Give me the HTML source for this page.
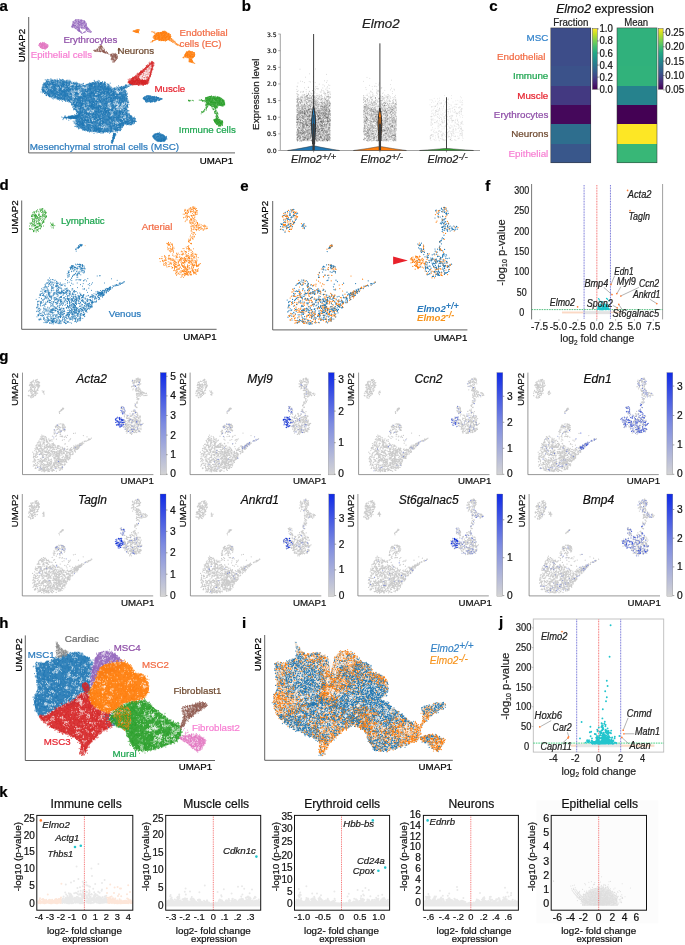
<!DOCTYPE html>
<html lang="en"><head><meta charset="utf-8"><title>Figure</title>
<style>
html,body{margin:0;padding:0;background:#fff;}
body{width:685px;height:945px;overflow:hidden;}
svg{display:block;font-family:"Liberation Sans", sans-serif;}
</style></head><body>
<svg width="685" height="945" viewBox="0 0 685 945">
<rect width="685" height="945" fill="#fff"/>
<g id="panel-a">
<text x="-0.40" y="11.10" font-size="15" font-weight="bold" stroke="#000" stroke-width="0.22">a</text>
<path d="M28.70,17.00V152.90H235.00" fill="none" stroke="#3a3a3a" stroke-width="0.8"/>
<text x="25.30" y="45.60" font-size="9.7" text-anchor="middle" stroke="#000" stroke-width="0.22" transform="rotate(-90 25.30 45.60)">UMAP2</text>
<text x="233.20" y="163.80" font-size="9.7" text-anchor="end" stroke="#000" stroke-width="0.22">UMAP1</text>
<path d="M41.5,87.5C41.9,85.9 43.8,83.8 45.0,82.5C46.2,81.2 46.3,80.2 49.0,79.8C51.7,79.4 57.2,79.8 61.3,80.2C65.4,80.6 69.8,81.1 73.6,81.9C77.4,82.7 81.2,84.8 84.1,84.9C87.0,85.0 88.5,82.9 91.1,82.4C93.7,81.9 97.0,81.4 99.9,81.7C102.8,82.0 106.3,83.5 108.6,84.5C110.9,85.5 111.6,87.7 113.5,88.0C115.4,88.3 118.1,86.4 120.0,86.6C121.9,86.8 123.8,87.4 125.0,89.0C126.2,90.6 126.4,93.9 127.0,96.0C127.6,98.1 128.7,99.5 128.8,101.5C128.9,103.5 127.5,106.1 127.5,108.0C127.5,109.9 127.1,111.0 128.5,113.0C129.9,115.0 135.4,117.9 135.8,119.9C136.2,121.9 132.8,124.2 131.0,125.0C129.2,125.8 126.5,123.9 125.0,124.5C123.5,125.1 122.8,127.5 122.0,128.5C121.2,129.5 122.2,129.8 120.0,130.4C117.8,131.1 112.2,132.1 108.6,132.4C104.9,132.7 101.6,132.6 98.1,132.4C94.6,132.2 91.1,132.2 87.6,131.3C84.1,130.4 79.3,128.5 77.1,126.9C74.9,125.3 74.8,123.1 74.5,121.7C74.2,120.3 77.5,119.5 75.5,118.8C73.5,118.1 62.1,118.4 62.2,117.8C62.3,117.2 73.5,115.9 76.0,115.2C78.5,114.5 77.5,115.0 77.1,113.8C76.7,112.5 74.8,109.6 73.6,107.7C72.4,105.8 72.1,103.7 70.1,102.4C68.0,101.1 64.5,100.7 61.3,99.8C58.1,98.9 53.9,98.5 50.8,97.2C47.7,95.9 44.4,93.5 42.9,91.9C41.4,90.3 41.1,89.1 41.5,87.5Z" fill="#1f77b4" opacity="0.86"/>
<path transform="scale(0.2)" d="M211 447zm4 5zm-3 2zm3 2zm2 2zm-4 6zm11 1zm1 1zm-1 2zm6-2zm1 2zm1 3zm3 4zm6 1zm1 0zm-1 1zm3-1zm1 0zm3-3zm-2-4zm-6-1zm0-1zm-3-9zm-7 4zm-4 0zm1-7zm3-5zm0-5zm0-5zm4 0zm2-4zm-1-3zm1-2zm-3-1zm-2 1zm-3-2zm-2 1zm1 1zm-1-3zm4-3zm6 0zm2 3zm5 0zm0 1zm1 0zm0 2zm-3 1zm2 3zm6-2zm3 1zm6-2zm2 0zm-4 7zm1 2zm-6 1zm-1-1zm-7 1zm-3 6zm-2 1zm5 3zm4 8zm6 0zm4-1zm2 0zm1 3zm3 2zm-3 3zm-4 3zm-3 4zm-1 2zm-4 6zm1 1zm8 4zm3 2zm4-7zm-1-3zm-2 0zm-1-4zm8-6zm3 1zm-1 2zm5-3zm0-2zm-1-2zm2-2zm2 2zm5 5zm6-2zm1 2zm0 3zm2 2zm2-3zm5 4zm-3 3zm-3 2zm-2-1zm-2 3zm-1 1zm3 4zm3 0zm0 1zm0 4zm0 3zm3 1zm0-5zm6-1zm3-5zm1-1zm2 7zm-1 4zm0 1zm-1 0zm-1 1zm-4 0zm-11-4zm-2-3zm-8 3zm0-9zm-2-3zm-2-1zm2-2zm0-1zm-2 6zm-8-4zm-1-19zm0-2zm4 0zm1-3zm3-1zm-2-3zm1-3zm-4 2zm-1-1zm-5-2zm-1-2zm0-1zm7-3zm0-5zm1-1zm-1-3zm-1-1zm-2-6zm-1-4zm-4-1zm0-1zm1-3zm-1-2zm-1-3zm1-2zm1 0zm2 0zm1 3zm3-6zm-4-2zm-1 1zm0-3zm-4 3zm-2 2zm-2 0zm0-1zm0 3zm-2 3zm-3 0zm0 3zm0 7zm-6 2zm-3-1zm-1-4zm-3-2zm-3 1zm-4-7zm-3 0zm-4 4zm0 5zm-6 2zm0 8zm-3 3zm-3-3zm7 12zm-1 2zm1 4zm5-3zm-1-6zm7-4zm15-16zm-6-9zm2-5zm0-2zm7-1zm0-3zm2 6zm-16-5zm35 1zm2-3zm2 2zm3 0zm6 7zm-1 2zm3-3zm4 0zm-1 5zm-3 3zm-6 9zm-2 3zm-3-3zm-2-3zm1-1zm8 11zm2 7zm-2 3zm3 1zm1 1zm5-3zm4-1zm1-1zm3 0zm3-2zm0-4zm5 0zm1 1zm1-3zm-2-3zm-3-1zm-1 1zm-1-3zm0-2zm-4-3zm-1-2zm4 0zm0-2zm7 1zm3 1zm1 4zm2 0zm0 2zm5 3zm0 2zm-2 0zm3-4zm2-3zm3 1zm-1 2zm4-4zm-1-3zm-4-3zm2-2zm1 0zm3-2zm3 4zm2 0zm1-1zm4 3zm5-1zm3 1zm2 3zm3 5zm-7 0zm0 2zm-4 0zm-3 3zm-2-2zm0-2zm-2-1zm-3-1zm0 3zm-2 2zm2 7zm-3 3zm4 2zm2-1zm3 4zm2-2zm2 0zm1 2zm2 0zm0-1zm-4 2zm-1 2zm0 6zm3 4zm0 1zm-3 0zm0 2zm-5-3zm-4 2zm-3 5zm-5 0zm0-2zm2-2zm0-3zm-4 3zm-1-1zm-1-1zm-5 1zm-2-1zm-2 0zm-4-6zm1-2zm-3 0zm-3 0zm-3-1zm-3-3zm-1 6zm6 2zm0 4zm-1 1zm-3 0zm0 3zm-3-3zm-2 4zm-4-2zm-1-1zm-2-1zm-2 0zm5-4zm-5-4zm-3-9zm13-7zm5 0zm-1-5zm-2-3zm-1 0zm15-3zm1-11zm4-2zm4-3zm-2-2zm-1 0zm-5 1zm-1-1zm0-2zm-3-1zm0-4zm6 2zm-7 6zm2 2zm14 4zm0 6zm1 0zm6-14zm17 5zm2-1zm3 1zm5-1zm2 5zm1 4zm1 1zm4 7zm-4 4zm-4 2zm-6-1zm0 6zm1 1zm-8 1zm-1-5zm-7 13zm0 1zm-1 3zm-1 2zm-4-3zm-1 1zm1-4zm-6 2zm-4 2zm-4 0zm-5-8zm-2 0zm-2 1zm0-2zm13-8zm-2 30zm-5 2zm2 4zm-2 2zm-1 2zm1 4zm4 2zm2 4zm7 2zm3 1zm2 2zm0 4zm-3 3zm-1 0zm0 2zm-1 1zm0 2zm1 2zm-5-1zm2-4zm-2-1zm2-2zm-5 3zm16-3zm6-5zm2 4zm5 5zm0 4zm1 0zm0 5zm4 1zm2 1zm1-2zm1 1zm1 2zm0-6zm-2-5zm2-5zm5 0zm1 4zm3 4zm-2 1zm0 2zm1 3zm4-1zm5 0zm4 0zm0 4zm0 1zm-7 0zm-1 2zm-1 2zm1 1zm2 1zm2 4zm4 2zm0 1zm1 2zm2 0zm2 2zm-2 4zm0 4zm1 2zm-1 3zm-3 2zm-3 2zm-1-5zm8 6zm2-3zm4-2zm5-3zm2 3zm3-1zm6 2zm0 1zm3-2zm-1-4zm2-4zm-2-4zm3-2zm3-1zm1 0zm-1-1zm0-1zm3 0zm2-4zm-1-3zm-3 0zm-3 2zm0 1zm-1-2zm-2-5zm4-1zm1-3zm4-1zm-1-2zm1-3zm-1-5zm-2-4zm2-3zm2-3zm3 3zm6 1zm5 1zm0 2zm-1 1zm2 1zm2-4zm2-1zm1 1zm0-9zm-5-3zm-4-1zm0 2zm1 3zm-4-5zm-1 0zm-3 0zm0-1zm0-6zm1-5zm3-2zm1-3zm3 2zm1 3zm-2 6zm6 1zm4-2zm-1-2zm5 3zm3 3zm6 2zm3-1zm1 0zm3 1zm1 1zm-1 5zm-1 4zm-2 3zm2 1zm5 1zm0-6zm4-3zm3 1zm0 2zm2 0zm-1 5zm-1 2zm-4 5zm4 4zm-1 2zm0 3zm3 1zm-1 2zm0 2zm-2 1zm-2 5zm-2 1zm-2-3zm-2 2zm-3 0zm0-5zm-3-2zm0-2zm-1 0zm0-4zm0-1zm-2 0zm-2-1zm1-2zm-3 0zm3-3zm-1 8zm-4 1zm-4 2zm-1 5zm-1 4zm5 1zm2 6zm3-1zm3 2zm4 0zm4 0zm0-1zm1 1zm0 2zm1 1zm2 0zm1 3zm-4 1zm-5-1zm-4-1zm-4 3zm-1-1zm0 3zm1 3zm6 2zm3-1zm6 6zm3-2zm0-1zm4 2zm2-2zm3-1zm2-3zm0-1zm3 0zm1-3zm-4-1zm-3-1zm-2 1zm-1-3zm-2-1zm3-1zm-4-3zm-2-2zm3-4zm2-1zm4-3zm1 0zm-1-6zm-4-5zm-9 0zm15-9zm1-5zm2-3zm2 4zm2 3zm7 0zm5 4zm-3 4zm-1 1zm-5 0zm-1-2zm-4 0zm1 3zm3 8zm1 1zm-3 0zm3 6zm4-4zm1 1zm3 6zm4 0zm2-4zm0-1zm-2-2zm5 2zm2-2zm0-4zm-1 0zm2-4zm4 1zm-4-6zm0-2zm-3 1zm-2-5zm2-2zm0-3zm3 2zm0 1zm0 1zm3-1zm-1-8zm0-7zm3-7zm0-5zm1-4zm-1-2zm-4-3zm-1-3zm6 0zm3 1zm2 6zm3 2zm2 4zm5-2zm-3-4zm0-3zm-2-2zm4-1zm0-3zm6 1zm1 2zm-2 3zm3 4zm5-4zm2 0zm2 1zm0 1zm1-5zm2-4zm0-3zm4 2zm1 3zm-2 5zm-1 0zm2 2zm2 4zm1 0zm2-3zm1 1zm2 1zm1 1zm0 4zm3 2zm-2 2zm-2 0zm-6 2zm-2-2zm-4-2zm1-5zm12-7zm1-5zm2-2zm-2-4zm-2-1zm-4-7zm-6 2zm-1 1zm-2 0zm-2 0zm0 1zm0-5zm-2 0zm-4-1zm-3 3zm0 2zm-2-1zm0-1zm-5 0zm-5 1zm-2-1zm-5-1zm2-4zm0-3zm-2-6zm-2-2zm-2 0zm-2-3zm-2-3zm-2-1zm-2 2zm1 1zm-1 2zm3 1zm0 5zm-2 1zm2 2zm3 1zm0-4zm-12 0zm0-2zm1-3zm-6 6zm1 5zm-6 1zm4 6zm4 0zm2 1zm3 3zm2-1zm1 1zm4 1zm0-4zm9 2zm1 1zm4 2zm3-12zm2-5zm1-2zm2 3zm3-5zm0-2zm2-1zm-1-4zm3-2zm7 0zm3 2zm1 5zm-2 2zm4 0zm3 2zm-1-7zm7 13zm5 3zm5-1zm2 1zm-2 6zm-2 5zm5 1zm1 1zm-3 5zm-1 3zm-2 0zm-1-2zm4 5zm2 0zm-4 2zm-3 2zm7 3zm1 1zm-1 2zm1 2zm6-2zm2 0zm4-3zm2 0zm1 1zm3-1zm-1-3zm-1-4zm0-2zm-4-2zm-3 1zm0-5zm3-1zm-3-3zm5-2zm3 4zm0 2zm1 1zm6 4zm-2 6zm3 2zm3 0zm1-4zm1-1zm3-2zm0-2zm-3-1zm1-2zm-1-6zm-3 0zm-1 0zm3-3zm0-3zm1 0zm-3-1zm-2 0zm-2 1zm-6-3zm-3 2zm1-6zm-1-1zm4 0zm-13 2zm1 5zm-1 4zm-1 14zm3 6zm-7 1zm-8 8zm-7 6zm1 1zm2 5zm1 1zm0 1zm-4 2zm-2-2zm-4-4zm1-4zm-5 3zm-1-1zm-1-3zm-4 3zm-5 2zm2 5zm-2 1zm0 1zm1 0zm2 1zm-9-5zm-3-5zm-4-1zm-3-2zm0-4zm-2 0zm2-2zm14-1zm0 7zm-8 13zm-3 2zm-3 0zm5 5zm-1 3zm3 5zm1 3zm0 3zm-2 2zm5-2zm4-1zm4 2zm-1 3zm-1 3zm-2 4zm4 0zm3-1zm2-3zm4-4zm4-2zm3 0zm5 1zm5 7zm-3 4zm-5 0zm-3-2zm-3 9zm4 4zm1 0zm-3 4zm-1 2zm2 7zm5 2zm1 1zm2 1zm3 0zm0 3zm6 2zm1 1zm1 2zm-1 1zm1 1zm5-3zm1-1zm5 4zm2 1zm1-1zm-1-6zm3-5zm0-4zm5 1zm3 1zm2 0zm2 1zm1 1zm2-1zm2-1zm4 1zm1-4zm4 0zm4 1zm3-2zm1 0zm3 1zm2 2zm0 1zm-2 2zm-2-1zm7-1zm0-6zm3-4zm1-1zm0-2zm-4 2zm-5-3zm-1 1zm-8-4zm-1-2zm4-3zm-3-3zm-1 1zm-6 4zm-4 3zm-2-1zm-4 4zm-6 2zm-2 4zm-5-8zm0-5zm-3-5zm1-1zm-3 2zm-3 1zm-2 3zm4 1zm0 3zm0 7zm1 1zm0 3zm-11-3zm-5 3zm-2-2zm-1 0zm-3 5zm4 2zm11 4zm-10 11zm-4-1zm-3 7zm-5-1zm-5 0zm0 7zm-1 2zm0 2zm2 0zm2-2zm-3 5zm2 3zm-1 2zm4-2zm4-1zm1 1zm0-4zm-1-1zm2-1zm4 12zm-2 2zm1 3zm-6 2zm-1 0zm1 4zm-2 0zm-4 3zm5 4zm-6 7zm-7 0zm-8 0zm-3 0zm-4 0zm-4 2zm-2 2zm0 2zm1 0zm2 0zm3 2zm1 6zm2 1zm3 1zm3 5zm5 0zm3 3zm1 5zm-2 1zm1 6zm7-2zm0-1zm3 2zm1 2zm2-9zm3 0zm3-5zm-2-3zm-4-1zm3-5zm-2-3zm-2-4zm2-1zm-5 6zm-1 0zm-7-3zm-7 0zm-2-2zm-5-12zm0-2zm4-1zm-7-2zm-6-1zm-3 2zm-4 2zm-4-4zm-3-3zm0-3zm4 1zm3-3zm3 4zm2 0zm-3 2zm-9 6zm-5 0zm-3-1zm-4-3zm-8 3zm-8-6zm-2 3zm-1-6zm-8 1zm0-5zm0-4zm7-1zm3 0zm0 1zm-3-5zm4-5zm0-2zm2-1zm3-1zm4-2zm1 1zm-1 3zm-1 4zm0 1zm-4-2zm4 8zm4-2zm3-1zm1-3zm2-2zm2-4zm-5-2zm4-4zm-3-3zm-2-1zm-2-4zm-3 2zm-2 5zm2 1zm-10-1zm-3-2zm-1 2zm-1 4zm-4 2zm-2 3zm0 2zm-2 1zm-1 1zm-4 1zm-1 0zm-1-2zm2-4zm-3-1zm0-5zm7-2zm6-1zm-2-5zm-1-1zm-1 0zm3-3zm-1-1zm-1-2zm0-3zm-2 0zm0-2zm-2-4zm-4-1zm-2 2zm-1-4zm-7 2zm1 4zm-5 6zm3 3zm-4 3zm0 3zm2 3zm-6 5zm-3-3zm-5 4zm-1 2zm-3 4zm-2 4zm-1 3zm-1 3zm2 3zm2-3zm1 0zm1 0zm-1-3zm0-1zm5 2zm2 3zm-1 4zm-1 1zm-3-2zm5 5zm5-2zm0-4zm0-2zm3 1zm1 2zm0-4zm-6-3zm-1-1zm0-8zm13-2zm3 10zm-1 3zm0 3zm1 1zm-3 1zm-1 2zm-2 8zm-3 0zm-2-1zm-1 5zm2 5zm2 0zm3 2zm-1 1zm4 6zm4-8zm5 5zm3-1zm0-4zm0-5zm0-5zm-3-2zm0-2zm-3 1zm1 4zm-2 1zm-3-1zm4-11zm2-1zm24 2zm6-2zm2-1zm2-1zm5-1zm3 2zm3 0zm0-1zm-2-3zm-1-4zm-3 2zm8-2zm0-2zm1 5zm2 1zm3-6zm4-1zm4-1zm5-5zm-8-6zm-2-2zm-2-4zm-3-5zm4-1zm3-1zm0 2zm3-5zm1-2zm-4 1zm-7-5zm-3 0zm0 1zm-3-1zm0 4zm1 1zm-2 6zm-4-1zm-1-2zm-3-2zm1-2zm-2-1zm-4 0zm-5-2zm-1 1zm-2 4zm-3-3zm-1 0zm0-5zm2-6zm-4-3zm7-6zm3-2zm1-1zm-2-1zm7 2zm1 1zm2 2zm0 3zm1 0zm-3 0zm0 2zm-4 0zm-4-2zm9 8zm0 1zm3-6zm4-7zm2 0zm1-2zm-3-3zm1-2zm-2-4zm-4 4zm0 1zm13 2zm2 2zm1-1zm3 0zm-2-5zm-3-7zm-2-2zm3-2zm3-14zm16 4zm1-1zm0-1zm11 3zm0 1zm-1 6zm8-9zm1-2zm2 1zm2-3zm3 1zm1 2zm-3 2zm3-6zm5 2zm1-2zm-1-3zm6 4zm3 2zm4-1zm4-1zm-3-3zm0-4zm2-1zm3-5zm3-3zm3 3zm-3 3zm-1 5zm0 1zm6 7zm-2 2zm-2 0zm2 8zm3 2zm-1 4zm-3-2zm-2 0zm-5 0zm-2-5zm-4 1zm-5-1zm8-4zm-1-2zm-14 0zm-11-12zm-6 6zm24-12zm1-3zm0-1zm5 1zm1 0zm2-1zm-1-5zm1-2zm-2-1zm6 2zm1-4zm4 3zm4 2zm4 3zm4 1zm5 1zm0 3zm-1 0zm-6 1zm2 7zm5 0zm0 1zm3 1zm3-2zm1-4zm-1-4zm3-1zm1-2zm3 2zm4 3zm1 5zm2 0zm1 5zm-4 6zm-3-3zm-5 0zm-4 0zm-1 3zm-4-1zm-3-2zm-3-2zm-2 3zm-1 9zm4 0zm7 1zm1-3zm-1-1zm6 5zm3-1zm-6 7zm-4-2zm-1 5zm0 1zm-7 0zm-3 1zm-1-2zm1-3zm-20 3zm0 1zm-4 0zm-1 6zm1 6zm-8 0zm0-3zm-20-3zm-3-1zm-4 0zm0 2zm-3 0zm-1 4zm-2-1zm-1 0zm1 4zm0 4zm-3 2zm-1-1zm0 4zm-1 0zm-1 1zm-6-4zm2-5zm4 0zm-2-4zm1-8zm7-2zm0-2zm7 14zm-1 1zm3 2zm1-1zm1-1zm0 6zm1 3zm-1 2zm3 0zm1 1zm3 5zm1 3zm-4 1zm-1 0zm0-3zm7 6zm-11 6zm-4-5zm-5-1zm1-4zm0-1zm1 0zm-1-2zm-2-2zm-1 1zm2-3zm4 2zm0-5zm0-1zm2-3zm-6 25zm-4-1zm-2-1zm13 8zm-1 10zm-2 1zm-2 4zm4 2zm0 3zm3 0zm5-2zm2 6zm-2 2zm-5 1zm-8 0zm0-7zm-5-1zm-4-3zm-12-9zm-1-7zm-3-1zm-5-8zm-17-3zm-5 3zm-1 3zm-2-1zm-5-20zm-6 0zm-2-12zm10-13zm-25 22zm-6-2zm-2-2zm-1 2zm-5-2zm-3-3zm-4-2zm-1 3zm-2-2zm-1-3zm-2-3zm-4 2zm-2 0zm-4 0zm4-4zm-3-2zm6-11zm3-1zm3 2zm1 2zm4-1zm-4 6zm4 3zm3 0zm6 0zm0-3zm1-1zm-1 9zm2 1zm-3 4zm-4 11zm-1 0zm-1 0zm2 2zm3 3zm3 2zm1-4zm-1 9zm-2 3zm-2 2zm-1 2zm-2-6zm-1-1zm2-2zm-6 2zm-3 3zm-2 2zm-4 8zm0 2zm-2-1zm-2-3zm-2 2zm-2-1zm-4 4zm-3 5zm-3-3zm-1-3zm-1-4zm2-3zm-1-2zm1-3zm0-2zm3 0zm-2-3zm1-3zm0-3zm1-2zm4-8zm10 0zm-1 5zm1 3zm-3 0zm-2 5zm0 1zm-2 4zm-3-2zm-13-3zm-5 2zm-1-7zm-1-4zm-3-2zm9 3zm2 18zm-2 6zm1 2zm-2 3zm-2-2zm-1-3zm-5-1zm-4 8zm1 1zm-3 1zm-2-1zm1-1zm-5 5zm-1 1zm-6-1zm-4 0zm0 2zm-1 3zm-3-2zm-1-2zm2-1zm-2-2zm-1 0zm0 1zm1-5zm-6 0zm-4-1zm-2 9zm-8-3zm-19 2zm61 6zm6-4zm0-2zm0-1zm-2 1zm5-2zm5-1zm1-1zm3 4zm2 9zm4-1zm4-3zm0-2zm4 2zm4 1zm-2 4zm-1 0zm5 1zm3 2zm4 7zm6 2zm5 4zm3 9zm3 3zm2 7zm-2 1zm3 3zm1 4zm-3 0zm2 8zm3-1zm7-1zm2-3zm1 0zm0-2zm-5-2zm7-4zm10-5zm4 3zm1 3zm5 1zm0 5zm-2 1zm-1 2zm-2-3zm-5-1zm-3 9zm1 5zm-3 1zm-2 2zm-4-2zm-3-6zm-4 5zm-3 1zm-16-5zm-2 1zm-3-3zm0-2zm0-4zm6 3zm-9-10zm-3 1zm-5-3zm-3 2zm-2-6zm4-5zm2 1zm3-1zm2 1zm0-2zm2-2zm-5-3zm-2 0zm-2 0zm-1 0zm-2 1zm-3-3zm-2 1zm1-4zm-2-2zm-3-1zm-2 5zm-3 5zm-4 1zm-2-1zm0-2zm-2 0zm4-3zm2-6zm0-2zm1-2zm-2 0zm-2-3zm6 4zm6-4zm2 1zm7 2zm-1 3zm1 3zm1 0zm1 3zm2 0zm0 1zm1-3zm-11 9zm-4 0zm-5 4zm3 3zm-8 0zm-2 1zm0 1zm1 2zm-6 2zm16 5zm1 0zm0-3zm-19-21zm4-5zm-3-6zm-2 0zm-4 1zm-2 11zm1 2zm32-32zm8 0zm-4-7zm8-2zm3-21zm-2-13zm-24-12zm-4-3zm-7-3zm-4-2zm-3-2zm-5-2zm6-6zm3 2zm2-4zm2 0zm3-3zm6 3zm2 2zm1-5zm3-3zm-1-3zm-2-4zm-1-1zm-4-2zm-2-3zm3-3zm1 1zm2-4zm3 0zm1 1zm4-4zm-2-3zm-5 2zm-3 1zm-3-3zm4-2zm3-3zm2-1zm-2-3zm-3-3zm-3 1zm-2-2zm-3-3zm-4 0zm-1-2zm-1-1zm-1 2zm-3 1zm-2 3zm-3 1zm-2 0zm-1 2zm1 4zm6 0zm-1 4zm3 1zm1 0zm3-3zm-1-6zm2-1zm6 5zm2-2zm1-11zm1-1zm-2-1zm-3 0zm-4-4zm0-3zm2 0zm5-2zm3 0zm0-1zm-2 4zm4 5zm3-2zm9-5zm4-6zm0-5zm5-1zm4 1zm0 2zm1 1zm2 2zm0 1zm1-6zm-1-4zm0-8zm-1-1zm4 1zm6 0zm1-1zm-6-5zm9-3zm7 5zm0 1zm3 0zm3-2zm0-1zm3-2zm1 2zm3 1zm-2 4zm-2 0zm-2 2zm6 3zm1-4zm-3-10zm3-1zm3 0zm-1-5zm-3-1zm-3 0zm0 1zm-3 4zm-3-1zm17-4zm4 4zm2 1zm2 2zm-2-6zm-1-4zm6 0zm0 2zm2-4zm-2-1zm7 2zm0 1zm1 1zm-1 6zm4 3zm2-1zm1-5zm1-3zm0-1zm3 1zm0 1zm2 1zm1-1zm2 4zm0 1zm5-1zm1-3zm-1-1zm4 2zm1 1zm2 1zm4 0zm0 1zm5-1zm-2 6zm5 0zm1 4zm10 12zm7 5zm-7 13zm-2 2zm-33 10zm-4 1zm-1 0zm1 2zm5 2zm-7 4zm-2-1zm-4-1zm0 2zm1-4zm0-2zm-4-3zm-3-2zm-3 0zm0-2zm-3-6zm6-2zm1-2zm3 4zm5-2zm1-2zm1 0zm0 10zm-4 18zm1 3zm-9-3zm-1-3zm-5 4zm-2 2zm-5-2zm-4-7zm3-2zm2 0zm0 1zm5 0zm-2-6zm-1-1zm-5-3zm-4 0zm-1-2zm1-1zm-4 3zm-3 1zm0 2zm-3 0zm1-4zm0-2zm2 0zm0 2zm-8 3zm0 1zm-4 1zm6 4zm2 2zm-8 14zm-5-3zm-6 17zm1 1zm1 2zm-9-1zm-2-4zm2 10zm-4 2zm-4 1zm-25-12zm-4 0zm-2-3zm-1-2zm-1-2zm-2 0zm2-4zm0-2zm2-1zm-1-1zm2 4zm3-3zm-11-2zm-1 5zm-2 1zm1 1zm-3-1zm-1 2zm-3-2zm-3 0zm0-1zm0-1zm6-2zm-4 9zm-4-1zm11 4zm3 7zm0 1zm2-1zm0 5zm6 8zm1 2zm-25 3zm1 5zm-6-17zm-26-9zm11-15zm3-4zm-4-3zm-2 2zm-2-7zm-3 0zm-2-3zm1-4zm0-3zm-6-1zm-4 1zm-4 3zm-1-2zm6 4zm1 4zm2-1zm2 4zm-4 3zm-3-1zm-3-4zm-3-2zm-2-1zm-13-6zm-1 2zm-3-5zm-37-10zm-6 0zm-1 1zm-4-5zm0-1zm89 22zm3-2zm3-6zm1 0zm2 2zm1 1zm3-2zm1 4zm3 3zm-2 3zm3 3zm-1 2zm-2 0zm-1 0zm1 1zm-2 1zm-1 0zm-4-5zm14 4zm3-1zm1-1zm0-3zm-1-2zm1-10zm2-3zm2 2zm4-2zm1 4zm-8-7zm-1-3zm-2 0zm1-4zm6 0zm4 2zm2 0zm1 1zm-1-5zm6-1zm-1-4zm2-1zm4-1zm-6-6zm-1-3zm-2-1zm2-5zm-3-1zm6-1zm1 1zm2 2zm-1 2zm3 1zm1-3zm4 0zm-1-3zm1-5zm0-2zm5 0zm-10 3zm-3-7zm-5 0zm-1-1zm-2 3zm-3-3zm-2 3zm-1 4zm-4 3zm-1 4zm-1 3zm-4 2zm-3 3zm-3 4zm1 2zm0 1zm1 2zm2-1zm1 0zm1 0zm4-2zm2 3zm8-4zm-6-7zm10-13zm-14-4zm3-6zm32 22zm3-1zm-1 4zm1 2zm2 1zm2 0zm1-1zm-5 5zm-3 2zm3 2zm-7-4zm2-4zm-1-1zm8-11zm11 3zm15 16zm8-1zm0-3zm5-1zm2 5zm1 0zm4 1zm1 0zm2 1zm2-1zm1 2zm0-5zm6-3zm2-1zm6-5zm0-2zm2-3zm2 5zm-2 1zm5-4zm-10-8zm5 20zm3 1zm2 3zm-4 3zm-4 3zm-5 2zm2 6zm-9-8zm-3 2zm-1 0zm-5-3zm-9-4zm-4 5zm-1 4zm0 1zm3-1zm-7 0zm-1 0zm-3-2zm0-1zm-15 13zm-6 0zm-1 4zm0 1zm-47-18zm-7-7zm-3-1zm-3 1zm-2 4zm1 11zm102-27zm3 2zm1 5zm56 96zm2 3zm-3 5zm30 47zm24 15zm4 3zm0 2zm3 3zm4 0zm-1 4zm-4 5zm-2 3zm6-1zm3-1zm2-1zm1 2zm3-3zm4-3zm-1-4zm3 0zm-6-1zm-1-4zm0-1zm0-4zm4 2zm1-4zm2-10zm-4 0zm0-2zm-3-6zm-4 0zm0-2zm-2-1zm0-2zm-3 1zm-1 6zm-1 0zm-1 4zm4 1zm0 2zm-3 4zm-2 4zm3 3zm-6 11zm-3 4zm3 19zm4-1zm5 6zm4 0zm2 2zm5-1zm5 3zm2 2zm-2 1zm2-6zm7 3zm4-3zm5-1zm1-8zm-3-3zm0-2zm-1 0zm-5 0zm-2 3zm-5 0zm0 3zm-3-1zm-2 1zm-6 2zm-5-1zm8-11zm3 0zm4-6zm4 0zm1 1zm0 1zm-1 2zm4-2zm3 0zm0-1zm1 3zm4-4zm-4-4zm-1-1zm-1 0zm1-2zm2 0zm4-1zm1-2zm1-1zm3-3zm-1-1zm-1-3zm1-3zm2 1zm-3-3zm-3 0zm-4-2zm0-1zm-2 3zm-4 0zm-2-2zm-1-6zm-3-4zm1-3zm2-1zm4 3zm5-1zm5 0zm0-1zm2-1zm-2-2zm3-2zm4 4zm4 0zm-1 4zm3 4zm-3 3zm-1-1zm0 4zm4-1zm0 3zm2 1zm2 3zm3-2zm0 5zm0 2zm2 0zm2-2zm3 0zm3 1zm4-1zm-8 4zm2 4zm-1 3zm3 2zm3-1zm0-1zm4 0zm4 4zm4-3zm-3-4zm2-3zm6 1zm2-4zm2 0zm3-1zm1-1zm6 1zm3-4zm-2-7zm-6-6zm-6-4zm-1-4zm-5-1zm-4 1zm-3-1zm1-3zm2-1zm4-1zm-11-1zm-2-1zm-2 3zm2 1zm-7-1zm-3-1zm-4-2zm-4 2zm0 1zm1 2zm-1 1zm-1 0zm1 5zm0 1zm1 2zm2-3zm2 1zm7 7zm1 3zm-3 3zm-10 8zm-3 0zm-3 2zm-2 6zm0 3zm-4 0zm-2-2zm-6-7zm0-5zm-3 1zm-2 2zm-2-2zm0 14zm-4 0zm27 2zm9-5zm-1-3zm4 9zm16-23zm2 0zm-2-3zm0-1zm2-1zm-2-5zm5-2zm4 2zm-1 9zm5 0zm2 0zm-2 4zm-6 3zm9 8zm-1 3zm5-4zm2 0zm1 1zm-34-47zm-4 0zm0-1zm3-7zm2-5zm-12 8zm-8 4zm-3-2zm0-2zm1 0zm-3 3zm0 2zm-3 1zm-1-3zm-7 1zm0 4zm-2 0zm1 3zm-1 1zm1 4zm4 1zm-1 2zm-7-2zm-2-2zm-2 0zm-7 7zm2 3zm-7-4zm-5-10zm21-9zm0-3zm-2-3zm6 4zm13 8zm5 3zm-14-26zm5-3zm15-18zm-3-4zm4-4zm2 0zm1-1zm1 0zm5-2zm1 0zm-1 4zm-1 2zm4 0zm-1 3zm-2 4zm1 3zm2 0zm-1 7zm-2 0zm4-26zm0-2zm1-6zm-8-2zm-1-8zm4-1zm0-3zm3 1zm0 4zm-7-6zm1-5zm-1-2zm-2-2zm-1-2zm3-4zm1-5zm-7 3zm-2-5zm1-1zm4-7zm-6-10zm-2 0zm4-3zm-1-2zm-2-2zm-2 1zm1-5zm1-1zm-11 1zm-2 0zm-5 0zm0 1zm3 6zm1 1zm-1 3zm-1 3zm6 4zm-1 3zm1 1zm5 4zm0 7zm2 4zm-6 1zm-3 3zm-4-1zm1-5zm-2-2zm1-7zm9-12zm-1-7zm-1 37zm7 0zm1 3zm4 1zm0-3zm3 1zm-3 5zm9-9zm3 2zm-23 19zm10 12zm-44 142zm-2 0zm-13 2zm-1-2zm-2 2zm-13-7zm-14 6zm-1-1zm-4-5zm-7-1zm2-6zm-5-2zm0-2zm0-2zm-2 3zm0 2zm1 1zm-5 0zm-2-1zm-3 0zm-1-3zm0-5zm1 0zm-2-1zm5-4zm-1-4zm-3 0zm-5-2zm-1 0zm-2 0zm-2-2zm-2-1zm-4 6zm5 4zm3 1zm-2 7zm0 3zm-2 2zm-1 0zm-1 0zm-2 2zm-1-2zm-1-2zm4-1zm1-3zm7 2zm1 4zm2 6zm-2 1zm-5 0zm0-1zm-1 2zm0 3zm-1 1zm3 4zm3-1zm1-1zm10-1zm0-4zm5 1zm3 3zm-4 4zm-1 1zm11-3zm-16-13zm7-14zm-5-9zm-30 11zm1 5zm-1 4zm2 4zm0 1zm-2 0zm2 3zm1 1zm1 0zm0 2zm1 1zm2 2zm1-6zm1 0zm-3-3zm-6 7zm-4 1zm-2-3zm-2 0zm-1 2zm-1 1zm-3 0zm9-26zm0-2zm-46 3zm20-65z" stroke="#1f77b4" stroke-width="5" stroke-linecap="round" fill="none"/>
<path transform="scale(0.2)" d="M216 443zm6 2zm3-4zm8 2zm5 5zm-6 5zm0 4zm-3 12zm9 7zm16-1zm5 1zm8 8zm16-6zm8 4zm0-14zm3-10zm-9-4zm0-9zm6 2zm-7-11zm10-15zm0-6zm-10-1zm-2-4zm-2-11zm-7 1zm-3 7zm-9 1zm10 9zm29 9zm2 7zm3-13zm-7-19zm27 15zm2 5zm-2 8zm4 5zm6 8zm-7 4zm10 14zm8 6zm4 11zm-9 14zm-12-1zm1 11zm3 2zm29 1zm7 3zm7 4zm1 4zm-6 3zm-4 11zm-1 0zm21-9zm-6-14zm-1-6zm-8-11zm-8 7zm4-25zm1-6zm8-9zm-3-3zm-6-12zm5-6zm-3-6zm-10 12zm-3 9zm-15-17zm-3-8zm1-4zm-5-14zm28 8zm1-2zm27 12zm13 0zm3 3zm-2 6zm-6 5zm5 3zm-2 4zm7 3zm5-11zm17-1zm4-10zm32 0zm20-7zm17 7zm11-10zm14 9zm4 6zm5-6zm8 5zm5 6zm10 4zm6-1zm0 9zm-4 2zm-2 11zm-5 6zm-2 1zm-6-10zm-20 5zm-10 10zm-7-3zm-4 7zm6 9zm5-3zm-15 12zm-13 6zm-3 1zm-8-4zm1-8zm-9-4zm7-14zm2-3zm2 1zm3-7zm-13-4zm-13-10zm-18 11zm-10 4zm-2-2zm4 7zm-7 24zm8 15zm5 5zm0 6zm-4 10zm-13-1zm-1-4zm-1-1zm-6 9zm7 4zm1-1zm3 6zm-8 13zm-8-6zm-15 4zm-12 1zm16-16zm9-29zm10 3zm-10-15zm0-19zm-15-2zm9-13zm-11-24zm60 54zm1 27zm17-2zm11-4zm9 5zm9 22zm9 7zm10 2zm-4 14zm-11 2zm-6 4zm-9 11zm2 10zm5 2zm0 18zm-4 13zm10 8zm10 5zm1 1zm5-7zm3-8zm-11-11zm1-2zm-1-31zm25-8zm3 19zm16-9zm15-7zm9 9zm2 12zm-6 0zm12 13zm-4 10zm-2 10zm11 4zm6-1zm-2 12zm6 3zm11-11zm-5-23zm-7-5zm-5 9zm-26 6zm-9 2zm8 15zm-3 7zm6 5zm-22-1zm-1-11zm-13-3zm-7 25zm-38-5zm-24 3zm-2-7zm-3-4zm-3-5zm10 2zm-7-13zm2-8zm-4-2zm-2-5zm-4 1zm-5 0zm-5-1zm-11-1zm-5 2zm1 5zm2 0zm2 2zm3-30zm-2-3zm10 2zm8 5zm7-11zm3-7zm-5-3zm-12 4zm-6-4zm-10-5zm-5 6zm-10 4zm9 12zm-16 4zm-11 17zm-11-5zm-5 4zm3 10zm4 5zm2-2zm9 6zm-16-30zm2-24zm36-13zm29-28zm3 0zm5 5zm21 2zm1 4zm-5 28zm-9 17zm10 7zm-7 20zm-18 33zm94-46zm-8-61zm4-2zm-1-9zm-9-6zm15-14zm7 3zm2-4zm-4-11zm-8-6zm8-5zm-2-14zm12 3zm39-4zm6-2zm0-17zm8-2zm6 7zm6 2zm8-9zm-8-9zm-21-3zm-14-4zm-7-3zm-66 12zm-9 6zm20 53zm27 19zm22 0zm6-5zm-5-4zm15-3zm15-11zm17 9zm3-5zm15-12zm-9-12zm-18 40zm8 10zm11 16zm-3 4zm-6 4zm-6-5zm2 13zm-10 1zm-6 7zm4 8zm1 7zm6-14zm10 1zm4 0zm1 9zm12 6zm8 5zm3 9zm3 11zm-5 6zm19-11zm2-16zm-22-17zm-5-3zm3-5zm6 3zm-10 8zm-23 22zm-28-50zm3-7zm-4-4zm5-2zm9 6zm-29 4zm-3-3zm-231 40zm-33-108zm-33-21zm-31-21zm-20-9zm-4 2zm20-28z" stroke="#fff" stroke-width="3.5" stroke-linecap="round" fill="none" opacity="0.7"/>
<path transform="scale(0.2)" d="M220 463zm3 0zm6-10zm-2-6zm-1-2zm-1-1zm11 7zm10-10zm5 1zm4 0zm-2-7zm1-3zm2-3zm3-1zm-5-2zm-5 5zm-7 0zm-4-3zm4-13zm10-4zm-3-6zm-6-4zm-13 13zm33 33zm21-9zm6 0zm1 2zm2-1zm-5 4zm1 9zm13-16zm10 4zm4 0zm4 1zm-2 3zm-5 3zm-1-2zm-1 0zm-15-26zm-1-13zm9 2zm4 2zm4-7zm39 12zm1 1zm2 4zm-1 2zm3 1zm0 1zm2 0zm-1-2zm-2 4zm-2 2zm-3 0zm-1 6zm5 3zm1 1zm5 15zm-2 6zm3 2zm-2 2zm-5-3zm-9 4zm-1 10zm6 5zm5 0zm6-1zm4 0zm1 3zm0 3zm-2 0zm-2 0zm7-1zm1 3zm2 1zm-6 4zm2 6zm-9 9zm-1 1zm-2-1zm-1 2zm-1 2zm0-7zm7 5zm1 6zm-1 2zm-3 0zm23 25zm-3 3zm7-1zm1-3zm4-2zm0 7zm-1 1zm-4 4zm0 3zm7-2zm23-20zm5-1zm3 11zm5-2zm2 3zm-1 3zm7 5zm-1 5zm2 3zm2 0zm1-2zm3 1zm1-1zm2 0zm4 3zm2 2zm0 2zm3-1zm6-1zm0 3zm-1-7zm0-4zm1-2zm-4 0zm-2-2zm-6 1zm0 2zm-8 9zm-1 0zm-6-23zm5-4zm3-10zm1-4zm-8 2zm6-11zm-1-1zm-16 4zm-25-35zm-1-2zm-3 1zm1-4zm2-2zm3-1zm2 0zm2-2zm-5-1zm-1-1zm-5-3zm0-2zm1 0zm-2-3zm-1-1zm-1 3zm-3-2zm-2-4zm-3 0zm-4 1zm-4 1zm-5 0zm-1-3zm4-3zm-2-2zm-7 9zm5 3zm2 5zm1 2zm-5 2zm-4-1zm-1 1zm-1 0zm8 5zm3 1zm4 5zm6 5zm4 3zm-1-13zm16-1zm1 1zm6-12zm-2-2zm-5-7zm-4 0zm0 2zm-3-4zm-1-2zm-1 0zm-2 3zm9-6zm7-10zm6-4zm2 5zm4 0zm2-2zm-2-1zm0-1zm4 6zm2 0zm2-1zm2-1zm3 1zm0 1zm-1 1zm4-2zm-3-6zm0-3zm8 2zm2 5zm-2-12zm-7 24zm-12-5zm-29-20zm-3 1zm2-5zm1-3zm4 1zm-17 7zm-2 0zm-3 0zm-7-4zm-2 0zm-2 1zm-3-9zm4-4zm-6-2zm107 78zm10 1zm4 0zm-1 7zm2 1zm5 0zm1-7zm0-16zm-7 1zm10-9zm8 4zm-6-16zm21 25zm11 2zm5-3zm-2 12zm11-3zm9 29zm0 3zm0 2zm1 0zm-3 1zm-3 2zm0 4zm1 5zm-2 0zm3 3zm3 3zm1 0zm3 1zm3-3zm2 1zm1 0zm-1 4zm0 1zm-1 1zm-1-1zm-2 2zm-1-12zm0-4zm-3-3zm9 0zm-2-10zm14 4zm3-1zm5-1zm0-1zm3 2zm-1-5zm0-2zm-1-5zm-4 2zm-5 2zm9-9zm6 2zm2-2zm-2-3zm4 7zm-5 1zm4 8zm0 3zm1 3zm2 1zm0 1zm-1 1zm-4 0zm0-2zm-9 2zm0 1zm8 12zm1 1zm1-1zm1-2zm3 0zm0 1zm1 1zm0 2zm2-1zm-2-4zm2-3zm-2-1zm4-1zm1 2zm0-5zm-1-2zm5-2zm11 2zm1-2zm1 1zm2-2zm-1-1zm-1-2zm4 4zm2 2zm1 1zm3 0zm1 1zm-1-5zm2-1zm-1-4zm6 1zm4 0zm1 0zm1-1zm4 3zm2 1zm-6 3zm-1-1zm2 3zm-5 7zm-3-2zm-4 6zm-8 2zm-1 3zm-3 2zm0 1zm-3-2zm-1-2zm0-3zm-3 1zm-1 0zm0-4zm3-2zm1-2zm7 0zm1 2zm-3 4zm-13 7zm-3-4zm-7 7zm-2 3zm-4-1zm0-8zm-4-1zm-8 8zm-4 4zm-2 9zm-4 2zm1 3zm3 4zm-3 3zm-3 1zm0 2zm-1 3zm-2 2zm-1-1zm8-3zm-7-8zm-1-5zm1-3zm-3-3zm-5 3zm-36-24zm-3 4zm0-13zm-4 0zm-3-3zm-1 0zm-2-3zm2-1zm3-2zm-7 4zm-2 2zm0-7zm-8 9zm-20 26zm-1 2zm0 2zm-1 1zm-1 0zm4 1zm-1 3zm-3 33zm1 3zm-3 5zm0 3zm1 1zm-2 0zm5-3zm8 2zm7-5zm13 9zm5-5zm8-4zm-1-11zm2 37zm5 3zm7 2zm3 4zm-1 1zm-1 2zm-4 0zm0 1zm2 4zm-2 3zm-3 6zm-4-12zm-1 0zm-2-6zm-7 3zm-4-1zm29-3zm6 0zm3-1zm3 5zm4-5zm-12-5zm-5-1zm1-4zm3 18zm2 2zm24-34zm-3-3zm14 10zm3 2zm0-7zm7 4zm4-1zm4 0zm4 1zm1 1zm-2 2zm-3 1zm3 5zm4-5zm10-3zm16-7zm-3-9zm-1 0zm-2-4zm8-4zm0-1zm3 1zm1-3zm-1-1zm-1-4zm6 3zm1-2zm-1 6zm-1 3zm2 7zm-2 2zm5 1zm-29-10zm6-12zm17-14zm-4-17zm-5 2zm-9 0zm-4-1zm-1-1zm1-2zm1 0zm-9 2zm-2-42zm0-7zm-14-22zm1-1zm1-12zm5 1zm1-3zm-1-1zm1-2zm0-1zm1 0zm1 1zm1 3zm3 0zm1 1zm0 1zm-1 3zm-3 0zm6-8zm1-3zm2 1zm4-4zm0-3zm3 7zm7-1zm3-4zm2-4zm-3-4zm-2-2zm-16 0zm-10-3zm-4-1zm2 8zm0 4zm-2 3zm-1 2zm3 2zm1-1zm3-6zm4 4zm-15-1zm-2 1zm-35-28zm-7-1zm0-1zm-1 0zm3-4zm101 84zm-57 101zm-2 11zm-119-21zm-10 10zm-19 3z" stroke="#fff" stroke-width="4" stroke-linecap="round" fill="none" opacity="0.72"/>
<path transform="scale(0.2)" d="M204 445zm4-2zm0-7zm1-2zm2-3zm3-3zm15-21zm12-5zm6 1zm1-3zm5 0zm6-5zm9 5zm5-2zm0-2zm3 1zm7 3zm16-3zm5 2zm24 6zm13 4zm9-6zm7 7zm3 0zm7-3zm7 6zm6 0zm5 1zm8 3zm-1 2zm8 1zm2-1zm6 5zm2 1zm12-2zm0-4zm5 5zm15-6zm3-1zm11-5zm0-1zm5 5zm10-5zm5-3zm6 2zm7 0zm8 0zm1 1zm17-3zm4 5zm10 2zm3 8zm17 6zm5 3zm3-4zm5 10zm2 2zm-6 0zm18 1zm4-3zm8-7zm5 5zm5-5zm11 4zm7 2zm3 3zm6 1zm0 4zm3-1zm2 6zm-3 9zm6 7zm-2 16zm8 5zm-2 3zm6-2zm3 8zm-3 4zm-2-3zm0 8zm4 3zm2 1zm-4 11zm0 5zm-1 6zm-7 8zm1 3zm2 3zm-2 10zm2 9zm6 2zm11 6zm0 1zm2-3zm4 11zm2 1zm0 3zm3 0zm12 19zm3 2zm-8 11zm-6 2zm-6 2zm-11 4zm-7 1zm-10-3zm0-1zm-1 0zm-9 2zm-7 9zm-1 4zm-8 5zm2 3zm-5 3zm-8 4zm-11 6zm-9 1zm-3-2zm0-4zm-7 4zm-1-3zm-12 9zm-2 0zm-3-3zm-7 0zm-9 3zm-1 0zm2 3zm-10-3zm-12 3zm-10-1zm-4 2zm-14-2zm-1-3zm-8-2zm-7 2zm1 3zm-6-4zm-3 2zm-3-4zm-7 2zm-3 1zm-7-5zm-10-1zm0-2zm-21-7zm-5-5zm-7-2zm1 7zm-11-10zm-10-9zm-2 0zm6-5zm-2-9zm-5-4zm5-4zm1-8zm-4-14zm-1-9zm8-2zm1-5zm2-1zm2 2zm-11-15zm-5-16zm-7-12zm-5-3zm-4 2zm-10-14zm-3-3zm-4 0zm-10 0zm-5-1zm-5-5zm1-1zm-11-1zm-2-2zm-3 6zm-5-5zm-6-4zm-11-4zm-5 2zm-8-2zm-6-4zm-2-1zm-5-1zm-18-5zm-1-1zm-5-8zm84 115zm3-1zm3 0zm4 3zm2 6zm4-3zm1-6zm5 0zm1-1zm1 3zm0 5zm12 1zm1 4zm-4-16zm17-3z" stroke="#fff" stroke-width="4.275" stroke-linecap="round" fill="none" opacity="0.85"/>
<path transform="scale(0.2)" d="M205 460zm8-5zm3-6zm4 7zm-1 6zm3 5zm2 0zm5 8zm3 2zm1 1zm13 0zm0 4zm4 3zm6-3zm8 9zm2 4zm5-5zm19 6zm0 2zm2-6zm5 9zm10-1zm6 6zm14-1zm1 1zm9 1zm7 3zm4-6zm7 6zm4 8zm-2 5zm2 2zm2-2zm1 13zm5 8zm1 5zm7-1zm1-1zm7 6zm0 2zm0 13zm1 1zm2 7zm-5 0zm-7-3zm-13 5zm-1 0zm-4 2zm-11 1zm1 9zm8 4zm10-4zm2 2zm4 1zm6 7zm4-7zm6 4zm2-15zm6-10zm-28 34zm5 5zm0 5zm4 16zm1 0zm8 0zm7 7zm2 5zm2-1zm18 7zm4-1zm4 3zm4-4zm12 7zm2 0zm1-2zm7 7zm5-6zm18 13zm15-3zm6-2zm7-1zm1 0zm5-3zm1 9zm10 0zm3-6zm5-2zm15 0zm10 7zm5-4zm32-5zm1 6zm14-9zm3-3zm-1-1zm-4 0zm15-14zm3-7zm0-1zm0-1zm17-5zm19 1zm2-1zm4 2zm1-6zm7 2zm7-4zm7-8zm0-1zm-3-1zm1-13zm-6-1zm0-6zm-13-4zm-9-5zm-3-3zm-1-7zm-1-13zm-3 0zm-4-2zm-6-3zm9-13zm-6-9zm3-3zm7-1zm-1-12zm-8-29zm0-11zm0-5zm-6 3zm-3-6zm1-7zm1-2zm2 3zm-10-20zm-11-5zm-2 1zm0 1zm-15-5zm-9 5zm-9 5zm-2 3zm-29-6zm-5-17zm12-3zm-24-3zm-4-1zm-1 2zm2 4zm0-9zm-11-1zm-15-3zm-7-3zm-3 7zm-16-3zm-1-4zm-7 12zm-1 4zm-16-3zm-2 3zm-5 2zm-4 3zm-5-1zm-14-5zm-1 3zm-5 0zm-5 2zm-16-4zm-1 1zm-8-8zm-25 0zm-8 3zm2-12zm-5-1zm-5 3zm-4-3zm-2 1zm-1 3zm-3 2zm-13-7zm-2 0zm-2-3zm-3 3zm-10-2zm-2-3zm-12 1zm0 5zm-7-1zm-6-1zm-9 1zm-7-4zm-5-1zm-10 4zm-4-2zm-7 4zm-5-2zm6 8zm3 0zm-10 12zm-4-3zm-4 0zm-3 8zm88-14zm26 170zm-5 1zm2 4zm1 2zm5 6zm1 2zm12 6zm-26-9zm-3 6zm-6-13z" stroke="#1f77b4" stroke-width="4.75" stroke-linecap="round" fill="none"/>
<path d="M113.2,132.5L116.0,133.5L114.2,139.0L112.0,143.2L111.2,142.6L112.6,138.0Z" fill="#1f77b4" opacity="0.85"/>
<path transform="scale(0.2)" d="M556 710zm3 3zm1 2zm1 0zm0 1zm0-6zm0-1zm3 0zm1-1zm-1-1zm-1-2zm-3 0zm-1-2zm0-1zm3 0zm4 1zm0-5zm0-4zm2-1zm2-1zm1 1zm-1-3zm1-2zm0-1zm-1-3zm-2 2zm-1-1zm-3 2zm1 2zm-3 1zm3-11zm2-1zm3 0zm-2-3zm2-2zm1-1zm1 1zm-1 1zm-1-5zm-3 0zm8-1zm1-2zm1 8zm-1 1zm4-1zm-6 5zm0 1zm0 1z" stroke="#1f77b4" stroke-width="4.5" stroke-linecap="round" fill="none"/>
<path d="M62.4,118.0L70.0,116.0L77.5,115.2L77.5,118.4L70.0,118.6Z" fill="#1f77b4" opacity="0.85"/>
<path transform="scale(0.2)" d="M324 588zm0 1zm3-3zm2 2zm12 0zm4 1zm1 2zm1-3zm-2-3zm-1-1zm8-3zm2 5zm1 1zm0 2zm-3 1zm-2 1zm0 2zm4 1zm6-5zm4-4zm-4-2zm6-3zm3 7zm2 1zm-2 3zm1 1zm4-1zm3-1zm2 0zm3 1zm0-3zm2-4zm-2-1zm-1-1zm-1-3zm-2 1zm-2-1zm1 6zm10-2z" stroke="#1f77b4" stroke-width="4.5" stroke-linecap="round" fill="none"/>
<path d="M120.0,88.6L126.0,85.0L132.5,83.2L132.8,84.5L127.0,87.5L121.0,90.0Z" fill="#1f77b4" opacity="0.25"/>
<path transform="scale(0.2)" d="M606 446zm0 3zm4-7zm1 0zm3-1zm2 2zm1 0zm0-2zm2 1zm3-2zm-2-2zm-1-1zm-2-2zm1-2zm2-2zm5-2zm2 1zm2 0zm0-1zm0-2zm0-3zm1 0zm4 2zm-1 2zm1 2zm1 0zm4 2zm4 0zm1-1zm1 1zm0-8zm5-1zm0-2zm0-2zm2 4zm2 0zm0 2zm4-1zm2-3zm-2-1zm4-1zm-3-4zm5 9zm-27 12zm-3-1zm-3 2zm-3 1zm-1 0zm0-1zm-1-1zm-2-1zm-2 1zm0 1zm2 1zm2 1zm3-6zm4 7zm-20-4z" stroke="#1f77b4" stroke-width="4" stroke-linecap="round" fill="none"/>
<path d="M142.8,98.0C143.2,97.3 145.1,95.9 147.0,95.6C148.9,95.3 152.0,95.9 154.0,96.2C156.0,96.5 157.5,97.1 159.0,97.6C160.5,98.0 163.2,98.4 163.0,98.9C162.8,99.4 159.8,100.0 158.0,100.6C156.2,101.1 153.9,102.0 152.0,102.2C150.1,102.4 147.8,102.4 146.5,102.0C145.2,101.6 145.1,100.7 144.5,100.0C143.9,99.3 142.4,98.7 142.8,98.0Z" fill="#1f77b4" opacity="0.75"/>
<path transform="scale(0.2)" d="M716 492zm3 3zm2 2zm1 1zm4 1zm1 2zm0 3zm0 4zm3 1zm3 2zm3-1zm4-4zm1 0zm-4-2zm-1 0zm-2-3zm-1-1zm2-1zm2-2zm1-2zm2 0zm-1-2zm3-1zm0-3zm-1-1zm5-1zm0 4zm0 2zm1 2zm-1 1zm2 1zm1-2zm1-3zm0-1zm0-1zm4 1zm0 1zm3-1zm0-3zm4 1zm3 1zm4-1zm1-1zm1 1zm3-1zm-3-3zm-1-1zm3-2zm7 4zm3 3zm2-1zm1 0zm0 1zm1-2zm2 4zm2-1zm1-1zm1 0zm1 1zm-3 2zm-4 2zm-3 2zm1 2zm-1 1zm0 2zm-1 3zm-1 0zm-1 2zm-3-1zm-1-2zm-3 3zm-1 0zm2 1zm-2 3zm-3-3zm-4-6zm-1-3zm0-2zm-3-3zm-1 7zm-3 1zm-2 0zm-2 2zm-2-4zm-3 3zm-3 2zm4 2zm1 2zm3 0zm3 0zm3 1zm2 0zm0-1zm-1-3zm1-1zm7-6zm3 2zm0-4zm1 0zm2-2zm2 3zm3 1zm1-1zm-11-4zm-6-9zm-2 1zm-8-2zm-2 2zm-2-4zm-2 0zm-4 0zm-2 1zm-2-2zm-2-1zm-4 1zm-2 1zm1 3zm1 2zm-3 3zm-6 2zm-2 1zm-2-2zm0-2zm4-4zm3 11zm-1 1zm3 0zm6-2zm4 4zm-7 4zm21 10zm24-3zm16-6zm2-2zm2 0zm1-2zm1 0zm1 0zm-1-2zm3-3zm4 0zm1 1zm-24-12zm-30-3zm-9-2z" stroke="#1f77b4" stroke-width="4.5" stroke-linecap="round" fill="none"/>
<path d="M152.4,136.0C152.7,135.3 153.7,134.1 155.0,133.6C156.3,133.1 158.5,133.0 160.0,133.2C161.5,133.4 162.8,134.2 164.0,135.0C165.2,135.8 166.8,137.0 167.0,138.0C167.2,139.0 166.2,140.3 165.0,141.0C163.8,141.7 161.5,142.1 160.0,142.0C158.5,141.9 157.1,141.2 156.0,140.5C154.9,139.8 154.1,138.8 153.5,138.0C152.9,137.2 152.2,136.7 152.4,136.0Z" fill="#1f77b4" opacity="0.8"/>
<path transform="scale(0.2)" d="M764 684zm4-1zm0-2zm2 0zm3-1zm2-2zm-4-1zm-5 1zm3 7zm1 4zm0 2zm1 0zm2-4zm2-4zm6 3zm0 2zm-1 4zm-2 0zm-1 4zm-4 0zm9 1zm-2 5zm5 3zm1-1zm0-3zm2-2zm2-2zm2-1zm-3-3zm4-3zm-1-6zm-1-2zm-1 0zm-2 1zm-3 0zm0 4zm5-13zm0-1zm-2-1zm-4 0zm-4 1zm-2 1zm-1-2zm-1 0zm2-1zm-7 0zm17-4zm2 0zm0-1zm3 1zm2 5zm3 1zm3-3zm3 4zm-2 3zm2 1zm3 0zm1-1zm0 4zm5-2zm2-1zm1 3zm3 0zm1-2zm3 3zm-2 2zm-3 1zm3 4zm1 1zm1-2zm2 4zm2-2zm3-4zm2 0zm1-4zm2 13zm-7 1zm-1 0zm-1 2zm-4-1zm-1 0zm-2 1zm-1 0zm-2 1zm-1 4zm-3-1zm-4 0zm-2 0zm0-1zm-1-1zm-1-1zm-3 2zm-1 3zm4 2zm0 2zm4-2zm-1-9zm-1-1zm1-1zm2 0zm1 2zm2-3zm1-3zm4-1zm2 3zm2 0zm-5 1zm4 7zm1 0zm1 0zm-1 1zm-2 0zm0 3zm1 3zm4-3zm-18-13zm-1-3zm1-1zm-3-4zm-2-2zm-2 4zm1 4zm-1 3zm0 2zm-2 4zm-1 0zm-1 4zm0 1zm-2 0zm0-2zm-2-1zm0 2zm-1 5zm6-30zm1-16zm14 10zm5 2zm-4 12z" stroke="#1f77b4" stroke-width="4.5" stroke-linecap="round" fill="none"/>
<path d="M152.6,61.8C153.2,61.9 153.6,62.6 153.5,64.0C153.4,65.4 152.6,68.0 152.0,70.0C151.4,72.0 150.6,74.1 150.0,76.0C149.4,77.9 149.2,80.2 148.6,81.5C148.0,82.8 147.9,83.5 146.5,84.0C145.1,84.5 142.2,84.5 140.0,84.6C137.8,84.7 134.8,84.7 133.0,84.4C131.2,84.1 129.6,83.5 129.0,82.8C128.4,82.1 128.6,81.4 129.4,80.4C130.2,79.4 132.3,78.3 134.0,77.0C135.7,75.7 137.7,74.3 139.5,72.8C141.3,71.3 143.2,69.6 145.0,68.0C146.8,66.4 148.7,64.4 150.0,63.4C151.3,62.4 152.0,61.7 152.6,61.8Z" fill="#d62728" opacity="0.72"/>
<path transform="scale(0.2)" d="M647 414zm1 2zm5-5zm0-3zm5 5zm3 2zm3 2zm1 4zm8 0zm3-1zm5 3zm5-2zm1 0zm-1-3zm-1-5zm4-1zm3-1zm-4-3zm-2-1zm3-4zm2 0zm0-2zm3 0zm4 4zm6-2zm1 2zm4 2zm-1 2zm1 1zm1 0zm1 2zm-4 1zm0 3zm4 3zm2-1zm3-4zm-1-1zm1-1zm2-2zm1 2zm0 2zm3 0zm3 2zm1-2zm4-6zm2 1zm2 4zm5 4zm-3 3zm1-14zm-2-2zm-1 0zm6-1zm-4-5zm-3-4zm6 0zm2 0zm2 0zm1-4zm1 0zm-3-1zm-2 1zm-1-4zm-2 1zm0-3zm0-2zm-4 2zm-3 4zm-7-5zm-2 4zm-2 1zm-2-1zm-3 3zm-4 1zm-3 1zm1 2zm-2 1zm0 2zm1 0zm1 3zm2 1zm0 1zm1-4zm2-1zm6 2zm0 3zm3 3zm3 1zm3-5zm0-3zm-1 0zm-3-3zm-3-1zm-1-2zm0-2zm2 8zm-8 11zm-9 1zm-3 0zm-4 3zm-2 3zm1 1zm-2-2zm7 4zm-7 6zm-2 0zm-15-14zm-3 1zm-1 1zm-1-1zm0-1zm0-2zm2-2zm1 1zm1-1zm-1-4zm6-3zm2-1zm-1-1zm2-1zm1-1zm2 1zm-2 3zm0 1zm-1-8zm4-3zm4 0zm0-1zm0-2zm-2-3zm1-3zm7 1zm2-3zm-1-3zm0-4zm-1-3zm-1 0zm-4 1zm-1 2zm5-8zm3-1zm1-2zm1-1zm1 2zm3 0zm0-1zm0-2zm0-1zm5 2zm1 1zm1 0zm-2 2zm2 1zm0 2zm2-3zm2-2zm2 1zm3-1zm3 5zm3-2zm5-2zm2 3zm1 0zm1 0zm-2 2zm-3 2zm3 5zm3-2zm1 3zm3 1zm0 3zm1 3zm0 4zm2-8zm4-3zm0-1zm-1-3zm-2-2zm0-1zm-3 0zm6-1zm1-2zm2 4zm1 0zm-1 1zm-1 8zm-5-16zm-1-2zm2-2zm4-1zm3-2zm1-4zm-2-1zm0-2zm1-2zm-3 0zm0-2zm-2-1zm2-2zm4-1zm1 1zm2 2zm-1 1zm1 1zm-1 2zm-1 2zm-7 1zm-5-2zm-2-3zm-2 4zm1 2zm-2 2zm-5 3zm-1-3zm-2 1zm-1-3zm-1 0zm3-3zm0-1zm1-7zm3 1zm2-6zm-1-1zm3 0zm1-4zm0-3zm-6 3zm-3-1zm-6 12zm-2 1zm0 6zm-4 6zm-4-3zm0-3zm-3 7zm4 15zm2 0zm2 0zm6 4zm-9 3zm-3-2zm-1 1zm-1-1zm-2-4zm-6 1zm-2-3zm5 9zm-3 4zm-2 2zm2 2zm-1 1zm-1 4zm-2 4zm-1 3zm-2 0zm-1-4zm-1 0zm0-1zm-1-1zm-3-1zm6-3zm14-3zm1-1zm-1-2zm2 0zm1-3zm16-21zm-1-1zm10 4zm8-24zm1-3zm-2-2zm-1 0zm1-1zm-1 3zm5-4zm2-2zm5 4zm2 0zm2-3zm3-2zm0-6zm-3-1zm-3-1zm-1-2zm-3 1zm-1 2zm0-5zm4-4zm5-1zm0 6zm-15 4zm11 22zm5 4zm-47 75zm-38-26zm-4-1zm0-1zm-2-5zm3-1zm1-4zm4 0zm1 4zm-2 3zm-11 0zm-3 1zm1 2zm-3 4zm1 1zm2 1zm-3 6zm0 3zm2 1zm0 1zm2-1zm0-2zm-5 5zm-3-8zm-2-2zm2-7zm2-2zm-1-1zm4-5zm-18 8zm1 5zm7 19z" stroke="#d62728" stroke-width="4.5" stroke-linecap="round" fill="none"/>
<path transform="scale(0.2)" d="M696 388zm4 1zm0 1zm1-2zm2-1zm2 1zm-2 2zm1 2zm0 1zm1 1zm0 1zm-1 1zm4-1zm1 1zm1-1zm3-2zm2-1zm1-1zm1 1zm2-1zm1 3zm0 2zm-3-1zm-1 2zm0 1zm1 0zm6 1zm2-5zm0-2zm1-2zm1-2zm-1-3zm2-3zm3-2zm1-1zm1 1zm-1-3zm-1 0zm-4 1zm-4 2zm-1 1zm-1 1zm-1 0zm0 1zm-2 0zm0-1zm-1-1zm-1 0zm3 0zm4 2zm-1-7zm0-2zm1-1zm-1-2zm-1-3zm2-3zm1 0zm0-2zm-1 0zm-2-1zm-2 1zm0 2zm-6 3zm-1 1zm-1 1zm3 1zm-2 3zm-1 2zm-1 2zm-2 0zm0 1zm-1 1zm-3 0zm-1-1zm-1 2zm1 3zm2 0zm1 0zm2 0zm0 4zm0 1zm5 0zm0-1zm3 0zm-1-3zm-4-4zm3-3zm5-2zm-1-4zm-8 1zm-4 4zm-7 5zm0 3zm24 6zm4 3zm0 1zm2-1zm3 0zm3-2zm4-3zm2-5zm0-4zm1-1zm1 0zm0 1zm2 0zm0-2zm-1-3zm0-4zm1-1zm1 0zm1 1zm-1-3zm1-3zm-3-1zm-2 1zm-2 2zm-1-4zm0-1zm1-2zm0-2zm1-1zm1-1zm3 2zm0 1zm3-2zm-1-2zm0-2zm-1 0zm1-1zm0-2zm-3 2zm-1-1zm-2-2zm-3 0zm1 3zm-1 3zm-2 1zm-2-2zm-2-1zm-3 0zm-1 1zm0 1zm1 1zm2 3zm2 2zm2 1zm1 4zm-1 1zm1 2zm-1 1zm-4-1zm-1 0zm1 2zm-4 1zm-1-1zm2-5zm0-1zm1 0zm1 0zm0-1zm-1-2zm3 5zm5 8zm2 0zm1-1zm-2 3zm2 1zm-3 2zm-3 4zm-4 1zm-2 12zm-3-42zm8-9zm5-1zm0-1zm1-1zm1-1zm-1 3zm3 1zm3-1zm2 1zm3-1zm2-1zm0 4zm1 6zm1-15zm-1-1zm3 1zm-1-4zm-1-1zm-1-4zm1-2zm-3 1zm-3 4zm1 1zm-1 1zm-4 3zm1 2z" stroke="#fff" stroke-width="4" stroke-linecap="round" fill="none" opacity="0.8"/>
<path d="M129.0,81.0C130.0,80.2 133.2,79.6 136.0,79.5C138.8,79.4 144.2,79.8 146.0,80.5C147.8,81.2 147.8,83.3 146.5,84.0C145.2,84.7 140.8,84.6 138.0,84.6C135.2,84.6 131.5,84.6 130.0,84.0C128.5,83.4 128.0,81.8 129.0,81.0Z" fill="#d62728" opacity="0.5"/>
<path transform="scale(0.2)" d="M645 410zm0 3zm3-4zm3 3zm4-2zm-2-3zm4-2zm2 0zm1-1zm0-2zm3 1zm1 0zm1 2zm2 3zm2 0zm2 1zm0-4zm-2 0zm0-3zm8 4zm1-1zm2-1zm0-1zm2 1zm4-2zm1-1zm-3-3zm8 4zm1 1zm2 2zm1 2zm0 5zm-4-1zm2 5zm4 1zm-1 3zm-10-5zm-1-4zm-4 4zm0 3zm0 1zm-8-1zm-1-5zm-10 1zm-1-1zm0-3zm-2 7zm-2 1zm-4 0zm10 1zm37-11zm2 0zm4 5zm2 0zm2 0zm4 0zm-1 4zm-3 1zm0 3zm1 3zm6-1zm3-3zm0-2zm1 0zm0-3zm2-2zm1 0zm3-1zm1-1zm-2-4zm1-1zm-4-1zm1-2zm-3 0zm-3 2zm-1 1zm-1 0zm1-3zm-5-1zm-1 2zm0 1zm-2 2zm-1-3zm2-5zm-12 2zm29 16zm1 4zm5-2zm-1-2z" stroke="#d62728" stroke-width="4.5" stroke-linecap="round" fill="none"/>
<path transform="scale(0.2)" d="M641 397zm3 7zm0 2zm-3 2zm0 5zm0 1zm6-1zm2 5zm4-1zm3 4zm1 0zm5 4zm5-1zm0-2zm-1-1zm-2-3zm9 3zm1 3zm3-1zm6-1zm3 1zm5 3zm1-2zm3 2zm1-5zm5 4zm7-1zm4 1zm6 0zm0 1zm3-5zm2 0zm4 0zm0 1zm7-5zm-1-2zm3 4zm4-3zm0-3zm0-4zm-1-4zm4-3zm2-1zm-3-4zm5-3zm3-9zm2-2zm-2-1zm-3-1zm3-3zm3-1zm-3-3zm2-4zm3-2zm1 4zm-5-8zm6-2zm2-2zm-1-3zm2-6zm1-2zm1-4zm1-7zm1-3zm1-2zm-1-3zm2-1zm4-3zm0-8zm-3-4zm2-1zm-8-2zm-1-2zm-1-2zm0 5zm-4 3zm-6-4zm-4 4zm2 4zm0 1zm-8 3zm0 4zm-4 6zm-3-2zm-1-2zm0 7zm0 2zm-4 0zm-5 5zm-1 5zm-6 1zm0-4zm-6 8zm1 1zm-6 1zm-2 2zm1 4zm-2 1zm-5 4zm-2 5zm-7-1zm-2 0zm-1 5zm-6 2zm-6 6zm-1 3zm-4 3zm-2-3zm-2 2zm-4 5zm0 2zm-4-1zm-1 2zm2 6zm-8 4zm41-40zm18 53zm38-9zm11-60z" stroke="#d62728" stroke-width="4.25" stroke-linecap="round" fill="none"/>
<path d="M205.0,98.5C205.3,97.5 206.7,96.8 208.0,96.4C209.3,96.0 211.2,96.1 213.0,96.2C214.8,96.3 217.2,96.5 219.0,97.0C220.8,97.5 222.5,98.4 223.5,99.5C224.5,100.6 225.3,102.3 225.2,103.5C225.1,104.7 224.0,106.1 223.0,106.5C222.0,106.9 220.2,105.7 219.0,106.0C217.8,106.3 217.0,108.3 216.0,108.5C215.0,108.7 214.2,107.6 213.0,107.0C211.8,106.4 210.2,105.8 209.0,105.0C207.8,104.2 206.7,103.6 206.0,102.5C205.3,101.4 204.7,99.5 205.0,98.5Z" fill="#2ca02c" opacity="0.75"/>
<path transform="scale(0.2)" d="M1028 488zm0 3zm3 3zm3 0zm2-2zm1-1zm2-1zm-1-3zm4-1zm3 4zm3 2zm2 0zm2-2zm3 1zm-2 4zm-1 2zm-4-2zm-1 3zm-1 1zm-2-1zm-2 1zm-4-1zm-2 4zm-1 0zm-1-1zm-2 2zm-1 1zm-3 4zm3 3zm3 3zm4 3zm-1 2zm2 1zm2 0zm2 2zm0-5zm0-2zm-2-3zm-1 1zm-4-5zm4-4zm4 0zm2-2zm3 2zm1-1zm1 3zm-1 1zm3 4zm1 1zm-2 0zm4-1zm1-1zm2 0zm0 1zm2 0zm-1 2zm2 2zm3-2zm3 0zm2 0zm0-1zm2-2zm-3-3zm-4-4zm0-4zm-4-1zm0 3zm0 1zm-4 3zm-1 1zm1 1zm6 1zm6 8zm1 1zm1 4zm-3 2zm1 1zm4 3zm2-2zm0-1zm3 2zm0 7zm2 3zm3-2zm0-1zm2-5zm1-5zm1-1zm3-3zm0-3zm-1-2zm-1-3zm-3 2zm0 1zm-4 2zm-4 1zm-1-2zm-1-1zm-1 0zm2-1zm1-2zm4-3zm0-4zm2-2zm1-1zm-1-3zm0-3zm-3 0zm-3-1zm-1 1zm0 1zm-1 0zm-2 1zm3 2zm1 2zm1 1zm8 5zm3-2zm0-1zm4-1zm2-2zm2 1zm1-2zm1-1zm2-1zm1 0zm0-2zm1 0zm4-2zm-3-4zm-5-2zm-3 1zm-1 1zm0 2zm2 2zm1-2zm-7-1zm-1-1zm-2 1zm0 1zm0 2zm4 3zm-4 3zm-5-8zm-1-3zm5-3zm2-1zm0-1zm6 1zm10 16zm0 3zm-4 1zm0 4zm-2 0zm-2-1zm0-1zm-2 1zm-2 2zm0 2zm3 4zm1 1zm0 2zm-2 2zm2 1zm-2 3zm5-1zm3 1zm1-1zm1 2zm2-2zm3 0zm0 3zm3-2zm0-3zm2-2zm2 0zm1 0zm-2 2zm6 0zm0 2zm2 0zm-3-6zm1-2zm-3-4zm-1-2zm-1-1zm0-3zm-2-1zm-2-2zm0-1zm-2 3zm2 2zm-3 4zm-2 3zm0 3zm-1 0zm-3 0zm-2-2zm-2-3zm-2-1zm-5 8zm12 2zm8-7zm7-10zm-1-3zm-7-3zm3 32zm-27 7zm-3 3zm-9 2zm-2-4zm2-1zm-5-4zm2-2zm-5 0zm-7 2zm-1-1zm-1 0zm-5-4zm-1-2zm-2 0zm-1 0zm-1-5zm-1 0zm0-2zm4 2zm2-4zm4 4zm2-2zm3 3zm-6 3zm-12-17zm-2-14zm-9-5zm-2 0zm16-6zm2-1zm2 3zm2 0zm0-2zm1-1zm2-3zm3 11zm3 4zm2-2zm2 0zm3 0zm2 1zm1-3zm2 0zm1 0zm-6-2zm0-4zm-2-2zm-3 6zm-6 7zm17-14z" stroke="#2ca02c" stroke-width="4.5" stroke-linecap="round" fill="none"/>
<path d="M213.7,119.6C214.0,119.0 215.4,118.5 216.5,118.4C217.6,118.3 218.9,118.7 220.0,119.2C221.1,119.7 222.6,120.6 223.0,121.5C223.4,122.4 223.2,123.7 222.6,124.5C222.0,125.3 220.5,126.2 219.5,126.2C218.5,126.2 217.3,125.2 216.5,124.5C215.7,123.8 215.0,122.8 214.5,122.0C214.0,121.2 213.4,120.2 213.7,119.6Z" fill="#2ca02c" opacity="0.8"/>
<path transform="scale(0.2)" d="M1068 600zm5 1zm1 0zm-1 1zm2 0zm0 4zm-1 0zm-1 0zm1 3zm-2 0zm5 1zm0 1zm1 4zm3 1zm1 2zm3 4zm-1 1zm6-5zm1-2zm0-2zm1-2zm1 3zm-5 0zm-1-4zm-1 0zm3-1zm2-2zm-1-5zm3 0zm-1-4zm-2 1zm-4 0zm0-2zm-3 1zm0 2zm1 1zm-1 1zm-2 2zm-2 0zm4 4zm2-2zm-4-10zm1-2zm-2-1zm-2 3zm-3-1zm12-1zm2 0zm-1-2zm10 4zm1 7zm-2 3zm0 1zm1 1zm1 3zm0 1zm2-1zm3 2zm1 0zm2 1zm0-4zm-1-3zm6-1zm0-1zm1 0zm0 2zm-1 3zm-3 8zm-6-1zm-1 0zm-1 1zm-2-1zm3-2zm-3 10zm1 1zm3 1zm1 2zm-4 1zm-5 0zm-3-1zm3-3zm0-2zm16 0zm2 0zm0 1z" stroke="#2ca02c" stroke-width="4.5" stroke-linecap="round" fill="none"/>
<path transform="scale(0.2)" d="M1060 539zm3 2zm2 5zm2 0zm0 1zm-1 2zm3-5zm2 2zm5 4zm2 2zm2 0zm3 3zm-4 2zm-1-1zm-1 3zm-2 1zm-1 1zm0-3zm-1-1zm7 3zm4 4zm2 0zm0 1zm0 3zm1 0zm4 2zm-6 2zm-3 2zm0 1zm-1 3zm2 3zm2-1zm1-1zm1 2zm2-1zm-2-3zm-1 7zm2 0zm-4 1zm-3-1zm-2 0zm4 5zm0 1zm2 0zm0-1zm1 1zm-4 2zm11-5zm0-1zm1 8zm-13-23zm1-4zm-4 0zm-1 0zm-3-2zm-1 0zm14-4zm-8-16zm0-1zm-1-1z" stroke="#2ca02c" stroke-width="4" stroke-linecap="round" fill="none"/>
<path transform="scale(0.2)" d="M1006 569zm4-7zm3-1zm1 2zm-2-4zm-4 0zm-1 1zm10-1zm2-1zm1 0zm-2-3zm1-1zm3-1zm0-6zm1 0zm3-1zm5 0zm1-2zm1-1zm0-2zm0-3zm0-2zm0-1zm3 2zm1-3zm-1-2zm0-1zm-1 0zm-1-3zm-3-2zm-1-1zm1-2zm2 1zm1-1zm3-1zm2 1zm-1 2zm4 1zm-2 4zm-12-1zm1-8zm2-2zm2-3zm-5 23zm3 13z" stroke="#2ca02c" stroke-width="4" stroke-linecap="round" fill="none"/>
<path transform="scale(0.2)" d="M943 502zm1 0zm0 1zm1 1zm1 2zm1-3zm2 1zm2-2zm3 2zm7-2zm3 0zm3 2zm-23-3z" stroke="#2ca02c" stroke-width="4" stroke-linecap="round" fill="none"/>
<path transform="scale(0.2)" d="M996 501zm4-1zm5 2zm1 1zm1-4zm1-1zm4 4zm1 2zm0 1zm1 1zm1-2zm-1-1zm3 1zm2 0zm3-1zm2-2zm-2 8z" stroke="#2ca02c" stroke-width="4" stroke-linecap="round" fill="none"/>
<path d="M153.5,36.5C153.8,35.4 154.9,33.8 156.0,33.0C157.1,32.2 158.6,32.3 160.0,32.0C161.4,31.7 163.2,31.3 164.5,31.4C165.8,31.5 166.9,32.1 168.0,32.8C169.1,33.5 170.4,34.5 170.8,35.5C171.2,36.5 171.1,37.6 170.5,38.5C169.9,39.4 168.4,40.2 167.0,40.6C165.6,41.0 163.5,41.1 162.0,41.0C160.5,40.9 159.2,40.2 158.0,40.0C156.8,39.8 155.2,40.1 154.5,39.5C153.8,38.9 153.2,37.6 153.5,36.5Z" fill="#ff7f0e" opacity="0.82"/>
<path transform="scale(0.2)" d="M765 186zm2-5zm4 1zm1-3zm0-2zm5 3zm2 0zm0 2zm-1 3zm-1 3zm2 2zm-2 2zm-1 2zm5 1zm-2 4zm10-5zm1-4zm2-1zm1 2zm1-1zm1 0zm2-1zm1-4zm-1-1zm0-3zm-3-4zm0-1zm4-1zm3 0zm5 1zm3 0zm1 0zm0-3zm-3 0zm4-4zm0-1zm0-2zm-2 0zm-3 0zm-1 1zm-2-2zm0-1zm-1 0zm3 0zm2-1zm5-3zm0-3zm4 0zm2 1zm0 3zm2 0zm2-1zm1-1zm0 3zm3-1zm4 0zm1 0zm1 3zm0 1zm1 2zm-4 0zm0 1zm-1 1zm-1 1zm-1-3zm-3 3zm0 2zm-1 3zm-1 0zm-1 2zm-1 1zm-1 1zm4 1zm1 1zm2 4zm1 2zm4 0zm1-1zm0-2zm4-1zm0-1zm1 1zm-1 3zm-5 5zm-1 0zm-2 1zm-1 3zm-1 3zm4 1zm3 1zm0 1zm-1 1zm-4 2zm-1 2zm-6-4zm-1-1zm-1 2zm-2 0zm2-4zm0-3zm-4-1zm0-3zm-1-1zm-2 0zm-3 0zm-3-1zm4-3zm3-1zm2 2zm3-3zm2 0zm1 0zm2 5zm-1 1zm-11 3zm0 5zm-1 1zm-1-1zm0 3zm-3 2zm-2-6zm0-3zm-5-1zm0 4zm-3 0zm2 3zm1 1zm-4 1zm-7-14zm4-3zm3-1zm-2-3zm-2-3zm-3-2zm2-2zm3-3zm-1-5zm2-1zm1 0zm-3-2zm-1-1zm-6 5zm-1 2zm1 1zm-3 1zm0-6zm-7 1zm7 11zm3 4zm-14 8zm-1 0zm33-6zm8 0zm-1-4zm5 2zm1-7zm8 1zm5 0zm0 1zm4-3zm6-2zm4-2zm2-3zm1 0zm-1 7zm0 1zm-2 1zm-1 0zm-3 3zm5 5zm2-2zm2 2zm2 1zm1-1zm1 3zm-4 1zm-2 1zm-3 2zm-1-1zm4 3zm2 4zm-3 1zm-2 0zm4 2zm-9-3zm18-15zm-4-7zm1-2zm-25-16zm-6-2zm-5 8zm1 3zm-1 1zm4 0zm-20 2z" stroke="#ff7f0e" stroke-width="4.5" stroke-linecap="round" fill="none"/>
<path d="M168.5,38.4L171.0,38.0L176.0,42.4L180.6,46.4L180.0,46.8L174.0,43.4L169.0,40.2Z" fill="#ff7f0e" opacity="0.35"/>
<path transform="scale(0.2)" d="M848 189zm2 3zm5 1zm2 0zm2 3zm1 0zm-1 3zm3 3zm4-2zm2 5zm2 2zm-1 3zm-5 2zm-1-3zm-5-4zm-1 0zm-1 2zm-3-4zm-5 0zm6-6zm20 9zm1 3zm3 5zm-3 1zm4 6zm4-3zm1 3zm2 0zm-2 3zm4 2zm2-3zm1 1zm5 3zm2 1z" stroke="#ff7f0e" stroke-width="4" stroke-linecap="round" fill="none"/>
<path transform="scale(0.2)" d="M754 211zm6-1zm1-2zm0-1zm1-2zm0-1zm2 0zm2-1zm1 1zm2-2zm4 0zm2 0zm1-4zm-2-3z" stroke="#ff7f0e" stroke-width="4" stroke-linecap="round" fill="none"/>
<path transform="scale(0.2)" d="M758 159zm3-2zm4 2zm0 2zm3 1zm3 2zm3 0zm0-5z" stroke="#ff7f0e" stroke-width="3.5" stroke-linecap="round" fill="none"/>
<path d="M184.5,55.5C184.6,54.5 185.6,52.4 186.5,51.6C187.4,50.9 188.8,50.9 190.0,51.0C191.2,51.1 192.6,51.4 193.5,52.0C194.4,52.6 195.3,53.6 195.3,54.5C195.3,55.4 194.1,56.6 193.5,57.5C192.9,58.4 191.7,58.9 192.0,60.0C192.3,61.1 195.5,63.5 195.5,64.0C195.5,64.5 193.1,63.2 192.0,62.8C190.9,62.4 189.6,62.3 189.0,61.5C188.4,60.7 189.0,58.7 188.5,58.0C188.0,57.3 186.7,57.9 186.0,57.5C185.3,57.1 184.4,56.5 184.5,55.5Z" fill="#ff7f0e" opacity="0.8"/>
<path transform="scale(0.2)" d="M925 274zm0 1zm2 0zm1-1zm-1-4zm3-3zm2-1zm2 3zm2 3zm3 1zm1 0zm0-1zm0-3zm-1-3zm0-3zm-1 0zm-3-2zm-1-2zm9-3zm2 1zm1 3zm3 4zm3 0zm3 0zm1-4zm4 2zm3-3zm4 4zm6 0zm0 3zm-1 5zm-5 0zm-2 2zm-3-1zm-3-1zm-2-1zm0 2zm-4 4zm-2 2zm-2-2zm-1-4zm3-3zm5 10zm-2 3zm-3 0zm0 1zm-2-1zm-1 2zm-2-3zm0-2zm-5-3zm-4 2zm-2 0zm-1 0zm-3-1zm-5 2zm0 1zm-1 3zm4 2zm6 4zm5-1zm1 0zm-2-4zm-1-2zm-13-5zm21 17zm4 2zm2 2zm1 0zm2 1zm1 0zm1 0zm2 0zm1 2zm1 4zm1 0zm-1 2zm-4 1zm-3 1zm-1-1zm0-2zm-4 1zm1 3zm-4-1zm-1-3zm3-5zm9 11zm7 2zm2-26zm-1-2zm-3 1zm-1-5zm-1 0zm3 0zm1 0zm4 0zm1-1zm2-2zm2 0zm-1 2zm0-5zm-16 10zm-2 1zm-3-30zm-5-4z" stroke="#ff7f0e" stroke-width="4.5" stroke-linecap="round" fill="none"/>
<path transform="scale(0.2)" d="M914 288zm3 1zm1-2zm0-1zm2 3zm5-3zm0-3zm-4 0z" stroke="#ff7f0e" stroke-width="3.5" stroke-linecap="round" fill="none"/>
<path d="M133.2,31.6C133.1,31.1 134.7,30.4 135.5,30.0C136.3,29.6 137.4,28.9 138.0,29.0C138.6,29.1 139.2,29.9 139.3,30.5C139.4,31.1 138.5,32.0 138.6,32.5C138.7,33.0 140.4,33.6 140.0,33.6C139.6,33.6 137.1,33.1 136.0,32.8C134.9,32.5 133.3,32.1 133.2,31.6Z" fill="#ff7f0e" opacity="0.7"/>
<path transform="scale(0.2)" d="M666 155zm1-1zm-1 3zm6 0zm1 0zm-1-2zm3 0zm2 2zm0 4zm5 1zm2-2zm0-1zm2 1zm0-3zm1 0zm1 0zm2 1zm2 2zm0 1zm-3 1zm4-4zm2-7zm-1-2zm1-1zm-9 3zm-1 2zm0 1zm-3 2zm-5-5zm8-3z" stroke="#ff7f0e" stroke-width="4.5" stroke-linecap="round" fill="none"/>
<path d="M71.6,27.5C71.2,26.5 72.1,23.8 72.6,22.5C73.1,21.2 73.4,20.5 74.5,20.0C75.6,19.5 77.4,19.5 79.0,19.6C80.6,19.7 82.8,19.8 84.0,20.4C85.2,21.0 85.5,22.0 86.0,23.0C86.5,24.0 86.2,25.4 87.0,26.6C87.8,27.9 90.2,29.5 90.8,30.5C91.4,31.5 91.2,32.5 90.5,32.6C89.8,32.7 87.5,31.7 86.5,31.0C85.5,30.3 85.6,28.9 84.5,28.5C83.4,28.1 80.8,27.9 80.0,28.5C79.2,29.1 79.9,31.8 79.5,32.0C79.1,32.2 78.2,30.6 77.5,30.0C76.8,29.4 76.0,28.8 75.0,28.4C74.0,28.0 72.0,28.5 71.6,27.5Z" fill="#9467bd" opacity="0.6"/>
<path transform="scale(0.2)" d="M359 132zm0 1zm2-2zm1-1zm2 1zm0 1zm3 0zm0-1zm0-1zm-1-1zm0-3zm2 0zm0-2zm-3-1zm-1 2zm5-5zm3 3zm2 0zm0-2zm0-4zm-3-2zm-1-1zm-4 2zm0-5zm2-1zm-3-2zm9-5zm3-1zm3-2zm-1-2zm7 1zm-1 3zm-1 3zm0 1zm1 1zm2 1zm-3 2zm-3 1zm-1 1zm-1 2zm7 2zm0 3zm2 2zm4-1zm0-1zm1-3zm3-3zm0-2zm1-1zm-1-1zm-3-2zm-1 1zm-1 0zm0-2zm5-3zm4-3zm2 4zm2 1zm1 1zm1 1zm2-1zm2-1zm-2-4zm1-1zm-5 2zm-1 4zm0 3zm2 1zm-4 1zm1 5zm6 2zm2-1zm3 0zm3 0zm3 0zm1 2zm2-1zm1 2zm0 2zm2 1zm2-1zm1 0zm-1-3zm2-4zm2 2zm1 4zm-1 4zm0 1zm0 3zm-4-2zm-2-1zm-2 1zm-1 3zm1 1zm0 2zm1 0zm1 1zm3 4zm-1 1zm-1 0zm4 2zm1 1zm0 1zm1 0zm-1 2zm2 3zm4-1zm0-2zm3 0zm1-2zm-2-3zm-2-4zm-3 4zm-3-3zm0-1zm-9 6zm-3-2zm0-1zm-1-2zm-2-1zm-1 5zm-1 4zm-3-6zm-3-1zm0 4zm-10 4zm-1 3zm-1 3zm0 1zm0 1zm-1 2zm-3-2zm-1-1zm-2-1zm0-3zm1-2zm-1-5zm0-1zm-1-1zm0-1zm-2-2zm1-2zm1-1zm4-2zm5-3zm-3-3zm1-3zm5 0zm0 1zm5 0zm4-2zm2 6zm-4 1zm10-6zm1-3zm3-7zm0-2zm1-1zm-3-1zm-2-1zm-1 2zm-2-1zm-1 0zm0 3zm1 1zm-5-1zm6-6zm5 0zm1 0zm0-2zm4 5zm3 2zm-8 18zm-24 8zm-3 1zm2 5zm1 0zm-12 1zm-4 0zm-2-2zm4-3zm-1-3zm1-1zm-3-6zm-2-1zm-1-1zm1-1zm-4 3zm-1-1zm0-3zm-3 7zm2 1zm3 2zm-2 3zm-11-2zm23-12zm4 3zm-8-21zm13-8zm6 58zm32-3zm5-1zm0-1zm3 3zm-2 3zm7 2zm3-3zm2-2zm-5 0zm6 5zm3 2zm3-1zm0-2zm-12-12z" stroke="#9467bd" stroke-width="4.5" stroke-linecap="round" fill="none"/>
<path transform="scale(0.2)" d="M359 130zm8 4zm8 1zm9 5zm3 3zm2-13zm-6-3zm5-4zm-4-3zm-7 2zm-5 1zm-3-7zm5-10zm-2-5zm-4 3zm14 0zm6 0zm0 5zm-7 4zm17-10zm3 3zm10 3zm0 1zm4 0zm1-3zm11 4zm0 8zm-3 4zm-4 1zm0 2zm-2 6zm-1 4zm7 4zm3 1zm9 10zm2 2zm6 1zm1 0zm5 4zm-30-40z" stroke="#fff" stroke-width="3.5" stroke-linecap="round" fill="none" opacity="0.7"/>
<path transform="scale(0.2)" d="M394 151zm4 1zm2 1zm0 1zm-2 1zm0 1zm-1 0zm2 2zm3 3zm1 0zm2-1zm0-2zm2 5zm2 2zm-1 1zm4 1zm5-4zm2-1zm1 1zm2-1zm0-3zm3 0zm3-2zm1 4zm-34-14z" stroke="#9467bd" stroke-width="3.5" stroke-linecap="round" fill="none"/>
<path d="M38.6,45.0C38.6,44.2 39.2,43.4 40.0,43.0C40.8,42.6 42.4,42.6 43.5,42.7C44.6,42.8 45.7,43.1 46.5,43.6C47.3,44.1 48.2,45.2 48.2,46.0C48.2,46.8 47.5,48.1 46.5,48.6C45.5,49.1 43.6,49.2 42.5,49.0C41.4,48.8 40.6,48.3 40.0,47.6C39.4,46.9 38.6,45.8 38.6,45.0Z" fill="#e377c2" opacity="0.8"/>
<path transform="scale(0.2)" d="M194 227zm3-6zm0-3zm4 2zm0 1zm2-5zm0-2zm3 4zm1 5zm2 0zm0 1zm0 3zm1 0zm3-3zm0-2zm1-3zm-1-1zm1-5zm-1-1zm5 2zm4-2zm3 6zm0 3zm-2 0zm-2 1zm-3-1zm-3 4zm0 3zm4 0zm3 3zm2 2zm1 1zm-1 1zm0 1zm-2-2zm3-6zm-2-3zm6 5zm2 1zm3-1zm2-4zm3-3zm3 7zm-4 6zm-2-1zm-3 0zm-3 0zm-1 1zm0 4zm-3 2zm-4-1zm0 4zm6 1zm5-7zm1 0zm-17 2zm-2 2zm-4 0zm0-7zm2 0zm-1-5zm-3 1zm-3-1zm-2 1zm2 2zm-1 2zm-3 1zm0-2z" stroke="#e377c2" stroke-width="4.5" stroke-linecap="round" fill="none"/>
<path d="M93.8,50.6C94.0,50.2 95.8,50.2 97.0,49.3C98.2,48.4 99.7,45.6 100.7,45.3C101.7,45.0 102.3,46.6 103.0,47.5C103.7,48.4 103.9,49.6 104.6,50.5C105.3,51.4 107.3,52.3 107.0,52.6C106.7,52.9 104.2,52.5 103.0,52.3C101.8,52.1 100.7,51.7 99.5,51.6C98.3,51.5 97.0,52.0 96.0,51.8C95.0,51.6 93.6,51.0 93.8,50.6Z" fill="#8c564b" opacity="0.3"/>
<path transform="scale(0.2)" d="M468 252zm4 2zm2 2zm2 1zm1-2zm0-2zm-2-1zm-1-2zm7 1zm4 0zm2 1zm-1 2zm0 2zm4 2zm5-1zm0-1zm2-1zm2 0zm2 0zm0 3zm0 1zm3-1zm0-1zm1 0zm3-7zm0-2zm0-5zm-3 1zm-2-3zm-2-1zm-2 2zm1 4zm-4 0zm0-1zm2 6zm-10-5zm-1 0zm-1 1zm-1-1zm-4 12zm14-20zm0-1zm0-3zm4-1zm4 1zm2 1zm2-2zm0-1zm2-1zm2 3zm-1 3zm1 2zm8 2zm3 6zm0 4zm-1 1zm-1 4zm-1 1zm-1-2zm-1 1zm-1 0zm-1 0zm0-1zm-1 0zm0-2zm2 0zm-3-3zm1 8zm-1 1zm7 1zm4 1zm8-1zm1-3zm-31-20zm1-6zm1 0zm-3-3zm7-1z" stroke="#8c564b" stroke-width="4" stroke-linecap="round" fill="none"/>
<path d="M110.5,54.6C110.8,54.0 112.3,53.6 113.5,53.5C114.7,53.4 116.8,53.6 117.5,54.2C118.2,54.8 118.0,56.0 117.8,57.0C117.5,58.0 116.8,59.6 116.0,60.5C115.2,61.4 113.8,62.4 113.0,62.3C112.2,62.2 111.5,60.9 111.3,60.0C111.1,59.1 111.7,57.9 111.6,57.0C111.5,56.1 110.2,55.2 110.5,54.6Z" fill="#8c564b" opacity="0.35"/>
<path transform="scale(0.2)" d="M554 272zm3 0zm-3 6zm2 1zm-2 2zm5-1zm2 0zm0-1zm1 4zm0 2zm-1 3zm2 2zm1 2zm0 2zm1 2zm0 1zm2-1zm2 2zm1-3zm6 4zm0 4zm1 0zm-3 1zm-1-2zm-1 5zm1 3zm-7-1zm-1 3zm3-8zm-7-6zm-3-4zm-2 1zm0 2zm1-6zm1-6zm7-2zm2 2zm2 2zm2-1zm1-3zm-1-2zm4-2zm1 0zm0 1zm1 1zm2-2zm0-1zm-1-2zm-2-1zm-1 0zm0-1zm-2-2zm-2 2zm-2 2zm-2 3zm-1 1zm-2-4zm4-4zm2-4zm-6-1zm13 0zm4 5zm-1 1zm1 1zm-1 6zm0 3zm-1 1zm-1 3zm-2 0zm3 2zm-1 2zm3 0zm0 1zm1-3zm2 1zm3 0zm1 0zm-5-3zm-2 0zm6-4zm-2-3zm-10-3zm5 20zm2 1z" stroke="#8c564b" stroke-width="4" stroke-linecap="round" fill="none"/>
<path transform="scale(0.2)" d="M519 260zm0 2zm1 0zm1-2zm1-3zm4 4zm0 1zm0 1zm-1 0zm-3 1zm6 1zm2 0zm1 1zm5-3zm1 1zm1 2zm-1 1zm6 3zm7 2zm5 2zm1 1zm2-1zm1-1zm-1-2z" stroke="#8c564b" stroke-width="4" stroke-linecap="round" fill="none"/>
<path transform="scale(0.2)" d="M590 250zm2-3zm1 0zm1-3zm-1-2zm4 4zm-1 2zm-2 4zm4 0zm-3 5zm0 8zm-3 0z" stroke="#8c564b" stroke-width="4" stroke-linecap="round" fill="none"/>
<text x="63.40" y="42.90" font-size="9.7" fill="#8f4fa8" stroke="#8f4fa8" stroke-width="0.22">Erythrocytes</text>
<text x="30.70" y="57.50" font-size="9.7" fill="#f77fd3" stroke="#f77fd3" stroke-width="0.22">Epithelial cells</text>
<text x="117.40" y="54.30" font-size="9.7" fill="#6f4a30" stroke="#6f4a30" stroke-width="0.22">Neurons</text>
<text x="179.60" y="35.60" font-size="9.7" fill="#f26c45" stroke="#f26c45" stroke-width="0.22">Endothelial</text>
<text x="179.60" y="47.30" font-size="9.7" fill="#f26c45" stroke="#f26c45" stroke-width="0.22">cells (EC)</text>
<text x="154.50" y="91.90" font-size="9.7" fill="#e62531" stroke="#e62531" stroke-width="0.22">Muscle</text>
<text x="178.70" y="133.40" font-size="9.7" fill="#1ea650" stroke="#1ea650" stroke-width="0.22">Immune cells</text>
<text x="29.80" y="150.20" font-size="9.85" fill="#2b7bbd" stroke="#2b7bbd" stroke-width="0.22">Mesenchymal stromal cells (MSC)</text>
</g>
<g id="panel-b">
<text x="241.70" y="11.10" font-size="15" font-weight="bold" stroke="#000" stroke-width="0.22">b</text>
<text x="380.80" y="27.90" font-size="13.3" text-anchor="middle" font-style="italic" fill="#222" stroke="#222" stroke-width="0.22">Elmo2</text>
<path d="M280.3,33.8V150.5H480" fill="none" stroke="#8a8a8a" stroke-width="0.8"/>
<line x1="278.20" y1="150.50" x2="280.30" y2="150.50" stroke="#777" stroke-width="0.6"/>
<text x="276.6" y="153.00" font-size="6.1" text-anchor="end" font-family="DejaVu Sans, sans-serif" fill="#111" stroke="#111" stroke-width="0.18" stroke="#222" stroke-width="0.2">0.0</text>
<line x1="278.20" y1="133.86" x2="280.30" y2="133.86" stroke="#777" stroke-width="0.6"/>
<text x="276.6" y="136.36" font-size="6.1" text-anchor="end" font-family="DejaVu Sans, sans-serif" fill="#111" stroke="#111" stroke-width="0.18" stroke="#222" stroke-width="0.2">0.5</text>
<line x1="278.20" y1="117.22" x2="280.30" y2="117.22" stroke="#777" stroke-width="0.6"/>
<text x="276.6" y="119.72" font-size="6.1" text-anchor="end" font-family="DejaVu Sans, sans-serif" fill="#111" stroke="#111" stroke-width="0.18" stroke="#222" stroke-width="0.2">1.0</text>
<line x1="278.20" y1="100.58" x2="280.30" y2="100.58" stroke="#777" stroke-width="0.6"/>
<text x="276.6" y="103.08" font-size="6.1" text-anchor="end" font-family="DejaVu Sans, sans-serif" fill="#111" stroke="#111" stroke-width="0.18" stroke="#222" stroke-width="0.2">1.5</text>
<line x1="278.20" y1="83.94" x2="280.30" y2="83.94" stroke="#777" stroke-width="0.6"/>
<text x="276.6" y="86.44" font-size="6.1" text-anchor="end" font-family="DejaVu Sans, sans-serif" fill="#111" stroke="#111" stroke-width="0.18" stroke="#222" stroke-width="0.2">2.0</text>
<line x1="278.20" y1="67.30" x2="280.30" y2="67.30" stroke="#777" stroke-width="0.6"/>
<text x="276.6" y="69.80" font-size="6.1" text-anchor="end" font-family="DejaVu Sans, sans-serif" fill="#111" stroke="#111" stroke-width="0.18" stroke="#222" stroke-width="0.2">2.5</text>
<line x1="278.20" y1="50.66" x2="280.30" y2="50.66" stroke="#777" stroke-width="0.6"/>
<text x="276.6" y="53.16" font-size="6.1" text-anchor="end" font-family="DejaVu Sans, sans-serif" fill="#111" stroke="#111" stroke-width="0.18" stroke="#222" stroke-width="0.2">3.0</text>
<line x1="278.20" y1="34.02" x2="280.30" y2="34.02" stroke="#777" stroke-width="0.6"/>
<text x="276.6" y="36.52" font-size="6.1" text-anchor="end" font-family="DejaVu Sans, sans-serif" fill="#111" stroke="#111" stroke-width="0.18" stroke="#222" stroke-width="0.2">3.5</text>
<text x="258.90" y="94.20" font-size="9.8" text-anchor="middle" fill="#222" stroke="#222" stroke-width="0.22" transform="rotate(-90 258.90 94.20)">Expression level</text>
<path transform="scale(0.2)" d="M1483 527zm1-1zm2-1zm3-1zm1 3zm2 1zm1 2zm1-1zm-3 3zm-2-1zm-2-2zm-3 3zm-1-1zm1 5zm5 0zm1-1zm2 3zm-2 2zm-1 3zm0 1zm2 1zm-2 2zm0 4zm-2 0zm-2 1zm-1-3zm-1-2zm3-5zm8 0zm2 2zm0 2zm2-3zm2 2zm2-1zm4-3zm0-1zm1-4zm3 1zm2 2zm1-1zm3 0zm1 4zm-3 3zm1 1zm2 2zm1-1zm-4 2zm0 1zm-2-3zm-3-2zm-2 1zm0 2zm-3 3zm-1 2zm1 1zm1 1zm1 0zm0-2zm5 0zm0 4zm1 1zm1-1zm0 3zm1 0zm1 2zm-1 2zm-2-2zm-2-1zm0-2zm-1 0zm-1 0zm0 4zm1 1zm-2 1zm-1 3zm4 0zm0 1zm2 2zm2-3zm-1-1zm-2-1zm7 0zm1-1zm0 2zm2-1zm1 0zm0-1zm-1-1zm2 0zm1 2zm2 0zm0-2zm2-1zm0 2zm-3-3zm-1-4zm-1 0zm0-1zm0-2zm0-2zm1 0zm1-2zm-3-1zm-2 5zm1 1zm-3-1zm-2-1zm3 7zm1 0zm2 8zm1 0zm2 0zm0 1zm1 0zm0 1zm1 1zm1-2zm1 4zm0 2zm2 1zm2 0zm0-2zm2 0zm-3-3zm2-3zm1 1zm3 1zm1-2zm-2-2zm2-1zm2 0zm1 3zm2 2zm2-1zm0-1zm3 2zm-1 3zm-2 1zm-1 0zm2 1zm1 1zm0 1zm-2 0zm-2 2zm1 2zm-1 1zm-1 1zm-2-1zm-1 0zm-1-1zm-1 0zm1-2zm-3 0zm-1 1zm-1 1zm-1 3zm2 1zm1-1zm0 3zm2 4zm-1 2zm-2-1zm-2 1zm-3 3zm-2 1zm-2 0zm-1 0zm-2 1zm-2-2zm-2 1zm-1-3zm-1-1zm0-3zm1 0zm2 1zm1-1zm-1-3zm0-2zm-3 0zm-2 1zm-1-1zm-2 0zm-1 0zm-3 1zm-1 1zm-2 0zm-1-3zm-1-2zm-1-1zm-2 1zm-2 0zm-2-1zm-3-2zm-1-1zm2-2zm3-1zm-1-2zm-1-1zm-2 0zm0-1zm-1-4zm2-1zm1-1zm1 0zm-1-1zm-1 0zm-2-3zm-3 1zm-1 1zm-3-1zm0-1zm0-4zm0-2zm3-2zm2 1zm1 3zm2 1zm2 1zm1-1zm2-2zm2-1zm1 2zm0 1zm2 2zm0 1zm2 0zm-2 3zm-1 0zm-1 2zm0 1zm-1 0zm1 1zm-2 3zm1 3zm-2 3zm6-2zm3-1zm2 2zm2 0zm-1-2zm-3 4zm3 1zm1 0zm1 1zm1 0zm2 1zm1 0zm0-1zm2 1zm-1-3zm-2-1zm5-3zm2-3zm0-1zm-1-1zm-4 1zm6 6zm1 3zm-1 1zm-1-1zm4 2zm0 2zm1 1zm-3 2zm2 2zm-2 1zm2 5zm1 6zm1 0zm2 1zm2 0zm1-3zm4-1zm1 0zm-1-1zm2-2zm1 0zm1-3zm1 0zm2-2zm2 0zm0-2zm2 2zm2 4zm-2 4zm0 1zm-1 0zm-1 0zm-2-2zm1-2zm-3 4zm-2 1zm2 5zm0 1zm0 2zm-1 3zm-1 0zm-1 1zm1 4zm1 1zm1-1zm1 3zm3-4zm0-1zm2 4zm1 0zm2 0zm0-1zm0-1zm0-1zm1 2zm2 1zm2-1zm-1-2zm4-1zm0 4zm1 1zm3-1zm0-2zm0-2zm2-2zm1 1zm1-1zm2 2zm-3 1zm0 5zm1 0zm1 1zm0 3zm1 1zm0 1zm-1 0zm-1 0zm0 1zm0 1zm2 2zm2-1zm-1-1zm0-1zm2-2zm5-1zm1 1zm1-2zm1 1zm2 1zm1 0zm3 0zm1 0zm1 0zm0 3zm-1 0zm0 2zm-2 1zm0 2zm0 2zm-1 0zm3 1zm-1 3zm2 1zm2 0zm2-1zm1-1zm1 0zm2 3zm2 3zm2-3zm3 2zm1-1zm1 0zm2 0zm1-1zm-1-1zm-1-1zm3-1zm2 2zm-1 2zm2 1zm1 0zm2-1zm0-1zm1-2zm3 3zm0 1zm0 1zm-2 1zm-1 0zm-3 2zm-1 1zm1 2zm0 1zm0 2zm-2 0zm-1-1zm1-1zm-2-1zm0 3zm-1 0zm-1 1zm0 1zm-1 1zm-2-2zm-1 2zm0 4zm2 0zm-1 4zm-2 1zm0 2zm-2 3zm1 1zm0 2zm0 2zm1 0zm-2 2zm4 3zm0 1zm0 2zm-1 0zm-1-1zm-2 2zm2 1zm1 0zm0 1zm0 1zm1 1zm1-1zm2-1zm0 2zm-1 2zm0 1zm-2-1zm-1 3zm-4 3zm-1-1zm-2 0zm1 2zm1 2zm0 1zm0 1zm-2 1zm-3 3zm-2-2zm-2-1zm-1 4zm-1 0zm-1-1zm-1-2zm-2 1zm-1-1zm0-1zm-1-3zm1-1zm1-2zm-1-1zm0-2zm-2 2zm-2 1zm-2-1zm-1 1zm2-2zm0-2zm-2 0zm-1-1zm1-1zm-1-2zm-1-1zm2-1zm2-2zm0-1zm-1 0zm3 0zm0-2zm2 0zm2-1zm-1-2zm-1-1zm-3 2zm-1-3zm1-1zm-1-1zm-1-1zm0-3zm3-2zm1 2zm1 0zm1-1zm0-3zm1-2zm2 2zm1-2zm2-2zm1-2zm0-1zm2 0zm0-2zm2 0zm0 1zm2-1zm1 1zm1-3zm2-2zm-2-3zm0-1zm1 0zm0-1zm-2 0zm-1-1zm-1-2zm-1 1zm-1 1zm-2-2zm-1-2zm-3-1zm-2 0zm-1-1zm-1-1zm-1 1zm-1 2zm0 1zm0 1zm-2-1zm0-1zm0-1zm-3 3zm-2-2zm-2-2zm-1 2zm-2 1zm-3 0zm0-1zm1-2zm2-3zm2 1zm1-3zm-2-1zm-3 0zm0-1zm2-2zm-5 1zm-1-2zm-1-2zm-1 0zm0-2zm-2 2zm-5 0zm-1-1zm0-1zm-1-1zm0 2zm-2-3zm2-2zm1-1zm1-1zm3 0zm1 0zm-8 1zm-3 2zm0 3zm-3 3zm-3-1zm-1 1zm0-3zm1-1zm1 0zm1-1zm-4-3zm0-1zm-2 2zm-2 0zm0 1zm1 2zm1 1zm1 0zm-2 1zm0 1zm-2 1zm-1 0zm2 2zm-2 2zm-1 3zm2 1zm2 1zm4-2zm1 0zm1-1zm1-1zm0 3zm-2 4zm-2 3zm-2 0zm0 3zm1 3zm0 2zm-1 1zm-1-2zm-2 1zm0 2zm0 1zm-2 2zm-2 0zm0 2zm-3 0zm0-1zm-2-1zm-2 1zm1 1zm-3 1zm-1 0zm0 2zm-1 0zm1 1zm1 0zm1-1zm4 1zm0 3zm1 1zm0 1zm-4-1zm-1 0zm-2 1zm-1-2zm-2 0zm-1 1zm-2 0zm-1 0zm0-1zm2-2zm0-1zm0-2zm0-3zm-2-1zm1-2zm1 0zm0-2zm-2 0zm-3-1zm-1 0zm-2 0zm0 1zm0-2zm0-1zm0-3zm4 0zm1-1zm-1-1zm1-1zm2 1zm0 3zm2 3zm3 1zm-1 2zm2 0zm3 1zm-3 3zm2-8zm-3-2zm0-3zm-2-3zm1-2zm0-1zm-2-1zm-2 0zm0-1zm1-3zm0-1zm0-1zm2-1zm1 1zm1 1zm2 1zm0 1zm-1 2zm-2-1zm7 0zm0-1zm1-3zm-1-2zm-1 1zm-1-3zm0-2zm-2-1zm-2 2zm-1 0zm-2 1zm0 1zm-1 0zm-1-1zm0-1zm0-1zm-4-1zm-4 0zm-2 4zm1 1zm-2 1zm3 2zm0 2zm-1 3zm3 0zm-1 3zm-1 2zm-2 1zm-3-4zm-2 0zm-1 0zm0-2zm1-1zm-3-1zm-1 0zm0 2zm-3 0zm0 1zm0 1zm3 3zm3 0zm-4 6zm0 1zm-1 0zm-2 2zm-1 0zm-3-1zm2-3zm1-1zm0-1zm-2 0zm0-2zm-1 0zm5 3zm1 7zm0 1zm0 1zm1 1zm3-2zm2 0zm2-1zm-1-3zm0-1zm3-1zm-1 9zm1 1zm-1 1zm-1 2zm0 1zm-1 0zm-2-2zm-3 0zm-1 1zm0 1zm-2 0zm0 2zm-2 1zm1 1zm2 1zm1-1zm3-2zm1 2zm1 1zm-1 4zm-3 1zm-2 0zm-1 2zm1 1zm1 3zm0 1zm0 1zm-1 1zm-2 0zm-1 1zm-1 2zm0 1zm1 0zm1 0zm0 2zm2-1zm5-2zm1 0zm1-3zm-3-1zm1-2zm0-2zm-1 0zm2 0zm4-2zm1 1zm3 1zm2-2zm1-3zm1 0zm-2-1zm-2 1zm-5 0zm2-5zm2 0zm1 0zm0-2zm-1-2zm-1 1zm-1-1zm-2 2zm3-5zm3-2zm1 3zm-1 2zm4 0zm-2 4zm4 2zm0 4zm3 1zm1 4zm-1 3zm0 1zm-1 1zm1 1zm-2 2zm-1-3zm0-2zm2 0zm-2-3zm8-4zm1 0zm0-1zm-1-1zm-2-1zm3 6zm4 0zm3 1zm2 1zm1 0zm1-2zm2-1zm0-1zm1-3zm1 0zm2 0zm2 0zm0 1zm1 1zm2-1zm0-3zm2-1zm-1-1zm2-2zm1 0zm2 0zm0-2zm-3 0zm-1 1zm-4 0zm0-1zm-2-2zm1-1zm-2-2zm-1-1zm0-3zm1 0zm2 1zm2-2zm-1-1zm-2-1zm3-2zm2 0zm3-1zm-1-2zm-2-1zm0-2zm-2 2zm-1 1zm3-6zm5 3zm0 3zm1 3zm2-1zm1 1zm2-1zm1-2zm0-2zm-2 0zm0-1zm-2-2zm2-2zm2 0zm-2-2zm1-2zm1 0zm0-1zm2 0zm-4-1zm-3-1zm-3 2zm-1-1zm0-1zm0-1zm-1-1zm-1 1zm4 4zm12 4zm1-3zm1-1zm1 0zm9 0zm2-6zm1 0zm0-3zm1-6zm-2-1zm0-3zm2-3zm-3-1zm0-2zm0-2zm-3 1zm0 2zm-1-5zm-2-1zm0-1zm0-1zm2-1zm1 0zm0-1zm1 0zm1 2zm1-1zm-2 2zm-1 0zm-5 1zm-2 1zm-2 0zm0 1zm-1 1zm-1 0zm1 1zm-4-1zm0-1zm-5 2zm-3-2zm-1-1zm2-1zm2-2zm0-1zm-1-1zm1-2zm1 0zm0 1zm2-2zm0-1zm0-1zm1 0zm1-1zm-1-2zm1-1zm0-2zm-3-1zm-1 1zm1 3zm-1 3zm-2 2zm-2 0zm-1 1zm-1 1zm-3 1zm3 3zm-1 3zm-8-2zm-2-2zm-3 0zm-1 1zm-1 2zm0 3zm1 1zm1 2zm-2 0zm-2 0zm-2 1zm-1 2zm2 1zm1 1zm1-1zm-1 3zm2 0zm2 0zm0-1zm1-3zm-7 3zm-3 0zm0 3zm1 1zm0 1zm3-2zm2 4zm1 0zm-2 1zm6-3zm-13-2zm-2-1zm-2-1zm-2 2zm1 1zm-2-2zm-1 0zm-1-1zm1-1zm-2-1zm-1-1zm-1-1zm0 2zm0 1zm-1 0zm-4-1zm-1-4zm0-1zm0-1zm2 1zm1 0zm1-1zm-3-2zm-3 0zm-1 2zm0 1zm0 2zm-2 0zm-1 1zm-2-3zm2-1zm-1-2zm-3 1zm-1 1zm-2 3zm-3-1zm-2 0zm0 2zm-1 2zm-1 3zm3 0zm1 1zm1 4zm1 2zm3 2zm1 4zm-6-2zm-5-3zm0-4zm1-1zm1 1zm8-5zm5 0zm0 1zm0 2zm-2 2zm-1 0zm4 2zm1-6zm1-1zm12-5zm-1-3zm-1-2zm2-1zm2 0zm-1-2zm3 0zm1 1zm-1 2zm1 4zm0 1zm-1 1zm5-2zm1 1zm1-5zm3 0zm1 0zm0-3zm-1 0zm1-3zm-3 0zm-4-1zm-1 2zm-1-1zm1 3zm-8-4zm0-1zm0-1zm-3 0zm0-2zm-3-1zm-1-3zm-4-1zm-1 3zm-1 1zm3 0zm0 3zm1 0zm-2 1zm-1 1zm0 1zm3 0zm0 3zm-6-2zm-4 0zm-1 0zm1-1zm-2 2zm-2 2zm-3-1zm-2-2zm-1 3zm0 2zm-1 0zm0 2zm2 0zm1-2zm3 1zm1 1zm-1-12zm2-1zm-3-2zm-1-1zm0-1zm1-1zm1 1zm1 0zm1 0zm-2 1zm-3 2zm-2 1zm0-3zm0-1zm1-1zm0-3zm0-2zm1-1zm-2-2zm1-1zm2 0zm3 1zm-1 2zm3 4zm2 0zm0 1zm0 1zm2 1zm-1 1zm2 1zm-1-8zm0-1zm1-2zm1 0zm2 0zm2 3zm3 2zm5 0zm2-1zm0 2zm2-1zm0 3zm-1-6zm14-9zm4-1zm9-3zm3 1zm4 5zm1 2zm1-1zm2-1zm0-2zm1-1zm1-2zm2 2zm1 0zm0-5zm-2-1zm-1-1zm3-3zm-2-2zm-1 0zm3-2zm1-1zm-1-2zm-2 0zm0-2zm-1-2zm1-1zm2 2zm3-1zm1 0zm1 1zm3 1zm0 1zm1-2zm2 0zm2-1zm0 4zm-1 1zm1 1zm-1 2zm-2-1zm-3 2zm-2 2zm0-4zm0-2zm-1-8zm2-3zm2 2zm1-3zm1 0zm1 0zm0-4zm-2-2zm-1-1zm0 3zm-3 1zm-3 1zm0 1zm1 1zm-2-5zm1-1zm1 0zm-3-1zm-3 0zm-1-1zm-1-2zm-4 0zm0 2zm-1 2zm1 1zm-2 1zm-2 0zm0-1zm0-1zm1 0zm-1 3zm2 1zm1 0zm0 1zm0 3zm-3 1zm-1-1zm-2-1zm0-2zm0-2zm-4 0zm-2 3zm0 3zm0 1zm-2 0zm-1-2zm0-2zm-1 0zm-1 0zm0-4zm-1-2zm1-2zm0-2zm-3 0zm0-1zm0 2zm-2 0zm-2 1zm1 1zm-1-6zm-2-2zm-2-3zm-1-2zm-2 2zm-1-3zm-1 0zm-2 0zm-2 1zm1 3zm-6-1zm-1-3zm2-1zm3-2zm1-2zm1-2zm0-3zm-5 3zm-4-4zm2-3zm0-1zm-1 0zm0-2zm3-1zm3-3zm1 0zm1 1zm1 2zm1 2zm1-6zm-3-5zm-2-1zm-1 1zm-2 0zm-2 1zm3 2zm-1-6zm0-3zm-2 0zm-4-1zm-3 0zm0 2zm-4 3zm-4 0zm0-1zm0 3zm0 2zm-2 2zm-2 0zm4 3zm0 1zm1-2zm3 3zm2 3zm0 1zm0 3zm-2 2zm-1 0zm-2-2zm-2 2zm6 3zm2 0zm3 8zm2 2zm-3 2zm-1 2zm2 13zm2 2zm1-1zm-7 2zm-3-2zm7 9zm1 1zm0 3zm5 7zm-15 3zm-2 0zm-1 1zm2 2zm1 4zm-2 0zm-3-1zm0 3zm-1 0zm0-7zm2-4zm1-1zm1 1zm1-2zm6 16zm35-29zm0-1zm2 2zm0 1zm3 1zm2 0zm0 1zm1 1zm1 0zm1-1zm-2-3zm-2-1zm1-2zm1 0zm2-1zm-2-2zm7 5zm1 1zm3-1zm1 1zm1-1zm1 0zm-1-3zm0-6zm-1-1zm1-2zm2 3zm3-9zm-3-4zm-1-2zm2 0zm1-1zm1-1zm-1-1zm-3 0zm-3-1zm1-2zm0-2zm0-3zm-3 2zm0 1zm0 1zm-4 1zm-1 0zm1 3zm2 3zm1 2zm-2 2zm0 2zm-4-3zm0-1zm-1-3zm-1-1zm-3 0zm-1-3zm-3-2zm-3 2zm-1-3zm-2-1zm0-1zm0-1zm-2-1zm-1-2zm0-4zm3-1zm3-1zm5 1zm1 0zm0-2zm3-1zm1-1zm2 1zm5 0zm0-1zm0-3zm0-1zm-1-3zm-1-2zm2-3zm2 2zm1 2zm2 0zm-1 2zm-1 4zm4 3zm1-4zm3-2zm4 1zm0-3zm1-1zm1-4zm1-2zm3-1zm1 4zm0 1zm2-2zm3-3zm1-1zm3-1zm3-2zm3-3zm1-1zm-6 0zm-3-1zm-1 0zm-2-2zm-2 3zm0 2zm-2-1zm-6 2zm-1 0zm-2-2zm-1 0zm3-2zm0-5zm-3 1zm-4-5zm-1 0zm-4 0zm0 3zm-3 7zm1 3zm0 2zm4 1zm0-3zm1 0zm1-1zm-1-1zm2 6zm5-1zm2 2zm-6 6zm-1 1zm7 7zm0 2zm-1 1zm-1-1zm1 4zm1 0zm3 0zm0-2zm0-3zm1-4zm6 2zm0 1zm0 1zm-1 3zm-2 1zm1 1zm0 2zm0 1zm2-1zm1-1zm1-1zm3-1zm1 1zm3 0zm2-1zm3 1zm1-2zm3-1zm-1-2zm1-2zm-4-2zm0-3zm-3 2zm0 4zm-3 0zm-1 0zm-1 1zm-2-2zm0-4zm1 0zm1 0zm1 0zm-2-4zm-1-3zm5 2zm2 0zm4-2zm2 3zm2 1zm5 4zm0 4zm2 5zm4 3zm1-5zm-1-1zm3-1zm4 1zm0 1zm1-2zm2 1zm1 3zm2 1zm-1 2zm-1 2zm2 2zm3 2zm1 1zm0 1zm5 3zm2 0zm-1-2zm4-1zm1 2zm2 1zm1 1zm2 1zm0-2zm1-2zm1-1zm1-1zm2-1zm0-2zm1-3zm0-1zm2-3zm1 0zm0-1zm4 0zm3 1zm1-1zm0-1zm0-4zm-1-1zm0-4zm-5-2zm-2 0zm-2-1zm0-2zm3-3zm2-1zm3-3zm0-4zm4 0zm1 0zm0-6zm-7 0zm0 1zm-1 1zm-1 1zm-2-3zm-3-1zm0 3zm-2 1zm-1 0zm-2 0zm1-4zm-7-5zm-3 5zm-2 6zm2 3zm1 1zm1 1zm-3 3zm3 2zm2 0zm1 0zm0 3zm3 1zm1 2zm2 1zm2-1zm-1 3zm-1 3zm1 1zm1 0zm1-1zm5-1zm2 10zm0 3zm-3 2zm5 1zm2 3zm0 1zm0 1zm-1 0zm-1-1zm-2 2zm-1 0zm-3 0zm-1 1zm1 3zm2 1zm-1 3zm-3-2zm-1 1zm-2 1zm-1-1zm-1-1zm-3 1zm-2 1zm3 2zm2 0zm-3 3zm0 1zm-1 1zm-1 0zm-1-3zm-4-1zm-1 1zm-2 2zm3 2zm1 2zm1 1zm1 1zm-1 1zm1 1zm-1 2zm3 1zm1 0zm1 1zm0 2zm0 1zm-2 3zm0 1zm0 2zm-1 2zm1 2zm-1 2zm0 1zm-2 1zm-1-2zm0-2zm1 0zm-4-1zm-1 0zm-3 0zm0 1zm-1 1zm2 2zm1 4zm2-1zm1 0zm0 2zm-1 0zm-2 2zm1 1zm2 0zm2-1zm2-1zm2 0zm1 2zm0 2zm1 0zm2 2zm-2 1zm1 2zm0 2zm-1 0zm-1-1zm-1 1zm1 1zm2 1zm3 0zm0-2zm1 0zm1 1zm1-1zm0-2zm0-1zm-1 0zm-3 2zm4 3zm2 0zm0-1zm1 0zm1 1zm2 0zm0-2zm1-2zm-4-1zm0-2zm0-1zm0-1zm0-1zm-1 1zm-1-2zm-1-1zm2-4zm-1-2zm-2 1zm-2-2zm0-1zm-2-2zm-1 1zm-1 2zm1 1zm1 4zm-6-1zm0 6zm0 1zm-1 2zm0 1zm-5-1zm-1 2zm-1 1zm-2 1zm-2-1zm-1 0zm0-1zm1 3zm-3 3zm-2 1zm-1-2zm-3 2zm0 1zm-1 1zm-2 2zm-2-3zm-1-1zm0-1zm1-1zm1 1zm0-3zm0-2zm0-1zm-2 0zm-1 0zm0-2zm-3 0zm-1-1zm-1-1zm0-1zm-1 0zm-1 2zm-2-1zm0-1zm1-2zm-1-1zm-1 0zm0-1zm-1 0zm0 1zm-1-4zm0-3zm2 0zm-1-2zm0-1zm-1 1zm-2-4zm-2 1zm-2-2zm-1 1zm0 1zm-1 0zm-1-3zm2-1zm2-1zm3 1zm0-2zm1-2zm-3 0zm0-3zm3 0zm3 0zm1-1zm2-3zm2 0zm1-1zm1-1zm0-1zm2 2zm1 0zm2 3zm2 0zm2-1zm-2-3zm1-1zm4 2zm1-1zm1 2zm2-1zm2 0zm0-2zm0-1zm1 0zm2 1zm1 2zm-1 2zm-1 2zm3 0zm4 1zm1 1zm0 2zm-1 0zm4 2zm-2 2zm0 1zm-2 0zm-1 0zm-3-1zm-2 0zm0 2zm0 1zm1 0zm-5-3zm-2-1zm-1 0zm-1-2zm3 0zm3-1zm1 0zm-5 7zm0 2zm0 1zm0 1zm-2-1zm-1 0zm-1 1zm2 1zm-4-3zm-3-1zm-1 1zm-1-2zm0-2zm3-1zm1-2zm-1-3zm-3 0zm-2 0zm-1 2zm-1 1zm1 1zm-3-1zm-1-1zm0-1zm-2 1zm0 3zm1 1zm2-1zm1 2zm1 1zm1 1zm-4 1zm5 3zm1 2zm1 0zm1 3zm0 1zm0 3zm2 1zm1 0zm0-2zm1-1zm0-3zm-1-4zm3-6zm0-2zm1-8zm2-8zm0-3zm-2-1zm-1 1zm-1 1zm-1-4zm-3 1zm0-2zm-1 0zm-4 2zm-4 0zm0-3zm-3 3zm-2-3zm-3-1zm0 4zm-2 0zm-1 1zm-4-1zm0 3zm1 1zm-4-1zm-1 1zm-1 0zm-2 3zm0 2zm1 0zm0 1zm-1 2zm4-3zm0-2zm5 2zm1 1zm-3 3zm0 2zm-2-1zm0 3zm1 1zm1 1zm1-1zm-4 3zm1 2zm-3 0zm-2 1zm1 3zm1 1zm1-2zm-3 4zm-2 0zm-4 0zm0 1zm-2 0zm-3 2zm0 1zm2 1zm-1 3zm2 5zm2 0zm0 1zm0 2zm-1 2zm0 1zm3 0zm0-1zm2 2zm1-1zm1 0zm1 0zm1 1zm0 1zm0 3zm2 1zm3-1zm1 1zm0 3zm2 2zm1 0zm1-1zm4-1zm0-1zm0 3zm4 0zm3-1zm0-2zm-1-1zm-1 0zm0 1zm2-3zm0-1zm-2 0zm0-1zm1-1zm1-1zm2 0zm0 1zm1 0zm1 1zm1 1zm-1 1zm0-6zm2 0zm-3-2zm-1 0zm-2-3zm-4 3zm-1-2zm-1 1zm-1-2zm-2-3zm-2 1zm-2-2zm-2 0zm-1 1zm0 1zm0 1zm1 3zm-2 2zm0 1zm-1-2zm-1 0zm0-2zm-2-1zm0-2zm-2 0zm-2-1zm-2 0zm3-4zm1-2zm1 0zm1-1zm1 2zm2 0zm0-2zm1-1zm1 1zm0 1zm1 2zm-1 1zm2-5zm2-1zm0-2zm-7 2zm-3 8zm-1 6zm-3 7zm-1 2zm-2 0zm-1 3zm0 1zm0 1zm1 0zm0 1zm1 1zm0 1zm1-1zm1-3zm1-2zm2 1zm0 1zm-5-1zm-4-1zm-1-3zm-3 5zm-1 1zm3 0zm-5-15zm2-1zm-7 0zm-1-5zm-6 7zm-7 22zm-9 29zm-3 2zm1 2zm-2 0zm3 2zm1 2zm3 0zm1-1zm-1-1zm-1 5zm-1 1zm-2 0zm4 0zm1 4zm2 7zm1 2zm3 0zm0 2zm-1 1zm3 2zm1-1zm-9-2zm-1-1zm-2-1zm3 11zm1 0zm-3 1zm-1 8zm1 1zm3 0zm1 3zm1 3zm2 2zm2 0zm0-1zm-1-2zm1-4zm0-1zm3 0zm0-2zm-2-2zm-1 0zm3-1zm2 1zm3 4zm2-2zm2-1zm1 1zm2-1zm2-1zm1 0zm-2-1zm0-2zm0-2zm-3 1zm0 1zm-1-1zm0-4zm0-1zm2 0zm2-1zm2 2zm2-2zm3-2zm-2-2zm-1 0zm1-2zm1 0zm1-3zm2-2zm0-1zm0-2zm0-1zm2-3zm3 0zm1 2zm2 2zm1 0zm1 0zm0-1zm2 2zm-1 1zm0 2zm2-1zm2-1zm0-2zm3-1zm2-1zm1-2zm-3 0zm1-3zm0-2zm5 0zm1 0zm1 0zm1 4zm0 1zm2 1zm1 1zm-1 1zm-3 0zm-1-1zm-1 0zm-1 1zm-2 2zm0 1zm2 1zm3 5zm-2 4zm3 4zm2-2zm1-2zm1 0zm1-2zm2 0zm0 3zm0 1zm0 1zm1-1zm-3 3zm-1-1zm-1 2zm-1 3zm1 1zm-3-2zm-1 2zm-3 0zm-1 1zm3 2zm1 2zm2-1zm2 0zm2 2zm2 1zm1 1zm-2 1zm-2 0zm0 2zm0 3zm-1 2zm-1 2zm-1 2zm2 1zm7-1zm3 4zm1 3zm1 1zm2-4zm1-3zm3-3zm-1-3zm0-2zm0-1zm-1 1zm1-4zm-3-4zm0-2zm3 0zm2-1zm2-1zm-2-2zm-1-2zm2-1zm1-1zm0-3zm-1-4zm1-1zm3 0zm1 0zm0-1zm1 1zm-1 2zm5 1zm0 2zm2-1zm1 2zm-3 2zm1 4zm3 1zm1 1zm2-2zm1 1zm2 0zm-2 2zm1 2zm3-1zm2-1zm0 2zm0 3zm1 1zm2 1zm0-3zm4-3zm1 0zm0 1zm2 0zm2 1zm0 2zm1 3zm0 1zm3 0zm-2 3zm-1 3zm-2-1zm-3 1zm0 2zm0 1zm2 1zm3-1zm3 5zm-6 1zm-1-1zm-3-2zm-2-2zm1-2zm1-3zm-3 0zm-2 1zm0 2zm-2 3zm2 1zm1 0zm-1 1zm0 1zm-1 0zm1 1zm0 1zm2-2zm-6 1zm-2-3zm0-2zm1 0zm0-1zm1-1zm-1-1zm0-2zm1-1zm0-2zm-1-1zm2 0zm2-1zm0 2zm3 0zm1 0zm3-1zm1 0zm2 0zm-1-2zm-1-1zm1-3zm-3-5zm-2-1zm0-2zm0-2zm1-1zm2 0zm1-1zm1 1zm2 0zm-1-3zm-2-1zm-1 2zm-4 1zm-3 0zm-1 1zm0 1zm2 1zm1 3zm-3 0zm-4-4zm2-2zm-2-3zm2-2zm1 0zm1-3zm1-2zm0-2zm0-2zm-2-2zm1-1zm-2-1zm-1 0zm0-2zm2-3zm1-3zm4 2zm1-1zm0-3zm-1-2zm2-1zm1 1zm2-2zm0-3zm-1 0zm-2 1zm0-3zm1-4zm3-3zm-1-1zm-1-2zm1-3zm2-1zm0-1zm2 0zm0 1zm0 1zm1-3zm-1-1zm0-1zm3 3zm0 7zm-1 0zm-3 1zm0 1zm0 1zm4 4zm-4 3zm-1 0zm1 2zm1 1zm2 0zm-4 3zm1 1zm1 1zm1 5zm0 3zm0 1zm2 1zm-4 1zm-1 1zm-2 3zm-2-2zm-4 2zm0-5zm0-1zm2-3zm0-1zm4-1zm1 1zm-1 2zm-1-5zm-8-9zm-1-2zm0-2zm0-1zm-2 2zm-3-1zm-2 3zm-2-2zm-1-1zm1-3zm3-1zm3 0zm1-3zm0-2zm-2-2zm-1-1zm-1 2zm-1 1zm2 0zm4-3zm1 0zm0-2zm-3 0zm2-3zm3-2zm1 1zm1 0zm0-1zm1 1zm4 0zm0-4zm-2-1zm-1-2zm-1-1zm0-1zm1 0zm2-2zm2 1zm-1 1zm0 1zm4-1zm1-2zm0-1zm0-2zm2 1zm2 0zm0-2zm0-1zm-1-3zm-2-1zm0-1zm-3-1zm0-1zm-1 3zm2 2zm-2 1zm-1 1zm-2 1zm-1 1zm-4 0zm0-1zm-1 1zm0 3zm-1 1zm-1 0zm-1-1zm2 2zm1 0zm-1 1zm-3 1zm-4 0zm-2-2zm-1-2zm2-3zm1 1zm1 3zm-8 0zm-1 1zm-2 0zm-1 1zm-2 0zm1 2zm1 0zm0 2zm-3 1zm-1 0zm-1 0zm-1 3zm1 1zm0 2zm-1 0zm-1-1zm-4 0zm-2-2zm-1-2zm2-2zm0-2zm1 0zm1 2zm1 1zm0 1zm0-5zm0-1zm1 0zm1 0zm0-1zm-1-1zm-1-2zm-1 0zm-1 2zm-2 0zm-1-1zm1-1zm-2 2zm-1 1zm0 1zm-1 0zm-1-2zm0-2zm4 3zm-5 3zm1 3zm0 1zm1 1zm-2 3zm-1 0zm3 2zm2 2zm0 1zm-2 1zm-1 1zm1 1zm-1 1zm-2-2zm1-1zm-3-1zm-1-1zm-2 3zm0 3zm1 3zm0 2zm-1 1zm-2 1zm-1-1zm-2-2zm2-1zm7 0zm6 2zm1 0zm1-1zm0-2zm2-1zm1 0zm1-1zm1 0zm2 0zm1 0zm-1-2zm-3-2zm-2 0zm-1-1zm0 4zm2 0zm2 3zm2 2zm-2 1zm2 2zm2-1zm2 0zm0-3zm-1-1zm4-2zm3 1zm1 0zm2-3zm0-2zm-2 0zm0 1zm-1 0zm0-3zm2-1zm0-2zm-1-1zm0-3zm2-2zm2 2zm2-1zm7-2zm2 8zm4 1zm-6 6zm0 2zm-4 9zm-3 2zm2 2zm-2 1zm2 4zm-3 4zm-2 0zm-2 0zm0 1zm-1-1zm-1-1zm-2 3zm-2 1zm0 2zm1 2zm1 0zm1-2zm4-2zm1 0zm3 3zm1 1zm0 1zm1 0zm0 1zm-2-1zm0 3zm-1 0zm0 1zm-4 0zm-2-2zm3-2zm7 3zm1 0zm-2 4zm-1 6zm-2 2zm-3 7zm-1 0zm2 1zm-3 1zm-2 1zm-1 2zm-2-2zm-2-1zm2-6zm1-2zm-1-2zm-3 3zm-6-3zm-2-3zm0-1zm-2 3zm1 6zm2-14zm4-3zm2 1zm1-2zm1 1zm-1-3zm0-4zm-5 1zm-4-6zm1-3zm3 0zm-7 1zm-3 0zm-1 12zm0 1zm0 2zm-3 1zm-1-2zm-7 13zm-3 1zm-1 0zm0-1zm-11 4zm-2-1zm-1 1zm1 1zm-2 0zm-2 1zm-1 0zm0 2zm-1 2zm-1 0zm0 1zm-2 0zm0 2zm-2 0zm4 1zm3-1zm0-1zm2 1zm1 1zm-4 3zm5 2zm0 1zm-2 3zm1 2zm-1 1zm-3 1zm-1 0zm0 1zm-1-1zm-2 0zm-1-2zm-2 2zm-1 2zm1 1zm1-1zm1 2zm-4 0zm-2-4zm2-1zm-5 1zm-2 1zm-2-2zm-3-2zm-1-1zm1-1zm-1-3zm0-2zm1-1zm-2-1zm-1 0zm-1 3zm-1 1zm-1 1zm-1 3zm0 1zm0 1zm-1 0zm0-1zm2 0zm0 2zm0 2zm3-1zm2 4zm-8-1zm-2 0zm-2-4zm2-2zm0-4zm-2-1zm-3-1zm-2 1zm-1-2zm0-1zm-1-1zm-1 1zm0-3zm1 0zm1-1zm-1-2zm-2-1zm-1 3zm1 1zm4 1zm2 0zm-6 6zm-1 1zm0 2zm-1 1zm-1 1zm0 1zm-2 0zm0-1zm-2 0zm-2-1zm-2 0zm-2 2zm4 1zm-1 2zm4-2zm1 2zm5-2zm-1-2zm4 0zm0 2zm0 1zm-1-6zm-7 1zm-4-4zm1-2zm3-1zm1 0zm1 0zm-3-2zm-6 2zm-5-3zm-2 0zm-1 1zm2 1zm-1 2zm0 2zm-2 1zm-1-3zm-2-2zm-2 3zm1 1zm-1 1zm-2 1zm-3 1zm-4-2zm-1-3zm-3 0zm0 4zm0 1zm2 1zm0 1zm1 0zm0 2zm0 1zm1 2zm0 2zm-1 0zm-2-2zm7-2zm2 1zm3 3zm2 1zm3-4zm3 0zm1 1zm-1 2zm-1 1zm4-1zm1 0zm0 1zm-3-9zm-4 1zm-3-3zm-1 1zm4-11zm1-1zm1-1zm0-1zm-16-7zm0-2zm1 0zm-3 0zm-1 0zm0-1zm1-2zm0-3zm-2-2zm2-3zm-2-1zm0-1zm2-4zm1 0zm2 1zm1 5zm-7 14zm3 2zm0 1zm0 1zm0 6zm-1 1zm-1-50zm-1-1zm27-3zm0 7zm2 2zm33 16zm4 0zm3 1zm4-1zm1 3zm0 2zm-2 0zm-1 2zm0 1zm-5-4zm-1-1zm-1-7zm3 0zm5 1zm4 0zm0-2zm1-4zm2 0zm1-3zm3 1zm5 2zm1 0zm1-1zm2 0zm3 2zm-8 7zm-1 1zm0 2zm-1 0zm-1-1zm4 4zm1 0zm0-1zm-2 6zm2 1zm-1 2zm-2 3zm-3 0zm0-1zm-1-1zm-1 1zm-1 0zm0 3zm-3 0zm0-1zm0 2zm2 3zm1 0zm-3 2zm-4 1zm-4 1zm0 1zm0 2zm-1 0zm-1 2zm3 0zm-1 3zm0 1zm-3-1zm-2 0zm0-5zm-4-2zm18 10zm3 4zm2-1zm1 8zm7-2zm2-5zm3-7zm0-4zm3-2zm1 1zm1 1zm1 2zm2 0zm0 3zm0 2zm-1 0zm-1 4zm-2 7zm8-14zm6-2zm-9-4zm-15-3zm-7-14zm0-2zm2 0zm11-6zm4-22zm-2-3zm5-14zm-1-3zm0-2zm0-1zm-1-2zm-1-1zm-1 1zm0-3zm1-2zm-3-3zm-1 1zm-1-4zm4-7zm1-1zm2-1zm4 1zm1-1zm0 2zm2-6zm-11 0zm-4 3zm11 13zm2 4zm0 2zm0 1zm-2-2zm5 0zm0-1zm2-1zm-2-3zm1 7zm0 2zm-1 2zm-4 0zm14 10zm3 7zm-4 1zm11-13zm3 1zm2-1zm1 1zm0 9zm2 1zm0 1zm-1 2zm0 5zm4 1zm-1 4zm-4 2zm20 17zm4 2zm5 0zm3 0zm0-4zm-4 0zm6 11zm-2 1zm-2 2zm-17 9zm-2 0zm-2 3zm-3 2zm-2-1zm-1-1zm2-1zm1-1zm-3 5zm-1 3zm-1 1zm-2-2zm-1-4zm-4 3zm4 5zm-1 1zm0 1zm-2 0zm-1 0zm0 1zm2 1zm-1 1zm0 1zm1 2zm1-1zm-5-3zm8-3zm4 0zm0 1zm2 0zm0-3zm-1 0zm1-3zm1-1zm2 2zm3 3zm-1 6zm-4 2zm-4-3zm-1-92zm0-2zm-2-5zm-1-2zm-2 1zm-1-1zm-1-1zm-2 0zm-1 0zm-4-2zm1-3zm-3-4zm1-7zm2-2zm3-3zm-1-1zm1-2zm3 0zm0-1zm0-2zm1 0zm0-1zm1 2zm3 5zm2 2zm-3 1zm-3-1zm0 2zm6 7zm0 1zm1-1zm0 3zm3-2zm2-1zm0 2zm2 3zm3 0zm3 3zm2-2zm1 0zm0 2zm1-4zm1-2zm10-4zm2-1zm-2-3zm-3-3zm4-4zm1 0zm0-4zm-1-2zm-1 0zm-1 3zm-2-2zm-2 0zm0-1zm-1 3zm0 1zm-1 0zm-1 1zm-1-5zm0-2zm1-2zm-2-1zm-3 1zm-3-2zm-2 1zm-1 0zm7-6zm-1-1zm-2-2zm-1-4zm0-2zm-2-2zm1-1zm0-1zm0-1zm2-1zm2 4zm2 1zm0 3zm0 2zm2 3zm2 0zm1-1zm2-1zm0-1zm1-1zm1 0zm-1-2zm0-2zm1 0zm1 1zm3 2zm1 1zm-2 3zm-3 0zm0 2zm-1 3zm1 2zm0 1zm2 1zm1 0zm1-1zm-7 2zm-2-3zm-1-1zm0-2zm1-7zm2-5zm1-2zm0-1zm2-1zm3-3zm-2-2zm3-6zm-4-3zm3-7zm1-2zm0-5zm-1-1zm1-1zm-4 3zm-11 7zm-1 4zm-6 3zm-1 0zm-4 0zm-1-1zm1-2zm0 5zm-1 0zm0 1zm-2 0zm-1 1zm-1 2zm-1-3zm-1-3zm2 0zm-5 2zm0 3zm2 2zm0 1zm-2 0zm-1 0zm-1 2zm-2-5zm-1-2zm1-3zm1 0zm0-2zm1 0zm-3 0zm0 1zm-3-1zm-2 1zm0 1zm-1 0zm1 2zm-4-2zm3-4zm-1-2zm4 0zm2 1zm-2-6zm-5 1zm-4 2zm-1-2zm-3 0zm0 2zm0 4zm-1 1zm0 3zm2 0zm-7 0zm0 2zm-2-5zm-2 1zm0-3zm1 0zm-5-2zm-1 1zm0-3zm-1 0zm3 0zm0-1zm1-3zm5 1zm2 2zm1 1zm2-3zm-1-1zm-4-4zm-10 3zm-2 0zm-2 0zm2 5zm0 1zm-4 0zm-1 0zm3 4zm-1 2zm2 2zm-5 0zm-1 1zm-3 0zm-1 1zm-2 4zm0 1zm1 0zm3 1zm1 1zm4-1zm2 0zm0-2zm2 0zm0 2zm-4 2zm9-4zm-1-2zm0-3zm-10-4zm-3-2zm-2-1zm-2 3zm-4-2zm-2-2zm-3 0zm2-3zm1-1zm-2 0zm-1-4zm-5-1zm-8 5zm-2-2zm-1 1zm-3-1zm-1-1zm-1 0zm4 8zm-6 9zm-4-1zm-1-2zm2 0zm-3-3zm-2 2zm-1-3zm-3-1zm3-3zm-1-1zm-5 0zm4-13zm3-5zm-2-1zm0-4zm2-1zm3 2zm3-1zm2-3zm2 0zm2-2zm2 2zm1 3zm2-5zm-1-1zm0-2zm3-1zm0-2zm-1-3zm-2-1zm-1 1zm-4 2zm-1-3zm0-5zm-1 0zm2 0zm2-1zm0-2zm2 0zm1 1zm1 1zm-1-4zm3-5zm1-2zm2 2zm0 2zm-1-7zm4-8zm-1-2zm8 9zm3 4zm4 0zm1 9zm1 2zm1 0zm1-1zm3 1zm0 1zm5-1zm1 1zm1 0zm5 0zm4-3zm2 2zm3-1zm5-3zm3-1zm5 4zm4-1zm2 1zm0-5zm4 8zm-4 3zm-4 4zm2 5zm0 3zm1 0zm-3 0zm-3 3zm3 2zm5 3zm5 0zm1-1zm-2 6zm3 2zm0 2zm2 0zm4 1zm2-2zm1-1zm-1-3zm-2 2zm0-6zm3-4zm4 6zm3-2zm0 7zm2 3zm0 4zm-3 4zm-2 0zm0-1zm-3-1zm-3-2zm0-1zm-2 3zm-6-3zm-7-2zm2-17zm-1-6zm2-1zm1-1zm3 4zm4 0zm14-3zm10-2zm0-14zm1-3zm-6-3zm-1-7zm3-2zm1 0zm0 2zm-1-6zm-1-4zm-4-2zm-6-5zm6-6zm2-6zm6-9zm6 2zm-3 15zm3 18zm1 0zm0 8zm3 4zm-23-2zm-3-2zm-2 0zm-3 3zm-1-6zm-3 1zm6-5zm-5-5zm-4-4zm-7-3zm0 6zm-3 7zm-4-3zm-8-15zm-4 1zm-3-2zm-5-1zm-4 7zm-7-5zm-7 9zm-1 0zm11 5zm2 6zm-3 2zm13 3zm9 16zm1 1zm4-1zm-1-2zm-2 9zm-4 2zm-1-1zm-2-2zm-1 3zm6 3zm3 0zm-27 9zm-1-2zm-5 16zm-3 2zm-23 21zm-5 2zm1-7zm-22 4zm-1 0zm0-1zm-12-26zm1-5zm-1-1zm-2 0zm0-1zm-11 5zm-2 0zm1-15zm-1-1zm0-3zm4-2zm1 0zm1 3zm0 1zm1 1zm2-3zm1-3zm-3-3zm-1-4zm-2-1zm-2 1zm0-9zm3-1zm4 0zm1 1zm-8-6zm-2-1zm2-10zm0-1zm5-3zm-7-7zm2-13zm0-3zm4-16zm13-9zm9 2zm11 5zm23-5zm7 2zm13-1zm10 4zm-8 19zm10 2zm7-1zm11-12zm19 3zm8 6zm-9 10zm18-28zm4-8zm-14 0zm11-32zm-56-27zm-29 24zm19 15zm-40 2zm-27-40zm23 93zm8 9zm0 11zm1 10zm-8 3zm-2 2zm-2 0zm0 4zm-5-3zm-4 0zm-2 6zm1 2zm0 2zm2 3zm2-2zm0 5zm2 0zm6-2zm3-2zm-1-2zm3-1zm-1-2zm-5 2zm6 6zm-2 3zm0 2zm4 1zm-2 9zm0 1zm5 1zm0 1zm-17-9zm-6 0zm0-1zm-7-5zm-2-4zm5 0zm0-2zm2 2zm-4-5zm-1-23zm3-2zm10 0zm0 2zm2-4zm15 22zm11-42zm-2-1zm88 81zm0 1zm-4 20zm-4 10zm0 1zm3 1zm0 1zm7 2zm9-5zm3-1zm0-3zm-2-2zm-1 1zm-1 0zm-43 11zm-2 2zm-5-5zm-2 0zm0 1zm2-3zm3-3zm-9 2zm10 26zm2 2zm0 1zm0 1zm-2 0zm0 1zm5-2zm-1-3zm16 21zm3 1zm1 0zm1 2zm-1 2zm4-1zm-8 10zm35 1zm2 1zm2-3zm-82 10zm-4 7zm-1 0zm-1 1zm-14-63zm0-1zm1 0zm-3 1zm-5-1z" stroke="#000" stroke-width="3.1" stroke-linecap="round" fill="none" opacity="0.29"/>
<line x1="313.60" y1="34.02" x2="313.60" y2="150.50" stroke="#2a2a2a" stroke-width="0.9"/>
<path d="M287.6,150.5Q303.2,148.1 311.6,146.1L315.6,146.1Q324.0,148.1 339.6,150.5Z" fill="#1f77b4" stroke="#3a3a3a" stroke-width="0.5"/>
<path d="M313.6,106C314.8,112 315.6,118.0 315.6,125.0C315.6,133 314.8,135 314.6,144L312.6,144C312.4,135 311.6,133 311.6,125.0C311.6,118.0 312.4,112 313.6,106Z" fill="#1f77b4" stroke="#2d2d2d" stroke-width="1.0"/>
<line x1="313.60" y1="124.00" x2="313.60" y2="150.20" stroke="#3a3a3a" stroke-width="2.3"/>
<line x1="313.60" y1="115.00" x2="313.60" y2="124.00" stroke="#333" stroke-width="1.2"/>
<line x1="313.60" y1="113.00" x2="313.60" y2="123.00" stroke="#1f77b4" stroke-width="0.6" opacity="0.75"/>
<line x1="313.60" y1="150.50" x2="313.60" y2="152.30" stroke="#555" stroke-width="0.6"/>
<path transform="scale(0.2)" d="M1817 478zm2 1zm-2 7zm4 2zm2-1zm4 2zm2 3zm3 6zm2-1zm2-1zm1-2zm1 1zm1-1zm-1 7zm2 2zm-3 1zm2 4zm-3 6zm2 5zm3 5zm0 3zm-1 1zm0 3zm-2 0zm-2 3zm2 4zm1 2zm-1 2zm2 1zm1 1zm-2 2zm1 1zm-2 1zm-3 1zm1 2zm-2 1zm-1 2zm3 1zm4 2zm1 0zm3-1zm2-6zm2 1zm1 1zm1 0zm3 2zm1-2zm2-2zm1 1zm-2-2zm-1-1zm-1 1zm2-4zm-1-2zm-1 0zm4-1zm1 2zm0 1zm1 0zm0 1zm0 2zm4 1zm0 1zm2 3zm0 1zm1 0zm-2 1zm1 1zm3 0zm0 2zm0 1zm-1 0zm3 0zm0 2zm0 1zm1-1zm0 2zm3 2zm-1 2zm1 3zm-1 2zm1 1zm3 2zm3 0zm2-1zm-1-1zm2 0zm2 2zm2-1zm1 1zm1 0zm2-3zm3 0zm0 2zm2 2zm2 2zm1 0zm1 2zm-1 1zm-1 2zm2 1zm-2 2zm-1-1zm-1 2zm-3-1zm-2 0zm0 1zm-3-1zm-2 0zm-1-1zm1-2zm1 1zm4-1zm2-1zm-1-4zm-1 0zm1-1zm-5-5zm-1 0zm-3-3zm2-3zm2-2zm0-2zm2 2zm2 1zm1 0zm2 0zm3 1zm0-3zm1-1zm2-1zm0-1zm0-2zm2-1zm2 1zm2 0zm1-1zm1 0zm0-2zm3 0zm0 3zm3 0zm3-2zm-2-2zm1-1zm0-3zm0-3zm-3-2zm-2-1zm3-2zm3-2zm4-2zm-1-3zm-4 0zm0-3zm-2-3zm-1-2zm-3-1zm0-1zm2-2zm0-3zm0-1zm-3 0zm-3 0zm-2 0zm-2-2zm3-3zm2-3zm-3-5zm-2 0zm-4 1zm-3-1zm-1 3zm2 1zm4 3zm-4 8zm4 3zm2 1zm0 1zm1 0zm4-3zm-2 9zm-1 1zm0 1zm1 0zm-1 4zm3 1zm1 2zm1-1zm1-1zm1 0zm-5 5zm2 3zm4 1zm1 3zm7 1zm1 2zm2 0zm-1 2zm1 2zm0 1zm2 0zm1-3zm3 0zm2 1zm0 2zm1 1zm1 1zm-1 1zm-1 1zm-1-1zm0-1zm-1 0zm5-3zm2 1zm-1 2zm3 2zm-1 5zm-2 2zm-3-1zm2-2zm-5 1zm-2-1zm-1 0zm-3-2zm-1 3zm-1 0zm-2 1zm-3-1zm-2 0zm3-2zm-4-3zm-5-2zm0-1zm-3 0zm2 3zm0 2zm-1 1zm-3 0zm-2-1zm0 2zm2 2zm-3 2zm2 2zm0 1zm-2 0zm0 1zm-3-4zm-4-2zm-5-3zm-4-4zm-1-2zm0-1zm1 0zm0-2zm2 1zm1-2zm1-1zm-2-1zm0-2zm-4-1zm-2-1zm-2 0zm-1 1zm-2-2zm1-1zm1-1zm-3-2zm-3 0zm1 3zm-4 0zm-2 0zm-1-1zm0-1zm2-4zm-1-1zm-3-3zm-1 0zm-1-2zm-5 2zm-4 0zm-3-2zm-3-4zm-4 4zm-2 0zm2 3zm2 1zm0 1zm0 1zm3 0zm0 1zm1 2zm4 11zm2 1zm3-1zm0-2zm2 3zm2 0zm1 1zm2 2zm-6 2zm0 4zm-2 0zm2 2zm2-1zm-1 4zm-1 0zm-2 3zm0 1zm0 1zm-1 1zm-1 2zm3 0zm0 1zm0 2zm-1 1zm-4 0zm-2 0zm2 3zm0 3zm-2 1zm0 1zm-3 2zm-4-4zm-5 2zm0 1zm-2-1zm-2-1zm-1 1zm0-2zm0-1zm1 0zm1-2zm-2 0zm-1 1zm-2 0zm-1 2zm-1 2zm-1 2zm2 2zm3 2zm0 2zm-1 0zm-1 0zm1 1zm-2 1zm0 1zm0 2zm0 3zm-1 1zm1 1zm2-2zm-5 1zm-1 0zm-1 0zm-1 1zm-2 1zm-2 0zm0 3zm2 5zm1 2zm0 1zm-3 4zm3 1zm2 1zm1 0zm1 1zm-1 2zm-2 1zm-1-2zm0 5zm-1 1zm-2 2zm2 4zm-1 1zm3 0zm0-1zm1-2zm0-2zm3-2zm-2-2zm4 0zm2-5zm2-2zm-2-5zm0-2zm1-2zm-2-1zm0-2zm-1 0zm-1 0zm-3 0zm2 4zm7 0zm4 3zm1 4zm1 0zm3 1zm2 0zm0-1zm1 1zm-1 3zm2 5zm-3 3zm-1 0zm-2 2zm-4-1zm0 2zm-3 3zm-2 0zm-2-2zm-2-1zm1 5zm-1 2zm-4-3zm-2 2zm0 4zm1 3zm-1 1zm2 1zm0 2zm2 0zm1 0zm-1-2zm3-1zm0-2zm2 4zm1 1zm2 1zm-1 1zm1 4zm3-1zm0-1zm2 0zm0 1zm0 1zm-1 2zm1 2zm0 1zm2-1zm2 0zm1 0zm1 0zm-2-3zm-1-2zm-1-4zm0-1zm-1-2zm-1-1zm3 0zm1-1zm2-2zm2-1zm0-1zm1-1zm1 1zm1-1zm0-2zm1-1zm-1-3zm-3 0zm-2 2zm-1-1zm-1 4zm-1 2zm-3-2zm-2 0zm0 2zm0 1zm1 1zm-2 2zm8 3zm1 0zm3-3zm5 0zm2 0zm-2 2zm0 1zm-2 1zm5-1zm3-2zm0-3zm0-1zm1-1zm2 1zm2-1zm-2-3zm1-4zm1-3zm1 0zm0-2zm1-2zm1-1zm2 1zm3 1zm1 3zm-3 0zm0 3zm-1 2zm-1-1zm-1-3zm-5-3zm-4-1zm-1 1zm-1 3zm0 1zm-1 1zm-1-1zm-1 0zm-2-4zm-2 1zm3-4zm-1-3zm0-2zm3-1zm0-1zm-2-2zm-2-2zm2-1zm0-4zm1 0zm2-2zm2 2zm2 2zm2-1zm1 4zm-1 1zm3 2zm1 1zm1 2zm-3 2zm0 1zm-1-3zm-2 2zm-1-1zm-2 0zm0-1zm0-5zm3 9zm7-8zm5 2zm1 2zm0 1zm3-3zm2 2zm0 3zm-1 1zm5 5zm-3 2zm-1 1zm-2 1zm-2 3zm0 6zm4 1zm2 1zm0-3zm2-1zm3 4zm-2 1zm0 2zm0 2zm1 1zm-4 3zm1 2zm4 0zm3 3zm2 0zm1 4zm2 3zm0 3zm4 1zm0 2zm0 2zm2-1zm0-2zm1-1zm1-1zm-1-1zm0-3zm-3-1zm-2-3zm-1-3zm0-1zm1-1zm1-2zm1-2zm-3-1zm-2-2zm-2-1zm1-2zm2 0zm4 0zm2 2zm3 1zm2 2zm1-1zm1 3zm-3 1zm-4 2zm3 4zm-1 1zm6-1zm1 0zm1 2zm-2 2zm2 2zm5 1zm3-1zm2 0zm0 2zm-2 2zm1 1zm3 0zm2-2zm3 1zm3-2zm1-2zm0-2zm4 0zm0-4zm-1 0zm0-1zm2-1zm-1-3zm3-1zm2-1zm4 1zm3-2zm1-1zm1-3zm3 0zm0-1zm2 0zm2 0zm1 1zm-1 1zm3 2zm-3 2zm-3 2zm2 2zm0 1zm-1 2zm-2 2zm1 3zm-3 2zm-2 2zm0 4zm-2 0zm-1 0zm-2-1zm-1 1zm-1-2zm-2-2zm1-3zm-1-2zm5-1zm1 2zm-1 3zm2-7zm1-3zm0-1zm3-2zm1-2zm8 3zm2 3zm2 1zm2-1zm2-4zm3-2zm2-1zm1 1zm-1 4zm3 2zm2 1zm2 2zm1 2zm-2 2zm0 2zm1 0zm1-1zm-4 1zm0 1zm-1 0zm-1-1zm-1-2zm-1-2zm-2 0zm-1-2zm4 0zm-3 7zm0 1zm2 0zm1 0zm-5-1zm0-1zm-2 0zm0-1zm-1 1zm1 1zm-2 2zm-2-2zm1-2zm1 0zm-4-1zm-3 1zm0 3zm2 2zm1-1zm-2 4zm-1 0zm-1 0zm-2 0zm-2 2zm-1 0zm0 2zm-3 1zm-1-2zm-2 1zm-1-1zm-3 4zm-3 3zm0 3zm-2 2zm-1 0zm-1 0zm-1 0zm0-1zm-1 2zm-1 1zm-2-3zm2-1zm-1-3zm3 0zm-2-3zm-3-2zm1-2zm-1-1zm3 1zm2-2zm2 2zm2-3zm0-2zm-2-5zm-6 5zm-4 5zm0 2zm1 3zm-3 1zm-4 1zm-1 4zm1 1zm4-1zm2 0zm-2 2zm2 3zm2 1zm3 1zm1 0zm2 1zm1-3zm5-2zm1 2zm0 2zm4 2zm1-3zm4-4zm0-2zm-1-5zm-4 2zm-1 3zm11-1zm1 0zm2 0zm-3 2zm2-6zm2-3zm2 0zm-2-3zm-1 0zm6 1zm1-1zm3-4zm6 3zm0 2zm-1 1zm-2 0zm-2 2zm-3 1zm0 1zm3 2zm1 0zm4 0zm1-1zm1 2zm0 2zm-1 0zm-1 0zm2 3zm0 2zm1 0zm1 1zm2-1zm3-2zm-2-3zm0-1zm-2 0zm-1-3zm1-2zm2-3zm2 3zm-2-7zm-2-1zm-1 0zm0 1zm-1 2zm3-5zm2 1zm0-15zm-2-5zm1-3zm-2-1zm-2-3zm-2 1zm-3 1zm-2-3zm-1 0zm-3 2zm-3 1zm0-3zm-1-1zm1-3zm-1-1zm-1-1zm-3 0zm0 3zm-5 1zm-4-1zm-1 1zm0 1zm-5 3zm-1-2zm-2-2zm-1 0zm1-1zm1-1zm0-2zm2 0zm2-1zm1-2zm0-1zm-2 0zm0-1zm1-1zm0-3zm-2-2zm1-2zm-4-1zm-1 2zm1 1zm-2 3zm2 1zm1 4zm-5-3zm-1-1zm-1 3zm0 1zm1 3zm-3 1zm-1 2zm1 2zm1 0zm-1 3zm-2-1zm0-1zm-3-2zm-2 1zm0 1zm-1 0zm-1 0zm0-1zm2 2zm-3 1zm-1 0zm-2 0zm-1-1zm-2 0zm-1 0zm-1 0zm-1 1zm-1 1zm-1 0zm2 2zm0 2zm3 2zm0 5zm3 4zm3-3zm3-2zm0-3zm4 1zm0 1zm-1 2zm2 0zm1-1zm1 0zm0-1zm0-1zm1-5zm4-1zm2-2zm-2-2zm-8-7zm-4 0zm-2 1zm1 1zm-3-3zm-1-1zm2 0zm2-3zm3-3zm2-1zm2 1zm-2 2zm5-4zm2-1zm-4-3zm-2 0zm-2-3zm1-1zm2-1zm-5 0zm-3-2zm1-3zm2-2zm1 1zm2-4zm1-1zm1 3zm3 3zm3 3zm2-2zm2-1zm2-4zm1 0zm2 2zm1-1zm0-1zm3 0zm2-1zm-1-1zm2 3zm2 1zm2-2zm1-1zm-1-2zm0-2zm-2 1zm-5-4zm-4 0zm1 3zm-7-1zm-2 3zm-1 2zm-1-8zm-2-3zm-2-2zm-1 0zm-3 0zm1-3zm-2-1zm0-2zm3 0zm2 0zm1 3zm1 1zm2 0zm2 3zm0 1zm2 0zm1 2zm1-4zm-1-3zm-3-4zm2-2zm0-1zm1 0zm2 0zm3 0zm1-2zm0-2zm-3-1zm-1-2zm-2-4zm-1-4zm2 0zm-4-1zm-2-2zm3-1zm1 0zm2-1zm1-1zm-3-1zm-1 1zm-3-1zm-4 1zm-1 0zm0-2zm-2 1zm-2 2zm1 1zm2 2zm3 1zm1 3zm-1 1zm-1 0zm1 2zm0 1zm-1 3zm-2-1zm-1 0zm-1 3zm2 0zm2 2zm0 2zm-4 1zm-5-1zm-1 3zm0 4zm0 1zm2 0zm-1 4zm-1 0zm-1-1zm-4-3zm-3-1zm-1 0zm0-1zm-3-1zm-1-1zm-1-1zm-2-2zm3-3zm2-1zm0-1zm5 3zm2 3zm-5 0zm-2 1zm1 8zm-4 3zm0 1zm1 0zm-2-3zm-1 0zm-1-1zm-3-3zm-2 0zm-1-1zm0-1zm-4-2zm-2 2zm-1 0zm-2 1zm0 4zm-1 1zm1 2zm0 1zm-1 0zm-2 2zm-2-1zm-1-1zm2 0zm0-2zm-4 0zm0-2zm0-2zm0-1zm-3 1zm1 3zm-4-1zm-1 1zm1 1zm0-5zm-1-2zm-1-2zm1-1zm-2 0zm-1 0zm-2 1zm2 2zm-4 2zm1 2zm0 1zm1 1zm0 1zm1 0zm0 3zm-4 0zm-3-1zm-2-1zm-1-1zm-1-2zm-1 0zm-1-1zm-1-1zm-1-3zm-2 2zm0 2zm2 2zm2 2zm-1 3zm-3-2zm0 4zm-4-1zm0-1zm-4 0zm-4 2zm-4-4zm-2 1zm4-4zm-2-2zm2-1zm1-4zm1 0zm0-1zm1-2zm-2-1zm-1-2zm-1 1zm-3 0zm-1 5zm0 1zm-1 0zm-8-2zm-2-2zm-2-1zm2-5zm-1-3zm-1-2zm-3 1zm6 0zm3-5zm-2-2zm2-1zm1 0zm2 0zm0-1zm0-3zm-3-3zm-3 2zm-2 0zm-1-2zm-3 0zm0 1zm2-7zm5-2zm3 1zm1 0zm1-1zm2-1zm2 3zm0 1zm3-3zm1-3zm1-1zm-3 0zm-5-3zm-2-4zm-3-2zm-1-4zm0-1zm2 1zm2-4zm-2-1zm0-3zm2-2zm-1-2zm0-2zm-2-1zm0-1zm0-1zm1 0zm-3 2zm0 1zm-2 1zm1 1zm-1 1zm-1 1zm0 3zm1 1zm1 2zm-1 6zm-3 2zm-1-1zm0 5zm0 4zm0 1zm6-2zm0-1zm1-2zm-2-1zm-1 0zm3 5zm2 1zm-1 7zm2 1zm7 4zm3-2zm2 1zm1-3zm2 1zm-3-3zm0-1zm-1 2zm4-3zm5-1zm1-1zm4 2zm-3 3zm1 4zm1 2zm-2 0zm-3-1zm0-1zm0 5zm-1 1zm-1 1zm-4 1zm-2-3zm-4 5zm-3 0zm-13 0zm3 21zm1 0zm-2 1zm1 2zm22-3zm2-3zm3 2zm-1 1zm1 4zm5-9zm0-5zm3-2zm1-3zm6 2zm1-1zm0 2zm0 1zm-2 2zm0 1zm-3 0zm0 2zm4 1zm1 0zm3-1zm2-1zm0-2zm1 0zm0-2zm1-1zm2-1zm2-1zm2-2zm-2-2zm1-1zm0-2zm0-1zm-1-1zm3 2zm0 1zm0 1zm2 3zm1 2zm-2 2zm0 2zm-2 2zm0 3zm-1 3zm6-1zm1 0zm0-1zm1-2zm-2 0zm0-2zm2-2zm2 2zm3 0zm1-2zm6-1zm2 3zm1 1zm2-5zm1-1zm2-2zm-1-1zm1-2zm1-1zm4 1zm1-3zm-1-2zm-1 0zm0-2zm4 2zm2-4zm4-1zm-1-3zm-1 0zm5 4zm2-5zm-13-3zm-1 2zm-2 3zm12 12zm2 0zm0 3zm2 2zm-2 1zm-5 0zm0-2zm19-2zm0 5zm2 0zm0 1zm-2 2zm0 1zm-1 1zm11 8zm1 0zm2 1zm3 2zm0-4zm2-1zm2 2zm0 4zm4 1zm1-1zm2 0zm2 1zm0 1zm0 1zm2 1zm1 1zm0-3zm0-4zm0-3zm3-1zm0-1zm2-1zm-2-2zm-1-1zm0-2zm4-1zm-1-3zm0-1zm2-3zm-4-1zm-1 0zm-1 2zm-2 0zm-1 0zm0 1zm0 2zm0 2zm-4 1zm-2 0zm0 2zm3 0zm4 2zm-1 2zm-2 3zm0 1zm-2-1zm0-1zm-1-1zm-3-2zm-1 0zm-6-4zm-2-1zm3-5zm1-2zm1 0zm2 2zm1 1zm0-2zm1-1zm0-4zm3-1zm-1-2zm2-1zm0-1zm-4 0zm2-4zm-1-1zm0-1zm1-1zm1-1zm3-4zm-2-1zm-1-4zm1-1zm1-1zm-3-2zm0-1zm-3 0zm0 1zm-1-1zm-4-1zm-2-1zm-1-3zm-3 0zm-1 0zm-1 0zm1 2zm-4 3zm-2-5zm0-1zm0-1zm-2-5zm2-2zm-1-1zm3-2zm2-2zm2-1zm2 1zm0-3zm-2-1zm3-3zm-1-5zm-4 2zm-2-2zm2-2zm-4-2zm-1-1zm0-4zm1 0zm-4-4zm-4-1zm-2 4zm0 1zm1 0zm1 2zm-5-1zm0-1zm-2-4zm0-1zm1-1zm1 0zm-6 1zm-2 3zm0 2zm0 2zm6 2zm1 4zm0 1zm-2 2zm1 1zm1 2zm2-2zm2 1zm3-2zm0-1zm2 1zm6 3zm2 0zm8 6zm0 3zm-3 1zm5 3zm1 1zm1 1zm4 0zm1 1zm1 0zm0-2zm2 2zm1-1zm1 2zm-1 1zm-1 1zm0 3zm-1 0zm-2 1zm6 1zm5-1zm-1-3zm1-1zm1-1zm1 1zm2 6zm0 2zm3 0zm0 1zm-2 4zm3 1zm3 0zm0 1zm0-4zm1-7zm-2-3zm2-1zm1 0zm-1-7zm1-3zm0-3zm-4 0zm-1 1zm1 3zm-3 0zm0 4zm-4-2zm-2-1zm-1-1zm-1 2zm-2 4zm-4-4zm1-6zm1 0zm2 0zm-4-3zm-1 1zm-4 0zm0-1zm-2 3zm1 2zm0 1zm-2 1zm-6 6zm-2 1zm-4-3zm-8-2zm-3-1zm-3-3zm-3 2zm-1 1zm-2 3zm-1 4zm3 0zm5-2zm2 0zm-1 3zm-1 1zm1 1zm0 1zm-1 0zm-1-8zm4-8zm-11-8zm0-1zm1-1zm0-1zm-2 4zm-19 7zm-4 3zm2 3zm1 1zm0 2zm0 3zm-1 2zm0 1zm0 2zm-1 1zm-3 0zm-1 2zm0 3zm-1 2zm-2-4zm-2 1zm8-1zm-1-6zm0-2zm-4 1zm0-3zm2-4zm-8 0zm1-4zm0-6zm-1-1zm1-3zm-2-4zm-4-4zm2-2zm-1-1zm1-1zm-5 3zm-1 4zm-4 0zm-1-3zm2-3zm3-3zm1-2zm-1-2zm-4-1zm-1 2zm-1 0zm-1-2zm1-2zm-1-3zm5 1zm2-2zm1-3zm1-1zm3-1zm4-3zm0 7zm2 0zm1 4zm0 4zm-8-3zm-11 6zm-3 0zm-1 3zm-3 1zm0-3zm-3-1zm-2 2zm-1 1zm-2 4zm-2 1zm0 3zm-3-4zm-2 1zm-1 3zm-2-6zm0-4zm0-3zm1-1zm3-4zm4 2zm-1 5zm6-3zm2 0zm-1-5zm1-1zm4-4zm0-4zm-3-1zm-1 1zm-3 1zm-2-7zm1-2zm-1-1zm0-3zm-1-1zm-4 0zm-6-1zm-5-6zm-7-1zm5-6zm10-5zm7-7zm1-4zm3 5zm5 3zm3 6zm-3 5zm4 2zm-1 6zm-3 0zm-5 4zm0 1zm8 4zm11 0zm1-1zm-1-1zm2 0zm0-1zm0 4zm11-7zm3 8zm1 1zm3-2zm1-1zm1 1zm0 2zm0-4zm6 2zm4-2zm5 3zm3-1zm1-1zm3-4zm3 3zm-1 5zm-6 2zm-1 0zm-4 4zm-2 1zm0 2zm1 0zm4 0zm8-1zm7 3zm3-2zm2-6zm6-3zm0-2zm-2-3zm-2-3zm-3-2zm-3-2zm0-5zm7 4zm2 3zm2-1zm4 0zm1-6zm-3-4zm-4-1zm-17 2zm-9-7zm3-4zm8-12zm-18-9zm0-4zm3-1zm-14 13zm-3 3zm0 2zm-4 2zm-1-6zm-5-3zm0 11zm2 6zm1 0zm2 5zm-6 7zm-10 2zm-20-5zm-3 25zm0 2zm-18 4zm-1 0zm-1-2zm-1-1zm-4-3zm-2-5zm-3 1zm-1 2zm0 4zm5 5zm2 1zm3 1zm2 4zm1 7zm-3 1zm-2 1zm-1-1zm-1 3zm-5 4zm0 6zm12 1zm1-3zm1-1zm2-2zm-4-1zm2-3zm-1-1zm-1 0zm3-1zm0 16zm1 1zm-2 0zm-2 1zm1 5zm1 4zm1 0zm17 8zm3 17zm8-2zm2 2zm0 1zm0 1zm2 1zm2 1zm2-4zm1 0zm-1-3zm0-2zm-2-1zm-1 1zm-1-1zm11-7zm2 0zm0 2zm2 0zm-1 5zm0 1zm-1 0zm5 8zm0 2zm0 1zm-1 2zm0 2zm3 4zm-16 0zm-3-3zm1-1zm-5-1zm0-1zm-22 11zm23 14zm10 8zm4 1zm2 1zm4 1zm0 2zm2-1zm2 2zm1 3zm2-2zm1-1zm0-1zm1-2zm-1-3zm-3-2zm-1 1zm-1 0zm1 2zm-4-1zm-2 8zm3 1zm0 3zm2 0zm2 1zm1 4zm-2 1zm-2 8zm1 3zm1 2zm3-1zm2 1zm2 0zm1 0zm-2-2zm-1-4zm3-1zm2-1zm0-1zm4-1zm1 2zm0 1zm2-2zm2 2zm-1 1zm1 3zm0 2zm2 0zm1-3zm-1-4zm0-1zm3-1zm-1-2zm0-1zm-1-1zm-2 1zm4-3zm1-3zm2-3zm1 1zm2 1zm1 1zm-3-5zm-3-1zm0 2zm0-4zm2-2zm0-1zm-1-3zm-3 0zm-1 3zm-1 4zm-1 2zm-3-2zm-2-1zm-3 0zm-1 3zm-2 0zm3 2zm2 2zm2 2zm3 0zm0-1zm-7 3zm-1-1zm-3-1zm2-14zm-1-1zm1-2zm-1-1zm-3-6zm10 7zm1 2zm1 1zm-2 2zm-2-1zm17 0zm1 1zm3 1zm0-3zm2 0zm3-2zm2 0zm1-1zm-2-2zm-1 0zm-1 1zm-6 1zm0 1zm-2 8zm6 14zm-3 1zm-3 2zm-1-1zm-5 2zm3 7zm-1 2zm2 1zm2 3zm-4 0zm-1-1zm-2-3zm-2 1zm-3 3zm-5-2zm-1 0zm-1-1zm3-3zm2-2zm-6 0zm-17-1zm-1 0zm-3 13zm-4 0zm-3-1zm0-2zm-3 3zm-1 0zm0 1zm-2 0zm-2-1zm0-1zm2 5zm1 0zm-6 1zm-3 0zm2 3zm1 3zm1 1zm0 2zm1 1zm1 0zm1 0zm-1-2zm0-2zm3 0zm1 0zm0 1zm1 1zm0-3zm6 0zm3 1zm1 2zm-2 2zm1 2zm3 0zm0-1zm2-2zm-2 6zm-5 3zm-1 2zm1 1zm3 0zm4 2zm1 1zm-1 1zm0 3zm0 1zm-2 0zm-4 2zm-2-1zm-2-1zm1-2zm0-1zm2 1zm-1-3zm-4 3zm-2 2zm2 1zm0 1zm-2 1zm-3-1zm-1 0zm-4 0zm-1 0zm-4 2zm0 3zm0 2zm0 2zm-2-2zm0-1zm-4 2zm-1 0zm0-1zm-3-1zm-1-3zm-1-1zm-1-2zm1-3zm1-2zm0-2zm-1 0zm-3-1zm-1 0zm2-2zm1-1zm0-4zm0-1zm2 0zm0-1zm-1-1zm3 0zm3-1zm1-3zm1-5zm0-1zm-1-1zm4 2zm2 4zm3 0zm-1 4zm-2 1zm-1-1zm-2 2zm-2 3zm-1 2zm-1 0zm-1 1zm0 1zm-1-4zm1-1zm4 7zm2-1zm2 3zm2 0zm4-1zm-1-2zm0-1zm-3-2zm0-1zm8 1zm1 1zm3-1zm-3-3zm0-1zm3-1zm-1-3zm5 4zm-6 9zm-1 2zm-2-3zm7 10zm0 3zm-2 0zm-3 0zm0 4zm2 1zm1 1zm4-3zm1-1zm1 3zm5 0zm1 0zm1 1zm1 2zm1-3zm1-1zm0-1zm3 0zm2-1zm0-4zm1-3zm2-1zm0-2zm-1-1zm-2 0zm1-3zm1-4zm-4-1zm1-2zm-1-2zm-1-1zm-1 1zm3-2zm-6 7zm-1 2zm4 1zm1 5zm-3 6zm0 1zm4 7zm0 2zm-1 0zm3 0zm4-4zm1-1zm0-1zm0-2zm1-1zm-1-2zm0-3zm1-1zm5 0zm2-3zm-1-2zm0-2zm1-3zm1-1zm1 0zm-2-1zm4 5zm1-1zm3-2zm2 2zm1 3zm2 2zm2-1zm1-3zm-9 5zm1 2zm-3 1zm-2 2zm1 3zm1 3zm-2 2zm-1-1zm2 2zm3 2zm3-2zm1-2zm-2-4zm1-3zm-6-5zm1-1zm-6 7zm-1 1zm-1 0zm2 3zm0 1zm-2 4zm-1 0zm-2-1zm0-3zm1 7zm18-1zm0-1zm2-1zm4 1zm2-30zm0-1zm-4-14zm19 7zm3 1zm14 1zm6-6zm7-13zm1 0zm2 2zm1-2zm1 0zm-1-3zm-2-1zm1-2zm2 0zm1-2zm0-2zm1-3zm-3-2zm-1 0zm0-3zm-1-1zm2-2zm2-1zm0 4zm3 0zm1-3zm3 0zm-1-4zm-1-1zm1-2zm-2-1zm-1 0zm1-2zm3-3zm0-4zm-2-3zm-1-1zm-2 0zm1-2zm-2-1zm1-1zm3-3zm0-1zm1 2zm1 3zm-4 6zm0 2zm-1 0zm-2-1zm-2 0zm0 1zm2 4zm-4 2zm-2 0zm-2 2zm-2 4zm-1 1zm-2 0zm0 3zm1 0zm0 2zm-1 0zm-1 0zm-1-2zm-1 0zm-2-2zm-1 1zm0-3zm0 6zm-1 3zm-2 0zm-1-2zm-2 2zm2 3zm3 0zm1 0zm-1 2zm-1 4zm-2-1zm-1 2zm-3 2zm1 2zm3 0zm5-3zm9-2zm0-3zm3-2zm-1-2zm-3-2zm-1 3zm-2 0zm0-1zm0-1zm-2-1zm-1 1zm-1-1zm9-5zm6-7zm-10-5zm-2-1zm11-8zm0-1zm2-7zm2-1zm6-2zm-1-3zm-1-2zm2-1zm0-6zm-1-2zm-2-1zm0 2zm-3-4zm3-2zm-1-2zm1-4zm-4-2zm-1 2zm0 1zm-2 1zm-2 2zm0 4zm-1 0zm-3-3zm0 8zm-4 7zm-12-4zm-2 0zm-1-2zm0-2zm3-3zm0-5zm2-1zm-2-4zm-1-3zm1-2zm3 0zm0-2zm0-1zm-1 0zm-2 0zm0-3zm-6 3zm-1 2zm2 3zm1 0zm-7 4zm15-2zm12-1zm0-2zm0-1zm0-1zm1-1zm3-3zm4 7zm0 16zm-26 18zm0 22zm-1 0zm3 2zm-2 2zm-2 2zm-2-2zm-9 4zm11 7zm0 1zm24 2zm8 0zm1 0zm3 2zm0 2zm-2 1zm-2-1zm2 4zm-1 2zm3 1zm-6 0zm6-18zm-32 47zm-1 1zm11 15zm2 1zm2 2zm2 2zm1 2zm0 1zm4-1zm-3-4zm1-1zm-7 4zm-7 3zm25-1zm-88-42zm0-2zm-2 1zm-16 0zm-3-1zm-23-15zm-8-2zm-2-9zm0-3zm1-1zm-4 2zm0 3zm8-13zm0-2zm34 1zm-41 45zm-2 0zm0 1zm-3 1zm-2-2zm-1 1zm-1 1zm0 1zm-1 3zm-3-1zm-1 1zm-1 1zm-1-3zm1-4zm0-2zm0-2zm-3-3zm-1-2zm0-2zm0-2zm0-5zm0-4zm4 13zm10 6zm3 8zm-2 1zm-2 1zm0 2zm-2 0zm-1 0zm-4 2zm-2 8zm2 4zm2 0zm1 2zm2 1zm1 0zm-4 2zm-4-1zm1-2zm-2 6zm-1 1zm2 0zm3 1zm-6-3zm-1 1zm15 4zm1 0zm0-1zm2-2zm3-2zm0-3zm-2-1zm-5-4zm2-2zm2-3zm0-1zm0-2zm1-2zm0-1zm2 0zm0-4zm-5 5zm-1 3zm15 5zm2-1zm2 2zm-3 2zm-2 3zm-1 0zm-6 7zm-1 3zm-1 1zm2 2zm2-2zm-1-1zm4 3zm4-3zm10 1zm0 1zm4-1zm2-1zm-7-6zm19-140zm0-1zm0-1zm-2 0zm-1 0zm-3 0zm10-2zm-3-10zm-2-2zm-2-1zm-1-1zm-2-2zm5 1zm3 0zm0-6zm2 0zm-7-3zm-4 1zm-4-1zm-1-1zm1-2zm1-1zm-2-1zm-1-1zm-4 3zm-1 2zm-4 4zm36-8zm2 6zm0 1zm-1 0zm0 4zm5-3zm7 17zm2 1zm47 0zm7-19zm-1-2zm1-3zm2-2zm-2-6zm1-1zm3-3zm3-1zm2-2zm0-4zm-3-5zm-2 0zm4-4zm3-2zm6 2zm3-2zm2 5zm-4 1zm0 2zm3 4zm2 3zm0 5zm-4 1zm-1 0zm0 2zm3 2zm1 0zm-2 1zm0 3zm3-2zm-1 7zm-3 4zm-1-1zm-3-4zm0-3zm1 0zm-3-5zm-1-5zm-4 2zm-1-2zm-1 1zm-3-8zm-9-3zm-3 0zm0 1zm-2-2zm-2-2zm2-4zm-8 4zm-3 5zm7 1zm5 7zm-1 2zm0 2zm4 0zm-8 0zm10 8zm13 1zm2-1zm3 4zm-1 2zm1 1zm-4-2zm3 7zm-17-48zm-4-2zm3-6zm11 4zm6 1zm3-6zm4 4zm0-10zm-14-9zm0-11zm9-7zm-2-4zm-12-5zm-6 8zm0-26zm6-22zm-62 13zm0 5zm-3 6zm-9 8zm-9-3zm-1 2zm-13 1zm2 13zm-16-19zm-18 11zm2 10zm-13-41zm17-20zm14 5zm31 25zm19 40zm-3 4zm1 10zm0 4zm4 5zm4 0zm-1 4zm7 0zm1-1zm1 1zm2 0zm14 5zm-24 13zm-2 0zm-4 0zm-3-4zm-78-7zm-1 21zm0 1z" stroke="#000" stroke-width="3.1" stroke-linecap="round" fill="none" opacity="0.25"/>
<line x1="379.90" y1="43.34" x2="379.90" y2="150.50" stroke="#2a2a2a" stroke-width="0.9"/>
<path d="M353.4,150.5Q369.3,148.4 377.9,146.7L381.9,146.7Q390.5,148.4 406.4,150.5Z" fill="#ff7f0e" stroke="#3a3a3a" stroke-width="0.5"/>
<path d="M379.9,108C381.0,114 381.7,117.5 381.7,124.5C381.7,130 381.1,132 380.9,141L378.9,141C378.7,132 378.1,130 378.1,124.5C378.1,117.5 378.8,114 379.9,108Z" fill="#ff7f0e" stroke="#2d2d2d" stroke-width="1.0"/>
<line x1="379.90" y1="123.50" x2="379.90" y2="150.20" stroke="#3a3a3a" stroke-width="2.3"/>
<line x1="379.90" y1="117.00" x2="379.90" y2="123.50" stroke="#333" stroke-width="1.2"/>
<line x1="379.90" y1="112.50" x2="379.90" y2="122.50" stroke="#ff7f0e" stroke-width="0.6" opacity="0.75"/>
<line x1="379.90" y1="150.50" x2="379.90" y2="152.30" stroke="#555" stroke-width="0.6"/>
<path transform="scale(0.2)" d="M2150 499zm9 0zm4 5zm6 7zm8-5zm14 2zm4 6zm5 5zm5 0zm3-2zm-1-4zm-3 2zm-6-13zm0-11zm-11 3zm-16-2zm-13 21zm-8 11zm7 11zm3-1zm0-1zm10-2zm5 1zm2 0zm1-2zm4-5zm6-4zm-1-3zm0-2zm3 9zm-2 11zm10 5zm1 1zm-2 3zm3 5zm-5 2zm-2-2zm-4 7zm1 1zm-7 0zm-2-3zm0-1zm-2 1zm-2-2zm1 8zm-1 4zm-7 1zm-2 6zm2 6zm1 2zm6-6zm3 3zm6-6zm1 0zm6 2zm1-7zm9 5zm4 3zm4 5zm4-7zm-1-5zm7-5zm8-3zm1 3zm1 7zm-3 5zm1 2zm-2 1zm2 6zm-6 2zm-2-1zm-4 1zm5 7zm4 1zm-7 2zm2 9zm3 0zm-3 5zm0 4zm-6 1zm-1 2zm0-5zm-3 0zm-1 0zm-1-4zm1-1zm2-5zm-5-3zm0-3zm1-6zm-6-2zm-5 6zm-1 0zm-2-5zm-7-4zm-1 1zm11-5zm8-20zm9-9zm-4-7zm7-4zm0-8zm1-2zm4-8zm3-7zm3-5zm0-1zm4-7zm5-4zm6 1zm-1-5zm16-2zm0-14zm7 32zm14-6zm10-2zm7 8zm7 1zm5-1zm4 2zm2 9zm-5 1zm1 4zm-7 10zm-4-4zm-1 7zm-3-1zm-2 1zm-11-3zm-6-2zm-4 0zm-6 2zm-5 4zm0 3zm-10-1zm-4 2zm3 3zm-8-1zm-5 2zm-6 3zm-1-4zm-2 7zm9 4zm5 1zm1-2zm-1 9zm-2 8zm-4 9zm3 2zm8-2zm1-1zm4-2zm3 6zm3-1zm4-2zm-1-6zm3 0zm-6 0zm-4 16zm-4-1zm8 3zm1 0zm-3 7zm4 2zm3-1zm1-1zm4 0zm1 1zm8-1zm2-5zm7-2zm3 4zm-2 4zm0 2zm7 4zm-2 5zm-4 6zm-3 2zm-1-3zm-6-5zm-3 1zm0-6zm-12 0zm-4 2zm-13-1zm-7 5zm-3 2zm2 5zm1 0zm2 9zm7 4zm-1 4zm2 4zm4-2zm2-3zm5-7zm-1-2zm-7-3zm13 10zm3 9zm-3 1zm1 2zm-2 4zm5 2zm0 4zm-6 0zm-5-1zm-7 1zm-4-4zm-3 4zm-3 1zm-1 3zm-3 3zm-1-1zm-1 6zm2 5zm-5 4zm-5 3zm-3-6zm0-4zm-6-3zm-3-4zm-1 1zm-5 6zm-3 2zm2 4zm4-1zm2-1zm-2-2zm-4 9zm6 1zm-1 7zm-3 5zm4 2zm1 2zm2-1zm3 1zm1 3zm5 0zm0-5zm5-10zm4-1zm7-1zm3-3zm1-1zm3 1zm3 6zm5 2zm-4 6zm-1 0zm-2 0zm1 2zm3 5zm5-2zm1 0zm12-3zm4 1zm4 2zm10-8zm2-1zm5-2zm-3-6zm-7-4zm-9 2zm-1-3zm-4 2zm-6-2zm-5-4zm-4 0zm0-2zm-1-5zm-1-2zm-4-2zm-7 5zm-1 6zm-4 6zm17 0zm13-12zm-1-4zm-4 0zm0-3zm15-1zm10 1zm10 4zm3 1zm3 1zm2-4zm4 2zm-1 6zm0 2zm-3 2zm3 2zm1 6zm3 7zm-2 11zm-11-28zm-5 1zm2-20zm0-2zm3-8zm2-4zm1 0zm2 3zm1 1zm2 6zm4-1zm1 2zm-2 8zm-6-3zm-13-15zm-4-1zm6-5zm-2-2zm2-5zm-2-4zm-2-2zm-1 0zm13-1zm2-6zm2-3zm2-2zm0-4zm1-2zm-8 8zm7 4zm5 4zm-12 10zm4 4zm-26-3zm-7-1zm0-4zm-4-3zm9 18zm-1 3zm3 2zm-2 4zm-43-6zm-1 2zm-3-5zm-4-10zm-4-1zm2-5zm4-2zm1 4zm-10 10zm-1 5zm-10 1zm-4 12zm-1 2zm-3 2zm-3-6zm-3 0zm-1-1zm-3 3zm-7 6zm-2-3zm-4 1zm-4 4zm-5-3zm-2-5zm3-6zm-7-5zm-8 3zm0 3zm7-15zm-5-10zm-6-2zm8-4zm1-1zm3 0zm-9-4zm2-5zm-2-1zm2-7zm-2-5zm3-1zm6 0zm1-3zm0 8zm10-3zm7 9zm3-2zm3-4zm1 9zm2 6zm4 3zm3 6zm4-3zm1 1zm2-4zm3 10zm7 3zm-20 3zm-3-5zm-3 3zm1-8zm-9-12zm-5-2zm-2 2zm-1-2zm25-8zm36-1zm0 2zm7-4zm4-1zm-7-3zm15-36zm0-6zm9 0zm4 6zm6 2zm7 1zm2 4zm3-2zm0-1zm4 3zm1 2zm8-2zm-2-4zm2-4zm1-3zm7 2zm1 1zm2-4zm-3-1zm3-6zm0-4zm-1-3zm6 2zm-11 5zm-11 12zm-14-4zm-3-2zm0-7zm-1-1zm-17-18zm-1-5zm-9-2zm-4-6zm-6-3zm-4 7zm7 5zm2 10zm6-2zm-15 2zm-26-1zm-21 13zm-14-6zm-3 9zm-7 1zm-4 5zm5 10zm-4 3zm-2 12zm1 2zm-3 0zm7-1zm-5 8zm20 52zm14 1zm3 25zm-3 2zm-1 1zm1 5zm2 5zm2 1zm-4 3zm4 3zm-1 2zm8 3zm4 0zm-10 8zm3 3zm-17-4zm-6 3zm-2-5zm-7-2zm11-6zm0-11zm-9 2zm-6 2zm-3-5zm-4-1zm-1-1zm0 3zm-4 3zm4 6zm-1 2zm-3 0zm2 3zm-1 3zm4 6zm4-29zm0-1zm5 2zm2 0zm61-13zm55-79zm0-6zm16 1zm3 8zm11 2zm2-9zm-8-7zm0-1zm-17-49zm-6 1zm-3-1zm-5 1zm26-21zm11 1zm-5-13zm-5-5zm-79-6zm-4 25z" stroke="#000" stroke-width="3.1" stroke-linecap="round" fill="none" opacity="0.17"/>
<line x1="446.50" y1="97.25" x2="446.50" y2="150.50" stroke="#2a2a2a" stroke-width="0.9"/>
<path d="M419.5,150.5Q435.7,149.4 444.5,148.5L448.5,148.5Q457.3,149.4 473.5,150.5Z" fill="#2ca02c" stroke="#3a3a3a" stroke-width="0.5"/>
<line x1="446.50" y1="150.50" x2="446.50" y2="152.30" stroke="#555" stroke-width="0.6"/>
<text x="313.6" y="162.9" font-size="10.9" font-style="italic" text-anchor="middle" fill="#222" stroke="#222" stroke-width="0.2">Elmo2<tspan dy="-3.4" font-size="9.8">+/+</tspan></text>
<text x="381.7" y="162.9" font-size="10.9" font-style="italic" text-anchor="middle" fill="#222" stroke="#222" stroke-width="0.2">Elmo2<tspan dy="-3.4" font-size="9.8">+/-</tspan></text>
<text x="447.6" y="162.9" font-size="10.9" font-style="italic" text-anchor="middle" fill="#222" stroke="#222" stroke-width="0.2">Elmo2<tspan dy="-3.4" font-size="9.8">-/-</tspan></text>
</g>
<g id="panel-c">
<text x="489.30" y="10.50" font-size="15" font-weight="bold" stroke="#000" stroke-width="0.22">c</text>
<text x="605" y="13.4" font-size="12.3" text-anchor="middle" fill="#111" stroke="#111" stroke-width="0.2"><tspan font-style="italic">Elmo2</tspan> expression</text>
<text x="570.80" y="25.80" font-size="10.3" text-anchor="middle" fill="#222" stroke="#222" stroke-width="0.22" textLength="35.2" lengthAdjust="spacingAndGlyphs">Fraction</text>
<text x="636.20" y="25.80" font-size="10.3" text-anchor="middle" fill="#222" stroke="#222" stroke-width="0.22" textLength="24" lengthAdjust="spacingAndGlyphs">Mean</text>
<rect x="550.80" y="27.90" width="40.00" height="20.27" fill="#3d4d89" shape-rendering="crispEdges"/>
<rect x="617.00" y="27.90" width="40.00" height="20.27" fill="#30b17c" shape-rendering="crispEdges"/>
<text x="548.30" y="40.94" font-size="9.8" text-anchor="end" fill="#3585cc" stroke="#3585cc" stroke-width="0.22">MSC</text>
<rect x="550.80" y="47.17" width="40.00" height="20.27" fill="#3d4d89" shape-rendering="crispEdges"/>
<rect x="617.00" y="47.17" width="40.00" height="20.27" fill="#30b17c" shape-rendering="crispEdges"/>
<text x="545.50" y="60.21" font-size="9.8" text-anchor="end" fill="#f26c45" stroke="#f26c45" stroke-width="0.22">Endothelial</text>
<rect x="550.80" y="66.44" width="40.00" height="20.27" fill="#3b528a" shape-rendering="crispEdges"/>
<rect x="617.00" y="66.44" width="40.00" height="20.27" fill="#31b27b" shape-rendering="crispEdges"/>
<text x="548.30" y="79.48" font-size="9.8" text-anchor="end" fill="#1ea650" stroke="#1ea650" stroke-width="0.22">Immune</text>
<rect x="550.80" y="85.71" width="40.00" height="20.27" fill="#433981" shape-rendering="crispEdges"/>
<rect x="617.00" y="85.71" width="40.00" height="20.27" fill="#26828d" shape-rendering="crispEdges"/>
<text x="548.30" y="98.75" font-size="9.8" text-anchor="end" fill="#e62531" stroke="#e62531" stroke-width="0.22">Muscle</text>
<rect x="550.80" y="104.99" width="40.00" height="20.27" fill="#45085b" shape-rendering="crispEdges"/>
<rect x="617.00" y="104.99" width="40.00" height="20.27" fill="#440154" shape-rendering="crispEdges"/>
<text x="548.30" y="118.02" font-size="9.8" text-anchor="end" fill="#8f4fa8" stroke="#8f4fa8" stroke-width="0.22">Erythrocytes</text>
<rect x="550.80" y="124.26" width="40.00" height="20.27" fill="#2e6e8e" shape-rendering="crispEdges"/>
<rect x="617.00" y="124.26" width="40.00" height="20.27" fill="#fde725" shape-rendering="crispEdges"/>
<text x="548.30" y="137.29" font-size="9.8" text-anchor="end" fill="#6f4a30" stroke="#6f4a30" stroke-width="0.22">Neurons</text>
<rect x="550.80" y="143.53" width="40.00" height="19.27" fill="#39578b" shape-rendering="crispEdges"/>
<rect x="617.00" y="143.53" width="40.00" height="19.27" fill="#38b777" shape-rendering="crispEdges"/>
<text x="548.30" y="156.56" font-size="9.8" text-anchor="end" fill="#f77fd3" stroke="#f77fd3" stroke-width="0.22">Epithelial</text>
<rect x="550.80" y="27.90" width="40.00" height="134.90" fill="none" stroke="#333" stroke-width="0.5"/>
<rect x="617.00" y="27.90" width="40.00" height="134.90" fill="none" stroke="#333" stroke-width="0.5"/>
<defs><linearGradient id="vir" x1="0" y1="1" x2="0" y2="0"><stop offset="0.0" stop-color="#440154"/><stop offset="0.1" stop-color="#482475"/><stop offset="0.2" stop-color="#414487"/><stop offset="0.3" stop-color="#355f8d"/><stop offset="0.4" stop-color="#2a788e"/><stop offset="0.5" stop-color="#21918c"/><stop offset="0.6" stop-color="#22a884"/><stop offset="0.7" stop-color="#44bf70"/><stop offset="0.8" stop-color="#7ad151"/><stop offset="0.9" stop-color="#bddf26"/><stop offset="1.0" stop-color="#fde725"/></linearGradient></defs>
<rect x="592.50" y="28.60" width="4.70" height="60.60" fill="url(#vir)" stroke="#333" stroke-width="0.4"/>
<rect x="658.40" y="28.60" width="4.70" height="60.60" fill="url(#vir)" stroke="#333" stroke-width="0.4"/>
<line x1="597.20" y1="28.90" x2="598.80" y2="28.90" stroke="#222" stroke-width="0.5"/>
<text x="599.40" y="32.40" font-size="10.3" fill="#111" stroke="#111" stroke-width="0.22" textLength="13.4" lengthAdjust="spacingAndGlyphs">1.0</text>
<line x1="597.20" y1="40.96" x2="598.80" y2="40.96" stroke="#222" stroke-width="0.5"/>
<text x="599.40" y="44.46" font-size="10.3" fill="#111" stroke="#111" stroke-width="0.22" textLength="13.4" lengthAdjust="spacingAndGlyphs">0.8</text>
<line x1="597.20" y1="53.02" x2="598.80" y2="53.02" stroke="#222" stroke-width="0.5"/>
<text x="599.40" y="56.52" font-size="10.3" fill="#111" stroke="#111" stroke-width="0.22" textLength="13.4" lengthAdjust="spacingAndGlyphs">0.6</text>
<line x1="597.20" y1="65.08" x2="598.80" y2="65.08" stroke="#222" stroke-width="0.5"/>
<text x="599.40" y="68.58" font-size="10.3" fill="#111" stroke="#111" stroke-width="0.22" textLength="13.4" lengthAdjust="spacingAndGlyphs">0.4</text>
<line x1="597.20" y1="77.14" x2="598.80" y2="77.14" stroke="#222" stroke-width="0.5"/>
<text x="599.40" y="80.64" font-size="10.3" fill="#111" stroke="#111" stroke-width="0.22" textLength="13.4" lengthAdjust="spacingAndGlyphs">0.2</text>
<line x1="597.20" y1="89.20" x2="598.80" y2="89.20" stroke="#222" stroke-width="0.5"/>
<text x="599.40" y="92.70" font-size="10.3" fill="#111" stroke="#111" stroke-width="0.22" textLength="13.4" lengthAdjust="spacingAndGlyphs">0.0</text>
<line x1="663.10" y1="32.40" x2="664.70" y2="32.40" stroke="#222" stroke-width="0.5"/>
<text x="665.30" y="35.90" font-size="10.3" fill="#111" stroke="#111" stroke-width="0.22" textLength="18.8" lengthAdjust="spacingAndGlyphs">0.25</text>
<line x1="663.10" y1="46.77" x2="664.70" y2="46.77" stroke="#222" stroke-width="0.5"/>
<text x="665.30" y="50.27" font-size="10.3" fill="#111" stroke="#111" stroke-width="0.22" textLength="18.8" lengthAdjust="spacingAndGlyphs">0.20</text>
<line x1="663.10" y1="61.15" x2="664.70" y2="61.15" stroke="#222" stroke-width="0.5"/>
<text x="665.30" y="64.65" font-size="10.3" fill="#111" stroke="#111" stroke-width="0.22" textLength="18.8" lengthAdjust="spacingAndGlyphs">0.15</text>
<line x1="663.10" y1="75.53" x2="664.70" y2="75.53" stroke="#222" stroke-width="0.5"/>
<text x="665.30" y="79.03" font-size="10.3" fill="#111" stroke="#111" stroke-width="0.22" textLength="18.8" lengthAdjust="spacingAndGlyphs">0.10</text>
<line x1="663.10" y1="89.90" x2="664.70" y2="89.90" stroke="#222" stroke-width="0.5"/>
<text x="665.30" y="93.40" font-size="10.3" fill="#111" stroke="#111" stroke-width="0.22" textLength="18.8" lengthAdjust="spacingAndGlyphs">0.05</text>
</g>
<g id="panel-d">
<text x="-0.60" y="190.00" font-size="15" font-weight="bold" stroke="#000" stroke-width="0.22">d</text>
<path d="M21.70,200.50V329.30H216.60" fill="none" stroke="#3a3a3a" stroke-width="0.8"/>
<text x="18.40" y="217.00" font-size="9.7" text-anchor="middle" stroke="#000" stroke-width="0.22" transform="rotate(-90 18.40 217.00)">UMAP2</text>
<text x="216.60" y="340.20" font-size="9.7" text-anchor="end" stroke="#000" stroke-width="0.22">UMAP1</text>
<path transform="scale(0.2)" d="M147 1144zm3-1zm1 2zm0 1zm8-1zm3 3zm6 5zm3-1zm-4 4zm1 2zm2 0zm10-4zm4-4zm2-3zm3 1zm4-3zm3-2zm5-1zm1 2zm3-7zm3-5zm-1-2zm-2 1zm-2-3zm-4 1zm0 1zm-3-2zm1-3zm-1-4zm-2-1zm0-2zm2-3zm2 1zm0 2zm2-3zm2 4zm-1 4zm7-2zm5-3zm0-4zm-2-3zm4-3zm1-3zm2-3zm4-3zm4-5zm-6-2zm-6 6zm-4-4zm1-8zm-2-3zm6 0zm5 0zm3 1zm4 3zm1-2zm3-2zm1 2zm1-4zm0-1zm-6-1zm-4-3zm-1-3zm-5 1zm-1 3zm-3 0zm-2-2zm2-4zm3-4zm3-5zm4-2zm3-2zm3 3zm-2 2zm-3 1zm4 4zm-1 2zm6-6zm-9-10zm0-3zm-8 5zm-4 2zm0 3zm-4 1zm-5-4zm1-6zm1 0zm-4-2zm-2-4zm6-1zm3 1zm2 5zm1 0zm3-6zm0-1zm-1 0zm-19 13zm1 8zm0 6zm2 3zm-5 0zm0 3zm7 2zm4 3zm0 2zm-3 0zm-3 1zm-2 3zm-5-1zm-3-2zm0-1zm-4-3zm-1 3zm-3 3zm-1 3zm-3 2zm-1-2zm2-4zm1-4zm-1-2zm-3-1zm0-2zm1-2zm4 0zm3 0zm2 2zm-3 2zm-1-1zm-1-6zm-4-6zm-2-4zm-1-3zm-2 1zm-5 4zm6 7zm-3 4zm-3-1zm-3 0zm0 2zm-2 4zm-2 0zm1 2zm2 1zm4 0zm7-1zm-6 11zm-5 0zm3 5zm4 0zm5-1zm1 5zm3-1zm6-1zm0 7zm-1 3zm0 4zm4 4zm3 0zm5-4zm-3-8zm0-2zm4 1zm4-3zm-4-4zm0-2zm2-2zm5-1zm1 3zm6 7zm9 8zm1-1zm2 1zm-1-3zm-1 22zm-25 2zm-5 2zm-1 1zm1 1zm2 1zm-7-1zm-1-1zm-2-1zm2 4zm-4 0zm-1 1zm1 2zm2 4zm-7-4zm-2 4zm-1-13zm2-4zm2-1zm3-1zm1 1zm7-3zm-13-5zm-1 1zm-3 4zm1 1zm-6 0zm0-5zm2 0zm-6-3zm-3 2zm-4 1zm-2-4zm6-3zm6-6zm2 3zm6 1zm1 0zm2-3zm-4-2zm-6-3zm19-10zm3-3zm4 1zm0 3zm-6-33zm-3-4zm2-3zm3 2zm3-7zm-29 79zm1 6zm-12-4zm33 30zm6-7zm5 3zm63-26zm5-4zm2 1zm2 0zm2 0zm0-5zm-5-1zm-2 0zm-2 1zm-5-7zm13 1zm9 12zm-8 6zm1 6zm-7-1z" stroke="#2ca02c" stroke-width="4.75" stroke-linecap="round" fill="none"/>
<path transform="scale(0.2)" d="M181 1497zm8 10zm2 1zm-3 2zm7-5zm6 4zm2 1zm2 3zm-1 3zm-1 2zm6-3zm0-1zm-1-7zm4-6zm3-2zm3 1zm3-5zm1 0zm6-5zm-2-2zm-1-5zm2-1zm-3-3zm-7 0zm0-3zm0-3zm-5 4zm-1 0zm-8-4zm-3 3zm-1-1zm3 3zm-1-9zm6-1zm6-3zm2 1zm6 0zm6-5zm0-3zm-1-1zm-4 1zm-1-4zm-1-7zm-6 2zm-6-5zm8-5zm6 0zm2-5zm4-2zm4 3zm3-1zm1 6zm0 5zm4 2zm-1 7zm2 2zm3-2zm-1 7zm0 3zm-2 2zm2 1zm0 4zm3-1zm1-4zm0-4zm4 3zm5-5zm4-7zm-2-2zm-2-1zm2-8zm4 0zm-1-4zm-2-1zm-1-5zm6 2zm2-6zm2-5zm-7-3zm-5 0zm-1 5zm-4 1zm-3-7zm-1-2zm-1-1zm0 4zm-3 4zm0 8zm-14 7zm-1 13zm1 1zm5 2zm1-1zm0 9zm-3 12zm8 0zm5-1zm0 2zm1 2zm3-4zm6 4zm0 5zm1 0zm1 3zm2 4zm-3 1zm2 5zm-5 6zm-4 0zm0 1zm-3 0zm-1-5zm-2-6zm-8 2zm-4-3zm4-4zm-1-2zm5-1zm8 0zm0-1zm4 1zm1 2zm12-6zm2-2zm1-4zm-1-3zm3-4zm2 0zm1-3zm-2-2zm8 3zm3-1zm1 3zm4-1zm2-5zm3 2zm1-1zm2 4zm3-2zm2 2zm0 2zm4 1zm1-4zm-1-2zm-3-1zm-1-3zm8-1zm0 2zm1 1zm1 4zm0 2zm3-5zm4 2zm2-1zm0-1zm3 0zm6 0zm2-2zm1-3zm4-3zm0-3zm0-1zm4 3zm1 1zm-3 3zm-2 4zm-1 2zm2 4zm-6 0zm-6 1zm-3 0zm-3 1zm1 6zm-7 1zm-4 7zm0 1zm-3 2zm0 1zm-3-1zm1-2zm-5 5zm-2 2zm0 7zm0 3zm-2 1zm-3-2zm-4-1zm-2-1zm0-4zm1-1zm-3-2zm-5-1zm-2-3zm-2 3zm-3-1zm0 6zm5 3zm1 0zm3 1zm-6 5zm-4 5zm-1 3zm-2-4zm-7 0zm1 8zm-5 1zm-4-5zm-2 0zm0 1zm-4-3zm-7-2zm-1-1zm3-4zm-5 9zm-6-1zm-3 8zm2 1zm2 1zm-6 1zm-6 3zm-4 3zm9 1zm2 5zm-7 6zm1 4zm3 1zm4-1zm2 5zm3 3zm4 2zm0 5zm6-5zm-1-5zm-7-3zm6-6zm0-4zm10 3zm-3 5zm7 5zm3 1zm1-2zm3 2zm-1 2zm4-2zm1 2zm2-1zm-1-3zm-2-2zm-2-4zm7-1zm0 5zm2 6zm5 2zm1-1zm1 0zm2 1zm1-3zm-6-3zm4-5zm1-4zm1-1zm3 4zm2 1zm2 4zm4 2zm-1 6zm2 2zm-4 1zm-1 2zm6 3zm-1 4zm-2 2zm-3 6zm-6-1zm-1 1zm1 1zm-2 3zm-1 4zm4 2zm-3 5zm-3 3zm-4 0zm-2-3zm-3 2zm1 2zm-3 2zm-1 1zm3 3zm-2 2zm-3 1zm0 2zm-2 1zm3 1zm3 1zm0 1zm-1 1zm0 2zm-2 0zm0 1zm6 2zm-3 5zm-7-2zm-8-2zm-2 0zm-1-2zm8-4zm2-1zm-2-4zm-2-2zm3-1zm-6-3zm-3 1zm-2 2zm-5 0zm-1-1zm-1 0zm2 3zm0 3zm-5 2zm-3 1zm-4 1zm-3-1zm5 4zm6-2zm-6-12zm-2 0zm-6 1zm-1-7zm-3-2zm-1-3zm3-3zm-4-8zm1-1zm-5 2zm-2 1zm-3-2zm-5-1zm8-4zm-2-7zm-6 2zm-4-3zm-3 1zm-1 7zm-2 1zm1 2zm-1 3zm-2-2zm-2-2zm-4 9zm11 11zm-1 3zm1 2zm3-2zm3-2zm3 2zm-1-7zm13 6zm3 16zm17-19zm-1-5zm3 0zm-5-3zm6-4zm0-2zm4-9zm2 1zm-2-5zm1-7zm2-1zm5 0zm1 2zm3 0zm1 1zm5 0zm0-2zm-6-4zm-1 0zm-5-4zm5 19zm-3 5zm-2 7zm6 1zm4 5zm0 5zm-3 0zm-1-1zm-3-3zm-10 5zm0 1zm20-16zm3-2zm2 2zm5-6zm-7-3zm-4-2zm7-6zm5-22zm1-6zm-2-1zm-6-3zm-6-1zm-3-1zm-6 2zm2-7zm9 0zm3 1zm-1-7zm11-6zm1 1zm4-1zm4 3zm0 2zm0 3zm-4 1zm8-4zm-3-6zm1-4zm6 2zm8-2zm1-2zm-1-3zm1-2zm-1-3zm7 2zm-2 6zm2 2zm-3 2zm0 1zm0 1zm-2 4zm6 3zm0 2zm-4 3zm-2 3zm-5 1zm-1-8zm-7 10zm-3 2zm-1 3zm10 1zm1 1zm-1 3zm3 7zm-1 2zm0 2zm2-1zm3-2zm-1-1zm3 0zm1-5zm4 0zm6 2zm1-1zm0 3zm3-3zm3 9zm-2 5zm-1 2zm4 0zm-8-1zm-2-2zm0-4zm-6 4zm-3 3zm-3 3zm-2 1zm1 3zm2 4zm2-1zm2 3zm4 1zm3 1zm3 1zm-6 2zm-5 4zm-1 3zm-3 2zm-1-1zm0-2zm-4 1zm-4 0zm-3 2zm-1 1zm5 2zm-3 5zm-2 7zm0 4zm1 6zm6 0zm0 2zm4 0zm-1-3zm4-2zm-2-4zm-3-2zm-2-2zm-12-3zm-1 5zm-1 6zm1 3zm-3 0zm-2 1zm-2 1zm3 2zm7 2zm7 2zm4 0zm7 0zm2-3zm2-10zm4-1zm0-5zm0-4zm3-7zm-1-2zm4-4zm3 3zm5-1zm2 3zm5 2zm0 2zm6 2zm7-2zm3 3zm4 0zm1 2zm1 1zm5-3zm1 0zm0-6zm4 1zm4-4zm0-2zm2-4zm3 1zm4 1zm3-4zm7-1zm2 2zm-2 4zm7 0zm6 2zm2 2zm-3 2zm1 4zm3-2zm0 4zm-2 2zm-3 4zm2 2zm-1 2zm-5-8zm0-4zm1 0zm-6 6zm-2 2zm2 3zm-1 3zm-4 0zm-2 5zm-5-4zm-4 1zm3-5zm2-6zm-2-1zm-3-2zm2-2zm-1-2zm-1 1zm-5 3zm-7 6zm-13-1zm-8 9zm-2 2zm-1 1zm3 0zm-6-4zm-6 4zm-1 5zm0 2zm5-1zm-10-5zm-1 1zm-5-3zm5-4zm0-5zm-2-4zm1-3zm1-3zm7 8zm0 3zm15-15zm-3-4zm1-1zm2-3zm1 0zm0-5zm1 0zm2-1zm-2-2zm0-1zm-4 0zm-3 2zm-1 0zm-2 0zm-2 0zm4 3zm-4 3zm1 1zm-2 0zm-4-2zm-7-9zm-2 0zm-1-2zm-5-2zm-2 0zm-4 0zm1-3zm-6-10zm-5 20zm-2 2zm5 0zm0 3zm2 2zm0 9zm0 1zm-28 15zm-4 1zm0 3zm-2 0zm1-10zm-34-26zm-1 0zm-8 3zm-5-3zm-1-4zm2-6zm3-5zm-7-5zm-5 8zm2 3zm-17-7zm-1-3zm2-2zm4-4zm-8-3zm0-2zm-3 3zm-3 6zm-5 6zm-1 2zm9 0zm-7-19zm-3 0zm2-3zm5-2zm-3-5zm1-7zm1-2zm4 4zm8 1zm2 0zm1 5zm14-20zm-10-16zm0-2zm-12-4zm8-31zm6-1zm17-30zm-2-2zm5-5zm3-4zm5 1zm1-2zm3-4zm8-4zm-1-3zm-6-3zm-4 0zm9-10zm6 8zm8 0zm3 0zm6 6zm5-3zm6 6zm3 3zm2 5zm-2 2zm0 1zm-1 0zm1 4zm-1 5zm3 2zm3-1zm2 6zm1 4zm3 1zm-1 2zm7 0zm6 0zm1 5zm0 7zm0 2zm4 2zm3-4zm4 0zm0-3zm5-6zm3 2zm4-3zm4-2zm4 8zm4 5zm3 0zm2 5zm1 0zm2 1zm-3 8zm-1 1zm-1 2zm4-2zm3 5zm5 6zm0 2zm7 0zm2 4zm-2 3zm-1 2zm3-1zm3 1zm0 6zm5-1zm1 0zm2 2zm2 1zm2-3zm-1-3zm-1-2zm1-5zm4 0zm7 1zm4-3zm1-1zm1-4zm3 0zm2-6zm-1-1zm1-2zm-5-5zm-11 0zm-7-7zm-5 0zm-2-1zm-3-2zm1-2zm-4 3zm-1 3zm4 3zm-2 8zm-1 4zm-5-3zm0-1zm-2 0zm1-5zm-2-15zm4-5zm-3-2zm-8-15zm5-12zm7 5zm-6-18zm-6-4zm5-7zm1-3zm4-7zm-1-1zm4-4zm3-3zm3-2zm2 2zm4-6zm1-2zm3-8zm3-3zm6 6zm0 5zm-2 3zm-2 1zm-2 4zm-1 1zm2 2zm3-3zm6-7zm2 2zm-1-5zm0-7zm9 2zm3-5zm3 0zm0-1zm5 0zm4 2zm2 1zm0 5zm-3 4zm-4-3zm-11 12zm-15 12zm-4 0zm0 12zm-5 2zm14-1zm5-1zm2 4zm3-4zm13 6zm3-1zm5-5zm7 7zm7-12zm9 25zm-7 5zm8 5zm8-7zm6-7zm-19 27zm-11 10zm5 11zm5 15zm-3 2zm-9 2zm-5 9zm0 3zm0 3zm7 5zm4-3zm4 0zm-3 6zm-1 1zm1 3zm-8 1zm-1 4zm-2 2zm-2-1zm-2 3zm4 3zm3-2zm6 1zm3 1zm0 1zm2-1zm2-1zm1-3zm3-1zm1 2zm-1 7zm-3 1zm0 3zm1 1zm-3 0zm0 4zm-2 2zm5-1zm3 0zm4-1zm1-1zm-1-1zm1 5zm2 2zm2-5zm3 1zm0 1zm1-5zm-4-1zm-1-3zm-4-3zm8 0zm-1-5zm2-3zm-1-1zm-1-1zm1-1zm-1-1zm1-2zm1-2zm3 0zm-2 3zm0 4zm3-1zm1-1zm5-5zm4 5zm4-4zm2 2zm1-3zm0-6zm-3-8zm3-1zm-3-4zm-2 1zm1-5zm-2-3zm-5 3zm-1 3zm-6 0zm-3 3zm-2-6zm0-3zm3 2zm2-4zm3 1zm2-2zm-7-3zm-3-1zm-4 8zm-2 1zm-1 4zm-5-1zm1 12zm4 0zm1 2zm0 2zm0 1zm-1 0zm6 0zm4-3zm-7 10zm-10-6zm-9-11zm-17-4zm-4-1zm-2-1zm-2-2zm-1 4zm-2-1zm-3 7zm-8 0zm-1 2zm0-4zm0-1zm-1 0zm3-4zm-6-6zm0-2zm-2-3zm-11-3zm-3-1zm2 8zm1 2zm-1 3zm-7-4zm-12 11zm-1 1zm3 2zm1 0zm1 4zm0 3zm-1 1zm-3 4zm-2 3zm-2 4zm-6 0zm0-2zm0-3zm-2-1zm1-2zm-2-1zm-1-5zm-3 1zm0-2zm1-2zm-1-2zm0-3zm-3 1zm-1 1zm1 1zm-1-3zm-3-1zm2-6zm2-3zm-2-4zm3-2zm5 0zm1 3zm5 9zm-4 5zm3 2zm6 2zm0 2zm0 2zm11 3zm0 2zm5-4zm2 2zm2 5zm-1 1zm4-3zm1-4zm2-1zm1 1zm1 1zm1-5zm0-1zm6 2zm1 3zm1 5zm6-3zm3 6zm0 2zm-3 3zm-2 2zm-5-2zm-8 0zm-1 4zm-1 1zm-4 5zm0 3zm0 2zm-3 4zm-3-1zm-2-2zm-2 1zm-2 2zm-2 1zm3 1zm4 0zm-1 3zm1 4zm-2 1zm3 1zm1 0zm4-1zm4 1zm2-1zm0 3zm2 2zm-4 1zm-1-1zm-1 2zm-1 3zm-6 0zm0-1zm0-3zm-5 5zm0 3zm1 0zm-5 0zm-5 2zm1 3zm3 1zm0 3zm1 4zm0 1zm-2 1zm-4-4zm-2-6zm-3 0zm-2-4zm-4 2zm-1-1zm-1 2zm-3 0zm0-1zm-3 2zm-3-1zm4-12zm6 0zm3-3zm2 5zm4 1zm0-2zm1-1zm2-4zm2-2zm0-2zm0-3zm-6-1zm-3-1zm-1-3zm-1-5zm0-3zm2-2zm1 0zm-2-1zm-1-7zm-10-1zm-2 1zm1-7zm-2-2zm3-2zm-6-2zm-4-4zm1-3zm0-4zm-5-1zm-1-6zm-6 1zm-1 6zm-8-6zm-17-9zm-2-5zm0-2zm-5 1zm2 9zm-12-9zm11-14zm-3-3zm-1-1zm4-3zm-2-2zm2-5zm2-4zm-4-7zm1-1zm1-1zm-5-3zm0-2zm-2 6zm-9 5zm-3 6zm3 8zm20 0zm3-2zm0-2zm-1 8zm9-21zm5-8zm2-1zm-1-2zm-4-4zm-4 2zm-6-6zm9-2zm14 7zm-3 5zm12 2zm2 2zm-1-11zm13-5zm8-3zm-8-8zm-10-5zm10-13zm4-1zm5-4zm-4-5zm-4 2zm-3-8zm5-3zm2-3zm-1-1zm0-2zm-1-4zm5-2zm0 8zm2 10zm10-14zm1-2zm8-1zm3-1zm5-5zm-1-1zm-5-7zm2-2zm1-1zm2-1zm2 0zm2 0zm0 2zm4 1zm2 3zm3-1zm3 0zm-4 4zm1-11zm7-2zm4-1zm0 2zm2-1zm3-3zm3-4zm-3-3zm-2 0zm0 2zm-2-3zm0-1zm-2 3zm-4-1zm-4-1zm-1-1zm-7 4zm-3-4zm-12 7zm-2 1zm-1 1zm-1 2zm-2-2zm-2-2zm1 6zm1 0zm0 4zm0 1zm-1-1zm-2-1zm-2-3zm-2 3zm-3 0zm2 5zm0 2zm1 2zm6-2zm3-2zm2 4zm7-12zm-2-1zm31 7zm4-2zm1 4zm2 0zm1-2zm1 6zm-4 0zm-4 3zm12-5zm1-1zm1 1zm5-1zm4 1zm1 0zm-4-6zm0-7zm-6-2zm-1 0zm-1 1zm0-3zm-1-3zm-1-1zm0 11zm2 0zm3 84zm-4 13zm-10-8zm-16-8zm2 23zm27 7zm6 2zm2-4zm-5 30zm2 1zm-3 4zm0 1zm-1 2zm-2 1zm-1-2zm-3-3zm-2 0zm6 21zm-1 2zm-2 3zm-2 0zm-2 0zm4 4zm3-1zm3-2zm3 4zm-3 4zm-5 11zm-2 2zm-4-4zm-1 9zm-1 1zm-5 0zm-2 1zm-7 7zm-4 3zm2 2zm5 3zm3 1zm3-4zm3-2zm1 0zm3 2zm2 3zm-1 2zm2 1zm2 2zm2-1zm0-3zm0 6zm4 0zm3-5zm3-1zm2 4zm4 1zm3 0zm0 2zm-1 2zm-3 0zm7 4zm-2-11zm-4-3zm-1-3zm2-1zm1-6zm-2-5zm4-1zm5-2zm2-4zm-6 0zm-3-1zm0 2zm-9 1zm0 3zm-2 1zm-2 7zm2 1zm1 2zm0 1zm-2 0zm-4-1zm-2-5zm-4 3zm-6 12zm-5 3zm-1 1zm1 3zm2 1zm-2 5zm4 4zm1 6zm1 1zm-3 0zm4 3zm5-7zm-2-4zm-1-9zm9 2zm1 3zm7 3zm-1 6zm-2 0zm-1-1zm-3 2zm-1 0zm0 1zm0 2zm0 2zm4-2zm4 5zm-2 2zm-8 9zm-19-18zm-4-3zm-3 1zm-1-3zm1-2zm3-2zm2 2zm-1-7zm1-2zm0-4zm-3 0zm-5 3zm-2 3zm-1 3zm-3-1zm-2 0zm-4-1zm0 2zm2 4zm-2 2zm-4 4zm0 2zm-3-8zm-9-9zm2-3zm3-5zm2 0zm11-10zm4-3zm2 0zm2 2zm-2 4zm-7-15zm-1 0zm-2-1zm0-4zm1 0zm3-5zm3-1zm0-1zm2-1zm1-3zm-15 5zm0 2zm0 1zm0 3zm0 1zm-1 3zm-6-1zm0-2zm-1 0zm4-7zm-2 16zm-5-1zm-13 2zm-1 1zm-2 0zm0-3zm-1-1zm0-2zm0-2zm-9-5zm-4 5zm-9-7zm0-1zm-1-4zm0-2zm0-7zm7 1zm3 4zm-1-10zm5-19zm3-9zm13-8zm44 28zm-47 47zm-1-1zm-8-1zm-2 0zm2 3zm14 16zm10 27zm3 0zm4-1zm-13 4zm-1 26zm8 3zm22-25zm2-2zm5 6zm-6-26zm-1-3zm58-18zm-1-4zm5-1zm2-3zm6 1zm-2 4zm26-48zm-1-4zm17-4zm3-2zm1 0zm1-1zm0 3zm3 2zm0 3zm1 2zm-6 2zm-5-15zm5-4zm-2-2zm2-2zm3-1zm1 1zm0 1zm4-4zm-1-3zm-1-3zm-2-1zm0-2zm1-1zm2 1zm1-1zm3 1zm0 1zm0 3zm0 2zm0 2zm1 0zm0 1zm2-2zm0-2zm2 0zm0-1zm-1-1zm2-1zm1 0zm1 0zm0-2zm-2 0zm0-3zm1 0zm-3-1zm3-3zm3-3zm0-1zm4 0zm2 4zm3 0zm1 0zm0-3zm1 0zm3-3zm-1-2zm-1-2zm4-1zm4-3zm1 2zm2-1zm1 1zm-1 3zm2 1zm0 1zm-1 3zm-3 0zm-3 2zm2 2zm-1 4zm-1 3zm-1 2zm-2-5zm-6 3zm-2 3zm-3 3zm-4 0zm0-3zm0-4zm1 0zm-1 10zm2 3zm2-1zm1 0zm3 0zm-5 3zm-1 1zm-2 0zm-1 2zm-2-1zm-3 0zm-4 2zm-1-1zm0-4zm7-4zm0-1zm3 15zm-19-16zm-3-1zm0-1zm-1-2zm1-1zm-1-2zm1-1zm3-3zm-6-2zm-8 2zm8 8zm7 0zm-12 5zm1 3zm-5-4zm-9-2zm-12-17zm45 1zm37 4zm2-1zm4-4zm1-3zm-2-1zm0-1zm-1-4zm-2 1zm3-3zm1-1zm2 0zm-1-2zm0-1zm3-1zm2-2zm-1 5zm-1 0zm3 0zm0 6zm1 0zm-4 2zm-1-2zm12-5zm0-3zm6-5zm-2-4zm9 2zm1-4zm4 3zm2-2zm-1-2zm2-2zm2 2zm3 2zm3-2zm4 1zm6-4zm1 0zm-2-6zm1-1zm4 1zm3 1zm4 0zm4-3zm0-1zm4-4zm3 0zm-26 8zm-10-15zm-28-8zm-35 21zm-24-36zm1-1zm-14 2zm-105-124zm-1-8zm-1-1zm1-3zm5-4zm4-1zm1 1zm3 1zm-1-4zm1-1zm-1-1zm-1 1zm4 1zm3-1zm0-3zm1-1zm-4 0zm-2-4zm5-4zm3 3zm2-1zm1 1zm-1 2zm2 0zm2-2zm1-1zm1-3zm3 2zm-4 5zm-4-6zm0-2zm-124 192zm-9 1zm-6-2zm-5 0zm0-4zm-6 0zm-1 4zm60 115z" stroke="#1f77b4" stroke-width="4.75" stroke-linecap="round" fill="none"/>
<path transform="scale(0.2)" d="M797 1293zm3 0zm9 0zm1 0zm3 9zm-1 1zm2 4zm4 2zm5-5zm-3-2zm5-3zm4 0zm-1 4zm5-2zm-5-8zm2-4zm-4-4zm-2 0zm1-3zm-2-4zm-13 5zm-9 25zm17 12zm0 5zm6 2zm3-3zm4-4zm1-4zm-3-3zm-1 1zm-4 4zm9 11zm2 6zm8-2zm5-1zm8 1zm7 4zm0 1zm1 0zm-4 3zm12 5zm1-3zm0-3zm-1-4zm0-4zm0-4zm-3-1zm4-2zm6-2zm1 0zm0-2zm-5-2zm-1-2zm-1-1zm-5-2zm2-5zm2-2zm3 1zm1-2zm-3-5zm-7 2zm-1-2zm-1-1zm3-4zm-6-2zm-2 5zm1 4zm-7-3zm-2-5zm1-3zm3 3zm-9-2zm0-2zm-4-1zm-1 4zm4 3zm-4 12zm9 2zm3 4zm2 2zm4-2zm-2 6zm-8 1zm1-5zm-9 6zm26-1zm10-10zm5 0zm3 3zm8 1zm0-5zm-1-1zm-1-2zm5-4zm1 0zm4-1zm3-4zm1-3zm-3-1zm0-3zm2 0zm3-4zm4 5zm-1 1zm-1 2zm5-6zm6 3zm1-3zm2-3zm3 5zm1 1zm-2 3zm2 3zm3 0zm-2 3zm-3 1zm-2 2zm0 3zm1 0zm1 3zm-2 2zm2 1zm-6 2zm-1 0zm-1-3zm-4 0zm-1 2zm-4 2zm2 4zm-2 2zm1 4zm4 1zm0 2zm1 1zm0 2zm3 1zm2 2zm1 0zm0 1zm1-2zm1-4zm-3-3zm3-4zm5 10zm2 3zm-1 1zm3 5zm4 0zm3 4zm-1 1zm-5-1zm-2 2zm-3-4zm-1-1zm-2 0zm-3 2zm-2 2zm2 5zm2 1zm-2 3zm-2-1zm-2 0zm-2-1zm-3 1zm0 1zm-3-1zm-4-3zm7-1zm6 7zm3 2zm6-3zm0-1zm2-1zm3-2zm1 2zm3 0zm1-2zm6 3zm-1 3zm0 1zm-4 1zm-3 2zm-3-2zm-2 3zm1 1zm-1 2zm-4 0zm-1 0zm-1 0zm1 2zm1 3zm0 1zm-2 4zm-2 1zm-6-6zm-4-1zm-7-1zm-4-8zm-1-5zm8 3zm13 7zm11 4zm2 1zm4 1zm2 1zm2 0zm-4-5zm-1-2zm-1 1zm10-2zm4 3zm2 3zm-1 1zm5 1zm1-3zm-3-7zm0-4zm-1-1zm-2 0zm-1 1zm-1-2zm4-2zm7-3zm1-3zm4-1zm1 2zm-2 2zm0 3zm4 1zm0 4zm-1 1zm4-1zm3 2zm1 0zm-1 3zm3 2zm6 2zm-1-12zm5-2zm2-3zm1 1zm-4-3zm2-5zm4-3zm-2-12zm-2-2zm0-1zm3 0zm1-2zm2-4zm2 1zm0-4zm7-2zm-20 0zm-1 3zm2 4zm-2 1zm1 1zm0 1zm-1 2zm0 3zm-2-6zm-7-3zm-1 2zm-2 1zm-1-2zm-1 3zm-2 2zm3 1zm-6-2zm0-4zm-3 0zm1-3zm0-1zm3 0zm-4-4zm-3-4zm-2 0zm-4-4zm-1-1zm-2-3zm1-4zm-4 1zm-2 2zm-3-4zm-2-5zm-4-4zm7-2zm1-1zm1-2zm3 0zm2-2zm0 6zm0 3zm2 0zm-5 0zm0-1zm-6-11zm1-1zm-1-1zm2-2zm-8 2zm0 2zm-3-1zm0 3zm4-11zm-7-3zm-8 3zm-4-4zm1-2zm-4 5zm0 3zm-2 0zm-4-2zm-10 1zm-8 1zm-2 0zm-2-5zm-1-3zm8 0zm-11 12zm2 4zm-2 3zm3 2zm3-2zm3 2zm10 1zm0-6zm-2 16zm-7 2zm-10-5zm-10-14zm-6-4zm0-7zm3-10zm1 0zm-2-8zm-2-3zm-4-3zm0-1zm3-1zm0-4zm0-1zm6-3zm1 7zm-8-12zm1-3zm0-5zm-3-5zm-3 5zm-7 2zm-3 0zm-3 0zm0-2zm0-3zm-2 0zm-3 1zm-1-3zm-4-1zm8-4zm0-1zm10 2zm-5 7zm-6 5zm-3 10zm6 6zm-5 3zm2 4zm8 4zm2-2zm5-3zm-3-4zm-3-3zm2-8zm8 22zm-1 1zm-6 4zm-3-3zm-3 20zm-2 3zm-2-1zm35 52zm1 2zm-3 0zm0 2zm3 2zm4-3zm1-2zm3-3zm4-1zm0-4zm4 2zm1 2zm-1 1zm3-6zm4 12zm-2 3zm-5 4zm0 4zm-3 0zm-4 2zm-6 0zm1 6zm5 2zm-3 5zm-2 1zm-3-1zm-2 7zm3 3zm5-1zm-4 7zm14-5zm-2-5zm-1-1zm14 14zm5 0zm6 7zm-13 0zm-7-42zm10-2zm-22-2zm-2-3zm-7 16zm-6-2zm-2 1zm36-41zm1-7zm3 0zm8-2zm3-4zm1-3zm10 7zm3 0zm1 3zm-4 2zm10 7zm3-2zm0-1zm3-1zm1 5zm6 5zm-6 7zm-7 1zm-2 1zm-2 0zm0 2zm2 0zm-3 2zm2 3zm1 0zm7 1zm0 3zm4 3zm-6 2zm16-2zm0-2zm-1-4zm-2-4zm10 4zm1 1zm-5 8zm12 1zm4 1zm1 1zm-2 1zm-3 9zm1 1zm-9 8zm9-50zm-1-7zm1-1zm4 1zm1 0zm2-2zm-3-3zm-3-2zm-2-1zm-5-3zm-5 6zm-3-5zm-2-4zm-2-5zm6 1zm4-5zm2-3zm1 0zm3 4zm7 0zm1-8zm0-6zm2-4zm-6 1zm-2-3zm-1 1zm-10 0zm-3-3zm3-3zm-3-7zm-6 4zm3 9zm-1 2zm0 6zm-3 2zm1 4zm8-3zm0-2zm1-3zm9 5zm17 6zm-7 11zm1 5zm-19 10zm-8-10zm-3 1zm0 1zm-18 18zm14-49zm-9-7zm-9-6zm-2-4zm-3 0zm-2 0zm0 2zm-5-6zm-9 5zm-4-3zm-2 3zm9-16zm5 0zm13 1zm6-1zm4-2zm1-1zm3 2zm1 1zm-2 3zm-3 0zm2 4zm4 0zm4 0zm5 1zm10-7zm-10-25zm-1-2zm-2 1zm-3-1zm-6-5zm-2-4zm0-1zm-1-1zm1-2zm4-3zm2 1zm2-1zm0-4zm2-5zm3-6zm5-2zm1 7zm0 3zm3 1zm4-9zm1-3zm0-2zm-6-7zm1-3zm5-6zm2-1zm-5-1zm-7-3zm-5-5zm0-1zm4-6zm-3-3zm-1-2zm3-8zm-5-1zm2-4zm5 0zm2-1zm4 2zm4-1zm-2-4zm4-5zm4-5zm8-3zm1 0zm2 1zm0 1zm-1 2zm1 1zm2 2zm-3 1zm-4 4zm1 2zm1 2zm-3 0zm-5-2zm3 7zm4 2zm1 0zm6 4zm1 0zm3 0zm1-1zm3-1zm1 1zm1 0zm6 1zm2 4zm3 0zm7 4zm2-4zm4 0zm6 0zm2-2zm5 0zm-3-7zm-6-4zm-2-1zm-4 4zm1 1zm-7-3zm-3-4zm6-1zm2-1zm-16-2zm-7-3zm-3 7zm-3-2zm-2 5zm0 14zm-1 3zm-7-1zm-1 0zm-6 1zm0-2zm-2-6zm-3-3zm-4 3zm0 8zm16 5zm13-1zm8-5zm12 5zm-11-20zm-23-27zm-7 0zm-2 1zm-4 4zm-5 0zm-2 4zm2 4zm4-2zm-10 4zm-6-2zm0-6zm5-1zm-2-8zm2-4zm0-2zm-3 0zm-2-1zm3-4zm6 2zm-2 6zm7 3zm4-6zm-2-4zm3-3zm3-3zm0-7zm0-4zm-5-2zm-2 3zm-1 0zm-5 3zm-2-1zm-1-1zm0 2zm-3-3zm-9 5zm-3 0zm-6-1zm-2-2zm-4-3zm-1 5zm-3 5zm-7 1zm-2 2zm15 6zm4 4zm-7 3zm-4 6zm21-3zm3 0zm-3 9zm-10-25zm-1-3zm0-1zm12 2zm14 0zm13 11zm3-26zm3 0zm5-1zm0-7zm-4-4zm-4 3zm-1 1zm0 2zm-3-1zm3-4zm-2-4zm-5 5zm-2-3zm0-6zm-1-8zm2-1zm1-2zm3 0zm1 1zm2-2zm-2-5zm-7-1zm-2 1zm-1-1zm2 6zm-6-1zm-3 6zm0 2zm5-1zm-3 9zm1 1zm0 1zm-7-2zm-1 2zm-1-4zm-1-7zm2-4zm0-5zm-6 4zm-2 8zm-4 0zm-2 3zm-1 0zm-1-2zm4 7zm2 2zm0 2zm-7-2zm0 5zm0 2zm1 2zm1 0zm-8-2zm-2 0zm1-4zm1-1zm-6-6zm0-5zm4 1zm-1-5zm-4 24zm-6 0zm38-8zm9 5zm19-14zm2-1zm3 1zm-9-5zm-1-2zm6-4zm-24 124zm-6 9zm-2 8zm-7 12zm0 32zm-2 6zm0 2zm-5-3zm-6 3zm13 21zm33-85z" stroke="#ff7f0e" stroke-width="4.75" stroke-linecap="round" fill="none"/>
<path transform="scale(0.2)" d="M426 1228z" stroke="#ff7f0e" stroke-width="4.5" stroke-linecap="round" fill="none" opacity="0.6"/>
<text x="60.90" y="224.20" font-size="9.7" fill="#1ea650" stroke="#1ea650" stroke-width="0.22">Lymphatic</text>
<text x="141.70" y="229.90" font-size="9.7" fill="#f26c45" stroke="#f26c45" stroke-width="0.22">Arterial</text>
<text x="108.80" y="316.50" font-size="9.7" fill="#2b7bbd" stroke="#2b7bbd" stroke-width="0.22">Venous</text>
</g>
<g id="panel-e">
<text x="240.30" y="190.50" font-size="15" font-weight="bold" stroke="#000" stroke-width="0.22">e</text>
<path d="M272.70,201.00V329.90H467.40" fill="none" stroke="#3a3a3a" stroke-width="0.8"/>
<text x="267.90" y="217.50" font-size="9.7" text-anchor="middle" stroke="#000" stroke-width="0.22" transform="rotate(-90 267.90 217.50)">UMAP2</text>
<text x="467.40" y="340.80" font-size="9.7" text-anchor="end" stroke="#000" stroke-width="0.22">UMAP1</text>
<path transform="scale(0.2)" d="M1412 1082zm1 2zm2 1zm4-8zm3 1zm11-3zm3 2zm-1 5zm7 5zm0 1zm-9 4zm-9 16zm4 3zm9-1zm8-1zm6 9zm4-1zm8 6zm5-3zm-2-6zm4-3zm5-17zm7-4zm4-4zm2-3zm-10-5zm-3 7zm-7-12zm-10 13zm-7 11zm-11 24zm12 7zm-1 3zm3 0zm6 9zm-3 7zm-6-1zm-4 12zm-5-3zm-16 0zm7-14zm4-4zm-8-7zm-5-3zm-1-1zm3-3zm-6-1zm-2 0zm-4-2zm4 8zm9-63zm16-13zm17 2zm21 6zm26 58zm14 7zm-2 5zm-4 11zm120 105zm10-3zm5-3zm-2-9zm5-4zm3 3zm2 2zm-4 92zm-1 11zm2 0zm5 10zm3-2zm6 3zm-1-9zm1-5zm7 8zm3 6zm1 1zm-5 11zm-16 19zm-15-1zm-17-1zm-10 8zm-20 4zm-6-15zm6-10zm10-17zm10-1zm25-6zm14 66zm40 21zm16-2zm-13 20zm14 12zm-6 34zm-5-1zm-14 16zm-7-9zm-7-3zm-4-2zm-4-2zm2-6zm-3-3zm-6-3zm-5-9zm-7 15zm5 4zm-2 9zm4 13zm-6 4zm-1 7zm-8 0zm-9-5zm4-4zm5-2zm-7-9zm-6-6zm8-7zm-1-2zm-9-12zm-6 2zm-14-4zm0-9zm-2-5zm-13 1zm0 6zm6 16zm-1 17zm6 8zm5-5zm13 4zm-1 3zm0 14zm-3 8zm6 2zm-5 6zm-5-2zm-6-7zm-8 11zm18 6zm0 2zm5-6zm7 1zm1 8zm1 1zm-1 4zm7 1zm1-1zm1 0zm4 0zm-2-6zm5-2zm2-5zm-7 1zm-4-3zm-1-7zm21 2zm6-2zm7-7zm10 7zm5-9zm0-5zm9 3zm7 0zm-3 7zm12-2zm5 6zm3 5zm-1-16zm3-5zm0-3zm17-3zm2 3zm12-12zm5-4zm-3-6zm-1-1zm10-6zm9-2zm1-1zm3-1zm-3-5zm0-7zm-5 2zm-4 4zm-5-2zm-3-7zm11-4zm6-5zm6 2zm5-2zm4 6zm5-3zm4-5zm0-7zm7 3zm5-8zm0-3zm11 0zm14-11zm5-1zm2-1zm19-1zm-43-29zm-58-16zm-77 66zm-3 30zm-2 0zm-11 30zm-5 11zm11 22zm-10 5zm0 10zm-5 2zm9 4zm6-4zm10-6zm6 6zm-9 17zm-4 4zm-6-4zm-7 4zm-2 0zm-6-1zm-8-4zm1-3zm-10 15zm-4 9zm3 13zm-3 4zm-12-7zm-13-6zm-3-3zm-2-4zm-9-9zm3-4zm1-3zm9 1zm-2-10zm8-7zm0-3zm5 13zm4 7zm0 2zm6 1zm-1-15zm-1-3zm-45 11zm-5 5zm1 8zm4 10zm0 10zm0 4zm-5 5zm12 0zm12 1zm-29-16zm-10-10zm-1-2zm0-1zm4 0zm-4-6zm0-3zm-5 0zm-4-6zm8-6zm-8-4zm6-10zm-15-5zm4-11zm-6-10zm-15 3zm-1-7zm-5-1zm-9-5zm-2 2zm-14-1zm-6-1zm1 9zm-12 4zm7 9zm-7 7zm1 10zm9-2zm5-2zm6-6zm7 4zm-5 10zm-6 5zm17-1zm3-3zm1 1zm3-5zm5 1zm-1-7zm5 1zm0-6zm-6 20zm7 2zm11 12zm1-1zm0 3zm-2 3zm14 4zm-9 12zm5 8zm7 6zm7-3zm3 9zm-27-2zm-8-7zm0-2zm-7-7zm-7-3zm3 11zm3 6zm9-19zm-20-16zm-12 4zm0 2zm3 12zm-20 6zm-6-3zm4-11zm-3-10zm4-6zm-11 2zm-8-5zm-4-3zm-5 11zm-1 4zm11 11zm-8 5zm0 4zm24 14zm6-4zm-36-76zm19-18zm-13-28zm6-9zm10-1zm0-1zm5 3zm7 0zm8-4zm7 9zm7-6zm5 5zm7 13zm17 2zm1-1zm3 1zm5-5zm6 7zm3 8zm12 0zm1-3zm-5-8zm0-11zm1-3zm15 4zm-5-26zm-4 0zm-5 1zm-6 2zm-8 7zm0 2zm-19-12zm-24 8zm-2-15zm-5-1zm4-21zm5-13zm13 1zm-1-8zm5 0zm6-8zm-6-6zm-26 1zm-6 16zm-25 28zm6 5zm7 17zm66-36zm-3-11zm18 2zm10 5zm3-4zm10-3zm-1 9zm-4 22zm-4 3zm37-25zm5-11zm-12-5zm-8-8zm-10-6zm33 45zm10 13zm-36 53zm-19 11zm-7-1zm-4 5zm-2 3zm-5 0zm18 30zm-7 4zm5 4zm-7 7zm83 31zm-1 3zm10-6zm-4-4zm27-13zm49-98zm326-192zm12 1zm1 0zm3 9zm7 0zm3 2zm5-2zm1 10zm-5 6zm3 6zm-3 2zm9 3zm8-7zm8-1zm1-10zm-9-2zm4-12zm14 2zm2-5zm15 11zm4-11zm0-10zm4-16zm7-2zm28 5zm15 1zm-6-15zm18-11zm-2-7zm-2-6zm11 16zm9 9zm-14 31zm-3 4zm3 11zm-1 7zm-3 0zm0 2zm13-1zm13-12zm3 24zm9 9zm6-4zm8-5zm0-5zm-4 25zm-17 3zm-8 16zm-13-2zm-4 0zm0 9zm1 4zm5 1zm-21-12zm-5 5zm-4 0zm-5-7zm-2-6zm-7 1zm-7-3zm-4 10zm11 9zm6 14zm-13 0zm16-40zm-1-9zm-6-4zm23-3zm1 7zm8 3zm4 3zm-12 3zm-13-35zm-1-4zm-4-9zm0-6zm-10 1zm-8 2zm-11 12zm-16 12zm-8 2zm1-7zm4 18zm4 1zm-13 4zm-7-4zm-13 0zm28 19zm-41-64zm-6-3zm1-3zm-15 0zm33-4zm2 1zm4-27zm7-4zm3 7zm7-3zm-3-12zm0-2zm-1-7zm1-9zm-24-1zm105-14zm0-3zm17-44zm12 4zm1-25zm10-4zm0-8zm7 18zm26-14zm18 4zm-67-19zm-7 14zm-4-32zm2-19zm-1-2zm16 10zm7-16zm-6-15zm3-8zm-14-14zm-5 21zm-23-4zm-9 1zm2 9zm8 8zm-1 16zm-10 23z" stroke="#ff7f0e" stroke-width="6" stroke-linecap="round" fill="none"/>
<path transform="scale(0.2)" d="M1402 1147zm12 1zm3 2zm8 11zm8-17zm2-8zm-2-6zm-1-1zm8-2zm3-6zm10-3zm3 8zm6 7zm-14 1zm-5 3zm5 10zm-23-13zm-11-3zm-3-10zm-4 1zm-2-4zm-2 15zm16-21zm7 1zm1-13zm-9 0zm16-10zm3 6zm3-3zm4 4zm5 3zm7-5zm-1-8zm3-2zm6 0zm4-5zm-2-3zm6 0zm7-11zm4 4zm5-4zm-21-3zm0-2zm-8-7zm-5-5zm9-1zm6-1zm-20 12zm1 8zm0 6zm2 3zm-5 0zm-12 5zm-10-7zm-9 4zm10-16zm11-5zm26 49zm5 10zm4-3zm1 0zm4-12zm4-5zm31 29zm2-1zm2-1zm-1 6zm2 1zm-7 2zm11 5zm1 6zm7-12zm-9-13zm124 123zm2-2zm1 0zm1 0zm2-4zm3 4zm7-7zm-2-3zm1-5zm-23 34zm7 65zm9 4zm4-2zm2 1zm3 3zm-3 3zm-5 4zm6 4zm-4 3zm11-7zm4-5zm-2-2zm8 5zm-5 21zm-5 1zm-6 6zm-9-3zm-10-11zm-12 2zm-10-1zm-5-3zm0-10zm1 0zm3-4zm1 0zm5 3zm9-11zm-20 36zm-16 4zm-3 15zm-1 8zm31-11zm15 1zm5 12zm-4 12zm-5 2zm36 18zm-4 13zm3 14zm6 2zm-17 22zm-2 9zm-12-1zm-4 8zm-4 0zm0 7zm1 4zm-2 2zm-2 0zm1 5zm5-3zm-4 11zm-1 3zm-2 2zm-3 1zm-3 6zm-1 0zm-5 0zm0 1zm0-5zm-7 5zm-9 1zm-2 3zm0 3zm1 4zm4 4zm6 7zm5 4zm-5 4zm-2 4zm6 1zm4 0zm5-4zm5 7zm2-1zm1 4zm1 3zm-6-2zm-6 7zm-8 1zm3 9zm-3 4zm0 7zm-7 1zm-5 4zm2-12zm-9-5zm2-4zm1-5zm-3-4zm-1-5zm-3 0zm7-3zm0-10zm-6 1zm-6-11zm0-4zm6-2zm-1-6zm-9-7zm-4 4zm-9-6zm-1-5zm-6 5zm4 7zm4 14zm-1 2zm1 2zm3-4zm3 10zm-3 7zm0 10zm-9 4zm0 4zm-5 4zm-3-3zm2-10zm-3-6zm6-6zm-3-9zm-3-1zm-6-6zm0-4zm-6-6zm-5-13zm0-2zm1-3zm-5 1zm-4 0zm-11-5zm-7 0zm-10-6zm-3 2zm-1 7zm-7-3zm-10 12zm-14 9zm-5-15zm-1-7zm10-6zm3-5zm1 0zm6-5zm-2-2zm8-4zm13-2zm5 3zm5 1zm-1 4zm-1-13zm9 2zm2-2zm0-7zm5-4zm1-3zm6 2zm3-2zm10 0zm3 2zm5 2zm0-8zm8-2zm2-2zm4 1zm3 7zm2-1zm3 0zm-4 7zm-8-4zm11-12zm8-7zm6 3zm4 3zm-2 4zm-3 6zm12 2zm-1-10zm-4-6zm-4-7zm24 8zm4-4zm8 7zm-9 17zm-2 1zm15 2zm3 1zm14 14zm3 4zm9 3zm5-5zm3-3zm4-8zm0-1zm14 4zm9-2zm-3 18zm1 7zm0 3zm7-3zm7-2zm1 0zm0-3zm-1-2zm6 6zm3 4zm-2 3zm0 3zm1 0zm-5-3zm-7 6zm-1 7zm-5 6zm-4 0zm4 4zm3 0zm8 3zm2 1zm2-4zm-18-13zm-5 5zm-3 0zm0 11zm-3 8zm1 3zm4 2zm-1 4zm3 8zm-11 5zm-7-3zm-1-4zm-5-7zm-2-3zm4-1zm7 1zm1-8zm-1-3zm-2-1zm-3 4zm-6-3zm-3 6zm-4-2zm-3 1zm-6 3zm0 8zm0 3zm-1 3zm1 7zm9 1zm-5-13zm-14-7zm-2-6zm-6-6zm-3-1zm-4-2zm-1 5zm4 6zm-2 2zm9-15zm-5-3zm3-18zm-4-8zm-5 2zm0 2zm-4-3zm-7-1zm6-6zm-4-3zm7-3zm6 6zm-14 15zm-8-2zm-1-3zm-5-8zm-4-2zm-1-1zm0-2zm-3-1zm-6 2zm0 3zm-1 3zm-4 0zm-2 7zm3 3zm12 1zm-1 6zm11-23zm-5-2zm-3-9zm7-3zm-30 13zm-9-10zm-3 2zm-7 4zm-12 4zm-3-3zm4 8zm-13-9zm-3 5zm-25-21zm-2-6zm-2-2zm6-4zm-12-7zm-1 1zm-5-2zm-1-2zm-7 3zm-6 12zm-2-1zm4 7zm-6 4zm-3 18zm-13 10zm-6 2zm-1 4zm0 12zm5 1zm-6 5zm-2 8zm11 5zm8 5zm-4 4zm-10 0zm-5 5zm-1 2zm11 16zm8 4zm8 3zm-2-15zm5-6zm7 7zm5-11zm-4-10zm4-2zm21 15zm6 3zm4 0zm5 1zm0 7zm-7 1zm-11 1zm-8 0zm-2 15zm-3 13zm8 2zm1 0zm3-5zm5 4zm6 3zm3-2zm5 4zm-4 3zm11-1zm9 4zm8 5zm4-6zm6 2zm4-1zm-3 6zm-4 1zm11-1zm4-12zm15 6zm16-2zm-18-15zm-6-6zm6-3zm7 2zm5-8zm1-1zm21-14zm14 18zm0 11zm5 1zm2-2zm11 3zm3 3zm5-7zm7 5zm2-3zm0-3zm-3-6zm-11-6zm-2 4zm-7-5zm-3 29zm5 5zm17-8zm14-11zm10-11zm-8-6zm21-31zm-17-13zm3-14zm2-4zm-5-5zm-7-9zm13-3zm-24 16zm4 8zm-2 11zm-7 0zm74-24zm4 4zm7-5zm0-6zm-3-7zm3-1zm-3-4zm-2 0zm1-4zm-8 2zm-6 0zm-2-3zm-3-10zm24-2zm5-5zm3 3zm4-3zm2-2zm1-3zm3 1zm3 1zm3 5zm-2 2zm-1 1zm6 0zm4-3zm1-6zm-1-1zm-4-2zm8-7zm2 3zm4 0zm4-5zm-1-2zm-1-2zm9-3zm2-1zm0 5zm2 0zm3 8zm-10-1zm-3 5zm2 5zm-9 9zm-3 1zm-8 5zm-3 0zm-11-4zm-4 0zm0 3zm2 7zm-2 2zm6 8zm-25 2zm6-39zm-17-45zm-31-8zm-7-7zm-3-37zm0-6zm101 60zm23 25zm5-1zm10 1zm4-12zm9 1zm10-5zm3 3zm13-5zm-1-7zm5 0zm3 2zm8-3zm0-1zm7-5zm-36-7zm247-100zm15 30zm24-3zm0 7zm1 4zm6-3zm4-3zm1-2zm0 7zm2 2zm6 6zm3 0zm5-8zm-5-10zm-4-1zm-11-5zm0-1zm-7-5zm2-8zm7 3zm10-2zm-2-10zm7-2zm4 5zm3-3zm1-4zm-1-3zm3-4zm4 4zm10 4zm4-1zm2-3zm1 9zm3 1zm3 1zm-3 4zm-8 1zm0-3zm-6-3zm-4 10zm-1 3zm-4 2zm0 5zm5 6zm0 1zm1 1zm6 5zm1-1zm6-1zm1 5zm3 4zm-5 2zm-5 8zm-4 3zm1 3zm11-3zm3 6zm-1 5zm5 2zm1-1zm1 3zm2 4zm2 0zm-8-1zm-9-3zm-3 8zm-10 1zm-5 0zm-13-12zm-1-2zm-7 4zm-5 2zm-4-17zm-5-8zm16 9zm12 2zm36-2zm1-1zm6 3zm-1 2zm0 2zm11-4zm11-4zm1-4zm-5-5zm-1-7zm8 1zm1 1zm1-8zm-3-2zm2-2zm1-2zm1 1zm2 0zm-9-2zm-3 0zm1-4zm-1-3zm-5-4zm-5-5zm-2 7zm-7-1zm-4 9zm2 6zm2 0zm-4 2zm2 6zm-2 10zm11-19zm15 0zm3-15zm9-1zm6-1zm-1-5zm-3-2zm-3-14zm7 0zm10-2zm-17-7zm4-9zm-3-1zm-10-1zm-3-3zm3-2zm-6 6zm-1 2zm0 6zm-2 5zm-8 0zm-3 7zm3 1zm2 0zm10 5zm2 5zm-17 0zm-2 2zm-3-4zm-15 13zm-6 3zm-1-1zm4 9zm-17-12zm-6-25zm-13-3zm-3 3zm-1-5zm-2-5zm6-3zm-3-9zm-16-6zm-7-5zm-7 5zm-3-3zm1-6zm2-7zm-3-2zm-6 0zm-6-5zm3-11zm3 0zm0-3zm3 2zm0-4zm5-7zm11 14zm0 17zm1 26zm6 11zm36-10zm9-3zm1-2zm11 2zm4-10zm-10-5zm-1-11zm13 1zm10 2zm4-3zm-5-6zm2-8zm8-12zm-8-8zm-1-3zm5-4zm2 0zm2-1zm2-8zm3-6zm6 4zm2-17zm-9-18zm0-1zm4-7zm-3-3zm2-9zm-5-1zm2-4zm7-2zm6-2zm2 4zm0 7zm-4 2zm0 9zm9-2zm6 0zm1 0zm0 7zm13-1zm8-5zm5-3zm3 0zm-5-4zm-6-2zm4-6zm-9-5zm-5 4zm-6 5zm-3-7zm1-4zm4-8zm1 0zm0-3zm-11 2zm-4 4zm-9-3zm-2-4zm-5-3zm-5 2zm0 5zm-5-4zm8-10zm4-4zm2-5zm-6-2zm3-12zm0-1zm-12 3zm-9-1zm-2-3zm0-14zm5-6zm4-9zm8-7zm0-4zm5 8zm5 1zm6 5zm0 7zm-8-2zm-7-2zm16-12zm7-2zm-9-7zm-2 1zm19 17zm-7 9zm1 2zm-1 2zm-3 0zm4 6zm8-7zm-15 26zm-3 3zm-2 9zm7 3zm-4 5zm23 30zm22-13zm10 8zm3-6zm2 1zm2 13zm-10 0zm-2 5zm-51 96zm-10 7zm-13-1zm-5 29zm-7 0zm0 1zm32-4zm19 49zm4 4zm2 3zm-8 1zm6 13zm1 8zm-7 5zm-6 1zm-1 4zm-4-3zm-3 0zm-1 8zm27-46zm9-5zm-169-101zm86-130zm3-36zm3-4zm-619 379zm-9-4zm-13-1zm0-3zm2-4zm-5-8zm-6-6zm-14-2zm-8-1zm-4 9zm-8 3zm-3 4zm-1 2zm8 0zm1 1zm9 4zm-1 4zm5-16zm11 7zm9 11zm4 0zm1 5zm-1 2zm3 8zm-2 4zm-2 4zm9-1zm4-10zm-3-1zm9 3zm7 5zm-40 6zm-7-10zm-4 1zm-18 4zm-24-7zm9-15zm5-6zm-49 79zm73 27zm4 4zm3 1zm-9 1zm9 12zm-4 5zm-1 2zm-3 0zm10 0zm0 1zm2-2zm1 2zm10 2zm1 0zm3-1zm7-4zm-2-4zm-7-1zm-4-1zm5-3zm12 11zm-3 8zm-1 2zm6 3zm-6 12zm-19 6zm-1 12zm1 1zm8-1zm7 9zm6-2zm14-11zm-43 1zm-4-6zm-15 24zm-8 2zm-2 4zm-26-16zm-20-14zm120-73z" stroke="#1f77b4" stroke-width="6" stroke-linecap="round" fill="none"/>
<path transform="scale(0.2)" d="M1405 1146zm10-9zm12-15zm10 18zm17-7zm-5-12zm4-16zm-16-2zm-7-9zm-10 2zm8-14zm0-2zm3 2zm7 1zm0-19zm-19 3zm39-7zm7-7zm-5-5zm11 10zm3 6zm4-2zm-7 7zm11 12zm-11 27zm188 118zm3 3zm-8 6zm-10 89zm-5 21zm2 3zm-23 36zm2 39zm-33 23zm-9 24zm1 26zm18 2zm0 7zm13 13zm15 17zm5 8zm8 20zm8 4zm0 6zm14 8zm11 0zm5-7zm-4-17zm2-12zm11-25zm-1-4zm10 6zm5 8zm17-13zm-8-13zm-12-4zm-4 7zm-20 0zm-8-2zm-17 1zm-10 0zm-6-8zm-5-13zm-5 0zm37-10zm67-4zm6 13zm8-6zm20-12zm7-3zm3-8zm9 4zm0 6zm-2 4zm-14 4zm4 9zm2 7zm40-48zm-1-5zm15-2zm52-23zm181-97zm7-2zm3-1zm2-6zm-3-2zm-1 1zm1-4zm-4-3zm-4 3zm0-8zm3-4zm14 7zm0 3zm11 4zm5 7zm-4 3zm-5 3zm6 4zm1 0zm-2 2zm3 3zm-6 4zm0 4zm-3-1zm-6-4zm-9 5zm12 14zm11-8zm3-1zm4 1zm0-3zm-3 7zm-1 1zm15-24zm3-2zm2-3zm1-1zm4-7zm4 10zm8-6zm-23-7zm2-5zm5-6zm-14 5zm-4-2zm0-1zm-1 3zm4 6zm4 6zm-1 3zm-4 0zm-22 0zm14-25zm0-4zm-4-1zm-5-1zm17 5zm23-55zm-21-16zm84 45zm22-14zm18-49zm50-42zm-30-39zm-4-9zm-25-8zm17-17zm-4-37zm-4-1zm8-6zm-34 15zm-2 2zm-16 18zm8 32zm34 192zm1 12zm-10-1zm6 17zm19 5zm2 2zm-2-18zm-45 32zm-8 2zm-29 0zm-15 17zm-5 5zm74 5zm31-2zm-58-68zm-524 290zm-5-1zm5 11zm-24-7zm-22 1zm-16-3zm-1-21zm-4 0zm-15-6zm-16-15zm-13 18zm-12 13zm4 25zm-13 7zm-6-1zm-7-9zm-15 0zm-5 4zm-7-8zm-11-11zm-5-10zm-24-4zm51-26zm5 10zm4-21zm26 16zm-7-43zm2-22zm4-17zm12-7zm-1-7zm4-6zm3-2zm3-9zm-12-7zm-25 16zm-7 15zm-8-5zm-3 14zm7 10zm-12 9zm5 9zm-22 7zm-15 0zm0 9zm1-61zm6-1zm81 23zm4 19zm7 2zm29 38zm11 1zm6 9zm7 3zm-3 13zm-54 36zm14-175z" stroke="#ff7f0e" stroke-width="6" stroke-linecap="round" fill="none"/>
<path d="M393.1,256.6L407.9,260.6L393.1,264.4Z" fill="#e8212b"/>
<text x="417" y="311.7" font-size="9.6" font-style="italic" font-weight="bold" fill="#2b7bbd">Elmo2<tspan dy="-2.8" font-size="9">+/+</tspan></text>
<text x="417" y="320.9" font-size="9.6" font-style="italic" font-weight="bold" fill="#f7941d">Elmo2<tspan dy="-2.8" font-size="9">-/-</tspan></text>
</g>
<g id="panel-f">
<text x="485.30" y="190.60" font-size="15" font-weight="bold" stroke="#000" stroke-width="0.22">f</text>
<line x1="531.60" y1="184.00" x2="531.60" y2="319.40" stroke="#555" stroke-width="0.8"/>
<line x1="662.60" y1="184.00" x2="662.60" y2="319.40" stroke="#888" stroke-width="0.8"/>
<rect x="561.97" y="311.54" width="21.52" height="1.90" fill="#fbd9c5"/>
<rect x="583.49" y="311.14" width="26.42" height="3.00" fill="#e3e3e3"/>
<rect x="609.91" y="311.54" width="10.95" height="1.60" fill="#fbd9c5"/>
<line x1="584.09" y1="185.00" x2="584.09" y2="319.40" stroke="#5b5bd0" stroke-width="0.9" stroke-dasharray="0.9 0.7"/>
<line x1="610.44" y1="185.00" x2="610.44" y2="319.40" stroke="#5b5bd0" stroke-width="0.9" stroke-dasharray="0.9 0.7"/>
<line x1="596.85" y1="185.00" x2="596.85" y2="319.40" stroke="#f46a6a" stroke-width="1.0" stroke-dasharray="0.9 0.7"/>
<line x1="531.60" y1="309.60" x2="662.60" y2="309.60" stroke="#27ae60" stroke-width="0.8" stroke-dasharray="1.6 0.9"/>
<path transform="scale(0.2)" d="M2987 1547zm1 0zm2-2zm-1-1zm4 1zm4 2zm2 1zm4-1zm2 0zm2-3zm-3-2zm0-1zm-2 2zm-4 0zm-1-3zm-2-2zm-1-1zm-2 2zm-1-3zm0-1zm1-1zm-3 1zm11 0zm0-3zm4-3zm1-3zm1 0zm3-1zm2 2zm1 3zm0 2zm1 1zm0 2zm-2 0zm0 3zm0 3zm-1 1zm1 1zm2-1zm1 0zm1-2zm2 4zm2 1zm0 3zm-5 0zm0-3zm-3 1zm-1 3zm11-10zm0-1zm1 0zm1 1zm3-1zm2 1zm2 1zm3-2zm1 0zm1 2zm2 2zm-2 3zm-3 1zm-1 1zm1 1zm-4-1zm-1 1zm1-3zm-2-2zm-8-8zm0-1zm1-1zm1-1zm3 0zm4-1zm-1-3zm-1-2zm2-2zm-6-1zm3-7zm-12-7zm-3 4zm-2-1zm-5-4zm-5-8zm-4-6zm10 27zm-5 4zm7 8zm9-2zm18-3zm2-2zm3-3zm0-1zm0 7zm2 0zm0 3zm-2 0zm-3 0zm0 2zm7-1zm0 7zm4 4zm0 1zm0 3zm-1 0zm-2 0zm0-1zm2-43zm-6-8zm-5-4z" stroke="#1cc4cc" stroke-width="7.5" stroke-linecap="round" fill="none"/>
<text x="521.70" y="194.12" font-size="10" text-anchor="middle" fill="#1a1a1a" stroke="#1a1a1a" stroke-width="0.22" textLength="14.9" lengthAdjust="spacingAndGlyphs">300</text>
<text x="521.70" y="214.45" font-size="10" text-anchor="middle" fill="#1a1a1a" stroke="#1a1a1a" stroke-width="0.22" textLength="14.9" lengthAdjust="spacingAndGlyphs">250</text>
<text x="521.70" y="234.78" font-size="10" text-anchor="middle" fill="#1a1a1a" stroke="#1a1a1a" stroke-width="0.22" textLength="14.9" lengthAdjust="spacingAndGlyphs">200</text>
<text x="521.70" y="255.11" font-size="10" text-anchor="middle" fill="#1a1a1a" stroke="#1a1a1a" stroke-width="0.22" textLength="14.9" lengthAdjust="spacingAndGlyphs">150</text>
<text x="521.70" y="275.44" font-size="10" text-anchor="middle" fill="#1a1a1a" stroke="#1a1a1a" stroke-width="0.22" textLength="14.9" lengthAdjust="spacingAndGlyphs">100</text>
<text x="521.70" y="295.77" font-size="10" text-anchor="middle" fill="#1a1a1a" stroke="#1a1a1a" stroke-width="0.22" textLength="9.9" lengthAdjust="spacingAndGlyphs">50</text>
<text x="521.70" y="316.10" font-size="10" text-anchor="middle" fill="#1a1a1a" stroke="#1a1a1a" stroke-width="0.22" textLength="5.0" lengthAdjust="spacingAndGlyphs">0</text>
<line x1="540.08" y1="319.40" x2="540.08" y2="320.60" stroke="#444" stroke-width="0.5"/>
<text x="539.48" y="330.20" font-size="10" text-anchor="middle" fill="#222" stroke="#222" stroke-width="0.22" textLength="17.2" lengthAdjust="spacingAndGlyphs">-7.5</text>
<line x1="558.95" y1="319.40" x2="558.95" y2="320.60" stroke="#444" stroke-width="0.5"/>
<text x="558.35" y="330.20" font-size="10" text-anchor="middle" fill="#222" stroke="#222" stroke-width="0.22" textLength="17.2" lengthAdjust="spacingAndGlyphs">-5.0</text>
<line x1="577.83" y1="319.40" x2="577.83" y2="320.60" stroke="#444" stroke-width="0.5"/>
<text x="577.23" y="330.20" font-size="10" text-anchor="middle" fill="#222" stroke="#222" stroke-width="0.22" textLength="17.2" lengthAdjust="spacingAndGlyphs">-2.5</text>
<line x1="596.70" y1="319.40" x2="596.70" y2="320.60" stroke="#444" stroke-width="0.5"/>
<text x="596.70" y="330.20" font-size="10" text-anchor="middle" fill="#222" stroke="#222" stroke-width="0.22" textLength="14.0" lengthAdjust="spacingAndGlyphs">0.0</text>
<line x1="615.58" y1="319.40" x2="615.58" y2="320.60" stroke="#444" stroke-width="0.5"/>
<text x="615.58" y="330.20" font-size="10" text-anchor="middle" fill="#222" stroke="#222" stroke-width="0.22" textLength="14.0" lengthAdjust="spacingAndGlyphs">2.5</text>
<line x1="634.45" y1="319.40" x2="634.45" y2="320.60" stroke="#444" stroke-width="0.5"/>
<text x="634.45" y="330.20" font-size="10" text-anchor="middle" fill="#222" stroke="#222" stroke-width="0.22" textLength="14.0" lengthAdjust="spacingAndGlyphs">5.0</text>
<line x1="653.33" y1="319.40" x2="653.33" y2="320.60" stroke="#444" stroke-width="0.5"/>
<text x="653.33" y="330.20" font-size="10" text-anchor="middle" fill="#222" stroke="#222" stroke-width="0.22" textLength="14.0" lengthAdjust="spacingAndGlyphs">7.5</text>
<text x="560.2" y="342.4" font-size="10.4" fill="#222" textLength="74.2" lengthAdjust="spacingAndGlyphs" stroke="#222" stroke-width="0.2">log<tspan dy="2.2" font-size="6.4">2</tspan><tspan dy="-2.2"> fold change</tspan></text>
<text x="505.3" y="252.4" font-size="10.4" fill="#222" text-anchor="middle" transform="rotate(-90 505.3 252.4)" textLength="66.6" lengthAdjust="spacingAndGlyphs" stroke="#222" stroke-width="0.2">-log<tspan dy="2.2" font-size="6.4">10</tspan><tspan dy="-2.2"> p-value</tspan></text>
<line x1="614.60" y1="275.80" x2="611.00" y2="284.40" stroke="#555" stroke-width="0.45"/>
<line x1="620.90" y1="286.60" x2="616.90" y2="293.70" stroke="#555" stroke-width="0.45"/>
<line x1="638.90" y1="287.40" x2="620.90" y2="295.90" stroke="#555" stroke-width="0.45"/>
<line x1="603.80" y1="287.40" x2="611.90" y2="294.60" stroke="#555" stroke-width="0.45"/>
<line x1="649.70" y1="299.10" x2="656.80" y2="303.60" stroke="#555" stroke-width="0.45"/>
<line x1="612.80" y1="305.40" x2="617.30" y2="307.80" stroke="#555" stroke-width="0.45"/>
<line x1="621.80" y1="309.00" x2="618.70" y2="304.50" stroke="#555" stroke-width="0.45"/>
<path transform="scale(0.2)" d="M2888 1534zm172-61zm24-5zm20 12zm-10 42zm-8 17zm-31-117zm229 96zm-134-465zm-12-101z" stroke="#ff7f3a" stroke-width="8.5" stroke-linecap="round" fill="none"/>
<text x="627.70" y="197.50" font-size="10" font-style="italic" fill="#222" stroke="#222" stroke-width="0.22" textLength="23.8" lengthAdjust="spacingAndGlyphs">Acta2</text>
<text x="628.40" y="220.00" font-size="10" font-style="italic" fill="#222" stroke="#222" stroke-width="0.22" textLength="21.6" lengthAdjust="spacingAndGlyphs">Tagln</text>
<text x="614.20" y="274.80" font-size="10" font-style="italic" fill="#222" stroke="#222" stroke-width="0.22" textLength="19.3" lengthAdjust="spacingAndGlyphs">Edn1</text>
<text x="616.70" y="285.10" font-size="10" font-style="italic" fill="#222" stroke="#222" stroke-width="0.22" textLength="19.1" lengthAdjust="spacingAndGlyphs">Myl9</text>
<text x="638.90" y="286.90" font-size="10" font-style="italic" fill="#222" stroke="#222" stroke-width="0.22" textLength="20.3" lengthAdjust="spacingAndGlyphs">Ccn2</text>
<text x="584.40" y="286.90" font-size="10" font-style="italic" fill="#222" stroke="#222" stroke-width="0.22" textLength="23.9" lengthAdjust="spacingAndGlyphs">Bmp4</text>
<text x="632.90" y="297.70" font-size="10" font-style="italic" fill="#222" stroke="#222" stroke-width="0.22" textLength="27.5" lengthAdjust="spacingAndGlyphs">Ankrd1</text>
<text x="549.80" y="305.80" font-size="10" font-style="italic" fill="#222" stroke="#222" stroke-width="0.22" textLength="25.2" lengthAdjust="spacingAndGlyphs">Elmo2</text>
<text x="586.70" y="306.90" font-size="10" font-style="italic" fill="#222" stroke="#222" stroke-width="0.22" textLength="26.1" lengthAdjust="spacingAndGlyphs">Spon2</text>
<text x="612.40" y="317.10" font-size="10" font-style="italic" fill="#222" stroke="#222" stroke-width="0.22" textLength="46.8" lengthAdjust="spacingAndGlyphs">St6galnac5</text>
</g>
<g id="panel-g">
<text x="-0.70" y="361.00" font-size="15" font-weight="bold" stroke="#000" stroke-width="0.22">g</text>
<defs><linearGradient id="gb" x1="0" y1="1" x2="0" y2="0"><stop offset="0" stop-color="#d4d4d4"/><stop offset="0.5" stop-color="#7d8be0"/><stop offset="1" stop-color="#0f2ae6"/></linearGradient></defs>
<path d="M22.50,372.60V474.60H153.40" fill="none" stroke="#6a6a6a" stroke-width="0.7"/>
<text x="18.30" y="389.40" font-size="9.5" text-anchor="middle" fill="#111" stroke="#111" stroke-width="0.22" transform="rotate(-90 18.30 389.40)">UMAP2</text>
<text x="153.90" y="484.40" font-size="9.7" text-anchor="end" fill="#111" stroke="#111" stroke-width="0.22">UMAP1</text>
<text x="91.60" y="383.20" font-size="12" text-anchor="middle" font-style="italic" fill="#111" stroke="#111" stroke-width="0.22">Acta2</text>
<rect x="160.30" y="372.60" width="5.90" height="102.30" fill="url(#gb)" stroke="#777" stroke-width="0.3"/>
<line x1="166.20" y1="474.30" x2="167.70" y2="474.30" stroke="#444" stroke-width="0.5"/>
<text x="170.30" y="477.20" font-size="10.2" fill="#111" stroke="#111" stroke-width="0.22">0</text>
<line x1="166.20" y1="454.70" x2="167.70" y2="454.70" stroke="#444" stroke-width="0.5"/>
<text x="170.30" y="458.20" font-size="10.2" fill="#111" stroke="#111" stroke-width="0.22">1</text>
<line x1="166.20" y1="435.10" x2="167.70" y2="435.10" stroke="#444" stroke-width="0.5"/>
<text x="170.30" y="438.60" font-size="10.2" fill="#111" stroke="#111" stroke-width="0.22">2</text>
<line x1="166.20" y1="415.50" x2="167.70" y2="415.50" stroke="#444" stroke-width="0.5"/>
<text x="170.30" y="419.00" font-size="10.2" fill="#111" stroke="#111" stroke-width="0.22">3</text>
<line x1="166.20" y1="395.90" x2="167.70" y2="395.90" stroke="#444" stroke-width="0.5"/>
<text x="170.30" y="399.40" font-size="10.2" fill="#111" stroke="#111" stroke-width="0.22">4</text>
<line x1="166.20" y1="376.30" x2="167.70" y2="376.30" stroke="#444" stroke-width="0.5"/>
<text x="170.30" y="379.80" font-size="10.2" fill="#111" stroke="#111" stroke-width="0.22">5</text>
<path transform="scale(0.2)" d="M141 1978zm2 1zm0-2zm6 2zm2 1zm4 4zm1 0zm-2 3zm2 2zm7-3zm4-2zm-1-2zm1-2zm2 0zm2-2zm-2-6zm-1-1zm0-1zm-3 1zm-4 2zm0 2zm-3 0zm-1 4zm6-1zm-7-10zm1-3zm-2-4zm2-3zm-5 0zm0-8zm-1-2zm4-1zm3 2zm-1 2zm-1 0zm7 0zm0 3zm3 3zm2 0zm4 0zm1 2zm4-2zm-1-3zm-3 0zm-1-1zm0-6zm3-3zm-3-4zm-3-2zm0-3zm-1-4zm-1-1zm3 1zm4-1zm2-1zm0-4zm-2-4zm-1-7zm5-6zm3 4zm3-3zm3-2zm2 4zm3-1zm1-2zm3 3zm-2 2zm-1 0zm2 3zm3-3zm-7 8zm1 2zm2 2zm4 1zm0 1zm-1 2zm1 1zm-4 2zm-2-2zm-2-1zm-4 0zm-2 2zm-1-3zm4-4zm1-3zm-3-2zm-2 3zm6 13zm5 2zm-3 4zm-3 3zm-1 2zm-1 3zm-2 2zm1 2zm5-2zm-8 8zm-5 2zm-1 4zm2 0zm3 1zm0 2zm-1 4zm-3 4zm1 2zm-3-11zm-2-2zm-11-1zm-16-12zm-3 3zm9-15zm2 1zm-1-4zm6-3zm2 0zm-1 2zm4 1zm-4-6zm1-3zm-1-2zm-2-1zm0-1zm0-2zm-2-3zm-2 3zm-2 0zm-2 1zm0-2zm-1 5zm0 2zm-1 0zm-1-2zm5 3zm4-1zm6-4zm1 1zm0 1zm2 1zm-1 2zm1-5zm-2-2zm-4-7zm-2-3zm0-3zm6-1zm1-2zm2 1zm-1 4zm3-10zm9 1zm2 1zm1 0zm1-4zm5-1zm0-1zm-34 16zm6 31zm19-7zm11 29zm23-12zm5 5zm1 0zm-2 1zm1 3zm3 1zm2 6zm-1-15zm93 86zm3 0zm2 1zm-2 4zm-4 0zm0-2zm-2 4zm-1 0zm0 1zm-2-1zm-2 2zm0 1zm0 1zm1 0zm1 0zm2 0zm-5 3zm-3 0zm-4 3zm-1 2zm1 1zm1 6zm4 52zm-7 1zm-5 9zm1 1zm2 2zm1 0zm2 1zm2 1zm1 3zm2 2zm1-2zm8-2zm3-2zm2 4zm1 3zm-3 0zm6-2zm1-1zm6 1zm1 0zm-2-5zm-6-3zm0-4zm1 0zm1 0zm-2-2zm-1-2zm0-1zm-6 0zm-2-1zm0-1zm2 8zm6 18zm0 1zm-2 0zm-2 4zm6 2zm3 3zm2-3zm0-5zm-17 7zm-3-2zm-2 6zm-1 0zm-1 4zm2 0zm-2 2zm-2-1zm-6-1zm-2-2zm4-3zm1-1zm-6-10zm-2 1zm-6 2zm-8 3zm-2 1zm0-2zm-1 4zm-1 9zm5 3zm-4 3zm11 6zm-3 6zm3 14zm-13-2zm-9 4zm-6 2zm-2 3zm0 1zm-5 1zm0-3zm-2-3zm-1-5zm-11 2zm0 1zm0 3zm-3 4zm3 4zm0 1zm-1 1zm3-4zm2 0zm1 4zm2 4zm0 2zm4 0zm5 4zm0 5zm-1 4zm0 2zm1 1zm2 0zm-2 3zm0 2zm5-3zm1-1zm2 4zm2 0zm4 0zm4 0zm-2 4zm3 5zm5-1zm1 2zm9 0zm3-7zm-1-1zm-1 0zm1-4zm4 4zm0 3zm5-1zm2 1zm7 3zm2 2zm0 2zm3 1zm-3 3zm-4-1zm-2 0zm-1 3zm1 2zm4 1zm4-1zm1 2zm-1 1zm-2 4zm0 2zm4 2zm2 5zm-6 3zm-6 4zm-1 0zm-2-3zm0-1zm1-1zm1-2zm-1-4zm1-3zm-1-4zm-2-2zm-4-4zm-2-1zm-1-1zm-5 4zm1 2zm1 0zm-4 1zm0 4zm4 1zm3 1zm0 2zm3-4zm2 2zm1 5zm0 5zm-2 5zm-1 3zm-1 4zm1 2zm0 3zm-2 0zm1 2zm3-1zm1-3zm2 1zm2 0zm1 1zm2 2zm2 2zm1-3zm2 5zm3-2zm4-1zm2 2zm0 4zm2 0zm2-1zm0 2zm3 3zm-1 4zm-6-2zm-4 1zm-2 0zm-1-3zm1-1zm3-2zm-6 5zm-2-2zm-4 1zm-1 3zm-1 3zm-2-1zm-1 0zm-2 1zm-1-2zm-3-1zm-1 0zm-3 0zm-3 2zm-2 2zm-2 0zm-1-3zm-3 1zm-1 0zm0 1zm-2 0zm-2 1zm-2-1zm-1 7zm3 0zm5 1zm1-1zm-1-1zm-1 6zm0 1zm-1 2zm-1 0zm2 4zm1 3zm2 3zm3 0zm1 1zm4-1zm0-1zm1 5zm8-5zm0-2zm1-1zm1 2zm1 4zm6-2zm2 3zm3-2zm1-3zm3 0zm2 1zm-1 2zm-1 5zm0 1zm-8 2zm-4 4zm-3-3zm-14 7zm-11-4zm-2 0zm1-2zm-3-2zm-4-3zm-5-1zm-1-3zm1-2zm0-3zm4-3zm-1-3zm4-3zm1-1zm1 0zm-2 10zm-12-2zm2-5zm-4-5zm0-3zm4 1zm2-4zm-1-2zm-3-1zm-2-1zm-2 0zm-2 3zm-2-5zm-7 1zm-3-2zm1-4zm-6-3zm-2 1zm-1 0zm-1 1zm3 0zm-6-1zm-2-1zm-1-2zm-2-2zm-2 3zm-2 0zm0-2zm-2 1zm-2 3zm3 3zm-2 2zm1 2zm-4-2zm-1 1zm-3-5zm-1-4zm-4-2zm0 6zm1 5zm-6-3zm-8 2zm1 3zm4 4zm-3 7zm-5 3zm-1-1zm-4-1zm-6 2zm-2-2zm-1-2zm2 0zm-5 7zm13 6zm-1 4zm-1 0zm-1 2zm4 0zm8-8zm2-2zm9 0zm4 2zm0-5zm0-2zm4-6zm-1-4zm-6 3zm11 4zm2-4zm5-2zm2 2zm0 5zm-2 3zm4 0zm3-6zm6 2zm3-1zm3-4zm1-2zm4 3zm-2 2zm4 0zm0 2zm1 1zm3 2zm-1 2zm-3 0zm0 1zm-3-1zm-3 1zm-1 1zm-1 1zm3 2zm-2 4zm-5 2zm-3-5zm-2 2zm-4-1zm-2 1zm1 1zm1 3zm-4 0zm0-1zm-3-2zm-2 0zm3-4zm-7-4zm-5 9zm0 1zm3 3zm2-1zm2 4zm2 1zm0-2zm2 3zm-1 2zm-1 1zm4 3zm1-1zm1 0zm3 2zm-2 4zm6-6zm2 1zm0-2zm3-1zm-1-2zm5-3zm1 5zm4 0zm0 2zm2 0zm-2 4zm-2 1zm7-1zm1-1zm2-8zm-5-3zm-2-1zm-1-1zm10-3zm1 2zm3 9zm3 3zm4 2zm1-4zm14-19zm1 0zm5-3zm3 0zm3-1zm0 2zm2-5zm2 1zm-3-4zm-5-1zm0-1zm-1 2zm1-5zm0-2zm-4-6zm-1-3zm0-2zm3-5zm0-2zm-4-3zm-3-3zm-1-4zm0-2zm1-3zm2 1zm4-2zm5 1zm1-4zm0-3zm-3 1zm-5-2zm2-3zm-6 1zm0 2zm-1-5zm-1-2zm-3-3zm1-3zm-2-2zm1-1zm0-2zm-4 0zm-4 1zm-4 0zm-5 0zm1-5zm4 0zm4-5zm-8-5zm0-5zm-5 6zm-2 6zm-4 2zm-2 2zm-2 2zm0 5zm0 3zm-3-1zm-3-1zm-2-1zm1-3zm0-1zm-1-1zm-4-1zm-3 0zm-2-1zm0 5zm4 3zm1 11zm5 2zm0 1zm0 3zm-3 1zm4 8zm3-2zm5-1zm4-3zm4-3zm-1-1zm5 0zm0 1zm0-4zm0-2zm-1-5zm-4 1zm-2 2zm-3-2zm0-4zm1-2zm-1-2zm4 1zm12 2zm2 0zm4 6zm3-1zm0 8zm-6 4zm6 4zm0 1zm0 2zm0 1zm2 2zm0 3zm0 1zm4 7zm-1 2zm1 5zm11-6zm4-3zm2 1zm0 7zm4 0zm2-3zm2-1zm-1-4zm-1-3zm-2-9zm-1-1zm-7 5zm-4-2zm26-2zm3 0zm4-5zm-2-3zm10 5zm0 2zm-1 1zm0 6zm0 2zm1 1zm4 1zm2 0zm-1 3zm-4 0zm1 4zm3 1zm2 0zm-1 3zm-2 0zm5 3zm-8 9zm-1 0zm-1-1zm-2 1zm-1 2zm0 3zm3-2zm-11-1zm0-1zm-2 1zm-4-1zm-3-2zm-2-1zm1-2zm1-2zm2 2zm-3 7zm1 2zm-6-1zm0-7zm-5 0zm18 12zm0 1zm-1 3zm10-38zm11-4zm-1-3zm1-5zm0-2zm2 1zm3 3zm4 0zm0-1zm0-2zm-3-3zm0-1zm2-1zm1-2zm-6 2zm-4-1zm-2 2zm-1-5zm4-4zm4-3zm1 2zm-3-5zm2-3zm3 0zm4 1zm3-1zm1 2zm0 1zm0 1zm-1 0zm4 1zm3-3zm0 8zm-1 3zm0 1zm-1 3zm1 3zm-3 3zm1 2zm-3 2zm-1 0zm0 2zm2 3zm2-3zm2 1zm-7 5zm-1 3zm-4-1zm1-3zm-3-4zm10-20zm7 3zm1-1zm6 0zm2-4zm2-1zm0 3zm1-7zm-6-3zm-1-4zm4 0zm-6-5zm1-2zm-2-3zm-3-1zm-1-3zm-2 5zm0 3zm3 1zm-2 3zm-5-5zm1-1zm-8-5zm-2 3zm-6 1zm-3 7zm0 2zm-5-3zm-2-1zm-2-1zm-1-1zm2-2zm2-3zm2-4zm-2-1zm-5 3zm-4-3zm-1 0zm1-2zm-3-4zm-8 0zm-5-5zm-4-2zm-4 0zm-1 2zm3 2zm-14-2zm-2-4zm-2 0zm-4 0zm0-1zm1-3zm-4 1zm0 1zm1 4zm-4 1zm0 2zm-6-6zm-3 0zm6-7zm2 2zm3-2zm2-2zm-7-11zm2-24zm26-16zm13 7zm2 0zm-2 9zm6 1zm3-1zm3 0zm-2 3zm11 2zm5-5zm5 6zm5-10zm16 17zm-4 5zm-5 6zm-18 13zm-1 3zm11 12zm21 5zm9 2zm1 3zm5 1zm1-1zm2 0zm0 1zm-2 2zm1 6zm0 1zm0 1zm2 2zm0 2zm1 2zm-6-6zm9-6zm0-1zm3-1zm2 0zm1 1zm1-2zm1 1zm0-3zm-1-2zm0-3zm0-2zm-2-1zm-1-1zm-1 2zm0 1zm1 0zm-4 0zm0 1zm0 2zm1 0zm-3 0zm-1-4zm-3 0zm-2 2zm-1-1zm-1-1zm1-1zm0-2zm-2-4zm7 3zm2 1zm2 1zm4-3zm1-3zm2-2zm2-1zm2 3zm3-3zm2-4zm2-2zm2-2zm2 0zm1 1zm3 0zm2-2zm1-1zm2-1zm0-2zm1-2zm7 5zm-5 4zm-3 2zm-1-2zm-2 2zm-1 0zm2 1zm0 3zm-5-3zm0-1zm-1 3zm-2 1zm-2 1zm-2 5zm1 4zm-5-2zm-1 3zm-2 2zm3 4zm-5-9zm-9-8zm-5 14zm-13 9zm-27 9zm-14 5zm-1 1zm-1 3zm0 2zm2 0zm2-2zm-6-1zm-1 1zm-1-7zm3-5zm-5-8zm-16 4zm5 13zm-24-3zm-2-2zm-15 13zm-19 7zm-3-8zm-4 2zm-12 0zm-5 4zm-4 1zm-1 5zm-1 6zm6-1zm2-4zm6 7zm2 1zm3 2zm-1 1zm-3 2zm-4 0zm0 4zm-3 5zm-12-7zm2-4zm-7-2zm-9 6zm-2 1zm-2-1zm-10 2zm-3 3zm-1 4zm-3 3zm-6-2zm-1 1zm5-6zm1-5zm2-1zm1-1zm-4-6zm-3-4zm1-5zm1-2zm3 3zm5 1zm1 0zm1 4zm6-1zm3-3zm-6-8zm0-1zm-4 4zm-1-8zm5-2zm2-4zm5-1zm2-4zm2-5zm4 2zm3 2zm5-1zm1 4zm3 3zm0 1zm-2 1zm-4-1zm-2 4zm5 2zm3 2zm1-1zm6-3zm-4-5zm3-4zm-1-4zm2-1zm-1-3zm-1-2zm-1 0zm-2 0zm0 2zm-3-3zm-2-5zm0-2zm-1-2zm2-1zm2 3zm4 3zm6 2zm1-2zm1-3zm-1-2zm4-3zm0-1zm4-1zm4 2zm4 5zm1 4zm-3 3zm-8-8zm-3-9zm0-8zm-3-6zm-5-1zm2-4zm-1-1zm-1-3zm4 1zm3 3zm-1-8zm1-4zm-5-2zm-3 0zm-2-6zm0-3zm-2-2zm-1-3zm-4-2zm-1 8zm-2 4zm-3 0zm8 4zm1-3zm8-3zm0-3zm4 3zm4 2zm6-1zm1-6zm-3-5zm-4 3zm-4-5zm-2 0zm-5 0zm-4-6zm-14 29zm0 4zm-3 2zm-1 4zm-4 0zm-2 8zm-2 6zm-4 1zm2 8zm4-2zm2 1zm0 5zm1 3zm0 2zm-3-1zm-1-1zm-1 0zm-5 2zm-2-2zm-1-1zm-1 10zm8 3zm-1 3zm7 12zm8 1zm4-20zm-1-1zm-6-2zm0-3zm5-3zm5 0zm1-7zm1-2zm0-2zm-5 1zm-6-1zm0-4zm-3-2zm4-2zm4 3zm1-1zm2 0zm1 0zm3 0zm-3-6zm-3-1zm1-5zm-2-4zm6-1zm9 14zm0 8zm16-4zm1 0zm2-2zm-1-2zm4 2zm2-2zm0-1zm-5 8zm5 2zm1 3zm2-1zm1 2zm0 1zm1-5zm0-2zm31 5zm2 2zm0 1zm1 0zm35-37zm9-3zm47-31zm9-2zm40 13zm18 6zm7 12zm2-1zm1 0zm2 1zm2 1zm3-1zm5-6zm-13 11zm-6 2zm-6 2zm-2 1zm-3 0zm-5 2zm-1-2zm-17 22zm-110-86zm-4-7zm1-1zm1-1zm-7-4zm-1-2zm2 0zm0-1zm-4-1zm1 5zm0 3zm-4-1zm-2 0zm1 5zm0 1zm8 1zm-45 153zm0 2zm1 6zm0 1zm1 1zm2-1zm-1-1zm3 0zm-2 4zm8 3zm4 1zm0 2zm2 0zm0-6zm-5-5zm0-1zm1-1zm2-1zm-24 2zm-4 29zm0 2zm2 2zm-7 15zm0 3zm-2 0zm-3 0zm-1-3zm2-1zm-10 11zm-1 0zm-5-7zm-4 1zm-1 1zm-3 1zm-2-1zm2-7zm1-1zm5 1zm1 1zm-25-28zm-10-46zm2-2zm-1-1zm-5-7zm433-139zm12-3zm5-5zm4 1zm-1 4zm8-5zm1-4zm1-2zm3-1zm-2-3zm-5 1zm-1-2zm0-1zm-3 0zm14-11zm1 1zm3-1zm2 1zm6 1zm0-5zm5 5zm5 2zm-2 3zm-5 1zm1 3zm-5-1zm0 5zm-1 0zm-3 4zm1 1zm-5 4zm-3 5zm0 1zm-1 0zm-3-3zm-4 6zm2 1zm3 4zm0 2zm2 1zm2-2zm-2-1zm3-1zm2-2zm3-1zm2 1zm1-1zm0-1zm-3-2zm5-1zm6 0zm3 4zm0 1zm1 1zm2 3zm3-2zm-1-3zm5 5zm1 3zm2 4zm4 3zm0 1zm-1 5zm-2 2zm-2-1zm-2 2zm-4-1zm1-2zm-4 1zm1 3zm2 2zm2 5zm4 0zm1-1zm-1-1zm2 5zm1 2zm3 0zm1 1zm7-1zm1-1zm-2-2zm-2-2zm2-5zm0-2zm3 0zm0 2zm4-6zm3 0zm1-2zm-2-4zm-2-2zm-1-5zm-1-3zm6-4zm2 2zm1-4zm1 0zm1-2zm2-4zm4 1zm0 4zm-1 1zm2 1zm-1 2zm0 2zm5 0zm-1-3zm5-4zm5-5zm-12-11zm-5 0zm-2 0zm-3-3zm-3 5zm-3-4zm-1-3zm-1-4zm-5 0zm-2-3zm-2 2zm-3-2zm2-3zm3-1zm5-2zm2-2zm4 0zm6 2zm-2 3zm1 1zm-2 2zm8 1zm3 6zm-6 10zm2 1zm-9 2zm-4 2zm1 3zm2 0zm-3 4zm-4-3zm-4-5zm-2-2zm0-1zm4-2zm0-1zm2-2zm1 0zm-5-1zm-2-2zm-1 2zm-2-3zm-4 4zm-2 2zm-1-4zm-2-1zm-3 3zm1 2zm0 3zm-1 1zm1 1zm-4 1zm-9-3zm8-7zm3-5zm3-1zm1-2zm-5 0zm10-2zm4-8zm-1-1zm-6 0zm-2-9zm-6 3zm-2-3zm0-1zm-2 3zm0 2zm-1 1zm-3-2zm0-11zm13 0zm4 0zm8-1zm1-5zm-1-4zm2 0zm1-2zm-1-1zm-2 0zm-3 1zm-4 0zm-1-6zm-8 6zm22 5zm4 1zm3 6zm-4 3zm4 5zm2-2zm-5 5zm11 0zm5 3zm1-3zm-1 8zm-22 15zm4 10zm-5 12zm-6 4zm-1-2zm0-6zm0 12zm6 2zm-1 4zm-1 10zm-1 2zm0 1zm-8-10zm-7-1zm-5 3zm0 4zm-2 0zm0 3zm-5 2zm-1-4zm-5 6zm-4 4zm-6-2zm3-4zm-1-1zm3 0zm2-5zm-4-1zm-4 0zm-5-1zm3-8zm6 4zm4 0zm3-1zm2 0zm2-1zm-3-3zm4-3zm1-2zm5 6zm8-4zm-23 2zm-2-2zm-13 0zm-1 0zm0-1zm-5-3zm23-26zm-5-15zm-1-3zm3-3zm2-1zm-3-4zm-1-2zm-9-4zm-1-1zm-1-6zm-4-5zm-3 2zm-2-4zm7-2zm5 2zm-5-12zm-4-4zm-5 2zm-2-1zm-2 0zm-2 1zm-1-3zm5-1zm-3-6zm0-1zm7 17zm-8 13zm16 17zm0 5zm52-7zm11-39zm-1-2zm-2 1zm-1-1zm-4-4zm-2-3zm0-1zm0-1zm1-1zm-1-7zm7-3zm2-5zm3-2zm1 6zm2-16zm4-4zm1-1zm-3-1zm-5-3zm-3-3zm2-6zm-2-3zm0-1zm2-6zm-4-1zm1-3zm4 0zm4 0zm3 0zm5 2zm3 2zm1-5zm0-2zm-2-2zm3-3zm1-2zm-1-1zm1-2zm-2-1zm-5 2zm-3 4zm-3-4zm-3 1zm0-5zm3 0zm3-4zm1-1zm5 0zm-5-6zm-3 0zm-2-3zm3-3zm2-8zm0-3zm4-3zm4-1zm-6-4zm-5-3zm-2-3zm5-1zm-4-4zm-4-4zm3-2zm1-1zm-2-2zm-4-1zm3-3zm0-1zm2 0zm4 6zm1 1zm1-2zm1 5zm0 1zm4 3zm-1 1zm1-9zm-18 3zm0 2zm-3-5zm0-3zm-5 9zm-3 0zm-1 2zm-2-1zm3 6zm-3 1zm-1 4zm1 3zm-5-2zm-1 1zm1-5zm-4-4zm2-7zm11 12zm7-3zm0-2zm4 0zm1 1zm-4 5zm3 12zm1 0zm1 1zm-2 0zm5-2zm1 0zm-14 4zm-3-1zm-3 0zm-1 4zm1 3zm-7-3zm-5 1zm-1 2zm8 10zm-2 5zm13-3zm2 0zm4-1zm2-3zm-1-2zm0 11zm-4 1zm-2 1zm3 4zm10 17zm5 0zm1 5zm4 1zm1 0zm5-6zm1 1zm1-1zm2 0zm2-1zm3-5zm1-6zm5 2zm3 4zm6-2zm1 1zm3 9zm-5 2zm-3-1zm-6 1zm-2 0zm-8-14zm-3-1zm-1 4zm5-8zm-21 22zm-6 15zm6 137zm5 8zm8 3zm1-4zm0 8zm-9 3zm0 3zm-1 0zm-2-2zm-1 0zm-1-3zm-2 0zm2 9zm7 0zm3 1zm-17 4zm-23 3zm-3 6zm-4-5zm-3 0zm-2-7zm5 0zm-20 5z" stroke="#cbcbcb" stroke-width="6.25" stroke-linecap="round" fill="none"/>
<path transform="scale(0.2)" d="M189 2337zm12 1zm6 7zm8-59zm-16-13zm77 70zm46-98zm55-7zm23-10zm-76-81zm-17 9zm-3-1zm-5-6zm-14 18zm-9-7zm-5-12zm-2 37zm350-49zm9-14zm-8-24zm-4 0zm31 7zm2-6zm4-2zm11 5zm-7 11zm13 17zm16 6zm1 8zm9 12zm-4-33zm10 0zm-22-40zm-16-12zm1-2zm-43-7zm-14-21zm6-8zm64-9zm4-84zm10-18zm-30-19zm-2 242zm-4 16z" stroke="#98a2d4" stroke-width="5.75" stroke-linecap="round" fill="none"/>
<path transform="scale(0.2)" d="M288 2125zm33 20zm-29 162zm21 28zm278-212zm4 1zm16 4zm8-5zm0-18zm-6-6zm-7-1zm0 12zm-21-9zm2-16zm10 1zm16-23zm6 3zm0-7zm-7-4zm-4 1zm17-5zm-6-14zm21 39zm38-13zm-4-13zm11 55zm-2 2zm1 6zm25 8zm-39 26zm-11 0zm3 10zm-20 0zm-16-12zm34-15zm18-198zm-9-7zm28-14z" stroke="#7282d6" stroke-width="5.75" stroke-linecap="round" fill="none"/>
<path transform="scale(0.2)" d="M577 2097zm2 0zm0-3zm5 10zm4 0zm0 4zm3 2zm2 1zm0 2zm2 0zm3 0zm6 0zm7 7zm5-8zm5 0zm-9-9zm-3-3zm5-3zm-10-1zm-4-6zm-4 0zm0 1zm2 14zm-4 1zm-3 17zm10 1zm0 2zm2 8zm-1 1zm8-5zm4-60zm-2-2zm-7-16zm2-14zm14 7z" stroke="#4159d7" stroke-width="5.75" stroke-linecap="round" fill="none"/>
<path transform="scale(0.2)" d="M578 2100zm2 1zm5 8zm-6 3zm3 12zm3 2zm5-4zm1-3zm7 0zm-3 7zm2 8zm8-3zm3-2zm-2-8zm10 2zm-4-11zm-6-2zm-2-1zm2-6zm2-5zm6 4zm-8-12zm-7 4zm-1 3zm-2-7zm0-2zm-10 1zm-5 2z" stroke="#1030d8" stroke-width="5.75" stroke-linecap="round" fill="none"/>
<path d="M190.10,372.60V474.60H321.00" fill="none" stroke="#6a6a6a" stroke-width="0.7"/>
<text x="185.90" y="389.40" font-size="9.5" text-anchor="middle" fill="#111" stroke="#111" stroke-width="0.22" transform="rotate(-90 185.90 389.40)">UMAP2</text>
<text x="326.40" y="484.40" font-size="9.7" text-anchor="end" fill="#111" stroke="#111" stroke-width="0.22">UMAP1</text>
<text x="259.90" y="383.20" font-size="12" text-anchor="middle" font-style="italic" fill="#111" stroke="#111" stroke-width="0.22">Myl9</text>
<rect x="328.30" y="372.60" width="5.90" height="102.30" fill="url(#gb)" stroke="#777" stroke-width="0.3"/>
<line x1="334.20" y1="474.30" x2="335.70" y2="474.30" stroke="#444" stroke-width="0.5"/>
<text x="338.30" y="477.20" font-size="10.2" fill="#111" stroke="#111" stroke-width="0.22">0</text>
<line x1="334.20" y1="442.70" x2="335.70" y2="442.70" stroke="#444" stroke-width="0.5"/>
<text x="338.30" y="446.20" font-size="10.2" fill="#111" stroke="#111" stroke-width="0.22">1</text>
<line x1="334.20" y1="411.10" x2="335.70" y2="411.10" stroke="#444" stroke-width="0.5"/>
<text x="338.30" y="414.60" font-size="10.2" fill="#111" stroke="#111" stroke-width="0.22">2</text>
<line x1="334.20" y1="379.50" x2="335.70" y2="379.50" stroke="#444" stroke-width="0.5"/>
<text x="338.30" y="383.00" font-size="10.2" fill="#111" stroke="#111" stroke-width="0.22">3</text>
<path transform="scale(0.2)" d="M979 1966zm8-1zm0 5zm7-2zm1-3zm-2-3zm0-1zm1-2zm5 4zm1 6zm2 1zm0 2zm-3 1zm2 5zm4 2zm2 0zm-2 4zm-4 2zm-7 3zm-2-2zm3-8zm-8 0zm-6 0zm0-2zm1-19zm-1-3zm3-3zm3 4zm3-6zm4 1zm1 0zm6 0zm0 3zm3 3zm2 0zm4 0zm0 1zm3-1zm0-2zm-2-1zm-1-1zm0-6zm-3 0zm6-3zm2-5zm0-2zm-4-4zm1-3zm4-1zm0-1zm-2-3zm-2-4zm-1-2zm-2 2zm0 3zm-6 0zm-2 1zm-1-1zm1-2zm-5 0zm0 2zm2 2zm1 2zm3 1zm3 1zm2 5zm0 3zm-5 4zm-4 1zm-2 1zm-1-4zm-3 1zm-1-4zm-4 0zm2 8zm9-9zm-1-2zm2 0zm1-2zm-6-4zm-2-6zm-2 0zm-2-1zm0 2zm-1 3zm-1 2zm4-15zm3-3zm2-1zm0 3zm2 3zm5-9zm2 1zm6 1zm5-6zm2 1zm1 0zm3 0zm-2-4zm4-2zm1 0zm0 1zm6 7zm1 3zm-1 2zm1 3zm-4-2zm-5 0zm0-2zm-3 3zm4 7zm-2 3zm4 2zm1-3zm3 0zm1 2zm2 2zm4 1zm0 1zm-1 2zm1 1zm-3 0zm-1 2zm0 5zm-3 4zm-3 3zm1 5zm-1 2zm2 0zm-5 2zm-3 6zm-5 2zm-3 1zm-1 3zm2 2zm1-2zm2 0zm3 1zm0 2zm-1 4zm-6 5zm-5-5zm-1-1zm0-1zm4-2zm16-2zm23-12zm5 5zm-1 1zm3 4zm1 0zm2-1zm5 2zm-5 5zm0 5zm-5-2zm4-18zm-31-20zm-3-6zm8-11zm115 124zm2 2zm1 0zm1 0zm0 2zm3 0zm2-4zm-2-1zm-3-1zm-7 5zm1 3zm2 0zm0 1zm0 3zm-4 0zm0-1zm0-1zm-2 3zm3 2zm-9 3zm0 3zm1 6zm4 52zm-4 4zm-4 9zm-1 0zm-2 2zm0-4zm-5-3zm0-1zm-2 1zm-1 3zm0 3zm0 1zm-4-2zm-2 0zm1 5zm0 1zm1 1zm9 8zm6-5zm7-3zm1-2zm2 0zm6-2zm4 1zm1-1zm4 3zm1-1zm4 0zm1-4zm-1-5zm-5-2zm0-2zm-1-2zm0-1zm-4 2zm-3-2zm-1-1zm0-1zm-1 3zm3 5zm-1 2zm-5 0zm-10 4zm4 14zm-1 2zm-3 7zm6 2zm2-3zm4 3zm-5 4zm-2 0zm0 10zm6 10zm3-1zm-13 2zm-14 2zm-1 11zm5 4zm-3 17zm2 2zm2 11zm3 2zm2-4zm-8 7zm-6-4zm-2-1zm-2-4zm-2 0zm-4 0zm0-1zm-3-1zm0-1zm0 3zm1 2zm-1 4zm-1 1zm-2-2zm0-2zm-2 4zm-4 0zm-3 1zm-3-2zm-2 0zm-1-1zm1 4zm0 2zm-3 1zm0-3zm-4 1zm0 1zm-1-3zm-3-2zm-1 2zm-3 1zm-1 6zm3 1zm1 4zm-3 3zm-1 8zm-1 4zm-3 1zm-2 0zm0-1zm-4-2zm5-4zm-12 0zm-2 1zm1-4zm-1-2zm-1 0zm-2 0zm0 2zm-3-3zm-1-4zm-1-1zm7 1zm6 2zm1-2zm0-5zm2-3zm2-1zm-1-4zm0-8zm-6 2zm-3-3zm1-6zm3-1zm-1-3zm-1-1zm-1-3zm4 1zm3 3zm-1-8zm1-4zm-5-2zm-3 0zm-1 4zm-3 1zm-5-2zm2-3zm1-1zm0-2zm-1-1zm-3-4zm-2 3zm0 1zm-3 0zm-6 7zm2 2zm0 4zm2 3zm2-1zm2 4zm-1 5zm0 7zm-1 1zm3-1zm2 2zm2-2zm-1 6zm0 2zm-1 2zm1 1zm3-1zm3-1zm-3-3zm6-1zm12 10zm4-14zm3-2zm4 2zm1-5zm-4-3zm1-3zm4-3zm1 1zm0 2zm3-5zm4-6zm5-2zm2-3zm-10-6zm-6 1zm-5 1zm0 1zm-3-3zm1-6zm-3-5zm-10-2zm-2 9zm4 3zm-10-5zm-5-5zm4-8zm-4 34zm-10 15zm-1 4zm0 1zm-4 7zm-3 0zm-2-1zm2 6zm-3 3zm1 1zm3 1zm5 0zm0 3zm1 0zm5 2zm-2 5zm-2-1zm-4 4zm-5 3zm-2 2zm-2 4zm-4 3zm1 2zm0 3zm-1 2zm4-3zm0-1zm6-3zm8 1zm5-3zm5 2zm3 2zm-2-7zm2-2zm3 0zm3-4zm-9 1zm-6-3zm-18-2zm-1 3zm-7-6zm2-9zm-1-1zm3-2zm1-12zm6-7zm4-1zm40-12zm1-3zm0-2zm3 4zm0 1zm4-3zm5-5zm18 17zm2 2zm3-2zm2-2zm-11 7zm1 2zm-3 0zm-2 3zm-2-1zm-7 3zm12 8zm2-1zm6 0zm4 0zm8 3zm2-2zm-1-1zm3 5zm4 5zm0 2zm5 0zm0 5zm1 1zm-2 1zm-4 1zm0 1zm1 2zm1 0zm1 3zm-1 3zm3 1zm0 2zm3-4zm0-5zm4 0zm2 2zm2-2zm2 2zm0 1zm-2 3zm-1 0zm-4 5zm0 1zm4 1zm-1 2zm-1 1zm-2 1zm4 3zm1 0zm1-4zm5 0zm3 2zm4-3zm-1-2zm-2-5zm-3 2zm-1-4zm2-6zm0-3zm-4 1zm2-5zm-4-1zm-3 3zm-2-5zm0-2zm0-6zm-7 0zm14 3zm2 2zm3 3zm2-3zm2-6zm1 0zm0-2zm-3-4zm-8 0zm15 9zm2 3zm1 2zm-2 2zm-2 2zm1 1zm4-1zm2 1zm5 6zm5 4zm2-3zm-1-4zm1 10zm1 2zm-5 1zm-1 4zm-2 1zm2 2zm4 1zm3 1zm2-1zm3-3zm1 1zm2 6zm4 4zm-4 2zm0 2zm-2 1zm-3-1zm-1 0zm-2 1zm2-4zm1-1zm0-1zm-3-2zm-1 3zm-3-3zm-2-1zm-6 3zm-1 3zm-1 5zm0 4zm-3-1zm-5 3zm-2-2zm-1 0zm-3 1zm-6 0zm-2-2zm-3 1zm0 3zm1 0zm0 2zm-2 2zm1 1zm-2 3zm-4 0zm0-3zm-1-4zm-1-1zm0-4zm1-2zm-2 0zm-3-1zm-2-3zm5 0zm1-1zm1 2zm3 1zm2 1zm2 0zm-5 2zm2 5zm9-6zm5-6zm1 0zm3 0zm4-5zm1-2zm-3-1zm7-7zm-2-5zm2-2zm-2-4zm-4 3zm-2-6zm27 7zm4-1zm1 0zm0-1zm0-1zm-1-2zm4 5zm2 3zm2 0zm-3 3zm1 2zm3 0zm-4 4zm1 3zm0 10zm-4 2zm-1-1zm-2 4zm-4-1zm-1 3zm-4 1zm1 2zm-3 2zm-1 3zm0 1zm-2-1zm1 3zm3 3zm-7 4zm-2 5zm-3 0zm-1 0zm-4-1zm-4 2zm0 1zm-2 0zm-4-1zm-3-2zm-2-1zm1-2zm1-2zm1-4zm4-1zm-1-3zm-2-1zm6-2zm3-1zm2 0zm2-1zm0 2zm0 2zm-4 3zm6 2zm6-6zm-1-4zm4 0zm0-12zm17-18zm16-2zm2-1zm1-4zm-1-7zm-6 0zm-6-5zm-3-1zm-3-2zm-1 1zm-1 2zm8-6zm3 1zm1-1zm4 2zm-9-5zm5-5zm7-8zm5-1zm2 4zm0 2zm0 2zm1 1zm2 1zm3-1zm0-2zm-1-3zm7 4zm1 0zm1-2zm-1-4zm1-3zm2-2zm0-1zm2 0zm4 3zm1-1zm0-2zm2-2zm-1-3zm5-3zm1 1zm1-1zm1 1zm0 3zm1 0zm-1 3zm-2 1zm-1 3zm0 3zm-3 0zm-4 2zm-1 3zm-2 2zm0 4zm3 0zm-4 3zm-2 0zm-1 2zm-1-1zm-1-6zm-1-1zm-4 5zm-4-2zm-3 2zm1 2zm1 6zm0 1zm-1 0zm1 1zm2 2zm1 4zm-4 2zm-2-8zm-32-10zm-3-11zm-11-12zm15-5zm4-11zm-6-4zm5-4zm6 2zm4-5zm-16-17zm-10 4zm-3 4zm-3 13zm-9 3zm-10 13zm-28 33zm-4 3zm-2 1zm-5-3zm0 10zm0 3zm-1 3zm3 3zm1 3zm2 2zm1-3zm6 1zm1 1zm0 2zm0 2zm4 0zm2-3zm1-2zm-2-5zm-4-5zm-2-2zm-4-1zm-2 1zm1 2zm2 2zm0 1zm1 1zm-6 13zm-4 4zm-3 3zm-6-5zm0-1zm0-3zm0-2zm-1-5zm-4 1zm-1-2zm-1 4zm-3-2zm1-6zm3-1zm6-4zm5 0zm-1 11zm-9 9zm-3 4zm-4 3zm-1 6zm0 1zm6 4zm-3 4zm1 1zm-2 1zm-1-1zm3 3zm4 3zm4 0zm0-3zm1-5zm3-3zm2 8zm-2 4zm2 2zm-3 6zm-3-1zm-2-1zm-6-2zm-1 0zm2-2zm-2 5zm-6 2zm2 5zm5 3zm-1 4zm0 1zm0 2zm1 1zm1 1zm7 0zm0-2zm2-3zm2 2zm4-1zm1 3zm3 3zm4 2zm7 1zm3 0zm1 1zm4-1zm0-1zm5 0zm4 0zm0-2zm1-1zm1 2zm2-1zm1-2zm-3 6zm1 1zm-1 5zm1 3zm3 3zm5-10zm3-2zm0-3zm1 0zm3 0zm2-2zm-3-1zm2-2zm-1-1zm0-1zm-4-1zm-4 0zm1-3zm-6-1zm-5 2zm-4 2zm0 2zm-3-1zm-3 0zm-2 0zm-4 3zm-6-4zm-4-3zm-1 0zm-1 1zm-2-2zm3-4zm2-1zm1 1zm-1 2zm5-1zm2-1zm-1-1zm-2-1zm-3-4zm-2-1zm4 0zm0-1zm2 1zm1-1zm3-1zm-2-3zm2-3zm-3-2zm1-2zm-6 3zm-3-9zm-1-3zm4-2zm2 0zm-2-3zm0-2zm6 0zm1-3zm1 0zm1 1zm4-2zm1 0zm0 2zm5-2zm3 0zm1 4zm1 0zm2 1zm-7-8zm-3-2zm-9 15zm1 2zm2 1zm4 1zm0 4zm-1 1zm1 6zm-2 3zm4 1zm3-2zm1 2zm3 1zm1 2zm2-1zm1 0zm2 1zm-1 2zm1 2zm-5 0zm-5-1zm-3 1zm0-2zm-2-1zm-3 0zm5 7zm-1 1zm5-1zm1 1zm-5 10zm0 10zm-9 0zm-6 7zm-1 1zm2 1zm-4-4zm-4 4zm-1 4zm0 2zm3-1zm-7-3zm0-10zm-1-3zm1-2zm0-3zm-7 10zm-2 2zm-5-3zm-3-2zm-5 0zm0 3zm-4-2zm-1 5zm-1 2zm-1 1zm0 2zm5 2zm3-5zm4 2zm2 0zm0-3zm4 6zm-1 1zm-5 0zm-17-8zm-2 0zm-1 0zm0 1zm-1 1zm0 2zm-1 0zm-1 1zm-2 4zm5 1zm-7-8zm1-1zm1-2zm-2-1zm4 0zm1-6zm0-1zm2-3zm2-1zm2 1zm2 0zm-4 4zm-8-3zm2-4zm-3-4zm-4 0zm1-6zm2-4zm-7 0zm0-3zm1-6zm1-1zm3 0zm1 2zm2 0zm0-4zm-1 0zm-3-3zm2-3zm4 1zm2 0zm2-1zm1 2zm1-4zm-4 0zm4-4zm4 0zm3 1zm3 0zm1 1zm1 3zm3 2zm-1 4zm2 2zm-3 2zm-6-5zm-1-1zm1-11zm1-1zm4-5zm-1-9zm0-3zm0-1zm1-3zm-4 1zm-3 0zm-6-4zm-4 7zm3 1zm0 6zm-3 4zm-2-1zm-4 2zm-2 6zm-2 4zm-5-3zm0-3zm-9-2zm-1-4zm-4-3zm-3 3zm-8-3zm-9-2zm2 9zm-4 2zm-1 2zm8 3zm1-1zm5 4zm-4 5zm-5-2zm-4 5zm7 8zm5 1zm4-1zm9 1zm0 3zm-4 6zm-2 1zm-3-1zm8 6zm-1 5zm2 2zm0 5zm5 0zm6 0zm1 0zm0 1zm4 0zm1-2zm2-1zm-5-2zm0-1zm-2-5zm-4-2zm4-3zm0-2zm-3-7zm0-9zm-1-5zm-5 2zm1-6zm-2-4zm-5-3zm1 9zm4-24zm0-2zm2 1zm2 0zm24 9zm15-11zm2-7zm1-5zm1-1zm-3-1zm3-7zm2-2zm2-2zm2 0zm2-2zm1 3zm3 32zm19 10zm-16 27zm-2 0zm-2-1zm0 3zm-10 5zm-4 2zm-1 1zm3 2zm-2 4zm-6-7zm-1-8zm0-1zm4 1zm-9-1zm-7 6zm0-15zm-18 37zm1 3zm-4 1zm-1-2zm-2-1zm-4 3zm18 1zm-30-15zm-2 2zm-2 1zm0-4zm-8-9zm4-5zm-1-2zm2 0zm-3-52zm2-2zm3-2zm-9-6zm98-80zm7-11zm2 0zm-1-6zm2-1zm4-3zm-5-5zm1-3zm0-1zm2 1zm-7 6zm21 7zm2-3zm1-2zm17-12zm6 2zm2-4zm5-1zm-1 7zm3 3zm2-3zm-9-12zm-5 2zm7-12zm59 35zm40 13zm11 26zm4-2zm2 1zm4 0zm11-6zm6-4zm-36 22zm-5 4zm-1 0zm-2 2zm-1-2zm-2 2zm1 1zm-1-6zm1-1zm0-2zm2-1zm1-2zm-87 119zm-4-3zm-7 0zm6 11zm-10 6zm-28 13zm305-245zm11-4zm0-10zm16 6zm2 2zm3 0zm3-3zm2-3zm-4-1zm8 6zm2 3zm-3 1zm-1 2zm-1 4zm-7 1zm-2 1zm-2-2zm2 15zm5 3zm0 1zm1 0zm5-2zm3-2zm2 0zm-1-2zm4 1zm-3 4zm3 1zm2 2zm1 6zm3-1zm2 0zm6 5zm3 3zm2 0zm2-1zm3 0zm1 1zm-2 2zm2-5zm-1-4zm3-3zm2 1zm2 3zm5-1zm-1-4zm-5-4zm-1-3zm-4 0zm-1 1zm1 2zm0-5zm-1-3zm-4 4zm-3-5zm1-5zm1-4zm7-2zm1 1zm0-2zm-1-5zm2-2zm3 0zm0-3zm-2 0zm-1-3zm-3 1zm0-5zm-7 2zm-4-1zm1-3zm-5 0zm0-5zm-6 4zm-2-1zm-3-3zm-1-3zm3-3zm2-1zm2-5zm10-7zm2-2zm2 3zm2 7zm2 3zm-4 1zm-1 1zm11-5zm4-5zm5 12zm-1 2zm0 1zm1 0zm-5 0zm-2-1zm3 9zm3 3zm4-1zm2 0zm2 0zm-2-3zm0-4zm5-2zm1 2zm5-2zm0-2zm6 2zm-2 3zm1 1zm-2 2zm4 1zm-7 3zm-3 3zm1 3zm3 4zm0 6zm-4 2zm-2-3zm-4-3zm0-1zm-2-3zm-2-2zm3-1zm4 4zm-7 5zm0 1zm-3 1zm-2 7zm1 5zm1 0zm-2 2zm-1 2zm7 5zm8-2zm1 3zm0 2zm3 5zm1 1zm-3 0zm-1 2zm3 3zm2 4zm2-1zm2 2zm1 2zm0 1zm-5 1zm-7 2zm0 3zm-3-2zm-1 1zm-7 1zm-4-1zm2-3zm-4-3zm-1-1zm1-3zm4 1zm4-4zm5 2zm2-1zm0 2zm0 2zm14-3zm5-1zm4-4zm2 1zm-3-3zm1-4zm3-2zm-2-9zm-1-3zm2 0zm1-2zm2-2zm-1-1zm1-3zm5-1zm-13 0zm-2-5zm-1 0zm-2-1zm-1 1zm3-4zm-1-2zm-2 0zm7 0zm0-5zm-1 10zm-1 12zm1 2zm-1 2zm-6-5zm-2 2zm-1 1zm-2 1zm-2 0zm-2-3zm1-3zm-5 0zm-4 5zm14 3zm7 14zm1 1zm-2 1zm3 15zm-31-13zm-6 2zm-1 9zm-1 0zm-2 0zm2 2zm1 2zm-1 4zm-1 1zm-3 6zm-4-5zm2-6zm-2-1zm-7-7zm-5 4zm-6-5zm-2 1zm-1-1zm-2 5zm3 8zm15 7zm-11-25zm-4-1zm0-5zm-6-4zm-2 8zm-1 0zm2-20zm5-4zm1 0zm3-6zm-2-3zm6-2zm0-1zm1 2zm3-5zm6 1zm-1-5zm8 3zm10 4zm6-6zm7-20zm5-2zm4-2zm7 1zm2 1zm-1-3zm5 2zm-1 3zm-13-14zm-3-6zm7-5zm-14-1zm-1-1zm-1-2zm-2-2zm0-2zm-3-1zm5-4zm6-8zm-1-1zm3 0zm-9-7zm0-1zm0-1zm1-1zm4-2zm1-4zm1-4zm2-5zm3-2zm6 0zm0 2zm1-4zm-4-6zm0-2zm2-6zm-5-3zm-3-3zm-1-1zm3-5zm-2-3zm2-7zm1-4zm-4 0zm-1 3zm10-7zm2 4zm4-3zm5 0zm4 3zm1-4zm3 1zm1-5zm5 3zm-1 6zm-3 5zm-2 1zm-2 0zm-2 0zm0 5zm-1 2zm-4-1zm-1 0zm-4 1zm4 4zm-10-4zm8-12zm3 2zm1 0zm1-12zm2 0zm-1-2zm0-3zm-2-1zm-5 2zm-6 0zm0-4zm3-4zm1-1zm5 0zm-8-6zm-2-3zm-4 1zm-4-2zm-2 3zm1 1zm1 5zm1 6zm3 2zm-7-1zm-2 1zm-7-11zm-3-4zm3-4zm-1-4zm-4-3zm3-2zm5 2zm4 5zm9-1zm0-5zm-2-1zm-2-2zm7 1zm1 0zm1-2zm4 4zm-1 6zm-5 12zm-24 0zm-8-10zm1-2zm5-1zm-3-12zm-4 0zm8-4zm0-2zm0-2zm5-1zm3-1zm1 1zm0 2zm-4 5zm0 1zm1-14zm1 0zm-2-1zm-7-3zm-1 3zm-1 4zm18-7zm-2-4zm4 0zm0-3zm8-2zm1 4zm2 2zm-1 1zm2-2zm3 1zm2 3zm0 1zm3 4zm1-1zm2 2zm-3 4zm3 4zm-4 6zm-4-6zm-3-2zm-2-3zm1-5zm-6 4zm-1-1zm-4 0zm0 2zm14-18zm7 5zm23 72zm4 1zm0 1zm2-4zm6 4zm-3 7zm-13 1zm-2 0zm-2-4zm-19 26zm-10 18zm-8-8zm-12 47zm7 2zm2 0zm-52-8zm-4-4zm0-6zm-7-8zm-7-1zm0 6zm1 3zm2 1zm11 13zm-2 11zm0 1zm6 4zm-3 13zm4 4zm-21-29zm35 63zm0 3zm3 0zm0-1zm2-3zm2 10zm5 6z" stroke="#cbcbcb" stroke-width="6.25" stroke-linecap="round" fill="none"/>
<path transform="scale(0.2)" d="M1045 2321zm28-12zm15-13zm5 1zm3 21zm-7 22zm53-45zm-19-56zm-39 12zm-2 10zm35-79zm-4-15zm20-10zm12-1zm6 6zm2-25zm-6-8zm2-7zm-10 17zm-20-7zm20-77zm25 163zm48 18zm1-1zm1-3zm7 4zm2-1zm0-2zm3 0zm-1 5zm-3 3zm15-8zm5-11zm5 3zm-2-8zm4-3zm-13 5zm29-13zm4-3zm5 2zm9-4zm7-5zm-17-12zm202-25zm6 1zm11-12zm16-1zm-1 7zm10-4zm5-20zm8 4zm2-10zm-2-1zm1-20zm-5-26zm-10-14zm-6-6zm-5 12zm-15 30zm-13 4zm-6-12zm-19-21zm-8-27zm11-2zm29 92zm26-4zm21-157zm2-13zm-11-18zm10-7zm-23-7z" stroke="#98a2d4" stroke-width="5.75" stroke-linecap="round" fill="none"/>
<path transform="scale(0.2)" d="M1121 2138zm12-18zm10 1zm89 104zm-3 3zm-16 15zm34-30zm33-17zm-91 94zm229-187zm5-6zm7 7zm-7 5zm14 16zm3-2zm14-11zm13-3zm-2 20zm-21-36zm-10-3zm-2-5zm14-29zm-3-4zm9-3zm7 9zm-5 3zm7 3zm-16-31zm54 59zm-2 9zm29 22zm-14 39zm-7-239z" stroke="#7282d6" stroke-width="5.75" stroke-linecap="round" fill="none"/>
<path transform="scale(0.2)" d="M1420 2124zm13 2zm2 1zm0-4zm0-1zm3-3zm1 5zm2 10zm-6 0zm-3 4zm17-10zm1-12zm4-5zm6 2zm-13-16zm1-2zm-6 3zm-3 10zm-7-2zm1 7zm-2 0zm-7-16zm0-8zm17-3zm7-2zm9-25zm2-14zm-11-6z" stroke="#4159d7" stroke-width="5.75" stroke-linecap="round" fill="none"/>
<path transform="scale(0.2)" d="M1416 2100zm1-3zm3 1zm6 6zm3 6zm2 0zm6 0zm5 3zm-5 5zm-4 6zm-4-1zm-7-4zm-1-9zm8-13zm5 5zm2 0zm1-8zm1-7zm-3-1zm9 4zm3 5zm-1 3zm1 2zm5-3zm-27-12zm15 46zm3 0zm3-2zm2 1zm-17 6z" stroke="#1030d8" stroke-width="5.75" stroke-linecap="round" fill="none"/>
<path d="M358.60,372.60V474.60H489.50" fill="none" stroke="#6a6a6a" stroke-width="0.7"/>
<text x="354.40" y="389.40" font-size="9.5" text-anchor="middle" fill="#111" stroke="#111" stroke-width="0.22" transform="rotate(-90 354.40 389.40)">UMAP2</text>
<text x="491.40" y="484.40" font-size="9.7" text-anchor="end" fill="#111" stroke="#111" stroke-width="0.22">UMAP1</text>
<text x="428.50" y="383.20" font-size="12" text-anchor="middle" font-style="italic" fill="#111" stroke="#111" stroke-width="0.22">Ccn2</text>
<rect x="496.90" y="372.60" width="5.90" height="102.30" fill="url(#gb)" stroke="#777" stroke-width="0.3"/>
<line x1="502.80" y1="474.30" x2="504.30" y2="474.30" stroke="#444" stroke-width="0.5"/>
<text x="506.90" y="477.20" font-size="10.2" fill="#111" stroke="#111" stroke-width="0.22">0</text>
<line x1="502.80" y1="448.30" x2="504.30" y2="448.30" stroke="#444" stroke-width="0.5"/>
<text x="506.90" y="451.80" font-size="10.2" fill="#111" stroke="#111" stroke-width="0.22">1</text>
<line x1="502.80" y1="422.30" x2="504.30" y2="422.30" stroke="#444" stroke-width="0.5"/>
<text x="506.90" y="425.80" font-size="10.2" fill="#111" stroke="#111" stroke-width="0.22">2</text>
<line x1="502.80" y1="396.30" x2="504.30" y2="396.30" stroke="#444" stroke-width="0.5"/>
<text x="506.90" y="399.80" font-size="10.2" fill="#111" stroke="#111" stroke-width="0.22">3</text>
<path transform="scale(0.2)" d="M1821 1978zm2-1zm1 2zm7 1zm6-1zm1-4zm3-2zm1 2zm3-3zm0-1zm0-1zm-2-1zm5 1zm1 1zm3-3zm2-3zm2 2zm3-2zm1 2zm2-1zm0 2zm-2 4zm-6 5zm-5 3zm-3 2zm2 2zm-4 7zm-7-2zm-2 0zm0-2zm2-19zm2-4zm-3-2zm-1-1zm2-2zm1-1zm-5 0zm-4-2zm-2 1zm5 6zm-3 2zm-7 1zm10-16zm4-3zm2 2zm0 2zm0-7zm3-1zm4-1zm4-4zm0-3zm-2-1zm1-3zm0-1zm-2-3zm-2-2zm1-1zm-3 0zm0-2zm0-2zm-3 2zm0 2zm0 1zm2 1zm0 2zm0 3zm2 1zm-1 2zm-2 2zm-7 1zm-3 0zm2 3zm1-11zm-4-3zm-1 0zm2-3zm2-1zm5-3zm3-4zm-2-3zm-1-3zm6-1zm2-2zm1 1zm-1 4zm8-3zm1 6zm-1 5zm-1 5zm3 6zm2-1zm2-1zm4 0zm1 3zm6-2zm2 1zm3 0zm0-5zm4 1zm0 1zm-7-6zm-4 0zm-2 3zm-1-5zm2-4zm-5-3zm3-3zm2-2zm-3-4zm-1 0zm-3 0zm-1 0zm-2-1zm-1-3zm4-1zm2 1zm4-2zm7 6zm-1 2zm1 8zm3 3zm3-3zm-9 22zm4 2zm-5 7zm-3-3zm-4 4zm-7-1zm-2 3zm-3 0zm0-2zm-5 3zm7 5zm2 1zm2 1zm2 2zm-4 2zm-1-1zm0-1zm-4 0zm-2 0zm0 5zm8 0zm11-5zm-1-4zm4-3zm1 1zm-13-14zm-4 2zm42 21zm1-1zm2 0zm2-4zm1 8zm-7 3zm3 7zm89 72zm2 3zm2 0zm0 1zm-1 3zm-1 0zm-3 0zm0-1zm1 4zm-9 3zm0 2zm1 1zm0 6zm15-21zm1 0zm-1-2zm3 0zm1-1zm0-2zm-4-1zm-3 2zm0 77zm0 1zm1 1zm1 0zm1 0zm-2 1zm-2 0zm-3-1zm-3-2zm-7 1zm-6 9zm1 1zm2 2zm-1 1zm-2 2zm-3 4zm-3-5zm0-1zm-2-1zm-1-2zm2 0zm1-3zm2 0zm-3-2zm-6 7zm2 6zm1 1zm3 8zm0 2zm6-2zm5-5zm5 7zm2-2zm4 8zm2 1zm2 2zm-6 0zm-1 0zm1 4zm-2 0zm-1 1zm-4-6zm-6 5zm-2 3zm-12-5zm-1 7zm-3 3zm7 12zm5 3zm-9 7zm-6-7zm-7-4zm-1 17zm-1 7zm1 2zm-9-3zm2-4zm-9-6zm-3 7zm-5 5zm-2 0zm-1 2zm-1 1zm-1 1zm-3-1zm2-3zm0-2zm2 0zm1-4zm0-3zm0-1zm-3-8zm-7-2zm-4-5zm-2 0zm-5 0zm-4 4zm1 3zm2 5zm5 0zm3 0zm5 2zm-3 6zm-1 4zm-4-6zm-3 0zm0 4zm-5-5zm-4 4zm1 7zm-6 1zm1 4zm0 5zm3 1zm2 6zm-1 6zm1 2zm2 2zm0 3zm-1 3zm0 2zm1 6zm3 0zm1 2zm2-2zm2 5zm-2 1zm-1 8zm-3 0zm-1 1zm-1 1zm-1 5zm2 2zm1 1zm1-2zm5-3zm5 0zm2 1zm0 2zm4 1zm1 0zm6 3zm0 3zm-3 1zm6-3zm5 1zm5 4zm-1 2zm4-6zm4-3zm0-2zm-5-4zm-2 1zm0 1zm1-4zm-3 0zm0-6zm-5 0zm-3 2zm-2-1zm-2-1zm0-3zm1-1zm-2-1zm-5-3zm-1 2zm1 7zm12 3zm2-9zm3-4zm2 0zm0-1zm-1-1zm3 0zm7 3zm5 5zm3 0zm4-1zm2 1zm1 0zm0 2zm2-3zm0 6zm0 2zm2-1zm0 4zm2 0zm-1 2zm1 1zm1 2zm4 2zm1-3zm1-2zm3-4zm0-3zm-1-3zm-2-2zm0-1zm4-1zm2-1zm-1-6zm4 0zm4-1zm1 2zm-1 2zm3 5zm4 1zm4-1zm1-1zm1 3zm-1 1zm-3 4zm1 2zm0 4zm-1 6zm-5 0zm-2-1zm0-2zm-3-2zm-1 1zm3-3zm0-3zm2 0zm2-3zm0-1zm-3 0zm-1 0zm-2-2zm-1 7zm-5 0zm0 2zm-3 8zm-3 5zm-5 2zm-1-1zm-1 3zm0 2zm-4 3zm-1 0zm-2-3zm1-2zm-1-1zm-1-8zm2 0zm-2-5zm1-3zm-4-2zm-4 4zm-1 13zm6 9zm-1 1zm1 2zm6-1zm6-1zm1 1zm4 1zm1 2zm0 2zm-2 1zm3 2zm2 0zm5 2zm0 2zm-3 2zm0 2zm-3 0zm-3 2zm-3 2zm-1 0zm-4-2zm-1 0zm-3 1zm-4 0zm5 5zm2 0zm1 1zm-1 2zm-4-1zm-1 2zm-2 3zm-1 1zm-3-2zm-2 5zm-3 1zm-2-2zm-3 3zm-6-3zm-2 0zm0 3zm1 1zm0 1zm-6 0zm-1-4zm-2 1zm-1 1zm-5-1zm-1-4zm1-3zm0-2zm6-3zm4 3zm3 2zm2 1zm2 2zm3-3zm4-2zm2-4zm1 0zm-2-2zm-3-1zm-1-1zm-2-2zm-1 2zm-2-4zm-2 2zm-1 0zm-5 1zm-1-4zm-2 0zm-1 2zm-4-7zm-3 1zm-2-3zm-5 2zm-2 1zm-3-1zm-2-1zm1-2zm-3 1zm2 6zm-3 2zm1 2zm2 0zm1 1zm-1 7zm-2 4zm-5-3zm-1-1zm-5 0zm-6 2zm8 5zm0 2zm-3 3zm1 3zm1 3zm4 2zm-2 4zm0 1zm0 4zm-3 1zm1 3zm-4 1zm-2-2zm0-8zm2-1zm-6 1zm-4-3zm3-2zm-2-2zm0-3zm-4-7zm-1 0zm-2-1zm-3-1zm5-4zm3-8zm-1-3zm8-2zm4-4zm-2-2zm3-2zm-5-2zm-4 0zm-1-3zm-3-9zm6 0zm2-8zm2-6zm4 1zm2-4zm1-4zm4-4zm-2-4zm-5 1zm-5-3zm4-4zm1 1zm3-2zm-5-7zm-4 6zm-6-3zm-4-2zm-5-3zm-3 2zm1 1zm0-6zm4-1zm4-2zm2 1zm5-7zm2-1zm2-2zm0-2zm3 3zm1 6zm4 3zm7-1zm3-4zm3-5zm-1-2zm0-7zm2-1zm3 2zm12 5zm3 2zm2 2zm0-4zm-4-4zm1-3zm5 0zm1-2zm3-3zm-6-1zm11 5zm1 5zm0 5zm0 2zm-2 2zm1 2zm3 1zm3 2zm1-1zm2 0zm-1 4zm2 0zm4 0zm2 4zm3 5zm3-2zm3 1zm0 2zm-4 3zm-1 1zm6-11zm1-2zm3-7zm-2-1zm-1-4zm-5-4zm-4 4zm-3 3zm-7-4zm-4 3zm-6 7zm-1 3zm-3-1zm0-1zm-3-1zm-2-1zm0-2zm-2 0zm-5-5zm-2 8zm-4-1zm-1 3zm-3 3zm0 5zm12-4zm4-1zm-2 9zm15-12zm5 1zm1 5zm-12-11zm-1-2zm22-12zm3-2zm16 7zm5 5zm0 2zm2 2zm2-4zm-1-1zm0-2zm6 5zm5 5zm-6 7zm7 3zm2 2zm3 2zm0 1zm-3 3zm-4-1zm10-6zm4-1zm1-1zm-4-3zm1-2zm9 2zm1 1zm-1 3zm-1 1zm-2 3zm-2 2zm2 1zm1 1zm3 1zm4 1zm1 5zm9 1zm3 5zm-4 1zm-1 2zm-5 1zm-1 4zm-1 1zm-3 2zm3 2zm3 5zm2-1zm2 3zm3 1zm2-2zm-1-2zm2-1zm4 0zm3 2zm2-3zm0-7zm-1 0zm1-2zm0-2zm1-1zm2 0zm4 0zm-2 4zm-3 1zm-5-3zm-2-6zm0-1zm1-1zm5 0zm0-8zm2-3zm-1-2zm-3-2zm-2 1zm-2 1zm0 2zm-4 0zm-4-5zm2-3zm14 2zm2 1zm3 3zm3-2zm2 2zm0 4zm-1 0zm-3 3zm0 4zm6 3zm0 4zm-1 3zm8-9zm4-2zm0-2zm0-2zm-2-2zm-2-1zm-2 1zm-5 3zm7-11zm3-3zm0-1zm3-2zm2 0zm1 0zm-1-2zm-1-1zm-2 1zm-1-2zm-1-3zm1-1zm1 1zm1 0zm-5-3zm-2 5zm0 2zm0 1zm-2-2zm-3 4zm0 3zm17 3zm2 0zm3 0zm-1-3zm0-2zm-3 0zm2-3zm0-2zm-1-1zm-1 0zm-1 2zm4-4zm-2-2zm5-3zm0-1zm-1-2zm-3 0zm7 0zm1 0zm-1 2zm3-4zm1-4zm3-1zm0-1zm2 0zm1 1zm0 3zm0 1zm0 2zm1 4zm-4 0zm-1 3zm0 2zm-1 2zm-2-4zm-7 7zm1 4zm2 0zm-13-17zm28-4zm1 1zm2-1zm0-2zm3 0zm0-5zm-2 0zm-2 1zm-1 0zm-1 1zm3-4zm2-2zm6 2zm9-6zm0-2zm3 2zm1-1zm0-2zm1-1zm6 1zm2 1zm4-3zm1 0zm4-4zm2-1zm3-2zm0-1zm5-3zm-15 5zm-3 1zm-25-18zm-39-13zm-25 29zm-9 11zm-6-4zm-6-14zm-5-6zm-3 4zm-10-4zm-3 3zm-10-3zm0-9zm3 0zm-3 23zm12 6zm28 15zm9 9zm-32 29zm-2-1zm-2 6zm5 4zm1-1zm-3 3zm3 3zm2-2zm2 3zm-1 4zm-4 8zm-1 2zm-4 4zm0 1zm3 6zm4 2zm2 1zm2 0zm-1-3zm-1-1zm3-6zm0-2zm4 4zm3-1zm5 3zm3-1zm2 1zm3-1zm0-2zm3 2zm2 0zm-4 2zm-10-12zm0-1zm-2-1zm6-2zm1-1zm1 1zm-12 22zm-1 0zm1 3zm2 2zm-2 3zm0 3zm-2 0zm-1-4zm-8-1zm-2 1zm-1-2zm-1 0zm0-2zm-3 3zm2 5zm-4 1zm-1 0zm-3-1zm-3-2zm-3 1zm0-4zm-3 1zm-2 3zm1 5zm0 3zm-3 1zm-1 1zm0-4zm-8 2zm0 2zm1 3zm0 1zm-1 1zm-3-3zm8 2zm0 1zm0 6zm0 2zm-5 2zm-1-3zm-2 0zm-4 3zm-3 3zm2 3zm2 0zm1 1zm-4 3zm-6-5zm-6 5zm-1 2zm-4 3zm0 4zm0 2zm4-2zm4-4zm4 2zm1 2zm5 1zm6 3zm11-7zm2 0zm3 3zm4-9zm0-4zm4-2zm1 0zm3-3zm3 1zm-2 5zm-2 3zm10-6zm7-9zm-1-7zm-1 0zm-1-1zm-2 1zm0 2zm-1 1zm-7 2zm-3 4zm-4-1zm-4 0zm0-5zm0-3zm-1-2zm1-2zm2-2zm2 7zm-9 3zm1 9zm-1 2zm-3 1zm-1 1zm-4 0zm-5 1zm1 4zm11-2zm-23-14zm-2 2zm-1 0zm-9 4zm-4 6zm-1 2zm1 3zm-6 2zm-3 2zm-3 1zm-3 1zm-2 1zm0 2zm3 0zm-2 4zm5 0zm1-1zm-4-11zm-3-2zm-5 3zm-5 3zm0 2zm1 0zm-3 1zm1 2zm4 2zm-11-1zm-3-2zm-1 0zm0 1zm2-4zm0-1zm2 0zm1 0zm0-3zm-2-3zm2-2zm-2-4zm-7 1zm-3-3zm2-5zm5-2zm3 0zm-1-3zm12 15zm9-11zm4-10zm3-12zm4 0zm1 2zm3 1zm2-6zm-6 0zm2-5zm-1-1zm1-1zm2-1zm-6 0zm-3 0zm-2 5zm0 3zm-3-1zm-1-2zm1-1zm-5 3zm-3-2zm-2-3zm0-1zm-4 0zm-3-1zm-4 0zm-4 1zm2 5zm-10-8zm2-6zm4-2zm2 1zm4 1zm3 2zm5 4zm4-4zm1-2zm2-2zm4 5zm1 1zm-1 2zm-20-11zm-2 0zm-6-1zm1-5zm3-1zm3 1zm-17 15zm-3 14zm7 5zm1-1zm-31-7zm-1 4zm-4 3zm-5-2zm3-5zm2-5zm2-1zm0-1zm-6-2zm-3 0zm5-4zm-2-4zm4-4zm7 1zm0 4zm0-11zm1-3zm3 2zm-1-7zm2-4zm5-1zm2-4zm-17-6zm-10 8zm5 7zm1 1zm13-41zm8-2zm-1-5zm1-7zm2-4zm2-2zm2-10zm2-3zm3 0zm1-1zm0-11zm6-8zm-27 43zm-6 97zm-2 1zm-1 6zm-3 3zm9 11zm-1 4zm-2 2zm33 13zm2 1zm4-6zm-1-3zm1-2zm3 1zm3 13zm55-57zm4 3zm3 2zm9-6zm3-1zm3-3zm1-3zm-1-1zm-1 0zm-3-1zm-2-1zm-3 3zm-2-1zm4 3zm3-1zm2-7zm0-1zm-3-1zm-1-4zm2-5zm2 0zm3 3zm11-3zm2-2zm-7 20zm-2 3zm-3 2zm6 0zm4-2zm2-1zm10 14zm0 3zm5 2zm-11 1zm-40-39zm5-13zm0-4zm-3-1zm6-13zm5-5zm-4-3zm0-4zm52-58zm-11-25zm-5 0zm3-5zm-2-2zm-4 0zm0 1zm-2 0zm4-8zm0-1zm4 0zm3 1zm1 0zm-3-5zm0-5zm-4-2zm-1-2zm-1-3zm-8 8zm-1 0zm4 4zm2 2zm-1 1zm1 1zm-5-2zm-7 2zm-2 0zm0-6zm-6 2zm-21 19zm-3 0zm0-1zm-1 4zm138 70zm176-106zm3-8zm1-3zm4 0zm2-2zm7 2zm5 2zm-3 3zm-6 1zm1 5zm10 0zm6-5zm-2-2zm6 3zm-2 4zm7 1zm4 2zm2-4zm-1-1zm0-1zm-4-2zm1-4zm3-1zm-5-4zm-1-2zm-1-1zm-2-4zm-6-1zm-1 2zm2 4zm-9-13zm-10-2zm-2-3zm-3 14zm-5-2zm-1 0zm-2 1zm-4-1zm24 37zm9-6zm5 1zm4 3zm0 1zm7-4zm2 0zm2 0zm0-2zm4 1zm-1 2zm0 3zm-5-2zm-1 3zm-1 3zm0 3zm-1 5zm-2 0zm6 1zm3-5zm5 0zm4-1zm2-1zm1-6zm2-2zm8-2zm0-2zm-1-2zm4 0zm2-3zm0 6zm-1 2zm-1 1zm6 2zm2 4zm-2 2zm3 2zm-1 1zm1 4zm-2 1zm-2 1zm-2-2zm-2-1zm-1 2zm-1 0zm-2 0zm-1-3zm-2 4zm-3-3zm-3 8zm-5 4zm-5 2zm-4 1zm-1-3zm4-5zm3-5zm11 13zm1 7zm4 0zm6-1zm2-1zm1-4zm-1-2zm-2-2zm-4 4zm1-11zm3-2zm0-8zm9 7zm1-1zm-3 6zm2 2zm2-1zm3-1zm4-2zm1 2zm1-1zm1-1zm0-1zm1 3zm0 2zm-3 5zm1 2zm0 1zm3 1zm1-3zm7-2zm4-1zm0-1zm0-2zm1 0zm0-3zm-3 1zm-2 1zm0-4zm-2 0zm-3-3zm0-2zm4 0zm-2-4zm-2-2zm-1-5zm-2-3zm5-4zm2 0zm2 2zm1-4zm-1-1zm3-1zm4 2zm2 1zm0 2zm1-4zm-2-4zm1-2zm0-6zm-2-3zm-2-2zm-1 0zm-3-3zm-4 5zm-5-3zm-1 2zm-1 0zm-2 3zm2 3zm1 0zm3 3zm1 4zm-1 3zm-8 2zm-5 1zm-2 0zm-1 1zm0 1zm2 1zm-1 3zm6 1zm2 5zm-4 1zm16-5zm7 8zm0 2zm5 0zm2 2zm1 1zm-6 3zm4-10zm2-14zm1-2zm3-2zm5-5zm-19-5zm6-11zm-2-6zm-5 0zm-2-3zm-1-1zm-1 3zm4-6zm5 0zm0-5zm-2-2zm-1-3zm5 2zm-13 4zm0 2zm-4 0zm-3 2zm1 2zm-6 0zm-1 1zm-2 0zm-2-4zm-1 0zm1-1zm8-3zm5-3zm2-3zm0-8zm-3-6zm-3-1zm-3 1zm-2-4zm-2 0zm0-3zm1-2zm-2-2zm1-2zm1-5zm7-8zm2 1zm0-2zm-8-4zm-1-4zm-1-1zm1-1zm4-2zm1-4zm8-2zm-1-3zm-4-4zm-3-1zm7-1zm6 0zm0-2zm4-7zm-3-6zm-3-1zm-4-3zm-4-3zm0-1zm3-5zm-2-3zm-1-1zm-1-7zm6-5zm3 2zm1-4zm3-4zm2-4zm-6 0zm-2 1zm-2-3zm1-2zm4 0zm4-5zm0-6zm-5-3zm2-3zm-6-8zm-2-1zm-1 0zm0 1zm-2-3zm7 1zm1 0zm1-2zm-3-6zm4-4zm-1-3zm-5-1zm-1-1zm-5 2zm-1-4zm-7-3zm-1 2zm-1 0zm0-1zm-6 1zm-3 3zm8 3zm3-1zm2 3zm-5 4zm0 1zm1 1zm-5-3zm-2 1zm-3 3zm10 8zm0 3zm-1 1zm1 3zm4-7zm2 1zm2 4zm4 4zm0 4zm2 0zm0 1zm1 1zm-2 3zm-4 1zm1 6zm-3 1zm7-2zm0 7zm5-14zm14 9zm1 1zm0 2zm0 1zm2 2zm2 4zm2 1zm2-5zm-10 5zm-2 2zm2 5zm1 0zm3 3zm1 1zm2-1zm1 0zm2-1zm1 0zm4 1zm2 4zm4 6zm7-6zm3-1zm5-1zm-2-6zm-4-3zm-1-1zm-3-3zm-2 1zm-4 0zm7 6zm-19 14zm-4-3zm0-2zm-5 6zm-5-4zm-5 0zm-1-7zm3-2zm2 2zm-5 25zm-9 4zm-15 48zm-8 6zm5 12zm1 0zm0 8zm10 0zm1-9zm16-10zm16 35zm-28 4zm-1 6zm0 3zm-4 0zm-2-3zm-3 4zm-3 2zm0-4zm0-3zm-3-5zm-4-2zm0 6zm-7-3zm-3 1zm-2 0zm0-3zm1 0zm-3-3zm0-5zm-3-7zm-3-5zm-5-1zm-10-4zm-6-4zm0-1zm-2-5zm3-2zm2-1zm-1-3zm1-2zm4 4zm-11 0zm-6-1zm-3 3zm-1-7zm2-9zm-2-3zm0-3zm3 1zm5 5zm5-2zm4 0zm0 4zm-1 0zm0 2zm-1-10zm-5-4zm-2 30zm9 16zm11 12zm6 1zm-6 6zm7 5zm4 3zm-2 5zm3 10zm-2 3zm-2 1zm-1-3zm-2 4zm-5-6zm18 1zm3-6zm4-2zm1 2zm4-3zm11 2zm2-2zm2 0zm0 3zm-6 6zm0-23zm-20 8zm-3-4zm4-20zm2-1zm-1-2zm-3 1zm16 76zm4 2zm3 5zm-39 2zm29-216zm-4-17zm23-19zm13 1zm3-1zm3-3zm1-6zm-4-3zm-1-1zm-2-4zm1-1zm-4 1zm-1 2zm-4 2zm-3-1zm-4-6zm-4 3zm12-6zm2 0zm5 1zm6 5zm2 23z" stroke="#cbcbcb" stroke-width="6.25" stroke-linecap="round" fill="none"/>
<path transform="scale(0.2)" d="M1870 2354zm30-14zm8-3zm2-2zm75-9zm17 0zm58-82zm4-4zm22-13zm8-8zm-2-5zm25-9zm-88-6zm-55-37zm-21 1zm-5-5zm19-32zm30 14zm-47 86zm312-102zm13 0zm4-14zm10-10zm-1-14zm3-2zm-14 6zm-1 1zm-12 19zm49 11zm9-6zm5-10zm15 2zm26-3zm13 8zm1 11zm-16 13zm4 7zm-1 3zm-19-9zm-2 11zm-1 9zm23-78zm-13-16zm-22 7zm-42-2zm-2-26zm79-41zm31-23zm-56-47zm-8-12zm9-8zm15-15z" stroke="#98a2d4" stroke-width="5.75" stroke-linecap="round" fill="none"/>
<path transform="scale(0.2)" d="M1888 2245zm54-12zm74 28zm1 22zm38-47zm46-30zm-102-80zm259-29zm18 5zm6 1zm5-5zm0-4zm3 1zm-1-9zm-11 0zm-2 5zm-4 19zm-3 8zm10 0zm1 1zm22-57zm-8-13zm-6-17zm51 48zm7 9zm5 41zm-4 25zm24-137zm-4-80z" stroke="#7282d6" stroke-width="5.75" stroke-linecap="round" fill="none"/>
<path transform="scale(0.2)" d="M2259 2112zm1-11zm5 0zm-5-7zm23-8zm-5 27zm-2 0zm-1 4zm3 5zm7 9zm8-15zm-27 10z" stroke="#4159d7" stroke-width="5.75" stroke-linecap="round" fill="none"/>
<path d="M527.90,372.60V474.60H658.80" fill="none" stroke="#6a6a6a" stroke-width="0.7"/>
<text x="523.70" y="389.40" font-size="9.5" text-anchor="middle" fill="#111" stroke="#111" stroke-width="0.22" transform="rotate(-90 523.70 389.40)">UMAP2</text>
<text x="660.20" y="484.40" font-size="9.7" text-anchor="end" fill="#111" stroke="#111" stroke-width="0.22">UMAP1</text>
<text x="597.60" y="383.20" font-size="12" text-anchor="middle" font-style="italic" fill="#111" stroke="#111" stroke-width="0.22">Edn1</text>
<rect x="666.90" y="372.60" width="5.90" height="102.30" fill="url(#gb)" stroke="#777" stroke-width="0.3"/>
<line x1="672.80" y1="474.30" x2="674.30" y2="474.30" stroke="#444" stroke-width="0.5"/>
<text x="676.90" y="477.20" font-size="10.2" fill="#111" stroke="#111" stroke-width="0.22">0</text>
<line x1="672.80" y1="444.90" x2="674.30" y2="444.90" stroke="#444" stroke-width="0.5"/>
<text x="676.90" y="448.40" font-size="10.2" fill="#111" stroke="#111" stroke-width="0.22">1</text>
<line x1="672.80" y1="415.50" x2="674.30" y2="415.50" stroke="#444" stroke-width="0.5"/>
<text x="676.90" y="419.00" font-size="10.2" fill="#111" stroke="#111" stroke-width="0.22">2</text>
<line x1="672.80" y1="386.10" x2="674.30" y2="386.10" stroke="#444" stroke-width="0.5"/>
<text x="676.90" y="389.60" font-size="10.2" fill="#111" stroke="#111" stroke-width="0.22">3</text>
<path transform="scale(0.2)" d="M2668 1966zm3-8zm2-6zm6 6zm4 1zm-1 2zm0 1zm-4 1zm8 1zm2-1zm1 1zm4-2zm0-5zm2 0zm4 1zm1 1zm2-2zm2 0zm-1-3zm-3 0zm-1-1zm0-6zm-3 0zm6-3zm-1-6zm3-1zm6 0zm3 4zm2 3zm-1 2zm-1 3zm-2 2zm4 0zm2 0zm-1-2zm-4 8zm-3 2zm-2 8zm1 1zm-1 4zm-3 4zm1 2zm-7 0zm-2 2zm-2 0zm0 4zm-4 2zm0 5zm-7-2zm-1 0zm-1-2zm1-3zm2-5zm4-6zm3-1zm-2-3zm6 1zm4-2zm3-1zm1-2zm12 1zm25 0zm3-3zm2 1zm2-4zm-3-1zm-1 0zm-1 1zm5-5zm6 10zm-5 5zm-5 3zm-22-41zm-2-2zm-2-1zm-4 0zm-2 2zm-1-3zm2-4zm3-3zm-3-2zm2-4zm-3-4zm0-2zm-6-1zm2-5zm3 0zm-2-4zm-1-1zm-4 1zm1 3zm-5 6zm1 6zm0 5zm1 2zm-3 3zm5 1zm2 4zm-8 2zm-2 0zm-1-1zm-3-1zm1-2zm-2-1zm-1-2zm0-2zm-1-2zm-3 2zm0 2zm0 1zm-2 3zm-4 1zm-4-1zm1-2zm-2 0zm3-3zm2-1zm2 0zm2-3zm3-4zm-2-6zm-2 1zm-3 3zm11-5zm1-2zm4-5zm18-3zm0-1zm7 6zm-1 2zm1 3zm-1 2zm1 3zm1 0zm1 3zm-1 2zm4 8zm0 1zm-9 8zm-20 3zm-3-4zm-2 3zm-4-1zm1-2zm1-2zm-2-1zm5-7zm-12 13zm4 3zm1 4zm2-1zm4-1zm-1 9zm0 3zm-5-5zm-15 30zm-2-1zm30 9zm126 71zm-1 2zm1 1zm4-6zm2-2zm2-1zm1 0zm1 0zm2 0zm0-4zm1 0zm-3 0zm-1-3zm3-3zm2 2zm2 0zm2 0zm1 2zm-3 0zm0-6zm-9 15zm-2 64zm1 1zm7 0zm0-1zm1 2zm0 1zm3 1zm4-1zm0-1zm1 3zm1 2zm1 0zm3 2zm-5 2zm-1 0zm-5 3zm2 2zm-5 0zm3 5zm-2 2zm5-2zm4-3zm4 0zm-3 8zm-3 0zm-2 1zm8 1zm1 0zm-2 8zm-10 7zm-5-4zm0-4zm-4 1zm-1 3zm0 4zm-2 0zm0 2zm-2-1zm-6-1zm-2-2zm-1 2zm-2 3zm-5 9zm-1 2zm-3 6zm4 3zm-1 11zm5 4zm-8 5zm5 12zm2 2zm5 8zm3 2zm3 1zm-6 2zm-3-2zm-3 5zm-1 4zm2 1zm3 2zm5-1zm2 1zm0 6zm0 2zm0 2zm3 0zm-1 3zm1 2zm4 1zm4 2zm1-1zm0-2zm0-1zm1-2zm-4-1zm0-4zm0-2zm-2-2zm7 2zm2-1zm4-1zm-3-4zm0-2zm9 7zm-1 2zm-1 1zm-4 4zm1 1zm-3 5zm6 3zm-2 4zm0 2zm4-2zm0 7zm6 6zm2-2zm4 1zm3 1zm1 0zm1-1zm-2 2zm0 3zm3 2zm0 1zm-1 1zm-2 4zm3 4zm-1 3zm4 1zm1-3zm2-4zm-1-2zm1-2zm3 2zm2 1zm0-4zm-2-1zm-1-2zm-3-2zm-3 0zm1-6zm-1-1zm5-4zm3 1zm0 2zm1 0zm3 0zm1-1zm-3-2zm-1-2zm2 0zm-4-3zm-3-1zm0-1zm0-1zm-1 2zm0-4zm-3 1zm-4-1zm-4-4zm-6 0zm-5-3zm8-6zm6-1zm5 5zm5-3zm5 1zm1-4zm3 1zm2 3zm6 4zm-1 3zm2 0zm-5 4zm6 3zm-1 4zm-2 1zm2 2zm-4 2zm-11 5zm1 3zm-8 10zm-8 8zm1 2zm-3 2zm-1 3zm0 1zm-1 2zm-4-4zm-1-4zm-2 1zm-1-5zm1-1zm0-2zm-4 2zm-1-4zm-6-4zm-3 0zm-1 0zm-5 6zm-3 2zm2 2zm3 2zm3-2zm4-1zm3 4zm-1 2zm-3 1zm-3 2zm-3 0zm3 4zm2 0zm-2 4zm-3 3zm-3 0zm-1 2zm-4-1zm0-4zm-3-1zm-2 1zm-1-2zm0-4zm0-1zm-4 4zm-3 0zm-2 4zm-3 0zm-3-3zm-3 1zm-1 0zm-2 0zm-2 2zm-2-1zm1 6zm1 1zm5 1zm0-2zm0-1zm8 1zm2 3zm1-1zm0-4zm3-1zm5 1zm1-1zm-4 6zm-1 6zm0 2zm-2 3zm-2-1zm-4-3zm-3 3zm-1 0zm2 6zm0 1zm5-1zm0-1zm1 5zm8 6zm2-3zm5 2zm4-3zm-1-2zm1-1zm3-2zm1-3zm4 3zm1-2zm-3 5zm1 3zm1-14zm-1-1zm0-1zm-4-1zm-4 0zm-5-4zm0 9zm-1 2zm-2 1zm-2-1zm2 4zm-13 16zm-5-3zm-6-1zm-2 0zm1-2zm-3-2zm-4-3zm0-2zm-5 1zm-1-3zm1-2zm-5-5zm0-2zm4-1zm5 2zm3 3zm4 2zm-4-11zm1-1zm-3-1zm-8-3zm-4-1zm-4-4zm2-3zm2 0zm-2-2zm-3-2zm-1 2zm-1 0zm-6-3zm-3 0zm0 2zm3 6zm4 3zm-2 2zm4 2zm1 1zm3 2zm-4 2zm0 1zm1 3zm-4-4zm-4 2zm-1 1zm-5-1zm-2-2zm0-2zm2-3zm3-1zm-5 12zm3 5zm0 4zm4-1zm-5 6zm-1 2zm-1 3zm5 2zm5 2zm2-1zm0-4zm2 0zm0-3zm3-1zm3-1zm2-2zm4 5zm3-3zm0 6zm4 2zm3 1zm-18-1zm-10-5zm7-6zm-20 1zm-2 3zm-1 0zm-2 0zm-1-2zm-2 1zm-1 2zm3 4zm5 1zm-3-10zm1-2zm2-2zm-1-3zm1-2zm-6-2zm-1 4zm-4-3zm-2-5zm1-6zm2-4zm5-2zm0-5zm-4 0zm0-1zm-2 0zm1-4zm1 0zm2-4zm0-1zm2 0zm0-3zm-1-3zm-3 4zm-4 4zm-6 1zm-1-4zm-4-2zm-4 2zm-2-4zm0-8zm-1-4zm-4-3zm-3 3zm-6 1zm-2-4zm-5-1zm-4-1zm1-2zm-2 7zm3 4zm-3 4zm-2 0zm6 4zm2-1zm3 6zm-1 2zm0 2zm0 8zm-4 8zm1 1zm0 3zm-3-4zm-3 7zm8 9zm-1 3zm1 1zm4-3zm2 2zm8-1zm3-2zm0 5zm5 0zm6 0zm1 0zm4 1zm-3 4zm-3 4zm-2-2zm-5 0zm14 4zm-3-15zm0-1zm-4-1zm2-4zm-4-2zm4-5zm4-6zm-1-1zm0-3zm-6 3zm-5 2zm-4-2zm0-3zm1-5zm-5 1zm-4 8zm-1 5zm6-2zm0 10zm12-23zm-1-5zm8-8zm-5-6zm-5-13zm-2 0zm-2-1zm0 2zm6-7zm4-8zm3-4zm-1-4zm-5 1zm-3-2zm-2-1zm-2-1zm1-5zm-1-3zm5-3zm7-3zm2-1zm-2-2zm-1-1zm1-2zm0-2zm3 4zm6-5zm3-5zm6-2zm-3-6zm-2-2zm-1-3zm-1-1zm-1-3zm-5-5zm-3-5zm1-1zm4-5zm0-3zm-2-2zm-1-3zm-4-2zm-1 8zm-2 3zm-6 4zm-1 6zm0 4zm2 3zm2-1zm-3 4zm-5 0zm1-4zm-3 11zm-4 1zm-3-4zm1 10zm8 1zm0-3zm3 3zm0 3zm1-8zm5 2zm2 0zm1 0zm3 0zm-3-6zm19-7zm-1-8zm-4-6zm7-13zm-4-5zm-2 0zm15 9zm0 6zm0 1zm0 3zm2 6zm2 0zm-4 3zm-1 1zm-2-4zm5 10zm4-3zm1 1zm3-3zm6 4zm0 10zm1 2zm2 1zm-1 4zm-3-1zm-3 2zm1 2zm0 3zm3-1zm0-2zm6-2zm0 5zm4-1zm4 0zm-2-4zm2-2zm2 2zm1-7zm0-2zm3 1zm0 1zm1-4zm-5-4zm2-2zm-7 2zm-4 5zm1 2zm-14 5zm0 2zm-2 2zm-2 1zm-2-1zm1-2zm-3 0zm-2-2zm-2-3zm2-2zm-1-2zm4 2zm1 2zm1-4zm-4 12zm-2 2zm-2-3zm-5 0zm-2-2zm-1 5zm2 0zm-4 3zm1 2zm-7 8zm-1 0zm-2 0zm0 2zm4 0zm-7-3zm-5 1zm-3 2zm-1-1zm-8 8zm-5 3zm-2 2zm-2 4zm6 3zm-6 4zm-3 1zm-1 2zm-8-9zm-2 2zm5-4zm-9-6zm10-8zm4-7zm6-2zm1 1zm2-4zm0-5zm-6 1zm-4 1zm5 18zm-1 3zm28 6zm3-1zm4 5zm6 3zm5 1zm3 0zm3 2zm0 1zm0 3zm3-2zm5 1zm4-3zm1-3zm1-2zm2-1zm-1-2zm-4-2zm1-2zm-1-2zm-4 0zm0 3zm-1 1zm-4 4zm-1-7zm-2-1zm-3 1zm-2 0zm0-1zm-2 5zm8-8zm0-1zm7-1zm2-2zm2-2zm2 0zm0-1zm2-1zm-11-4zm-1-4zm0-2zm6-3zm-8 12zm-8 4zm-3 1zm-13 18zm-1 1zm8 3zm3 1zm-3 10zm8 3zm2 1zm3 2zm-1 1zm0 3zm3 0zm1 1zm4 5zm5 0zm1-1zm-1-1zm0-1zm-1-8zm0-1zm1-6zm-8 3zm-8 14zm1 3zm1 0zm1 1zm1-2zm-7 1zm-2-1zm2 9zm-3 12zm36-9zm-2-7zm-1-2zm0-3zm1-5zm1-2zm2-1zm-7 0zm2-11zm-2-6zm-1-1zm5 0zm4-9zm2-5zm2 0zm1-3zm0-3zm-4 0zm10 0zm0 1zm1 1zm2 2zm0 1zm1 1zm1 4zm2 0zm-1 2zm1 1zm0 2zm0 2zm-1 3zm5-3zm2 7zm1 0zm4 1zm0 2zm3 4zm-1 1zm2 1zm3 1zm2 1zm2 0zm-2-5zm-1-1zm-2-1zm-1 0zm0-4zm4 2zm2-4zm-2-3zm1-2zm1-2zm2 3zm5 0zm3 2zm2-1zm2-2zm-1-2zm-6-7zm-5 1zm-1-1zm-2 0zm0 3zm-3 3zm-6 4zm0 3zm-10 5zm-3 2zm0 2zm-4 3zm-2 0zm0-2zm0-1zm0-2zm0-1zm0-8zm0-8zm-4-2zm6-10zm6 3zm4 3zm0 2zm4 1zm3 1zm-3-7zm-1 0zm-1-2zm0-1zm4-1zm2-1zm2 5zm4 0zm2 2zm-6-13zm-8 0zm-9-2zm-4-3zm-2 2zm-5 2zm12-8zm1-3zm-2-2zm2-5zm3 1zm23 4zm22 7zm12-9zm-3-10zm-8-2zm1-3zm-7-10zm19-7zm6 4zm5-6zm1 26zm0 17zm1 13zm-10 11zm-5 3zm-5 1zm2-6zm0 19zm-2 1zm1 4zm-2 1zm1 3zm-6-5zm0-2zm-8-2zm2 21zm0 2zm3 1zm8-6zm-6 19zm1 1zm1 0zm-4 0zm-1 0zm0 2zm0 1zm0 2zm4 3zm1-1zm-12-2zm-1-3zm0-1zm-1-4zm4-1zm-11-6zm-5-3zm-1 3zm-1-6zm-1-1zm2-2zm1 2zm-2-4zm-3 0zm-5 0zm0-4zm-1-2zm4 1zm-9-5zm-3-2zm-4 6zm2 1zm4 3zm0 2zm-1 1zm3 2zm1 0zm-11-1zm-1 2zm-5 1zm2-10zm0-1zm-6-1zm-1 1zm-7 14zm-13-39zm4-7zm13-55zm-9-3zm0-1zm2-3zm-6 4zm-1 1zm-5-4zm-4-6zm6-1zm25 0zm0-9zm0-15zm3-7zm4-3zm-5-5zm1-3zm0-1zm2 1zm0-6zm8 3zm-3-10zm-1-2zm1-5zm2 0zm2 1zm0 1zm1-1zm-1-3zm1-3zm2-1zm-4-1zm8 4zm1 1zm1 3zm-1 1zm-1 1zm4-3zm2 1zm2 1zm1 3zm2 2zm1-2zm0-6zm4-2zm3 0zm2 0zm-16-9zm-9 19zm7 2zm6 8zm-4 8zm13-9zm-5 24zm-2 9zm-4 2zm10-1zm3-1zm3 0zm-2 3zm11 2zm46-19zm49 11zm25 18zm3 5zm4-4zm6-3zm0-1zm-19 12zm-4 0zm-19 9zm-5 2zm0 5zm-1 0zm-3 0zm-3-3zm-1-1zm-5 3zm-1 7zm-3 1zm-6 0zm-2 2zm1 1zm1 2zm-2 4zm-3 0zm0 1zm1 2zm-5 3zm-1 0zm-3 1zm-5-1zm-1-3zm-2 0zm6-4zm1-1zm0 2zm3 2zm1-4zm1-3zm2 1zm-5-3zm-2 3zm9 15zm5-2zm3-3zm5-1zm-3-4zm7-7zm3-3zm-1-2zm-25 27zm0 1zm2 2zm1 4zm-4 2zm-2-8zm-104-96zm-101 150zm-1 1zm428-172zm7-6zm2 0zm3-2zm-4-5zm-6 0zm-4-5zm15-9zm6 2zm6 3zm8-5zm-3-5zm5-1zm12 6zm1 1zm0 4zm-5 0zm-8 7zm4 10zm-4 2zm-7-2zm-2 4zm-3-7zm9 16zm1 0zm10 7zm1 7zm5-2zm5-4zm7 7zm8-1zm1 2zm3-4zm1-5zm4 1zm3-1zm0 10zm7-1zm3 2zm12-12zm2-7zm2-1zm5 5zm-4 11zm-15-13zm-10-7zm-5 1zm-1-3zm-3 0zm-5 1zm-3 3zm-5 3zm3 3zm2 0zm-1 3zm2 2zm-2 20zm-24-7zm12-32zm-3-9zm2-3zm8-2zm2 10zm2 1zm3 0zm11-3zm2-1zm5-1zm8-2zm2 3zm4 2zm1-4zm2-2zm6 1zm9-1zm-11-14zm-1-2zm5-5zm-9-9zm-5 6zm-4-1zm-7 0zm0-3zm-4-1zm-2 5zm1 5zm2 3zm-6-1zm-3 0zm-3 0zm4 4zm-5 5zm11 0zm3-1zm2 2zm4-8zm1 0zm2-2zm2 14zm2 0zm3 15zm-21-1zm-21-26zm-3-2zm2-3zm3-3zm7-2zm1-2zm1-3zm3 5zm2-11zm-12-5zm-4-1zm6-3zm0-1zm-2-6zm-2-3zm-2 2zm13 0zm2 0zm-9-12zm15-8zm3 3zm2 2zm6-17zm-1-1zm-5-10zm5-6zm7-2zm0-3zm-4-4zm3-2zm6 0zm-3-8zm0-2zm4-4zm1-1zm-8-4zm-2 6zm-5 14zm11-29zm6 0zm0-2zm-1-5zm-5-7zm-3-2zm-1 2zm-1 4zm-4-1zm2 7zm17 8zm6-6zm1-4zm1-1zm4-1zm3-5zm1-6zm5 2zm3 4zm4 1zm0 1zm-2 7zm-6 1zm-2 0zm-3 2zm-5-16zm-8 2zm-2-4zm3-3zm1-2zm0-3zm-2-1zm-2-7zm-6 1zm1-7zm-3 0zm-6-2zm-3 2zm0 1zm-7 5zm3 6zm-2 1zm3 4zm4 1zm4-2zm3-1zm-8-4zm-18-7zm2-6zm3-4zm0-7zm3 0zm3 1zm6-5zm3 2zm5-1zm5-1zm0 3zm-1 6zm-8-1zm13-11zm4-1zm-6-4zm0-2zm-5-1zm-2-3zm-5-1zm-1-1zm-4 2zm-1-4zm-4-3zm1-6zm7 5zm6-6zm3 1zm2 0zm1 1zm1-2zm-2-4zm-6-1zm9 10zm3 5zm-19 8zm-12-3zm-5 1zm-1 5zm5 0zm1 1zm-4 10zm-7 5zm-1 2zm3-27zm2-7zm7 3zm65 73zm3 0zm-48 99zm-2 2zm1 2zm-4 1zm13 1zm3 2zm-56 10zm-1 8zm-1-20zm-5 0zm-15-17zm-4 2zm-5 4zm-2-5zm1-2zm-3 21zm-4 6zm-2 6zm-3 7zm-5-1zm-10-5zm-7-3zm29-52zm-1-9zm14 8z" stroke="#cbcbcb" stroke-width="6.25" stroke-linecap="round" fill="none"/>
<path transform="scale(0.2)" d="M2712 2235zm15-2zm6 9zm2 8zm6 6zm-13 13zm27 4zm19 27zm24 14zm9-9zm11-6zm8 1zm4 21zm0 3zm4-2zm-46 8zm-10 10zm-14-2zm-10-1zm88-71zm12 8zm-18-25zm48-11zm20-2zm1 4zm1 4zm8-3zm-2-6zm3-2zm5-5zm5 7zm11-13zm4-3zm-6-2zm2-4zm18-7zm1-2zm2 2zm14-11zm8 1zm-79 57zm-71-95zm-16 10zm-24 13zm-24 29zm-24 13zm2-30zm-14 2zm91-63zm5-65zm7-16zm280 46zm3 7zm5 7zm2 6zm6-9zm13 6zm10 6zm5-2zm0-9zm11 0zm3-3zm6-10zm5 17zm-3 4zm-9 9zm-8 4zm-4-1zm-3 2zm14 9zm2 0zm-5 7zm16 1zm6-3zm0-5zm0-7zm4-3zm8-1zm-4 12zm-4 8zm5 5zm1 4zm7-1zm-13 5zm-13 5zm40-14zm-2-7zm1-2zm-2-4zm13 10zm0-23zm1-4zm-1-4zm-2-7zm-9-4zm3-5zm-10 10zm-7-1zm12 11zm-12-32zm-4-4zm0-1zm13 0zm-4-24zm-4-3zm0-3zm-2 0zm-1-6zm2-5zm-8 12zm-1 12zm-3 2zm-24 5zm-6-1zm-9-4zm-1-1zm-2 9zm-6 19zm-20-8zm-2-5zm18-42zm-5-5zm14 7zm54-26zm3 5zm15-13zm-1-18zm-9-7zm16-17zm3 2zm5 3zm4 0zm-4-7zm-9-3zm5-11zm-7-7zm2-26zm1-7zm-3-5zm-8 8zm-9-16zm-6 2zm-2 2zm-6 11zm-4 4zm6 4zm3 8zm16-37zm6 3zm39 69zm1 1zm-8 17zm-14 0zm-116 154z" stroke="#98a2d4" stroke-width="5.75" stroke-linecap="round" fill="none"/>
<path transform="scale(0.2)" d="M2704 2340zm37 7zm7 3zm36-32zm10 8zm6 7zm10-3zm3 0zm54-47zm-33-26zm-18-18zm-44 28zm-12-26zm-45 54zm165-101zm23 39zm4 1zm4 3zm5 5zm0 3zm-9 2zm-5-5zm17-6zm5-5zm-6-4zm-4-1zm9-5zm2-2zm4-2zm8 2zm4 0zm-5 6zm3-15zm7 2zm12-9zm1-1zm12-1zm3-5zm-2-1zm-125-43zm257-55zm7 7zm3 7zm5-7zm2 2zm4-4zm0 11zm3 7zm1 3zm-5-1zm-6 1zm5 8zm7 3zm24-5zm5 0zm3-1zm0 5zm-1 8zm0 12zm18-5zm8 0zm0 9zm-4 4zm6 4zm5-9zm6 7zm7-1zm2-12zm4-12zm13 4zm6 4zm2 1zm-11 7zm0 2zm2 2zm-27-18zm-6-7zm-6-2zm0-6zm-5 1zm-11-1zm-11-4zm-2-9zm-5 2zm-6-12zm-13-9zm-20-4zm33-22zm-3-6zm-2-4zm7 1zm0-5zm0-6zm-4-6zm2-4zm-11 1zm-3 2zm-3-4zm34 46zm9 6zm8-6zm15-2zm0 6zm10 4zm5-2zm2-7zm-1-9zm1-9zm-7 0zm-6-6zm-5-6zm18-13zm8 53zm-7 10zm1 3zm-7-7zm-16 5zm-2 7zm-1 4zm-3 2zm-1-2zm-8-1zm3 25zm20-11zm20-1zm2-1zm8 1zm3 1zm3-2zm2-6zm5-1zm-19-5zm-4-149zm6-8zm-9-4zm-4-9zm0-16zm-16-1zm12-32zm23 13zm4 57z" stroke="#7282d6" stroke-width="5.75" stroke-linecap="round" fill="none"/>
<path transform="scale(0.2)" d="M2901 2236zm3 2zm4 2zm2-3zm1-2zm1 0zm5 7zm-3-17zm16-4zm1 1zm2 5zm-2 1zm7-7zm-34-56zm204-74zm11 8zm12-1zm5 2zm5-3zm0 6zm8-1zm8 5zm-9 5zm-5 0zm-7 9zm-9-2zm-1-3zm5-7zm-3 17zm24-2zm2 1zm3 6zm-3 9zm4 17zm10-2zm2 5zm11-12zm12-6zm-2-3zm4 9zm6 3zm5-1zm3 2zm7-3zm2 0zm-4-5zm9-3zm8 3zm-3-15zm8-8zm-9-9zm-3-1zm-7 3zm-10-5zm-4-5zm-7 3zm-6-8zm-6 6zm-5 1zm1-8zm-3-5zm-16-1zm0-4zm-1-3zm-7 3zm-18-2zm-11 0zm8-27zm3-3zm11 3zm-11-18zm6-8zm61-5zm5-4zm1-1zm-3 34zm-3 2zm13 10zm9 9zm-2 10zm-6 0zm0-2zm-15-9zm29 29zm-18 27zm6 25zm-12 1zm-7 3zm-1-3zm-5-4zm-14-31zm2-9zm4 0zm-18 10zm-7-5z" stroke="#4159d7" stroke-width="5.75" stroke-linecap="round" fill="none"/>
<path d="M22.30,494.00V595.90H153.20" fill="none" stroke="#6a6a6a" stroke-width="0.7"/>
<text x="18.10" y="510.80" font-size="9.5" text-anchor="middle" fill="#111" stroke="#111" stroke-width="0.22" transform="rotate(-90 18.10 510.80)">UMAP2</text>
<text x="154.30" y="605.70" font-size="9.7" text-anchor="end" fill="#111" stroke="#111" stroke-width="0.22">UMAP1</text>
<text x="92.40" y="504.20" font-size="12" text-anchor="middle" font-style="italic" fill="#111" stroke="#111" stroke-width="0.22">Tagln</text>
<rect x="160.10" y="494.00" width="5.90" height="102.20" fill="url(#gb)" stroke="#777" stroke-width="0.3"/>
<line x1="166.00" y1="595.60" x2="167.50" y2="595.60" stroke="#444" stroke-width="0.5"/>
<text x="170.10" y="598.50" font-size="10.2" fill="#111" stroke="#111" stroke-width="0.22">0</text>
<line x1="166.00" y1="574.20" x2="167.50" y2="574.20" stroke="#444" stroke-width="0.5"/>
<text x="170.10" y="577.70" font-size="10.2" fill="#111" stroke="#111" stroke-width="0.22">1</text>
<line x1="166.00" y1="552.80" x2="167.50" y2="552.80" stroke="#444" stroke-width="0.5"/>
<text x="170.10" y="556.30" font-size="10.2" fill="#111" stroke="#111" stroke-width="0.22">2</text>
<line x1="166.00" y1="531.40" x2="167.50" y2="531.40" stroke="#444" stroke-width="0.5"/>
<text x="170.10" y="534.90" font-size="10.2" fill="#111" stroke="#111" stroke-width="0.22">3</text>
<line x1="166.00" y1="510.00" x2="167.50" y2="510.00" stroke="#444" stroke-width="0.5"/>
<text x="170.10" y="513.50" font-size="10.2" fill="#111" stroke="#111" stroke-width="0.22">4</text>
<path transform="scale(0.2)" d="M142 2583zm0 2zm6 0zm2 2zm4 4zm-1 2zm1 2zm8-3zm4-1zm0-4zm-4-3zm1-5zm0-2zm1 0zm-3-1zm-1 3zm-3 2zm-2-7zm3-3zm2-1zm1 1zm4-3zm2-5zm4 0zm0 1zm1-3zm-1-1zm3 1zm1 0zm1 3zm-1 8zm-1 1zm-2-1zm-1 2zm-3 4zm-1 0zm9 4zm4-8zm7-1zm-3-13zm-1-2zm4-1zm2 0zm-1-2zm-1-5zm3-2zm3-4zm1-7zm2-2zm1 1zm0-3zm-4-2zm-3-4zm-3 1zm-1 3zm-4-2zm2-4zm2-3zm2-4zm4-3zm1 4zm2-1zm2 2zm-3 3zm-1 2zm-2 11zm-8 2zm-1-3zm-5 1zm-2 0zm-2 1zm4-3zm-2-2zm-5-2zm2-5zm-8 6zm0 2zm-3-2zm0-2zm1 0zm-2-2zm-3 2zm-2-3zm-2 3zm-4 0zm0-1zm-3 4zm2 1zm7 1zm4 4zm2 0zm-1 2zm-2 0zm5 3zm5-1zm0 2zm3 1zm0 2zm3 3zm-3 3zm-2-1zm-1 2zm-5 0zm-1 3zm-5-2zm-2 2zm-4 0zm3-4zm3-3zm2 0zm4-1zm-10-2zm-2 0zm-1 4zm-2-8zm-3 16zm3 3zm3 3zm1 0zm2 3zm-6 8zm-5-11zm24-28zm-1-1zm10 7zm0 2zm9 2zm-5-29zm3-1zm3-4zm-4-4zm-3 1zm-1 0zm-3-4zm4-1zm5-2zm1 0zm0 1zm7 6zm-15 5zm-6-1zm-6 0zm-3 0zm2 4zm-6 4zm-2-4zm0-2zm-2 0zm60 51zm1-1zm1-1zm3 1zm0-4zm0-1zm1 9zm-2 0zm-1 1zm3 5zm0 5zm-5-1zm85 81zm3 0zm2 0zm-1-2zm0-1zm0-1zm2 2zm2-4zm1 0zm-1-1zm3-1zm1-1zm0-2zm0-2zm2 3zm1 2zm2-4zm-7 2zm-15 16zm2 7zm-3 52zm3 3zm5-3zm6 3zm2 0zm1-1zm-1-1zm-1-1zm4 4zm-2 3zm-1 2zm-2 0zm4 4zm-3 2zm4 2zm2 3zm3-1zm1-1zm1 0zm3 0zm1-5zm-1-5zm-3-2zm-1 1zm-1 0zm0-2zm-1-3zm0 8zm1 1zm-1 15zm0 1zm6 0zm1 1zm0 4zm-2 3zm-10 8zm-6-7zm1-1zm-4 1zm1-4zm3-3zm-9 1zm-5-7zm-4 4zm-2 0zm-6 2zm-8 4zm-2 1zm0-3zm-1-3zm7-9zm0-2zm-1-4zm4 0zm2 1zm1 0zm1 3zm-2 1zm3 2zm4-4zm1-2zm5 0zm2 1zm1 2zm3 0zm-1 3zm-11-11zm-2-3zm-2 1zm-1 2zm-2 1zm-3 0zm2-4zm-6 35zm-4 2zm-2 2zm1 6zm12 3zm5-9zm2-3zm11 0zm2 0zm-2 3zm0 7zm0 10zm-4 1zm14 2zm2-3zm9 5zm-1 11zm-9 4zm-10 12zm-11 12zm2 3zm1 0zm3 1zm5 5zm8 0zm2 6zm1 1zm-1 4zm-2 1zm-1 3zm-1 1zm1 3zm-1 3zm-1 0zm1 2zm-1 2zm-2 3zm0 2zm-4-2zm-1 4zm-3-1zm-4 0zm-5 0zm-3-1zm1-2zm-1-3zm-4 2zm0 2zm2 5zm-1 2zm-2 4zm-4 0zm0-2zm-1-3zm-1-2zm2 0zm-3-5zm-1-1zm-1 2zm-2-5zm0-1zm0-1zm2 0zm4 1zm2 2zm1-6zm5-6zm0-2zm-4-5zm-2-3zm-1-1zm-1 3zm-2 4zm1 3zm-4 2zm-2 2zm0-5zm-5 2zm-4 4zm-4 1zm-1 4zm-5-4zm-1-3zm0-1zm-3 1zm1 2zm-4 2zm-2 7zm0 2zm-1 1zm5 0zm1 3zm-1 1zm2 3zm1-1zm2-2zm-1-1zm0-5zm12 1zm2 0zm1-5zm4-2zm-2-16zm2-4zm-2-3zm-2-3zm4-2zm-1-5zm0-1zm4-1zm3 5zm2-1zm1 4zm1 0zm2 2zm9-1zm-2 10zm5 8zm5-1zm0 2zm0 2zm5 0zm4 1zm0-4zm-2-4zm-7-2zm-7 12zm-2 1zm4 0zm4 4zm2 2zm2-2zm-5 12zm4 1zm-1 2zm-1 2zm-2 1zm-2 4zm-1 0zm-3 0zm-1 1zm0 2zm-4-1zm-1-1zm-5 1zm-1-1zm-1 3zm0 3zm1 3zm1 2zm2 1zm0 1zm4 0zm0 4zm-3 6zm-3 1zm-2 2zm-1-4zm-5 0zm-3-9zm-2-2zm7 1zm0-4zm-2-3zm0-3zm0-7zm-2 0zm-7-6zm-6 2zm0 2zm0 3zm0 1zm-5-2zm-4-3zm-4 4zm-5-2zm-3 0zm0-2zm1-3zm1-3zm3 1zm-8 3zm-2 1zm-1 0zm-5-1zm-1-3zm-5 0zm-4-5zm-3 0zm-2 1zm-1-4zm9-1zm-1-5zm-3-5zm3-1zm-1-4zm-6 0zm-1-2zm0-2zm-1-2zm0-3zm-1-1zm1-4zm3 1zm-2-6zm-4 0zm-2 0zm-1 1zm-3-2zm-2 3zm0 3zm-4 4zm-3 0zm-2 0zm-4 1zm-4 1zm1 4zm5 3zm2 0zm3-1zm10 0zm5-1zm0 8zm-3 2zm-1-2zm-2 5zm-2 0zm-2-2zm-2 6zm-5 3zm-5-4zm-7-6zm-10 8zm6 9zm3-3zm4 4zm2 3zm3 2zm-4 2zm0 5zm-1 1zm2 3zm6-1zm3-2zm5-5zm4 1zm2-7zm-3-1zm-8-1zm18 1zm3 1zm1 0zm3 4zm-1 6zm-1 5zm6-1zm2-4zm1 0zm0-5zm5 13zm1 5zm3 2zm3-1zm1 1zm1 3zm3 2zm-1 5zm-1 2zm3 4zm0 4zm-1 1zm-3 4zm-3 2zm-1-2zm-1 4zm0 3zm0 6zm-2 2zm-2 0zm-3 1zm-1-2zm-2 4zm2 3zm-1 1zm-2 1zm0 2zm1 2zm2 0zm0 1zm-1 1zm0 1zm-1 0zm3-4zm2 0zm0-2zm3-1zm4 3zm1 3zm-3 3zm5 2zm3-5zm4-1zm2 0zm0 2zm-2 1zm0 4zm5 0zm1-2zm8-4zm3 2zm1-1zm3 3zm0 2zm7-6zm0-1zm-2-2zm-4-3zm0-3zm-5-4zm0-2zm-1-5zm-2-3zm-2 3zm0 2zm-2 6zm1 3zm-1 4zm7 1zm7-12zm0-1zm4 3zm4-5zm-2-3zm2-3zm0-4zm1 0zm1-1zm-6-1zm-1 0zm0 2zm-2-1zm0 4zm1 0zm-4 0zm-2 5zm-6-8zm-2-1zm-2 0zm0 3zm-3 3zm-1 2zm-3 0zm0 2zm2 2zm-5-4zm-4 2zm2 2zm-2 4zm4 5zm3 3zm-8 1zm-4-2zm-9-4zm-8-2zm-3-3zm-2 7zm-2 1zm-1 1zm-3 2zm-1-2zm-1 0zm3-4zm-2-6zm-2 0zm-2-2zm4-4zm-3-8zm-5 2zm-4-6zm1-5zm2-4zm5-1zm1 4zm7 0zm1 0zm3 0zm1 2zm2-1zm0-3zm-1-1zm-3-3zm2-2zm2 0zm0-1zm2 3zm3 0zm1-3zm3 3zm4 1zm1 0zm2-1zm-4-3zm-4-6zm-5 1zm13-3zm7-7zm5-2zm3-1zm1-2zm6 4zm8-1zm-5 12zm-1 1zm0 2zm-1 4zm0 3zm-4 1zm-3 2zm-1 3zm-1 0zm1 6zm-3 1zm3 6zm6-12zm6-4zm2 0zm-1 8zm9-3zm2 1zm2-1zm6-2zm1 2zm2 0zm2-2zm3-2zm3-2zm1 3zm3 1zm1 1zm2-1zm3 1zm-1 2zm1 2zm4 1zm1 2zm0-4zm1-2zm5 0zm2-4zm-2-1zm-1-2zm-2-1zm0 3zm-6-1zm-1 3zm-3-6zm1-1zm3-1zm-2-3zm-3-1zm-3 1zm-1 0zm1 4zm0 3zm-9-1zm2 10zm0 5zm0 1zm-1 0zm5-1zm1 2zm1 3zm-2 5zm-3-2zm-3 1zm-2 0zm-3 3zm-2 5zm3 1zm1 1zm-4 2zm8-4zm5 0zm-2-4zm-2-1zm8 2zm1 0zm1 2zm2-2zm-1 5zm-1 5zm1 3zm-3 1zm7-2zm3 0zm1-2zm-1-3zm1-1zm-2-2zm5 0zm0-3zm3-3zm2-1zm-1-2zm-4-2zm-3-3zm-6-1zm-5-6zm1-2zm19 6zm1 3zm3-6zm-1-3zm6-3zm5 3zm-1 4zm-2-1zm-2 2zm-1 0zm0 1zm0 3zm5 3zm-6 9zm-7-2zm-2 10zm0 1zm-26-3zm-3 12zm33-46zm2-6zm2 1zm0-3zm-3-1zm-1 2zm0-4zm1-5zm3-1zm1 4zm3 1zm2-1zm-1-3zm-1 0zm1-5zm1-2zm6-3zm0-1zm-3-3zm-2-3zm1-3zm-3-4zm-2-3zm-4-1zm0 3zm-3-3zm-1-7zm3-4zm-1-1zm3-1zm2 1zm-1-5zm1-1zm1-2zm-3 1zm-2-2zm-1 0zm15 4zm6-2zm2-2zm3 7zm3 1zm1-3zm1-1zm3 0zm0 2zm2-1zm1-3zm3 1zm1-2zm4 2zm2 3zm1 3zm-2 1zm1 3zm-4 0zm1 3zm6 3zm-1 8zm-4 1zm-6 0zm-1 1zm-2 1zm-1 0zm0-1zm-1 0zm0-2zm0-1zm2 1zm-1-3zm2 0zm-1-6zm-6 2zm0 1zm-1 0zm0-4zm-3 0zm-4 0zm-3 0zm-2 3zm3 2zm-2-9zm-6-2zm-6 17zm-7 7zm2 4zm-3 3zm-1 1zm-3 1zm-1 0zm-5 5zm-3 3zm2 2zm5 3zm1-4zm-11-5zm-2 0zm-2-1zm-3 0zm2 3zm0 1zm-3 1zm-4-4zm-2-3zm-3-1zm7-10zm0-2zm-3 0zm11 8zm-1 2zm1 2zm2-8zm7-4zm5 0zm1-4zm26 7zm2-1zm3-3zm1 1zm2 5zm-3 1zm-2 3zm-1 1zm0 3zm-2 2zm6-1zm2-1zm1-1zm-1-1zm4 2zm2 2zm-4 2zm-1-1zm5-6zm0-5zm-1-4zm-3-6zm-10 12zm2 14zm-3 4zm-3 1zm-1 3zm0 2zm-1 1zm-2 0zm1-3zm-3-1zm-1-3zm4-1zm-1-2zm2-1zm-9 9zm12 6zm19-60zm4-15zm9 3zm6-2zm-1-2zm3 0zm2-3zm0-1zm2 0zm2 1zm3 2zm1-1zm1 0zm0-1zm-1 0zm1 2zm-1 1zm-1 1zm0 2zm1 1zm3 0zm0-2zm3 0zm-1 3zm1 1zm-1 2zm-1 1zm-1 0zm-1 1zm-1 0zm-2 0zm-3 1zm-4-4zm-1 0zm-2 0zm-1 1zm1 2zm-3 3zm3 3zm1 0zm0-1zm0 3zm2 1zm-5-1zm15-2zm-5-12zm0-1zm-1 0zm0-2zm-3 1zm1 2zm-7-7zm0-1zm2-2zm6-6zm4 5zm2-2zm2-2zm0-1zm4 3zm2 0zm1 0zm0-2zm2-2zm0-2zm-1-2zm6-1zm2 0zm3 0zm1-1zm1-2zm1 0zm2-1zm-2-2zm2-1zm-1 7zm1 2zm-2 2zm0 2zm-2-3zm-3 0zm-3 3zm-2 2zm1 4zm-3 0zm-4 3zm-1 2zm-5 0zm0-3zm1 0zm5 9zm11-13zm2-1zm13-12zm3-7zm6-5zm3-1zm1-1zm4 3zm2-2zm2 1zm5-3zm-3-4zm5-1zm5 1zm3-2zm0-1zm2-4zm3 0zm-43-12zm-24 17zm-16-29zm-9 2zm-15 26zm-4 6zm-6-2zm1 8zm-4 10zm-7 8zm-8-3zm11 12zm14-8zm14 5zm-78-11zm-2-1zm-5-12zm-10-11zm5-3zm-12-11zm5-22zm-23 36zm1 5zm2 2zm0 3zm5-1zm8 1zm1 2zm4 11zm-9 5zm-2 3zm-2 3zm-4 1zm1 3zm0 4zm5-2zm1-1zm0-1zm2 0zm2 5zm-4 1zm-5 5zm-8-7zm-1-2zm-3-2zm-1 1zm-2-1zm-2-3zm0-5zm-1-2zm6 1zm5 7zm6-5zm-5-10zm-4-2zm-1-1zm-1-2zm-3-4zm2-1zm-5 5zm-2-4zm-9-1zm-2 5zm-3 2zm1 1zm1 3zm2 1zm2-4zm-7 3zm0 7zm8 1zm-1 12zm2 0zm4-1zm4 1zm1 5zm3-1zm-2 8zm-2 7zm1 2zm0 1zm-1 3zm2 0zm-7 0zm1-6zm-3-1zm-2 0zm-3-10zm1-2zm-1-3zm6 2zm-26-8zm-9-7zm0-12zm-4 0zm5-4zm3-2zm0-5zm-2-1zm3-5zm3-3zm3 1zm0-2zm2-3zm6-3zm-1-2zm7 4zm0 3zm4 0zm4 2zm0-8zm4-3zm3 5zm2 2zm0 6zm0 1zm5-2zm-21 4zm-3-1zm-1 4zm-3 1zm-2-5zm0-2zm4-3zm6-12zm2 0zm-19 33zm-5 0zm-17 14zm-10 50zm-1 3zm4 1zm-2 7zm-3 5zm-2 0zm8 3zm1-1zm5 3zm-4 5zm0 3zm-5-4zm-4 4zm-1 2zm8 6zm2-1zm3 3zm4-2zm5-3zm-1-2zm-3 11zm-1 4zm1 2zm4-2zm-9 0zm-6-2zm-2 1zm-1-1zm4-2zm-7 9zm8 9zm-1 2zm1 2zm2-2zm1-2zm1 0zm2 2zm-1-6zm9-1zm1 2zm2 7zm5 0zm1-1zm3 8zm-1 1zm-5 0zm-4 2zm14-4zm5 7zm1 0zm4-10zm0-2zm7 15zm-3-32zm2-7zm-2-2zm0-7zm-12 5zm1 4zm18 2zm17-19zm0-2zm0-1zm5 0zm3-4zm-9-2zm0-2zm-39 3zm-3 5zm-6-2zm-5-3zm5-6zm396-172zm10-7zm15 4zm3 5zm8 5zm3-2zm4-1zm1-1zm0-1zm3-4zm-7 1zm-1-1zm-3-1zm4-5zm-1-6zm-5 2zm-1-3zm2-3zm-4-1zm-6 4zm12-15zm7-3zm1 4zm3 2zm2 1zm-1-10zm-3-4zm-1-2zm-9-5zm-1 0zm-10 0zm2-9zm5-7zm0-1zm0-8zm0-1zm-2-7zm-7 5zm-4-4zm-1 0zm-3-2zm-2 0zm4 7zm8 5zm-8 13zm37 19zm7 0zm3 2zm3-5zm0-2zm-2-5zm-2-3zm-2 2zm10-4zm3 3zm2 0zm-1 2zm4 2zm6 5zm6 5zm5-3zm4 0zm1 5zm-1 2zm0 2zm-4-3zm-7 4zm-2 2zm-1 0zm-2 2zm3 3zm2 0zm7 1zm1 3zm3-2zm3-5zm2-2zm6 3zm7-1zm-4 8zm0 4zm-4 3zm0 3zm-2 0zm-1 1zm1 5zm4 2zm1 3zm-2 2zm2 1zm-1 1zm0 3zm4-4zm4-4zm1 1zm0-4zm-8-8zm-6-5zm-6 2zm-7-1zm1 6zm2 4zm1 3zm2 0zm-3 3zm2 3zm2 1zm2 1zm1-3zm-1-2zm-8 7zm1 4zm1 3zm2 4zm-1 3zm2 2zm1-1zm-1 4zm4 4zm2 2zm1 2zm1-5zm-1-1zm5 0zm4-4zm2 0zm-3-2zm1-4zm-6 1zm-1 2zm-2-2zm-5-8zm-12 4zm-3 2zm-5 1zm-3 0zm2-3zm1-5zm1-4zm-1-2zm2-1zm5 0zm-1 8zm-12 0zm0-1zm-5 0zm-1-1zm-4-4zm-1-2zm-2-2zm-1-3zm2-1zm1-5zm0-2zm4 3zm3-2zm1-2zm0-3zm1-4zm3 0zm3 1zm-2 3zm6 6zm3-1zm0-1zm2-1zm0 4zm-3-10zm1-1zm-7-9zm-5 1zm-1 3zm-6 5zm-5 2zm-2 0zm-3-2zm2-2zm-1-4zm1-2zm1-3zm5 1zm-3 5zm-8 1zm0 5zm-1 0zm-3 3zm-1-6zm1 20zm0 3zm2 0zm1 0zm0-2zm3 10zm-4 3zm-1 3zm2 0zm-5 2zm-4 0zm4 6zm-2 4zm-3 0zm8 4zm2 5zm8 6zm3 0zm0-6zm6-3zm2 0zm-2-6zm-2-2zm1-2zm1 1zm0-3zm-4 1zm-2 1zm0-3zm-5 1zm-3 4zm6 2zm12-3zm4-1zm2 0zm0-1zm5 2zm-1 3zm5 0zm0-2zm3-1zm0 2zm0 1zm0 3zm-5 2zm2 3zm2 1zm-1 2zm4 0zm0-2zm7-2zm10 1zm-27 3zm-2-1zm-3 0zm2-3zm0-2zm-2-3zm-2-1zm-3-14zm-1-1zm-1 0zm-3 3zm0-15zm2-3zm-26 11zm-3-4zm-2 0zm0 1zm1-3zm-4 4zm1 3zm0 2zm-1 3zm-1 5zm-4-12zm-1 0zm-5-3zm33 43zm9 0zm3-81zm11-6zm1 1zm2-18zm1-6zm2 0zm3 0zm4 1zm-1 8zm-7-12zm-2 0zm3-2zm-1-1zm-1-2zm-2-5zm-3-1zm-4 3zm1 6zm-9-1zm17-11zm6-9zm-7-7zm0-1zm0-2zm1-1zm4-2zm1-1zm0-3zm1-3zm2-5zm4 4zm0 2zm2 1zm3-10zm5-9zm-3-6zm-3-1zm-5-2zm-2 5zm-2-10zm3-5zm-2-3zm7 3zm6 0zm0-1zm4 5zm5-4zm1-2zm1-4zm1 0zm2-1zm2 0zm0-1zm3-4zm-5-4zm-4 3zm-4-3zm-2 1zm-2 4zm-5-3zm-3 1zm-3-2zm4-2zm3-5zm3-3zm5-3zm2 1zm-1 3zm2 2zm11 3zm5 3zm3 3zm4 2zm0 1zm3-4zm-4-4zm9 8zm-2 6zm-5 1zm-3 0zm-2 3zm-6-3zm-3 3zm-6 4zm-17-13zm-10-5zm2-8zm4-2zm-2-3zm2-3zm3 0zm-2-6zm3-5zm3 1zm0 5zm5 1zm-14-9zm-3 2zm0 2zm1 0zm-2 3zm-1-5zm-1-1zm2-2zm-5-5zm-7 2zm-1-3zm1-3zm-2-2zm-2-3zm3-5zm-1-2zm0-2zm-5 2zm-3 3zm3 13zm-5 1zm-1 1zm10 5zm3 3zm6 5zm7 4zm-3 6zm-17-8zm21-22zm1-1zm4-2zm2-2zm4 1zm2-3zm2 0zm-2-5zm1-2zm-2-1zm-4 0zm-2-2zm-5-1zm-1-2zm-4 0zm0 2zm1 4zm-8-1zm0-1zm-1-2zm-1-4zm1-2zm-3 1zm-6 0zm-1-4zm14-4zm4-3zm5 1zm2 6zm3-2zm2-2zm2 0zm2 0zm1 4zm0 2zm-2 6zm5 3zm3-5zm-9-15zm-4-1zm-7 11zm-9 119zm17 38zm4 22zm6 1zm-1 3z" stroke="#cbcbcb" stroke-width="6.25" stroke-linecap="round" fill="none"/>
<path transform="scale(0.2)" d="M206 2845zm27-3zm23 2zm-10 58zm126-34zm54-55zm-95-19zm-33-25zm12-21zm10 3zm-1-18zm-29 3zm-5-4zm-7 6zm333-67zm7 3zm6-17zm-18-18zm47 47zm-1 17zm-6 0zm-7 14zm-13-2zm-8-3zm18 20zm-3 4zm-2 3zm20 5zm14 17zm1 1zm-5 2zm0 2zm40-35zm5 1zm-24-18zm-1 0zm-6-10zm-2-5zm-1-8zm10 3zm1 3zm1-9zm22-107zm1 0zm-19-84zm0-1z" stroke="#98a2d4" stroke-width="5.75" stroke-linecap="round" fill="none"/>
<path transform="scale(0.2)" d="M199 2865zm83-36zm25-65zm5-18zm14-1zm-16-17zm-18 19zm-10-11zm296-17zm12-6zm3 0zm5 9zm5-6zm4-11zm2-14zm-14 6zm16-23zm2-10zm-9 1zm3-16zm2-3zm49 57zm5 33zm3 17zm1 14zm5 2zm-39-10zm-13-20zm-5-17zm-19 19zm95-10zm1-113z" stroke="#7282d6" stroke-width="5.75" stroke-linecap="round" fill="none"/>
<path transform="scale(0.2)" d="M577 2707zm10 4zm3 14zm0 4zm6-1zm0 2zm4 3zm4 4zm4-9zm-3-1zm-5-1zm-2-2zm1-2zm9-7zm3 3zm3-6zm1 0zm6 8zm-15-16zm0-3zm-8-1zm4-8zm5 0zm-22 3zm33-30zm2-11zm0-7zm-4 1z" stroke="#4159d7" stroke-width="5.75" stroke-linecap="round" fill="none"/>
<path transform="scale(0.2)" d="M579 2716zm3 1zm2-1zm2 1zm6 3zm5 0zm0 6zm-3 6zm-4-3zm-7-4zm1-15zm0-6zm-4-6zm13-6zm3 1zm-1 2zm10 1zm3 6zm1 0zm-4 2zm-1 0zm4 3zm3 2zm4 9zm-4 5zm-6-6zm-2 3zm-3-10zm-9 1zm10 26zm-10 2z" stroke="#1030d8" stroke-width="5.75" stroke-linecap="round" fill="none"/>
<path d="M190.40,494.00V595.90H321.30" fill="none" stroke="#6a6a6a" stroke-width="0.7"/>
<text x="186.20" y="510.80" font-size="9.5" text-anchor="middle" fill="#111" stroke="#111" stroke-width="0.22" transform="rotate(-90 186.20 510.80)">UMAP2</text>
<text x="326.40" y="605.70" font-size="9.7" text-anchor="end" fill="#111" stroke="#111" stroke-width="0.22">UMAP1</text>
<text x="259.80" y="504.20" font-size="12" text-anchor="middle" font-style="italic" fill="#111" stroke="#111" stroke-width="0.22">Ankrd1</text>
<rect x="328.80" y="494.00" width="5.90" height="102.20" fill="url(#gb)" stroke="#777" stroke-width="0.3"/>
<line x1="334.70" y1="595.60" x2="336.20" y2="595.60" stroke="#444" stroke-width="0.5"/>
<text x="338.80" y="598.50" font-size="10.2" fill="#111" stroke="#111" stroke-width="0.22">0</text>
<line x1="334.70" y1="569.90" x2="336.20" y2="569.90" stroke="#444" stroke-width="0.5"/>
<text x="338.80" y="573.40" font-size="10.2" fill="#111" stroke="#111" stroke-width="0.22">1</text>
<line x1="334.70" y1="544.20" x2="336.20" y2="544.20" stroke="#444" stroke-width="0.5"/>
<text x="338.80" y="547.70" font-size="10.2" fill="#111" stroke="#111" stroke-width="0.22">2</text>
<line x1="334.70" y1="518.50" x2="336.20" y2="518.50" stroke="#444" stroke-width="0.5"/>
<text x="338.80" y="522.00" font-size="10.2" fill="#111" stroke="#111" stroke-width="0.22">3</text>
<path transform="scale(0.2)" d="M980 2584zm3 1zm5 0zm2 2zm4 4zm0 2zm0 2zm2-4zm0-6zm1-4zm4 1zm1 2zm4 3zm-1 1zm2 3zm4 2zm2-10zm4 1zm2-5zm0-5zm2 0zm-6-1zm-2-1zm-2 2zm-2 4zm-1 0zm-4 1zm0-2zm-2-1zm-1 3zm-5-5zm1-3zm1 0zm3 0zm-7-3zm-3 1zm-3 2zm3-6zm1 0zm4 0zm1-1zm0-7zm0-2zm-2-2zm2-3zm0-3zm-4 0zm7 3zm3 7zm0 3zm3 3zm2 0zm4 0zm0 1zm1 1zm1-2zm-1-2zm2 0zm2 3zm0 3zm-3 2zm7-4zm4-2zm-2-5zm4-1zm1 0zm1 0zm-3-2zm0-2zm2-3zm-3-3zm-3-3zm-5 1zm-1-2zm-3 1zm-1 1zm0 2zm-3 5zm-1-10zm-4 1zm-3-3zm-1-2zm0-3zm0-2zm2-1zm2-1zm1 2zm-1 3zm3 1zm2 1zm3 1zm4-3zm2 0zm0-2zm-3-2zm-1-4zm-2-3zm-2 3zm1 2zm-8-1zm-2 0zm-3 1zm-4-1zm-3-1zm-4 4zm1 2zm1 1zm7-1zm3 8zm-8 15zm-5 2zm2 3zm-2 2zm-3 1zm-1-4zm-1 12zm40-22zm2-13zm6-3zm-2-4zm-2-1zm-2-1zm4-1zm4-1zm0 2zm3-4zm1-2zm-3-3zm3-2zm-7 0zm-2 4zm-5-4zm3-3zm2-2zm-3-4zm-4 1zm-3-1zm-1-3zm6-1zm4-1zm0-1zm7 7zm-14 5zm-10-7zm-3 6zm-3 0zm2 4zm-5 4zm-2-4zm-1-2zm-1 0zm-3 4zm42 17zm2-2zm1 1zm-4 8zm-5 29zm28-3zm2 0zm0 1zm2 5zm1 5zm-5-1zm9-9zm-8-6zm88 86zm2 4zm2 0zm0-1zm3-1zm1-1zm2-1zm-3-1zm-1 1zm-2-2zm3-1zm6 1zm-10 9zm-4 0zm0 1zm-1 1zm0 1zm2 0zm-5 0zm-4 6zm1 7zm5 52zm-5 3zm4 9zm-3 3zm1 2zm2 3zm2-3zm7-2zm4 2zm1 0zm0-2zm4 3zm1 0zm3 0zm3 0zm1 1zm-3-6zm0-5zm-5-1zm-1 3zm1 1zm-7-4zm-3 2zm0 1zm-3-1zm4-6zm0-2zm-1-1zm5 4zm2 16zm1 6zm4-1zm2 2zm2 1zm-2 7zm-10 8zm-5-5zm-4-2zm0-4zm3-3zm-7-2zm-2 3zm-2 6zm-5 5zm-2 1zm-4 6zm-11 0zm-3 3zm-3 0zm1-6zm3-2zm-5-4zm5-5zm-1-3zm0-3zm2-2zm6-6zm-1-1zm-2-6zm2-1zm3 1zm2 1zm1 3zm2 3zm3-4zm2-2zm4-1zm-2 8zm0 2zm-3 4zm-2 0zm-6 2zm0-19zm1 0zm2-3zm1-1zm-4 0zm28 16zm-7 20zm-1 0zm-2 0zm-1 1zm2 2zm-1 7zm3 0zm3 10zm4 0zm3 0zm8 5zm2-2zm8 3zm-11 10zm-2 10zm6 13zm8 3zm8-8zm3-10zm5-6zm-6-2zm10-4zm16-26zm9-2zm15 29zm5 24zm-2 1zm1 4zm-2 2zm-1 0zm0 2zm-3 0zm-4-2zm-2 2zm-2 2zm-2 4zm-2-1zm-1 0zm0 1zm-2 0zm0 1zm-4 0zm-2 2zm2 2zm2 0zm4 0zm1 2zm2 0zm3-1zm0-2zm0-1zm-1-1zm0 2zm-3-1zm5-2zm3-2zm-1 6zm3 3zm1 1zm2-1zm-4 4zm-1 0zm-2 1zm-1 0zm-1 0zm-3 1zm-1-1zm-4-3zm0-1zm-4 2zm-5-4zm-5 7zm2 3zm0 3zm-1 1zm1 3zm2-1zm-6 1zm0 3zm-2-8zm1-2zm-3-3zm1-2zm-4-2zm-3-1zm0 6zm-2 0zm5 1zm-1 6zm-5 7zm-1 2zm1 1zm3 0zm4 3zm-3 2zm0 1zm0 1zm0 1zm-1 0zm1 1zm1 0zm1 0zm2-1zm6-1zm3-3zm9-8zm4-6zm-2-1zm-1-2zm13 0zm13-19zm-3-3zm7-6zm0-2zm4-2zm3 0zm0-2zm3 1zm-2-5zm-2 0zm-1 1zm-1 0zm2-3zm3-3zm6 6zm9-9zm3 0zm1-2zm0-2zm7 0zm2 1zm4-3zm1 0zm-1-5zm3 0zm2 1zm2 0zm3-3zm3-4zm2 0zm-18 7zm-25-19zm-14 40zm-2 1zm8 6zm-3 3zm-26-3zm-10 4zm-5 1zm-7 8zm-8-13zm-12 22zm4 5zm-7 6zm1 4zm2 0zm-1 5zm-1 3zm-5 1zm-3 3zm1 2zm-3 1zm3 3zm3 4zm2 0zm3 0zm2 3zm0 3zm-1 2zm5-1zm3-2zm3 1zm2 1zm1-4zm-1-5zm-5 0zm-6-3zm-2 1zm-1 0zm-11 5zm0 2zm-1 2zm5 1zm2 3zm-1 5zm-1 1zm-4 3zm-2 1zm-4-1zm-2 3zm-2-2zm0-2zm-3 3zm-5-2zm-2-1zm-3-2zm-3 1zm-2 1zm1 2zm2 1zm-3 1zm-1 0zm-1 4zm-4-1zm0-3zm0-4zm1 0zm2-1zm-4 0zm0-3zm1-3zm0-2zm2 0zm0 3zm3-2zm2 2zm5-1zm6 4zm7-4zm2-1zm4 1zm1 0zm1 2zm0 1zm-2 1zm-2-1zm1 10zm6-2zm3 1zm1 0zm0 2zm-1 1zm-2 0zm5 4zm-7 4zm-1 4zm-2-1zm-2 2zm2 3zm-2 1zm4 4zm-6 8zm-6 1zm-2 2zm-2 2zm2 3zm-1 1zm-7 1zm1-6zm-2-2zm5 0zm0-3zm6-1zm-1-3zm-1-2zm-1 0zm3-5zm-1-2zm0-1zm-1-5zm-2-3zm-5 0zm1-3zm1-2zm2-2zm-3-1zm-2 0zm-3 2zm-1 3zm-3 1zm-2 0zm-1 4zm-1 2zm-3 3zm0 2zm-4-2zm-1 1zm-3-3zm1-4zm2 1zm3 0zm2-5zm-1-1zm0-2zm-4-5zm-3-2zm2-2zm0-2zm-1-2zm-4 0zm0-1zm-1-1zm-1-2zm-1-3zm0-3zm1-2zm0-1zm6 0zm5-4zm-2-2zm-4-5zm-5 2zm-2-3zm-1-2zm-5 0zm-2 1zm1 2zm-3-4zm-4 4zm-3-3zm-4-1zm-5 1zm-1-1zm-3 0zm-1 1zm3 2zm0 1zm-1 3zm4 3zm0 2zm-3 2zm-1 2zm-3 1zm-6 2zm4 5zm1 1zm-1 2zm4 5zm1 1zm1 0zm-3 2zm-1 1zm-1-2zm4 3zm3 3zm-2 2zm-2 3zm-1 0zm0 3zm3 2zm1 3zm-3 1zm-1 3zm4 3zm-1 2zm-2 0zm0 2zm1 1zm0 1zm8 0zm4-2zm4 2zm-3 3zm-7 3zm0 7zm-3 1zm-3 1zm-2-3zm-3 5zm0 3zm3-1zm4 3zm-1 2zm-5 0zm-5-6zm-3 5zm-4-2zm-2-1zm1-1zm2-4zm2-4zm4-1zm-4-4zm-3-4zm-5 2zm-3-1zm-2 4zm-1 1zm3 2zm2-3zm3 5zm-3 3zm-3 1zm0 2zm-1 1zm-1 1zm4 1zm-2 5zm-5-2zm-7-1zm-7-4zm-1-2zm-3 4zm-2-3zm-2 0zm-4 2zm2-10zm-1-5zm-2-4zm-4-8zm3-1zm1-1zm-5-3zm-1-6zm8 1zm1-5zm2-4zm4-3zm-2-3zm3-1zm-5-2zm-5-3zm0 8zm-10-4zm-2 4zm-7 0zm-3 4zm5 2zm2 6zm-1 6zm-1 1zm1 1zm-1 3zm-2-2zm-4 6zm13-5zm0 10zm-1 4zm-2 2zm4 0zm18 1zm5 2zm1 0zm2-4zm-4-2zm1-4zm-3-2zm3-4zm0-1zm-2-7zm-1 0zm-5 2zm11-2zm0-4zm1-6zm3-6zm2-2zm2 0zm1-1zm1 3zm3 0zm0-1zm1-2zm3 3zm5 1zm2 0zm1-1zm4-4zm-1-3zm-1 0zm0-1zm-3-2zm-1 3zm-3-2zm-4 0zm5-4zm-6-9zm-2 0zm1-5zm3-5zm0-2zm-2-1zm6 4zm4-1zm3 2zm1-3zm0-3zm4 1zm-2-6zm-2-2zm-2-3zm1-1zm-2-2zm-5-3zm-1 2zm-2 0zm0 4zm3 3zm1 0zm2 1zm11-6zm0-1zm1-1zm2-2zm2 0zm0-1zm-1-1zm3-1zm1 4zm6 0zm0 4zm5 0zm3 4zm6-4zm1 2zm2 3zm3-4zm6 4zm0 2zm5-1zm-1-4zm2-4zm1-2zm1 1zm2 1zm-2-4zm-6-3zm-3-7zm-2-3zm-3 2zm-4 4zm-3 2zm-5 2zm2-8zm3-4zm-2-3zm-4-1zm1-2zm5-2zm-1-2zm2-1zm1 0zm1-4zm5 4zm1 4zm-3 5zm11 5zm1 1zm3 2zm6-1zm2 1zm0 7zm-1 2zm3 0zm3 0zm4 1zm3-2zm-3-2zm-2-4zm6 2zm2-1zm4-1zm-2-3zm-3-7zm-8 0zm-5-5zm-3-1zm-2 0zm-1-1zm-3 0zm0 3zm-3-12zm-2-1zm-16-2zm-3 2zm-3 2zm-2-2zm-3 5zm-7-3zm-1-4zm-4 0zm-4-2zm-2-1zm-1-2zm-4-2zm-1 1zm2-3zm-2-2zm1-4zm0-3zm0-1zm-1 1zm2-3zm-5-1zm1-5zm-3-5zm-4 3zm-4-5zm-2 0zm-5-1zm-4 5zm1 2zm3 2zm4 0zm3 3zm-3 7zm-3 3zm-3 1zm-2-5zm-2 0zm1-3zm-3-5zm0-8zm-2 0zm6-8zm-12 23zm-2 6zm-2-1zm2 6zm-2 2zm-2 4zm-3 0zm2 6zm-4 1zm-4-4zm1 10zm8-1zm1 2zm2 0zm1 0zm0 3zm5 2zm5-2zm1 2zm3-1zm-1 4zm2 6zm-3 1zm1 2zm-4-3zm-6 1zm-5 3zm1 3zm0 4zm5-3zm1 2zm3-2zm5 0zm-3 6zm2 5zm1 4zm1 0zm1-1zm3 0zm3-4zm0-5zm-1-4zm-2-6zm6 1zm2-2zm1-2zm4-1zm-3-5zm6-1zm2-1zm3 1zm2-3zm2 0zm0 1zm4 1zm2-2zm3 3zm-1 2zm4-3zm-1-2zm3 0zm4 1zm2-1zm-1 5zm2 0zm-4 1zm-4 5zm-13 3zm-3 2zm-2-7zm4 0zm0-1zm1-13zm-2-3zm2-1zm0-2zm-5 1zm0 2zm-2 2zm0 1zm4-12zm5 0zm4-5zm3-6zm2-1zm-1-2zm-3-2zm0-5zm9 5zm-2 4zm8 1zm1-7zm8-3zm6-3zm-6-6zm10-4zm5 4zm-1 10zm18-1zm2 19zm20 28zm0 4zm-1 0zm-1 2zm-3 4zm0 3zm3-1zm3 1zm4 1zm0 2zm5 7zm8 2zm7 5zm-1 21zm1 1zm-3 2zm-2 4zm-4-2zm-3 1zm0 3zm-14 12zm-6 3zm-1-7zm-10 10zm-2 1zm-1-2zm-4-1zm0 7zm9-2zm-8 12zm-1 1zm-3 2zm1 2zm-2-4zm-1 0zm-3 3zm-3-4zm-2-1zm-1-3zm3-1zm3 0zm-6 9zm-3 2zm-1-1zm-4 3zm-5 7zm-1 1zm2 2zm-9-1zm-4 2zm-4-2zm4-4zm5-5zm9-10zm5 0zm-4-6zm-1 0zm2-4zm1-1zm-2-2zm-2-1zm-3 2zm-1 0zm1 2zm-2 3zm-1 1zm3-11zm2-1zm0-1zm2 1zm1-2zm3 0zm2 2zm4-2zm-3-5zm0-2zm-4-4zm-2 3zm-4 0zm5 4zm-8 6zm-7-5zm-2-1zm-1 1zm2-5zm-4-5zm2-3zm8-3zm1 0zm0 2zm4-4zm1 0zm1-1zm0 4zm-2-8zm-2-9zm-5 3zm-3 4zm-6-5zm0-1zm-2 7zm-4 10zm-10 14zm-3 1zm3 7zm4 2zm-7 3zm-4 2zm-2 5zm7 2zm3-2zm12-5zm0-3zm4 1zm2-5zm1 0zm-2-1zm-3-2zm-4 0zm-28 6zm-2-2zm-1-6zm-3 0zm-1-5zm-7-9zm-4-3zm7-1zm2-7zm-2-14zm-1-1zm-7-4zm1-3zm-3 7zm-4-1zm-2 7zm2 1zm1 0zm-4 1zm-7 5zm-8-2zm1-8zm4 0zm0-1zm-4-4zm-1 0zm-9 1zm0-3zm-5-8zm10-8zm4-7zm-1-2zm-1-1zm1-5zm8-2zm2 0zm1 6zm-3 3zm-1 0zm-2 12zm9 3zm9-1zm-1-31zm-3-2zm7 1zm1 1zm2-1zm-2-6zm-3-2zm0-4zm-1-4zm-2 1zm8-3zm-1-6zm11 6zm4 2zm3 3zm-5 3zm-2 0zm0 7zm5-18zm1-4zm7 7zm21 17zm0 2zm-2 2zm-3 31zm0 3zm29-16zm17 13zm4-1zm2 2zm1 0zm3 1zm0 1zm-2 2zm1 2zm-3 2zm-2 2zm-1 0zm0-5zm-2-1zm-3 1zm9 8zm2 2zm-1 3zm0 1zm-3 4zm0 2zm0 2zm-3-3zm-2-1zm1-3zm2-4zm2-1zm9 0zm4 2zm1-2zm2-4zm-6-2zm0-5zm-1-2zm3-3zm1-2zm5 0zm5 4zm1-1zm2 5zm-2 2zm-2 0zm6 1zm-1 3zm-4 9zm-1 2zm-4 3zm0 1zm1-8zm-12-22zm-4 0zm-9 32zm-2 3zm-1 0zm-3-3zm2 54zm9 2zm1 3zm-2 1zm-32 8zm-44-10zm-1 0zm-3-1zm1-2zm-1-7zm0-7zm5-3zm-7-3zm-12-14zm-26-14zm-2 1zm-7-3zm2-3zm3-2zm-2-4zm0-4zm1-3zm411-169zm6-6zm1 1zm-2-4zm0-3zm-5-4zm-2 3zm1 4zm13-2zm7 3zm-1 3zm0 8zm3 3zm6 5zm-5 3zm1 11zm0 1zm-11-3zm25-3zm4 3zm-2 3zm8-4zm3-1zm2-1zm0-2zm4 1zm2-3zm2-3zm4 3zm8-2zm-1-3zm3-6zm1-2zm4 3zm3-2zm1 0zm-1-4zm0-1zm1-4zm2 0zm0-2zm2 2zm2 1zm-2 3zm6-6zm3 2zm3-1zm4 4zm2-2zm3-1zm-1-4zm-1 0zm3-2zm5 5zm4 8zm-1 1zm5-2zm0 6zm-1 3zm2 3zm-1 1zm0 1zm0 1zm0 1zm-2-2zm-4-3zm-3 1zm-1 2zm-1 2zm-2-1zm-2-3zm0-3zm2 0zm-2-3zm3-3zm-6-1zm-3-3zm-3 6zm-4-1zm-2 7zm2 4zm-2 1zm-1 0zm0 2zm0 1zm1 3zm-6 0zm-2-3zm-4 1zm0 1zm-1 0zm1 1zm-2-3zm-2 0zm0-2zm3-2zm4 12zm2 1zm3 2zm4 0zm-1 6zm-1 1zm-2 0zm0-1zm-4 2zm-3 0zm-2-1zm-1 2zm-2-3zm-1 1zm-2 0zm-3-2zm-3 4zm5 2zm3-7zm4-4zm-14-1zm-2 0zm-4 2zm-5 0zm-3 5zm-4-2zm-2 1zm3-6zm0-3zm4-4zm3 1zm-7-8zm0-3zm-4-2zm1-6zm4 1zm0 1zm4 3zm0 1zm3-5zm6 0zm-1-5zm3-5zm3-1zm2-2zm1-3zm-2-1zm0-2zm1 0zm-3-4zm0-4zm-7 3zm-4 1zm-2-2zm1-2zm-8-1zm-4-3zm0-6zm2-8zm1 0zm-1-6zm-5 2zm0 1zm-6 0zm4-6zm2-3zm1 1zm-7-4zm-6 6zm-2-10zm2-8zm2-1zm0-2zm-1-2zm-3 1zm0-3zm-3 0zm6-4zm7 1zm5 4zm1 8zm0 2zm-10-5zm0-3zm24 36zm1 2zm4-2zm-2 6zm15 1zm1-3zm3-2zm0-2zm2 4zm5-9zm0-2zm1 0zm2 1zm-7-4zm-8 2zm-1 2zm8-13zm8-5zm4-3zm3 3zm2 3zm2 2zm-1 3zm-2 0zm-3-2zm-3 0zm10 5zm3 0zm3 1zm-1 8zm6 3zm-4 5zm-1 2zm1 4zm4-1zm0 2zm-1 2zm5 3zm7 3zm7-1zm-7-10zm-2-3zm-1-2zm-1 1zm6 1zm-22 2zm-7 2zm-1 2zm-1 1zm3 4zm2 0zm1-2zm-4 4zm2 4zm-4 1zm-2-3zm-5 1zm-1 0zm-1 3zm-3 2zm0-7zm2-3zm4-3zm-10 6zm-2 2zm-2 10zm-1 0zm-18-8zm-5 5zm2 4zm-2 1zm1 1zm-3 0zm-3-6zm1-4zm-4-1zm-1 3zm0 4zm-4-3zm1-4zm-3 0zm-3-3zm1-11zm-10 3zm-3-1zm-2 4zm-10-2zm27 23zm2 3zm1 1zm1 4zm29 14zm-10 18zm-1 1zm-3 4zm1 3zm4-1zm5-2zm1 4zm7-1zm1 7zm4 0zm2-5zm4-4zm2 0zm1 0zm-1 2zm1 2zm0 1zm-1 3zm-2 0zm-3 7zm-8 0zm18-12zm1 1zm2-4zm0-1zm-1-3zm-2-1zm4 0zm4-4zm3 1zm3-1zm0 2zm5-5zm2 0zm-2-2zm0-5zm-1-2zm-6 1zm-2-2zm0-2zm6-4zm-5-4zm3-6zm11 8zm13-2zm1 0zm1-2zm2-2zm1 1zm5-5zm-9 11zm-2 12zm-1 4zm2 2zm1 0zm-2 2zm-4 2zm-4 4zm-1 0zm0 2zm2 2zm-6 0zm0-5zm0-1zm7-9zm0-2zm-15 21zm-3-2zm-4-4zm-3 6zm1-85zm1-9zm16-11zm-16-12zm7-9zm2 0zm0 1zm-8-5zm-1-3zm0-1zm-1-2zm1-1zm5-3zm-5-3zm6-3zm2-5zm-3-2zm1-6zm8-2zm-4-6zm2-5zm4 2zm2 2zm8-10zm-1-5zm6 1zm1-6zm2 0zm3-1zm1 0zm4 1zm2 3zm1 0zm-5 3zm8 4zm4-7zm3 0zm-1-7zm-1-1zm-4-2zm2-4zm6 3zm4 4zm-20-2zm0-7zm-4-3zm-6 0zm-2-2zm0-2zm0-1zm-1-1zm-1 0zm-5 3zm-2 3zm2 5zm4-1zm1 2zm5 3zm1-4zm2 1zm-11 5zm-4 5zm-5 0zm1 6zm-8-3zm2-7zm-3-1zm9-2zm2-1zm-9-8zm-4-7zm3-7zm1-3zm1 0zm1-4zm-5 1zm6-7zm-2-6zm4-2zm2-2zm4 1zm0 3zm0 6zm-2 3zm-2 2zm1 3zm-3 5zm3 6zm4-5zm4 1zm0-27zm3 0zm0-6zm-2-3zm-4 1zm0 3zm-2 0zm-3-3zm-4 5zm-6-4zm-1-6zm4 0zm1 1zm5-3zm-4-5zm-3 1zm-5-1zm1-3zm0-4zm8-3zm2 0zm2 6zm5 4zm4-3zm1 8zm-2 1zm-26 6zm-2-3zm-2-4zm0-1zm-6 0zm-1-4zm-2 7zm4 5zm-1 1zm5 1zm0 2zm1 2zm-4 5zm-1 4zm4-1zm1 2zm-1 3zm5-3zm2 0zm-8 11zm2 3zm-7 7zm-6-15zm2-1zm1-14zm23 67zm0 1zm10 21zm0 1zm0 3zm-6-2zm0 6zm1 2zm2 1z" stroke="#cbcbcb" stroke-width="6.25" stroke-linecap="round" fill="none"/>
<path transform="scale(0.2)" d="M1045 2843zm11-11zm68 9zm58 27zm-10 26zm51-51zm6-12zm-63-43zm-13-42zm7-14zm-66 171zm-41 55zm431-231zm5-8zm5 14zm9 11zm12-24zm-1-8zm-15-6zm-27-15zm-21-20zm1-22zm68-7zm26-57zm-27-33zm17 160zm5 24z" stroke="#98a2d4" stroke-width="5.75" stroke-linecap="round" fill="none"/>
<path transform="scale(0.2)" d="M1046 2848zm92 18zm9-3zm22 17zm-88 56zm351-192zm4-11zm11 3zm4-10zm-6-9zm-1-1zm-3-6zm-9 1zm1 6zm67 12zm9-15zm30 1zm-2 43zm-30-79zm12-49zm7-130z" stroke="#7282d6" stroke-width="5.75" stroke-linecap="round" fill="none"/>
<path transform="scale(0.2)" d="M1418 2704zm1 3zm0 3zm8 1zm7 2zm3-10zm-1-6zm-1-1zm11 5zm7 2zm-5-10zm-9 33zm-2 2zm3 5z" stroke="#4159d7" stroke-width="5.75" stroke-linecap="round" fill="none"/>
<path transform="scale(0.2)" d="M1421 2698zm6-7zm6 1zm2 3zm-5 8zm16 1zm1 1zm2-2zm-2-11zm9 20zm5 7zm-12 17zm-5-1zm-2 2zm-6 4zm-2-10zm-3-2zm8-7z" stroke="#1030d8" stroke-width="5.75" stroke-linecap="round" fill="none"/>
<path d="M357.90,494.00V595.90H488.80" fill="none" stroke="#6a6a6a" stroke-width="0.7"/>
<text x="353.70" y="510.80" font-size="9.5" text-anchor="middle" fill="#111" stroke="#111" stroke-width="0.22" transform="rotate(-90 353.70 510.80)">UMAP2</text>
<text x="491.90" y="605.70" font-size="9.7" text-anchor="end" fill="#111" stroke="#111" stroke-width="0.22">UMAP1</text>
<text x="428.70" y="504.20" font-size="12" text-anchor="middle" font-style="italic" fill="#111" stroke="#111" stroke-width="0.22">St6galnac5</text>
<rect x="496.90" y="494.00" width="5.90" height="102.20" fill="url(#gb)" stroke="#777" stroke-width="0.3"/>
<line x1="502.80" y1="595.60" x2="504.30" y2="595.60" stroke="#444" stroke-width="0.5"/>
<text x="506.90" y="598.50" font-size="10.2" fill="#111" stroke="#111" stroke-width="0.22">0</text>
<line x1="502.80" y1="557.70" x2="504.30" y2="557.70" stroke="#444" stroke-width="0.5"/>
<text x="506.90" y="561.20" font-size="10.2" fill="#111" stroke="#111" stroke-width="0.22">1</text>
<line x1="502.80" y1="519.80" x2="504.30" y2="519.80" stroke="#444" stroke-width="0.5"/>
<text x="506.90" y="523.30" font-size="10.2" fill="#111" stroke="#111" stroke-width="0.22">2</text>
<path transform="scale(0.2)" d="M1818 2584zm2-1zm0 2zm6 0zm2 2zm4 4zm-1 2zm1 2zm1 0zm7 2zm0-5zm4-1zm-1-3zm1-1zm-4-3zm-2-2zm0-2zm0-1zm1-3zm2 1zm4 1zm1 0zm4-6zm2 1zm-1-4zm3-2zm0-3zm-1-3zm-1 0zm-2 0zm-1 2zm1 2zm-5-2zm-5-3zm0-3zm1-3zm0-5zm-6 1zm-1-3zm-3 0zm-1-4zm-4 0zm0-8zm0-2zm1-4zm0-1zm4 1zm2-3zm2 3zm3-2zm2 4zm0 1zm2-1zm0 2zm-1 3zm-3-1zm-1-2zm-4 1zm4 4zm1 2zm-2 0zm7 1zm2-4zm2 1zm3 1zm1-2zm2-1zm2 0zm0-2zm5 1zm3 0zm4 0zm2 1zm2 3zm4-3zm0-3zm-4-2zm-2-2zm-4-1zm-1 3zm-2-1zm-2-1zm4-7zm2-4zm3-2zm1-1zm-1-3zm1-2zm-6 3zm-4-4zm-3 1zm-1 0zm-2-1zm-1-3zm4-1zm1 0zm5-1zm0-1zm-8 12zm-5 10zm-2 3zm0 2zm-6-12zm-2-4zm-6 4zm-2-2zm-3 4zm16-12zm26 11zm1 4zm-1 2zm4-5zm-4 24zm-3 4zm-5-1zm-4 4zm-7-1zm-3-3zm0-2zm2-1zm3 1zm-5 8zm-2-1zm-1 2zm-11 1zm-1 2zm-1 0zm-4 0zm-1-2zm4-2zm-9 6zm3 3zm-2 2zm-3 1zm8 0zm1 0zm3 0zm1-1zm-2 4zm2 3zm-1 3zm5-4zm1 1zm-4 10zm-9-5zm2-7zm26 13zm1 2zm2-5zm0-5zm1 0zm7-1zm-6-8zm3-2zm0-3zm-1-2zm4-1zm2 0zm-1-2zm26 12zm1-1zm4 0zm-1 4zm-1 1zm3-1zm5 1zm-5 5zm0 5zm-8-9zm7-11zm93 85zm0 2zm2 3zm1-1zm2-1zm-5 3zm-1 1zm-1-2zm-2 3zm0 1zm-2 0zm-1 3zm0 3zm-5 0zm-4 3zm-1 3zm1 1zm1 6zm-3 52zm7 0zm3 1zm4 2zm2 0zm3 1zm-2 3zm-3 2zm-3 0zm4-9zm8 2zm0 1zm1 2zm0 2zm1 0zm-2 3zm1 1zm5-3zm0 10zm-3 0zm-1 0zm-1 1zm-3 1zm-1-3zm1 9zm2 0zm0 1zm-4 4zm6 2zm5-5zm-1-1zm3-8zm-19 10zm-3 3zm-1 4zm-2 3zm-1 3zm2 0zm-2 3zm0 7zm2 0zm-2 10zm-4 1zm10-1zm3 0zm12 5zm5-5zm-6 16zm17 4zm5-4zm6 2zm4-6zm-13 22zm10 9zm7 13zm-7 5zm-3 6zm3 2zm2-1zm1 3zm4 0zm1-2zm3-3zm2 3zm1 3zm1 3zm-2 1zm-4 0zm1 3zm6 3zm-3 6zm2 2zm-4 1zm-3-4zm-4 5zm-2 1zm-1 0zm-1-1zm0-2zm0-1zm1-2zm-2-3zm-3 0zm0-3zm-4-1zm-4 0zm-3 0zm-2 3zm3 2zm0 3zm5-3zm6 5zm-7 4zm-1 3zm-1 1zm-1 0zm-3-1zm-3 4zm0 1zm1 4zm4-1zm1-3zm3 2zm2-3zm3 5zm1 1zm3 1zm2 2zm-4 2zm-3 2zm-1 4zm-8-1zm-4-1zm-5 4zm-2 1zm-2 4zm-3 0zm0-2zm-2-1zm-2-1zm1-2zm3 1zm1-5zm3 1zm1-2zm-5-3zm-3 1zm-3 3zm-4 1zm-5-3zm0-1zm-3 3zm-2 3zm-1 1zm0 4zm-1 0zm-1 4zm0 4zm-1 0zm-2 1zm-1-1zm-4-2zm0-2zm-3 2zm-2-4zm-3-1zm0-1zm0 3zm-5 1zm-2 4zm1 1zm-1 1zm-2-1zm-4 1zm2 6zm-3 1zm0 4zm1 0zm-2 1zm-4 4zm1 3zm3 1zm-7 2zm-7 3zm1 3zm-3 5zm-5-2zm-1 5zm0 2zm-2 1zm0-3zm-4 1zm-5 0zm-1-3zm1-4zm4-1zm0 3zm1-9zm-1-6zm-5-1zm-2-1zm0-3zm1-5zm7-3zm1-1zm0-4zm6-1zm1 0zm1-3zm3 2zm0-4zm-4-3zm-2-2zm-1-2zm3 0zm2-5zm3 1zm4 3zm-1 4zm4 5zm0 1zm-4 5zm5 3zm-3 5zm-2-1zm-2 0zm0 3zm-3 3zm-4 2zm-3 0zm3-5zm-4-3zm5-3zm2-1zm-3-2zm-8-8zm1-5zm-3-2zm-1-3zm-1-1zm-3 1zm0-3zm1-1zm-4 2zm-1-5zm9 0zm0-3zm7 4zm1-7zm3-1zm1-2zm4-2zm-1-2zm-4-3zm1-3zm1 0zm0-1zm2-2zm-4-1zm-1-3zm1-1zm-5 0zm0-2zm-6 0zm-2 0zm-3 1zm4-4zm0-1zm-5-2zm-3-1zm-2 0zm3-2zm-3 6zm-7-3zm-2 0zm-3-4zm0-1zm2-1zm1 0zm-1-4zm-4-3zm-3 1zm1 2zm-4-3zm2-3zm2-1zm-2-2zm-1-1zm1-4zm3 1zm3 3zm9 4zm1 3zm-1 2zm-1 2zm7-5zm-2-5zm-2 0zm3-3zm3 2zm2-1zm2 2zm3-4zm2 1zm1-1zm1 3zm2-1zm1 2zm4-1zm0 2zm-1-4zm-2-3zm5 0zm3 2zm4 1zm2 4zm-2 1zm-5 5zm-2 6zm-2 2zm-1-1zm-1 2zm-4 3zm-6-7zm2-8zm1-13zm-1-3zm2-1zm0-2zm-4-3zm-2 4zm1 2zm-2 3zm-8-3zm-6 1zm3-8zm2-4zm-6-1zm-1 4zm6-11zm1-4zm-5-2zm-4 3zm-3 1zm-2-5zm-1 0zm1-2zm-1-1zm-5 0zm0-2zm2-3zm1-8zm-3 0zm7-8zm4 6zm5 1zm-2 8zm0 3zm-4-3zm12 5zm9 2zm0 1zm0 3zm2 6zm2-1zm-4 3zm0 1zm-1 1zm-2-4zm5-12zm3 1zm6-1zm1 5zm2 2zm-5-1zm10 3zm2-4zm6-2zm0 7zm1 2zm-1 11zm2 2zm4 4zm0 3zm1 2zm-1 3zm-3-3zm-2 4zm6 4zm-2 4zm5 4zm3 0zm1 3zm1-7zm1-3zm0-1zm-2-2zm5-3zm6 3zm0 4zm-1 1zm2 1zm3 2zm0-4zm5 3zm2 1zm0 7zm5 2zm4-3zm3 2zm1-1zm1-3zm3-5zm-1-1zm4 4zm5 3zm1-2zm2-4zm-6 10zm1 1zm-5 6zm-6 0zm0-2zm-1 0zm0 4zm-2 3zm0 2zm-4-2zm0-1zm-2-3zm0-2zm-2 4zm1 4zm-1 1zm3 1zm-2 5zm-4-1zm2 5zm-2 1zm-2 4zm-1 0zm-3 0zm-1 1zm0 2zm4 0zm1 1zm3 1zm1-2zm2-4zm1-1zm6-3zm3 2zm2-2zm2-2zm-1-2zm-5-2zm9-5zm1 0zm2 3zm2 0zm2-2zm2 3zm-2 3zm6 3zm2-2zm-2 6zm-3 5zm-7-3zm-1 2zm-2-4zm-2 8zm-3 1zm-1 0zm-15 3zm-3 0zm-2-2zm0 4zm-3-1zm-3 3zm0 4zm2 4zm1 0zm5-3zm2-5zm-1 12zm6 6zm-1 2zm1 2zm4 1zm1-2zm1-2zm5 0zm3 3zm4-1zm1 3zm4 2zm0 2zm3 1zm1-4zm1 0zm1-4zm-6-5zm-6-2zm-6 0zm-1-2zm1-1zm-3 0zm-2 0zm2 3zm-3 14zm1 2zm3 3zm3 5zm2-1zm1 3zm-2 2zm2 1zm-1 2zm-2 2zm1 3zm0 1zm-7-1zm-4 2zm-1 5zm-6-3zm2-12zm-2-2zm4 0zm-2-7zm-4-2zm-1-3zm-1-2zm-4 1zm-1 0zm-2-3zm3-1zm0-2zm-5-2zm-2 0zm-1-2zm-3 7zm1 2zm-2 1zm0 4zm-1 3zm2 7zm2 2zm3 0zm1 2zm-4 2zm-6 7zm-1 1zm-2-2zm-4-3zm0-3zm-5 5zm-3 4zm-9 6zm-5 0zm-12-3zm0-2zm-2 1zm-4 1zm-3-2zm0-1zm1-1zm0-1zm1-1zm-3 1zm-1-2zm0-2zm2-1zm1-1zm-2-2zm4-1zm2-3zm2 0zm2-2zm-2 10zm-8 7zm-4-2zm-1 1zm0-5zm0-2zm-2 1zm-2-3zm-3 2zm-4 0zm1 5zm-4 1zm-1 1zm-3 0zm-2 0zm14 3zm1 2zm1 0zm11 3zm-5-21zm-1 0zm-1-1zm-2-2zm5-1zm-3-4zm4-3zm4 0zm-2-7zm-2-2zm-5 1zm-6 1zm-1 0zm0-4zm1-6zm1 0zm-4-4zm-1-4zm-4-2zm-4 1zm2 3zm-3 3zm-2 4zm-5 1zm-1-2zm-4 5zm-4 2zm-5-2zm0 6zm-2 1zm1 1zm-6 7zm8 9zm3 0zm3 2zm-1-6zm4-8zm-1-2zm3 1zm2-1zm1-1zm-5-3zm8-2zm0-3zm4 6zm5-2zm3 7zm0 1zm-4 4zm2 2zm2 0zm-2 4zm-12-2zm-1-2zm-14 9zm-2-34zm3-5zm1-1zm3-4zm-6-2zm-2 0zm-4-3zm-2 0zm1-3zm2-10zm4 1zm5 1zm2 3zm6-1zm7 1zm5-7zm4-10zm0-1zm2-3zm4 0zm2 0zm3-1zm3-4zm-10-4zm-5 2zm-3-3zm2-5zm4 0zm-9-2zm-1 1zm0-3zm-5 0zm-1-5zm-4 3zm-5 1zm0-4zm-1-4zm8-2zm2 0zm3 0zm4-7zm1-4zm4 3zm1-1zm4 1zm2-1zm-6 7zm0-15zm1-4zm-4-3zm-2-3zm-3 2zm-1 4zm-4 0zm-5 3zm1 10zm-9 25zm8 4zm-1 2zm3 5zm2-1zm3 1zm2-4zm-9 9zm-4 2zm-1 0zm2 3zm0 2zm-1 2zm13 22zm2-1zm9-3zm0-3zm9-5zm4-2zm-3-3zm1-6zm-4-3zm0-1zm-3-1zm15-2zm2 1zm2-4zm2 7zm1 0zm2-1zm3 2zm0 2zm0 2zm1-7zm1-3zm-15 9zm-3 19zm1 3zm2 2zm-1 2zm0 1zm-1-1zm-2-1zm0 2zm-2-3zm-2 1zm-2 2zm3 3zm1 1zm0 3zm0 1zm4 0zm5-8zm3 2zm1-1zm3-1zm-4-3zm-26 9zm-34-3zm-1 2zm81 24zm19 24zm6-5zm6 1zm5 2zm7-24zm0-2zm-3 0zm-3 1zm-2 0zm12-12zm5 6zm13-1zm2 0zm1 2zm11 4zm-5 8zm-12-1zm-1 3zm27-27zm-3-4zm1-1zm0-2zm-2 0zm10-15zm-1-1zm10-3zm2 0zm1-24zm-10-11zm-5-5zm2-2zm-5 13zm-6 0zm0-2zm-8 6zm-1 1zm-28-7zm-2-1zm-1-1zm-5 4zm0 1zm1 1zm1 1zm1 3zm-1 2zm3 1zm0 2zm-5 1zm-7-1zm0 2zm-1 0zm-1-2zm-5 0zm-3 1zm-1-2zm-3-4zm-2 0zm-1-6zm-5 0zm-5-4zm10-1zm4-4zm5 3zm-1 5zm2 1zm0 1zm1 2zm2 1zm0 1zm1 1zm-2 1zm0-7zm4 1zm2 2zm4 1zm0 1zm-5 11zm0 2zm0 7zm2 2zm3 4zm-6 0zm-4 2zm0 1zm0 3zm6-1zm2 1zm-4 7zm-6 3zm-4-11zm-1 0zm5-5zm0-2zm0-2zm-6-4zm-3 4zm-6-5zm0-1zm0-3zm-1-8zm15 4zm15 11zm5-4zm-5-30zm-4-7zm-4-16zm-6 0zm1-4zm13 1zm3-4zm-2-1zm7 8zm0 2zm2 1zm4 1zm5 5zm8 0zm11-15zm5-2zm38 12zm5-1zm4 2zm-2 2zm0 2zm0 2zm-1 0zm4 0zm1-2zm1-1zm2 0zm2 0zm0 3zm3-1zm1-1zm1 0zm0-1zm0 2zm-1 1zm-1 1zm0 2zm1 0zm0 1zm-3-1zm-3 1zm-1-2zm-2 4zm-2 1zm-1 1zm-2 5zm4 5zm2 1zm1 4zm-4 2zm7-14zm0-1zm-1-3zm6 3zm1 0zm2-3zm1 1zm1-2zm0-4zm-3 0zm0-3zm0-3zm1 0zm-4-2zm-1-1zm4-4zm0-1zm4 3zm3 0zm0-2zm2-2zm-1-4zm3-1zm3 0zm1-1zm1 3zm1 1zm0 1zm-1 2zm-2 0zm-2 2zm1 2zm-3 2zm2 3zm-1 1zm9-13zm-1-3zm1-1zm3 1zm1 2zm2-1zm1 0zm-3-5zm-1 0zm-1-2zm4 1zm-1-4zm7 3zm0 3zm3-7zm-1-3zm7-2zm3-1zm1-1zm0 3zm12-4zm-2-4zm2-1zm1 0zm10-1zm0-1zm2-4zm3 0zm-25-5zm-18-7zm-24 17zm-7 58zm-73-90zm-5-5zm0-3zm-9-5zm-3 6zm-1 1zm-4 4zm-1 1zm-2 3zm-5 9zm-1 3zm-3 5zm4 4zm-9 6zm-5 3zm10 11zm-22 20zm-7 2zm-1-2zm-16-35zm-5-7zm-23 25zm-10-5zm-2-1zm3-5zm73-27zm2 0zm4-3zm-5-3zm1-9zm1-5zm2-5zm4-7zm-1-6zm3-3zm3 0zm2-1zm1-2zm0-1zm2 0zm2 3zm1 1zm2 3zm1 0zm2 0zm-4 1zm-1 0zm-6 3zm-1-3zm-1 0zm1-7zm-2-1zm12 17zm-6 4zm-6 2zm19-9zm-49 146zm5 11zm337-159zm9-3zm2-6zm-10-4zm0-7zm-2-4zm5 0zm-4-7zm-6 2zm0-4zm-11-8zm9-8zm10 2zm3 3zm7 4zm3-11zm13-2zm0-6zm2-8zm1 0zm-2-6zm-1-3zm-1-3zm-2 0zm0 1zm-3 2zm-3 2zm6 4zm7-11zm-5-3zm4-3zm-4-5zm-4-4zm2-4zm-9 5zm-2 0zm0-2zm-2 3zm-1 8zm0 7zm1 3zm6-6zm-5-23zm28 45zm3 4zm2-6zm5 13zm4 8zm0 3zm3 0zm1-2zm0-1zm7 3zm-1 2zm-2 3zm-5 2zm-2 0zm-3-2zm-3 1zm0-5zm-4 8zm0 2zm-6 2zm-5-3zm-2-1zm-1 1zm4-2zm-7-2zm-1-2zm0-1zm-3-1zm1-3zm-1 7zm-1 9zm-2 1zm-2-1zm-2 2zm4 13zm5 3zm1 0zm-3 3zm8-4zm0-3zm3 1zm2 0zm0 3zm-4 2zm-1 5zm3 7zm3 5zm5-4zm0-6zm3-2zm2 0zm3-6zm6 4zm3-8zm-1-3zm0-1zm-2-2zm-1-7zm3-2zm0-2zm3 1zm1 2zm3-2zm1 0zm0-4zm0-1zm1-4zm0-5zm1-3zm5-1zm4-2zm3 4zm2-1zm0-2zm2 2zm5 1zm1 3zm3-2zm3-5zm2-2zm2 3zm4 0zm1-6zm-3-8zm-2-1zm1-1zm-8 1zm-4 0zm-1-8zm-9-3zm1-6zm-1-3zm2 0zm0-3zm-1-2zm-4 3zm-4 0zm-1-6zm-8 5zm-3 1zm4 8zm3 3zm2 0zm-1 2zm-8 5zm0 2zm-2 4zm-1 1zm8 9zm5-3zm0-2zm2 0zm0 1zm4-2zm1 1zm0-2zm-5-4zm10 9zm11-1zm-2 16zm3 3zm0 6zm-4 3zm3 3zm-1 3zm0 3zm4-1zm1 0zm1-1zm-2-1zm3-1zm6 2zm1-1zm0 2zm-1 2zm0 3zm4-3zm4-5zm1 1zm5-5zm-14 2zm-1-7zm-1-4zm-1-2zm5-1zm-20 1zm-3 3zm-2 2zm-2 2zm-3 1zm-2 7zm1 5zm-1 2zm-1 1zm1 3zm-1 5zm1 3zm-3 0zm-2 1zm-3-4zm-1 0zm3-4zm0-1zm2 4zm-7-6zm-1 1zm-3 15zm1 1zm-3 0zm0 1zm-2-1zm8 1zm0 3zm2 6zm1 0zm-1 2zm1 2zm1 1zm-2 3zm-1 0zm7-5zm1 1zm3 0zm-1-3zm0-2zm-2-3zm2-1zm3-1zm1-3zm4 1zm1 1zm2-2zm4-3zm1-2zm1-3zm-2-4zm5-3zm1-6zm-8 2zm-6-4zm4-6zm1-6zm-5-7zm-2-2zm-1 1zm4-2zm-10 4zm-2 1zm-18 4zm-6 13zm-6 0zm-5-4zm-3-5zm-4 8zm9-32zm43 43zm-1 4zm-6 7zm0 1zm-4 0zm0 7zm0 3zm13 2zm2 1zm-1 2zm2-8zm9 4zm4-4zm1 0zm1-3zm4-1zm-1-7zm-2 0zm1-2zm6-1zm3-2zm-1 8zm-6 13zm-8-7zm-42 14zm-8-6zm-2-5zm35-110zm6-9zm-1-1zm3 1zm-7-4zm-1-7zm4-2zm1-1zm7-5zm-4-6zm3-2zm-7 0zm1-6zm4-8zm7-3zm2 2zm1-1zm-1 14zm-11-22zm1-8zm-2-8zm1-3zm4 0zm1-1zm3 2zm2 4zm3 3zm5 5zm6-5zm1 0zm3-1zm2-1zm4 2zm4 3zm4 3zm2-3zm3 0zm5-1zm2-6zm-5-4zm-1 0zm-2 3zm0 1zm-4-3zm1-4zm2-1zm-6 2zm-6 4zm-8-5zm4-5zm-7-2zm-1 0zm1-2zm-2-2zm-5 3zm-6 0zm-7 3zm-4-2zm-1-5zm4-1zm-5-5zm-2 1zm-6-5zm-3-3zm-2 5zm-2 5zm-6-15zm6-2zm6-1zm1-3zm-2-2zm-2-3zm3-5zm-1-4zm-4-1zm0 3zm-4 3zm-4 0zm4-12zm3-3zm6 0zm2 1zm1-2zm3-1zm3-2zm5 0zm4 0zm2-4zm-4-2zm3-4zm2 0zm4 1zm0 5zm1 1zm1-1zm1 4zm4-3zm0 8zm-1 1zm3 0zm-3 5zm-2 2zm-1 1zm-5-2zm-2-2zm1-5zm-6 3zm-5 1zm-1-3zm1-13zm7 24zm4 5zm-1 2zm-1 0zm-3 3zm0 5zm7 3zm1-3zm1-6zm0-3zm2-3zm2 0zm4-6zm-27 14zm-3 0zm-3 6zm11 6zm2 0zm0 2zm6 3zm5 2zm1-1zm5 17zm0 3zm1 5zm22 14z" stroke="#cbcbcb" stroke-width="6.25" stroke-linecap="round" fill="none"/>
<path transform="scale(0.2)" d="M1847 2896zm72 12zm27-14zm2-28zm-34-13zm-23-48zm75 29zm6 72zm20-1zm15 2zm5-2zm15-21zm26-19zm2-18zm2-3zm253-78zm9-3zm16-7zm4 8zm8 0zm7-1zm5-6zm2 12zm12-6zm9-8zm-1-4zm2-16zm-19-9zm-9-4zm5-8zm3-7zm10 5zm7-4zm-10-10zm-10-4zm-2-25zm-3 0zm0-5zm-4-8zm-22 18zm6 12zm3 27zm-18-1zm-4-3zm-9 10zm-6 8zm4 16zm7-3zm12-3zm-4-7zm2-3zm10 7zm2 2zm7 0zm8 3zm-58-75zm-6-2zm6-7zm7-1zm-7-14zm-6 5zm-4-2zm84-21zm2-14zm0-2zm12-20zm1-8zm-4-2zm10 5zm2-10zm6-3zm-14-9zm-2-6zm-6 12zm-9 12zm-8-17zm-19-21zm24-9zm13-16zm-3-12z" stroke="#98a2d4" stroke-width="5.75" stroke-linecap="round" fill="none"/>
<path transform="scale(0.2)" d="M1852 2921zm20-35zm47 40zm6 1zm83-50zm56-25zm-68-38zm-23-74zm156 63zm133-70zm13-7zm3 7zm-1 4zm8-1zm8-18zm-14-3zm-16-11zm-1 0zm-5 3zm7-16zm9 4zm32 15zm8 12zm-3-31zm17-15zm4 1zm13-1zm13 13zm5 3zm-6 52zm7 1zm3 4zm3 10zm-8 8zm-10 2zm5-11zm-12-5zm-8 1zm-10 12zm29-136zm28-43zm7-7zm21 4zm4-2zm-45-36zm-16-44z" stroke="#7282d6" stroke-width="5.75" stroke-linecap="round" fill="none"/>
<path transform="scale(0.2)" d="M2257 2710zm5-3zm2 4zm4 5zm7-8zm9-7zm2 2zm3 6zm-3 6zm-3 2zm6 1zm-12 8zm-3 2zm5 2zm3 7zm1-41z" stroke="#4159d7" stroke-width="5.75" stroke-linecap="round" fill="none"/>
<path transform="scale(0.2)" d="M2256 2719zm1-3zm3 1zm1 8zm7 4zm8-5zm-4-5zm9 1zm2 7zm5-1zm-1 10zm-13 5zm4-31zm4-6zm1-4zm3 2zm0 5zm4-2zm-15-2zm2-6zm-5 0zm2-4zm-3-1zm-2 13zm29 14z" stroke="#1030d8" stroke-width="5.75" stroke-linecap="round" fill="none"/>
<path d="M529.10,494.00V595.90H660.00" fill="none" stroke="#6a6a6a" stroke-width="0.7"/>
<text x="524.90" y="510.80" font-size="9.5" text-anchor="middle" fill="#111" stroke="#111" stroke-width="0.22" transform="rotate(-90 524.90 510.80)">UMAP2</text>
<text x="660.90" y="605.70" font-size="9.7" text-anchor="end" fill="#111" stroke="#111" stroke-width="0.22">UMAP1</text>
<text x="598.40" y="504.20" font-size="12" text-anchor="middle" font-style="italic" fill="#111" stroke="#111" stroke-width="0.22">Bmp4</text>
<rect x="666.90" y="494.00" width="5.90" height="102.20" fill="url(#gb)" stroke="#777" stroke-width="0.3"/>
<line x1="672.80" y1="595.60" x2="674.30" y2="595.60" stroke="#444" stroke-width="0.5"/>
<text x="676.90" y="598.50" font-size="10.2" fill="#111" stroke="#111" stroke-width="0.22">0</text>
<line x1="672.80" y1="566.90" x2="674.30" y2="566.90" stroke="#444" stroke-width="0.5"/>
<text x="676.90" y="570.40" font-size="10.2" fill="#111" stroke="#111" stroke-width="0.22">1</text>
<line x1="672.80" y1="538.20" x2="674.30" y2="538.20" stroke="#444" stroke-width="0.5"/>
<text x="676.90" y="541.70" font-size="10.2" fill="#111" stroke="#111" stroke-width="0.22">2</text>
<line x1="672.80" y1="509.50" x2="674.30" y2="509.50" stroke="#444" stroke-width="0.5"/>
<text x="676.90" y="513.00" font-size="10.2" fill="#111" stroke="#111" stroke-width="0.22">3</text>
<path transform="scale(0.2)" d="M2674 2584zm2-1zm0 2zm6-9zm6-8zm1-3zm5 5zm5-2zm0-5zm2 0zm4 0zm1 2zm2-2zm0-2zm2 3zm0 3zm-3 2zm-1 3zm-1 2zm-4 2zm0 2zm1 0zm-4-1zm-1 0zm0 2zm-3 0zm0 1zm0 2zm2 2zm4 3zm-1 1zm-3 4zm0 5zm-8-2zm-1-2zm1-2zm3-10zm13 4zm3-2zm4 1zm2-5zm0-5zm1 0zm-5-2zm6-7zm3-2zm0-3zm-1-2zm2-3zm1-2zm2 2zm1 2zm-2 0zm0-7zm3-2zm3-4zm-5-2zm-6 2zm1-6zm-1-3zm3 0zm-3-6zm2-4zm2-3zm1 6zm3-1zm1 2zm2 2zm4 2zm0 3zm-3 1zm0-14zm-1-4zm2-1zm-4-6zm1-2zm-6 3zm-3 2zm-3 3zm-3-3zm1-5zm1 0zm3-1zm-2-4zm-5 1zm10-3zm-13 17zm0 5zm-2 5zm3 7zm2-1zm2 0zm0-2zm-6 11zm-3-1zm-5-1zm-3-3zm-2 0zm1-2zm2 0zm-1-3zm2-3zm0-1zm-1 0zm0-2zm1 0zm-2-2zm-3 3zm0 2zm-4-3zm2-3zm3-4zm-2-4zm0-2zm7-4zm2 2zm-16 14zm0 1zm-1 4zm-1 1zm-1-2zm5 3zm0 12zm2 0zm3 0zm1 3zm0 5zm-2 2zm7 0zm0 3zm6-6zm3-1zm10-2zm6 22zm25-1zm3-2zm2 1zm1-1zm2 0zm-1-4zm0-4zm0-1zm-4 5zm-1 1zm-4-6zm15 10zm-5 5zm0 5zm-50 12zm-22-31zm-3-3zm-3 2zm1 4zm153 99zm-1 3zm1 1zm4-7zm2-1zm3 1zm0-3zm-1-1zm2-2zm2-1zm3-1zm0-3zm1 0zm0-2zm3 0zm-1 3zm-6 7zm1 68zm1 1zm1 1zm-1 1zm3 1zm4-2zm1 3zm0 2zm2-1zm3 2zm1 5zm1 5zm1 1zm-6-1zm-1 0zm-1 1zm-4-4zm-2 5zm-2 2zm5 4zm2 0zm0 1zm3-2zm3 2zm1 1zm0 4zm-5 1zm-12 5zm-1-2zm-2-4zm-5-5zm1-7zm1-3zm2 0zm-5 0zm-3-3zm0-1zm-2 0zm-1 0zm-2-3zm-1-1zm-2-3zm-2 1zm-4-1zm1 4zm-3 0zm-1 2zm2 1zm2 1zm1 0zm-1 4zm3 2zm4-4zm0 11zm-2 0zm-5 1zm-4-8zm-1-1zm-6 12zm0 3zm-5 5zm5 4zm4-2zm-5 10zm-2 0zm-7 10zm7 5zm0 9zm-9 3zm-6 2zm-2 4zm-5-2zm-2-2zm-3 1zm2-6zm-6 1zm-5 1zm0 1zm0 3zm-3 4zm0 2zm3 2zm4-3zm2 7zm-4 3zm-1 3zm4 3zm0 2zm-5 1zm-2 3zm-1-1zm5 6zm2 1zm2 2zm2-1zm1 2zm3-3zm4 1zm0-2zm-1-3zm2-2zm2 1zm2-3zm2-3zm-7 3zm6 7zm2 0zm4 0zm2-4zm3-2zm1 2zm-1 3zm-3 5zm-4 1zm6 3zm3 6zm2 3zm3-5zm2-4zm2-2zm-1-1zm0-1zm-2-2zm3-5zm2 2zm-4-6zm-2 1zm-4-1zm-3-2zm4-2zm-5-4zm2-2zm12-10zm5 12zm-1 5zm8 3zm0 2zm3 1zm3 1zm-6 3zm-3-2zm1 8zm0 4zm-5-3zm-1 7zm0 2zm6 3zm-1 2zm-1 2zm4 0zm4 5zm2 1zm4 1zm4 1zm2-3zm0-4zm1 0zm1-3zm-1-3zm1-1zm-4-1zm0-2zm-2-2zm-2 7zm-2 0zm-3 0zm0-2zm2 6zm1 2zm0 9zm1 1zm-3-1zm0 3zm1 3zm-1 2zm-1 2zm-2 1zm5 2zm-3 5zm-1 2zm-2-1zm-1 0zm-3 4zm2 2zm-2 2zm-1-1zm-2 0zm-3 3zm-4-1zm-2-1zm-2-5zm0-3zm2-2zm5-1zm1 0zm4 0zm0 2zm1-6zm-3-2zm-5-1zm2-4zm-6-1zm-1 0zm-4-6zm1-3zm-3-2zm2-2zm4 1zm2 2zm4 2zm0 2zm4 1zm1-2zm-1-3zm-1-1zm-1-2zm-5-3zm10 12zm0 2zm5-2zm1 5zm11 5zm3 2zm2-2zm1-4zm-2-5zm6-2zm3 0zm1-3zm1-1zm0 7zm2 4zm4 4zm2-1zm2 2zm-2 2zm-3 5zm-1 4zm0 5zm0 2zm-4 1zm-1-4zm-3 1zm-3 3zm2 2zm1 2zm3 1zm-2 2zm1 1zm1 0zm0 2zm3 0zm5-2zm-1-3zm4-1zm-1-2zm4 4zm3-1zm-1-3zm4-1zm1-3zm4 1zm3-2zm2-4zm2 1zm0-4zm-2 0zm-1-3zm3-2zm-6 0zm-5 2zm0 2zm-3-2zm-1 3zm-4 1zm1-4zm1-5zm3 1zm-1-10zm0-3zm-3-2zm2-3zm3 0zm-4-4zm-6 2zm-7-6zm-2-1zm-3 1zm4-5zm-1-2zm-2-2zm-1 0zm-3-3zm-3-7zm12 11zm9 3zm11 3zm3 1zm1-3zm4-1zm2 1zm1-3zm3 1zm1-2zm4 2zm2 3zm1 3zm-2 1zm1 3zm-4 0zm-1-7zm-5 2zm-2 3zm1 7zm-3 3zm-3 0zm0-1zm-1 1zm1-3zm5 6zm2 0zm-1 3zm-2 0zm0 1zm0 1zm1 1zm3-1zm-4-3zm-3 1zm-16-1zm-16 9zm2 4zm-4 4zm-3 1zm-1 0zm-5 5zm0 1zm-1 4zm-4-4zm-1-2zm-2 0zm-2-1zm-1 3zm-3 2zm0 4zm2 0zm4 5zm3-3zm1 1zm0 5zm-1 3zm-1 2zm-1 2zm1 2zm-4-1zm2-4zm-4-5zm-4 1zm0 2zm-3 0zm-3 2zm-1-3zm-1-2zm0-2zm0-1zm-3 2zm-2 2zm-1 5zm-3 0zm0 1zm1 4zm2 1zm0 1zm1 1zm-1 1zm-1 4zm-2 3zm-4-4zm-2 1zm-2-1zm3-4zm2-1zm1 0zm-11-3zm-1 0zm-1-1zm-1 6zm-4-1zm0 3zm-3 3zm-4-3zm0-3zm-2-2zm-2 2zm-3-3zm1-1zm6-2zm0-3zm2-3zm3-2zm4-1zm1 2zm3 1zm2-5zm-6-1zm1-4zm3-3zm7-3zm1 0zm1 2zm3-4zm0-3zm0-4zm0-7zm-2 0zm-2-10zm-2-6zm-3 2zm-2 5zm-5-1zm1 6zm0 2zm0 4zm-4 0zm-1-2zm-4-3zm2-3zm0-1zm-3-2zm0-4zm1-1zm3-1zm-8 1zm-3 0zm-2 5zm3 1zm-2 7zm-3 0zm0 2zm-3 1zm-2-6zm2-1zm-7-2zm-1 2zm-1-3zm4-3zm2-5zm2 1zm4-5zm7-2zm2-1zm4-2zm0-1zm-1-1zm3 0zm0-1zm1 4zm6 0zm4-1zm0 5zm4-9zm-13-5zm-13 3zm-3 2zm2-8zm-4-4zm-2-2zm-5-1zm-1 3zm-4 3zm1 3zm-1 2zm6-3zm-1 13zm-2 0zm-7 1zm-1-4zm-7-1zm0-1zm-1-4zm-1-2zm0-2zm3 1zm-2-4zm-3-3zm1-2zm0-2zm3 1zm3 3zm3-5zm1-7zm-1-1zm6-5zm-4-5zm5-7zm1-4zm-5-2zm-1-7zm0-3zm-4 0zm-2-2zm-1-2zm-4-3zm-1 8zm-2 3zm0 2zm5 0zm0 3zm1 0zm2 5zm-5 5zm-6 2zm-2 1zm-1 3zm-5 0zm1-4zm3-2zm-2-6zm3-5zm5 17zm-1 4zm3 7zm3 1zm-6 7zm-6-5zm-3-2zm4-2zm1 1zm-6 10zm-3 0zm-2 0zm-4 1zm-4 1zm-1 6zm2 2zm6-1zm1 0zm3-1zm5 3zm1 2zm-1 1zm0 4zm2 2zm-4 4zm-2 4zm-5 0zm-2 5zm-3 5zm0 2zm-1 2zm4-2zm0-1zm6-4zm5 8zm2 1zm-3 7zm-4-3zm-3 2zm-7-3zm-1 1zm-7 6zm-4 2zm-1 3zm6 3zm2 0zm6 2zm-3 4zm-1 1zm0 3zm-5-4zm-4 4zm-1 2zm10 5zm3 3zm-5 4zm-2 1zm-2 1zm1 1zm8 1zm4 0zm1-4zm8-2zm4 3zm5-2zm6-4zm2-6zm3 0zm1 2zm2 0zm0-1zm0-3zm-1-1zm3-5zm-2-1zm4-2zm2 2zm2-1zm-1 3zm-2 0zm-1 0zm0 8zm0 1zm0 6zm2 2zm5 2zm5 0zm-1 4zm-7 1zm-4 0zm-1 7zm-1 4zm-2-1zm5 3zm0 1zm2 2zm-3 2zm-2 2zm-2-1zm0-2zm-2 1zm-2-3zm-3 2zm-3 2zm-2-2zm2 5zm-3 3zm-5-1zm-2 0zm2-8zm1-1zm-6-4zm-2-2zm-1-2zm2-2zm9 0zm2 2zm2 0zm0-6zm0-1zm7 2zm3-10zm10 16zm-1 3zm1 2zm6-5zm3 4zm5-2zm2-4zm-2-2zm-1 0zm2-2zm3 0zm3 1zm0 1zm2 2zm7-2zm2-3zm6 2zm1 3zm3 1zm4 3zm7 5zm3-3zm0-1zm5 0zm5 0zm-2-4zm-2-1zm1-4zm3 0zm0 2zm2-5zm2 1zm-3-4zm-5-1zm-1 0zm1-1zm0-3zm0-2zm-2-10zm-1-5zm-7 0zm-4-7zm-19-9zm-6-4zm-4 3zm-5 2zm-3 4zm-4 3zm-1 1zm0 3zm3-1zm1 1zm-7-2zm1-4zm-6-3zm-4-2zm-2-1zm-4 2zm-4 11zm-4 4zm-4 4zm-2-2zm-2-3zm-4-2zm-2-1zm-1-3zm1 8zm-2 9zm15-17zm7-22zm0-1zm1 0zm-4-1zm-5-2zm0-1zm-2 4zm10-7zm3-1zm3-4zm-9 1zm-6-3zm0-6zm-1-2zm4 0zm0-8zm-5 1zm-17 15zm-8 8zm-3 3zm-1-1zm0 10zm-1 3zm-1 4zm50-9zm3 1zm6 24zm2 4zm7 4zm0 1zm3-1zm4-6zm0-2zm0-1zm2-1zm1 1zm2 0zm-2 4zm2-9zm-6-3zm0-1zm8 23zm-4 4zm6 21zm7-3zm5 9zm6 5zm1-1zm1 3zm-9 3zm0 2zm-7-6zm-6-4zm-3 1zm-3 2zm0 2zm-2 1zm-2 4zm-5-1zm-5-2zm0-2zm3-1zm4-5zm0-3zm5-1zm1 1zm2 2zm3 10zm-1 2zm-23-3zm-3-2zm0-1zm1-1zm0-1zm1-1zm-3 4zm-1 1zm-2 4zm-28-16zm-8 0zm-2-2zm-1 0zm-3 0zm-1 2zm104-9zm1 1zm3-3zm12 5zm2 2zm0 2zm2-4zm6-7zm1-3zm-1-2zm4-1zm4 1zm3 2zm-3 5zm1 2zm1 3zm-2 2zm2 1zm-1 2zm-2 2zm1 3zm-7 0zm-1 2zm0-5zm1-1zm3-2zm0-3zm1 0zm-13 9zm1 3zm-14 7zm21-39zm1-2zm1-3zm1-2zm-2-3zm5 0zm2 4zm4-1zm1 7zm1 3zm4 3zm0 1zm0 2zm3-1zm1-4zm1 0zm-2-1zm3-3zm-5-3zm7-5zm2 0zm1-1zm2 5zm9-13zm-6-8zm2-2zm6 0zm1-1zm17-19zm2-1zm0 3zm1-8zm7-2zm3-3zm1 1zm-1-4zm-2-1zm0-2zm0-1zm-3 3zm-1-5zm2-5zm3-1zm3-3zm2-1zm0-3zm0-3zm-2 0zm-4 3zm-3 0zm0-1zm0-1zm0-1zm2-3zm-4-2zm-5 11zm2 1zm1 3zm-10-6zm-5 6zm-2-1zm0-18zm-25-4zm-4-1zm-19-6zm10-12zm-11-7zm0-13zm6 0zm3 0zm3 0zm-2 3zm11 2zm2-2zm3-3zm5 6zm5-10zm6 20zm-5 4zm15-8zm15-26zm9-2zm16 29zm16 18zm2 2zm-2 1zm-1 0zm-1 2zm3 1zm-1 4zm-5 0zm0-1zm-1-1zm0 4zm-2 0zm-1 4zm0 2zm-3 0zm1 4zm-6 1zm-5 0zm-2-1zm-1 0zm-1 1zm0 2zm1 2zm3 1zm2 1zm0 3zm-2 1zm-2 1zm-2 0zm-3 0zm0 1zm6 5zm1-20zm1 0zm3-5zm3 0zm0-2zm2-2zm0-2zm-1-2zm-8 6zm-2 2zm19 1zm2-1zm13-12zm0-3zm2-7zm7-2zm3-1zm1-1zm4 3zm2-2zm6-2zm1 0zm0-5zm2 0zm2 1zm11-7zm-25-5zm-18-7zm-98-47zm-1-1zm-7-1zm-2 1zm-4-9zm-2-1zm-1 0zm-7 0zm1 36zm-1 1zm-4 4zm-1 1zm9 1zm2-1zm2 0zm-2 3zm0 7zm2 0zm-21 5zm-3 5zm-48 7zm-1 5zm-6 1zm0-8zm-4-5zm-2 0zm-9-7zm-24 47zm-6 7zm65-13zm65 99zm3 3zm-6 0zm19 12zm1-1zm256-204zm9-2zm0-4zm6 3zm4-2zm-10-10zm3-3zm-2-2zm-5 0zm-2 5zm-7-9zm-1-4zm9-8zm9 2zm4 3zm-1 8zm18-3zm4 0zm13 0zm0-8zm0-6zm6 7zm6 1zm5 1zm-1 3zm4 1zm2-3zm4 2zm1 3zm-1 2zm4-2zm1-3zm2-8zm2-1zm4-2zm1 8zm3 4zm-4 1zm4 6zm6 3zm1 0zm0-1zm2-1zm2-1zm-1-4zm7 3zm3 2zm3 3zm0 3zm1 1zm-4 0zm1 5zm5-1zm0 6zm3 3zm0 1zm1 2zm-5 1zm8-8zm1 1zm-18 0zm-4 0zm-2 0zm-4-3zm4-3zm-2-4zm-6-1zm-2 1zm0 1zm2 2zm-5-1zm-2 7zm2 4zm-2 7zm-6 1zm-1-4zm-4-2zm-1 4zm-4-4zm-1-1zm-2-3zm-1-3zm2-1zm-2-3zm3-4zm4 3zm4-6zm-1-3zm6 2zm2-3zm-17 1zm-2 0zm-6-1zm0-5zm-3 11zm0 4zm-5 0zm-3 4zm-1 2zm-4 1zm2 7zm0 1zm2-1zm0 3zm-5 7zm-2 6zm5 1zm4-5zm4 0zm5-2zm2 0zm7-2zm8 2zm4-1zm2 3zm2-1zm3 0zm-4 6zm-6 0zm-1 2zm-2 1zm-4-1zm0-1zm-2 4zm-5 2zm-1-4zm3 10zm5 1zm-3 6zm-8-6zm-6-2zm-4 1zm-14-24zm2-3zm1 0zm-6-17zm2-1zm22 11zm2 0zm19-3zm16 13zm9 1zm0 2zm2 2zm1 5zm-3 0zm-4 5zm0 1zm-2-1zm-1-1zm-5 1zm-3 8zm-2 3zm-3-4zm-4 0zm1 4zm1 1zm-2 3zm-1 0zm19-3zm1-2zm3 0zm7-2zm5-2zm2 2zm3 1zm4-11zm2-2zm-3-2zm-4-1zm-4-2zm7-40zm4-8zm-6-5zm0-5zm-4-5zm-8 1zm-4 2zm5 3zm4 7zm-4-17zm-15-6zm1-6zm1-6zm-2-1zm-3 2zm-5-6zm4-3zm11-12zm-1-1zm3 1zm1 1zm-8-5zm-2-3zm0-1zm0-2zm7-10zm6 1zm2 1zm3-7zm1-4zm-7 2zm-7 0zm1-6zm11-11zm2 2zm4 5zm3-15zm1-5zm-5 1zm-6 0zm-5 0zm-2-2zm0-1zm2-7zm-3-4zm5-1zm3 2zm0 7zm5 0zm6-4zm1-5zm-2-3zm5-4zm-1-2zm0-3zm-2-1zm-7-7zm-1 1zm-3 4zm-3 0zm-2 3zm2 3zm-5-6zm-1-6zm1-5zm-1-3zm-2 2zm6-1zm4-1zm2 3zm3 1zm-2-6zm-7-3zm0-5zm-1-1zm-1-1zm0 2zm7-5zm4 4zm2-11zm-1-3zm-4 0zm-2-2zm1-5zm-6 4zm-1-2zm-4 0zm-1-1zm-4-4zm-3 1zm0 6zm-3 1zm-5 3zm0 3zm-1 0zm5 0zm1 2zm-3 5zm2 3zm-3 1zm-2 5zm-5 1zm-1 1zm12-3zm1 3zm7-2zm-7 10zm-7 7zm14 5zm30 10zm-1 4zm0 7zm1 0zm3-1zm2 0zm3-5zm3 9zm8 0zm3 0zm4 0zm1-1zm2-6zm-6-4zm-2 4zm-3-7zm2-1zm-16-4zm-5 20zm-24 7zm5-69zm-6-4zm8-17zm2 1zm3-1zm1 1zm2 3zm3 6zm3 0zm-3 5zm3 3zm-18-20zm3-3zm0-1zm2 0zm-28 10zm-56 133zm-3 4zm4 4zm0 2zm2 0zm-4 1zm8 5zm7-1zm0-2zm-2-8zm-7 18zm7 3zm3 3zm1 3zm-4 3zm-5 3zm-2-6zm-6-3zm4 23zm-1 2zm31-11zm10-6zm2-2zm8-2zm4 5zm-8 7zm2 2zm16-2zm-18-20z" stroke="#cbcbcb" stroke-width="6.25" stroke-linecap="round" fill="none"/>
<path transform="scale(0.2)" d="M2698 2533zm29 6zm-16 32zm135 81zm-3 89zm-25 2zm-10 31zm22 15zm5 52zm11 4zm-30 31zm-7 6zm-4-13zm-27 5zm-12-38zm5-19zm-5-6zm24 21zm6 5zm-59-3zm-10 1zm-5-8zm47 87zm-5 23zm-10 6zm-18 8zm5 10zm45-21zm4 7zm15-11zm1-15zm6-19zm13 9zm16 3zm-10 17zm4 15zm-17 4zm29-57zm16 3zm31-17zm14-28zm2-6zm10 0zm3 0zm3 3zm0-8zm-8 13zm-6-22zm-15 5zm37-11zm7 2zm-31-55zm202-68zm6 3zm3 4zm8-2zm5 1zm1 5zm-2 11zm-3 7zm8 2zm0 2zm4-9zm16 3zm6 3zm3 2zm1-1zm-2-8zm1-8zm6-4zm3-3zm14 8zm7-9zm-5 21zm0 6zm1 1zm2 5zm8 0zm0-8zm1-3zm8 11zm6-4zm7 0zm13 7zm-8 11zm-5 1zm4 4zm-14-2zm-3-3zm3-3zm-12-1zm-4 0zm-2 1zm-4 3zm-1-4zm-10-2zm-8-6zm5-6zm-3-8zm-16 6zm1 3zm-2 10zm7 7zm25 21zm-33-58zm-20-17zm-7-1zm24-12zm12 4zm3 2zm16-8zm1-12zm24-8zm10-47zm-4-4zm19-40zm-5-8zm15 10zm3 7zm5-3zm4 3zm-45-29zm-1-6zm5-4zm-2-2zm-14-1zm6-11zm0-17zm-3-6zm-9-1zm3 8zm12-16zm4-3zm3 7zm4 0zm3-2zm-5 10zm10 7zm-89 118zm0 6zm14 6zm-8 19zm12 7zm72 41zm4 8zm6 6z" stroke="#98a2d4" stroke-width="5.75" stroke-linecap="round" fill="none"/>
<path transform="scale(0.2)" d="M2705 2930zm15 2zm33 19zm31 2zm15-21zm1-11zm-14 0zm40-1zm46-27zm13-12zm33-39zm14-9zm4-8zm29-14zm10-8zm-136-68zm-23 45zm-47 68zm-14-5zm-22-10zm-13 15zm402-124zm13 6zm0 7zm0 5zm6-6zm20-14zm1-6zm-7-6zm-3-2zm-5 1zm-1-4zm-3-3zm-1 1zm-2-2zm1-9zm-12 5zm0 1zm-11 6zm13 7zm26-5zm-2-21zm12-3zm2 6zm9 7zm2 8zm6 0zm7-2zm-6-13zm2-6zm8 2zm1-9zm12-9zm8 20zm-5 3zm5 3zm-1 5zm-6 4zm-5 8zm5 4zm9 13zm0 1zm1 5zm4-1zm10 1zm3 21zm-4 4zm-5 4zm-29 1zm-1-1zm-6 3zm-4 4zm-7 11zm-8-17zm-7-10zm3-10zm0-10zm12-13zm5 2zm-7-10zm26-18zm-52-28zm-7-1zm-9 1zm7-16zm5-1zm4-1zm-16-1zm51 107zm55-182zm-7-6zm-12-3zm-7-29zm13-7zm1-7zm-3-5zm1-12zm-40 23zm68 49z" stroke="#7282d6" stroke-width="5.75" stroke-linecap="round" fill="none"/>
<path transform="scale(0.2)" d="M3113 2710zm0 6zm3 1zm3-13zm5 1zm5-10zm8 10zm10 4zm14 1zm2 4zm-3 1zm3 4zm-18 4zm-12-1zm-1-5zm-4 7zm2 6zm19 6zm5 3zm39 13zm4 3zm6-2zm1-6zm-4-4zm5-8zm17-9zm19 4zm-19 19zm2 6zm2 4zm3-2zm-12 12zm-14-5zm-2 3zm-6-1zm0-48zm4-7zm-2-2zm12-11zm20 3zm-8-25zm-7-7zm-3-5zm-10 15zm-25 8zm-5 1zm-13-31zm51-25zm4-2z" stroke="#4159d7" stroke-width="5.75" stroke-linecap="round" fill="none"/>
</g>
<g id="panel-h">
<text x="-0.70" y="627.70" font-size="15" font-weight="bold" stroke="#000" stroke-width="0.22">h</text>
<path d="M36.5,662.4C37.9,661.5 41.1,663.4 43.8,662.8C46.5,662.2 50.2,659.9 52.9,658.8C55.6,657.7 57.2,657.0 60.2,656.1C63.2,655.2 68.2,654.0 71.2,653.3C74.2,652.6 76.1,651.5 78.5,652.0C80.9,652.5 83.7,654.8 85.8,656.1C87.9,657.4 89.9,658.0 91.2,659.7C92.5,661.4 93.3,663.5 93.6,666.1C93.9,668.7 93.3,672.1 93.2,675.2C93.1,678.3 93.2,681.3 92.8,684.5C92.3,687.7 92.3,691.7 90.5,694.5C88.7,697.3 85.1,699.8 82.0,701.5C78.9,703.2 75.0,704.1 72.0,705.0C69.0,705.9 66.8,705.9 63.9,707.0C61.0,708.1 57.8,709.9 54.7,711.4C51.7,712.9 48.2,715.2 45.6,716.0C43.0,716.8 40.9,717.5 39.2,716.3C37.5,715.1 36.5,711.9 35.6,709.0C34.7,706.1 33.5,702.4 33.8,698.9C34.1,695.4 36.9,691.6 37.4,688.0C37.9,684.4 36.8,680.4 36.5,677.0C36.2,673.6 35.6,670.3 35.6,667.9C35.6,665.5 35.1,663.2 36.5,662.4Z" fill="#1f77b4" opacity="0.9"/>
<path transform="scale(0.2)" d="M168 3496zm3 4zm4 5zm2-1zm1 5zm-1 3zm14 8zm0 4zm-2 0zm-1 0zm7-6zm-1-3zm10-1zm2-2zm-2-2zm5-3zm8 2zm2-3zm-2-1zm3-3zm-4-2zm-3-1zm-8-2zm-1 3zm-3 0zm-4-2zm2-2zm-6 4zm-7-10zm-1-2zm4 0zm-9 2zm15-9zm-1-4zm-1-2zm4-7zm-2-2zm5-6zm6-4zm0-2zm3 4zm4 1zm4 7zm8 6zm4 6zm6-1zm1 1zm-1 7zm-5 2zm-2 7zm9 4zm-2 7zm-3 1zm-5 0zm-5 6zm-6 5zm-1 6zm-3 10zm-5 0zm-1-1zm-6 10zm0 1zm-6 1zm-1-4zm-3 1zm0 1zm-3 0zm-1-3zm-2-3zm-3 7zm-2-13zm16 26zm6-1zm10 3zm0 4zm5-1zm-2 6zm6-11zm2-4zm4 4zm6 1zm0-7zm-6-10zm-3-1zm-4-2zm1-2zm3-4zm2 2zm3 4zm4-7zm6 3zm1 3zm-3 3zm7-7zm-2-2zm3-10zm0-7zm0-3zm-1-4zm5-9zm-2-4zm-2-12zm-1-1zm5-1zm-6-8zm-6-4zm0-7zm6 2zm2-7zm-4-6zm-1-1zm-4-1zm-4-2zm-4-5zm2-9zm9 4zm6-7zm7-7zm3-5zm3 1zm1 3zm-1 4zm3 5zm-2 9zm2 2zm2 2zm3 5zm1 4zm5 5zm3-3zm0-3zm0-4zm-2 0zm6-4zm7-3zm-1-4zm9-3zm-2-4zm1-1zm4 1zm4-4zm-1-6zm0-2zm4 0zm7 3zm7 1zm9-6zm-2-6zm-7-7zm-3-4zm-2-9zm-8 3zm-3 8zm-7-1zm-3 3zm0 2zm1 3zm-6 1zm-4 3zm-1-4zm-1-4zm-4-1zm1 9zm-4 9zm-11-6zm1-9zm2-1zm2-11zm-4 0zm0-7zm-10-2zm0-3zm-1-5zm3-10zm-1-1zm-6 1zm-4-8zm2-2zm3-2zm-6-4zm-4-8zm-1-5zm5 0zm3-3zm1 0zm-6-8zm2-14zm2-4zm-9-1zm-7 5zm-9 11zm-1 2zm2 9zm-2 5zm3 3zm6 4zm-4 7zm-1 3zm-1 0zm-5-4zm-5-1zm-5-1zm-6 6zm3 2zm10 3zm4 7zm5-2zm0-3zm-4 11zm0 1zm-3-1zm3 5zm5 3zm0 1zm5 3zm7 3zm0 1zm6 0zm-1-5zm-12-9zm10-12zm17-16zm0-4zm-3 1zm10 5zm0 5zm5-7zm4-3zm8 1zm3-3zm3-3zm-1-1zm-2-1zm0-5zm-5-8zm2-2zm6-1zm3-2zm2 0zm-1-4zm-1-7zm6 2zm3-3zm-5-5zm-4-4zm-5-1zm8-4zm-1-8zm13 11zm4-3zm4 4zm3-6zm4-12zm17 5zm-3 6zm2 2zm4 2zm-1 3zm-11 3zm-8 5zm-6 4zm0 8zm7 2zm6-7zm10 14zm0 4zm5-6zm5 7zm-1 2zm-1 2zm1 3zm-2 6zm2 3zm-4 6zm-1 8zm7 4zm4-3zm-2-2zm9-1zm3-2zm5 0zm-5-6zm0-5zm-1-5zm3-6zm1-6zm5 3zm-11-4zm-2 7zm-6-5zm12-10zm1-11zm-3-3zm-1 0zm-2 2zm-2 2zm-2-1zm-2-4zm0-5zm2-2zm11-3zm0-2zm6 3zm6 4zm3 3zm3-1zm-1 8zm-5 2zm0 3zm-1 6zm8 3zm-2 4zm11-10zm-2-8zm-1-2zm4-6zm0-3zm4 4zm10 3zm-1 6zm-1 2zm-2 3zm3 6zm0 4zm4 1zm6 1zm1 10zm-4 5zm-3 2zm1 11zm4 5zm6-2zm2 0zm3-1zm-1 5zm9 1zm5-1zm0 4zm-2 3zm3 2zm2 2zm1-1zm1 1zm-2 9zm-2 7zm1 6zm-4 1zm0 9zm-1 0zm3 2zm7-8zm12 10zm5-4zm-15 17zm2 8zm4 1zm-1 2zm-2 9zm-1 1zm0 6zm4-1zm-1 5zm-5 3zm-2 5zm0 4zm5 0zm0 9zm-3 1zm-3 1zm-2 5zm-4-10zm-3 1zm-7 3zm-4-2zm-8-1zm-1-6zm0-5zm3-5zm0-5zm8 1zm-1 5zm4 2zm-1 3zm2 2zm10-4zm-3-18zm5-1zm-4-7zm-2 0zm-3-6zm-3 3zm-6 2zm-4 0zm-5-6zm-5-8zm-3-5zm6-4zm-12-7zm-2 0zm-2 1zm2 2zm1-7zm2-4zm0-8zm-3 0zm3-3zm-9 2zm-3-2zm-2 4zm0 1zm0 1zm-2 0zm4 5zm0 5zm1 6zm2 9zm-3 3zm-6 0zm-3 1zm-11-2zm-4 0zm-2 0zm1-2zm-7-2zm-6-4zm-2 7zm-1 1zm4 8zm4 4zm11 3zm-1 3zm6-6zm15 0zm0 5zm11-6zm14 11zm-7 7zm-18 9zm1 3zm4 4zm4 7zm-2 4zm-1 0zm-1 0zm-1-2zm-7 2zm-3-3zm-2 1zm0-3zm-1 0zm-2 0zm3-4zm-10 0zm-8-2zm-4 0zm-7-1zm-4-1zm2-4zm-10 2zm-1-2zm5 9zm-5 9zm2 5zm7 1zm0 1zm0 2zm-1 1zm4 0zm2 9zm2 2zm-5 1zm0-2zm-4 2zm-3 5zm-8 6zm8 5zm1-1zm-12 5zm-7-6zm-4-8zm5-6zm-7-6zm6-5zm3 1zm1-6zm7 4zm-4-12zm-1-8zm-7 2zm-1 2zm1 3zm-1 2zm-5 1zm-7 3zm-9-6zm-5 1zm-7-4zm-1 6zm-6-1zm-1 5zm-1 5zm1 1zm-3 1zm-3 2zm-2-2zm8 7zm5 6zm4 3zm2 0zm5-4zm4 0zm7-1zm-3 12zm-1 1zm5 11zm-3 3zm6 1zm1 3zm8-2zm8 0zm1 8zm-14 4zm-4 3zm-11-8zm-8-7zm-6-9zm-6 5zm-4-4zm-3-7zm2-7zm-10 8zm3 5zm-4 9zm-1 7zm3 0zm7 4zm1 1zm-2 6zm-3-2zm-6 4zm-1 5zm-1 5zm-2 2zm2 3zm-5-1zm-4-3zm-2 1zm-2 9zm9-18zm-4-5zm3-8zm-2-2zm-1-14zm-3-4zm2-11zm3-2zm9-9zm-2-15zm-4-9zm3-4zm-5-2zm-2-1zm-5 4zm-1 0zm20-6zm8-9zm6-5zm5 7zm-2 5zm11-8zm7-6zm3 0zm-4-10zm7-5zm6 4zm9 0zm3 1zm0-7zm-6 18zm-4 4zm-2 2zm-1 1zm-1 4zm6-1zm-20 8zm-13 17zm2 3zm1 6zm-13 37zm-3 1zm5 16zm-7 11zm-4 4zm-41 21zm-5-2zm-12 4zm-11 0zm-1-10zm-11-13zm46-44zm-23-31zm4-7zm-3-1zm-1-36zm-6-1zm-3-2zm-3 3zm-7-2zm1-7zm-7-3zm4-5zm12-4zm6 5zm2 1zm2 9zm-11-3zm15-15zm3-7zm-4-10zm-1-2zm4 1zm3-2zm1-1zm-2-5zm-4 3zm-4-1zm-13-4zm-1-1zm-10-2zm-1-3zm0-9zm1-3zm-2-4zm2-2zm3-2zm-5-2zm-3-2zm1-11zm1-4zm3-1zm7 1zm-9-9zm4-10zm-2-1zm-3-3zm4-5zm3 2zm3-2zm0-2zm5 1zm5 1zm-4 9zm8 4zm2 10zm-25-25zm9 61zm-10 23zm0 1zm6 12zm7-2zm5-1zm28-12zm6 3zm4 1zm1 1zm1 3zm2-4zm6 3zm-17 6zm-2 11zm13 26zm47-4zm4-23zm9-11zm4 3zm-20-15zm-1 0zm-8-5zm-4 0zm3-6zm5 2zm-6-8zm-5 3zm3-11zm7 3zm1-5zm10-6zm-1-14zm-4-1zm5-7zm-1-8zm9-7zm1 0zm5 5zm4 4zm1 4zm8 3zm7 2zm8-5zm-7-5zm-9 0zm-5 22zm5 2zm2 2zm6 3zm8 6zm2 2zm-8 11zm-3 7zm6 2zm6 0zm0 1zm-2 4zm-3 1zm-2 1zm12 6zm4-10zm5-5zm8 5zm1 5zm6-3zm0-3zm-2-6zm8 9zm7 5zm-7 5zm-2 3zm-17-7zm5-31zm0-5zm5 5zm4-4zm8-2zm-1-4zm4 1zm4-6zm-5-5zm-1-7zm6 1zm4-1zm11-14zm2-3zm20-11zm0-8zm3-4zm3 1zm-7-2zm5-6zm-7-2zm-5 4zm-3-5zm1-14zm3-3zm0-2zm2-4zm5 13zm8 4zm3-3zm7 7zm3 10zm1 3zm10 0zm5 12zm3 1zm-5 2zm9 2zm1 6zm4 10zm-5 12zm-4 5zm-8-8zm-8-2zm-2 1zm-2-2zm2-5zm-2-1zm-2-2zm6 0zm-4-7zm1-10zm-13 5zm-1-2zm1 14zm-2 1zm3 4zm-7 13zm-2 1zm-1 17zm2 3zm-7-2zm-6-4zm-2 4zm5 9zm10 1zm7-4zm2-6zm20 12zm3-3zm1-10zm10 1zm7-22zm-69 12zm-2-3zm-11 20zm-17-4zm-52 4zm-10-9zm-1-3zm5-2zm2-1zm-11 15zm-27-23zm-17 14zm11-40zm-9-8zm8-9zm1 0zm3 3zm5-11zm-11-1zm-4-1zm-2-2zm-4 3zm-4 4zm-1 2zm-3 2zm13-18zm38 6zm1 1zm41 10zm1 2zm2-34zm-6-4zm6-6zm12-7zm10 16zm-5 3zm-4 0zm19 10zm3-9zm8-8zm2-10zm-3-3zm1-1zm-8 4zm9 25zm1 0zm34 127zm2 7zm8-4zm21 23zm-27 41zm0 1zm-3 0zm-4 0zm4 10zm7-3zm-23 1zm-5 0zm2-10zm-5-1zm-5 0zm0 2zm-4 6zm-7-2zm-2-3zm-11-4zm-2 3zm-11 0zm0-2zm-3-3zm-2-1zm8 17zm1 0zm2 1zm2-1zm3 0zm-2 4zm-4 8zm-3-1zm-8-2zm4 11zm6 3zm-3 5zm-9-1zm-10 5zm29-5zm10-8zm8 7zm12-17zm-3-3zm-11-2zm-8-3zm-4-40zm4-1zm-18-6z" stroke="#1f77b4" stroke-width="4.5" stroke-linecap="round" fill="none"/>
<path transform="scale(0.2)" d="M180 3471zm12-2zm6-7zm6-4zm12-20zm-10-4zm0-5zm-1-2zm-3-5zm-4-3zm8-9zm6 3zm2 3zm1-14zm14 2zm3 5zm6 7zm9 5zm3-2zm5-5zm5-1zm-11-2zm18-13zm11 11zm19 0zm0 6zm11 17zm-16 5zm-12 7zm-4-15zm-10 2zm-7 23zm-8 13zm-3-1zm-5-3zm-8 11zm7 17zm-1 6zm-7 5zm20-6zm14-22zm20-4zm11-12zm20-7zm5 17zm12 2zm4-18zm9 1zm3 6zm2-13zm5-2zm17-20zm-5-7zm17-6zm-1 15zm19-13zm11 2zm2-7zm-9-11zm-6-6zm3-2zm-15-9zm-5-7zm-1 0zm-12 10zm-3 6zm-4-3zm-16-5zm-12 6zm-3 1zm-6 15zm11 2zm-2 15zm-6 4zm-3 11zm18 53zm5 14zm-6 8zm-10 4zm0 6zm0-14zm-12 22zm-25-4zm-11-15zm-9-10zm-2 23zm-1 2zm-10 16zm-22-5zm-7 6zm-10-18zm-21-11zm-10-7zm-13 9zm8 21zm-1 5zm-2 20zm0 1zm9 14zm17-15zm1-2zm8-1zm70-11zm-78-64zm-28 6zm50-51zm-9-47zm18-4zm4-13zm-3-17zm7-20zm-24-1zm0-2zm-10 13zm-13 1zm0 3zm-5-6zm-10 10zm17 5zm-15 21zm8 6zm1-1zm7-55zm-13-15zm-9 14zm91 25zm0 8zm7 2zm5-25zm-3-6zm16 9zm9-21zm11-1zm17-4zm9 0zm-5 13zm31-8zm13-3zm1-11zm5-1zm-21-7zm-1-2zm-4-11zm23-18zm10 0zm46 30zm-11 17zm-15 6zm2 10zm10 7zm-19 3zm-1 2zm-7 1zm-1 8zm1 8zm9-4zm11 18zm-6 5zm15-7zm18 18zm-1 22zm9 4zm-26 3zm-4-7zm0-13zm-6 44zm-4 25zm-8 5zm-10 8zm12 18zm5-1zm20-15zm6-11zm-73-2zm-3 3zm-24-106zm24-10zm23-1zm3-16zm-2-2zm58-13zm13 29zm-137-68zm-26 10zm-4-2zm-5-5zm5-6zm2 0zm-15 5zm1 19z" stroke="#fff" stroke-width="3.75" stroke-linecap="round" fill="none" opacity="0.75"/>
<path transform="scale(0.2)" d="M182 3316zm3 1zm2 1zm0 3zm1 0zm-2 5zm0 4zm4 3zm4-2zm-2-2zm3-5zm1-6zm47-5zm5 3zm2 1zm-1 9zm6 6zm4-13zm6-3zm-2-4zm-7-2zm-3-4zm-2 1zm-1-2zm-3-1zm0 4zm6-5zm22 25zm8 14zm0 4zm4-1zm0-3zm3 2zm5 5zm3-3zm0-2zm1-8zm4 16zm4 5zm-16-6zm-7 2zm-1 2zm5 3zm2 1zm-5 5zm-2 1zm-1-4zm-8 0zm-5 1zm0 5zm-5-5zm-2-2zm4-2zm5-2zm3-1zm-2-3zm6-2zm0-6zm-3 53zm6 8zm-3 3zm8 0zm2 2zm1-2zm-3-7zm2-1zm8 2zm26-22zm13 1zm5-4zm1-4zm-1-2zm-4-2zm6-4zm0-1zm4-5zm3 4zm4-6zm7-9zm0-4zm1-4zm2 1zm0-4zm0-2zm3 0zm-7-4zm-5-6zm18 20zm-9 30zm-3 10zm3 4zm2 1zm2-3zm3 5zm7-2zm3-2zm1 2zm4-2zm2-6zm11-1zm11 12zm-2 6zm-2 0zm1 4zm-3 2zm-1 2zm1 5zm1 2zm-6 0zm1-12zm-3-3zm15 9zm21-12zm3-1zm3-4zm0-2zm3 3zm1 2zm1 1zm3-1zm2 0zm1 2zm1 0zm2 3zm1 1zm0 3zm-3-1zm-8 0zm2-12zm3 0zm1-1zm3-4zm7 4zm1 13zm2 0zm0 3zm0 5zm-8 2zm10 7zm-1 2zm1 7zm-6 5zm-6-3zm-19-42zm10-10zm-2-19zm5-1zm4-5zm2 2zm1-3zm6 2zm1-2zm4-2zm2 0zm-3-5zm0-4zm-4-1zm0-7zm-1-1zm1-2zm1 1zm2 2zm3-1zm-1-3zm-9 1zm-3 5zm-7 11zm0 2zm-3 4zm16 6zm2 4zm-25-33zm-6 0zm0-1zm-4-2zm1-2zm3-4zm-12 5zm-7 5zm37-14zm4-4zm2-1zm0-2zm-3-1zm2-3zm6-1zm1 1zm2 2zm-2 2zm1 2zm3 4zm-2 4zm-6-3zm-10-9zm-30-29zm0-7zm-7-4zm-1 0zm-1 2zm-1 4zm-4-2zm-3-2zm4-3zm-25 9zm-8 4zm-6 6zm3 4zm8 0zm5-4zm1 0zm3 3zm6 2zm-28-17zm-3 2zm-51 10zm-1 1zm-2-2zm-2 0zm0 2zm-3 0zm1 5zm8-1zm-6-9zm46 90zm3 1zm-1 2zm-2 2zm-1-1zm-1 3zm-2 2zm-1 6zm8-2zm2-11zm20 11zm-4 15zm11 8zm-1 7zm-2 0zm0 7zm5 7zm-10 2zm-4-4zm-6-2zm-3-4zm3-7zm3 1zm-13 26zm-9 0zm-4 1zm-2 3zm-3 0zm-1-2zm-4 0zm3-4zm1 0zm2-1zm0-1zm2-1zm-1-2zm-5 2zm-8 4zm11-46zm48 52zm4 1zm6 1zm0-2zm2-3zm2 2zm-1 3zm-2 3zm7 0zm7-4zm0-6zm-8-2zm-1-3zm-3 0zm0 1zm-4 4zm0 19zm-12 1zm-1-2zm-5 15zm-3 5zm-1 3zm2 3zm-2 1zm-1 0zm2 1zm2 1zm5-3zm2 2zm-2-7zm1-1zm-4 2zm-9 3zm-2 2zm1 6zm-10-7zm-10 8zm-4 6zm0 1zm3 10zm-1 3zm2 1zm0 2zm-4-2zm-2-3zm-1 0zm-7 0zm0-5zm-3 0zm-4-6zm5-5zm-2-2zm-6 19zm-44 6zm0 3zm-1 5zm-3 0zm-6-3zm-3-2zm-3 3zm3 2zm2 3zm-6-10zm-6 5zm-2-1zm-4 2zm-3 2zm1 5zm7-1zm3 7zm2 1zm-1 3zm4 0zm0-1zm10 3zm-2 10zm-18-10zm-9 20zm-3-1zm-2 4zm1 3zm5 0zm7-1zm-15 7zm-1 0zm-6 1zm1-50zm4-1zm1-2zm-1-2zm3-2zm3 1zm-3-5zm-3 1zm-4-3zm-1 4zm0 2zm-1 2zm-2-2zm-1-4zm-1 10zm23-5zm14-18zm1-11zm-2-3zm-7-3zm-3 0zm2-4zm-7 10zm-4 2zm-4-5zm-3 4zm15 2zm5-28zm2-8zm6 0zm3 1zm4 0zm2-1zm-3-3zm-1-1zm-5-1zm3 10zm3 0zm8 2zm1-3zm-26-10zm-9-14zm-3-8zm-2-1zm-3 2zm11-7zm-1-4zm-3-2zm-1-1zm-4-5zm1-3zm-6 8zm16 13zm5-3zm-34 19zm3 7zm2 1zm-5 4zm1 8zm-9-3zm-1-6zm0-3zm-11-2zm-3 1zm0-5zm-5 0zm-1 0zm1-2zm11 21zm2-1zm72 46zm94-39zm16 1zm3 6zm2 2zm2 1zm7 0zm1-4zm-1-1zm0-5zm4-3zm5 2zm0 2zm5 1zm2 0zm5 1zm1-3zm-1-2zm5-1zm-7-5zm-2 1zm-11-2zm5-11zm9 28zm1 2zm5-3zm2 0zm1-1zm4-1zm0 2zm-1 6zm8 1zm4-2zm-17 13zm-3-4zm-7-2zm-2-2zm0 5zm-2 2zm0 3zm2 2zm-5 0zm-1 1zm-1 2zm-2 0zm3 5zm-11-22z" stroke="#fff" stroke-width="4.25" stroke-linecap="round" fill="none" opacity="0.8"/>
<path transform="scale(0.2)" d="M165 3504zm2 3zm5-8zm0-1zm-3-4zm-2-4zm7-5zm-1-5zm1-8zm1 0zm7-7zm-2-2zm4-1zm3-1zm-7-9zm11-7zm-4-5zm2-5zm5-7zm-8-3zm-3-2zm2-5zm5 2zm-7-8zm0-13zm3-2zm-7-6zm-7-8zm8-11zm3-2zm-3-7zm4-1zm-8-13zm2-5zm-2-1zm9-9zm-7-4zm6-16zm2-2zm7-1zm14 1zm0 2zm14-2zm12-4zm14-2zm0-1zm8-4zm-3-5zm2-3zm9 6zm2-2zm12-7zm3 0zm0-2zm4 3zm3-5zm1-3zm10-3zm2 2zm0 2zm12-9zm12 0zm0-7zm10-1zm0 4zm12-1zm10-11zm11 3zm8 0zm9-3zm4 2zm3-3zm2-3zm8 6zm1 5zm14 2zm0 5zm3 2zm2 3zm12 5zm20 11zm1-2zm2 2zm-2 5zm2 6zm10 29zm0 7zm2 3zm-3 6zm7 6zm-5 10zm-4 2zm6 3zm-3 5zm1 5zm1 0zm2 3zm-7-1zm2 7zm1 11zm2 11zm-1 11zm-7-2zm5 10zm0 2zm-3-1zm-1 9zm0 10zm-1 6zm-3 7zm-12 12zm3 6zm-14 15zm-7 4zm-3 1zm2 2zm-2-6zm-3-1zm-8 8zm-2 3zm-8 3zm-21 5zm-5 3zm-1-5zm-8 8zm-2-1zm-4 4zm-4 4zm-7 5zm-1-9zm0-5zm-16 14zm1 3zm-5-4zm-12 1zm-14 5zm-3 2zm-6 3zm1 2zm-6-2zm-3-3zm-4 7zm1 1zm5 2zm-14 3zm-6 1zm-5 5zm0 7zm-7-2zm-3 0zm-7 4zm0 7zm-14-2zm-7 4zm-10 4zm-2 3zm-2 4zm-11-3zm-3-5zm-3-4zm-8-7zm-8-12zm-6-20zm-3-2zm-5-10zm7-7zm4-206zm-1-1z" stroke="#fff" stroke-width="4.275" stroke-linecap="round" fill="none" opacity="0.85"/>
<path transform="scale(0.2)" d="M165 3486zm5-1zm4-11zm5 0zm6-15zm2-10zm5-2zm-2-8zm-5-16zm-3-12zm1-1zm-1-7zm-2-15zm1-5zm-3-3zm-2 1zm-3-13zm5-27zm6 1zm-8-10zm-7-1zm-3 3zm12-18zm5-4zm1-1zm12 5zm9-5zm4 3zm5 2zm9 1zm4-6zm7-1zm1-1zm0-1zm-2-2zm7-2zm0 5zm18-10zm8-11zm8 2zm3-5zm17-2zm1 0zm11-3zm2 0zm6-3zm2 0zm-1-3zm13-8zm2-4zm5 7zm2 3zm12-7zm4-3zm12 1zm7 0zm3-3zm20 1zm3 6zm6 3zm1-5zm4 2zm3-1zm11 15zm0 1zm8 10zm8-2zm-2-5zm9 2zm1 2zm18 11zm-6 10zm0 1zm6 1zm1 9zm5 8zm4 5zm-3 5zm-6-1zm1 11zm5 1zm-12 3zm0 22zm5 22zm6 1zm-4 6zm5 5zm-6 6zm-4-4zm-3 29zm2 6zm7 1zm-13 10zm3 4zm1 3zm-6 7zm0 3zm4 4zm-10-2zm0 4zm-7 2zm-2 6zm-1 1zm1 3zm-23 11zm-4 7zm-10-1zm-2 2zm-7 2zm-5 4zm-2 1zm-20 9zm-4 2zm-1-3zm-16-1zm-2 1zm-1 0zm-14 8zm-3-2zm-16 9zm-6-2zm-16 10zm-7 8zm-9 4zm-14 2zm-6 3zm-7 11zm-5 2zm-8 0zm2 6zm-3 2zm-9-3zm-6 1zm-4-8zm-10 5zm-6-3zm-1-2zm-2 0zm1-2zm4-4zm-12-13zm-1 0zm-7-3zm-1-2zm1-7zm2-10zm-1-8zm-2-5zm-3-6zm-4 7zm286-203z" stroke="#1f77b4" stroke-width="4.75" stroke-linecap="round" fill="none"/>
<path d="M39.2,715.8C39.8,715.0 43.0,716.4 45.6,715.4C48.2,714.4 51.7,711.7 54.7,709.9C57.8,708.1 60.9,705.9 63.9,704.4C67.0,702.9 70.1,702.7 73.0,700.8C75.9,698.9 79.0,694.3 81.5,693.2C84.0,692.1 86.1,693.0 88.0,694.0C89.9,695.0 91.3,697.2 93.0,699.0C94.7,700.8 96.2,703.2 98.0,705.0C99.8,706.8 101.6,708.2 104.0,710.0C106.4,711.8 110.8,713.2 112.5,715.5C114.2,717.8 116.2,721.3 114.5,724.0C112.8,726.7 105.5,729.3 102.2,731.8C98.9,734.3 97.2,736.8 94.9,739.1C92.6,741.4 90.1,743.0 88.6,745.4C87.0,747.8 86.7,751.9 85.6,753.6C84.5,755.3 83.0,756.1 82.1,755.8C81.2,755.5 80.4,754.1 80.1,751.9C79.8,749.7 81.5,745.1 80.3,742.7C79.1,740.3 76.3,739.1 73.0,737.3C69.7,735.5 64.2,733.6 60.2,731.8C56.2,730.0 52.3,728.3 49.3,726.3C46.3,724.3 43.7,721.6 42.0,719.9C40.3,718.1 38.6,716.5 39.2,715.8Z" fill="#d62728" opacity="0.92"/>
<path transform="scale(0.2)" d="M198 3584zm3 2zm3 1zm4-2zm7-4zm8 2zm-2 4zm8 3zm5 6zm1 2zm1 6zm0 1zm3 1zm2-1zm-9 2zm-7-1zm-4-4zm-3-1zm-4-3zm-13-18zm-1-2zm41 7zm4 1zm2 0zm1 1zm-2 6zm-4 0zm-1-3zm10 6zm6 12zm-3 3zm-9 12zm-7-4zm-8-3zm27 13zm1 6zm-3 1zm10 2zm1 1zm4-10zm9 9zm3-3zm11 1zm2 8zm0 2zm-9 0zm-8 5zm20 4zm6-5zm3-2zm5-3zm6-4zm3 3zm3-5zm0-4zm-4-5zm0-1zm-1-6zm4 0zm4-3zm1 8zm4 8zm7 4zm3-2zm1 4zm5 6zm-3 3zm-9 4zm-1 3zm3 2zm5 2zm-9 4zm-4-9zm-13 0zm0-2zm-11-17zm1-3zm0-7zm0-4zm-4 2zm-2-3zm1-5zm3-2zm-5-1zm-1-4zm1-4zm-7-3zm-2 3zm-9 1zm-3 4zm-2 1zm-5-8zm-6-6zm9-8zm2-4zm-8-5zm3-4zm0-4zm2-1zm4 1zm5-8zm5 1zm1-2zm4-5zm7-8zm9 0zm4 3zm-1 3zm0 6zm-7 1zm1 7zm-3 5zm-9-3zm-3-2zm-2 6zm3 16zm-10 7zm-2-4zm7 21zm-5 3zm14-2zm16 8zm2-8zm5-4zm0-5zm-8-3zm5-7zm4-2zm0-4zm1 0zm-1-7zm2-4zm4-3zm-4-2zm-4-5zm10 0zm1 0zm5 1zm8-1zm0 6zm0 3zm5 3zm5-9zm2-1zm3-3zm6-14zm-1-2zm3-5zm0-9zm6-2zm-5-7zm4-6zm-1-3zm7 7zm8 2zm1-2zm6 2zm1 3zm-2 7zm4 4zm-2 4zm0 5zm-2 0zm-11-11zm22-3zm6-3zm6-1zm3-1zm9 3zm3 0zm-1-3zm4 2zm2-2zm7 2zm4 1zm-2-5zm0-4zm3-1zm7-1zm2-3zm0 6zm-4 5zm1 2zm0 5zm-1 0zm6-1zm-2 6zm6-1zm6 6zm0 1zm-4 6zm0 3zm1 8zm5-2zm2-4zm0-4zm3 1zm1 0zm0-2zm4 0zm-1-4zm4 1zm-3-6zm1-6zm-1-8zm-4-6zm-1-4zm4-4zm3-4zm2 2zm-1 7zm-10-7zm1-8zm-7 2zm-4-4zm-1-1zm-4 6zm3 2zm-10 0zm-1-4zm1-1zm1-3zm-2-1zm-1 0zm5 0zm6-7zm6 1zm1 1zm-1-7zm6-6zm-17 4zm-3 1zm-8-9zm-1-2zm1-3zm-4-3zm-4-2zm3-3zm5-1zm9 5zm-16 9zm-1 9zm-3 6zm4 3zm4 6zm2 11zm-12 5zm-3-15zm-4 0zm3-8zm-8-3zm-1 0zm-2 5zm-8-7zm-7-4zm0-1zm0 10zm1 2zm4 5zm-1 8zm-7-1zm-2-4zm-1 0zm-5-1zm-5 2zm4 4zm1 4zm4-1zm5 7zm12 20zm4 6zm0 3zm3 6zm3 5zm-5 4zm-1 0zm0 3zm-5-4zm-1-3zm-3 3zm2 7zm-2 3zm3 10zm3 0zm4 1zm5-2zm-4-6zm5-5zm0-3zm6 1zm2 4zm9 6zm3 2zm-3 6zm-7 0zm1 12zm5 4zm3-2zm1 3zm2-1zm0 5zm1 1zm6 2zm4 1zm-1 3zm0 5zm5 4zm3-3zm10 3zm3 4zm7-5zm2 2zm2-2zm1 2zm10-2zm3-2zm3-3zm-7-2zm-4-7zm-2 0zm-7-2zm1-6zm2-7zm-3-4zm1-3zm-3-1zm2-3zm-4-3zm-2-6zm-6 2zm-2-1zm-5 0zm-2 2zm5 5zm7 4zm6 7zm-12 6zm1 5zm1 2zm-4-1zm-7-5zm-3 3zm0 2zm-6-2zm2-7zm-9 2zm-6 9zm1 6zm2 3zm-5 1zm2 11zm-1 1zm-6 0zm-4 7zm8 0zm5 4zm5 0zm4 1zm2-3zm2 2zm2 0zm0-2zm3-1zm0 3zm6 1zm4 0zm1-3zm-1-1zm-1-4zm-1 0zm-3 3zm-9-5zm2 15zm-7 3zm1 13zm4 3zm-4 9zm7 2zm6-4zm2-5zm8 3zm5 1zm5 2zm3-6zm3 2zm2 1zm3-14zm-9 0zm-4 3zm-1-4zm-7-4zm-3 5zm-9 2zm13-15zm3-4zm14 8zm3-2zm7 4zm1 1zm3-4zm5-2zm1 1zm3-3zm2-6zm-2-4zm1-6zm-2-2zm-1 0zm-4 5zm12 0zm4-1zm3-2zm-1 7zm3 0zm5 0zm6-7zm1-4zm1 0zm-6-1zm5-11zm-3-4zm1-7zm1-2zm-3-1zm0-4zm-1-3zm-1-3zm-3 5zm0 10zm-10 4zm-1 3zm-8 6zm-7-4zm1-12zm1 0zm0-5zm-8-6zm-2 2zm-2 5zm-1 0zm2 4zm8-16zm3-1zm-8-2zm0-3zm3-4zm-2-4zm-3 2zm-6 2zm-2 4zm-1 2zm8-16zm3-1zm-4-4zm-4 3zm-2 0zm-1-5zm3-2zm1-9zm0-3zm5 2zm7 8zm8 0zm4-4zm-4-4zm-1 0zm5-5zm15 10zm-2 3zm-4 9zm-3 3zm0 3zm5 2zm5-1zm0-2zm-2-3zm9 1zm10-4zm2 4zm4 2zm-4 9zm3 1zm8 3zm4 3zm2-4zm-1-6zm-3 1zm-2 12zm-6 0zm-1 8zm-1 1zm1 2zm-5 0zm-1 4zm-6-1zm1-3zm15 10zm5 1zm2 3zm4-4zm-7-14zm-7 24zm-9 10zm-25-41zm3-8zm2 1zm4 1zm-13-4zm-11-8zm33-14zm5-3zm-49-25zm-27 7zm-3-6zm-3 1zm-14 23zm-2 2zm2 6zm-8 1zm-8 3zm-2-10zm-5-5zm5-4zm-2-5zm-2 1zm1-4zm-7 5zm-32 23zm2 4zm-8-4zm-6 3zm-1 3zm-2 9zm-5 5zm2 5zm8 1zm1-1zm2 3zm6-2zm5-2zm0-2zm2 7zm0 4zm5 1zm1 2zm1 1zm-6 4zm-7 5zm1 7zm3 4zm4 3zm3-4zm7-6zm5 8zm1 5zm1 3zm7-2zm3-6zm-3-6zm-1-8zm1-3zm1-4zm3-1zm2 4zm-15-2zm-2-1zm1-1zm1-8zm-38 5zm-5 10zm4 2zm0 2zm-12 7zm-1 1zm-8 0zm-6-3zm-1 2zm0 3zm4 5zm4 8zm8 2zm-4 8zm1 2zm4 4zm3-4zm6 0zm0-5zm0-6zm3-5zm-1-3zm2-1zm3 6zm1 0zm8-4zm6 13zm2 0zm3 1zm3 2zm7 3zm6 2zm2 5zm-5 0zm-6 0zm-2-1zm-1 10zm-3 3zm0 1zm-1-2zm-4 6zm4 2zm-6 3zm5 10zm5 6zm0 1zm0 1zm-7 1zm11-9zm4-5zm-4-3zm5-3zm11 17zm-8 4zm-3 6zm-6 6zm9 7zm2-1zm-6 6zm0 4zm2 6zm4 0zm3-3zm1-1zm2 1zm4-3zm6 6zm-6 5zm-3 4zm-4 1zm-4 2zm-3 4zm-3 0zm-2 2zm-7 7zm15 1zm1-1zm6 1zm3 3zm3-2zm4-3zm-1-11zm-6 0zm13-1zm10-15zm-5-14zm-2-7zm4-8zm2 1zm-4-4zm0-4zm-2 0zm-9 4zm-1 0zm0 1zm-11 5zm5 9zm25-4zm0-2zm4 5zm9-12zm-2-4zm1-5zm-4-3zm-7 0zm1 8zm-12-12zm-6-13zm3-2zm-6-6zm2-9zm-16-14zm-9 3zm-2-4zm-16 15zm-1 6zm2 2zm-12 3zm-6-6zm-4-3zm-11 7zm1 8zm-9-3zm-8 9zm28-1zm6 0zm5-2zm0 9zm-17-53zm-15-19zm4-4zm1-9zm-2-4zm3-2zm5-7zm-15 7zm-3 10zm1 9zm1 3zm-5-3zm-6-16zm-2-8zm-1-1zm3-2zm-21-2zm-4 6zm25-28zm1 0zm7 0zm-1-7zm5 0zm9-2zm0-8zm-6 1zm-4-1zm-6-5zm0-2zm1 0zm-4-1zm9 0zm3-6zm4 2zm4 2zm3-6zm2 1zm-20-3zm-8-1zm-4-2zm11-6zm-22 16zm-7 5zm-2-6zm-10 4zm-7 1zm-2 9zm-4 5zm-7-5zm-14 6zm-2 10zm3 5zm-6 1zm-2-1zm2 7zm3 0zm-1 3zm-3 0zm-12-8zm-2 0zm7-9zm70-10zm6-2zm-2-4zm8 2zm-6 9zm48-47zm0-2zm-5-4zm14-3zm5 1zm2-24zm6-5zm10 0zm1 0zm11 0zm2 7zm-3 3zm-2 0zm11 0zm-1-5zm0-16zm30 110zm-2 3zm8 0zm4 2zm-13 12zm0 4zm3-1zm7 5zm1 1zm14 21zm1 1zm-5 71zm-5 3zm-64 49zm16 25zm-1 1zm1 1zm-12 4z" stroke="#d62728" stroke-width="4.5" stroke-linecap="round" fill="none"/>
<path transform="scale(0.2)" d="M218 3582zm12 12zm-2 19zm5 7zm25 2zm1-18zm5-21zm-4-2zm9 0zm18 6zm5-11zm17-18zm11 11zm7 26zm-6 13zm12 1zm3 3zm3-2zm9 15zm-12 7zm-7 2zm13 4zm-10 11zm2 3zm-3 3zm5 11zm18 13zm12-7zm19 5zm9-3zm1-17zm5-11zm14 7zm5-15zm3-6zm0-9zm-5-2zm-1-7zm-3-12zm-8 19zm-23 12zm0 13zm-17-21zm-3-22zm-9-21zm4-17zm0-6zm5-2zm9 3zm11-4zm2 2zm4 11zm8-1zm9-4zm3 7zm7 2zm-10 6zm-10 0zm2 9zm-4 5zm-8-10zm13-32zm9-21zm3-2zm-3-3zm-5-9zm-12-16zm2-7zm-14 45zm-19 9zm-14-31zm-19 5zm0 7zm-10 3zm-1 4zm-6 2zm-63 34zm183-27zm16 14zm-4 10zm4 11zm-12 3zm1 9zm10 2zm-5 9zm-1 9zm-3 1zm13 4zm-8 9zm-8 9zm-2 13zm10 14zm22 2zm11-3zm3 6zm3-19zm0-8zm8-4zm2 14zm15 15zm12-9zm-3-9zm-3-3zm20-15zm-2-16zm12 1zm-5-11zm15-4zm9 5zm2-12zm-7-17zm-15-5zm-13-6zm-5 4zm-8-4zm-6-4zm-16-12zm-17 2zm-1 4zm5 9zm-10 3zm3 9zm-4 9zm10 6zm16 11zm7-8zm7-13zm17 12zm-27 23zm-27-3zm-9 9zm6 12zm-9 3zm-5 3zm0 2zm1-41zm4-44zm1-4zm0-9zm3-6zm8-2zm-31-20zm20-18zm-11-16zm116 140zm-119 69zm-1 8zm-22 12zm-15 9zm10 19zm0 3zm-2 12zm-10 4zm-3 3zm3-66zm11-5zm2 0zm-3-3zm3-3zm-1-3z" stroke="#fff" stroke-width="3.75" stroke-linecap="round" fill="none" opacity="0.75"/>
<path transform="scale(0.2)" d="M228 3606zm5 3zm0 2zm0 2zm2 1zm1-1zm2 3zm-2 1zm4 3zm-2 3zm3 3zm5 1zm-6-16zm-1-2zm-2-2zm7 3zm5-2zm3-1zm6-7zm5-2zm4 1zm0 1zm5 2zm0-11zm-6 1zm-2 1zm-6 1zm-4 1zm-2 1zm7-7zm6-6zm2 0zm3 2zm31 3zm2-1zm3-1zm3 5zm4 3zm1 0zm2 1zm6-2zm-8-5zm-2-2zm2-1zm-1-3zm-12 9zm13 15zm9 5zm3 2zm4-2zm2 2zm1-4zm-6-1zm-4 9zm2 2zm7 3zm9-2zm-1-5zm3-8zm-20 21zm-6-4zm-1 0zm56 19zm10-1zm3-3zm2 3zm-1 4zm6-3zm4 0zm2-3zm7 2zm-10 19zm0 2zm-4-1zm-4 1zm-3 0zm-1 3zm5 1zm3 5zm1 2zm7-4zm4-5zm5 5zm-26-13zm-5 10zm0-34zm53 14zm5 5zm-1 4zm7 0zm1 4zm15 2zm5-2zm0 5zm0 1zm6-7zm-1-3zm-1 0zm5 20zm27-12zm7 0zm4-5zm1 0zm4-7zm-2-1zm-6 0zm-28-30zm-6-2zm2-3zm2-3zm10-1zm7-15zm6-1zm2-1zm6-1zm5 3zm2 2zm1 0zm-5-10zm-2-1zm-3 0zm-6-4zm-5 1zm9-6zm5 1zm1 1zm0 1zm2-5zm6-2zm4 3zm2 2zm-4 5zm-9-15zm-3-3zm3-5zm4-2zm-3-5zm-2 0zm-1-5zm-2-5zm7 1zm1 4zm2-1zm5 10zm26 33zm5 2zm-9 7zm-2 1zm13 4zm9-2zm-98 22zm-4-10zm2-1zm-7-1zm-2 1zm-3 0zm0-2zm-1-1zm-1 2zm-4-26zm1-1zm2-4zm-2-4zm1-1zm-3-1zm-1-2zm3-3zm-8 2zm-2-1zm2 6zm-3 4zm3 5zm-7-20zm-5 0zm-4-8zm-3-1zm-4-3zm-3 0zm-2-1zm-4-1zm-1-1zm-2 2zm3 2zm-1 1zm6 3zm1 4zm0 5zm-8 2zm-3-3zm-2 9zm-1-25zm6-6zm-5-3zm-2-2zm-6-5zm5-3zm5-10zm4 1zm0-3zm-1-2zm1-1zm1-3zm0-2zm2 0zm1-2zm2-3zm-4-3zm-1-1zm-2 0zm-2 0zm1-2zm2-1zm-4-2zm-1 0zm-1 2zm-2-3zm2-5zm3 1zm1-1zm8 7zm0 2zm-6 6zm-1 2zm-1 0zm-4 4zm0 3zm-3-9zm-2-3zm3-1zm-5-2zm-4-3zm3-3zm-5-7zm-5 4zm1 10zm-3 3zm5 3zm3-3zm2 2zm26 11zm1 2zm6-6zm8-27zm-1-8zm-9-4zm-1 5zm-1 6zm-5-14zm7-4zm0-4zm-2 0zm6 6zm21 7zm1-2zm-18 73zm-2 2zm-10 1zm-60-43zm-113 92zm-13 12zm183 90zm1-1zm2 4zm4-4zm4 7zm4-4zm2-1zm2-2zm-13 12zm1 4zm-2 27zm-3 10zm-5 0zm-4 1zm4 7zm-2 7zm6 0zm3 0zm4-7zm-1-2zm5 1zm-3-7z" stroke="#fff" stroke-width="4.25" stroke-linecap="round" fill="none" opacity="0.8"/>
<path transform="scale(0.2)" d="M194 3577zm1 3zm8-3zm9 4zm9-6zm3-3zm2 1zm9 1zm5-5zm4 0zm4-5zm6-2zm-1-2zm11-8zm2 0zm2 4zm5-6zm16-5zm-3-7zm8 0zm2-5zm10-4zm3 2zm8-8zm2-8zm9 7zm9-7zm2-2zm5 1zm13-6zm2-8zm7-1zm-1 5zm18-12zm1-2zm5-10zm1 0zm8-4zm3-3zm-6-3zm9-5zm1 1zm6-3zm2 5zm3-9zm13 4zm2 2zm8 1zm1 0zm1 6zm0 4zm5 3zm12 10zm4 1zm1 4zm-3 3zm12 6zm7 11zm7 1zm-3 6zm0 3zm9 4zm1-1zm-2 4zm5 2zm8 6zm0 2zm4 2zm5 2zm0 4zm8 7zm9 4zm16 3zm1 1zm9 3zm6 5zm2 10zm5 6zm4 13zm-3 7zm3 6zm3 0zm-3 4zm-3 11zm-9 4zm-6 0zm-1 4zm-16-2zm1 13zm-13 2zm-5 3zm-8 10zm-20 8zm1 6zm-7 5zm-1 2zm-6 7zm-2 2zm-6 6zm-6 6zm-3-1zm0-4zm-2 12zm-9 3zm-4 10zm-2 1zm-7 8zm-4 15zm-3-1zm4 10zm-4 5zm-7 4zm-1 0zm-1 1zm1 6zm-6 6zm-5 1zm-3 0zm-2-6zm-1-4zm7 4zm-8-23zm-6 1zm4-11zm-4-3zm-3 0zm7-10zm-1-2zm-2-3zm-2-15zm-7-11zm-11-2zm-9-6zm1-3zm-20-3zm-2-6zm-6-4zm-1 0zm-4 1zm-7-6zm-4 4zm-22-11zm-18-6zm0-1zm1-6zm-9 2zm-1 1zm-1 1zm-5-11zm-11 7zm-4-9zm-10-10zm0-1zm-17-8zm-11-11zm1-1zm-2 2zm-6-3zm-11-21zm-6 4zm104-68z" stroke="#fff" stroke-width="4.275" stroke-linecap="round" fill="none" opacity="0.85"/>
<path transform="scale(0.2)" d="M199 3589zm3-1zm-1-4zm-1-5zm3 0zm-2-4zm5 0zm5 3zm8-2zm12 4zm6-11zm6 6zm2-14zm12-1zm3-2zm2 0zm4-1zm5-11zm3-8zm7 2zm1 2zm9-4zm4-1zm3 2zm-4-8zm18-2zm7-5zm9-4zm10-4zm6-4zm-2-7zm13 4zm4-1zm-2-3zm8-5zm0-1zm7 1zm2-3zm4-7zm3-5zm6-6zm11-6zm9-5zm13-2zm3-2zm10-1zm15 10zm8-1zm1 10zm2 3zm-9-4zm11 15zm13-4zm-2 20zm-1 0zm22 15zm5-3zm3 14zm15 12zm6-2zm2 5zm5 1zm3-4zm-4 9zm11 7zm7 1zm0-6zm-2-3zm10 5zm3 8zm1 4zm11 11zm-2 2zm2 1zm4 7zm3 7zm0 10zm-7 12zm-4 1zm-5 10zm-3-1zm-6 6zm-13 5zm-7 3zm-6 1zm-5-2zm-4 1zm4 6zm-11 4zm-2 5zm-2 1zm-3 3zm-3 3zm-3-10zm-5 25zm-5 3zm-2 0zm-11 3zm-3 5zm5 2zm-16 6zm1 4zm-5 4zm-2-3zm-5 14zm-3 12zm-6 1zm-3-5zm-8 7zm7 13zm2 14zm-16 9zm-9-2zm-5 3zm-1-9zm-7 2zm-1 0zm3-12zm4 1zm0-12zm-9-3zm11-9zm1-15zm-11-2zm0-8zm-2-4zm-2-5zm-5-1zm-5-3zm-1 1zm-5-6zm-2-7zm-12 1zm-5 7zm-6-9zm-1-5zm-5-5zm3-2zm-17-5zm-2 6zm-8-12zm-7 9zm-1 2zm-2-2zm-3-4zm-4-5zm3-4zm-9 6zm-2-1zm-7 0zm-16-10zm-4-10zm-4-3zm-2 0zm-6 0zm-5-8zm-5 7zm-12-8zm2-6zm3 0zm-4-4zm-11-5zm-6 0zm-1-2zm3-3zm-6-3zm-9-5zm-2-2zm-1-5zm1-3zm8 2zm95-75zm81 194zm139-71zm7 15zm31-56z" stroke="#d62728" stroke-width="4.75" stroke-linecap="round" fill="none"/>
<path d="M95.7,657.1C96.8,655.1 98.1,653.8 99.5,652.8C100.9,651.8 102.6,651.4 104.1,651.1C105.6,650.8 107.1,650.8 108.5,651.0C109.9,651.2 111.2,651.6 112.5,652.3C113.8,653.0 115.3,654.0 116.5,655.0C117.7,656.0 118.6,657.1 119.7,658.4C120.8,659.7 123.3,661.1 123.0,663.0C122.7,664.9 120.5,668.2 118.0,670.0C115.5,671.8 111.0,672.3 108.0,674.0C105.0,675.7 102.2,678.0 100.0,680.0C97.8,682.0 96.5,684.7 95.0,686.0C93.5,687.3 91.7,689.0 91.0,688.0C90.3,687.0 90.5,682.7 90.6,680.0C90.7,677.3 91.1,674.5 91.5,672.0C91.9,669.5 92.5,667.5 93.2,665.0C93.9,662.5 94.7,659.1 95.7,657.1Z" fill="#9467bd" opacity="0.92"/>
<path transform="scale(0.2)" d="M451 3401zm7 1zm-3 6zm6 3zm4-1zm3 4zm-3 2zm6 6zm5-10zm1-4zm0-3zm4 6zm2 3zm1-6zm6 1zm-5-12zm6-6zm7-3zm0-2zm5-4zm2 0zm1 2zm-1 3zm2 2zm-2 1zm-4 3zm-3-16zm10-3zm-4-8zm7-7zm2 0zm7-3zm-2-4zm2-1zm-4-4zm0-5zm-2 0zm3-4zm9 6zm0 3zm3-1zm0 8zm-4 6zm0 2zm-5 0zm7 7zm12-9zm3 6zm10-20zm6 4zm2 1zm9-2zm1-2zm-4-3zm6-6zm-2-3zm-6-5zm2-2zm-9 2zm-3-6zm0-1zm3-4zm3-6zm4-6zm4-5zm3 0zm0 2zm0-7zm-4 0zm-4-4zm1-1zm0-6zm-7 6zm-7-4zm-2 5zm-4 2zm-4-4zm-6-3zm3-5zm-2-5zm-3 1zm-1-2zm2-7zm8 1zm4 3zm6-6zm-1-4zm-7 1zm0-4zm-10-1zm-10-1zm-1 8zm-3 4zm-1 8zm0 6zm-6-4zm-6-1zm1-5zm2-6zm-1-6zm3-3zm-8 5zm-3 3zm-1 0zm-3 12zm-10-3zm2 12zm-4 4zm-1 2zm-3-1zm6 6zm1 3zm-7 2zm-7 2zm9 10zm4 2zm4-9zm5 4zm13 5zm1 3zm4 2zm3 2zm1-4zm4 0zm5 0zm-1-6zm0-7zm2-3zm-6 0zm-7-5zm-3 2zm-2-2zm-3 3zm0-10zm19-6zm3 9zm4 3zm9 3zm6 0zm3 4zm-4 4zm-9 5zm2 6zm5 5zm-1 2zm2 2zm1 1zm4-2zm1 8zm1 0zm-7 0zm-2 5zm32 7zm4-6zm3-1zm2-5zm0-7zm-3-5zm9-3zm6 6zm-1 2zm4 3zm2 7zm2-15zm8-3zm-10-9zm1-3zm-10-10zm-5-6zm-3 5zm-1 4zm0 11zm-13-2zm-1 4zm-13-12zm-4-22zm-2-1zm15-9zm2 4zm6 3zm3 7zm0 3zm4-2zm7-10zm-25-15zm-47 55zm-8 10zm-14 1zm0 2zm0 1zm-3 8zm3 1zm4 4zm3 6zm-3 2zm8-1zm4-6zm-2-1zm-21-2zm-1-1zm0 7zm-4 2zm-2-2zm-7-5zm-3-1zm7-3zm1-6zm-3-2zm-2-7zm0-3zm-6-3zm1 33zm-2 0zm0 1zm-3 1zm0 6zm6 1zm-2 4zm7-5zm5 5zm0 3zm2 2zm-2 1zm-1 2zm-4 0zm-2 4zm-2-1zm-7 0zm0-3zm-2 9zm2 3zm2 5zm4 2zm1-2zm4 4zm-5-11zm-13 2zm-1-27zm28 5zm5-2zm-2 19zm1 5zm-33 33zm0 5zm4 8zm5 0zm2 3zm-6 2zm15 0z" stroke="#9467bd" stroke-width="4.5" stroke-linecap="round" fill="none"/>
<path transform="scale(0.2)" d="M460 3370zm3-1zm4 4zm11-7zm2-1zm-6-10zm7-8zm6-18zm1-8zm-4 0zm8-6zm4-10zm0-4zm4-24zm15-19zm13 1zm8-2zm23 7zm-5 9zm-8 6zm-8 10zm13 19zm7 3zm0 9zm0 12zm-7 1zm1 15zm-5 0zm-1 0zm-9 3zm3 6zm-4 10zm-9-10zm-6 7zm1 7zm-4 2zm-9 2zm6 10zm-14 3zm-3 8zm-8-18zm-9 6zm-21 13zm3 10zm7 1zm0 5zm-1 14zm5-103zm46-5zm46-25zm13 9zm3-3zm0-17zm23 24zm0 8zm-15 13zm-5 5zm7 10zm-21-4zm-13 23z" stroke="#fff" stroke-width="3.5" stroke-linecap="round" fill="none" opacity="0.7"/>
<path transform="scale(0.2)" d="M475 3423zm7-4zm-1-2zm-4-3zm43-100zm0-3zm-1-1zm-7-1zm8-9zm-2-2zm-2-1zm-1-1zm-4-1zm2-3zm0-1zm0-3zm4 0zm6 5zm1 0zm3-1zm2-2zm-3 10zm-21-2zm-6 5zm10-23zm-1-5zm3-4zm1 0zm0-5zm-2 0zm-1 1zm8-4zm-1-3zm4 1zm0 4zm-2 2zm2 1zm1 2zm-3 1zm-1 0zm4 5zm1-1zm-3 5zm12-4zm2-3zm3 3zm2 0zm4-5zm7 6zm-3 3zm2 3zm7 7zm1 10zm-5 2zm5 4zm-1 6zm1 2zm6-13zm5-6zm-15-25zm-23-3zm-6-2zm1-2zm1-2zm-2-5z" stroke="#fff" stroke-width="4" stroke-linecap="round" fill="none" opacity="0.7"/>
<path transform="scale(0.2)" d="M447 3418zm5-1zm0 3zm1 8zm-1 3zm4 4zm3 7zm2 1zm8-8zm3 1zm7-9zm0-5zm11-10zm3-3zm2-4zm-4-2zm8-3zm2-4zm10-5zm4 0zm-3-5zm7-4zm3 3zm-1 1zm5-10zm7-7zm10-6zm14 0zm4-5zm3 0zm28-8zm10-10zm2 1zm4-12zm4-2zm-2-8zm-5-24zm-6-1zm-4-7zm-2-6zm-6 3zm-11-17zm-7 1zm-1-5zm-12-1zm-4-4zm-2 0zm-2 2zm-2 2zm-4-4zm-10-3zm-5-1zm-4 2zm-5 3zm-5-2zm-5 2zm-3-2zm-8 11zm-7 1zm-7 9zm-3 3zm-7 10zm-2 10zm-3 6zm4 2zm-1 6zm-2 5zm0 4zm-2 2zm-1-3zm-4 5zm1 15zm-7 16zm-3 5zm-3 10zm-1 0zm0 6zm5 0zm3-6zm0 16zm-3 3zm-2 6zm1 2zm6 9zm0 4z" stroke="#fff" stroke-width="4.275" stroke-linecap="round" fill="none" opacity="0.85"/>
<path transform="scale(0.2)" d="M448 3421zm1 11zm7 2zm3 9zm11 5zm1-15zm5-3zm-1-5zm5-1zm2-10zm3-1zm4-2zm5-1zm0-5zm8-9zm3 2zm10-10zm9-6zm7-5zm-9-5zm21-5zm3 3zm6-1zm0-5zm-8-3zm16-1zm8-1zm5 1zm3 2zm7-6zm5-11zm5 2zm0 2zm6 1zm1-12zm-2-1zm7-10zm6-1zm0 5zm4-9zm-6-3zm-1-9zm-1 0zm3-2zm5-4zm0-1zm-8-2zm-5-5zm-5-4zm0-4zm-2-2zm-9-2zm-6-5zm-3-6zm1-3zm-3-5zm-3 3zm-13-12zm-4 5zm-7-12zm-16 9zm-14-1zm-2 0zm-7 4zm-8 2zm-4 4zm-2-2zm0-1zm-4 7zm-9 0zm0-5zm-5 23zm-2 3zm-1 8zm-4 1zm9-1zm-7 16zm-5 12zm-5 2zm-6 5zm1 4zm-5 6zm1 9zm8 4zm1-8zm-1-3zm7-5zm-12 41zm-6-2zm3 11zm6 7zm-5 4zm2 6z" stroke="#9467bd" stroke-width="4.75" stroke-linecap="round" fill="none"/>
<path d="M82.6,683.5C83.0,682.8 84.0,682.4 84.8,682.4C85.6,682.4 86.8,682.8 87.6,683.6C88.4,684.4 89.3,685.8 89.6,687.0C89.9,688.2 89.7,690.0 89.2,691.0C88.7,692.0 87.3,693.2 86.4,693.0C85.5,692.8 84.5,691.1 83.8,690.0C83.1,688.9 82.6,687.6 82.4,686.5C82.2,685.4 82.2,684.2 82.6,683.5Z" fill="#d62728" opacity="0.6"/>
<path transform="scale(0.2)" d="M411 3430zm3-1zm1 2zm-1 1zm-1 3zm2 5zm3-2zm2-4zm1 0zm0-1zm2-1zm-3-5zm-5-1zm-2-1zm-1-3zm0-1zm6-3zm3 2zm1 0zm1-1zm1 0zm0 1zm4 3zm1 3zm-4-1zm4-7zm1-1zm-1-4zm-1 0zm-7 3zm13 3zm1 1zm0-3zm3 7zm-1 3zm3 2zm2-3zm-1 7zm-4 2zm-1 0zm-2 1zm0 1zm1 0zm-2 1zm0-3zm1-2zm3 6zm2 2zm1-3zm4 1zm1 2zm-2 7zm1 2zm-2 6zm-7 0zm1 4zm0 3zm-4 1zm-2-2zm-2 4zm-3 3zm4-12zm1 0zm-5-3zm-3-4zm1-2zm2-2zm1 0zm0-1zm1 0zm2 1zm2 2zm1 1zm3-2zm-7 2zm-3-6zm0-1zm1-1zm-1-1zm0-2zm-2 0zm5 0zm0-1zm2 4zm-12 3zm1 8z" stroke="#d62728" stroke-width="4.5" stroke-linecap="round" fill="none"/>
<path d="M110.1,716.2C110.9,714.4 113.2,711.8 115.0,710.0C116.8,708.2 118.8,706.6 121.0,705.3C123.2,704.0 125.6,702.8 128.0,702.0C130.4,701.2 132.6,700.8 135.4,700.5C138.2,700.2 142.2,699.5 145.0,700.5C147.8,701.5 149.5,704.3 152.3,706.5C155.1,708.7 158.7,711.4 161.9,713.8C165.1,716.2 168.7,719.2 171.5,721.0C174.3,722.8 177.1,723.2 178.7,724.6C180.3,726.0 180.8,727.8 181.2,729.4C181.6,731.0 181.4,732.6 181.2,734.0C181.0,735.4 180.6,736.7 180.0,737.8C179.4,738.9 178.5,740.0 177.5,740.8C176.5,741.6 176.1,741.7 173.9,742.6C171.7,743.5 167.9,745.1 164.3,746.3C160.7,747.5 155.4,749.1 152.3,749.9C149.2,750.7 148.0,750.8 146.0,751.0C144.0,751.2 141.9,751.3 140.2,751.1C138.5,750.9 137.2,750.6 136.0,750.0C134.8,749.4 134.0,748.8 133.0,747.5C132.0,746.2 130.8,744.1 130.0,742.5C129.2,740.9 129.1,739.8 128.2,737.8C127.3,735.8 126.6,732.6 124.6,730.6C122.6,728.6 118.5,727.4 116.1,725.8C113.7,724.2 111.1,722.6 110.1,721.0C109.1,719.4 109.3,718.0 110.1,716.2Z" fill="#2ca02c" opacity="0.93"/>
<path transform="scale(0.2)" d="M549 3579zm2 1zm7 0zm5-4zm3 1zm6 8zm2 5zm-5 0zm-5-1zm-4 6zm1 5zm5-2zm4-1zm3 3zm-5 2zm-4 9zm-4-1zm2 7zm0 2zm11 1zm6-3zm1 1zm-3-8zm2-6zm7 6zm3-12zm4-4zm9 2zm1-8zm-7-6zm-1-1zm-2 0zm0-1zm-2-3zm2-3zm4-7zm2-6zm5-1zm1-5zm-4-2zm-5 3zm1-11zm1 0zm-2-1zm-3-5zm-5 5zm-5 2zm3 5zm-9-3zm1 10zm0 7zm-7-6zm-6 7zm-4 0zm-11 28zm42 33zm7-3zm2 2zm1-3zm7-2zm1-4zm-2-4zm-1-3zm0-5zm2-3zm9-1zm4-4zm3 6zm2 6zm4 5zm2-2zm3 1zm5-2zm4 2zm1-1zm5-6zm-2-6zm5-4zm5 1zm4-6zm3 4zm3-5zm4 1zm2 0zm4 0zm4-5zm1 0zm-3-4zm1-2zm2-3zm7 2zm1-4zm6 4zm7 1zm2-7zm-2-1zm2-2zm2-1zm-2-2zm-5 0zm-4-4zm-5-1zm-3-7zm-6-2zm0-1zm-10-2zm-3 1zm0 1zm-2-1zm-4-4zm-1-4zm1-4zm-2-1zm-4 0zm-1 0zm-1 4zm-5 7zm3 2zm6 6zm0 1zm-2 9zm2 8zm5-2zm3 9zm-12 7zm-7-2zm-5 5zm-6-4zm-2 2zm-3-1zm-4 2zm-4-8zm-2-5zm-3 1zm-5-3zm1-8zm-1-1zm-2 0zm2-3zm0-2zm2 1zm2-3zm6 2zm1 1zm2 8zm0 2zm0 4zm8-2zm8-2zm1-2zm0-16zm-1-6zm-4-6zm-3-6zm-1-10zm-2-2zm-3-1zm-3 2zm-7-2zm-1 3zm-1 6zm2 0zm6 3zm-2 8zm-4 2zm-4-2zm-4 3zm-2 11zm14-7zm6-4zm6 4zm17-21zm-5-7zm4-5zm5-1zm1 0zm0 4zm-1 0zm6-4zm2-9zm6 1zm5-1zm1-4zm3 6zm-6 5zm2 6zm4 0zm0-1zm3 2zm-2 6zm-1 5zm-5-2zm0-5zm-8 5zm-1 2zm3 1zm0 5zm18-5zm9 4zm-4 8zm11 5zm8 5zm2 0zm-6 5zm6 5zm1-1zm3 4zm3 5zm1 5zm-7-2zm-4-5zm3 16zm-2 2zm1 5zm4 6zm2 3zm5-7zm4-4zm-9-4zm-1-2zm11 18zm-1 2zm1 5zm4-9zm11-2zm4 2zm4 2zm7 5zm2-9zm2-2zm0-4zm4-1zm-1-2zm1 5zm7-3zm3 3zm2-8zm5-1zm1-1zm-1-2zm1-1zm8 2zm7 0zm8 7zm-2 3zm8-4zm1 1zm1 2zm3 2zm7-3zm6-5zm4 1zm-5 10zm2 3zm-3 4zm0 8zm0 4zm1 1zm-5 6zm-4-6zm-5-4zm-1 0zm-2-2zm-4 1zm-2 5zm-5 5zm-3 3zm-3 3zm-1-9zm-8 3zm-1-3zm-8 3zm-3 4zm1 2zm0 4zm5 5zm5 6zm1 1zm8 5zm2 4zm1 6zm3 1zm-2 6zm-5 9zm-4 6zm3 2zm-7-2zm-4-11zm-8-3zm-1 3zm-5 10zm-8 4zm-2-2zm-2-1zm-4 1zm-3-5zm1-3zm1-1zm-6 1zm-3 0zm-5-3zm-2-2zm-3-2zm-5-2zm-7 1zm0 5zm-5 10zm4 11zm-1 5zm-4 7zm-7 5zm-9 4zm-3-4zm-3-3zm-4 4zm3 6zm-2 4zm-2 1zm-2 3zm-7-2zm-4-7zm8 0zm-4-13zm-8-5zm-7 4zm-3 0zm-1 0zm1 5zm3 2zm1 2zm-1 2zm-2-1zm-3 4zm-4-7zm-1-10zm6-7zm4-3zm2-6zm5-3zm1-6zm4-2zm2 2zm5 1zm0-3zm0-5zm-5-1zm-2-1zm1-2zm-7-8zm1-8zm-4-1zm7-5zm5-4zm4 0zm7-5zm-6-10zm-7 2zm-2 0zm-2 2zm2-5zm-1-2zm2-1zm0-3zm-2-4zm-1 0zm-6-6zm-2-4zm-6 3zm3 15zm2 0zm0 2zm-5 6zm-3-1zm-7-2zm-1-1zm-8-2zm-8 3zm1 4zm5 4zm-1 3zm3 1zm-4 3zm-2 3zm1 4zm-3 0zm-5 1zm-5-9zm9-1zm-14-8zm-4 1zm-3 2zm-2-1zm-2-2zm-3 2zm12-14zm2-10zm18-4zm-21-16zm2 60zm14 10zm10 0zm5-5zm1-8zm4-4zm5 0zm5 1zm4-5zm-6-3zm0 20zm1 3zm1 4zm1 0zm4 3zm-1 3zm-8-1zm-4-3zm1-2zm3 10zm-1 5zm-5 3zm7 3zm-4 5zm-14-11zm-8-8zm47-18zm1-2zm16 8zm1 3zm-4 7zm3 9zm1 0zm4 3zm4 2zm-2 4zm3 6zm-2 2zm-6 3zm-7 1zm-4-11zm2-8zm0-2zm19 0zm-1-9zm3-6zm3-3zm0 6zm-10-10zm0-3zm-4 0zm5-19zm4 1zm6-10zm5-1zm-1-5zm-5-1zm-6-3zm-4-3zm4-3zm4 0zm-10 9zm-11-8zm2-3zm1-5zm2-5zm-2-7zm2-1zm-8 6zm-3 12zm-2 0zm2 5zm40 16zm4-2zm4 5zm4-5zm4 0zm3 2zm3 1zm3-1zm-1 4zm-1 1zm3 9zm-3 5zm2 2zm5 2zm0 3zm-1 4zm-1 0zm-2 2zm5-2zm6-4zm-3-5zm4-9zm-4-3zm1-7zm-10-9zm0-1zm-12 19zm-4 1zm5 3zm-2 3zm0 5zm-11 2zm0-7zm17 17zm1 0zm9 4zm3 3zm4 5zm1 6zm0 12zm1 4zm-3 4zm6 1zm-4 6zm1 5zm1 4zm4-7zm1 0zm10-5zm-3-5zm-2-6zm4-1zm7 8zm0 2zm6 0zm1-2zm1-2zm10-3zm1 1zm2 0zm0-5zm8-1zm6 4zm13-1zm0 10zm9 3zm-4 9zm1 2zm-1 2zm3 1zm-11 0zm-4 6zm-3 1zm-1 5zm5 1zm4 3zm-15-16zm-5 0zm-1 0zm-4-8zm-7 1zm0 3zm0 2zm-3-9zm7-8zm13 11zm3-1zm3 0zm6 2zm24 10zm6-4zm1-6zm-1-6zm4-10zm-6-2zm-2-2zm9-3zm0-2zm8 2zm3-3zm3 5zm5-2zm0 5zm2 2zm3 7zm-9 2zm-8-3zm-3-2zm9 14zm20-30zm9 5zm3-13zm5 1zm-12-5zm-1 2zm0-8zm-6-3zm-2 1zm-7-5zm-5 6zm0 4zm3 4zm1 2zm-6 0zm-8 1zm-4-4zm2-5zm-7 3zm-5 3zm2 5zm-14-4zm0-3zm-3-3zm-4 0zm0-1zm-2 3zm2 1zm2 2zm-2 8zm-3 1zm-15-2zm-5-6zm4-12zm5 0zm2-3zm7-2zm-1-3zm8 7zm0 3zm6-4zm2-3zm3 6zm-3-14zm3-2zm0-3zm8-5zm10 0zm4 1zm1 5zm0 3zm-3 3zm-3-2zm-2 4zm11 11zm9-20zm6 2zm4-10zm-1-3zm3 0zm-6-1zm-2 1zm-5-3zm0-3zm-3 0zm-1 0zm-3 3zm-8 4zm-4-8zm-1-4zm-3-4zm-2-4zm8 4zm2 5zm-11 1zm-7 5zm-5 4zm-3-4zm-3-1zm2-12zm2-3zm9-8zm5-5zm10 10zm15 13zm17 16zm4 11zm-1 4zm-72-17zm-2 2zm0 1zm-5-6zm-5 1zm-7-2zm-2-5zm-1 15zm-7 0zm14 2zm4 4zm-2 5zm-4 1zm-22 2zm-3 3zm-1 2zm-2 0zm-7-1zm-4-1zm-2-1zm-5-3zm-3 4zm16-4zm4-44zm14 0zm1-1zm-1-5zm1-6zm8 10zm8-2zm0-24zm6-5zm3-3zm2 10zm-22-11zm1-3zm0-2zm-3-3zm-9-3zm-1-4zm-2 7zm-2 3zm-4-2zm-2 2zm-1-3zm2-5zm-11-1zm-2 3zm-5-5zm-3 2zm-2-1zm-4 1zm-3-3zm-4 3zm-1 1zm0 5zm4 5zm-10-1zm-2-8zm2-6zm-1-5zm-6 1zm-3-11zm-1-5zm-2-2zm-5 1zm-6-8zm-2 1zm-2-5zm-6 0zm-6 1zm-3-4zm3-3zm4-2zm4 1zm5 0zm0-5zm4-3zm1 0zm3 0zm1 5zm2 1zm0 2zm0 5zm-5-1zm14 2zm0 1zm2-4zm3-1zm-6-9zm-3-4zm-17-1zm-16-2zm1 11zm-6 6zm-3-4zm-17-20zm-13 11zm-5 2zm0 3zm-4-6zm-8 3zm-2-3zm1 17zm-34 1zm-13 6zm80 28zm5 6zm4 2zm1-2zm29-25zm6 7zm22-3zm0-4zm4 0zm5-3zm-2-4zm1-2zm2-9zm7 14zm-2 8zm-5 1zm-2 0zm0 8zm11-3zm1 2zm1 4zm3 0zm3-5zm19 2zm-18 20zm-2 2zm-1-2zm-4 2zm-5 8zm-2 6zm-4-1zm-5 0zm-3 4zm-2 0zm3-10zm18 8zm-20 95zm-7 1zm-4 0zm6 6zm-5 3zm-1 5zm9 3zm8-5zm5-5zm-3 12zm4 7zm-8 8zm1 1zm3 4zm1 2zm-6 1zm-3 1zm-7 1zm-2-3zm2-2zm2-3zm0-2zm-9 1zm-3 2zm-1 1zm-1 4zm-3 4zm-1-1zm-3 2zm6 7zm0 3zm2 1zm1-1zm1-1zm2-2zm1 3zm1 2zm-2 2zm8 2zm1 1zm1 1zm7-13zm-4-2zm-5 0zm-7-6zm-1-13zm-6 1zm-13 7zm-2 0zm-2 1zm-2 8zm-5 0zm-5 1zm0 3zm2 8zm3-1zm3-1zm-9 8zm-9-6zm-1-5zm-9 9zm-4-8zm2-14zm8-33zm36 52zm0 6zm-6 1zm-2 2zm46-11zm2 0zm4 3zm11-11zm1-1zm11 7zm12-2zm1-3zm9 2zm3-2zm-1-7zm-20-13zm-7 0zm-19 6zm0 4zm-2 0z" stroke="#2ca02c" stroke-width="4.5" stroke-linecap="round" fill="none"/>
<path transform="scale(0.2)" d="M563 3598zm6 12zm2 1zm2-22zm13-23zm-8-3zm1-2zm11-19zm14 10zm4 1zm6 0zm7 2zm14-10zm0-5zm5 1zm8 5zm-6 17zm-2 8zm4 17zm8 10zm2 3zm0 6zm-3 6zm-8 1zm-8-7zm-6-6zm-2 18zm-2 16zm0 12zm2 6zm10 10zm5-1zm8-12zm28 15zm6-2zm12-1zm3-1zm-1-12zm-2-26zm-8-5zm-4-11zm6-12zm1-11zm-9-1zm-13-3zm22-21zm-6-8zm-5-4zm17 3zm0-16zm1-11zm-8-8zm18 2zm10-6zm2 1zm3 0zm5-1zm7 13zm-8 13zm-10 16zm41-12zm10 6zm5 16zm6 0zm-6 19zm-21 7zm-17 6zm-6-1zm-10 5zm7 8zm0 15zm-8 0zm-4 1zm4 5zm-1 1zm9 22zm-2 10zm-2 13zm11 7zm3-7zm9-7zm4 1zm-2-15zm19-13zm10 5zm-3 14zm28 12zm13-2zm-7-10zm6-13zm11-6zm11-9zm-5-4zm16-18zm9-3zm-11-9zm-12-3zm0-4zm-18 9zm-1-17zm-11-10zm-24 32zm-5 7zm-6 9zm-17 5zm-47 59zm-6 4zm-7 6zm5 5zm11 5zm6 1zm-1-8zm17 9zm10 20zm15 11zm-3 5zm12-2zm0-3zm0 9zm-2-23zm10-6zm8 9zm12-2zm1-4zm5 5zm2 6zm0-20zm-15-13zm27-6zm1 1zm10-8zm2 3zm25-7zm-1-5zm7 5zm0 16zm14 14zm22-33zm15-3zm-7-17zm-4-28zm-4-6zm-3-1zm-18-8zm-114 93zm-41 20zm-9-5zm-5 1zm-1-8zm-8 6zm0 29zm-35-32zm0-34zm-54-126zm22-37zm3 1zm29 5zm3-4zm9-14zm83 17z" stroke="#fff" stroke-width="3.5" stroke-linecap="round" fill="none" opacity="0.75"/>
<path transform="scale(0.2)" d="M565 3568zm2-1zm4-1zm0 2zm1 1zm2-2zm1-3zm0-3zm-6-2zm0-2zm4-3zm4 0zm8-3zm-1-5zm3 11zm4 2zm3 1zm0-3zm-1-2zm1-2zm6-2zm1 4zm6 4zm3-3zm3-3zm7 4zm4 1zm0 1zm3-2zm-2-3zm-3-5zm-2-1zm-6 13zm-2 3zm-2 4zm-1 1zm-3 1zm-1-4zm0-1zm-5 2zm-3 1zm-5 2zm-1 0zm-2-4zm0-2zm1-1zm-2-1zm-4 3zm9-1zm5-2zm1 0zm19 5zm4 0zm-2-4zm12-1zm6-1zm1-1zm3 2zm4 3zm0-8zm-7-1zm-4 0zm-1-20zm-5-9zm0-5zm1-2zm-1-2zm10 0zm-22 9zm1 6zm-45 39zm-3 1zm-1-1zm-3 1zm5 4zm2 4zm33 31zm3-1zm1 0zm4 2zm-2-7zm-6 10zm17 1zm1-3zm70-15zm4-8zm12-1zm10-9zm5 2zm2-2zm1 5zm7 1zm0-2zm4 3zm-7 5zm6 6zm6-1zm4-7zm-8-15zm-5 3zm-10-5zm-3-4zm-2 1zm0 4zm4-6zm-2-3zm0-3zm4-5zm8-2zm1-3zm-8-4zm2 18zm14-3zm3 0zm1-5zm-1-7zm-1 0zm8-3zm5 10zm0 3zm-2 3zm-6 6zm-3-1zm0 2zm0 1zm17 0zm4-2zm-1-7zm19-1zm4 22zm-3 3zm-4 12zm11-1zm33 32zm2-2zm6-4zm2 6zm5-3zm-1-5zm6 0zm4 3zm0 5zm7 2zm3 6zm4 1zm1 0zm1 0zm-1 2zm-2 0zm-2 1zm1 4zm2 3zm3-3zm2 2zm1 0zm0 1zm6 7zm5-2zm-1 6zm9-5zm-3-5zm10 0zm1-2zm-3-8zm-8-2zm-8 0zm0 2zm-5-1zm2-8zm-20 9zm4 10zm-31-12zm29 57zm3 1zm1 6zm5-3zm2-2zm-1-3zm-1-2zm2-2zm4 1zm-1 3zm6-1zm0 4zm0 2zm-3 6zm-4-4zm-80 14zm-2 9zm-12-12zm-3 0zm-1 5zm-5-1zm18-14zm-68 26zm-3 6zm-2-1zm0 6zm0 3zm-5-4zm-2-4zm0-1zm-2 1zm-2-1zm5-4zm2-4zm1-2zm-11 2zm5 17zm1 2zm1 1zm14 0zm-18-129zm0-10zm16-1zm-8-33zm-11-39zm2-2zm1-3zm-7-1zm0-1zm1-2zm0-1zm2-2zm0-3zm1-2zm-3 0zm-4 9zm0 2zm0 6zm-1 2zm-5-9zm1-4zm18-2z" stroke="#fff" stroke-width="4" stroke-linecap="round" fill="none" opacity="0.75"/>
<path transform="scale(0.2)" d="M732 3651zm2-4zm3 4zm2 2zm0-4zm1-1zm1 1zm3 0zm3 0zm0 1zm1 1zm3 0zm0 1zm1 0zm0-2zm4 2zm0 1zm-1 3zm-5-2zm-1 3zm4-12zm3-1zm1-2zm4 1zm2 0zm3 3zm2-1zm1 0zm-1-3zm1-2zm-1-2zm-2 0zm-3 0zm-2-1zm-6-1zm2-4zm1-2zm1 0zm3 0zm-4-5zm0-3zm2-1zm6 3zm5 3zm2 5zm1 1zm-1 2zm-1 2zm-1 2zm4-1zm2 2zm0 1zm-1 0zm-1 2zm-1 0zm1 3zm2 1zm2 3zm4-4zm1-1zm-2-1zm2-2zm3-2zm1 2zm-1 4zm-2 3zm-6-7zm0-1zm1-2zm-2-2zm-2-5zm1-6zm6 7zm7-6zm8-3zm11-7zm2 2zm3-5zm7 1zm3 6zm1 0zm6 5zm6 4zm8 1zm-21 1zm0 1zm-3-4zm-1-1zm-2 6zm-5-4zm-1 0zm0-4zm1 0zm-6-14zm2-10zm3-2zm2 0zm0-4zm5 2zm2 1zm1 6zm-15-7zm-2-3zm-4 4zm-13-7zm0-2zm-4 6zm-4 4zm-4-5zm-8-7zm-3-5zm-2 0zm0-3zm1 0zm0-2zm0-1zm3 1zm0-3zm2-2zm0-1zm2-1zm-3-3zm-2 2zm0 2zm-2 0zm-1 0zm-1 1zm-1-2zm-4 3zm2 2zm-5-2zm-9-1zm0 3zm2 4zm-3 1zm2 6zm-5 0zm13 8zm1-1zm5-7zm9-5zm6-2zm-5 39zm-18 6zm-4 1zm-1-3zm3-2zm0 16zm-1 5zm0 1zm-1 0zm-11 0zm26 6zm8 0zm0 3zm-6 9zm6 6zm0 4zm-1 3zm-1 3zm9-2zm4 2zm1 4zm3-2zm3 0zm1 0zm4 0zm3 1zm2 1zm-1-3zm0-2zm1 0zm-2-1zm2-2zm1 1zm4 3zm1 0zm0 3zm1 2zm1 0zm1 0zm0-1zm0 2zm-1 1zm3-1zm-6 3zm0 1zm1 2zm0 1zm-2 0zm-1 4zm0 3zm-4 1zm-2-2zm-1 0zm-3 4zm2 1zm2 2zm-2 1zm2 3zm-1 2zm5-5zm2-2zm1 1zm0 3zm6-3zm5 12zm8 2zm4-5zm0-4zm-3-2zm-1-7zm10-3zm3 0zm2 1zm1 4zm2-1zm1-1zm4-1zm2-5zm-4-9zm-5-1zm-4 3zm0 1zm-1 6zm-12-9zm-9-14zm-3 2zm-3-1zm-6 13zm-4 1zm0-2zm-3-1zm0 2zm1 4zm1 1zm-7 3zm2 3zm-7 2zm0 1zm-4 0zm-1-1zm-1 2zm-2 3zm-3-1zm-4 0zm6-4zm-1-3zm-1-1zm2-4zm1-2zm2 3zm2-3zm7-3zm-6 18zm4 3zm-10 3zm-7 1zm-6 0zm69 4zm5-2zm4 0zm-3 4zm8 0zm2 0zm3-10zm9-20zm2-2zm1-1zm0-1zm1 0zm3-1zm4-4zm-5-2zm-4 0zm-1 1zm-2 4zm2 3zm-9-6zm7-7zm9 1zm4-4zm4-1zm1 0zm1 0zm4 1zm2 2zm-3 2zm-4 2zm-3 12zm-6-21zm-3-5zm2-6zm7 7zm6-3zm4 0zm0 4zm6-4zm3 0zm0 1zm3-7zm-2-4zm-5 1zm-7-1zm-25 13zm-60-19zm-1 3z" stroke="#fff" stroke-width="4.25" stroke-linecap="round" fill="none" opacity="0.8"/>
<path transform="scale(0.2)" d="M548 3585zm0 3zm1 1zm4-7zm5-10zm1-1zm1 2zm0-9zm9-10zm2-1zm1-1zm-3-2zm15-7zm2 5zm2-11zm3 1zm4-1zm-1-4zm13-11zm7 2zm1 2zm0-6zm7-2zm8-4zm10 0zm2-3zm-1-4zm9-1zm5 0zm16-5zm-1-4zm8 5zm7 0zm3 0zm3 0zm6 4zm7-4zm7-2zm1 1zm3 3zm15 4zm2 6zm6 1zm7-3zm0 6zm27 23zm5 0zm2 4zm7 5zm5 5zm-4 2zm7 3zm3-2zm4 2zm-1 4zm6 3zm6-1zm2 11zm5-2zm5 3zm7 8zm4 4zm3-4zm6 12zm12 7zm-1 2zm6-5zm2 5zm10 6zm4 4zm7 5zm15 10zm6 2zm-2 4zm4 1zm1 12zm-1 6zm-3 14zm2 2zm2 4zm-4 10zm-5-4zm-3 14zm-1 1zm-6 1zm0 3zm2 1zm-16 7zm0 1zm0 3zm-3-3zm-3-1zm-13 15zm-7-3zm-15 5zm-5 5zm-4-2zm-4 2zm-8 5zm0 1zm-9 1zm-2 0zm0-2zm-8 3zm-4-4zm-7 6zm-7 8zm-1 1zm-11-6zm-3 5zm-7 0zm0 5zm-8 0zm-10-3zm-1 6zm-13-5zm-3 2zm-5-2zm-1-4zm-11 5zm-5 4zm-9-3zm-4-1zm5-5zm2 1zm-12-1zm-1-3zm-9-6zm-3 1zm-4-4zm5-2zm5-2zm-16-8zm-2-4zm-4-8zm-8-5zm4-8zm-3-6zm1-2zm-8-10zm-1-8zm-4-9zm-4-8zm-4-2zm-6-4zm2-6zm-9-3zm0-2zm-4-1zm-10-2zm-1 1zm-13-3zm-7-7zm2-2zm-11-3zm-2-2zm-1-3zm-2-2zm-10-9zm4-5zm270-11z" stroke="#fff" stroke-width="4.275" stroke-linecap="round" fill="none" opacity="0.85"/>
<path transform="scale(0.2)" d="M544 3602zm1-5zm6 5zm9 5zm-5 6zm5 5zm14 2zm7 8zm-1 1zm3 5zm7 2zm5 0zm0 2zm-1-6zm20 12zm20 12zm3 11zm-4 4zm-1 7zm2 2zm4 2zm-1 2zm8 0zm3 8zm-1 14zm-6 1zm9 9zm7 4zm-4 8zm-5-4zm18 9zm1 9zm13 3zm1 7zm12 0zm0 4zm5 10zm16-7zm11 6zm12-7zm0-9zm13-2zm3 7zm4-4zm8-2zm5 0zm-2-4zm7 5zm4-1zm11-6zm2-2zm2 3zm15-7zm5-1zm9-7zm8-3zm7-2zm17-1zm6-10zm6 1zm3-1zm1 6zm9-13zm5 0zm2 4zm10-18zm3-7zm2-9zm-1-2zm6-13zm2 1zm4-1zm-5-12zm-1-6zm-4 2zm-5-13zm1-2zm-7 0zm2-10zm0-1zm-3-4zm-1-2zm-3 3zm-4 4zm-4-5zm-11-9zm-2 2zm-14-3zm-2-6zm-15-4zm-8-12zm-3-1zm1-14zm-15 3zm-8-3zm-6-6zm-3-8zm-2 1zm-8-1zm-4-4zm-8-7zm-5-4zm-2 1zm-5-13zm-5 1zm-2 0zm-4-5zm3-3zm-3-8zm-4 1zm-5 3zm-9-6zm-5 6zm3-14zm-4-2zm-3 2zm1-8zm-17 15zm-9-10zm-14 7zm-8-9zm-12 0zm-5-3zm6 14zm2 1zm-22-7zm-11 10zm-4 8zm-27 6zm-2 3zm-8 4zm2 5zm-5 6zm-5 4zm-16 6zm-6 4zm-2 4zm8 2zm-12 12zm-8 4zm308 129z" stroke="#2ca02c" stroke-width="4.75" stroke-linecap="round" fill="none"/>
<path d="M94.5,682.4C95.7,680.0 96.3,676.1 97.5,673.5C98.7,670.9 100.3,668.4 101.7,666.8C103.1,665.2 104.4,664.6 106.0,664.0C107.6,663.4 109.5,663.5 111.3,663.2C113.1,662.9 115.0,662.2 117.0,662.0C119.0,661.8 121.6,661.7 123.4,662.0C125.2,662.3 126.6,663.0 128.0,663.8C129.4,664.6 130.8,665.3 131.8,666.8C132.8,668.3 132.6,671.6 134.2,672.8C135.8,674.0 139.6,673.3 141.4,674.0C143.2,674.7 144.2,675.8 145.2,677.0C146.2,678.2 146.8,679.8 147.4,681.2C148.0,682.6 148.6,684.1 148.8,685.5C149.0,686.9 148.8,688.3 148.6,689.7C148.4,691.1 148.1,692.8 147.5,694.0C146.9,695.2 146.2,696.0 145.0,696.9C143.8,697.8 141.6,698.9 140.0,699.5C138.4,700.1 137.4,700.1 135.4,700.5C133.4,700.9 130.6,700.9 128.2,701.7C125.8,702.5 123.4,703.9 121.0,705.3C118.6,706.7 115.7,708.9 113.7,710.1C111.7,711.3 110.5,712.3 108.9,712.5C107.3,712.7 105.7,712.0 104.0,711.5C102.3,711.0 100.4,710.2 98.8,709.4C97.2,708.6 95.7,707.5 94.5,706.5C93.3,705.5 92.6,704.5 91.8,703.2C91.0,702.0 90.2,700.5 89.8,699.0C89.4,697.5 89.3,696.3 89.4,694.5C89.5,692.7 89.8,690.0 90.6,688.0C91.4,686.0 93.3,684.8 94.5,682.4Z" fill="#ff7f0e" opacity="0.94"/>
<path transform="scale(0.2)" d="M444 3470zm3-4zm3 2zm3 4zm7 10zm1 2zm4 6zm8 1zm2-1zm9 5zm-5 6zm1 3zm0 3zm5-3zm-2 13zm3 3zm5 0zm4 2zm6-2zm2-1zm-3-2zm-1 0zm6 11zm1 2zm-1 2zm8-6zm0-2zm4-3zm-1-4zm2-2zm5-1zm5-1zm4 1zm-2 5zm-3 5zm2 4zm3 5zm7 1zm2-2zm2-1zm5-4zm7-3zm5-1zm-2 6zm0 1zm-4 5zm-2 0zm3 4zm4-1zm2 0zm5 1zm6 5zm-5 4zm-5 1zm-5-3zm-6 7zm-5 7zm0 4zm-10-3zm-5 4zm-8-8zm-2-4zm4-4zm-2-3zm-1-6zm0-1zm-3 1zm-3-2zm-1-4zm7-1zm10 8zm4-2zm0 5zm4 4zm-4 3zm1 2zm10-14zm-7-19zm3-5zm-4-3zm-2-2zm-4-7zm-2-2zm-3 0zm-4-3zm1-4zm2-1zm1 1zm-2-3zm-4 0zm3-5zm7-3zm1 4zm3-5zm5-3zm4 3zm3 0zm-4 5zm1 1zm6 2zm4-2zm0 10zm6-1zm3-2zm6-2zm-2-7zm-2-6zm0-3zm6 3zm2-4zm5-5zm-6-3zm5-11zm-2-2zm0-4zm-5 4zm11-1zm8-4zm3-5zm7-3zm-1-5zm-1-4zm6-3zm-1-4zm5 0zm0-1zm3 2zm4 0zm1 5zm-1 4zm1 2zm1 3zm-6-3zm-3 4zm4 4zm-3 3zm-3 7zm-1 0zm-11-1zm-8 9zm8 8zm-1 3zm6 8zm1 9zm0 1zm8 0zm2 2zm3-1zm4-1zm5 0zm2-4zm2-3zm-2-4zm-3-2zm-3 0zm1 6zm-7-1zm-2 2zm-2 14zm3 3zm5 3zm-5 3zm-3 3zm3 6zm-8 4zm-4-1zm0 4zm0-12zm-12-1zm-3-3zm-3-2zm-2-2zm0-9zm-1-1zm3-2zm-1-2zm1-4zm1-1zm2 0zm4 1zm0 1zm2 1zm-2-5zm0 21zm-6 12zm-1 5zm2 4zm-8 3zm-3 1zm0-6zm4-5zm-8-5zm-3-4zm-1 1zm-1-6zm-12-3zm-2 8zm-1 1zm1 3zm2 1zm-3 2zm-10-16zm-4-5zm-17 7zm-2-8zm-5-2zm0 5zm-2 0zm-4 1zm-5-1zm-1-6zm6-8zm3-2zm2 1zm0-7zm-7-2zm-1 2zm-4 1zm-7 3zm-2-1zm1 4zm-1 3zm-15-11zm-3 2zm6-8zm3 0zm-5-3zm-2-2zm-4 3zm-4-2zm-1-3zm0-12zm0-6zm-1-5zm6-1zm4-2zm2-3zm4-2zm-1-2zm4 0zm1-3zm0 8zm-6 4zm-4 2zm-1 10zm9-2zm11-3zm1-9zm0-1zm0-6zm-2-6zm2-7zm1-5zm-3-3zm2-6zm-3-3zm5-1zm-10-2zm0 6zm-9 8zm-5 4zm-4-3zm5 9zm3 3zm-1 4zm-3-2zm-6 6zm-10 11zm2 9zm-6 7zm-5-2zm38 4zm1-1zm0 3zm4 4zm-1 1zm8-1zm4-3zm3-2zm2 6zm7-3zm2 3zm8 3zm1 1zm-2 1zm-1 4zm6 1zm0-8zm4 0zm4-2zm3-1zm1 4zm1 3zm2-1zm6-4zm2-4zm-1-1zm-3-4zm-2 2zm-1-5zm1-5zm1-3zm4-2zm4 2zm3-1zm2-2zm-3-1zm4-4zm1 1zm1-5zm1-5zm-5-5zm-6-3zm-1 4zm0 4zm2 6zm-7 4zm-2-1zm0-4zm-6-5zm0-6zm-1-2zm3-1zm-1-7zm-6 1zm-3 3zm2 2zm-7 0zm-8-4zm-5-2zm-1-1zm-1 8zm-4 6zm13 10zm9-1zm2-4zm1-1zm0-1zm15-4zm1-6zm0-8zm10 3zm3-2zm4 0zm8-6zm-1-3zm2-1zm-4-3zm-1-3zm-2 0zm1 6zm-11-6zm-5-3zm-3 0zm-4 1zm-8-4zm-3-3zm4-2zm-1-2zm2-1zm2-4zm0-4zm-6 1zm0 1zm-7-2zm-3 0zm1 6zm3 3zm1 1zm3 9zm-1 8zm0 5zm-4-1zm-7 0zm-4-5zm-3-1zm-5-1zm1 6zm7-10zm3 2zm-3-16zm-10 0zm-4 1zm-2-3zm-3-4zm-1 8zm9 5zm9-20zm-2-1zm-7-1zm-5-1zm-2-1zm-7-1zm12-7zm3 1zm2 3zm5-2zm2-2zm5 1zm6-1zm2 2zm-1 1zm2-2zm1-2zm-1-2zm3 0zm4-4zm2 2zm3-5zm-4-4zm6-3zm6 4zm1 1zm5 3zm1 0zm1 2zm1 1zm-3 2zm-1 3zm-1-6zm10 1zm5-3zm-2-2zm-1-2zm2-1zm4 5zm8 0zm2-1zm3 0zm-2 5zm-2 0zm3 9zm-1 8zm3 3zm1 0zm1 0zm-2 2zm-4 0zm-2 0zm-3-2zm-3 7zm-3-2zm-2 0zm-7 2zm-4-3zm-1 0zm-3-1zm8-10zm4-1zm4-8zm6 7zm15-6zm5 4zm1 0zm2-1zm3 1zm-3 6zm9 0zm3 2zm4-5zm7 9zm8-3zm1 5zm7-5zm2 3zm0 1zm0 1zm6-5zm7-4zm3 4zm3-4zm3-4zm-3-2zm0-6zm-3-4zm-3 3zm-5-4zm1-4zm5 0zm6 0zm1 0zm-3-7zm1-2zm-4 3zm-8 1zm-12-10zm0-2zm-3-3zm-3-6zm-2-3zm-4 1zm-5-2zm-3 3zm4 6zm5 0zm0 6zm2 3zm3 5zm-2 8zm3 1zm1 0zm-2 2zm1 6zm1 5zm1 2zm2-3zm3 1zm6-4zm-15 7zm-5-9zm-1 0zm-1-6zm0-2zm-5 3zm-5-2zm2-6zm-6-1zm-2 0zm-5 2zm-1-8zm-6-3zm-2 7zm-14-5zm-1-5zm-4-4zm1-1zm-4-2zm-8-7zm-7 13zm-3 6zm0 1zm6-1zm0 7zm-19-9zm-3 0zm-2-7zm5 0zm3 1zm-15 2zm-3 4zm-2 2zm-1 2zm4 5zm3 0zm0-6zm-5 10zm3 3zm-9 2zm-6-3zm-1 6zm-9-6zm3-6zm6-2zm27 24zm4 5zm5-4zm-16 8zm9 36zm26-16zm0-4zm16 11zm3-1zm6-6zm2 3zm3-5zm3-4zm-1-6zm1-3zm6 1zm0 10zm-1 7zm6 2zm-10 4zm-1 9zm1 3zm-5-2zm-4 0zm-3 1zm2-5zm-5 11zm11 5zm2-2zm3 0zm-3 7zm-3 1zm-8 1zm5 7zm-9 2zm-14-14zm-7 26zm-1 3zm-2 0zm-1-1zm0 5zm3 1zm-22-7zm-3 6zm-2 0zm1 5zm-2 1zm-2 0zm-11-9zm-1-1zm-4 6zm-4-5zm0-6zm2 58zm1 1zm2 33zm-4 1zm-5 2zm-23-16zm-6-8zm1-4zm-9 1zm-6 0zm9-11zm-1-3zm2-5zm-7 1zm-4-3zm120 39zm6 3zm-2 4zm39-29zm-3-12zm12-11zm1-7zm0-1zm0-3zm2-2zm-1-4zm0-5zm-1-1zm0-2zm-2-5zm-3-3zm-5 0zm-1-5zm2-3zm8-2zm6-1zm5-2zm7-1zm3 4zm3-3zm-1-3zm-1-6zm4-3zm7-5zm6-6zm2-8zm4 0zm1 1zm7 9zm2 2zm-4 2zm-8 5zm-3 3zm1 2zm-5 1zm0 4zm-4 2zm1 4zm-4 3zm-4 3zm-1-1zm-8 4zm3 9zm-11 5zm-3-16zm2-1zm-6-15zm-2-6zm2-9zm3-4zm-6-1zm-3-2zm-6-1zm-4 5zm-6-4zm-2 2zm10-14zm6-2zm1 5zm5-1zm5 2zm-1 2zm0 3zm11-3zm3-6zm3-3zm2 2zm9 2zm4-4zm4-3zm-1-2zm7-1zm-2-7zm-3-4zm-2-3zm-2-7zm4-2zm-2-2zm-10 6zm-3-1zm0 5zm-6 2zm-8 3zm-4 2zm7 2zm2 7zm-3 1zm-5 5zm-2-2zm-15-14zm-3-1zm5-2zm-35-5zm12-51zm4-7zm-2-1zm-4 0zm-4-3zm-6-2zm12-3zm3 3zm4-4zm-1-2zm15 2zm-43 15zm-4-14zm91 41zm4 4zm13 19zm-1 4zm-5 1zm3 6zm8-1zm2-1zm4 0zm2 0zm5 0zm3-5zm5-3zm3-6zm-8-2zm-2-1zm-4 5zm1 1zm9 13zm0 4zm2 1zm-2 2zm-11-4zm-1 2zm0 5zm-8-2zm-21-6zm-2 23zm-3 0zm0 4zm-9 3zm2 4zm-8 10zm-9-5zm30 24zm3-2zm2 3zm0 2zm-1 1zm-1 7zm2 1zm-2 8zm4 4zm4 3zm0 3zm-4 0zm-5-4zm-3 4zm-5-3zm-4 8zm2 1zm3 4zm0 5zm-1 1zm-3-1zm0-1zm-2 3zm8 4zm7-3zm-2-5zm-3-7zm-19 1zm-4 10zm1 3zm-3 8zm-7-6zm1-8zm1 0zm-15-25zm-8-4zm-7 4zm-1 0zm-1-3zm74-14zm1-7zm3-1zm1-2zm0-4zm5 0zm5 3zm1 1zm10-1zm-1-5zm-3-8zm2-3zm2-2zm7-1zm2 0zm2 2zm3 5zm7-5zm1 0zm0-1zm4-3zm-2-2zm-4-2zm6-4zm4 0zm6 8zm2 5zm-2 4zm6-1zm-4 9zm0 6zm-2 2zm1 4zm-5 2zm-3-6zm1-3zm-4 1zm-5 10zm-7-10zm-6 0zm-1 4zm-8 1zm-3 3zm7 7zm0 5zm6 4zm8 3zm4-4zm5 3zm2 0zm-1-4zm4-3zm-5 13zm-12 9zm-4-1zm-2 5zm-2 3zm-5-2zm0-2zm-4 0zm4-8zm4 1zm-5-7zm-6 0zm-7-2zm-5 2zm4 7zm3-1zm-6 7zm-1 7zm-1 0zm-4 5zm0 1zm-1 9zm16-13zm20-1zm-30-38zm0-1zm44-26zm0-2zm-13-18zm6-7zm5-6zm-7-2zm1-5zm5-6z" stroke="#ff7f0e" stroke-width="4.5" stroke-linecap="round" fill="none"/>
<path transform="scale(0.2)" d="M453 3446zm8 5zm-2 7zm2 18zm-8 6zm20 21zm16-12zm8-3zm0 13zm14-7zm2 12zm9 9zm-6 4zm15-12zm-6-11zm11-13zm-2-4zm-4-16zm-10-6zm-6-1zm9-24zm11-11zm-11-5zm0-2zm-6 3zm-15-9zm-14-11zm-9 20zm-1 1zm-12 6zm-3 14zm12 9zm15-5zm28-45zm-8-14zm14-13zm11 4zm3 1zm-1-4zm7 9zm11 3zm2 14zm7 16zm6 0zm12 1zm2-2zm12 0zm-2-7zm16-1zm16 10zm0 9zm12-4zm-1 23zm-5 10zm11 11zm3 5zm3 5zm16-9zm23-2zm0 10zm2 1zm-11 12zm11 7zm4-1zm-14 10zm-41 1zm-30-8zm-2-7zm2-2zm-9 14zm-1 10zm7 11zm-24-13zm-16-34zm15-14zm7 10zm8-34zm10 2zm-20-47zm0-3zm-13-12zm-13-12zm19-18zm-9-11zm-16 0zm0-8zm5-8zm18-3zm19 6zm5-2zm2-3zm13-5zm20 7zm9 4zm9 8zm-2 16zm-13 3zm4 8zm17 0zm3 11zm3 12zm-5 8zm6 10zm3 5zm8-2zm4 0zm-14 14zm-11 26zm50-21zm16-3zm5 1zm4 13zm1-28zm0-2zm-47-31zm-53 9zm-18-10zm1-5zm-7 2zm15-9zm-1-9zm4-2zm-5-7zm-24 7zm-1 3zm-57-13zm-13 1zm-3-6zm-15 20zm-9-1zm19 7zm18 38zm1 2zm13 30zm3 28zm-11 43zm-7 26zm-4 6zm13-5zm7 13zm-15 16zm-12 4zm-2-7zm-4 2zm-16-8zm-15-13zm-5 4zm237-64zm-1-9zm4 21z" stroke="#fff" stroke-width="3.5" stroke-linecap="round" fill="none" opacity="0.75"/>
<path transform="scale(0.2)" d="M483 3421zm14 8zm6-5zm7 7zm0 4zm3-1zm4-1zm3-1zm1-2zm2 2zm0 1zm-1 2zm0 3zm-1 1zm0 3zm-3-4zm9-4zm1-2zm-1-1zm-3-2zm-4-11zm-8-1zm1-11zm-13 2zm-4-1zm-3-1zm-4 0zm-1-3zm8 0zm6-8zm25 6zm2 8zm5 1zm22 33zm-1 4zm-2 2zm0 4zm-2 0zm6 3zm2-3zm2-6zm4-1zm1-1zm-2-3zm-1 16zm0 5zm-9 19zm4 2zm-4 4zm-3 1zm2 4zm-3 3zm-2 2zm-4-6zm3-5zm0-2zm0-2zm-6 0zm-2-7zm-1 21zm17 9zm7-16zm-14 45zm-5 2zm-3 0zm-2 0zm-1-3zm0-1zm-5 2zm-1-1zm-1 1zm0-3zm0-1zm0-2zm-4 1zm-2 3zm-4 7zm-1 2zm-7-64zm1-13zm-2-2zm1-1zm2-2zm1-2zm-5-1zm6 7zm6-12zm-21-13zm75-115zm4 2zm3-1zm-4-10zm6-1zm-13 3zm72 85zm5 0zm4 0zm0-1zm5 5zm-1 6zm2 1zm0 4zm-13-7zm2-4zm-8 4zm2 3zm2 4zm-2 1zm-4 6zm65 4zm1-1zm6-5zm6 6zm1 0zm2 1zm1-1zm0 3zm-1 1zm2 1zm3 1zm2 0zm2 0zm0 2zm6-2zm2-1zm-9-5zm0-8zm-3-2zm1-3zm-5 5zm-6-6zm1-1zm-2-2zm-4-19zm-3-9zm1-1zm0-4zm5-1zm2 0zm2 0zm-3 5zm-1 1zm-11-2zm-2 5zm17 46zm3 4zm1 2zm1 0zm2 3zm-8 3z" stroke="#fff" stroke-width="4" stroke-linecap="round" fill="none" opacity="0.7"/>
<path transform="scale(0.2)" d="M447 3474zm3 23zm4 10zm-1 3zm17 17zm9 14zm4 1zm-2 4zm7-2zm0-2zm3 0zm7 7zm22 16zm7-10zm12 9zm13-6zm6 0zm4 2zm26-20zm3 4zm7-12zm2-6zm15-8zm6 0zm6-2zm26-8zm6-6zm2 1zm26 1zm17-10zm-3-5zm8-1zm19 0zm0-7zm5-7zm4-6zm1-18zm7-21zm0-7zm-4-3zm-4-13zm0-4zm-7-5zm-14-17zm-1-5zm-14-9zm-8 4zm-28-13zm-2-8zm-1-2zm1-10zm-3-1zm-2-7zm-20-9zm-7-5zm-17-7zm-11-2zm-4 3zm-2-5zm-2 10zm-18-2zm-5-1zm-3 2zm-26-1zm-5 7zm-3 1zm-12 3zm-16 4zm-2 4zm-2 9zm-2 8zm-1 5zm-10 12zm0 5zm-1 9zm-5 14zm-5 6zm0 4zm-8 3zm-3 13zm-7 9zm-1 6zm-5-2zm4 9zm-4 4z" stroke="#fff" stroke-width="4.275" stroke-linecap="round" fill="none" opacity="0.85"/>
<path transform="scale(0.2)" d="M441 3466zm2-3zm3-5zm6 0zm0 2zm-3-10zm6-2zm1-1zm-1-1zm9-20zm6 1zm0-2zm0-3zm-1-7zm4-1zm2 2zm-1-13zm3-10zm2-3zm3-3zm-1 7zm1 2zm-10-10zm6-9zm7-9zm1-1zm7-7zm3-2zm0-2zm-8 1zm11-10zm3-6zm-2-2zm2-1zm7-1zm0-3zm7 1zm4-4zm3-5zm-3-2zm12 2zm1-1zm5-5zm11 1zm4-1zm-6-10zm9-2zm8 6zm1 1zm16-3zm1 2zm3-5zm3-5zm-4-1zm17-4zm5-1zm4 6zm10 8zm5 2zm2-6zm-1-2zm-3-6zm14 13zm-2 4zm0 3zm3-1zm4 2zm10 2zm6 6zm2 8zm3 4zm1 5zm0 5zm2 1zm3-1zm4 2zm-6 5zm1 8zm5 2zm1 3zm4-4zm1-6zm5 8zm7 2zm0-5zm14 2zm3 3zm1 2zm5 2zm1 3zm2-4zm8 4zm-3 5zm-1 11zm8-1zm6 4zm1-1zm9 3zm-7 9zm5 6zm-2 2zm-6 27zm2 4zm3 3zm0 3zm-2 7zm-2 2zm8 0zm1 1zm-2-19zm-1 0zm-24 35zm-1 9zm-5 1zm-8 0zm-5 6zm-1 2zm9 2zm6-1zm9-9zm7-4zm-37 20zm-5 4zm-13-5zm-2 1zm-6 4zm-4-8zm-6 3zm-5 0zm-2 1zm-1 3zm4 6zm-13-2zm-5-1zm-3-3zm-2 6zm11-11zm27-7zm9 1zm-64 22zm-6 5zm6 4zm1-1zm-7 7zm-1 0zm-6-4zm-9 11zm-5-1zm-1-2zm1 5zm-6 2zm-6 3zm-2-1zm-1-2zm-8 4zm-6 4zm-3-3zm-2 10zm9 4zm-20 0zm-1 1zm1 2zm-7-9zm-7 4zm0-9zm-1-1zm-7 3zm-9 0zm-1-4zm2-1zm-12-4zm-11-5zm-12-6zm-4 1zm-3-7zm9 2zm-10-12zm-2-1zm-2 2zm-6 1zm-2-5zm5-3zm-3-11zm-6-1zm-3 2zm1-10zm-6 1zm5-10zm5 1zm1-9zm-9-5zm62 94zm151-217zm-11-18zm54 46zm36 5z" stroke="#ff7f0e" stroke-width="4.75" stroke-linecap="round" fill="none"/>
<path d="M114.0,712.0C114.8,709.5 118.6,707.7 121.0,707.0C123.4,706.3 126.9,706.5 128.5,708.0C130.1,709.5 130.3,713.3 130.5,716.0C130.7,718.7 130.2,721.7 129.5,724.0C128.8,726.3 127.8,729.3 126.5,730.0C125.2,730.7 123.8,729.3 122.0,728.0C120.2,726.7 117.3,724.7 116.0,722.0C114.7,719.3 113.2,714.5 114.0,712.0Z" fill="#ff7f0e" opacity="0.12"/>
<path transform="scale(0.2)" d="M566 3558zm6 1zm4 3zm-5 4zm0 7zm4 4zm3 1zm3 2zm1 4zm2 5zm0 1zm-2 0zm-5 3zm-7-6zm-3-6zm8 1zm6-10zm-2-2zm4-4zm5-3zm3-2zm1 0zm0 3zm3 4zm2 0zm1-2zm1-1zm2 0zm-3-2zm-4-5zm1-2zm-2-1zm-4 2zm-6-5zm-7-1zm-1-1zm0-2zm12-13zm4 5zm8-3zm0-2zm-2-3zm11 3zm2 6zm4 0zm0-1zm0 6zm5-1zm1-1zm0-1zm6-3zm4 0zm5 1zm4-2zm1 2zm1 3zm2 0zm0 4zm4 1zm-2 4zm-7 3zm-6 3zm-3 0zm-3 1zm-4 2zm-3 1zm-2-1zm-3-5zm6-2zm1-3zm7 2zm9-5zm0-13zm-5-1zm-14-2zm-15 16zm0 4zm-3 0zm-2-3zm8 4zm0 1zm-1 13zm5 4zm-6 3zm0 1zm-7 1zm-2 2zm2 2zm-2 2zm-4-4zm-2 5zm-1 3zm0 6zm-1 1zm8-1zm3 2zm-1 1zm5-1zm4 1zm-2 4zm-3 2zm2 2zm-1 2zm-1 3zm-2 0zm-2 2zm-4 1zm0-3zm3-2zm-4-5zm6-13zm2-1zm0-2zm6 0zm6 7zm1 0zm6-6zm3-4zm-3-3zm0-5zm5-3zm4 0zm6 1zm1-3zm-1-2zm1-1zm-1-1zm2-2zm3 7zm-1 4zm4 2zm1 0zm1-2zm-1-2zm-5 7zm-2 2zm1 1zm1 2zm-1 4zm0 5zm0 2zm4-3zm4-3zm0-2zm8-3zm0 9zm-1 3zm0 5zm2 4zm-8-1zm0 4zm-7-4zm-1-2zm-2 1zm-4 0zm3 4zm-5 2zm0 1zm2 2zm5 1zm2 0zm5 4zm-1 2zm3 0zm-3 5zm-3 2zm-1 4zm-4 2zm-2 3zm-1 1zm3 4zm3 4zm2 0zm3-2zm-2-4zm4-7zm-10-5zm-1-7zm-5 1zm0-2zm-2 0zm0-2zm-4-7zm2-3zm1-2zm-4-4zm4-6zm0-7zm16 10zm1 3zm10 16zm-25 12zm-3-1zm0 2zm2 3zm-6 0zm-4 0zm0-2zm-4 4zm1 3zm3 9zm5 4zm1-1zm7-6zm-1-1zm-8-17zm-3-8zm-6-1zm-1-1zm-2 4zm-3-1zm3 6zm0 1zm-8 0zm-4-6zm-2 2zm-4 0zm-1 2zm2 2zm1 0zm-4 4zm15 8zm11-26zm-7-11zm-20-27zm0-2zm4-3zm1 1zm25-2zm28-4zm5-4zm1-2zm3 11zm-3 3z" stroke="#ff7f0e" stroke-width="4.75" stroke-linecap="round" fill="none"/>
<path transform="scale(0.2)" d="M566 3575zm3 4zm6-8zm4 4zm6 9zm4 1zm2 0zm-2 6zm-2 3zm-2-5zm-5 3zm0 2zm-1-4zm-4-1zm-2 1zm0 8zm7 12zm4 6zm5-2zm6-8zm9 2zm5-6zm-4-5zm6-6zm5 3zm2 6zm7 7zm3-3zm0-2zm2 6zm4-2zm2 5zm-2 7zm-6 2zm0 5zm-6-2zm0-2zm-2-4zm-4 5zm-4 2zm-6 3zm-5-6zm1-3zm-9 6zm-8 0zm16 9zm7 5zm2 0zm2-2zm5-1zm2 2zm0 1zm4-5zm6 3zm1 4zm1 3zm1 0zm-6-1zm0 2zm12-2zm6-38zm1-4zm-6 0zm-1-5zm3-4zm7 0zm4-1zm-3-6zm-3-3zm-1 0zm-6-5zm-5-1zm-3-5zm-5-4zm-6-2zm1-3zm-2-1zm0-5zm1-7zm-5-2zm-2-1zm1-1zm10-7zm5-4zm5 3zm5 13zm0 1zm-1 4zm1 7zm-1 4zm-7-6zm-2 1zm-8 10zm-6-4zm-5 0zm-4-3zm-2 2zm0 4zm-10 7zm-2-13zm3-3zm1-3zm-4 0zm-2-2zm-9 5zm-7-1zm-3-1zm8-8zm9-8zm18 42zm11 3zm4-2zm-3-3zm9-4zm9 3zm-5 7zm25-13zm-5-21zm-4-11zm-51 50z" stroke="#2ca02c" stroke-width="4.5" stroke-linecap="round" fill="none"/>
<path transform="scale(0.2)" d="M519 3584zm6-3zm10-7zm12 0zm4 0zm9-6zm0 24zm1 5zm-14-3zm-1 3zm-5-10zm-6 2zm-2 12zm1 14zm8 23zm16-14zm7-2zm2 2zm-2 4zm6 0zm1-2zm-2-10zm-6 0zm11-10zm3-7z" stroke="#1f77b4" stroke-width="4.5" stroke-linecap="round" fill="none"/>
<path d="M182.4,707.7C183.2,706.7 185.7,706.5 187.5,706.0C189.3,705.5 191.5,705.1 193.2,704.6C194.9,704.1 196.1,703.4 197.5,703.0C198.9,702.6 200.3,702.2 201.6,702.2C202.8,702.2 204.2,702.5 205.0,703.0C205.8,703.5 206.4,704.5 206.4,705.3C206.4,706.0 205.8,706.9 205.2,707.5C204.6,708.1 204.4,707.9 202.8,708.9C201.2,709.9 197.8,712.2 195.6,713.8C193.4,715.4 191.2,717.2 189.6,718.6C188.0,720.0 187.0,721.0 186.0,722.2C185.0,723.4 184.2,724.9 183.4,726.0C182.6,727.1 181.7,728.6 181.2,728.8C180.7,729.0 180.0,728.3 180.2,727.0C180.4,725.7 182.0,722.8 182.6,721.0C183.2,719.2 183.6,717.7 183.6,716.2C183.6,714.7 182.8,713.4 182.6,712.0C182.4,710.6 181.6,708.7 182.4,707.7Z" fill="#8c564b" opacity="0.85"/>
<path transform="scale(0.2)" d="M903 3631zm8-4zm3 1zm-2 3zm4 1zm3-1zm-14 13zm1 3zm10-36zm4-7zm-2-4zm8 0zm2-2zm1 4zm7 0zm0-9zm1-2zm3-5zm7-5zm2 4zm3 0zm1 3zm4-4zm0-1zm-4-2zm2-7zm1-2zm-1-2zm-3-1zm-4 1zm-3 2zm0 5zm-6 0zm1-6zm1-3zm1-1zm6-1zm9-6zm3 0zm2-4zm3 1zm2-1zm-1-2zm3-8zm0-1zm-6 0zm0-1zm-7 1zm-8 0zm-1 1zm-3 0zm-3-4zm-2-2zm3-2zm-3-6zm7-4zm4 4zm2 2zm5-6zm1 1zm4 4zm7-2zm1-1zm2-1zm6 4zm5 1zm-3 6zm-1 0zm3 1zm-4 4zm-3 0zm0-6zm-4-1zm12 10zm2 1zm-3 4zm3 1zm1 0zm-7 6zm-4-2zm-1 9zm-4 3zm-3 1zm-26-14zm-4-1zm-1 3zm-3 4zm-2-1zm5 4zm-8 8zm-1-1zm1 3zm-3 5zm0 4zm-2 7zm6 1zm2 1zm1-12zm-10-19zm-6-3zm-1-3zm5-9zm-2-2zm-1-2zm-2-2zm-3 0zm3-4zm7-2zm8 8zm5 5zm-7 3zm33-29zm1-2zm16 2zm6 2zm1-2zm7 0zm2 0zm4-4zm-4-2zm-6-2zm-4 1zm6 12zm2 8zm5 6zm2-1zm3-6zm-3-4zm2-6zm2-8zm1 0zm3 0zm5-1zm9 2zm1 2zm4-3zm3 4zm5-1zm-5 11zm-4 0zm-2 2zm1 2zm0 3zm-1 5zm-4-8zm3-4zm-6-4zm0-2zm-8 5zm3 6zm2 1zm0 1zm-1 6zm0 3zm-6 6zm-8-1zm-2-4zm-72 62z" stroke="#8c564b" stroke-width="4.5" stroke-linecap="round" fill="none"/>
<path transform="scale(0.2)" d="M904 3641zm16-31zm8-1zm0-13zm8-5zm15-3zm2 0zm4-19zm1 0zm-4-8zm-4-7zm2-4zm3 1zm7-5zm-3-3zm-1-9zm-5-3zm11 3zm5 5zm4 0zm2 1zm2 4zm-2 7zm-3 7zm15 4zm4-2zm4-10zm4-1zm-4-5zm-2-2zm-2 0zm0-4zm0-17zm17-3zm1 0zm-1 8zm17 3zm-86 12zm-4 1zm-2-2zm-1-1zm-10 5zm-1 1zm-1-3zm9 15zm10-9zm5 15zm1 2zm-6 6zm-10 5z" stroke="#fff" stroke-width="3.5" stroke-linecap="round" fill="none" opacity="0.7"/>
<path transform="scale(0.2)" d="M914 3538zm2 0zm2-1zm0 7zm1 2zm1 0zm0 3zm0 2zm3-3zm1-5zm5 0zm1-1zm3 1zm1 3zm-1 1zm0-9zm9-4zm0-1zm2 4zm1 0zm0 2zm4 5zm2-10zm4 0zm2 0zm2 2zm-27 26zm1 2zm-5 0zm-2-3zm0-1zm-2-1zm-4 8zm-2 0zm-1 7zm13-3zm0-2zm1 6zm2 1zm5 8zm-3 7zm2 3zm1 4zm0 1zm-4 3zm-3-9zm-3-7zm13 6zm-27-47z" stroke="#fff" stroke-width="4" stroke-linecap="round" fill="none" opacity="0.8"/>
<path transform="scale(0.2)" d="M899 3640zm1 5zm8-1zm5-6zm0-2zm0-2zm4 0zm-9-15zm3-2zm-11 12zm27-16zm4-4zm3-2zm2-5zm4-1zm6-5zm8-6zm-1-3zm17-13zm4-4zm7-6zm3 0zm1 2zm4-8zm18-9zm2-1zm4 0zm0-4zm-1 0zm8-6zm2 3zm5 1zm1-21zm-6-11zm-14-2zm-9 4zm-6 1zm-1 1zm-7 2zm-6 3zm-7 1zm-7 3zm-7 4zm-5 0zm-12 1zm-14 8zm-12 1zm-2 3zm-3 6zm2 1zm4 13zm-4 8zm6 5zm-3 3zm3 4zm1 20z" stroke="#fff" stroke-width="3.825" stroke-linecap="round" fill="none" opacity="0.85"/>
<path transform="scale(0.2)" d="M902 3633zm1 0zm4-2zm-1-6zm0-6zm3-1zm0-4zm2-1zm0-7zm1-2zm3-1zm0-4zm-2-10zm3-2zm2-4zm4-1zm-5-10zm-3-1zm0-5zm4-9zm-2-8zm-5-7zm-2 1zm5-7zm1-2zm4-1zm7 4zm7-4zm4-1zm0-5zm-10 1zm21-1zm0 2zm4 2zm2-4zm7 1zm15-3zm2-7zm-1-3zm10 4zm8-6zm2-5zm3 2zm10 4zm2-5zm5 4zm7 5zm4-5zm4 9zm0 7zm-1 0zm0 3zm-4 2zm10-7zm-31 22zm-3-1zm-4 5zm-1 0zm-2 1zm-3 0zm-2 12zm-12 3zm-13 5zm2 7zm-3 1zm-6 1zm-2 1zm0 1zm-2-6zm-6 12zm-3 1zm-7 11zm2 4zm-15 3zm3 8zm-8 3zm0 2zm1 1zm0 4zm-6 4zm-1 1zm-12 8zm6-86z" stroke="#8c564b" stroke-width="4.25" stroke-linecap="round" fill="none"/>
<path d="M180.0,737.8C180.2,737.1 182.0,736.6 183.0,736.2C184.0,735.8 184.3,735.7 186.0,735.4C187.7,735.1 191.4,734.3 193.2,734.2C195.0,734.1 195.8,734.6 197.0,735.0C198.2,735.4 199.3,736.1 200.4,736.6C201.5,737.1 202.7,737.6 203.6,738.2C204.5,738.8 205.5,739.3 205.7,740.2C205.9,741.1 205.5,742.5 205.0,743.5C204.5,744.5 203.5,745.4 202.8,746.3C202.1,747.2 201.6,748.2 200.8,749.0C200.0,749.8 199.0,751.0 198.0,751.1C197.0,751.2 196.0,750.1 195.0,749.5C194.0,748.9 193.5,748.6 192.0,747.5C190.5,746.4 187.7,743.8 186.0,742.6C184.3,741.4 183.0,741.0 182.0,740.2C181.0,739.4 179.8,738.5 180.0,737.8Z" fill="#e377c2" opacity="0.85"/>
<path transform="scale(0.2)" d="M905 3693zm8 3zm4-4zm2 2zm1 4zm6-6zm0-6zm-2-6zm-5 4zm-3-1zm0 2zm-1 2zm-2 2zm-3-8zm7-1zm0-1zm14 2zm1 2zm2 1zm-2 5zm2 1zm5 4zm2-5zm0-2zm2-4zm-1-4zm0-3zm6-2zm0 4zm5 2zm6 1zm3-3zm2-5zm0-2zm4 6zm2-1zm6 3zm0 6zm2 0zm-6 0zm-2 1zm-2-3zm-6 3zm0 2zm-3-1zm-2-1zm-3 5zm-2 7zm2 5zm1 2zm-3 4zm4 1zm0 3zm0 1zm0 5zm4 1zm1 1zm3 0zm2-3zm4-3zm4-4zm-3-2zm-1-1zm6-1zm5-2zm3-2zm-1-3zm-3 1zm-2-1zm-2-1zm-2 0zm-6-6zm-1-2zm-2 3zm1 1zm-7 5zm-14 1zm1-10zm0-1zm-15 9zm-2 5zm3 7zm3 2zm3-4zm4 2zm2 3zm4 4zm0 3zm11 6zm1-1zm3-1zm5-1zm6 1zm1 1zm3 0zm1 1zm-1 3zm-4-1zm-1 3zm-2 2zm-2-1zm-1 2zm-3-3zm-2 0zm-7 4zm8 6zm5-1zm11-3zm1 5zm-2 4zm-1 2zm6 3zm5 4zm10-11zm-1-1zm4-2zm0-3zm2 0zm5-1zm-5-5zm0-4zm-1-2zm-2-3zm-3 0zm0-3zm-3 1zm-2-2zm-4 1zm-1 1zm-2-2zm-1 5zm2 7zm1 4zm1 4zm5 0zm0-4zm-2-6zm2-2zm2 2zm2-3zm9 2zm1-1zm4 3zm4-5zm2 2zm4-3zm-1-9zm-1-3zm0-4zm-4-1zm1-8zm3 0zm-7-2zm-2-1zm0-2zm0-1zm1 1zm0-4zm-1 0zm-3-3zm-2 1zm0 1zm-3-3zm0-2zm-3 0zm-6-4zm0-2zm3-5zm-10 9zm1 1zm-3 5zm0 3zm-2 3zm3 2zm1 1zm6 0zm3-1zm3 2zm3 0zm0-2zm4 1zm2 8zm-7 5zm-1-1zm0 4zm1 4zm8-2zm16-5zm0-1zm-30-9zm-3-12zm-10-11zm-2-7zm-23 3zm19 43zm-1 1zm4 1z" stroke="#e377c2" stroke-width="4.5" stroke-linecap="round" fill="none"/>
<path transform="scale(0.2)" d="M917 3702zm5 3zm4 1zm0 3zm10-1zm5 6zm5 3zm5 1zm4-2zm10 6zm-2 4zm10 1zm7 8zm-4 3zm-1 5zm4 2zm12-2zm1-4zm6-12zm3-2zm11-1zm-1 10zm-2 4zm-20-14zm-3-1zm5-3zm-4-7zm-4-1zm-12-1zm-1 4zm-9-13zm-3-4zm8-4zm17 2zm8-10zm-5-3zm0-4zm20 7zm1 11zm1 14zm13-6zm-59-30zm-6 3zm-6 9zm-4 1zm2 8zm-1 8zm-15-16zm3-9zm27 58z" stroke="#fff" stroke-width="3.5" stroke-linecap="round" fill="none" opacity="0.7"/>
<path transform="scale(0.2)" d="M913 3684zm2 0zm2 3zm3-2zm0-2zm-7 9zm19-2zm3 1zm1 1zm2 1zm1-2zm-1-1zm2 6zm15 18zm2-1zm6-5zm1 1zm2 6zm-2 5zm-2 1zm5 0zm7-7zm-3-4zm6-7zm3-5zm0-6zm8 7zm-2 2zm2 2zm4 29zm0 5zm5 0zm-2 7zm-1 3zm-3-1zm-4-5zm1-1zm-10-1zm-1 0zm-2 0zm-1-1zm2 3zm0 5zm-7-6zm39-1zm-43-55zm-3-3zm1-1zm-1-1zm2-1zm2 1zm0-4zm0-1zm3 0zm2 3zm-1 1zm4-4zm-12-2z" stroke="#fff" stroke-width="4" stroke-linecap="round" fill="none" opacity="0.8"/>
<path transform="scale(0.2)" d="M909 3681zm4 3zm-1 16zm18 10zm-2 4zm12 6zm3 3zm1 2zm5 4zm36 28zm12-4zm9-7zm7-13zm4-4zm1 1zm4-8zm5-9zm-1-2zm1-11zm-14-14zm-10-3zm-14-4zm-3-5zm-8-3zm-5 0zm-3 2zm-16-2zm-10 6zm-10 2zm-1-1zm0-3z" stroke="#fff" stroke-width="3.825" stroke-linecap="round" fill="none" opacity="0.85"/>
<path transform="scale(0.2)" d="M898 3687zm0 2zm5 3zm1 4zm3 1zm0 1zm4 1zm6 5zm-1 2zm7 2zm1 1zm2-4zm10 8zm3 4zm5 7zm4 1zm4 2zm4 5zm2 2zm1-3zm2 9zm3 3zm10 4zm0 1zm2 2zm6 5zm4 1zm0-4zm10 1zm4-1zm1-3zm0-1zm6-2zm5-2zm-2-7zm2-2zm5-6zm1-7zm7-4zm3-3zm2-12zm-6 0zm2-6zm-7-10zm-6 3zm-8-6zm-6-3zm1-2zm-13-5zm-5-5zm-1 1zm-14 0zm-9 0zm0 1zm0 3zm1 1zm-13 0zm0-2zm-6 2zm-13-1zm1 7zm-7 0zm-1 0zm-4 2zm-9 7zm-5-7zm87 79z" stroke="#e377c2" stroke-width="4.25" stroke-linecap="round" fill="none"/>
<path transform="scale(0.2)" d="M917 3650zm6-8zm15 9zm3 10zm-3 2zm-7 3zm-4-1zm-1 4zm3-8zm4 17z" stroke="#e377c2" stroke-width="4" stroke-linecap="round" fill="none"/>
<path d="M55.5,641.4C55.7,640.9 56.4,641.7 57.2,642.6C58.0,643.5 59.3,645.7 60.5,647.0C61.7,648.3 63.2,649.3 64.5,650.2C65.8,651.1 68.2,651.3 68.4,652.2C68.7,653.1 67.2,654.6 66.0,655.4C64.8,656.2 62.6,656.8 61.0,657.0C59.4,657.2 57.1,657.8 56.4,656.6C55.7,655.4 56.7,651.9 56.6,650.0C56.5,648.1 56.2,646.8 56.0,645.4C55.8,644.0 55.3,641.9 55.5,641.4Z" fill="#8a8a8a" opacity="0.3"/>
<path transform="scale(0.2)" d="M280 3233zm2 0zm2 2zm1 0zm2 0zm0-2zm-1 0zm3 0zm2 2zm1-2zm0-3zm-1-1zm-4 0zm-2-2zm0-1zm2-1zm-2-4zm0-1zm1 0zm-1-3zm2-3zm-2-3zm-3 9zm10 5zm1 0zm4 4zm2 7zm-4 4zm-1-1zm-1-3zm-5 3zm-4 1zm-2-1zm8 5zm2 3zm2 3zm-1 2zm2 1zm-4-2zm-4 1zm-4 0zm-1 0zm-2 4zm3 6zm-1 1zm1 3zm5 5zm2-3zm2 0zm1-1zm0-2zm-4-3zm2-4zm6 3zm0 1zm2-1zm2-2zm2 4zm2 0zm1 5zm2 0zm0 1zm1 1zm2 0zm3 1zm4 1zm0 2zm3-2zm0-1zm-2-2zm-1-2zm1-2zm-2-1zm1-1zm-2-1zm-2-1zm-3 0zm-1 0zm-3-5zm4-3zm-3-2zm-1 0zm-3-2zm-1-1zm-6 0zm-1-4zm1-2zm3 0zm8 0zm0 2zm1 3zm1 2zm2-3zm4 8zm0 2zm-2 0zm3 2zm1 2zm1 0zm2 3zm1 2zm1 2zm4-2zm1-3zm5-1zm0-2zm0 4zm6-1zm0-5zm-8-3zm-1 2zm-2 0zm0-2zm-3-2zm1-2zm-2 6zm-4-2zm6 19zm3 5zm3-1zm0-2zm2 1zm-2-4zm6-4zm-15 13zm-2 2zm0-4zm-8-2zm-4-1zm-2 0zm-1 1zm-1-1zm-2 3zm-1 1zm3 0zm-2 3zm4 0zm0 2zm-9 1zm-1-4zm-1-2zm0-3zm-4 4zm1 2zm0 4zm-7-4zm-3 4zm1-12zm14-8z" stroke="#8a8a8a" stroke-width="4.5" stroke-linecap="round" fill="none"/>
<path d="M25.30,635.40V760.50H215.00" fill="none" stroke="#3a3a3a" stroke-width="0.8"/>
<text x="21.60" y="655.00" font-size="9.7" text-anchor="middle" stroke="#000" stroke-width="0.22" transform="rotate(-90 21.60 655.00)">UMAP2</text>
<text x="212.20" y="770.40" font-size="9.7" text-anchor="end" stroke="#000" stroke-width="0.22">UMAP1</text>
<text x="64.80" y="641.80" font-size="9.9" fill="#6d6d6d" stroke="#6d6d6d" stroke-width="0.22">Cardiac</text>
<text x="27.70" y="657.50" font-size="9.7" fill="#2b7bbd" stroke="#2b7bbd" stroke-width="0.22">MSC1</text>
<text x="43.80" y="744.90" font-size="9.7" fill="#e62531" stroke="#e62531" stroke-width="0.22">MSC3</text>
<text x="113.70" y="650.60" font-size="9.7" fill="#8f4fa8" stroke="#8f4fa8" stroke-width="0.22">MSC4</text>
<text x="141.90" y="668.00" font-size="9.7" fill="#f26c45" stroke="#f26c45" stroke-width="0.22">MSC2</text>
<text x="112.50" y="757.10" font-size="9.7" fill="#1ea650" stroke="#1ea650" stroke-width="0.22">Mural</text>
<text x="173.40" y="693.50" font-size="9.7" fill="#6f4a30" stroke="#6f4a30" stroke-width="0.22">Fibroblast1</text>
<text x="192.00" y="731.30" font-size="9.7" fill="#f77fd3" stroke="#f77fd3" stroke-width="0.22">Fibroblast2</text>
</g>
<g id="panel-i">
<text x="241.90" y="627.70" font-size="15" font-weight="bold" stroke="#000" stroke-width="0.22">i</text>
<path d="M275.7,662.4C277.1,661.5 280.3,663.4 283.0,662.8C285.7,662.2 289.4,659.9 292.1,658.8C294.8,657.7 296.3,657.0 299.4,656.1C302.4,655.2 307.3,654.0 310.4,653.3C313.4,652.6 315.3,651.5 317.7,652.0C320.1,652.5 322.9,654.8 325.0,656.1C327.1,657.4 329.1,658.0 330.4,659.7C331.7,661.4 332.5,663.5 332.8,666.1C333.1,668.7 332.5,672.1 332.4,675.2C332.3,678.3 332.4,681.3 332.0,684.5C331.6,687.7 331.5,691.7 329.7,694.5C327.9,697.3 324.3,699.8 321.2,701.5C318.1,703.2 314.2,704.1 311.2,705.0C308.2,705.9 306.0,705.9 303.1,707.0C300.2,708.1 296.9,709.9 293.9,711.4C290.8,712.9 287.4,715.2 284.8,716.0C282.2,716.8 280.1,717.5 278.4,716.3C276.7,715.1 275.7,711.9 274.8,709.0C273.9,706.1 272.7,702.4 273.0,698.9C273.3,695.4 276.1,691.6 276.6,688.0C277.0,684.4 276.0,680.4 275.7,677.0C275.4,673.6 274.8,670.3 274.8,667.9C274.8,665.5 274.3,663.2 275.7,662.4Z" fill="#c39a6c" opacity="0.3"/>
<path d="M278.4,715.8C279.0,715.0 282.2,716.4 284.8,715.4C287.4,714.4 290.8,711.7 293.9,709.9C296.9,708.1 300.0,705.9 303.1,704.4C306.1,702.9 309.3,702.7 312.2,700.8C315.1,698.9 318.2,694.3 320.7,693.2C323.2,692.1 325.3,693.0 327.2,694.0C329.1,695.0 330.5,697.2 332.2,699.0C333.9,700.8 335.4,703.2 337.2,705.0C339.0,706.8 340.8,708.2 343.2,710.0C345.6,711.8 349.9,713.2 351.7,715.5C353.4,717.8 355.4,721.3 353.7,724.0C352.0,726.7 344.7,729.3 341.4,731.8C338.1,734.3 336.4,736.8 334.1,739.1C331.8,741.4 329.3,743.0 327.8,745.4C326.2,747.8 325.9,751.9 324.8,753.6C323.7,755.3 322.2,756.1 321.3,755.8C320.4,755.5 319.6,754.1 319.3,751.9C319.0,749.7 320.7,745.1 319.5,742.7C318.3,740.3 315.6,739.1 312.2,737.3C308.8,735.5 303.3,733.6 299.4,731.8C295.4,730.0 291.5,728.3 288.5,726.3C285.5,724.3 282.9,721.6 281.2,719.9C279.5,718.1 277.8,716.5 278.4,715.8Z" fill="#c39a6c" opacity="0.3"/>
<path d="M334.9,657.1C335.9,655.1 337.3,653.8 338.7,652.8C340.1,651.8 341.8,651.4 343.3,651.1C344.8,650.8 346.3,650.8 347.7,651.0C349.1,651.2 350.4,651.6 351.7,652.3C353.0,653.0 354.5,654.0 355.7,655.0C356.9,656.0 357.8,657.1 358.9,658.4C360.0,659.7 362.5,661.1 362.2,663.0C361.9,664.9 359.7,668.2 357.2,670.0C354.7,671.8 350.2,672.3 347.2,674.0C344.2,675.7 341.4,678.0 339.2,680.0C337.0,682.0 335.7,684.7 334.2,686.0C332.7,687.3 330.9,689.0 330.2,688.0C329.5,687.0 329.7,682.7 329.8,680.0C329.9,677.3 330.3,674.5 330.7,672.0C331.1,669.5 331.7,667.5 332.4,665.0C333.1,662.5 333.8,659.1 334.9,657.1Z" fill="#c39a6c" opacity="0.3"/>
<path d="M333.7,682.4C334.9,680.0 335.5,676.1 336.7,673.5C337.9,670.9 339.5,668.4 340.9,666.8C342.3,665.2 343.6,664.6 345.2,664.0C346.8,663.4 348.7,663.5 350.5,663.2C352.3,662.9 354.2,662.2 356.2,662.0C358.2,661.8 360.8,661.7 362.6,662.0C364.4,662.3 365.8,663.0 367.2,663.8C368.6,664.6 370.0,665.3 371.0,666.8C372.0,668.3 371.8,671.6 373.4,672.8C375.0,674.0 378.8,673.3 380.6,674.0C382.4,674.7 383.4,675.8 384.4,677.0C385.4,678.2 386.0,679.8 386.6,681.2C387.2,682.6 387.8,684.1 388.0,685.5C388.2,686.9 388.0,688.3 387.8,689.7C387.6,691.1 387.3,692.8 386.7,694.0C386.1,695.2 385.4,696.0 384.2,696.9C382.9,697.8 380.8,698.9 379.2,699.5C377.6,700.1 376.6,700.1 374.6,700.5C372.6,700.9 369.8,700.9 367.4,701.7C365.0,702.5 362.6,703.9 360.2,705.3C357.8,706.7 354.9,708.9 352.9,710.1C350.9,711.3 349.7,712.3 348.1,712.5C346.5,712.7 344.9,712.0 343.2,711.5C341.5,711.0 339.6,710.2 338.0,709.4C336.4,708.6 334.9,707.5 333.7,706.5C332.5,705.5 331.8,704.5 331.0,703.2C330.2,702.0 329.4,700.5 329.0,699.0C328.6,697.5 328.5,696.3 328.6,694.5C328.7,692.7 328.9,690.0 329.8,688.0C330.6,686.0 332.5,684.8 333.7,682.4Z" fill="#c39a6c" opacity="0.3"/>
<path d="M349.3,716.2C350.1,714.4 352.4,711.8 354.2,710.0C356.0,708.2 358.0,706.6 360.2,705.3C362.4,704.0 364.8,702.8 367.2,702.0C369.6,701.2 371.8,700.8 374.6,700.5C377.4,700.2 381.4,699.5 384.2,700.5C387.0,701.5 388.7,704.3 391.5,706.5C394.3,708.7 397.9,711.4 401.1,713.8C404.3,716.2 407.9,719.2 410.7,721.0C413.5,722.8 416.3,723.2 417.9,724.6C419.5,726.0 420.0,727.8 420.4,729.4C420.8,731.0 420.6,732.6 420.4,734.0C420.2,735.4 419.8,736.7 419.2,737.8C418.6,738.9 417.7,740.0 416.7,740.8C415.7,741.6 415.3,741.7 413.1,742.6C410.9,743.5 407.1,745.1 403.5,746.3C399.9,747.5 394.6,749.1 391.5,749.9C388.4,750.7 387.2,750.8 385.2,751.0C383.2,751.2 381.1,751.3 379.4,751.1C377.7,750.9 376.4,750.6 375.2,750.0C374.0,749.4 373.2,748.8 372.2,747.5C371.2,746.2 370.0,744.1 369.2,742.5C368.4,740.9 368.3,739.8 367.4,737.8C366.5,735.8 365.8,732.6 363.8,730.6C361.8,728.6 357.7,727.4 355.3,725.8C352.9,724.2 350.3,722.6 349.3,721.0C348.3,719.4 348.5,718.0 349.3,716.2Z" fill="#c39a6c" opacity="0.3"/>
<path d="M421.6,707.7C422.4,706.7 424.9,706.5 426.7,706.0C428.5,705.5 430.7,705.1 432.4,704.6C434.1,704.1 435.3,703.4 436.7,703.0C438.1,702.6 439.5,702.2 440.8,702.2C442.0,702.2 443.4,702.5 444.2,703.0C445.0,703.5 445.6,704.5 445.6,705.3C445.6,706.0 445.0,706.9 444.4,707.5C443.8,708.1 443.6,707.9 442.0,708.9C440.4,709.9 437.0,712.2 434.8,713.8C432.6,715.4 430.4,717.2 428.8,718.6C427.2,720.0 426.2,721.0 425.2,722.2C424.2,723.4 423.4,724.9 422.6,726.0C421.8,727.1 420.9,728.6 420.4,728.8C419.9,729.0 419.2,728.3 419.4,727.0C419.6,725.7 421.2,722.8 421.8,721.0C422.4,719.2 422.8,717.7 422.8,716.2C422.8,714.7 422.0,713.4 421.8,712.0C421.6,710.6 420.8,708.7 421.6,707.7Z" fill="#c39a6c" opacity="0.3"/>
<path d="M419.2,737.8C419.4,737.1 421.2,736.6 422.2,736.2C423.2,735.8 423.5,735.7 425.2,735.4C426.9,735.1 430.6,734.3 432.4,734.2C434.2,734.1 435.0,734.6 436.2,735.0C437.4,735.4 438.5,736.1 439.6,736.6C440.7,737.1 441.9,737.6 442.8,738.2C443.7,738.8 444.7,739.3 444.9,740.2C445.1,741.1 444.7,742.5 444.2,743.5C443.7,744.5 442.7,745.4 442.0,746.3C441.3,747.2 440.8,748.2 440.0,749.0C439.2,749.8 438.2,751.0 437.2,751.1C436.2,751.2 435.2,750.1 434.2,749.5C433.2,748.9 432.7,748.6 431.2,747.5C429.7,746.4 426.9,743.8 425.2,742.6C423.5,741.4 422.2,741.0 421.2,740.2C420.2,739.4 419.0,738.5 419.2,737.8Z" fill="#c39a6c" opacity="0.3"/>
<path d="M294.7,641.4C294.9,640.9 295.5,641.7 296.2,642.6C296.9,643.5 297.8,645.7 298.7,647.0C299.6,648.3 300.7,649.5 301.7,650.5C302.7,651.5 304.6,652.2 304.7,653.0C304.8,653.8 303.2,654.8 302.2,655.4C301.2,656.0 299.7,656.4 298.7,656.5C297.7,656.6 296.8,657.1 296.4,656.0C296.0,654.9 296.4,651.8 296.2,650.0C296.0,648.2 295.4,646.8 295.2,645.4C294.9,644.0 294.5,641.9 294.7,641.4Z" fill="#c39a6c" opacity="0.3"/>
<path d="M321.8,683.5C322.2,682.8 323.2,682.4 324.0,682.4C324.8,682.4 326.0,682.8 326.8,683.6C327.6,684.4 328.5,685.8 328.8,687.0C329.1,688.2 328.9,690.0 328.4,691.0C327.9,692.0 326.5,693.2 325.6,693.0C324.7,692.8 323.7,691.1 323.0,690.0C322.3,688.9 321.8,687.6 321.6,686.5C321.4,685.4 321.4,684.2 321.8,683.5Z" fill="#c39a6c" opacity="0.3"/>
<path d="M353.2,712.0C354.0,709.5 357.8,707.7 360.2,707.0C362.6,706.3 366.1,706.5 367.7,708.0C369.3,709.5 369.5,713.3 369.7,716.0C369.9,718.7 369.4,721.7 368.7,724.0C368.0,726.3 366.9,729.3 365.7,730.0C364.4,730.7 362.9,729.3 361.2,728.0C359.4,726.7 356.5,724.7 355.2,722.0C353.9,719.3 352.4,714.5 353.2,712.0Z" fill="#c39a6c" opacity="0.3"/>
<path transform="scale(0.2)" d="M1361 3514zm11 4zm27 2zm2 16zm11 7zm16-12zm-6-10zm21-1zm7 12zm9 9zm1 5zm1 13zm4 9zm11 8zm1 4zm1 4zm9-2zm6 5zm2 1zm-3 2zm0 6zm3 6zm-5 1zm-2 2zm-2 7zm-2 4zm2 3zm0 2zm-3 4zm-6-1zm-2-5zm-6-4zm-8-7zm-7-6zm3-3zm-1-3zm1-1zm4-11zm3 0zm2-1zm9 17zm18 15zm-1 5zm3 7zm6 0zm5-2zm3 2zm7 0zm-2-6zm4-5zm0-1zm2 1zm8-3zm1-1zm2-4zm5-1zm1 10zm2 6zm3 4zm-2 9zm-9 2zm-5 0zm-5-2zm1-6zm4-4zm1-4zm6 2zm19 10zm-4 11zm3 7zm4-3zm-9 8zm6 6zm-2 4zm2 3zm0 11zm-5 4zm-3-6zm-2-1zm-1 0zm-5-13zm0-6zm0-6zm-6 9zm-4-4zm-10 5zm-5-8zm1-2zm-7-1zm-2-10zm-5 0zm-1-5zm-12 1zm-7-8zm-11 2zm-1-5zm-4 7zm-5 3zm-9 2zm4-12zm3-7zm-14-5zm-3 2zm1 7zm-8-1zm11-12zm-1-5zm-10-6zm2-5zm-5-1zm-1-1zm-4 5zm-1-12zm-1-3zm-3 1zm-3-4zm5-1zm9 5zm8-5zm4 1zm-31 3zm-3-4zm-4 3zm-2 6zm-1 1zm6 8zm3 0zm-12-19zm-3 0zm7-4zm8 0zm-23 0zm-8-24zm-2-1zm-7-59zm10-29zm2-2zm14-16zm5-2zm15-13zm4-5zm-2-9zm12 2zm3 3zm9 2zm0 4zm6 5zm-12 1zm-2 3zm-5 2zm4 12zm-6 8zm13 0zm1 11zm2 4zm1 17zm3 2zm7 12zm12-20zm-6-5zm-3-17zm-1-8zm-4-6zm-9-4zm18-13zm10-12zm-3-7zm14 2zm3-1zm10 6zm4-4zm5 0zm11 7zm2 6zm3 6zm4-5zm8 5zm4 6zm-4 3zm-5 3zm2 3zm-2 1zm2 2zm2 4zm5-7zm7 0zm2 5zm0 8zm-7 0zm-2 6zm-8-2zm-3-3zm-3 8zm-7-5zm-4 2zm0-9zm-15 5zm2 5zm-4 5zm6 5zm9 4zm1-3zm3 12zm8-2zm8 4zm3 0zm8-2zm13 3zm5 0zm0 11zm-3 4zm-2-3zm1 11zm-4 0zm-5 4zm1 3zm0 4zm2 4zm4-4zm5-3zm7 0zm5-2zm0-3zm-3-1zm0-2zm2-5zm2-3zm5 0zm0-3zm6 1zm-1 3zm-3 4zm-2 2zm1 2zm-1 1zm-1 2zm4 1zm5-3zm2 1zm4-1zm0 6zm0 9zm5 7zm6-2zm-1 13zm-10 8zm5 8zm6 2zm4-3zm9 2zm-2 9zm-1 0zm6 4zm-4 5zm-5 0zm-3 3zm-3 5zm-2-1zm-4 0zm-7-7zm-2-6zm10-3zm-13 17zm2 7zm3 6zm-4 4zm-2-2zm-3 9zm6 2zm2 7zm2 9zm-11-1zm-8-6zm-7-12zm-7-12zm-6-1zm-1-8zm12 4zm10-9zm4 3zm-5-8zm-1-7zm1-7zm-3 0zm-2 1zm2-7zm4-3zm1 1zm-1-4zm2-3zm-6 2zm-3-3zm-8 4zm-2-3zm-1-10zm2-2zm5-7zm5 5zm1-11zm13 6zm3-23zm3-8zm-1-4zm5-3zm2-2zm5 4zm1 1zm-2 1zm-2 4zm5 1zm2-2zm5 4zm5 3zm0 1zm2-4zm0-3zm-2-6zm5-1zm0-6zm4-1zm-10 1zm-2 1zm0-2zm2-4zm-5-4zm-12 3zm-5 0zm-5 2zm-3-1zm0 4zm-8-3zm-2-2zm1 7zm-1 5zm-8-22zm1-1zm-14 1zm5-19zm8-5zm5-5zm-9-4zm-3 3zm-6-11zm-3-3zm7 1zm2-12zm2-2zm-2-5zm-5 6zm-3-3zm-6-4zm-4 0zm-1-2zm-4 1zm0-4zm-4 5zm7 7zm-7 15zm-16-7zm-4 4zm-1-8zm-12 4zm-5 10zm-4-2zm-1 6zm-7-6zm0-2zm2-6zm15 14zm-8 16zm-11-3zm-4 3zm-5-7zm5-4zm-5-3zm16 36zm5 2zm-2 12zm9 0zm8 2zm2 3zm2 2zm2-7zm16 4zm6 2zm0 1zm3 3zm3 8zm4-1zm0 8zm1 0zm1 2zm-6-1zm-2-3zm-6-3zm-4-2zm1-3zm-5-3zm4 12zm-9 4zm-4-3zm0-2zm1 0zm3 10zm-5 2zm-6-1zm-1-5zm-10 0zm-5-5zm-1-4zm-6 1zm0 4zm-5-5zm-1 24zm6 6zm2 6zm-5 0zm5 9zm-1 1zm2 5zm9-3zm1-7zm-5-6zm12 1zm9 2zm8-4zm0 8zm-1 10zm5 3zm2 9zm-2 1zm3 4zm1 2zm-1 2zm-7-3zm-12-3zm-2-5zm-2-11zm4-4zm4-22zm-1-3zm7-1zm8-1zm0 7zm13 4zm-4 8zm-4 1zm4 9zm2 10zm9 1zm3 0zm3 4zm6-1zm0-4zm-2-6zm0-2zm-9-2zm-15 18zm7 7zm-20 12zm-8 10zm-2 2zm-8-6zm-29 28zm0 1zm-2 7zm9-1zm9 8zm-1 1zm-5 4zm15-6zm23-4zm49-4zm1 10zm-1 3zm5-3zm2-2zm7 8zm6-3zm-1-8zm18-14zm-5-9zm2-5zm1-2zm-2-3zm3-6zm16-14zm-3-3zm7 0zm7 3zm9 1zm10 2zm7 0zm1-1zm3-1zm2-4zm4-5zm2 0zm-7-3zm-7 2zm0-13zm11 1zm5-9zm4-3zm7-3zm-8-7zm-8 0zm-7 0zm0-5zm-2-4zm-7 0zm-1-4zm1-5zm-7 0zm-8 4zm-5 7zm9 4zm-4 6zm0 5zm3 0zm-3 3zm-2 7zm-3 4zm9-1zm-9-16zm-4-2zm22-8zm11-14zm4-6zm0-3zm4 0zm1 2zm1-1zm5 3zm1 1zm3 0zm4-1zm3 2zm1 5zm-2 1zm0 3zm4 1zm-2 3zm2 2zm7-5zm6 5zm2 0zm4-2zm0-4zm-2-2zm-2-3zm-2 0zm-3-7zm-8-3zm-6-5zm-1-4zm3-2zm4-5zm-6-4zm2-5zm-1-5zm-4 2zm-2 2zm-2 3zm-4 1zm-6-4zm-7 0zm0-6zm2 0zm-2-12zm-3 0zm5-4zm6-1zm-6-6zm17 10zm4 1zm2 2zm-1 2zm-2-17zm-1-13zm3-11zm-10-2zm-6 4zm-1-11zm-4 0zm-3-3zm-2 1zm0 8zm-5 10zm-6-13zm-4-1zm3-9zm5-2zm14-12zm-6-13zm-6 5zm-21-15zm-2 0zm-5 6zm-4-3zm1-3zm-5-1zm1-5zm2-4zm-10 4zm-9 2zm-4 0zm2-7zm-7-8zm-2-5zm-9-3zm-6-2zm7-7zm10 0zm16 0zm7 3zm3-1zm0 2zm10-8zm-1-3zm8 6zm12 1zm-2-19zm8-9zm3 4zm7 4zm10 3zm3 19zm1 9zm4 1zm-5 7zm-8 4zm7 9zm8-1zm8 5zm9-2zm3 6zm0 1zm-2 3zm6 6zm4 8zm2 2zm5 3zm-3 3zm-3 4zm1 3zm7-4zm6 1zm0 8zm-2 7zm0 7zm-9-2zm-8-2zm-6 14zm3 13zm10 10zm0 4zm-3 3zm0 4zm-5 3zm-5 4zm14-2zm4 4zm0 4zm4 3zm1-1zm7 1zm7 1zm1-5zm-10-3zm-4-4zm-1-4zm-1-4zm-3-2zm1-6zm4 0zm0-5zm6 5zm-2 4zm6-11zm2 0zm1-1zm-1-4zm-3 0zm11-1zm3-7zm-3-2zm-6-2zm-6-12zm15-2zm10-4zm7 2zm2 10zm3 2zm0 2zm-2 5zm-2 4zm2 3zm2-1zm2 4zm2 2zm2-2zm5-5zm6-5zm2-3zm2 5zm-1 1zm5 5zm-2 6zm-9 3zm-4 5zm-6 1zm-7 9zm-5-4zm-2-7zm-5 3zm-4 0zm-1-3zm-2 0zm-6 5zm2 2zm3 9zm1 13zm11 5zm-2 8zm4 0zm2 3zm2-4zm3 4zm0 2zm-5 3zm0 3zm7 3zm2 4zm-1 5zm6-4zm3-3zm3-6zm1-8zm-7 2zm-7-6zm-1-7zm8-4zm2 2zm7 1zm0-2zm6 2zm1 3zm7 1zm1-3zm4 0zm4-2zm1 4zm-2-8zm4-4zm5-2zm0-1zm2-5zm2 0zm6 3zm-3 4zm0 4zm7 3zm1-2zm2 0zm2-3zm1-3zm-5 0zm12 3zm1 1zm2 1zm-2 4zm-3 0zm5 3zm-6 3zm0 2zm2 2zm-6 0zm1 4zm-4 8zm-7-2zm2-5zm2-10zm-11 5zm-1-2zm-3-10zm-7-10zm3-5zm1 0zm-9 2zm-2-2zm-2 4zm-4-1zm1 6zm-7-12zm-7 2zm-15 11zm-17 21zm0 2zm-5 3zm-3 2zm1 3zm5-1zm6 4zm-7 4zm3 5zm-4 8zm7 7zm-3 11zm-5 7zm-4 3zm1 4zm6-1zm4 0zm1 3zm4-1zm1 1zm6 3zm-2 5zm8 1zm-1 3zm-8 7zm-3-2zm-5 1zm-4 1zm-2 0zm3-6zm2-6zm-2-3zm-5 0zm-11-4zm2-6zm0-9zm-5-1zm-5-6zm7-2zm-3-10zm6-1zm-6-6zm-5 3zm-5 1zm-1-3zm-3 3zm-6-3zm-2 3zm-8 1zm-4-3zm-4 9zm4 5zm-8 7zm-2 7zm-2 5zm-5-6zm-3-5zm-17-7zm19-18zm-3-12zm-9 4zm11-18zm0-4zm-6-4zm-8 4zm-13 0zm-1 0zm0-9zm2-1zm0-5zm-4 1zm-13-4zm-1 3zm-2 3zm-1 3zm3 7zm-1 5zm0 4zm-5 5zm-1 0zm3 2zm-4-6zm-1-4zm-2-4zm5 0zm-14 6zm3 6zm18-37zm-9-6zm-8-5zm7-6zm8 3zm-5-12zm-20 1zm-2-3zm-7 6zm-4 8zm-2 1zm-6-1zm-3-5zm-1-11zm-5 1zm8-6zm2 2zm5-5zm-2-11zm-3-6zm-4-2zm-7-4zm3-6zm-4-4zm6-4zm-3-4zm-6-10zm-9 8zm-2-2zm-3-8zm-4-6zm-2-2zm3-4zm8 1zm6-8zm4-7zm-6-4zm-3-4zm-2-2zm-3-7zm-9 1zm-2-5zm-6 4zm-6-1zm-3 10zm0 4zm11 1zm2 7zm-9 3zm-14 6zm0 6zm-1 7zm-10-3zm-3-2zm-2 3zm-2 1zm-9 2zm-11-3zm-15-3zm-11 3zm-3 5zm1-14zm-3-6zm2-1zm-8-4zm-10-4zm-4-1zm-5 7zm8 4zm7 8zm5-3zm-17 8zm-1 10zm9 2zm1 3zm-29-13zm-9 15zm-7 1zm-6 10zm0-25zm-2-4zm-1-8zm-5-4zm10-8zm8 6zm6-8zm0-8zm13 1zm18-5zm6-5zm5 6zm-1 4zm12-2zm2 5zm5-8zm10-1zm3 0zm-3-8zm-2-9zm1-6zm4 1zm1-1zm7-6zm1-6zm-1-1zm-4 2zm-3 0zm2-8zm-6-5zm-3 2zm0 3zm-7 1zm-5 10zm-2 4zm3 1zm-11-1zm-4-9zm-5 3zm1-8zm3-1zm7 4zm1 0zm-16-13zm8-6zm16-8zm6 2zm5 0zm-5 7zm18 3zm8-4zm3 4zm3 7zm3 2zm11-4zm2-5zm9 0zm4-5zm-1-3zm-3-1zm10 0zm-3-12zm8-12zm11 5zm2-4zm4 0zm-1 4zm0 1zm1-10zm8 1zm14 1zm3-2zm6 10zm-2 2zm10 5zm12 0zm0-6zm-2-3zm2-2zm-9-4zm0-1zm-1 0zm0-1zm-12 24zm6 6zm4 8zm-6 1zm12-4zm4-2zm6-4zm8-9zm20-7zm10 20zm-8 3zm3 7zm-7 10zm-12 9zm-7-8zm4-7zm-12 18zm-10 6zm-11-12zm-9 0zm-4 1zm-7 2zm-5 4zm-1 4zm-4 0zm-4-5zm-13-1zm-3-2zm2-7zm0-2zm-1-7zm14-2zm-1 8zm15-5zm3 4zm1-13zm-4-2zm-7-6zm11-3zm28 27zm-23 14zm-16 9zm-22-6zm-6 0zm-6-5zm-1-9zm-1-8zm-10 9zm-3 7zm1 4zm-4 0zm-6 5zm-2-5zm-1-3zm-6-6zm-1-4zm5 23zm0 7zm1 1zm2 6zm7-8zm2-2zm7-4zm1-5zm2 14zm1 2zm-5 11zm-7 5zm-12 6zm-6-4zm-9 3zm-8-8zm-30-27zm-33-15zm-10-5zm2 14zm-4 12zm-8 0zm-4-9zm-7-1zm-7 2zm13-11zm-5-17zm-7 2zm105-39zm16-3zm1 2zm0 3zm6 1zm2 10zm-1 4zm2 5zm1 1zm-11-8zm0-2zm-2 0zm0 1zm27-26zm-23-19zm55 120zm-10 32zm-5 1zm-3 2zm-3 0zm19 1zm15 11zm-1 17zm11 12zm18-9zm2-6zm10 4zm5 6zm4 0zm-1-4zm8 2zm5-3zm5 4zm-14 8zm-4-20zm1-4zm4 2zm1-3zm3 2zm1-2zm-9-8zm-1 0zm-4 5zm-11-2zm4-9zm5-8zm7 4zm11 0zm13-23zm-40 16zm-12 24zm90 11zm5-3zm3-18zm3-2zm-4-5zm-1-4zm13-20zm6-3zm7 4zm6 2zm1 2zm5-6zm6-8zm4-1zm1 0zm-1 8zm8 2zm0 3zm8 0zm3 8zm1 2zm3 0zm1 3zm2 0zm1-6zm5-5zm0-4zm1-5zm9-1zm11 5zm0 3zm5 7zm4-8zm-1-8zm11-1zm2-1zm1 6zm5 4zm2 8zm6 8zm2-2zm0 7zm-1 0zm-6 1zm-1-2zm-8 1zm-6 8zm2 2zm1 0zm-8 4zm-5 3zm-2-2zm-5 2zm-4-3zm-3-3zm0-4zm-3 1zm1-12zm3-5zm13 16zm5-3zm4 16zm2 0zm6 4zm4 2zm8 3zm3-4zm5 2zm3-3zm-3-7zm0-2zm-2-2zm4-3zm1-4zm8 9zm5 6zm2-1zm3 6zm6-2zm5-3zm0-4zm2-10zm0-4zm-3 1zm-1 0zm-2 1zm-3-2zm-1-4zm3-2zm4 4zm5-7zm4 0zm-3-6zm-4-3zm5-9zm-3-11zm-5-6zm0-9zm-13-10zm-1-4zm1-4zm-2-6zm-1-2zm0-3zm4-1zm-8 4zm-1 9zm2 7zm-5 1zm-6-1zm-6 3zm-2 0zm-4-6zm-9-2zm-3 2zm-1-11zm7 1zm4-1zm12 7zm-1-16zm-7-5zm-3-3zm-8-4zm-11-8zm-4-2zm-13 13zm5 4zm2 8zm-4 1zm1 6zm-5 7zm-4 1zm-1 3zm-1 5zm6 0zm2 4zm5-3zm0-2zm1 0zm4 7zm1 8zm-8 3zm0 2zm-4-8zm-6 2zm1-7zm-8-1zm-9 1zm-6-12zm-7 0zm-3-6zm-1-3zm-5 1zm-2-2zm-3-3zm-4 2zm1 3zm8 4zm-1 4zm-2 4zm-2 5zm8 0zm0-4zm4 9zm-3 6zm2 5zm6 5zm6 3zm9-6zm6-3zm-35-3zm-2-4zm-6 5zm-1 3zm-4 4zm-1-10zm-4-7zm1-1zm4 0zm-3-6zm3-6zm5 3zm-8-12zm-9-10zm-13 1zm-15-4zm-4-14zm0-7zm27-24zm7-11zm19-6zm-7 23zm21 8zm8-15zm24 8zm1 8zm-16 14zm1 23zm-4 5zm16-5zm18-2zm4 0zm-3 8zm1 1zm1 3zm18 34zm6-1zm-2 6zm2 2zm13-2zm5 9zm2 2zm1 0zm-1 4zm12 6zm-7 7zm6 9zm19 0zm7 5zm1-9zm12 3zm7 1zm6 9zm-8 6zm2 10zm-11-2zm-3 2zm-7-3zm-2-1zm-4-2zm8-5zm-5 18zm1 3zm-5 1zm-5 1zm0 2zm3 3zm4 5zm1 2zm-4 0zm-8 3zm-1-5zm-1 0zm-7-2zm-1 2zm-9-3zm-9-3zm2-5zm2-3zm5 0zm6 2zm-1-7zm8 0zm9 6zm18 6zm3 1zm4 3zm3 2zm-2 5zm10 0zm4 7zm-3 4zm-2 1zm1 1zm-3 1zm2 4zm0 8zm-3 1zm-7-4zm-7 3zm-2-1zm-2-1zm2 5zm-4 5zm1 5zm-14 1zm-1-7zm0-4zm-1-1zm2-1zm-4 2zm-7 1zm-3 2zm-3-5zm2-5zm0-4zm4-6zm-7-6zm-5 4zm-4 3zm-1-9zm-10 8zm-3 0zm-9-3zm-2-8zm0-1zm1-2zm3 3zm4-3zm-2-2zm6-12zm1 0zm8-10zm5 0zm-13-16zm-26 12zm1 3zm-3 3zm-1 4zm-2-1zm4 5zm2-2zm-13 2zm-3-7zm0-8zm-4-2zm-5 0zm-18 0zm-1-5zm1-4zm2-4zm1-1zm-4-7zm-5 7zm-6 0zm4 11zm-2-24zm-6-1zm-7-5zm4-4zm-34-27zm-6-4zm18-10zm-4-6zm26-21zm-2-3zm4-4zm-4-11zm-18 3zm87 82zm23-28zm5-4zm2 2zm-2-5zm7-2zm2 1zm1 1zm2 2zm1 7zm7 15zm25 9zm7 1zm5-1zm1 1zm4 1zm2 3zm16-1zm10-5zm-1 15zm21 11zm-4 11zm-7 7zm2 4zm4 10zm8 2zm2-4zm-4 19zm-9 7zm-8-3zm1-2zm4-3zm-1-6zm-7 2zm-1 0zm-1 0zm0 10zm-4 0zm-1 4zm4 3zm1 3zm3-1zm1 0zm-9 0zm-10 7zm0 7zm8 12zm-2 3zm11 0zm4 1zm-1 5zm-2 4zm6 4zm-3 4zm-10 1zm-7 2zm0 3zm1 2zm8 2zm1 1zm9 6zm-6 8zm-3 1zm-4 8zm3 3zm6 5zm4-3zm2 1zm6-4zm-1-9zm3 0zm8-5zm3-1zm4 4zm-2 5zm-3 5zm-4 8zm0 6zm-2 4zm-2 6zm-4 1zm-5 0zm-1 5zm4 6zm4 3zm-1 4zm3 4zm-11-5zm-8-4zm-9-3zm-4 1zm0-3zm-3-1zm3-5zm-9-3zm0-2zm-2-10zm-4-8zm-7-4zm-4 0zm-3-2zm-6 2zm0-5zm-2-4zm5 0zm-1-4zm-6-6zm-4 0zm2-4zm0-8zm-6-3zm-2 4zm0 3zm-1 1zm-3 3zm-8-4zm2-3zm-12 12zm-1 4zm1 3zm0 5zm6 2zm1 8zm0 10zm3 3zm8 8zm1 1zm-8 7zm2 3zm0 1zm-2 7zm9 0zm2 8zm2 1zm11-4zm4-5zm1 1zm1 0zm0-1zm-2-5zm4-5zm3-4zm11 2zm0 6zm-3 2zm-4 7zm7 5zm6 6zm6 2zm6-1zm-4-7zm5-6zm-5-4zm-3 0zm20-18zm8-11zm11 12zm7 4zm-5 4zm3 4zm6-1zm1 4zm4-2zm4-2zm-2-7zm1-3zm-5-2zm0-2zm-8-5zm18-6zm5 5zm2 3zm2 0zm0-1zm2-1zm4 0zm0-7zm1 0zm4-3zm6 3zm8 4zm3 2zm3 4zm5-5zm3-3zm8 10zm10 21zm0 4zm3 1zm4 0zm4 1zm3 1zm-1 2zm-3 0zm6 3zm1 3zm5 2zm1 0zm4-1zm0-4zm1-2zm5 5zm5-9zm-14 22zm5 5zm12 0zm-1 12zm-3 0zm-19-4zm-5-15zm2-2zm-5 0zm-16 9zm-2 6zm2 2zm-9 5zm-2-8zm1-10zm-2-16zm-13 2zm0-5zm-4-6zm6-4zm0-5zm-10 2zm-5-2zm5-13zm-24 2zm0 5zm-1 13zm-7 2zm-10 9zm-2 0zm-2 9zm-10 3zm-1-4zm-4-1zm-5 0zm-4 11zm9 1zm1 11zm2 0zm4 6zm6 5zm-7 3zm-6 3zm-3-3zm2-2zm-6 11zm4 11zm2 6zm11 12zm2 0zm1 1zm4-7zm7-9zm-1-2zm1-3zm-12-10zm0-3zm-4 6zm10-25zm11 8zm6-6zm-1-14zm3-1zm-11-5zm20-20zm18 12zm35-8zm-22 44zm11 9zm0 14zm-4 1zm-1 0zm-7-2zm-3 5zm-2 2zm-7-1zm-13-9zm-9 2zm6 14zm-3 5zm10 3zm10 10zm3 1zm5-11zm13 0zm0 20zm3 0zm-9 10zm4 4zm-8-9zm-10 1zm-3-2zm-2 3zm2 3zm-5 3zm-7 5zm-2 1zm-3-2zm-2-1zm1-1zm0-4zm-2 0zm8-6zm1-3zm6-1zm-2-4zm-22-10zm-8 3zm3 5zm-4 14zm8 7zm-3 4zm-3 3zm3 4zm3-4zm13 3zm9 0zm41-5zm9-10zm2-44zm-5-5zm-2-3zm9-15zm-2-2zm25 16zm-8 12zm23-17zm7 9zm3-3zm19 9zm9 9zm-4 4zm-4 1zm-17 2zm34-9zm15-3zm6 8zm1 6zm3 1zm-8 7zm5 5zm-10-14zm-7 9zm-2 4zm-2-1zm0 2zm24-30zm7-4zm9 5zm7-4zm5 13zm6 2zm1 11zm-9 2zm8 10zm9 19zm0 20zm-26-17zm35-34zm1 1zm6-10zm10-7zm-22-5zm19 31zm-56-25zm-2 0zm-68-56zm-4-9zm33-55zm1-4zm12 2zm8 1zm16 7zm0-14zm6-12zm3-1zm4 6zm13-4zm-3-8zm0-10zm8-6zm8-4zm3 1zm6 2zm2 5zm-5 3zm-12 4zm5 11zm-1 12zm-8 2zm-27-17zm-8 0zm-4 4zm-10-8zm2-4zm6-7zm1 0zm4-8zm10 9zm-27-4zm-4 6zm-4 3zm-1-7zm0-2zm-6 21zm0 2zm76-32zm17-1zm0 5zm8-6zm1-7zm-5 25zm6 6zm9-7zm-248 15zm-2 1zm-2-2zm-12-4zm-9-14zm-3 0zm-2 3zm-9-2zm-1 6zm-9-12zm6-5zm-4-3zm3-2zm-5-3zm11 3zm-39 1zm-5 5zm-5-2zm-5 7zm-5 1zm0-3zm-6-2zm7-7zm-9-3zm-14 4zm-4-6zm1-3zm7-30zm-3-5zm2-3zm5-3zm0 6zm2 2zm8-5zm2 2zm-6-8zm4-22zm15 3zm17 1zm-1-12zm3-4zm3-3zm4-3zm-16 38zm-9 46zm-4 0zm-1 0zm-8 30zm1 13zm14-8zm6-5zm1 15zm-2 1zm-3 6zm6 3zm5 8zm-26-3zm-10 6zm-2 3zm-10-2zm0 12zm-23 2zm-8-10zm-2 2zm-5 5zm-7-8zm-9 1zm4-12zm11 4zm4 2zm3-1zm0-2zm-1-5zm-8-13zm-5-6zm11-4zm1 2zm1-4zm-3-6zm-18 2zm-2-3zm-11 4zm-2 8zm-1 0zm0 7zm-6 1zm-10 0zm-3 1zm2 7zm1 5zm10-1zm1 1zm6-2zm1 2zm-1-5zm7 3zm1-13zm-6 30zm-1 1zm-10 0zm-4 7zm1 1zm1 0zm7 5zm4 0zm12 2zm-8 11zm1 8zm-5 0zm-6 7zm3 2zm2 1zm10 10zm2 2zm7 6zm7-3zm0-3zm4 10zm7-9zm0-2zm11-5zm2 8zm3-1zm4 2zm10-3zm9 12zm-3 4zm6 11zm-4 3zm0 11zm2 3zm-8 6zm-2-3zm-6 0zm-2-2zm-1-2zm-2-8zm5-8zm-11-4zm-1-1zm4-4zm5-3zm-15 11zm5 16zm1 6zm-3 7zm8 0zm2 9zm5 4zm4 5zm5 5zm6-10zm7-5zm1 0zm3-2zm1-2zm7 5zm3-8zm-5-6zm1-4zm0-3zm-1-3zm7-10zm-5-7zm-2-3zm3-3zm-7-4zm-1-3zm11-3zm-9-10zm-3-15zm-38 1zm-2-1zm-3-6zm-5 1zm-3 8zm-4 1zm-1-5zm-5-2zm0-1zm-4-1zm-1-6zm3 0zm4 2zm-12 14zm-39-6zm0-4zm-6 0zm-3 1zm3 7zm-12-4zm-13 3zm-4-3zm-1-2zm-2-3zm-8 2zm-2-6zm-6-3zm1-2zm-2-6zm6-12zm-2-2zm-2-5zm-4-4zm-5 10zm-4-1zm-4-1zm2 7zm-5 5zm-1 3zm1 1zm-16 4zm-6 2zm-5-1zm-4-7zm1-1zm-8 4zm-3 16zm1 1zm6-1zm7-1zm7-3zm-2 11zm10 15zm7 0zm11-9zm14 5zm10 1zm2-4zm2-3zm1-4zm12 7zm5 1zm17-24zm4-24zm2-4zm-1-4zm-4-4zm0-1zm-4-3zm-1 10zm-22 22zm-11-4zm-1-7zm-4-18zm-4-12zm0-19zm-5-3zm5-5zm2-3zm2-3zm-1-1zm0-1zm6 4zm2-3zm1-2zm6 0zm0-5zm-2-7zm-6 4zm-2 0zm-1-4zm-11 4zm-10 0zm1-7zm-11 5zm16 12zm15 10zm7-1zm-41 46zm21 37zm3-1zm-5 29zm-15 17zm-7 10zm-3-2zm-7-6zm-8 6zm-8 7zm-5-8zm-1-12zm-13 11zm-10 3zm-1 1zm-7 5zm2 3zm1 6zm-3 1zm-8 2zm-5-3zm7-5zm-7-4zm0-4zm5-5zm-18-3zm-10 4zm-8 0zm-7 6zm0 7zm-3 1zm13 1zm0-3zm0 8zm10 11zm3 3zm2-3zm6-3zm-1 10zm-16-3zm11-16zm2-4zm19 11zm2 13zm10-3zm10-7zm4 2zm3-13zm-12-5zm-3 8zm2 33zm-13 17zm-21-5zm3-8zm-1-1zm-4 38zm2 2zm3 5zm66-73zm5-15zm-1-32zm1-4zm-4 1zm-18-24zm-6-1zm-1 1zm-10-3zm-2 4zm-4 3zm6 3zm3 2zm-5 14zm-4 0zm1 5zm-8-9zm-5-12zm-2-6zm13-13zm-1-6zm-87-71zm-6-9zm-35 9zm-55 11zm-32-65zm338-28zm9 10zm2 6zm32-14zm0-2zm7 26zm5 0zm14 5zm10 0zm3-3zm10 61zm15 19zm10 1zm27 97zm6 11zm3 1zm1 1zm6 3zm-4 5zm5 12zm6 3zm-3 7zm6 3zm3 3zm4-3zm1 4zm4-5zm0 10zm9 9zm-12 8zm-1 0zm-7-7zm-3-6zm-2-2zm-12 0zm-8-4zm-2 2zm-2-3zm-10 3zm-1 3zm-7-3zm1 10zm-2 6zm-1 5zm4 2zm4 0zm7 0zm-2-9zm11 3zm6 7zm3-2zm-1 6zm6 6zm-7 3zm15-18zm16 13zm-3 4zm1 7zm-26-55zm-9-4zm-40 0zm8 38zm5 14zm86-62zm8-32zm38 10zm-115-294zm-40-39zm-15-18zm-45 111z" stroke="#1f77b4" stroke-width="5.5" stroke-linecap="round" fill="none"/>
<path transform="scale(0.2)" d="M1365 3511zm11-12zm6 1zm2-4zm-2-7zm6-4zm4-3zm2 3zm2-4zm2-3zm7-1zm5-3zm1 11zm-1 6zm-7 6zm-5-6zm4-6zm-14-8zm-10-9zm-10 13zm5 7zm-1 1zm17 18zm-2 8zm-10 9zm-7 10zm22-5zm2-2zm3-1zm3 1zm3 5zm-7 2zm12 10zm7 6zm-5 10zm-5 2zm-4 2zm-4-10zm-9 13zm-6 4zm11 10zm14 0zm4 0zm7 9zm-8 5zm6 15zm7 1zm16-8zm4 4zm-4-12zm-4 0zm13-11zm3-8zm0-6zm0-3zm-9 1zm0-4zm-7 7zm-10-8zm8-19zm-4-12zm-9-4zm0-10zm6-2zm2-4zm-1-2zm-3-5zm-1-7zm2-8zm6 3zm9-4zm11-3zm1-1zm5-2zm3 7zm-5 4zm12-5zm3-4zm4-23zm12-2zm8 1zm-20-33zm-3 2zm-8 5zm-2 0zm-6 0zm-10 10zm-11-3zm-3 7zm3 4zm-9-5zm-11 4zm-7-5zm-4-6zm-8 10zm6 5zm-3 3zm0 9zm17-6zm7 4zm10 5zm3 3zm3 0zm17-8zm0-8zm-3-1zm-11-27zm-12 2zm-6 4zm-15-9zm-12-13zm1-5zm5-2zm2-3zm3-3zm15-3zm4 3zm4-6zm20-12zm3 26zm-12 8zm-51 7zm5-44zm1-6zm-5-9zm12-5zm3 0zm10-9zm-2-3zm-3-3zm-1-3zm-2-4zm8 1zm-4-11zm-1-10zm17 7zm-1 3zm2 0zm12 8zm-8 9zm0 15zm-13 2zm-6 10zm-1 1zm-14-25zm-3-8zm-12 5zm-1 4zm1-22zm-8-11zm96-14zm6-9zm7 6zm11 6zm5 7zm6-7zm10 9zm5 9zm-5 12zm-8-4zm-8 10zm5 14zm-4 1zm9 1zm-29-11zm-2-15zm10-13zm31-27zm5 2zm2-5zm5 0zm-6-10zm-4 0zm1-6zm14-4zm6 14zm14-6zm11 3zm12 4zm1 5zm9 9zm7 3zm-2 5zm7 2zm9 1zm0-4zm7-1zm14 4zm5 14zm-6 3zm0 6zm-5 2zm-2 3zm0 10zm-1 7zm1 1zm1-1zm13 6zm-5 11zm9 10zm7 5zm4 0zm2 0zm0-4zm-3 9zm7 5zm-2 7zm9 1zm6 2zm4 2zm1 2zm8 4zm3 8zm3-1zm-3 10zm0 1zm-2 5zm-7 0zm-4 9zm1 5zm6-1zm0-1zm8 1zm4 2zm14-1zm5 1zm-5-8zm9-6zm2 3zm-5-9zm-3-1zm-5-1zm-3 3zm-2 2zm4-20zm-2-2zm-7-2zm-5-4zm6-3zm-1-10zm-3-5zm10-3zm-1-3zm0-2zm-4-3zm2-4zm-8 4zm-9-6zm-5-2zm-1 2zm-8 10zm8 9zm1 3zm-7 1zm-1 4zm-10 17zm-6 4zm-2 0zm4 6zm-6 9zm-3 3zm7 0zm1 1zm-1 2zm-7 9zm-4 5zm-5 1zm-1-2zm-5 5zm0 4zm4 4zm1 5zm3 2zm-5 2zm-5-7zm-6-4zm-3-2zm-1 1zm1-3zm8-6zm0-5zm-3 0zm7-6zm4-2zm-7-14zm3-2zm0-9zm-7 3zm-2-5zm-4-5zm-2 8zm-1 1zm-7-10zm-3 17zm1 11zm6 5zm-1 1zm-1 5zm-1 12zm-3 2zm-2 4zm4 8zm-7 3zm-8 3zm11 7zm2 4zm3 7zm1 0zm3 1zm6 1zm-2 4zm9-7zm5 3zm3-6zm-5-3zm-5-6zm-3-4zm-2-6zm-3-3zm-3 15zm6 0zm-15 14zm-7-8zm-6 12zm-1 11zm-1 11zm-10 4zm-7 6zm-8 14zm-8-3zm-4 17zm-3 7zm-5 10zm8 1zm11-6zm10-17zm30 1zm3-11zm12-2zm-5 22zm18-2zm12-3zm2 0zm9-5zm2 4zm7 15zm5 2zm-10 6zm-8 1zm-1 16zm8 0zm-6 9zm6 2zm10-4zm0 8zm7 11zm-9 10zm-8-4zm-15 4zm-9 3zm-4 2zm-2-4zm-3 12zm-1 0zm5 7zm6 1zm15 8zm8-1zm4 3zm4 4zm2 0zm-5 4zm-2 7zm6 1zm3 2zm1-4zm-16 4zm-9-6zm10-7zm8-11zm5-8zm-1-1zm-3-3zm22-5zm7 4zm3 8zm-2 6zm3 3zm12-11zm-7-5zm9-6zm-3-6zm15 0zm1-1zm-1-15zm-4-2zm10-5zm2-4zm2-7zm-4-4zm-1-9zm-1-1zm-9-5zm-7-1zm1-7zm-6-2zm-2-5zm-5-6zm-14 4zm-7-16zm12-12zm9-5zm3 8zm1 3zm17 9zm3 0zm1 1zm-5 3zm-3 6zm2 1zm6-16zm11 1zm12 13zm15 2zm1 0zm10-2zm2 3zm5-4zm1-3zm-4-1zm-9-2zm-4-8zm-3-4zm15-15zm9 14zm-1 8zm11-1zm7-4zm5 5zm4-6zm4 0zm0 15zm-7 3zm6 10zm-2 2zm-5 0zm-4 0zm0-1zm-2 4zm-5 4zm-8 7zm-8 2zm3 6zm6 5zm4-5zm5 7zm4 2zm-3 4zm-7-1zm-8 14zm11 5zm4 5zm-1 1zm-3 1zm7-7zm4-5zm7 0zm1-3zm-1-6zm1-1zm-3-1zm0-3zm2-2zm-5-4zm3-11zm-3-4zm17 3zm1-3zm2 6zm8 1zm8 9zm-1 6zm6 5zm13 1zm5 3zm3-3zm4 10zm-2 10zm6 2zm5 4zm-9 8zm-5-1zm-4-1zm2 7zm3 7zm1 1zm-3 4zm-7-2zm-1 3zm-7 10zm-6-9zm-4 0zm-5 5zm-3 0zm-4 9zm9 4zm7 5zm-1 2zm4-1zm-6 5zm3 11zm-2 1zm12 0zm0 2zm2 5zm21-4zm1-1zm14-7zm13-23zm11 7zm8 13zm-5 3zm12 5zm4-2zm2 1zm5 4zm5 9zm0 16zm-15 18zm-16-33zm2-2zm19-26zm6-8zm-6-8zm-5 7zm-10-14zm-1-8zm6 1zm1-3zm4 0zm-3-5zm10-4zm-3-11zm11-1zm0-1zm3 3zm5 9zm4 0zm-1 5zm-5 0zm6 10zm-1 4zm8 0zm0 6zm-2 1zm8 13zm15 4zm2 3zm4 8zm0 1zm4 5zm6-3zm1 7zm7-10zm1-1zm10-1zm4 2zm4-4zm3 3zm2 6zm6 4zm0 1zm9-9zm13-6zm3 1zm3-4zm5-3zm4-9zm7 5zm3-6zm-6-9zm0-6zm-9 8zm-8 0zm-4 1zm-4 5zm-3 4zm-3-1zm-1 3zm6 1zm5-1zm0-1zm-7-13zm-9-2zm-10 1zm-1 2zm-6 4zm-2-8zm-2 0zm-3-1zm-1-3zm-1-7zm4-2zm-7-7zm0-2zm8-2zm-2-7zm-5-1zm-8-4zm-5-7zm-2-4zm-4 0zm-6 0zm-2-5zm11-8zm6 3zm-3 3zm5 4zm3-1zm7 7zm3-10zm1-7zm-9-6zm-4-9zm-5 1zm2-7zm-19-8zm-6 8zm-3 5zm11 9zm-9 28zm-12 5zm-3-6zm0-1zm-1-1zm-4 15zm8 2zm-1 10zm3 7zm11-11zm3-4zm3-5zm8 5zm5 3zm2-1zm-3 4zm-1 6zm1 6zm2 1zm-1 4zm-4 7zm9 4zm8 2zm2 3zm8 2zm0 2zm4 6zm15-4zm-1-8zm-7-19zm1-5zm-2 0zm0-7zm-1-12zm-1-5zm1-8zm5 0zm-4-9zm-3 0zm6-11zm2-2zm2 4zm11 2zm0 9zm8 2zm6-7zm4-13zm4 29zm-3 9zm10 3zm3 2zm2 4zm-3-13zm2-1zm4-6zm10-2zm0-2zm-1-1zm2-4zm-4-2zm9-6zm2-14zm9-2zm5 5zm3-13zm2-10zm10-6zm-3-6zm2-6zm3 0zm7-7zm-12-8zm-3 9zm-3 4zm-3 4zm-8-17zm9-14zm-26 30zm37 31zm12-24zm13-6zm5-12zm2-4zm11-2zm-9-27zm35-1zm0 14zm-29 139zm-1 5zm-4 2zm-4 4zm7 1zm7-2zm1 10zm0 4zm0 1zm-2 1zm-4 4zm-4-5zm1-2zm2-2zm-13-2zm-5 0zm-4 4zm-2-4zm-4 1zm-5 12zm-1 9zm0 9zm13 0zm2 0zm4 9zm1 3zm-5 1zm-1-2zm12 2zm2 2zm6 0zm1 0zm7 3zm1-5zm4-3zm7-2zm-1 12zm-5 5zm-7 4zm0 2zm-3-2zm-3 1zm-3-8zm-4 0zm0-19zm-2-1zm9-5zm2-3zm-2-2zm-3-2zm-2 1zm10 3zm17-9zm0-2zm3-5zm-3-4zm-2-5zm-3 1zm18 11zm-1 3zm-4 4zm-1 6zm-2 1zm5 1zm6-17zm3-1zm-16 46zm-43-36zm-27-10zm0-3zm-12-6zm5-6zm7-2zm7-3zm-14-4zm-7 6zm-3 2zm-1 1zm-8-1zm-2 2zm9 17zm1 4zm5-2zm37-35zm-83-9zm-8 1zm-1 7zm-6-13zm-6-4zm-1-1zm-1 8zm5-17zm2-2zm-1-3zm-6 0zm-29 40zm-11-11zm-22-6zm1-6zm9-18zm-14 38zm6 13zm9 11zm10-4zm-27 17zm-12 4zm-5-7zm24 14zm4 8zm7 3zm-21 2zm-61-83zm0-4zm-1 0zm-2-5zm11 1zm1-7zm-1-3zm-9-7zm-3 2zm-5 4zm-11 1zm-4 12zm10 10zm-15 17zm-3 4zm-6-1zm-3-1zm-4 2zm2-7zm-1-14zm-1-1zm5-1zm-25-1zm-3 5zm-3 3zm0-16zm-8-1zm-3 1zm-12-2zm-6 4zm-6-15zm7-4zm1-1zm2 3zm3 0zm-4-10zm0-2zm-4-2zm4-4zm11 7zm18 11zm6 6zm-3 2zm4-36zm1-5zm-6 0zm0-2zm-6-4zm8-8zm6-5zm4 1zm-1-6zm7 4zm4-3zm-2-2zm5 4zm5-3zm0-2zm10 8zm-1 17zm0 12zm13 13zm22-14zm10 9zm21-6zm8-19zm-14-4zm-21 7zm-13 2zm-9-34zm-39 0zm-13-11zm-1-10zm-2 0zm10 0zm5 2zm-23 18zm-6-8zm-2 1zm-4 3zm-1 5zm-1 7zm5 3zm-3 3zm6 7zm-15-3zm-3-1zm2-4zm-1-1zm3-3zm-7-2zm2-4zm9-15zm2-1zm1 3zm-2-18zm-14-11zm-17 3zm-5-17zm-10-5zm-28-24zm-8 11zm-16-13zm-7-23zm2-2zm2-5zm7-2zm10 3zm2-4zm-3-12zm1-8zm2-9zm-7-8zm-10 0zm-8-4zm-8 3zm-8-1zm3-6zm2-6zm9-10zm14 2zm-1 13zm-7 18zm5 2zm5 3zm-9 2zm-11 2zm2 29zm-15 10zm-11 6zm-2-1zm-5-6zm-1 13zm8 3zm-14 8zm-1 3zm2 8zm5 4zm13 3zm-15 13zm-14-5zm-1 7zm-4-2zm-3 6zm-8 0zm5 9zm-2 1zm-10 5zm0-23zm-7-10zm3-5zm-7-2zm12-6zm-6-8zm-2-4zm2-3zm8-7zm0-8zm12 3zm11-2zm0 10zm-14 4zm3 11zm2 2zm3-2zm-1-2zm-9 12zm-1 3zm4 2zm0 2zm-38 10zm-52-4zm-3-3zm-12 11zm-20 18zm-1 7zm-11-8zm-15-12zm-16 7zm-3-2zm9 12zm3 1zm0 5zm-5 6zm-1 10zm-15-12zm-6-3zm-4-5zm-4-11zm4-8zm5-11zm3 0zm4-4zm8 4zm7-12zm12-4zm0-4zm2-2zm11 10zm6-1zm-7 9zm2 3zm14-22zm40-8zm0-19zm6-8zm11-12zm2-13zm-12-3zm-11 11zm48-11zm23-18zm1-2zm20 12zm1 2zm0 3zm10-3zm-7 32zm-47-62zm-13-18zm-1-7zm-8-4zm2-6zm-7 2zm-5-10zm-2-5zm10-17zm5-2zm2 3zm6 4zm1-8zm-7-6zm-7-26zm1-1zm-6-6zm0-13zm-5-1zm-3 2zm-6-2zm-17-10zm-3 35zm-5 0zm-3 2zm-13 6zm13 16zm3-1zm7 5zm1 3zm-1 16zm-16-18zm-4 1zm-7-1zm26-14zm10-6zm-3-7zm11 27zm28-41zm17 3zm10 1zm15 10zm-2 11zm6 7zm5 0zm3 6zm4 1zm2-1zm-4 4zm4 6zm3 5zm3 4zm3 3zm3 6zm-12 2zm-7 3zm-2-4zm4-6zm-5-5zm-4-4zm-3-3zm3-3zm1-2zm-2-6zm6 11zm-16 0zm9 30zm-4 4zm12 1zm36-11zm2-1zm4 3zm3 1zm0-10zm0-3zm-4-2zm-5 0zm10-18zm6 3zm15 4zm4 1zm1-1zm0-4zm-2-10zm0-1zm1-4zm-2-1zm8-4zm2 5zm9 5zm6 0zm2-2zm1 6zm0 5zm-5-4zm-1 7zm-1 5zm-3 2zm-2 0zm1-3zm-3-11zm19 8zm4-6zm3 4zm2-10zm-5-1zm3-5zm2-1zm4-1zm-6-5zm0-2zm1-2zm-3-5zm-9-10zm-5-1zm-5 11zm-2 0zm-14-9zm0-2zm0-4zm5-2zm1-6zm-4-6zm-5-1zm0-2zm2-10zm6 3zm6 4zm2 1zm8-10zm18 10zm-2 11zm1 1zm2 1zm-4 0zm1 4zm-5 32zm17 8zm-1 3zm1 2zm4-4zm7 4zm6 3zm0 2zm-5 6zm6 9zm15-11zm8 1zm2-4zm11-4zm-4-9zm5 19zm6-1zm0 4zm2 3zm4 14zm5 2zm1 12zm-2 6zm-4 9zm-1 5zm14-1zm4-4zm5-3zm-3-10zm-1-1zm-2-3zm4-2zm10 8zm1 0zm1 0zm4 8zm7-3zm4-4zm6 0zm-2 8zm2 5zm5-2zm-2 8zm5 8zm5 5zm4-2zm1 2zm0 4zm-2 3zm-6-3zm-2 13zm0 8zm-5 0zm-11-7zm-2 4zm2-13zm-8 0zm-16-19zm22-6zm28-12zm9 12zm4 21zm1 30zm-14 10zm5 13zm-17 0zm-8 24zm-14 7zm-4-39zm1-8zm-34 60zm7 60zm13 13zm3 0zm1 1zm-75-21zm-2-6zm-7 15zm-2-1zm-24 4zm-5 4zm-1 4zm-5-1zm0 2zm-4-5zm-7 0zm3 18zm3 14zm12-3zm-1-7zm2-11zm5 1zm13 13zm-16 11zm-3 6zm-11 9zm-12-10zm-2-2zm-28-32zm-7 1zm-4-1zm-4 20zm-1 0zm-2 11zm-40 0zm-10-5zm-6-2zm1 6zm-11-10zm-7-3zm-3 7zm-7 5zm-4 2zm-6-10zm-6 8zm-12-8zm-13 9zm-5 9zm12 1zm3-3zm3 1zm1 5zm-9 6zm-5 3zm-11 4zm17 8zm8-6zm9-1zm2 1zm9-8zm5 1zm7-2zm-12 24zm0 3zm3 3zm10 0zm-1 18zm5 4zm3-3zm8 8zm-4 7zm1 5zm-7 4zm-8 10zm2 4zm-6 3zm-5 2zm-3 3zm0-6zm14 6zm4-1zm-6 9zm-1 6zm8-1zm1-1zm4 2zm3-1zm-3 5zm-3 1zm-4 5zm-3-1zm-7 1zm-7 4zm-1-1zm0-5zm6 12zm25-27zm5-2zm3-4zm4 4zm-5 7zm-8-16zm14-7zm2-1zm-3-2zm-1-16zm-4-1zm4-6zm10 4zm9 6zm-26-23zm-24 15zm-7 8zm-8-22zm0-3zm-5 0zm-6 5zm-3 3zm-5-13zm-4-3zm-8-1zm-13 6zm31-13zm2-5zm4 3zm-42-37zm2-7zm11-13zm-24-20zm-3-5zm-14 5zm-11 12zm-21-1zm2 11zm-12 2zm-1-1zm2 17zm-3 22zm-9-54zm14-8zm0-8zm-9-14zm-2-5zm5 0zm-7-5zm-7-3zm1-3zm-5 7zm-6-3zm2-17zm-3-6zm-7-12zm7-3zm1-4zm15 21zm27-31zm-77 8zm-5 8zm-2 0zm0 3zm65-158zm74 22zm-30-101zm-4-23zm-9 0zm-3 1zm1-16zm127 30zm47 12zm6 1zm5 2zm2 0zm-4 7zm-4 12zm-4 0zm3 6zm3 8zm8-5zm11-10zm8-4zm5 4zm12-7zm-5-8zm-8-4zm-7 1zm-4-5zm-11-3zm-1-2zm-5 2zm11-11zm20-3zm4 2zm-5-7zm-1-3zm18 86zm-1 2zm-3 0zm-2 6zm-4-3zm13 8zm4-6zm6 0zm4 5zm3 9zm1 1zm7-4zm0-2zm-1-6zm6-5zm5-2zm3 4zm3 1zm1-1zm2-1zm1 4zm-4-7zm2-6zm-17 1zm9 15zm-2 13zm-2 4zm5 5zm4-3zm5-5zm5-5zm8-1zm-3 12zm4 3zm-2 5zm1 6zm4 2zm5 0zm1 3zm-2-14zm-12 11zm0 6zm-4 8zm-1 7zm3 2zm7-4zm-17-3zm-3 11zm1 4zm-7-6zm-4-10zm-2-23zm1-4zm-6-7zm-24-5zm-7-1zm-5 2zm17-26zm50-29zm16-2zm6-7zm1 60zm10 2zm1 3zm20-3zm1 9zm-47 59zm-18 3zm-4-2zm-2 19zm0 5zm30 3zm-74 65zm-90 51zm-11 3zm-3 2zm-4 0zm-6 0zm0 1zm-10-6zm1 18zm201 47zm95 32zm-18 71zm105-194zm-15-9zm-25-23z" stroke="#ff7f0e" stroke-width="5.5" stroke-linecap="round" fill="none"/>
<path transform="scale(0.2)" d="M1369 3505zm6 6zm8-3zm6 4zm7 1zm-2-13zm-5-4zm-4-6zm3-3zm6-1zm0-12zm3-5zm5-4zm7-4zm2-2zm2 4zm3 6zm2 8zm-2 2zm-5-2zm-1 1zm7 7zm1 1zm-8 5zm5 7zm3-2zm4 2zm5 1zm2 0zm-1-4zm3 8zm-3 3zm9 3zm8-2zm0 11zm-5 2zm-1 2zm2 2zm6 3zm2 6zm1 6zm-8 6zm1 7zm-1 5zm-10 0zm-13 2zm-3 11zm-2 10zm-2 3zm4 12zm-1 2zm10 4zm0 4zm1-9zm1-18zm2-7zm3 0zm3 7zm10-1zm8-3zm1-1zm-4-3zm1-7zm8 1zm4 4zm4-7zm-3-6zm-7 1zm12-8zm-2-5zm-6-1zm4-5zm-11-8zm2-9zm-1-3zm-4 0zm12-3zm2-4zm-1-4zm1-8zm-7-12zm6-12zm1-7zm-17 2zm1-12zm-5-11zm-12-6zm-21-5zm-11-6zm1-5zm-6 4zm-7-11zm-9-20zm4-19zm-3-15zm-4-17zm8 0zm2-4zm4-2zm5 1zm6 0zm-3 7zm13-2zm7 1zm8-2zm1-8zm-1-3zm-2-2zm3-7zm0-8zm2-3zm7 9zm12-1zm7-8zm25-15zm21 12zm13 8zm4-24zm-4-5zm4-16zm-1-3zm-2-3zm-16-8zm-1-24zm36 39zm-2 2zm11 3zm15-2zm3 4zm6-3zm3 1zm7-11zm0-1zm0-3zm12 6zm16 5zm2 3zm6 0zm1 3zm-5 4zm1 2zm-1 6zm-9 0zm-2 3zm-9 1zm-10 7zm-4-3zm-7 12zm8 9zm-4 4zm14 10zm-14 14zm11 15zm15-2zm4-1zm11 9zm5 6zm1 3zm11 1zm8-9zm4-1zm-6-5zm-2-1zm-7 0zm6-7zm1-1zm0-6zm-9-2zm0-10zm-9-1zm0-7zm5-4zm-6-8zm-11-1zm-2-6zm24-6zm8 4zm8-14zm10 14zm-2 8zm-2 9zm-2 2zm3 1zm-3 5zm3 8zm-2 1zm4 3zm-5 11zm7 5zm8 5zm3 0zm-2 3zm-4 2zm-2-1zm-4 5zm-6 5zm3 10zm4 3zm3-5zm13 2zm6-2zm-2 10zm6 2zm-1 2zm-1 5zm7 3zm-5 9zm-8-1zm-3 4zm3 3zm-2 6zm6-1zm0 9zm4 2zm0 7zm-2 4zm5 2zm-9 3zm-8 2zm-7 8zm-5-1zm0-10zm-5 0zm-2-7zm-3-1zm-2-1zm-1-4zm3-5zm-5-1zm-3-1zm-3-2zm0-2zm6-4zm1 0zm1 3zm3 1zm6-4zm3-7zm6 6zm3-7zm-2-9zm-2-4zm-2-2zm12 0zm4 8zm14 13zm4-2zm-4 11zm14-1zm7-4zm2 3zm-1 5zm-2 4zm2 9zm-4 6zm-8 0zm-4 8zm0 3zm3 5zm2-1zm-13 4zm-3-5zm4-7zm-16 17zm-6-7zm-8 6zm-2-2zm-2 3zm6 4zm-1 5zm-8-1zm-2-1zm1 8zm-11 8zm-4-10zm-8 0zm-3 6zm-8 6zm-9 4zm-4 0zm-11 5zm-10-9zm-10-12zm-4 2zm12-10zm13-13zm11-5zm9 4zm5 0zm4 4zm0 1zm4-10zm-3-1zm2-6zm-4 0zm9 4zm3 1zm-1-4zm6-3zm-4-7zm-1-2zm-2 2zm5-2zm0-3zm-1 0zm0-1zm-2-3zm4 0zm-11 2zm-3 4zm-6-7zm-5-1zm9-4zm7-8zm-6-4zm-6-1zm-6-1zm-4 10zm-7 18zm-27 5zm-3-10zm19-29zm20-15zm12 7zm2 2zm-4 2zm12 5zm2 0zm2-5zm2-2zm-1 13zm15 22zm3-1zm6-5zm3 1zm0 6zm11-7zm-27 25zm-4 2zm0 8zm0 1zm2 3zm2 1zm0 1zm-9-6zm-28 4zm-1 7zm15 28zm22 5zm10 20zm3 1zm8 4zm-1 8zm3 9zm15 7zm0 9zm-6-1zm-9 3zm-1 3zm-2 14zm-2 1zm0 3zm2 1zm6 3zm7 10zm-7 5zm6 4zm-4 3zm-8 4zm-14 7zm0 9zm0 5zm-5 1zm8 7zm10-2zm1 10zm-2 2zm15-5zm0-3zm9-3zm0 8zm0 11zm-9-1zm-3 8zm-3 5zm-13 1zm-2-3zm-6 0zm-5-9zm-8-11zm-14-2zm-4-3zm2-9zm1-15zm-13-1zm-8 13zm-1 2zm-8 4zm-6-4zm0-6zm2 0zm16 15zm3 4zm-8 4zm0 3zm-5 2zm5 4zm10 4zm5 8zm2 0zm4-5zm7 1zm5-2zm6 12zm11 3zm1 5zm-2 3zm0 9zm-8-3zm-4 4zm1 1zm2 6zm-10-4zm-1 0zm0-2zm1-5zm4 0zm-5-7zm-10 6zm-8-6zm-12-9zm1-4zm-15-2zm1-13zm-16 5zm-7-16zm5-6zm-13 10zm-7-13zm5-10zm-1-2zm-5-9zm-2-16zm0-2zm2-3zm7-6zm14 0zm6 2zm7 2zm6 3zm2-10zm15-3zm1 1zm3 6zm6 1zm4-2zm-4 7zm-2-23zm0-2zm-1-4zm-2-3zm-2 0zm12-13zm9 10zm2 11zm7-3zm2-5zm6 9zm7-1zm32 3zm5 2zm2 9zm1 11zm-4 7zm8 5zm5 3zm-1 3zm3 3zm-2 8zm-4 8zm3 9zm8-6zm13-10zm0-4zm-6-1zm-1-13zm18 0zm0 2zm2 3zm4 5zm-8 2zm6 7zm-1-22zm0-13zm-2-3zm-4-7zm-4 1zm7-13zm11-4zm8-12zm10 8zm7 4zm4 1zm0 12zm-2 7zm-3-1zm-5 12zm-12-13zm-9 3zm-28-18zm-2 2zm-2 6zm-6-11zm-7 1zm0-3zm-11-2zm24-2zm6-23zm9-5zm4 6zm-12-15zm-8-2zm-11 9zm-11-2zm5-20zm1-3zm-11 3zm-6-5zm6-4zm-9 12zm-1-25zm-5-4zm-1-1zm4-6zm9-4zm5 4zm30 8zm23 7zm2 4zm-4-23zm8-9zm-5-8zm-1-11zm8 2zm-20-3zm-4-22zm4-3zm-3-2zm-3 0zm-6-10zm3-4zm1-9zm4-3zm2 4zm8-2zm1-4zm6 4zm0 4zm-4-1zm-4 10zm-1 2zm7 1zm3-3zm3 1zm12-2zm-2 9zm-1 4zm0 3zm4-2zm9-6zm13-3zm-6-25zm2-4zm2-1zm14-5zm-1-3zm1-13zm1-11zm-3-4zm6-4zm0-9zm8 4zm-4 14zm4 12zm11-4zm8 6zm0 5zm9-7zm8-4zm4-7zm5-8zm3-3zm5 0zm1 0zm0 13zm5 1zm-9 4zm2 7zm8 1zm6 7zm3 10zm-4 1zm-1 9zm4 8zm-13-4zm-8 2zm-1-3zm-7 13zm-6-26zm-15 8zm-14-7zm-1-6zm12-31zm-1-7zm15-3zm0-5zm0-5zm1-5zm4 11zm-2 12zm16-18zm19 1zm6 18zm-2 2zm0 7zm-2 4zm11 5zm2 2zm1-5zm7 1zm4-3zm5 6zm-2 2zm5-4zm5 0zm7 0zm-1 6zm0 1zm9-4zm2 1zm2-1zm1 0zm5 10zm2 0zm-1 5zm-2 2zm-2 1zm-3-1zm-1 3zm4 3zm-3 2zm-3 0zm2 7zm3 2zm3 3zm-6 3zm2 14zm0 2zm16-22zm-3-4zm-5-11zm-12-4zm-12 1zm-2 4zm0 12zm-12 3zm-2-8zm-6-1zm-3 3zm-1 4zm-8-10zm2-11zm15-3zm6 1zm-6 9zm-7-31zm-8-7zm20 1zm-45 28zm-35-60zm-2-8zm-5-4zm13 1zm23-1zm-42-13zm-6-4zm-4 4zm0 7zm-11-1zm-4 5zm-1 1zm1 3zm1 6zm-7-2zm-1-4zm-7-5zm-4 1zm-2-1zm-4-2zm-6-2zm-7 0zm-3 0zm1 3zm-3 4zm0 2zm-2-11zm3-4zm1-5zm-9-1zm-9 1zm0 13zm-7 9zm4 10zm-2 11zm-5 5zm6 4zm8 4zm5-4zm3 4zm2-6zm7 0zm-2 7zm-11 6zm-7 5zm-6 4zm0 1zm-5-1zm3-4zm-8-2zm-3-2zm-6-3zm-1 8zm2 1zm1 2zm1 6zm0 3zm0 2zm-3 0zm-5 2zm-2-3zm-1-4zm-6-4zm2-5zm3-2zm1 1zm0 1zm-5-12zm-3-3zm2-2zm-5-3zm-5-3zm1-5zm-3 13zm-6-2zm4 18zm19 17zm-1 6zm2 0zm9 0zm6 0zm0-3zm-3 9zm4 3zm4-1zm3-3zm-8 8zm-8-4zm35-21zm7 11zm6 9zm4-15zm8 0zm6-12zm1-10zm5-3zm-10-12zm-5 5zm3-14zm6-3zm-1-4zm6 0zm1 0zm3 2zm1 8zm-5 1zm12-7zm4 2zm5-13zm-14-18zm-10-5zm-2 5zm-10-6zm4-7zm5-1zm8 3zm4-6zm-5-5zm-12-1zm-3-1zm-7 0zm-3 4zm-9-1zm-7-3zm-6-2zm-1-11zm-6-8zm-6 1zm-7 6zm-6 9zm-3 2zm2 9zm-7 20zm0 5zm-1 6zm-6 0zm-10-3zm-9-2zm8-11zm11 2zm20 5zm2-1zm5-3zm-4 22zm-6 6zm-3-3zm-2 10zm2 2zm6 6zm7 3zm-5-12zm2-3zm-15 14zm-29-22zm-15-12zm-10 8zm4 5zm-3 3zm-19 5zm0 8zm-6 34zm16 10zm-64-12zm1-5zm-5-12zm-29 2zm-7 2zm6-25zm-6-1zm-26-4zm-31 21zm-13-4zm-1-2zm-7 0zm-11 8zm1 3zm7 5zm-16-4zm-14-1zm-2-4zm-6-1zm17-9zm-9-23zm-2-6zm9-13zm-26 9zm-12-4zm64 23zm8 4zm15 34zm8 22zm8 16zm12 0zm20 10zm-28 27zm-18-10zm-9-3zm7-14zm-4-7zm-8 3zm-12-19zm-17-4zm-4 6zm2 7zm0 4zm-4-1zm-3 0zm-17-26zm-8 50zm4 1zm0 19zm-12 1zm-1 4zm3 5zm-10 4zm-3 3zm6 46zm-1 10zm5 4zm10-1zm8 7zm3 6zm4 2zm-6 2zm-8 6zm1 12zm-5 4zm11 1zm-5 16zm-17-29zm-7-22zm35-5zm17 6zm5-8zm0-1zm0-8zm4-7zm-20-3zm-1 0zm24 25zm6-45zm-11-10zm9-9zm-12-9zm45 45zm10 3zm4-3zm12 9zm1 5zm0 8zm0 3zm4 3zm12-3zm0-6zm3-8zm6 4zm1 6zm-2 3zm7 6zm20 10zm21-5zm8 2zm2 5zm-1 5zm7 18zm-11 9zm0 5zm-15-4zm1-17zm-37 1zm-15 10zm-23-22zm-4 2zm0-4zm9-10zm-12-19zm21-23zm6 0zm0-23zm17-10zm14 18zm-2 3zm-6 23zm15 1zm8 2zm16 8zm47 12zm11 4zm-1 14zm20-10zm-46 19zm-32 61zm-1 7zm-32 39zm-22-13zm-17-20zm-10-6zm11-22zm15 17zm-38-34zm2-7zm-4-19zm-13 29zm-10 6zm-3 0zm-3-15zm187 41zm-15 47zm6 46zm-6 8zm-1 5zm4 7zm5-8zm1-1zm9 4zm-15 16zm0 4zm-9 0zm-8 3zm-3-11zm1-2zm6-2zm-12-1zm22 29zm66-85zm-1-50zm7-4zm1 2zm88-12zm1 7zm10-3zm-3-9zm3-5zm8 2zm9 9zm1 0zm2 5zm6 2zm1 3zm-2 4zm2 4zm8-6zm1-6zm-5-3zm5-3zm7 1zm5 6zm1 4zm0 9zm3 1zm7 2zm-2 5zm6 2zm4 1zm8-3zm1-3zm-6-9zm3-2zm-7 4zm-7-9zm-6-7zm-2-1zm2-2zm-4-10zm1-3zm0-2zm0-3zm-4-7zm3-3zm3 1zm8-4zm0-6zm-15-1zm-5-12zm5-3zm1-3zm1-3zm4 2zm0 5zm5-8zm-7-4zm0-9zm-9-3zm-1-10zm-3-2zm3-3zm8-1zm6-7zm8 4zm3 21zm13 12zm3 6zm-2 1zm9 3zm10-4zm5-3zm4 4zm-7-19zm-9-24zm-1-27zm26 15zm-63-31zm-13-2zm-7 10zm-2 9zm6 3zm-7 7zm-13 2zm-3 16zm-6 5zm-4 6zm-7 2zm-2-8zm1-10zm-15 6zm-2 26zm6 6zm9-5zm6 8zm4 3zm-5 7zm-8-3zm-6 2zm9 12zm6 2zm4-5zm-5 16zm-5-1zm-1 8zm32 10zm3-3zm9 5zm5-12zm-1-1zm18 10zm3-8zm2-2zm9 9zm5 0zm7 8zm3-2zm2-2zm4-9zm7 10zm-2 10zm-6 1zm2 5zm-18-4zm-6-2zm-11 35zm3 1zm3 6zm-3 1zm-2 7zm9 4zm1 12zm-8 4zm-3-6zm15 11zm-8 8zm-1-1zm10 5zm1 14zm15-2zm5-1zm0 3zm1 2zm6 7zm6 5zm7 3zm2 3zm-1 4zm10-19zm-3-6zm-9 2zm-7-3zm15-11zm-9-14zm-4-11zm-8-2zm-10-3zm0-6zm-9-2zm-2-10zm15-7zm8-3zm9-4zm1-4zm4 2zm1-12zm6-10zm-10-8zm24-17zm7 1zm6-4zm13 7zm14 2zm1 4zm5-2zm3-1zm-4 8zm-7 8zm-2 2zm-3 1zm-6-2zm-6 9zm3 8zm6 9zm-8 3zm0 9zm0 5zm-9 0zm-9 5zm-3 2zm1 7zm13-1zm-9 15zm-13-3zm10 22zm-2 6zm27 17zm12 6zm9-4zm3-7zm-2-25zm5-6zm3-6zm-1-1zm8-3zm0-8zm3-4zm0-1zm-7-2zm-4 1zm-3-2zm-1 0zm0 10zm3-20zm-8-1zm-3-9zm-3 0zm4-3zm4-3zm6-3zm0 8zm7-1zm1-3zm5 11zm-4 5zm7 2zm4-11zm6-5zm3 2zm5 0zm3-3zm2 8zm8-9zm1-3zm3 5zm2 1zm-2 10zm2 3zm-3 1zm11 3zm2-4zm1-6zm9-7zm-1-11zm-2-5zm8 1zm12 1zm2 4zm4-1zm7 9zm-4 3zm1 1zm7 7zm-1 3zm6 4zm0 3zm-8 0zm-2 5zm4 1zm-7 7zm-1 2zm-2 3zm-12-1zm-1 5zm-4 2zm0 2zm0 4zm1 0zm8 3zm-14-16zm3-7zm-3-8zm7-2zm9 4zm3 1zm2-10zm-5-13zm-1-1zm23 2zm-1-9zm3-9zm1-4zm-4-3zm-8-4zm1-7zm6-3zm-10-7zm-6-3zm0 17zm-2 0zm-17-7zm-6 8zm-10 1zm-3 7zm-4-3zm8 9zm-15 2zm-11 0zm-1 2zm-1 0zm-1-5zm-2-5zm2-2zm-5 2zm0-9zm-8-3zm-2 1zm1 3zm-6 1zm-3-6zm0-1zm-5-8zm2-6zm16 9zm8-1zm6 0zm-5-6zm6-3zm2-3zm2 0zm-8-2zm-10-7zm-1 0zm-19-10zm-8-7zm-8-10zm-4-16zm1 36zm-2 7zm4 40zm-6 8zm7 8zm-10 16zm0 1zm-33 2zm3-19zm7-13zm44-4zm25 11zm15-15zm1-6zm3 1zm14-8zm3 1zm-8-29zm83 17zm3-5zm4 8zm-7 3zm15-9zm4-12zm3-4zm-2-4zm-1-7zm-8 3zm-5-4zm3-7zm2 0zm-4-7zm-8-8zm16-1zm-2-9zm-4-3zm12-14zm23 13zm3-8zm1 20zm12 6zm4-1zm1 4zm16-16zm9-10zm-4-14zm-14-9zm38 5zm2 2zm-87 44zm2 17zm1 8zm-38 46zm1 2zm-4 7zm-2 27zm4 16zm1 2zm-2 7zm10 12zm12-10zm4 2zm6-1zm12 0zm5-7zm8 3zm5-2zm3 5zm0 12zm-8-1zm-5 3zm-2 6zm0 2zm-1 0zm4 7zm8-1zm8 2zm2 8zm1 1zm8-5zm4-5zm1 0zm8-1zm4 9zm3 2zm-9 2zm-5 1zm0 2zm-3 1zm0-3zm4 7zm6-1zm-11 7zm-2-5zm-3-29zm0-8zm11 2zm11 3zm8-5zm3-2zm-6-3zm3-11zm1-1zm8-1zm-26 3zm-1-5zm-6-7zm-5-2zm3-4zm-36 0zm-4-6zm-5 4zm1 4zm2 5zm-15-9zm-4 8zm-3-1zm1 4zm-1 6zm-72 14zm0 5zm-5 1zm-1 4zm2 1zm-15-1zm-3-1zm3 11zm-20 3zm-5-4zm1-3zm-9-5zm-3-7zm27-10zm9-7zm5-3zm2 5zm-2 9zm12-20zm-36 2zm-126 23zm-10-8zm2-8zm-7-1zm-30-28zm-15-6zm-8-77zm-10-11zm-7-10zm3-4zm0-1zm-1-9zm-5 1zm21-7zm4 19zm4 8zm49 25zm-130-47zm28-50zm-8-4zm-2-20zm21-1zm6-2zm3-13zm8-1zm-68-13zm10-58zm9-9zm-12-31zm1-4zm0-3zm3-3zm3-1zm1 4zm7-6zm-2-2zm0-1zm0-1zm-4-1zm-21 25zm10-70zm3-4zm1-3zm1-1zm3 0zm8-2zm4-3zm-3 11zm12 0zm14 24zm6 4zm-51-35zm-3-4zm5-1zm-11-5zm-6-7zm7-3zm11-4zm-26 10zm-40 26zm-47 6zm-1-5zm0-2zm-4 9zm-59 4zm-4 12zm-5 0zm-3-5zm1 22zm-3 9zm14-66zm315 479zm8-3zm327-25z" stroke="#ff7f0e" stroke-width="5.5" stroke-linecap="round" fill="none"/>
<path transform="scale(0.2)" d="M1369 3521zm8-2zm7 4zm-6 9zm4 3zm8 5zm6 7zm8 3zm8-7zm23-3zm6-4zm-7-6zm16-2zm-1-6zm11 5zm6-9zm15-11zm13 3zm0 5zm1 0zm-1 5zm9-3zm9-1zm5-5zm5-3zm6-3zm1-3zm-2-5zm5-5zm2 0zm0-9zm-7-2zm1-7zm5-2zm1 0zm8-5zm2 5zm2 7zm5 7zm6-1zm-1-3zm0 10zm3 5zm7 0zm3 4zm1 5zm0 1zm-4 3zm6 3zm2 0zm-4 6zm3 2zm4 0zm1-2zm4-1zm0 3zm3 6zm2 3zm2-2zm1 3zm-7 2zm-5 7zm-2 2zm-5-1zm-4-5zm-6 2zm-3-8zm4-3zm2-3zm-3-2zm3-4zm-1-1zm-4-5zm-5 7zm0 1zm1 2zm0 3zm-5 0zm-1 5zm1 3zm2 8zm3 5zm0 1zm4 6zm8-3zm1-1zm-2-2zm3 5zm5 0zm5 0zm4-7zm5 18zm-5 10zm10 4zm0 4zm3 12zm-6 7zm7 3zm2 6zm-4 9zm1 2zm-5 9zm-4 2zm1 6zm3 0zm4 0zm6 1zm2-9zm7-11zm14 0zm1-5zm4 7zm11 0zm7-3zm0 7zm1 0zm5 1zm-9 8zm-3 1zm-4 0zm-2-4zm-3 13zm-1 10zm-10 11zm-8 6zm-1 3zm2 3zm0 5zm-12 0zm0-2zm3-8zm4-13zm0-10zm-9 2zm-6 6zm-1 0zm-1 2zm-1-6zm0-5zm-1-2zm-6-2zm-6 6zm-3-7zm-5 0zm-6-3zm-3 2zm-2-4zm-1 8zm-5-2zm-8-2zm-2 1zm-1-5zm5 0zm-1-10zm2-4zm0-2zm-2-1zm1-10zm-6-8zm-5 8zm-5-5zm-2 2zm1 7zm2 2zm-1 6zm-7 5zm-5 11zm-4 4zm-3-2zm9 5zm0 9zm-8-3zm-5 10zm-1 0zm16 7zm-1 6zm4 5zm3-7zm10 2zm2 2zm2 3zm6-4zm1-1zm-3-3zm-4-3zm3-3zm-9-2zm-3-7zm-2-8zm-3-9zm9-10zm7 21zm11 4zm5 5zm2 2zm-2 2zm10-1zm0 3zm6 7zm-4 6zm2 3zm0 7zm-6 3zm14-4zm10 3zm1 5zm-1 6zm12 1zm2 7zm6-1zm0-11zm-1-2zm-6-2zm-3-3zm-3 22zm-20-10zm-25-21zm-6 3zm21-29zm10 6zm5-8zm-6-18zm-5-4zm-2-4zm-2-10zm-1-4zm0-7zm3-1zm3-1zm8 9zm2 4zm-2 1zm-22-1zm3-23zm-1-6zm3-1zm8-2zm4 7zm-24-5zm0-4zm6-10zm-1-1zm1-5zm-3-4zm-4 3zm-3 5zm-2-11zm-11 7zm-3-3zm-4 3zm-1 1zm5 4zm2 4zm-4 3zm-1 1zm1 1zm-1 9zm-8-6zm-7 8zm-4-2zm-3 10zm-1 3zm0 1zm3 2zm2 2zm6 1zm3-10zm-21 3zm-2 6zm3 1zm-6 2zm-4 1zm-1 4zm-4-1zm-3-1zm4-3zm-10 1zm-4 1zm-4-3zm-1-1zm7-9zm4 1zm-1-7zm1-2zm-2-1zm-3-6zm-6 3zm0 5zm-7 3zm-3 7zm-2 9zm-5-1zm-11 2zm-2 2zm-1-4zm1-7zm3 1zm-1-4zm-7-4zm-3-2zm-1 8zm0 7zm-9 0zm1 5zm-10 3zm6-21zm-2-8zm-7-5zm-2-3zm-4-1zm0 4zm-2 1zm-1 0zm-3 4zm7 3zm-9-14zm-8-12zm-10-17zm-2-38zm10-2zm-4-8zm17 10zm32-4zm-6-19zm-10-9zm12-12zm-5-6zm-9-9zm-11-1zm1 6zm2 3zm-10-9zm-6 0zm-2-4zm1-2zm8-13zm-1-13zm11-4zm5 1zm3 2zm5 2zm-9 4zm2 8zm22 5zm4-7zm5 4zm5-4zm8 4zm6 5zm2-5zm3-3zm3-2zm7-9zm-5-5zm-3-4zm-10-6zm-2-3zm-4-6zm2-1zm-6-11zm-4-11zm2-3zm6 0zm-1-11zm-5-5zm1-3zm11 0zm8 11zm1 6zm-2 7zm0 1zm5 2zm-1 7zm3 4zm2-3zm10-6zm5-1zm9 3zm2-6zm3-7zm-2-3zm-2-2zm-6 4zm-1-10zm2 0zm4-9zm-4-3zm-9 3zm-1 2zm-2 1zm2 3zm0 2zm-7 0zm-4-7zm4-8zm11-8zm-4-9zm6-8zm5 5zm3 6zm1 3zm6 5zm2-2zm8 0zm2-7zm-10-7zm-1-5zm-4-1zm-3-8zm-5 1zm1-6zm3-12zm-5-5zm-2 3zm-3-2zm-3-8zm-2-2zm14-3zm6 0zm8 9zm-4 7zm6 6zm3 1zm2-6zm13 4zm8 6zm10-3zm10 7zm9-4zm10-6zm12 12zm0 7zm-3 5zm5 5zm-6 5zm-11 3zm-2-12zm-1-1zm-3 0zm-6 6zm-7 3zm-4 8zm-4-3zm-5 0zm-1 0zm-8-1zm-3 0zm-9 13zm0 7zm0 4zm0 2zm-3 2zm-1 2zm-7 4zm10 5zm2-2zm4-8zm5-4zm2 1zm-2-4zm1-2zm-1-1zm14 9zm8 5zm-6 8zm3 3zm0 3zm4-3zm6 0zm2 0zm0-4zm1-12zm1-4zm-3-4zm-6-6zm-6-2zm22 6zm2 9zm-3 2zm6 1zm4-3zm0-4zm0-11zm17 14zm3 1zm5-3zm-2-5zm3-8zm-4-3zm10 10zm6 4zm2-3zm-5 10zm-8 6zm1 5zm6-1zm12-3zm2-3zm4-18zm9 1zm-7-13zm6-6zm-9-10zm-5-12zm4-3zm3 0zm9-7zm9 13zm2 6zm0 20zm17-6zm11-4zm6 8zm-7 5zm-3 8zm25-5zm0-5zm6 3zm5-6zm2-4zm-4-4zm-4 2zm-1-5zm-3 1zm-5 6zm-1-18zm-2 0zm2-7zm-11-1zm4-12zm8-15zm12 26zm-1 5zm6 10zm7 5zm5 4zm-1 6zm-2 8zm0 6zm4 5zm5 4zm11 1zm7 2zm-2 8zm-15 1zm0 2zm1 11zm13 4zm6-3zm8 7zm-5 9zm4 4zm4-3zm2 8zm2 3zm5 2zm0 2zm3 0zm-4 3zm-8 0zm-7 0zm0 3zm-1 9zm4 3zm-1 3zm-3 5zm-6 5zm-4-7zm-1-3zm-4-1zm-5-1zm-1 3zm8-9zm-18 2zm-7-4zm-9-1zm-5-4zm-6-5zm-12 0zm-2-10zm-1-2zm-7 6zm-4-2zm-9 11zm-2 7zm-4 0zm-3 3zm-2 3zm1 2zm-5-5zm-1 13zm-2 7zm-12 6zm-11 5zm8 9zm8 6zm5 7zm-3 10zm-1 2zm-1 3zm-1 8zm5 5zm-1 7zm-4 2zm-3-2zm11 7zm6-4zm7-7zm1-1zm-4-3zm2-8zm1-3zm0-3zm6-1zm-3 7zm-9-3zm1-9zm3-10zm10-7zm6 0zm3 3zm2 5zm0 3zm5-1zm-1-5zm9 0zm1-1zm2 2zm2-4zm5-8zm1-2zm3 2zm5 4zm4-6zm4 4zm0 6zm5 3zm4-3zm-2-3zm8 10zm6-3zm2 3zm4 1zm1 2zm-7 1zm-1 5zm5 4zm-3 9zm1 3zm1 3zm-8 6zm0 4zm2 1zm-2 3zm-5-3zm-7 3zm0 3zm-4 2zm-4 2zm6 6zm-2 3zm-2 0zm-4 5zm9 1zm-1 4zm4 3zm2 1zm4-4zm0-3zm5 6zm6 2zm-1 2zm3-9zm-2-3zm-3-1zm1-2zm-2-3zm-2-1zm3-3zm5-3zm1-1zm3 7zm10 2zm2 2zm8 1zm4 3zm5 10zm3 1zm0-3zm7 4zm5-2zm-2-3zm-2-5zm3-4zm3 5zm6 1zm1-7zm8-7zm3-4zm-5-2zm-3 0zm1-5zm-5-1zm0-4zm2-5zm4-4zm0 9zm10-5zm-1-3zm11-5zm0-4zm-2-5zm-7-2zm-3-3zm2-4zm-3-3zm-5 0zm-1-3zm3-8zm0-5zm3-1zm-4-2zm2-11zm7-4zm2 6zm5 1zm2-3zm4 3zm6 2zm2 3zm2-2zm1 0zm-6 8zm-8 3zm1 2zm3 7zm-2 2zm10-2zm5 1zm4-5zm1 1zm3 2zm0 5zm-3 2zm-10 0zm0 2zm-3 3zm7 9zm4 4zm8 0zm1-2zm1 6zm0 2zm-3 4zm-4 0zm0 10zm-3 0zm-4-1zm-1 2zm6 10zm6 2zm-3 6zm-1 1zm7 7zm3-3zm0-1zm1 7zm2 3zm3-2zm2 1zm1 4zm2 0zm4 7zm3 11zm4 2zm1 1zm7-6zm3 2zm4 8zm8 4zm1 5zm5 0zm0-1zm7 7zm-7 4zm-6 1zm1 7zm-2 5zm2 2zm8 1zm-1 4zm-3 6zm-2-1zm12-2zm6-3zm8 4zm5 0zm3-2zm2-11zm5 1zm3-1zm10 0zm11 1zm2-5zm4-6zm3-3zm0 6zm0 1zm6-5zm0-1zm1 2zm15-3zm3 7zm-1 4zm7-3zm4 9zm-5 5zm3 15zm-5 11zm7 12zm-3 8zm2 14zm-10-2zm-7 18zm0 13zm-8 3zm-3-3zm-3 3zm-8 4zm-5-4zm-1-2zm4-1zm-3-7zm-2-3zm-12-1zm0-1zm3-8zm3-3zm-7-15zm-9-7zm-2-1zm2-2zm-6 2zm-5 1zm2-8zm-13-5zm-3-3zm-6 7zm-3 4zm1 4zm8-5zm2 21zm0 5zm-4 4zm-2-2zm2 5zm-3 4zm0 4zm-4 8zm-3 3zm3 7zm3 3zm1-1zm3-4zm4 0zm-2-4zm3-1zm8 4zm3 4zm4 3zm1 1zm3-6zm2 1zm6-1zm4-2zm1-1zm5 1zm-9 8zm4 5zm8 0zm1 7zm13 4zm23-2zm12-27zm8-1zm2-11zm-6-2zm12-6zm10-9zm4 0zm-1 14zm-11 24zm-3 5zm48-20zm-5-10zm2-7zm-3-1zm11 0zm3-28zm14-4zm-35 4zm-15-24zm4-9zm7-5zm0-4zm-9-3zm-5 3zm-5-8zm-10 1zm-2-1zm-2 7zm-6-12zm8-6zm1-3zm-7-7zm-4 3zm-7-8zm-1-4zm-4-3zm-6 6zm8 5zm-14-16zm-6 4zm-2 7zm-7 0zm-6-6zm-1-3zm4-4zm0-2zm0-8zm-4 0zm9-3zm5 6zm7-3zm-26 9zm-2 2zm-5-7zm2-2zm0-9zm-13 3zm-12 3zm0 7zm-5 4zm2 3zm2 4zm-3 6zm-4 5zm-4 0zm0-4zm-2-1zm-9-6zm-2-3zm-3 0zm4-4zm0-1zm7-2zm-3-10zm-1-1zm-6-3zm-1 2zm3-5zm-2-8zm0-4zm-3-1zm-3-3zm1-5zm7 1zm3 10zm18-3zm8 2zm2 5zm6-1zm1-4zm-4-9zm-3 0zm-3 1zm0-2zm-3 0zm-3-2zm-2-4zm-6-2zm-4-3zm4-3zm7-5zm-16-3zm-2 5zm-4-4zm-4-1zm-4 3zm-1-2zm-4 0zm-3-3zm-2-1zm-5-5zm-1 0zm0-2zm1-2zm3 1zm-8 1zm-4-2zm1-7zm6-10zm-1-5zm-1-5zm-10-1zm-2-3zm-4-1zm-2 1zm-5 6zm-4 0zm-1-2zm1-4zm-3-2zm-3-1zm-1-2zm0-1zm6 1zm-1-6zm-3-1zm-2-2zm1-6zm-5-5zm3-5zm-3-7zm-5-5zm0-1zm-4 6zm-5 0zm-3-5zm-4 4zm-2-3zm-9-1zm1 7zm0 2zm-4 4zm-3-3zm1-4zm-4 10zm-6 14zm-9-4zm-7 9zm1 3zm4 8zm-7 4zm-1 0zm2 2zm-5 8zm5 6zm4-1zm7 1zm0 2zm5 1zm-5 8zm-2-1zm-5 11zm-6-1zm-4-2zm-2 6zm2 3zm-6-1zm-2 2zm-5-2zm-6 3zm0 6zm2 0zm-3 2zm9 1zm-2 5zm11-1zm4-7zm4-2zm5-1zm4-6zm14-16zm10-16zm2-7zm1 0zm0-8zm15-18zm-1-6zm2-4zm-7 4zm-7 0zm-17-25zm1-2zm-2-2zm4-2zm1-7zm2-3zm1-1zm5 3zm4-1zm5 2zm3 0zm2-3zm2-2zm-2 8zm11 2zm1-3zm1 0zm3 2zm0-8zm0-12zm4-7zm7 7zm0 5zm2 5zm9-5zm0-4zm3-11zm3-3zm-2-5zm6-8zm16 15zm6 1zm7 1zm8 17zm-1 5zm-1 1zm3 6zm-10 0zm-2 3zm-2-3zm0-5zm-7-4zm-1 14zm5 1zm0 10zm0 8zm7-3zm3 2zm3-2zm-1-2zm-4-3zm7 13zm-4 2zm6 2zm4-5zm3-3zm-3 18zm2 3zm-3 4zm-5-3zm-1 3zm-6 0zm-3 6zm-3-1zm-2-11zm-1-4zm5-2zm9 3zm6 16zm-6 3zm-3 5zm-5 2zm-2 2zm0 5zm0 4zm-3 3zm-2-3zm14-7zm18 1zm3-3zm-6-16zm11-8zm1-32zm-6-11zm-42 14zm-4-3zm0 7zm-2 3zm-13-3zm-3 1zm-1 3zm0 3zm-4-1zm-1 1zm-4-9zm2-7zm-4-5zm-1-2zm-3 3zm6-6zm11 9zm1 4zm4-6zm5-22zm-33-23zm-9-10zm-3 3zm-2-1zm-8-6zm-6 5zm-10-1zm-1 8zm1 1zm7 8zm11 0zm0-1zm4-1zm3 6zm0 4zm-7-2zm-5 5zm-19-4zm-2 4zm-8-8zm-2-2zm-2 2zm-7 4zm-4 1zm-4-2zm4-6zm0 17zm14 11zm-2 6zm2 3zm-4 9zm4 4zm-8 1zm-8-3zm-2 2zm-6 0zm-4-3zm7 16zm9-4zm1 2zm0 1zm-6 17zm-7-2zm-3 1zm-5 3zm2 6zm1 1zm5 1zm4 0zm-3 7zm1 10zm0 2zm-8 6zm-3 6zm-6-1zm1-9zm12 13zm-11 7zm-20-10zm-5 0zm0 2zm0 9zm-7-3zm-4 5zm-5-9zm-3 1zm-3-2zm-6 2zm-7 7zm10 3zm2 6zm-3 3zm-3 1zm3 9zm-5 1zm0 5zm-5 0zm-7 1zm-4 1zm-5-5zm-6-1zm-2 3zm-4 6zm-10 5zm-2-10zm-5 1zm3-6zm0-3zm14-1zm2-3zm2-4zm8 1zm-2 6zm8-3zm3-1zm-3 7zm-4-15zm-3-4zm-8-1zm-2-3zm11-8zm3-7zm1-1zm2-7zm3 14zm12-7zm4-5zm2 0zm7-4zm0-5zm6 4zm-1-29zm11-3zm7 0zm6 7zm7 2zm5 1zm2 6zm4-21zm-13-41zm-4-11zm-1-1zm-11 3zm-1 5zm3 5zm-14 5zm-17-10zm-6-9zm-6-2zm-6 0zm-6-2zm-3-10zm-5-8zm-3 1zm-1-2zm-4 4zm-10 4zm-5 1zm-8 6zm-3-2zm-19 11zm2 4zm-9-3zm-7 2zm-3 1zm-5-2zm0-1zm-3 3zm1 3zm-3 2zm-7-6zm3-7zm7-9zm7 3zm6-5zm-4-4zm-5-2zm1-2zm-6-8zm-12 8zm-3 5zm3 4zm-8 10zm-5 8zm-6-2zm-2-6zm-2-6zm-14 6zm-1 1zm-7 3zm2 5zm4 0zm-4 7zm-5-1zm-7 2zm-3 2zm1 7zm-4 3zm-7-7zm0-7zm11-9zm2-4zm-1-11zm-9 4zm-1-3zm-6-3zm-11 16zm-5 4zm-7 3zm-1-1zm2 8zm5 1zm0 4zm-11-2zm13 20zm4-1zm2-4zm4-4zm3-3zm1-1zm2 5zm2 13zm7 6zm4-1zm2 2zm1 3zm3-2zm5-1zm-4-7zm-3-4zm1-6zm11-3zm3-10zm10-9zm4-3zm3 2zm8 3zm1 5zm2 1zm-4 3zm-3-4zm-3 4zm-5 5zm-1 7zm1 2zm7-3zm1-2zm9-4zm3-5zm-1 14zm4 0zm-3 4zm-9 8zm-9 1zm5 8zm-6 4zm7 9zm1 5zm-1 3zm6 0zm5 0zm3-2zm0 11zm-5 4zm-3-5zm8 10zm9-1zm2 1zm1 1zm-2 0zm2 3zm-4 2zm1 3zm-4-1zm-1 8zm1 3zm3-2zm2 2zm7-2zm4 1zm-2 4zm8-4zm3-4zm1-1zm2-4zm0-6zm-3-2zm2-2zm0-1zm0-6zm-12-5zm-6 0zm-1-4zm-5 5zm0 6zm4 0zm0 1zm7-1zm1 3zm4 9zm0 2zm2 3zm-6-3zm16 9zm6 5zm2-2zm-7 9zm-4-2zm-3-3zm4 14zm-1 15zm-3 1zm-1 1zm-3-4zm11 3zm7 2zm5 1zm2-4zm0 8zm1 1zm-3 8zm7 4zm1-2zm-3 9zm-3 3zm-3 5zm8 5zm-2 6zm4 3zm-5 4zm-5 7zm-4-6zm-6-6zm-5 7zm2 2zm1 2zm9 26zm19-18zm9-4zm5 5zm-9-14zm0-5zm6-8zm7 5zm1 6zm6 0zm6-2zm2-4zm0-9zm7-3zm3 3zm9 2zm4 4zm4 7zm-6 4zm3 3zm-11-2zm-1 2zm-5 1zm-6-2zm11 14zm3 9zm3 6zm7 5zm5-4zm2 5zm5-2zm2 0zm8 4zm-4-14zm-1-6zm-9-5zm13-6zm2-4zm3-1zm11 3zm3 3zm2-3zm3 13zm3 2zm7 0zm5-6zm-5-2zm6-7zm6 1zm5 8zm-7 6zm-7 14zm-13-4zm-1 11zm-29 12zm-14-7zm0-1zm-6 10zm1 2zm-12 3zm-7 16zm-2 4zm7-1zm-26-17zm-2-4zm-4-7zm-3-7zm28-2zm3-8zm6 4zm30-38zm1-2zm8-8zm-4-6zm5-2zm2 0zm1-4zm4-3zm10-3zm5 1zm3-6zm11-4zm14 9zm4 5zm4 9zm1 3zm4-1zm1-7zm4-2zm1-4zm2 1zm2 4zm-1 1zm3 5zm7-6zm6 1zm-1-8zm-1 0zm0-7zm3-5zm-9 3zm-2 1zm-3 6zm3 1zm-2-15zm-15 6zm-2 1zm3 7zm-16 14zm-3 4zm0 4zm-5 4zm-5-4zm-1-3zm3 0zm0-7zm-4-3zm-8 3zm-2 3zm5 1zm1 7zm2 1zm11-14zm21 20zm-1 1zm-2 2zm-2 3zm1 2zm7 2zm3 0zm0-3zm-3-6zm10 2zm5 2zm-2 9zm-7 1zm-2 9zm-5-1zm-1-2zm-2 2zm-9 10zm37-8zm0-7zm4 13zm6-1zm1 1zm-3 10zm-5 4zm0 2zm11 8zm2 1zm0-5zm3-3zm-2-4zm4-1zm2-2zm3 14zm9-1zm6-8zm9 0zm8 10zm4 1zm5 4zm-13-2zm11-13zm-2-4zm8 4zm5-11zm-7-2zm10-5zm4-2zm6 11zm3 6zm4 1zm-15 10zm1 3zm2 16zm-3 3zm2 11zm5-1zm3 0zm2 1zm2-2zm7-5zm19 3zm4 9zm7 2zm7 3zm-12 12zm3 24zm-4 6zm-5 3zm-4 4zm-3-1zm8 4zm16 2zm-19-18zm-7 0zm-6-1zm-5 3zm0 6zm-11 1zm-1 4zm1 5zm-8-3zm-2-3zm-3 8zm-7 2zm-1-8zm-4-3zm-3-4zm0-2zm-5-5zm-10-9zm2-5zm7-4zm-2-3zm-3-3zm-7-3zm-5-1zm2-6zm4-4zm-4-5zm1-1zm8-7zm8 0zm-3 8zm2 12zm2 5zm3-2zm1 13zm0 2zm9 3zm2 4zm10 0zm12 0zm-1-9zm-6-4zm-10-15zm-35-24zm-12-3zm1-3zm0-2zm-13 1zm17-33zm5-9zm-5-11zm4-9zm2 0zm3-6zm0-9zm5 1zm4 6zm3-9zm-2-5zm2-3zm3 3zm3-5zm-11 1zm17 10zm1 0zm3 1zm5-2zm13 5zm-9 10zm-2 5zm-7-2zm0-5zm-9-4zm-5 15zm-24-12zm-11-1zm-7 1zm5 8zm-1 5zm-1 12zm5-36zm7-4zm3-18zm0-2zm3-3zm-4-3zm-1-3zm-5 0zm-3 5zm-4 0zm0 4zm0 3zm-5-5zm2-5zm-2-4zm4 0zm4-6zm-6-3zm-2-1zm3-7zm8 3zm2 0zm14 17zm21-16zm5-5zm-8-6zm0-5zm0-3zm2-6zm3 0zm-3-4zm-3-8zm6-5zm-5-3zm-1 0zm-4-2zm-3 1zm-1-2zm-3 0zm-3-1zm6-7zm0-7zm-4-4zm20 1zm0-21zm1 0zm3 0zm-6-1zm-1-9zm-2-2zm-7 12zm31-15zm-12 68zm2 3zm2 1zm-2 2zm2 2zm-3 2zm-5 2zm8 6zm6-3zm10-2zm5-9zm-12 21zm-3 4zm-2 2zm-4-5zm-9 17zm13 5zm9 2zm2 3zm-6 5zm-2-1zm3 45zm0 1zm17 4zm5-8zm13 1zm7-5zm0-2zm2-4zm7 5zm1-9zm8-2zm3 5zm4-1zm8-1zm-13 8zm-6-22zm-6 2zm-1-5zm2-2zm1-2zm0-3zm-6 1zm12-2zm12-29zm-12 86zm-2 9zm-9 4zm21 18zm6 6zm12 3zm3 2zm-1-14zm-10-6zm-2-15zm21 4zm120-48zm7 7zm11 10zm2-20zm-1-3zm-15-12zm-2-10zm-8-9zm-2-6zm-1-6zm16-3zm7 11zm13-5zm2 5zm3 13zm8 2zm2-1zm15 0zm6-5zm-1-6zm-9 0zm3-7zm-2-1zm-7 3zm-4-13zm-15-7zm30-8zm6-4zm12 3zm3 4zm5 10zm4 0zm2-4zm4 4zm5-6zm-1-2zm-19 13zm-3-2zm1 7zm1 6zm-12-11zm-3-2zm-1-1zm-2 1zm1-6zm-44 34zm7 114zm-2 11zm1 4zm5 6zm-9 6zm-3 6zm-6 5zm7-18zm-3-3zm-4-12zm-12 11zm46-9zm4 1zm2-2zm9 1zm8 2zm-10 7zm-4 12zm-10 6zm0 12zm-14 16zm38 9zm7-2zm2-11zm5-1zm9-2zm-6-18zm-2-20zm-21-21zm-307 76zm-22-34zm-8-6zm-29-116zm4-6zm3-6zm3 1zm-8-32zm1-4zm4-13zm-1-2zm2-6zm-3-1zm-34 14zm-1-46zm-53 66zm3 7zm-13-4zm2-4zm-5-4zm-6 5zm2 6zm6 2zm-2 4zm-3 1zm-4 1zm-1 4zm0 4zm1 4zm-6-5zm-6-14zm-1-7zm7-8zm2-1zm0 3zm-21 3zm-10 12zm-1 3zm6 0zm1 2zm-13 1zm-4 0zm-10 0zm-3-2zm-7 2zm-1 3zm-5 3zm15-19zm-11-14zm-15-14zm-32-6zm-25-1zm-20-6zm-5 2zm-2-1zm-2 2zm-2-2zm-11-2zm1 13zm0 1zm4 6zm0 1zm-3 2zm7 3zm5 1zm-4-11zm-16 2zm-2 2zm1 4zm-3 3zm-7 4zm5 8zm1 5zm-2 0zm4 2zm-3 5zm-10 1zm0-3zm4-7zm-4-2zm-1-1zm-5-9zm-9 9zm1 4zm1 0zm-5 6zm-4-11zm3-11zm9-11zm9 0zm6 4zm6-7zm-1-1zm5 3zm0 20zm-24 28zm3 5zm-2 4zm2 7zm-7 1zm-1 5zm-6 20zm-4 3zm1 5zm5-1zm-4 7zm2 7zm-2 1zm2 3zm2 8zm7-11zm6-8zm3-13zm2-5zm6 6zm-36-3zm-3 9zm-16 8zm-9-5zm5-8zm2-1zm-5-1zm17 25zm7 0zm-14-59zm-14 0zm-9-5zm2-7zm5-2zm1 3zm-9-7zm-2-2zm3-10zm5 2zm12 5zm1-1zm9-7zm5-11zm-8-5zm12 29zm37-67zm0-3zm-6-12zm0-12zm14 0zm4-7zm-6-1zm-2-3zm-7-4zm-5-9zm-1-8zm-13 0zm0-4zm-4 1zm-5-2zm-2 5zm2 6zm3-1zm6 5zm3 1zm2 7zm-22 1zm-5-1zm0-3zm0-2zm-8 5zm-10-6zm-1-1zm-3-2zm2-2zm-5 6zm3 6zm-8 0zm2 18zm2 2zm3 4zm16 4zm22-1zm4-2zm38 4zm16 10zm5-4zm2 3zm1 2zm2 7zm-4-48zm-4-7zm-13 2zm-4 1zm-3-1zm1 4zm3 0zm-3-11zm-7 2zm-25-16zm-31 8zm-6-31zm-3-1zm-2-5zm-5 5zm-3 1zm-1-9zm-5 1zm-3-2zm1-5zm4 0zm-18-4zm-12 6zm-3-8zm-7-3zm-8 0zm-6-3zm-2-1zm7-15zm-9-3zm0-14zm12-10zm-2-3zm-7-8zm2-10zm11-3zm7 2zm2-7zm1 20zm-5 0zm13 5zm8 12zm3 4zm6 7zm-4 4zm2 2zm4 2zm5 6zm-9 5zm-9-14zm-14 1zm-2-3zm2-3zm0-5zm-4-2zm34-13zm-1-6zm11-2zm0-3zm-8-13zm7-3zm11-1zm6 0zm1-8zm8-1zm-3-6zm17 8zm2 4zm-18 9zm-3 3zm-2 7zm47 17zm4-33zm12-9zm8 5zm8 0zm4 1zm7 0zm9 2zm23-2zm20-2zm1-1zm0 8zm12 4zm3 2zm-1 5zm1-22zm-2-13zm-10 7zm-7 1zm2-11zm1-9zm7 1zm10-2zm-19-15zm-16-1zm-6 6zm-18 7zm-40-7zm-3 0zm-2 3zm-25-12zm0-11zm8-5zm-15-3zm2-7zm-6-22zm60 164zm1 58zm31 18zm3 5zm-3 1zm-5 3zm14-2zm-1-8zm8 2zm-2-9zm12-10zm-5-5zm1-1zm-5-8zm15-11zm13 6zm3-3zm5-2zm2 6zm-8 3zm-3 3zm-6 1zm0 6zm-3 9zm-5 7zm9 3zm11-7zm4-12zm-3-3zm21-15zm10-5zm5-3zm29-24zm-1-2zm5 5zm6-3zm3 0zm-3-3zm-1-4zm-1 0zm7-4zm-4-6zm3-5zm8-1zm0-5zm5-4zm0-1zm1 1zm2-12zm18-3zm1 0zm2 10zm13-6zm8 4zm3 1zm2-1zm-3-3zm5-6zm-7-2zm-1-4zm6-4zm-7-9zm16-7zm10 3zm-1 6zm1 9zm3 4zm7-6zm2 2zm1-5zm-1-5zm4-2zm8 3zm1 3zm4 3zm-8 4zm4 9zm13-3zm10 3zm-1 5zm8 0zm1 1zm8-3zm3 9zm1 1zm-8 8zm-9-5zm-2 2zm4-21zm-6-9zm1-1zm-6-5zm5-3zm-11 1zm-23-23zm-30-16zm-4-10zm-5 16zm2 6zm-9-2zm-2-6zm-12 24zm-3 11zm42 19zm0 11zm-2 0zm2 3zm0 5zm2 4zm8-8zm7 1zm1-5zm6 16zm-1 11zm-2 5zm14-23zm-89 7zm-9 11zm1 9zm7 0zm1 0zm-8 9zm-4 3zm-4-1zm-1-14zm1 57zm3 5zm-11 5zm-17 3zm1-11zm-28 29zm-24 19zm0 6zm-6 1zm-2 3zm-23-29zm-1-7zm6 107zm5 8zm-38-4zm-6-7zm-1-1zm98 24zm-17 87zm-7 0zm-9 11zm14 5zm2 10zm-5 5zm-3 1zm-9 1zm-3 0zm3-3zm-1 16zm11 5zm21-21zm-54 42zm-10 33zm269-247zm3-2zm-3-9zm1-5zm0-1zm-454-105zm-22 64zm-3-1z" stroke="#1f77b4" stroke-width="5.5" stroke-linecap="round" fill="none"/>
<path transform="scale(0.2)" d="M1369 3472zm15 2zm20 4zm6 17zm5 6zm6 4zm10 8zm11-6zm8 21zm13 17zm-1 9zm-9 4zm-2 1zm1 2zm-1-7zm1-2zm-16 0zm-5-3zm-10 2zm0-5zm2-5zm-4-2zm-6 4zm-5 6zm-4-9zm14-13zm-1 28zm5 8zm-3 7zm-4 9zm-5 1zm-2 7zm-2 9zm9-3zm6-3zm5 3zm4 5zm2-2zm5 4zm1-1zm-3 4zm-9 1zm-1-2zm1 5zm-3 2zm-1-1zm8 3zm11 4zm0 1zm7 9zm10-4zm1-3zm4 8zm-3 6zm12-13zm3-8zm-1-1zm-1-1zm3-5zm3-2zm4 2zm1 4zm-5 6zm9 10zm4-3zm7-1zm7-5zm-1-2zm11 7zm8 0zm6 5zm-1 4zm-1 3zm2 1zm-4 10zm-5-1zm-7 1zm-3 5zm-7-1zm-4-6zm-7 5zm0 4zm3 1zm-4 3zm-3-9zm2-6zm-2-1zm1-9zm5 0zm21 6zm1 19zm15-3zm2 4zm0 6zm-3 8zm12 1zm7-8zm4-4zm4 3zm7 3zm-8 6zm-1 5zm3 0zm-9 5zm17 4zm1-4zm4-1zm9-5zm5-1zm3-2zm-6-7zm-5 3zm9-9zm3 2zm1 0zm9 4zm2-1zm11 9zm4 6zm6-5zm7 0zm9 7zm0 1zm-9 4zm-7 2zm5 10zm-2 3zm-3 0zm8 12zm6 1zm15-13zm3-6zm8-1zm-2-6zm-14 5zm23-25zm3 0zm3-2zm6 3zm8 2zm7-2zm-14-15zm4-3zm-11 2zm-6 5zm0 1zm-5 5zm-7-6zm5-10zm-6-3zm-3-7zm-10-11zm-6-8zm9-2zm4-13zm-10-7zm2-4zm-1-6zm-8 2zm-3-9zm-4-1zm-3 5zm-3-6zm-11-7zm-5 1zm0-9zm4-2zm1-3zm3 1zm7 0zm-1 4zm8-3zm0-5zm4 1zm6-2zm9 5zm7-8zm3-7zm-2-1zm8-7zm2-1zm2 0zm-5-3zm4-7zm7 5zm5-4zm2 2zm2 6zm-5 2zm4 10zm-1 10zm0 8zm-9-2zm-2 0zm-1 2zm5 9zm-8 7zm-3 3zm-2-2zm-4 4zm3 3zm-1 2zm8 0zm4 1zm-2 5zm5 3zm0 3zm2 3zm4 3zm8-2zm2-7zm4-7zm-6-10zm-6 3zm8-11zm3-2zm1-8zm2-4zm7-7zm0-1zm3-2zm1 2zm-1 2zm2 4zm4 3zm2-5zm3-7zm-1-3zm-9-7zm-1-3zm0-3zm5 1zm2-3zm5-4zm-1-5zm-7-3zm-3-2zm-5-3zm3-3zm0-2zm-3 0zm-7-7zm-6-2zm-3 2zm-4 9zm-2 2zm-2-2zm-2 0zm-5-3zm-3-1zm-2 4zm-4 3zm-3-2zm-7-6zm-5 3zm-1 7zm-3 5zm2 2zm-3 1zm-1 2zm-2-8zm-3-5zm-6 0zm-2 0zm0-2zm-4-13zm-7-1zm-2 2zm-3-4zm-3-1zm-4-4zm-2 8zm-5 1zm-2-1zm-5-2zm1-2zm0-4zm-2-3zm-2 2zm2-6zm9 0zm1-13zm0-3zm2-12zm-12-1zm-1-3zm-5 0zm-4-1zm-2-7zm-3-6zm0-2zm-2 0zm-5-6zm-3-5zm-7-2zm4-6zm7-9zm-2-3zm2-3zm-2-4zm-6 1zm2 4zm-8 1zm-3-2zm-2-5zm-7 7zm-3 3zm-5 5zm-4 1zm-2-4zm-5 5zm-7-4zm2-8zm4 2zm12-2zm3-6zm0-6zm1-4zm-1-1zm-3 0zm-7 5zm-1-14zm-11 0zm0-3zm-6 4zm-1 5zm7 0zm-18-5zm-7-1zm-1 3zm1-11zm-11 1zm-2 2zm-8 2zm-3 4zm-6 6zm-9 0zm-6 0zm-1-9zm8-4zm1-1zm3-11zm7-12zm1-10zm-7 1zm5-9zm-2-3zm0-2zm0-1zm5-3zm3 4zm0 2zm2-3zm4-4zm1 1zm4 1zm2 5zm2 3zm5 0zm-2-4zm5-7zm4-4zm6-7zm2-10zm9-4zm-4-10zm-5 3zm-8-1zm-10 2zm5 8zm2 2zm-15-2zm-4 5zm-5 3zm-6 3zm-4-2zm-8-2zm-2 10zm-3 2zm-11-7zm-12 22zm-5 9zm-5 11zm-6-1zm-1-1zm-2-1zm-13-4zm1-6zm-4-3zm-2 0zm-3-4zm-6-4zm10-8zm17 10zm5-11zm-25 24zm1 13zm-10 1zm14 12zm10-5zm3 0zm2 8zm18-11zm14-1zm3-4zm-5 14zm-9 11zm6 5zm3 6zm3 2zm-3 5zm-3-3zm-5 8zm9 3zm0 9zm6 7zm6-12zm-1-8zm-2-4zm-1-3zm21 11zm-2 5zm-4 5zm1 1zm8 12zm2 3zm1-5zm3-2zm7-5zm5 3zm-2 5zm-3 4zm-6 3zm3 7zm1 9zm-5 6zm-5-10zm-13-6zm4-8zm-15 11zm-12-3zm-5-6zm-5 8zm-8-2zm3 13zm-12 9zm-20-5zm5-19zm7-1zm10-13zm5 2zm-8-7zm3-11zm8-1zm-9-8zm-5 0zm6-7zm6 3zm4-8zm-19 22zm-18 22zm55 36zm3 2zm-4 2zm-2 3zm6 6zm-6 7zm24 3zm3 1zm2 1zm7-1zm3 8zm14 5zm3-2zm13-3zm1-2zm3-7zm5 2zm1 8zm-3 8zm-6 4zm-9 12zm-3 0zm-8 9zm1 2zm1 8zm10 5zm1-3zm4-1zm0 6zm1 0zm-1 3zm7 4zm6-3zm-4-8zm-3-7zm4-6zm0-5zm3-1zm4-1zm3 3zm-1 2zm3-4zm9 2zm1-9zm2-3zm3 2zm6 3zm2 1zm-3 1zm2 4zm0 7zm5 2zm3 0zm6-3zm2-8zm1-4zm2-2zm3-2zm5-3zm1-5zm-5-1zm-4 4zm-8-3zm4-5zm15-1zm7 6zm7-6zm-1 13zm-3 2zm-4 1zm-1 4zm1 4zm3-1zm5 4zm7-8zm1 0zm7-4zm3 2zm3 0zm1-3zm3 0zm-1-6zm-8 1zm-1-2zm-1-5zm-4 7zm14 15zm1 0zm2-2zm1 1zm1 5zm-4 9zm-1 3zm-2-1zm-2-5zm-9 5zm-2 6zm-4 5zm-3-1zm-5-2zm-1-2zm-2 3zm-8-1zm-4-3zm-4-4zm3-2zm4-2zm2-6zm-2-3zm-3 1zm-3-2zm5-2zm-1-3zm-2-2zm-16-4zm-5-1zm3 6zm-15-12zm-4 0zm7-12zm-8-2zm-4-8zm0-7zm-10-4zm-3 2zm7-7zm-4-11zm-4-3zm5-2zm6 3zm6 1zm1 4zm1 3zm1 2zm3-7zm1 0zm0-3zm10-11zm2-2zm3-4zm5 3zm8 3zm8 4zm-11 10zm-5-6zm-6-4zm-12-10zm5-5zm1-10zm0-6zm0-3zm4-3zm3-5zm-1 18zm7 8zm-27-1zm-2 7zm2 1zm-6 2zm-3 2zm-6-10zm-3 2zm-5-2zm-3 2zm2-8zm5-5zm-3-5zm-7-8zm-7 3zm-3 3zm1 9zm4 0zm-2 5zm-3 4zm-2 2zm7 6zm-6 5zm7 4zm0 6zm7 0zm2 1zm5 3zm-6-10zm1-2zm1-1zm2 1zm9-20zm10-10zm-18-18zm-2-3zm-15 9zm-7-14zm0-6zm-7 2zm-2-3zm-7 0zm4 9zm0 15zm-21 44zm-5 5zm10 18zm6-2zm6 0zm9-1zm5-8zm10 8zm8 6zm43 8zm2-14zm-1-1zm1-1zm2-3zm15 3zm3-2zm6 4zm7 3zm-1 4zm0 7zm-15-3zm24-25zm9-18zm4-1zm8-2zm1-5zm6-1zm2 0zm0-5zm-4-2zm1-2zm7-6zm-4-4zm9 0zm3-5zm-3-5zm-1-3zm6-8zm2-8zm-15 4zm-5-1zm2-10zm-13-9zm-3-1zm0-6zm2-4zm-8-6zm5-10zm6 3zm3-15zm13-2zm7-4zm0-1zm13-1zm4-9zm7-4zm5 0zm2 0zm-4 8zm-2 15zm-5 10zm13 6zm6 6zm-7 8zm-2 9zm-3 2zm0 2zm-2 9zm7 2zm5 9zm12 10zm-2 7zm7 3zm10-3zm3-6zm-2-15zm-9-3zm11-8zm-5-5zm2-6zm-4-10zm10-9zm8 6zm7-1zm1-8zm7 3zm1 9zm3 1zm2 0zm0-1zm3 3zm3 1zm2 1zm1-3zm7 3zm8 0zm0 2zm-1 4zm5 6zm-5 2zm-1 5zm3 2zm9 2zm4 0zm3-4zm3 0zm0-2zm-4-6zm-5 7zm-2 13zm3 2zm-3 5zm4 7zm14-3zm2 12zm4 0zm5-1zm0 9zm1 0zm6 0zm4-5zm-2-3zm10-8zm2-7zm0-2zm3-4zm2 9zm2 11zm3 0zm0 3zm3 1zm-2 6zm-6-2zm-3 3zm-6 3zm-3 2zm4 2zm2 2zm-4 4zm-1 1zm0 3zm2 6zm0 7zm4 2zm4-7zm0-5zm-2-1zm6-1zm2 1zm2-4zm4-5zm0-3zm3 1zm0-10zm-1-1zm10 3zm1-8zm3-5zm0-6zm2-4zm-2-1zm-8-1zm-4 0zm0-2zm-2 3zm-4-12zm-1-6zm7-10zm12-4zm4-2zm7-4zm11 4zm4-4zm17 3zm12 2zm9 4zm-8 16zm9 6zm-5 6zm-2 0zm-11-6zm-5 4zm-2 4zm-1 0zm-3 0zm-11-10zm9-5zm-2-6zm14-3zm31 12zm9 15zm-10 6zm0 10zm6 1zm-1 6zm7 5zm2 4zm2-1zm1 5zm6-6zm0 17zm-7 3zm-2-4zm-9 1zm-2-3zm2-4zm-1-3zm0-1zm-10-7zm-2-3zm-4-7zm-4 2zm-4-5zm4-4zm-17-1zm-1 0zm-15-1zm-8 3zm-1 1zm-4-2zm-1-9zm-7-1zm6-8zm-5-16zm2-6zm-10 3zm-3 5zm-5-27zm2-5zm3-5zm3 1zm-1-5zm-2-3zm-4 2zm-3 1zm-3 7zm-6 8zm-1 0zm-4 7zm-2 2zm-3 4zm-4 3zm-5-10zm-1-7zm-1 0zm0-3zm4-4zm1-3zm3-3zm3-5zm1-2zm5-1zm2 2zm4 0zm-8 4zm0 2zm4-14zm-9-2zm-7-6zm5-4zm-3-5zm-6-4zm-5-1zm2 9zm-1 1zm3 0zm-6 2zm-5-5zm-5 1zm-1-2zm0-3zm-4 14zm6 4zm3 4zm5 5zm5 2zm3 2zm-6-11zm6-3zm-15 16zm-3-3zm-4-3zm-6 6zm-1 5zm0 3zm4 0zm2 1zm1 4zm5 2zm6 4zm3-4zm3 3zm-8 7zm-3 6zm-2 3zm7 9zm0 1zm0 1zm1 1zm3-2zm1 2zm1 7zm0 3zm-7-5zm-3-5zm-10 0zm4-24zm-16-6zm-5-10zm-1-7zm-3-3zm-4 3zm-1 8zm-1 1zm-5 0zm-1-1zm-4-5zm0-3zm-3-6zm-5-1zm-1-1zm-3-1zm-7-6zm-6 2zm1 5zm-6-6zm-3-4zm-2 6zm-5 2zm7 3zm-16-1zm8-21zm8-5zm-3-3zm9-3zm13-4zm2 3zm7-7zm9-7zm3 6zm7 11zm-2 15zm-9 8zm-6 1zm-1-3zm-7-4zm11-8zm5 24zm21 3zm1 8zm2-20zm0-4zm-4-2zm3-3zm9-25zm12-7zm17 10zm4 2zm16 17zm3 4zm11-7zm8 4zm-6 6zm1 5zm4 15zm3 1zm12-5zm-3-11zm0-7zm-55 64zm1 9zm-22 27zm0 7zm-2 2zm0 1zm3 0zm-4 5zm6 2zm-5 11zm-6 0zm-7 7zm-8 1zm-8-4zm-7-4zm-4 8zm8 7zm7 1zm4 4zm2 5zm3 2zm7 13zm12 2zm2 4zm0 1zm-6 5zm-3 0zm-5 5zm-6-4zm-9-6zm3-4zm-6 8zm-5 8zm4 5zm5 5zm4-1zm1 2zm1 0zm1 3zm1-6zm16 0zm0 8zm-4 10zm-8 0zm0 5zm1 5zm3-1zm0 6zm2 5zm1 2zm-9 4zm-4 0zm-4-1zm6-3zm1 12zm4 3zm1 3zm4 3zm1-3zm0-6zm-5 13zm-6 1zm-7 4zm3 8zm-4 1zm4 5zm3-3zm5-2zm3 1zm3 0zm-5 5zm0 1zm-2 1zm4 3zm0 2zm1 4zm-4-1zm-4 1zm-1 5zm-10 4zm-8-11zm-4-5zm-9-1zm-1-2zm-1-1zm-2 7zm-1 7zm-10-9zm-8-1zm-1 4zm-3-2zm-3-7zm0-2zm11 1zm5-6zm6-2zm2-8zm-3-2zm0-6zm0-2zm1 0zm2 0zm-9-7zm-3 0zm5-4zm8-3zm6-4zm3 5zm2-1zm1 7zm0 5zm0 12zm4 1zm-1 3zm4 6zm2-1zm0-10zm4-8zm8-2zm-5-6zm-8-13zm0-2zm1-4zm-7 5zm-7-7zm-3-2zm-2 1zm0 3zm-2 3zm7-9zm6 0zm10-3zm7 1zm4 4zm-16-14zm2-5zm-9-6zm1-4zm0-3zm3 2zm0-13zm-10-5zm3-6zm0-1zm3 1zm6-1zm4-12zm-1-2zm-6 1zm-1 0zm-5-4zm-7-6zm-6-4zm-19 5zm0 4zm-5 0zm1-7zm2-1zm-11 9zm3 7zm2-1zm-5 2zm-4 5zm-6-3zm1-5zm1-3zm-1-7zm3-1zm-11-3zm2-4zm-1-2zm5-6zm11-8zm10 5zm4-6zm8-11zm1-6zm13 4zm3-3zm-2-5zm-9-12zm-2-6zm-6-18zm0-6zm3-7zm4 1zm2-5zm2-3zm3-2zm-1 9zm9-3zm3 1zm1 7zm0 3zm-4-2zm3 10zm-1 2zm4-1zm9 5zm-3 5zm4 6zm1 8zm-2 6zm-3 1zm-1 5zm2 4zm-4 5zm-3 5zm14-9zm3-3zm2-5zm-2-1zm6 13zm9 5zm16 15zm4 1zm2 2zm3 2zm3-2zm-2-9zm-1 19zm10-2zm5 0zm4 2zm6-9zm11 4zm2 0zm4 3zm1-8zm7 1zm2 7zm3 5zm1 4zm3 0zm4-2zm-5-5zm3-5zm1-2zm-1-4zm-2 0zm2-9zm-2-1zm5-8zm3-2zm1-3zm3-2zm-4-7zm-7 5zm-1 1zm1 2zm1 0zm-3 1zm1 2zm-3 2zm-1-5zm-5-3zm-1 8zm-6 9zm-9 0zm6 30zm1 5zm6 1zm-3 5zm-2 8zm-3 7zm-1 0zm-1 4zm2 1zm-1 2zm0 7zm-5 1zm-5 5zm-2 3zm-4-4zm-6-3zm-3-2zm-4-1zm1-2zm-4-5zm-2-6zm-5 0zm-4 0zm-1 3zm-3 0zm1 5zm3 4zm6-20zm3-4zm7 1zm9 5zm1 6zm-1 1zm6-1zm2 3zm-2 3zm-2 2zm0 4zm-6-1zm-3-6zm18-8zm2-9zm-8-3zm-4 0zm0-9zm6 1zm19-3zm2-2zm1 1zm2 10zm2 11zm8 1zm6-4zm3 2zm6 3zm3-1zm2 3zm-2-8zm0-1zm-5-3zm-6-4zm3-5zm7 1zm1-1zm3 1zm7-5zm6-5zm3 0zm2-2zm4 2zm1 6zm2 2zm-1 4zm-2 1zm5 0zm7-7zm-3-4zm-10-10zm-3-1zm-8-2zm3-8zm2-1zm9-8zm3 4zm4-2zm-1-5zm-10-1zm0-5zm-4-1zm-3 1zm-1-2zm-5 1zm-10 0zm-8 10zm-4 5zm4 7zm-6 8zm1 2zm1 1zm12 6zm1-10zm14 22zm2 5zm5 3zm8 2zm8 12zm2 2zm0 7zm1 4zm7 0zm6 5zm6 2zm8 0zm4 6zm3 7zm5 0zm7 8zm10-5zm0 19zm2 7zm-3 8zm0 7zm6-1zm4 1zm5 15zm1 11zm0 5zm-5-1zm-2 10zm0 12zm3 4zm3-5zm8-2zm2-14zm8-14zm9-5zm11 3zm4-1zm0-3zm-1-1zm-2-5zm3-1zm2-2zm2-2zm-7 0zm-7 1zm-3-1zm-5-4zm0-5zm8 0zm-7-10zm-4 1zm-13-7zm-3-8zm-7 5zm-21 0zm-13 2zm-2-5zm-7 0zm-2 1zm3 5zm3 8zm5 4zm4-5zm7 6zm-6 10zm-8 5zm-3-2zm-5-2zm-6-1zm-5 8zm-7 0zm-3 4zm6 8zm-5 4zm5 3zm-4 4zm-4 1zm1 8zm1 2zm0 3zm5 0zm4-8zm5 0zm1 7zm0 3zm-4 8zm15-2zm2 2zm7-4zm-1-5zm6-2zm2 4zm2 2zm7 0zm2 4zm-8 4zm-3 12zm4 7zm-13-4zm0-7zm-1-1zm-8 11zm0 5zm-1 1zm-9-4zm-1 7zm-8-7zm1-1zm-3-8zm-6 0zm-11-2zm-11-1zm-8 0zm-5 3zm-1 0zm-4-1zm-8 2zm15 6zm9 12zm0 1zm5 14zm-2 7zm-4 1zm0-3zm-7-2zm-3 6zm0 4zm4-2zm4 6zm-1 2zm11 1zm5-2zm3-11zm5-3zm-7-5zm10-6zm4 1zm23 5zm1-5zm2 15zm-7 7zm-9 0zm-1 0zm4 7zm-7 11zm-7-3zm-1-4zm-4 1zm-12 2zm-6 9zm-1 0zm-3-4zm-12 6zm-5 6zm0 1zm-4-2zm-5-4zm2 11zm7 3zm10 4zm5-1zm19 5zm7-2zm5 3zm5-8zm0-3zm5 1zm0 5zm-12-7zm-6-4zm1-3zm-8-5zm24 0zm10 6zm10-12zm6 9zm7-8zm12 6zm-6 6zm-2 5zm13 1zm7-7zm-1-5zm-1-2zm-1-7zm0-1zm3-2zm6 3zm5 2zm8 7zm4-6zm17-9zm19 1zm-5-17zm3-3zm-8-25zm-9-1zm-6 0zm-1 8zm-4-1zm-15 11zm-6 5zm-3-5zm4 11zm0 3zm12-3zm-25 1zm-7-4zm-2 2zm-10-6zm-2-6zm-2 15zm-1 9zm-1 1zm21-2zm5 3zm-5 5zm-1-30zm-2-8zm7-1zm-2-22zm0-7zm25-4zm5 4zm5 2zm4 7zm-9 1zm13-14zm5 0zm9-10zm6 8zm11 8zm-7 10zm27 2zm12 1zm21 20zm18-5zm8 4zm3 2zm4-8zm10-2zm-1-6zm11 4zm0 5zm-5 3zm-5 4zm-1 1zm-9 7zm3 13zm9 3zm1 8zm8-7zm7 11zm-6 17zm-19-17zm-13-12zm-4-9zm-4 0zm-10 6zm58-12zm5-4zm7-9zm3-3zm-1-5zm16 5zm0 13zm11-1zm-28 19zm4 37zm-20-73zm-54-52zm12-16zm8-8zm4-22zm12 0zm11-1zm4-8zm-1-3zm10-14zm4-6zm-2-8zm9-2zm9-2zm2 6zm11 1zm6 3zm7 0zm-12-14zm-3-2zm11-9zm2 1zm1-1zm-2-7zm14 12zm-39-5zm-2 5zm-9-7zm-9 8zm-4-2zm-8 12zm-2 6zm2 3zm-11 1zm-1-1zm-8 2zm-7 1zm2 8zm7 3zm-16-4zm-2 3zm-4-2zm4 7zm2 4zm-12-30zm23-9zm53 26zm-120 70zm-6-8zm-16-12zm-3 4zm-1 18zm-14-4zm-10 6zm-2-4zm-5 11zm-52-12zm-3 0zm-3 2zm-1 0zm-3-9zm-6 3zm-3-6zm-3 0zm-2 3zm-5-4zm17-5zm0-5zm4 2zm3-3zm4-2zm9-2zm-9 14zm-3-2zm6 4zm-16 21zm-40 0zm-6-2zm-12 0zm-3 10zm6 4zm10-2zm-25-5zm-4-12zm0-9zm2-3zm5-10zm6 7zm4-5zm5-3zm4 4zm6 7zm1 1zm-20 5zm6-24zm6-3zm8 0zm1-2zm-2-5zm4-3zm2-1zm0-5zm2-6zm3 2zm-1-8zm-6-1zm-7 1zm-1 2zm-3-6zm-2-5zm-7 1zm-1 0zm-6 3zm-3-1zm-2-1zm-2 2zm0 1zm-2-6zm-2-6zm-5 3zm-8 3zm-1-6zm-2-3zm-3 3zm-11-5zm5-8zm-2-3zm-4-3zm0-3zm2 0zm0-8zm12-3zm1 4zm2 1zm0 1zm1 5zm-7 4zm-1 1zm3 4zm11 3zm3-6zm6 5zm2-7zm-2-5zm-1-5zm2-4zm0-5zm-4 1zm-3-1zm-4-4zm-2 4zm-2-1zm9 14zm14 8zm3-11zm-4-9zm6-2zm6-2zm6 6zm10-3zm2 11zm-1 6zm3 3zm5 5zm-1 2zm-7 7zm2 11zm14-3zm2 2zm3-1zm-3-9zm-2 22zm2 5zm1 2zm-6 5zm0 4zm18-6zm4 6zm-47-4zm-9 2zm-5-4zm-5 11zm5 2zm5-1zm-15-5zm-3-6zm-4-3zm-2-4zm-6 8zm8 3zm-15 9zm-2 5zm9 5zm-11 11zm-7 4zm-1-5zm6 16zm5 1zm0 16zm7 0zm-9 8zm-6-7zm-9-4zm-4 8zm1 9zm19 6zm10 24zm-2 13zm-2 9zm0 4zm13 1zm2 3zm3-16zm3-18zm-28 15zm-4-2zm-25-56zm0-3zm5 0zm-8-4zm2-12zm-2-7zm-6-1zm9-7zm-1-2zm-1-1zm-9-9zm4-3zm-8-4zm-2 7zm-3 5zm-7 1zm-6-3zm0-7zm-7-3zm-1 2zm-4 0zm-4 3zm-3 2zm19 15zm8-2zm1 5zm-2 4zm6-7zm-4-16zm-6-13zm2-4zm11-2zm5-12zm-3-5zm4-7zm1-6zm7-1zm1 1zm1 2zm2-7zm9-5zm10 22zm9 4zm0 3zm-6 14zm-6-1zm-3 2zm-1-3zm-4-13zm-6-3zm-6 0zm-1-1zm1 6zm5 3zm26 17zm44-21zm3 6zm-13-24zm8-4zm10-14zm4-3zm-14-25zm-3-3zm1-1zm-1-5zm-3 1zm27-39zm29-38zm7 95zm13 20zm109 105zm-276-3zm-2-4zm-53 10zm-4-6zm-7 6zm-9-10zm-10 6zm-3-3zm-5-9zm1-1zm-4 0zm-1-4zm-10 12zm-16-12zm-1-6zm-38 2zm0 2zm2 11zm-13 2zm-3 1zm-4-2zm-7 0zm-3-9zm-12 0zm-2-1zm5-9zm-3-4zm4-9zm-5-1zm0-3zm7-5zm4-2zm-2-4zm4 8zm7 4zm1 2zm7 2zm3-4zm5 0zm-2 8zm20-28zm15-5zm-20-27zm-6-1zm15-5zm3-3zm25-13zm3-4zm13 0zm-1 8zm6-1zm3 6zm-1 10zm-2 0zm4 2zm-9-3zm33-3zm3-1zm5 0zm-5-16zm-13-12zm-6-8zm3-5zm1-4zm-1-4zm5 10zm-41-9zm-1 10zm-14-6zm-6 1zm-5-12zm-2 0zm-8 14zm-4 0zm-2 4zm-2-1zm6 3zm-8-13zm-9 0zm-1 6zm-5-15zm6-5zm-1-27zm10-6zm3 6zm-5-19zm19-17zm11 8zm12 10zm-13 7zm0 11zm-3 10zm36-29zm8 9zm24 10zm57 25zm4 1zm0 1zm2 13zm2 1zm2 1zm-5 4zm6 4zm6-6zm4-6zm-9 57zm-7 12zm-51 39zm-27-14zm-3 68zm-70 14zm-1 2zm-33-15zm-1-5zm2-2zm-17 2zm-4-3zm0-7zm0-1zm-10 6zm4 9zm7 3zm3 0zm-21 2zm-12-2zm-2 4zm-12-8zm9-7zm4 0zm-6-9zm10-4zm3-12zm13 6zm-3-17zm-17-3zm0-5zm2-3zm1-2zm4-2zm3-3zm-5-6zm-7 0zm-8-5zm-4-2zm-4 0zm1 3zm0 7zm-6-3zm-5 2zm-3 2zm7 2zm0 2zm1 3zm5 4zm5 7zm2 5zm-3 11zm-11-10zm-9-5zm-6-4zm-5-7zm1-1zm-4 2zm-2 8zm-9 1zm-2 1zm4-10zm6-9zm6-2zm5 3zm12 11zm19-2zm-1-6zm-14-16zm2-3zm4-4zm-3-6zm-1-2zm-11 9zm-18 3zm0-8zm-9-3zm-6 2zm-3-6zm-4 8zm0 3zm1 0zm2 5zm1 9zm7-4zm-16 9zm-2 0zm-4-1zm-2 1zm-1 3zm-5 1zm-4-1zm0 2zm2-5zm1-4zm-4-1zm-2 1zm-5-5zm5-3zm-6-4zm-9 16zm-1 1zm12 11zm5-2zm3 6zm0 6zm-1 1zm-2-1zm11 1zm2-4zm6-1zm10-7zm-15-22zm9-37zm4-15zm56 19zm6-1zm7 7zm1 5zm4 7zm9 0zm-1 5zm-6 6zm14 5zm2-3zm3-2zm-3-4zm1-6zm13 6zm3 7zm-4 2zm1 2zm-1 2zm6 3zm-4 4zm-9 3zm-5-11zm25-1zm10-15zm0-4zm2-4zm3-5zm2-1zm-20-107zm-1-4zm3-1zm4 1zm-7-8zm0-2zm-5-5zm13-2zm-8-14zm9-3zm1-6zm-15-1zm-7-5zm0-3zm-4 1zm0 1zm-6-7zm0-4zm4-11zm-6-11zm6-4zm-4-4zm-7 1zm-3 1zm0-5zm-9-2zm-7 6zm0 1zm2 6zm-2 9zm-5 0zm-6 1zm-7-2zm-7-4zm-8-11zm-1-3zm-8-1zm-7-6zm-2-5zm2-2zm14-5zm-3-5zm7-6zm1 0zm11 7zm1 0zm-4 7zm-9 8zm13 4zm3 4zm8 1zm2-20zm-4-12zm12 1zm5-7zm5 2zm0 3zm10-7zm2 4zm7 2zm9-7zm3-10zm0-10zm4 0zm-5-4zm4-8zm1-4zm-6 3zm-5 1zm-4-1zm-3-1zm-12 0zm-3 12zm-9 4zm-4 1zm1-4zm-4-4zm-2 22zm1 1zm26 18zm8 9zm-2 7zm4 9zm10-6zm-3-7zm16-19zm2-2zm-2-15zm-28-12zm-16 46zm2 24zm-1 11zm-3 6zm-1 1zm3 5zm-6 3zm-5-2zm-6-5zm-38-19zm-11-6zm-5-5zm-10-6zm-5-9zm0-15zm-2-5zm-4 1zm11-1zm14-33zm-3-4zm11-9zm6 5zm10-5zm11 4zm-29-15zm-4-15zm-8 0zm-3 20zm102 124zm10-3zm21-15zm10-15zm4 3zm20 14zm32 11zm2 1zm25 2zm7-8zm30 15zm-78-52zm9-23zm7 4zm4-26zm1-3zm18-24zm11 7zm3 7zm20 7zm3-3zm4 1zm2-7zm16 2zm-28 13zm-98 11zm-2 9zm-58 95zm-2 1zm10 33zm-174 136zm-4 1zm170 121zm8-4zm11-8zm0-3zm15 17zm-1 25zm-1 31zm1 6zm7 9zm10 3zm-20 8z" stroke="#1f77b4" stroke-width="5.5" stroke-linecap="round" fill="none"/>
<path transform="scale(0.2)" d="M1367 3509zm7 2zm4-2zm6-7zm-3-8zm-9-2zm1 9zm5-18zm-7-10zm1-1zm6-3zm12 8zm6 1zm3 5zm-6 3zm2 4zm0 2zm0 3zm1 1zm5-4zm2 6zm5 2zm4 7zm1 7zm2 5zm8-3zm-8 12zm3 8zm-5 2zm0 1zm-1 1zm-1 4zm-12 3zm0 5zm-12 5zm-2 0zm-5-5zm1-1zm-8-7zm2-15zm-2-1zm7 1zm6 4zm4-15zm4-1zm6 3zm1 7zm1 7zm21 0zm4 2zm24 8zm11 0zm2 4zm7 7zm0 1zm-6 4zm-6 8zm16-1zm8-12zm5 0zm3-13zm-2-1zm-14-3zm-10-9zm2-15zm2-3zm-1-12zm-6-9zm-6-7zm-2-8zm2-3zm2-4zm6-2zm17-1zm15-9zm5 17zm6 7zm11 4zm14-9zm8-3zm2 7zm5 2zm8 20zm-9 12zm3 6zm-13 4zm-7 4zm-1-1zm-8 1zm-1 1zm-3-4zm-6 4zm-4 6zm11 0zm11 5zm1 3zm10 2zm3-1zm-6 17zm-11-2zm-8-6zm-5-1zm-14 13zm0 1zm8 10zm4 1zm12 4zm3-2zm-2-3zm2 12zm-2 2zm0 10zm-20-5zm-10 14zm-4 7zm6 8zm-2 6zm10-17zm-25-9zm-4-20zm8 0zm-38-5zm-6-3zm-12-11zm-7 15zm2 4zm5 4zm-10 5zm-12 4zm-18-22zm49 26zm5 33zm16-7zm9 7zm59 20zm0 9zm8-4zm5 13zm26-9zm2 9zm3 2zm5 7zm-9 5zm17-14zm4-15zm1-1zm2-8zm7 4zm3 4zm7 9zm0 15zm-7 5zm11 7zm9-1zm1 0zm1 1zm6 4zm1 3zm-2 5zm4 6zm3-3zm6 2zm2 8zm2 12zm-8 10zm-4 7zm-9 4zm-4-2zm-1-3zm-2-4zm-7-3zm-3 5zm-2 4zm1 5zm5 5zm-3 5zm-7-5zm15-4zm0-2zm6 5zm0 2zm-1 4zm7 9zm-13 8zm14-42zm-2-5zm-7 0zm-9-1zm-1 0zm0-2zm4-5zm-9-4zm-3-1zm5-3zm-4-3zm-3-2zm-2-6zm8-3zm2 3zm4-2zm6 0zm2-1zm-7 7zm10 8zm3 1zm-2 5zm3 2zm27-15zm4 2zm2-8zm5-2zm4-5zm-5-3zm3-9zm-3-1zm-4-7zm-1-3zm11-1zm1 4zm6 5zm0 1zm13-9zm2 4zm5-16zm1-4zm5-3zm12-1zm4-3zm-4-4zm6-3zm10-8zm9 1zm3-10zm-1-7zm-11 5zm-2-8zm5-7zm-14-2zm-9 13zm-11-5zm2-12zm3-9zm-7-9zm3-3zm4-4zm2 0zm12-9zm-10-7zm14-7zm0-12zm1-1zm-15 2zm0-6zm-6 1zm-20-13zm-6-5zm4-3zm5-5zm-3-4zm4-3zm-6-9zm-5 2zm-6 0zm-1 4zm-7 7zm0 6zm3 9zm-11 2zm-5 6zm-4-6zm-11-2zm-4 5zm-2 7zm-17 8zm-1 1zm-16-6zm-1 3zm2-17zm5-18zm-1-7zm6 1zm-4-10zm-3-1zm-4 5zm-6-5zm-10-10zm7-12zm6-12zm11-10zm11-4zm4 7zm7 0zm1 3zm1 1zm9-2zm4-2zm2 0zm1 1zm1-2zm-3 6zm0 6zm0 4zm-1 1zm-2 0zm6-1zm1-4zm4 4zm7 4zm-1 6zm-2 0zm-6-2zm-1 2zm-2-2zm-3 8zm-6 3zm1 4zm-5 0zm-2 0zm-1 1zm-5 6zm-1 4zm-4-6zm0-4zm2-4zm6-4zm-1-3zm2-1zm3-3zm3 3zm-4-10zm3-4zm4-4zm-4-16zm2-4zm-4-4zm-1 0zm2-2zm1-1zm-2-1zm-7-5zm-2 6zm-2 2zm4 5zm4 2zm13-10zm4-2zm0-3zm0-2zm-5-4zm-13-3zm-6 0zm-5 1zm-3-21zm5-1zm2-2zm9 1zm9 2zm-5 7zm14-6zm11 5zm5 0zm3 3zm5 1zm-1 5zm5 2zm8 0zm-2-8zm-2-4zm3-1zm1 1zm0-4zm2-6zm0-2zm5-1zm4 2zm3-1zm7 2zm0 3zm3-2zm0-1zm8 3zm2 0zm-5 5zm5 5zm5 2zm5 2zm7-6zm-7-5zm-5 3zm-9 10zm-7 4zm-3 5zm1 7zm6-1zm3 4zm2-4zm7 1zm7 2zm9 8zm12-13zm9 1zm10-4zm10 0zm11 3zm-12 10zm-3 13zm-5 12zm-30-2zm-4-2zm-14 10zm-16-6zm-5-7zm-4 8zm-3 0zm-2-8zm-2-2zm1-3zm-13 0zm-9-4zm-4-2zm-3 2zm-4-1zm-2-4zm1-1zm-2-4zm-4 0zm-5 3zm11-7zm0-5zm5-3zm3 4zm6 0zm0 6zm1 1zm-4-1zm-2 0zm-5 2zm6 4zm3 0zm10-5zm-1-10zm17 6zm5 8zm6-2zm4 0zm8-16zm-20-6zm-12-7zm4-8zm6 1zm0-18zm-2-1zm3-3zm5 0zm3-1zm3-4zm3 3zm-2 5zm2 3zm0 1zm6-12zm9-10zm3-7zm-3-3zm-4-2zm-6 2zm-5 0zm-9-5zm-7 7zm0 2zm5 6zm5 0zm-2 7zm-20-9zm-6-4zm2-11zm2-3zm8 1zm1 0zm1 5zm-15-16zm-10 11zm-3 14zm-2 0zm-2 2zm-8 2zm-4-2zm-3-5zm-3 3zm-5 6zm-6 5zm6 4zm0 7zm-2 4zm-1 3zm8-1zm4-1zm6-4zm0-4zm6-6zm1-1zm9-2zm-1 8zm-4 3zm1 1zm3 1zm2 12zm-2 6zm-7-6zm2 19zm-2 2zm2 37zm-2 3zm-3 2zm-1-5zm13 9zm1 10zm-7 9zm3 8zm-6 5zm-3 2zm1 6zm3 1zm-1 2zm-7 7zm-1 2zm-7 3zm-1-10zm-4 0zm9-13zm24 3zm4-5zm3-9zm7-5zm3 11zm-2 2zm4 2zm-3 3zm6-8zm10 25zm29-6zm23 32zm2 0zm9 3zm8 7zm4 4zm12-3zm4 6zm3-3zm15-3zm2-6zm5-4zm2 1zm0 2zm8 7zm7-4zm2-6zm8 10zm-8 4zm-2 4zm-1 0zm2 2zm9 4zm1-1zm1 1zm6 4zm-1 3zm-5 5zm-2-1zm-1 1zm2 9zm-9 5zm-4 1zm2 8zm4 6zm-4 4zm5 2zm-2 4zm6 4zm1 5zm3 1zm-1 2zm3-6zm8-8zm5-13zm9-8zm11 3zm13-15zm-14-7zm0-7zm-7 2zm-5 5zm-10-2zm-3 14zm-12 13zm-1 0zm-15 7zm-6 7zm-1 0zm0 3zm7 9zm0 4zm-3 1zm0 5zm0 2zm5 2zm-2 5zm-9-7zm-9-1zm-1-7zm7-1zm-14 6zm4 9zm-2 4zm12 1zm7 9zm1 5zm4-3zm1 2zm3 8zm4-2zm6-3zm2 6zm-5 5zm11 5zm0 1zm7 9zm10 6zm1 1zm1-4zm6-2zm-4-9zm11 1zm3-11zm-8-8zm0-10zm1-15zm-7-1zm-10 8zm-3 4zm-2-4zm-3 4zm0-10zm5 1zm-11 1zm-9-4zm3 13zm25 21zm32 8zm-1 11zm-1 3zm10-5zm0 11zm9-1zm7 2zm1 4zm4-7zm-5-3zm-3-5zm6-10zm0-2zm5-4zm2 0zm-4-5zm3-4zm3-2zm0 4zm11 0zm1 4zm7-2zm2-11zm8 1zm3 5zm-2 2zm6-4zm-4 11zm-5 5zm-1 2zm1 2zm3 1zm11-2zm6-4zm-4-4zm8-13zm5 2zm-1-6zm-2-5zm-1-9zm1-4zm6-1zm2 4zm-2 1zm-14-3zm-3-2zm1 8zm-9 3zm-7-5zm0-2zm-11 5zm-3-10zm4-9zm2-4zm6 6zm8-4zm6 1zm13-8zm6 8zm6-2zm4-5zm9 7zm9-10zm-5-4zm1-5zm-5 0zm1-3zm-8-4zm17 1zm3 0zm10-1zm6 14zm12 2zm3 9zm1 5zm2 0zm10 1zm7 4zm7 1zm2 1zm-1-7zm1-7zm-5-4zm13 22zm-7 5zm4 7zm-7 1zm0 1zm-4-2zm6 7zm0 3zm-5 6zm-3 2zm-1-6zm-9 5zm2 3zm-1 7zm1 6zm-4 2zm-3-2zm-9 2zm-2 11zm-4 7zm0 4zm-2 2zm9 1zm7 3zm1-5zm0-7zm-4-1zm7-3zm1-2zm6-3zm4-2zm-1 10zm2 5zm-5 1zm1 7zm9-6zm3 3zm3-9zm-1-2zm-6 2zm5-16zm7-14zm12 0zm2 1zm0-4zm-5-6zm0-8zm2 0zm7-15zm-3-17zm6 0zm10-11zm-2-4zm5 0zm-7-8zm-4-6zm5-4zm-6-5zm3-15zm14-7zm6-10zm3-12zm6 3zm4-8zm4 3zm-1 12zm7 0zm1 1zm-14 12zm-9 12zm-2 7zm-3 4zm5 2zm3 1zm5-10zm16-3zm-47 31zm-62 36zm-6-7zm-12 2zm-4-1zm-8 0zm2-9zm0-11zm-18 19zm4 9zm7 3zm3 6zm2 0zm-2 4zm8-3zm8-1zm3 3zm0-7zm10 8zm3-5zm-1 15zm-1 0zm5 3zm-13 4zm-1-11zm-11-1zm-16 2zm-7-1zm-8-2zm-6 5zm-3 15zm-4 2zm13 0zm9 5zm2-6zm5-5zm4 0zm-4-5zm14 16zm4-1zm5 3zm-10 11zm2 4zm-5 5zm-2 3zm2 1zm1 5zm-13-6zm-2-1zm2-6zm-3-6zm-5 1zm-1 8zm-1 6zm4 14zm6-3zm-20 5zm-3-6zm-11-8zm-5 3zm-5-11zm3-17zm1-6zm-16 6zm-5 7zm-2 7zm-3 17zm3 12zm-5 7zm-1 11zm-22-5zm-18 8zm-9 1zm2-8zm8-13zm-18 0zm-20-3zm-1-11zm-12-5zm-9-10zm63-40zm-1-4zm-1-3zm7-2zm7-3zm-2 11zm17 9zm-2 13zm-2 21zm-12 9zm-20-70zm-3-10zm2-7zm8-7zm3-6zm-5-6zm-12-3zm-12 4zm3 6zm-7 0zm-2-2zm-2 4zm-1-8zm39 32zm3 0zm12-2zm14-27zm-6-11zm10-3zm15 0zm6-5zm11-8zm5 5zm1-1zm-2 5zm8-24zm5-5zm0-11zm-20 12zm-16-2zm-6-8zm-31 11zm-2 15zm6 22zm-66-57zm-4 2zm4-22zm7-28zm-10-7zm-8 0zm-28 16zm-9 3zm-15 0zm-11 0zm23 15zm16 25zm-4 14zm2 2zm7 1zm3-1zm-4 10zm-9-2zm-1-2zm-4 3zm2 3zm1 5zm-5 7zm-6-7zm-1-10zm-4-5zm-5 2zm-2 3zm-10 4zm-13 5zm-4 3zm-3 5zm-7 6zm3 10zm1 4zm8-1zm-2 10zm11 1zm1 0zm5-6zm8 17zm9-28zm1-2zm3 1zm4 0zm0-36zm-17-6zm-17 5zm-21 9zm-8-3zm-11-15zm8-9zm11 0zm-8 43zm-10-2zm20 32zm-22 23zm-31-11zm-8 7zm-8 4zm-2-1zm2-11zm-9-22zm1-5zm-8 1zm-1-7zm-10-7zm-7 5zm-2-2zm-9 8zm-10 6zm-9 2zm-11-12zm-5-13zm-4 0zm-7 1zm-13-1zm3 15zm8 10zm-4 11zm-7 6zm1 4zm-2 0zm-2 8zm-15-2zm-1 3zm-3-7zm16-10zm3-3zm-24-16zm-6-6zm14-8zm6-16zm-13-7zm36-1zm27 9zm4-8zm3-8zm4-1zm17 6zm8 13zm9 2zm2-4zm7-3zm2 4zm-2 7zm8 6zm-11-24zm-1-19zm5-9zm2-4zm-55-28zm-18-18zm1-8zm2-2zm0-6zm-7 2zm4-10zm10-1zm0 3zm6 1zm-2 7zm-40 26zm-54 12zm-23-7zm-1-2zm4-7zm1-2zm-6-10zm-5-2zm2-3zm-8 10zm-6 4zm0 2zm0 3zm6 2zm-2 17zm-2 4zm-28-8zm3-12zm-2-6zm-9 1zm0 7zm-11 0zm-3-7zm-2-3zm-6 2zm-3-10zm1-8zm1-3zm1-9zm6-3zm3-4zm6 3zm-2 5zm8 6zm-4 11zm-10 2zm-17 6zm-6-3zm-17 0zm7 15zm3 7zm-14 2zm7-46zm12-3zm0-8zm10 7zm1-1zm-3 7zm-17-30zm-2-6zm-2-9zm5-8zm10-6zm-3-11zm1-5zm8 0zm-14-7zm-1 0zm-7 0zm-6 11zm8 6zm-11 19zm31 3zm5-3zm5-2zm17-10zm25-6zm-12-20zm2-15zm-9-10zm-15-1zm-7-7zm1-4zm-10-9zm6-6zm6-10zm1-3zm4 1zm6-13zm-3 29zm15 3zm3 4zm6-10zm20-12zm-11-16zm30 0zm1-3zm7 5zm28-8zm3 1zm9-7zm6 2zm-2 7zm9 0zm0 1zm5 1zm1 3zm3 1zm0-9zm16 2zm3 5zm-4 11zm4 12zm9-10zm3-10zm8-15zm-6-11zm-6-5zm-4-8zm8-9zm20 21zm2 2zm1 3zm2 0zm4-3zm14 9zm12 7zm-3 4zm11-4zm7-12zm8 14zm7 0zm10-4zm7 1zm3 1zm0-3zm15 5zm2 12zm3 5zm4 5zm0 3zm-6 6zm-1 0zm4 3zm2 4zm5 0zm5-3zm3 3zm6 6zm3 2zm-4 4zm10 0zm3 6zm0 6zm10 0zm0-6zm-1-7zm-5 0zm-1-5zm5-3zm7 1zm9 4zm5 7zm4 3zm8-7zm9-15zm5 3zm6-10zm7-2zm8-1zm5 3zm-13 17zm11 13zm11 8zm4 1zm0-12zm5-14zm10 17zm11 2zm9 8zm5 4zm3 1zm4 3zm3 10zm8 5zm2-2zm2-2zm-1 6zm-10 3zm-7-2zm-4 5zm-2 7zm-4 1zm5 8zm13-6zm2 18zm-3 4zm16 9zm5 11zm0 2zm9-13zm4 1zm0-14zm-6-2zm-4 1zm-1-26zm9 1zm-16-18zm-3-2zm-26 10zm-14-8zm-1 0zm2-3zm-5-5zm-8 7zm-11 4zm5 12zm-19 15zm-14 3zm-12 0zm-7 8zm2 9zm-2 4zm-1 29zm4-66zm3-2zm-5-2zm13-11zm3 5zm8-15zm-13-7zm-3 7zm-15-6zm-4 12zm-4 1zm-4-2zm-2-3zm-6 3zm-8-9zm9-9zm-14 27zm-6 8zm-16 8zm-3 6zm-4-8zm2-6zm-1-19zm5-11zm3-6zm-10-2zm-4 6zm1-13zm-11-10zm-6-5zm-1-9zm-3-8zm-7-4zm-4 2zm-13 0zm-1-1zm1-38zm0-11zm7-3zm5 0zm3-5zm5-8zm5 2zm10 1zm4 6zm-9 4zm-7 1zm-1 2zm1 4zm1 3zm-13 0zm-4-21zm5-4zm34 4zm5 1zm6 11zm5 13zm8 3zm6 2zm1-4zm3 3zm1-6zm5-2zm9 1zm1 2zm0 7zm-9 16zm2 7zm-4 4zm13-4zm3 3zm5-2zm3-1zm7-1zm4 8zm-5 6zm-9 4zm24-11zm-17-16zm-40 22zm-3-3zm-1-1zm-2 6zm6 4zm2 8zm5-2zm-17 5zm1 6zm-7-14zm1-5zm-3-2zm1-4zm-6 6zm1 2zm-2-27zm6-1zm-4-14zm-11 9zm-4-5zm36-23zm-39 114zm2 7zm-52-20zm-28-26zm-8 0zm0-4zm1-4zm10-4zm3-7zm-23-6zm-1 14zm0 5zm4 7zm-10 1zm-4 7zm7 2zm-19-12zm-12 3zm-2 21zm10 8zm4-6zm3 4zm12 10zm0 2zm-24 10zm-37 23zm-7-33zm-7-4zm-37 13zm-35-17zm14-29zm12 7zm27-15zm4 0zm16-2zm15 3zm7-6zm0-5zm16-34zm10-2zm-20-9zm-1 0zm-4-2zm-8-2zm-2 1zm-9 8zm-6 0zm-2-16zm-2-3zm4-2zm-16 12zm-15-11zm-4 2zm0 1zm1-12zm8 2zm-22 1zm-7 9zm-4-14zm85 14zm-167 39zm-13-3zm-4 18zm-3 17zm-1 4zm8 1zm8 8zm8 2zm2 0zm4 2zm-8 3zm2-15zm13 20zm3 7zm-1 3zm-9 0zm-6-54zm45 117zm14 5zm4-7zm-3-3zm50 19zm15-7zm-83 107zm-4 0zm91 62zm75 20zm3-5zm17 6zm12-6zm0 12zm17 8zm8 1zm-7-15zm9-22zm-36-23zm1-4zm3-2zm-5-6zm-12 70zm0 4zm4 4zm11 19zm-21 1zm34 18zm3-1zm34-38zm20 8zm284 29zm14-49zm4-71zm37 141zm61-19zm-1-6zm8-6zm-2-2zm9 5zm3 1zm4-1zm-3-4zm-2-7zm11 4zm12-8zm6-2zm2 6zm-3 9zm7 4zm8 2zm2 9zm-2 4zm-4 9zm2 1zm-6-1zm-4-7zm-6-3zm-4 1zm-2 4zm-3-2zm-14-9zm-6 3zm-4-3zm-2 1zm7-7zm44-23zm5 6zm4 8zm4-1zm6-1zm2 0zm1-5zm3 10zm3 3zm5 5zm-3 11zm4 3zm3 1zm1-3zm7 5zm-1 2zm6 3zm-6 4zm2 9zm-12 5zm3 5zm1 7zm-14-1zm-7-1zm6-7zm-2-6zm4-1zm2-12zm-2-7zm-6 2zm-4 0zm-3-4zm3-4zm2-4zm-3-6zm32 6zm8-10zm10 6zm-5 14zm-34 43zm-18-8zm-2 8zm-6-14zm-5-7zm4-6zm50-182zm-41-29z" stroke="#ff7f0e" stroke-width="5.5" stroke-linecap="round" fill="none"/>
<path transform="scale(0.2)" d="M1377 3502zm9 2zm32-16zm0-2zm11-10zm-13-11zm12-19zm6 2zm20 5zm3 17zm22-6zm-5 28zm-27-1zm2 35zm-16 5zm32 9zm8 13zm7-24zm46-52zm25-3zm18-8zm9-6zm1 17zm-9 30zm-16-55zm-35-42zm18-35zm-6-19zm27 6zm25-13zm7 42zm35-58zm9-34zm-9-18zm-43 25zm-7-11zm-27 6zm-27-17zm-12 29zm-17 31zm-10 11zm-10 17zm30 2zm-57-21zm18-31zm-42 87zm-21 20zm9 9zm50-3zm-79-42z" stroke="#fff" stroke-width="4" stroke-linecap="round" fill="none" opacity="0.8"/>
<path transform="scale(0.2)" d="M1429 3594zm15 33zm13 1zm8 0zm46-11zm0-15zm16-10zm14-7zm-5 22zm-19-33zm-22-3zm-28-17zm33-22zm38-12zm23 45zm11 8zm10-9zm-4 31zm34-12zm3 48zm25 0zm6 2zm2 6zm11-20zm4-31zm21 6zm15 11zm6-20zm-3-38zm-39 1zm2-33zm-14-1zm-25-29zm-32 21zm-11-15zm20 164zm2 21zm5 13zm27 5zm0 17zm4 9zm-12 31zm-25 3zm13 21zm50-86zm4-15zm63-50zm23 5zm-207 33zm-5 9z" stroke="#fff" stroke-width="4" stroke-linecap="round" fill="none" opacity="0.8"/>
<path transform="scale(0.2)" d="M1652 3411zm2-7zm9 11zm10 4zm5 1zm-7 4zm7-31zm22-6zm8-13zm19-14zm10 5zm-3 4zm16-11zm-3-8zm6-6zm16-10zm-5-8zm3-8zm10-2zm14 1zm13-9zm3 10zm-25-38zm-20-2zm0 7zm-18-1zm-4 5zm-10-1zm-1 5zm-12 4zm16-17zm-8-15zm-19 7zm-2-12zm-15 11zm-6 2zm-2 6zm12 32zm3 9zm3 4zm15-1zm4-1zm9 1zm6 8zm20-24zm-55 40zm-18 7zm-10 3zm3-40zm-1-2z" stroke="#fff" stroke-width="4" stroke-linecap="round" fill="none" opacity="0.8"/>
<path transform="scale(0.2)" d="M1671 3425zm13-8zm13-24zm1-1zm-10-19zm23-29zm17-3zm32 6zm11-12zm26-17zm19 10zm-3 35zm23 2zm13 24zm4 24zm-17 10zm-7-6zm-35-32zm-18 34zm-42 3zm-7-8zm-5-5zm-5 4zm-6 40zm-1 15zm22 4zm45-1zm1 8zm-10 27zm-11 28zm2 7zm-23 2zm0 12zm-25-25zm-30-45zm127-3zm13-2zm23-18zm8 16zm22 3zm6 11zm19-10zm12-9zm-8-7zm-10-7zm24-22zm2-1zm-4-3zm12-18zm-121 98z" stroke="#fff" stroke-width="4" stroke-linecap="round" fill="none" opacity="0.8"/>
<path transform="scale(0.2)" d="M1748 3590zm29-10zm27 5zm13 0zm22 29zm-11 28zm4 26zm26 3zm11-27zm45 10zm7 8zm17-2zm-16 33zm-8-2zm-9 38zm3 27zm30-31zm19 20zm24-23zm16 3zm12 7zm27-20zm-24-19zm-6-52zm12-6zm-5-21zm-3-1zm-23 12zm-21-1zm-11-11zm-33 10zm-9-40zm-31 16zm-22-14zm1-33zm-15-5zm-4 7zm36 2zm5-13zm3-28zm-16-11zm-11 0zm2 10zm64-5zm10 2zm51 71zm58 32zm34 52zm19-10zm-231 50z" stroke="#fff" stroke-width="4" stroke-linecap="round" fill="none" opacity="0.8"/>
<path d="M328.6,654.0C329.5,652.9 333.0,653.2 333.8,654.5C334.6,655.8 333.6,659.6 333.2,662.0C332.8,664.4 332.0,667.0 331.6,669.0C331.2,671.0 330.9,674.2 330.6,674.0C330.3,673.8 329.9,670.2 329.6,668.0C329.3,665.8 328.8,663.3 328.6,661.0C328.4,658.7 327.7,655.1 328.6,654.0Z" fill="#fff" opacity="0.92"/>
<path transform="scale(0.2)" d="M1623 3337zm1 6zm4 3zm0 4zm3 4zm5-5zm1-3zm1 0zm3-3zm4 0zm-3-6zm-6 3zm-1-3zm-2-2zm2-2zm0-3zm1 0zm2 0zm-12-3zm6 14zm9 11zm21 4zm7 0zm-4 7zm-2 9zm1 1zm-12 3zm-7 19zm-3 0zm-3 2zm-3 2zm3 3zm1-1zm4-1zm-5-8zm-9 5zm-4-1zm-1 15zm9 4zm3-2zm1-1zm12 0zm3-7zm5-2zm19-26zm1-17zm0-1zm0-1zm0 77zm-9 4zm-3 10zm1 2zm-4-2zm-4-3zm-4 0zm-3 2zm0 2zm2 3zm-5 1zm-4-1zm-1 4zm-4 2zm-5-3zm-3 3zm16 1zm2 0zm11 3zm2-6zm-10-15zm1-1zm2-1zm1-1zm-11 8zm-6-10zm-4 1z" stroke="#fff" stroke-width="4.5" stroke-linecap="round" fill="none" opacity="0.85"/>
<path transform="scale(0.2)" d="M1375 3355zm6 8zm4-11zm6 1zm-2-6zm-1-2zm-9-3zm23 6zm2 5zm-3 2zm-2 0zm6 3zm1 4zm-1 3zm-4 3zm0 1zm-1-3zm-1 0zm10-10zm-1-2zm45 52zm9 5zm3 0zm3-1zm6 1zm-6 6zm-6 2zm-6-1zm-6 0zm-8 1zm16 8zm1-2zm5 0zm10-5zm-9-16zm27-30zm7 1zm1 2zm2-2zm3 2zm-1 2zm1 2zm4-7zm0-9zm0-5zm-9 0zm-2 2zm-5-7zm-2-2zm6-4zm4 1zm0 3zm-4-9zm-3 2zm24 25zm49-46zm4-3zm8 2zm3 0zm0-1zm1 0zm2-2zm-6-1zm1 7zm-23-19zm1-13zm-2-6zm0-1zm-2-1zm-3-4zm8 3zm4 1zm0-3zm-2-4zm9 4zm0 2zm-2 13zm-17-5zm-9-5zm59-11zm1-6zm5 1zm0-2zm4 4zm2 2zm24 164zm1 4zm-1 5zm0 2zm-1 2zm-5-1zm3-4zm-1-6zm-7 3zm3 14zm-18-8zm-10 4zm-8 15zm-14 2zm-2-5zm4-5zm-1-2zm-7-5zm-9-2zm-1 9zm0 3zm7 13zm-24 20zm-2 1zm4 3zm1 2zm1 1zm4 1zm-6 5zm-2 1zm-2-3zm-3-1zm-3-2zm1-3zm-5 4zm-8-2zm-2 3zm-2-3zm-5-4zm-9-8zm-1-1zm-1-1zm2-3zm-1-1zm-3 1zm-2 0zm0-3zm-2 0zm4-4zm2 2zm2-1zm1-3zm2-2zm2 3zm2 2zm-1 2zm-2 3zm3 1zm3-4zm3 0zm0-2zm-4-2zm13 1zm8 1zm0-7zm-2-7zm4-1zm-13 0zm-1 0zm-32-18zm-6-1zm-2-1zm0-2zm-1-2zm6-1zm3 0zm-4 13zm-4-2zm-3-2zm-2 0zm1-2zm-1 5zm1 4zm0 5zm4 3zm-11-8zm-9-1zm26 32zm6 5zm-7 16zm-6 5zm-2-4zm-5-2zm-3 1zm0 3zm-4-2zm-1 1zm-9-1zm23-6zm20 11zm2-3zm10 3zm5-2zm5-3zm60-69zm57 0zm2 0zm-4 35zm-1 0zm0 3zm-9 1zm-3 3zm-4 6z" stroke="#fff" stroke-width="4.5" stroke-linecap="round" fill="none" opacity="0.85"/>
<path transform="scale(0.2)" d="M1415 3604zm1 1zm0-3zm1 0zm0-4zm-1 0zm2 10zm46 33zm12 3zm2-3zm5 0zm0 5zm-5-14zm-3-1zm1-3zm35-26zm9 10zm5-3zm2-3zm5 9zm9-3zm-1-5zm-33-27zm3-7zm1 0zm3-1zm-6-3zm-2-3zm-1 0zm-3 3zm-3-3zm-3 6zm0 1zm0 2zm16-30zm-2-5zm-2 0zm4-1zm3 1zm1-4zm6 2zm1 3zm2 1zm1 2zm-7 0zm8-10zm7 3zm-2 3zm29 7zm3-3zm2 0zm2-4zm0-5zm5 9zm4 1zm5 0zm8 1zm8 0zm-1 7zm0 3zm-4-2zm-1 1zm9 3zm2 3zm8-11zm5 4zm2-5zm10 5zm1 4zm0 3zm2 2zm0 1zm2-1zm1 0zm-1-1zm1-1zm-6 3zm5-15zm55 3zm1 2zm7 1zm3 0zm4 2zm1-7zm-1-1zm-7 1zm0 11zm-7-23zm31 36zm-1 5zm3 1zm0 3zm4-3zm0-2zm0-1zm0-2zm3 0zm1-1zm2 2zm-3 5zm3 2zm-5 4zm12-9zm15 41zm5 4zm-55 1zm-2-2zm-3 5zm4 1zm-2 4zm-5 3zm2-18zm-28-2zm0-4zm-12 3zm-3 0zm-2 2zm-2 1zm3 4zm-7-9zm-5-1zm-10 6zm0 3zm1 0zm0 1zm-1 2zm-1 1zm-1 0zm-5 2zm8 5zm-5-14zm-4-6zm-3 2zm-20 19zm-1 2zm-1-3zm-2-3zm-2-5zm-3 10zm4 4zm1 8zm1 1zm2 1zm2 1zm1 3zm2 2zm3-5zm1 0zm-14 1zm11 61zm-4 5zm-2 1zm2 7zm-1 1zm7 3zm5 0zm0 1zm-1-5zm-1-7zm1-1zm-2 21zm3 4zm4 0zm0 1zm1 0zm-1 2zm0 2zm1 5zm-6-2zm0-2zm-2 1zm-3-5zm21-2zm17-37zm-3-7zm2-4zm7 3zm2 0zm3-91zm0-4zm-84-51zm-2-1zm10-36zm0-1zm-4-3zm-3-1zm-8-1zm-2-1zm4-5zm17-4zm0-2zm4 3zm5-1zm-6 15z" stroke="#fff" stroke-width="4.5" stroke-linecap="round" fill="none" opacity="0.85"/>
<path transform="scale(0.2)" d="M1661 3331zm1 0zm1-1zm4 2zm1-3zm-3-7zm14-2zm3 0zm2 4zm0 1zm1 3zm1 0zm2-4zm2-4zm0-5zm-1-7zm5-3zm9 5zm-2 5zm6-1zm2-1zm1-1zm-3 6zm3 2zm-2 2zm5 3zm2-4zm5 0zm4-2zm-1-4zm5 1zm2 5zm5 0zm1-2zm3 1zm2 3zm2 0zm2 4zm1 6zm-1 3zm6-1zm3-9zm2-1zm0-7zm1-1zm-2-3zm-3 0zm-1 2zm-2 1zm1 1zm0 1zm-1 1zm-1 0zm-10-6zm1-8zm1 0zm9 2zm11 3zm3 4zm2 6zm6-7zm-40 13zm-7 1zm-4 0zm0 7zm15 4zm0 3zm-10 16zm-4-2zm-4 5zm-4-3zm-5 5zm1 8zm2 3zm-8-2zm1 8zm-2 4zm3 3zm-21-4zm-8 0zm0-6zm1-1zm-1-6zm-1-3zm1-1zm-1-2zm2 0zm1 0zm-1-1zm1-2zm-3 0zm-4 0zm1 5zm8-1zm4 7zm-14 5zm4-21zm0-5zm-2-2zm-1-4zm3-2zm3-1zm-1-5zm3-4zm4 8zm-1 3zm0 4zm-2 6zm7 3zm3-18zm2-2zm5-9zm5 4zm0-8zm0-2zm-21-9zm-2 1zm-2-9zm7-11zm-3-3zm6-3zm-2-5zm5 12zm8-6zm8 1zm0 1zm3 1zm2-2zm2-4zm1-4zm-3-2zm-3-2zm4-7zm2-3zm5 2zm1-3zm-1-2zm-1-2zm3-2zm3 1zm-1 9zm1 4zm1 2zm-15-15zm-16 11zm7 24zm-27-7zm-11 47zm5 16zm79-91z" stroke="#fff" stroke-width="4.5" stroke-linecap="round" fill="none" opacity="0.85"/>
<path transform="scale(0.2)" d="M1644 3489zm2 1zm1-1zm5-4zm-5-5zm-2-3zm1-1zm1-1zm1-2zm1 0zm1 2zm0 2zm3 1zm1-10zm6-1zm0-4zm3 1zm1-2zm1-2zm1 1zm-1 4zm1 1zm-2 4zm-1 2zm-1 0zm-16-2zm14-14zm5-7zm8 3zm0 8zm5 0zm0 6zm2 3zm3 4zm3 0zm3-1zm0-1zm0-2zm1 0zm1-1zm2-1zm1 0zm4 1zm-1 5zm-3 0zm-3 1zm-1 4zm-2 2zm-5-2zm-2-1zm0 2zm12-17zm12 1zm-3 9zm0 2zm2-1zm39 9zm3-2zm5 0zm2-2zm4 0zm3 1zm1 3zm-1 1zm0 1zm-1 5zm-2 1zm-1-1zm-1-1zm0-1zm-3 1zm-1-1zm0-2zm-2 1zm1 9zm1 0zm2 1zm10-4zm-18 22zm0 8zm2 8zm1 1zm2 4zm-2 1zm-1 1zm-3-2zm-3 1zm6 9zm-14-1zm-2 6zm5 9zm-2 3zm19-33zm1 0zm29-2zm2 2zm2 0zm0-1zm5-3zm5 0zm-5-5zm-6 1zm6 10zm-1 2zm13-11zm3-2zm-3-2zm-3-2zm0-1zm2-2zm2-1zm-7 1zm-1 0zm13 5zm1 0zm5-3zm-7-10zm23-54zm3-6zm-7-3zm-3-1zm0 5zm5-10zm-1-6zm-2-3zm10 8zm3-5zm5 17zm13-19zm4-3zm0-5zm4 1zm7 5zm1 2zm-3 3zm-1-1zm-4 0zm8 5zm48-4zm2-9zm1-6zm7 1zm2 5zm-3 4zm5 4zm-122 4zm-28-8zm-3 3zm-1-6zm-2-3zm-1 1zm-2-3zm3-5zm-9 18zm0 1zm-1 4zm7 0zm-12-5zm-47-14zm-1-1zm-1 0zm-4-5zm2-2zm-3-3zm5-5zm3-1zm-13 12zm-1 0zm-10-7zm-5 6zm-3-5zm-2-1zm-2 0zm3-3zm4-4zm-10 2zm62-48zm8-1zm2-2zm2-3zm2-4zm2 1zm0-2zm4 2zm-2 3zm5 0zm-7 7zm0 3zm-12-13zm4-6zm2 0zm66-1zm3 6zm5-3zm3 4zm4 1zm1 1zm-1 1zm2-5zm7-2zm-9-9zm4 21zm-12 2zm-166 148z" stroke="#fff" stroke-width="4.5" stroke-linecap="round" fill="none" opacity="0.85"/>
<path transform="scale(0.2)" d="M1775 3579zm2 3zm3-4zm0-1zm-1-2zm3-1zm2 3zm1 1zm2-2zm2-3zm-1-4zm-7 0zm16 5zm21-14zm14 6zm1-3zm2 1zm3 0zm5-3zm-1-5zm-5 2zm9 9zm-1 2zm0 11zm33 6zm3-2zm0 5zm1 3zm3 0zm1-3zm2-4zm2-1zm4 1zm-3 3zm0 1zm-1 5zm1 3zm5 0zm6 1zm1 1zm4-6zm0-4zm-1-1zm-9 3zm-19 1zm20 18zm-6 16zm-6 1zm-6-3zm-9 4zm-1 1zm7 5zm1 1zm0 3zm-4 7zm-3 3zm9 2zm14-2zm12-4zm3-4zm6 2zm4 0zm1 0zm1-2zm-1-2zm-3-2zm-4-5zm-3-1zm3-4zm7 3zm7 10zm-25-4zm-16-1zm0 2zm-12 40zm2 2zm3 4zm3 6zm0 4zm-7 0zm-4-3zm-2-2zm-7-5zm66-109zm3-4zm2-8zm2-2zm2-2zm9 1zm4-2zm0-1zm1 1zm1 2zm-1 1zm-7 6zm-1 1zm-1 2zm-2-1zm-1-1zm-4 11zm17-6zm10-10zm0-11zm-3-11zm-32 20zm-5 5zm-50-33zm1-2zm-5 1zm-2 1zm-3-6zm6-6zm-23 10zm-1 1zm-1 1zm-1-1zm0-2zm1-2zm-3-2zm-3 3zm5 9zm3 0zm3 1zm143 29zm6 2zm4-1zm-6 9zm-6 12zm44 23zm1 4zm2 7zm-4 1zm-2 2zm-4 1zm0 7zm1 1zm-3 0zm-2-1zm3 4zm5 0zm1-2zm-1-2zm5 1zm2 4zm-6 1zm5-12zm7-2zm4-3zm-1 11zm1 1zm-4 16zm-2 4zm-5-1zm0-1zm-2 2zm-2 0zm-1-1zm-2 6zm4 2zm7 1zm2 0zm-1 2zm2-4zm3-3zm2 0zm4 3zm-2 8zm-3-1zm-2 1zm-2 1zm0 3zm2 4zm-25-2zm-1 5zm-3 1zm-2 2zm-3-1zm-1 0zm-1 0zm-1 0zm-3-3zm1-2zm3-5zm7-6zm5-5zm-1-1zm-2-3zm3-1zm2-2zm-1-1zm-6-2zm0-5zm-4 1zm-3-4zm0-4zm-7 3zm-3 2zm6 2zm-1 5zm-3 1zm5 3zm2-1zm16 6zm-16 27zm-3 1z" stroke="#fff" stroke-width="4.5" stroke-linecap="round" fill="none" opacity="0.85"/>
<path d="M264.70,635.00V760.30H452.80" fill="none" stroke="#3a3a3a" stroke-width="0.8"/>
<text x="261.00" y="654.60" font-size="9.7" text-anchor="middle" stroke="#000" stroke-width="0.22" transform="rotate(-90 261.00 654.60)">UMAP2</text>
<text x="452.00" y="770.20" font-size="9.7" text-anchor="end" stroke="#000" stroke-width="0.22">UMAP1</text>
<text x="430.6" y="651.5" font-size="10.1" font-style="italic" fill="#3583c6" stroke="#3583c6" stroke-width="0.15">Elmo2<tspan dy="-2.8" font-size="10">+/+</tspan></text>
<text x="429.8" y="664.3" font-size="10.1" font-style="italic" fill="#f7941d" stroke="#f7941d" stroke-width="0.15">Elmo2<tspan dy="-2.8" font-size="10">-/-</tspan></text>
</g>
<g id="panel-j">
<text x="499.10" y="627.30" font-size="15" font-weight="bold" stroke="#000" stroke-width="0.22">j</text>
<rect x="571.00" y="744.60" width="5.70" height="2.20" fill="#fbdcc8"/>
<rect x="576.70" y="743.80" width="44.00" height="3.40" fill="#e6e6e6"/>
<rect x="620.70" y="744.60" width="33.70" height="2.20" fill="#fbdcc8"/>
<rect x="533.30" y="619.00" width="130.40" height="133.10" fill="none" stroke="#bdbdbd" stroke-width="0.9"/>
<line x1="576.70" y1="619.50" x2="576.70" y2="752.10" stroke="#5b5bd0" stroke-width="0.9" stroke-dasharray="0.9 0.7"/>
<line x1="620.70" y1="619.50" x2="620.70" y2="752.10" stroke="#5b5bd0" stroke-width="0.9" stroke-dasharray="0.9 0.7"/>
<line x1="598.70" y1="619.50" x2="598.70" y2="752.10" stroke="#f46a6a" stroke-width="1.0" stroke-dasharray="0.9 0.7"/>
<line x1="533.30" y1="743.10" x2="663.70" y2="743.10" stroke="#2ecc71" stroke-width="0.9" stroke-dasharray="1.6 0.9"/>
<path transform="scale(0.2)" d="M2900 3692zm28 21zm7-8zm1-4zm8 2zm1-2zm1 6zm-3 3zm-3 1zm13 1zm5 3zm1-1zm3-4zm3-2zm-3-2zm-4-2zm2-12zm-7-11zm-4-20zm7-2zm18 11zm5 1zm6 9zm2 6zm1 3zm-5 2zm-2-2zm6 6zm-2 3zm-1 4zm-2-1zm-2 8zm-3 1zm0-2zm-3 4zm-1 0zm-1-1zm-1 0zm-5 3zm-3 5zm8-1zm3 0zm1 1zm5-2zm6-2zm0-2zm0-2zm-1-1zm2-1zm1 0zm0 2zm2-1zm0 2zm1 4zm-3 2zm7-1zm0 2zm4-3zm1 0zm1-2zm2 1zm1 0zm2 2zm0 1zm2 0zm1-1zm1 1zm4 0zm0-1zm2 0zm1-1zm2 1zm0 1zm2-1zm3 1zm2 0zm2-3zm2 3zm2-3zm1 0zm-1-1zm2-3zm1-4zm-2-2zm1-1zm-2 0zm1-3zm6-2zm1-2zm-2-1zm-4-3zm-2-3zm-3-1zm-1 0zm-3-2zm-1 0zm-2-2zm-1 3zm1 2zm-1 3zm2 5zm-3 1zm0 2zm1 0zm1 1zm-3 0zm-3-2zm-1 0zm0-1zm0-2zm-2 0zm-2 0zm1 2zm1 1zm-1 1zm2 2zm1 1zm0 2zm3 0zm0 1zm3-2zm1 2zm2-1zm2-1zm0 2zm2 2zm0 2zm-7-1zm0 3zm-2 1zm-1-3zm-2 0zm-1 4zm-2-1zm-4-2zm-1 1zm1-3zm0-1zm2-2zm-4-4zm-6 5zm-3 1zm-3 0zm1-3zm1-1zm-3 0zm-2 0zm0 2zm4 6zm3 0zm1 6zm-7-20zm1-1zm4-5zm2-2zm4 0zm3 0zm0 2zm1-4zm4 2zm1-2zm3 0zm-3-6zm2-3zm-2-1zm5-2zm2 0zm1-3zm2 1zm2 0zm-1 5zm2 2zm-5-1zm-7-8zm2-7zm2-2zm1 2zm9-3zm1 0zm4-1zm5-1zm-3 7zm5 4zm2-3zm4-6zm6 1zm3 2zm1-13zm-13 2zm-9-2zm-3 0zm-4 1zm1-6zm-11-3zm-4-1zm1 4zm-3 3zm-4 3zm-4 6zm-1 4zm0 4zm3-1zm3-2zm-9-6zm-11-2zm0-2zm-2-7zm8-11zm13-2zm2-2zm1-5zm4 1zm1 9zm12-7zm1-7zm-7-5zm3-10zm-14 10zm-2-3zm4-24zm2-46zm16-40zm4-20zm-8-30zm12-26zm-4-26zm14-120zm5-158zm-145 484zm44 24zm45 45zm1-1zm3-2zm3 1zm-7 11zm-3-2zm34 11zm-2 5zm13 2zm4 0zm3-2zm1 0zm0 1zm2 4zm1 1zm0 1zm-3 1zm-3 0zm-1 0zm-2-1zm-3-1zm3 5zm0 1zm3 0zm2 4zm2-1zm-5 2zm-5-2zm-1-1zm-1-1zm18 3zm3-2zm2 1zm2-3zm-4-1zm-3-7zm-2-1zm4-3zm3 1zm3 4zm5-2zm-1-3zm-9-5zm3-8zm1-2zm-11 1zm-8-1zm-3-1zm-3-3zm5-2zm4 0zm-4 10zm-4 0zm6 4zm0 1zm4 2zm-15-20zm6-36zm36 42zm-1 8zm0 21zm5 1zm4 2zm-14 2zm-5 1zm34-39z" stroke="#22c5cd" stroke-width="9.5" stroke-linecap="round" fill="none"/>
<text x="531.40" y="631.48" font-size="10.2" text-anchor="end" fill="#222" stroke="#222" stroke-width="0.22" textLength="15.6" lengthAdjust="spacingAndGlyphs">300</text>
<line x1="531.90" y1="627.88" x2="533.30" y2="627.88" stroke="#888" stroke-width="0.5"/>
<text x="531.40" y="651.20" font-size="10.2" text-anchor="end" fill="#222" stroke="#222" stroke-width="0.22" textLength="15.6" lengthAdjust="spacingAndGlyphs">250</text>
<line x1="531.90" y1="647.60" x2="533.30" y2="647.60" stroke="#888" stroke-width="0.5"/>
<text x="531.40" y="670.92" font-size="10.2" text-anchor="end" fill="#222" stroke="#222" stroke-width="0.22" textLength="15.6" lengthAdjust="spacingAndGlyphs">200</text>
<line x1="531.90" y1="667.32" x2="533.30" y2="667.32" stroke="#888" stroke-width="0.5"/>
<text x="531.40" y="690.64" font-size="10.2" text-anchor="end" fill="#222" stroke="#222" stroke-width="0.22" textLength="15.6" lengthAdjust="spacingAndGlyphs">150</text>
<line x1="531.90" y1="687.04" x2="533.30" y2="687.04" stroke="#888" stroke-width="0.5"/>
<text x="531.40" y="710.36" font-size="10.2" text-anchor="end" fill="#222" stroke="#222" stroke-width="0.22" textLength="15.6" lengthAdjust="spacingAndGlyphs">100</text>
<line x1="531.90" y1="706.76" x2="533.30" y2="706.76" stroke="#888" stroke-width="0.5"/>
<text x="531.40" y="730.08" font-size="10.2" text-anchor="end" fill="#222" stroke="#222" stroke-width="0.22" textLength="10.4" lengthAdjust="spacingAndGlyphs">50</text>
<line x1="531.90" y1="726.48" x2="533.30" y2="726.48" stroke="#888" stroke-width="0.5"/>
<text x="529.20" y="749.80" font-size="10.2" text-anchor="end" fill="#222" stroke="#222" stroke-width="0.22" textLength="5.2" lengthAdjust="spacingAndGlyphs">0</text>
<text x="553.30" y="762.30" font-size="10.2" text-anchor="middle" fill="#222" stroke="#222" stroke-width="0.22" textLength="8.6" lengthAdjust="spacingAndGlyphs">-4</text>
<text x="575.30" y="762.30" font-size="10.2" text-anchor="middle" fill="#222" stroke="#222" stroke-width="0.22" textLength="8.6" lengthAdjust="spacingAndGlyphs">-2</text>
<text x="598.70" y="762.30" font-size="10.2" text-anchor="middle" fill="#222" stroke="#222" stroke-width="0.22" textLength="5.2" lengthAdjust="spacingAndGlyphs">0</text>
<text x="620.70" y="762.30" font-size="10.2" text-anchor="middle" fill="#222" stroke="#222" stroke-width="0.22" textLength="5.2" lengthAdjust="spacingAndGlyphs">2</text>
<text x="642.70" y="762.30" font-size="10.2" text-anchor="middle" fill="#222" stroke="#222" stroke-width="0.22" textLength="5.2" lengthAdjust="spacingAndGlyphs">4</text>
<text x="561.4" y="775.1" font-size="10.4" fill="#222" textLength="74.8" lengthAdjust="spacingAndGlyphs" stroke="#222" stroke-width="0.2">log<tspan dy="2.2" font-size="6.4">2</tspan><tspan dy="-2.2"> fold change</tspan></text>
<text x="508.8" y="686.2" font-size="10.4" fill="#222" text-anchor="middle" transform="rotate(-90 508.8 686.2)" textLength="67" lengthAdjust="spacingAndGlyphs" stroke="#222" stroke-width="0.2">-log<tspan dy="2.2" font-size="6.4">10</tspan><tspan dy="-2.2"> p-value</tspan></text>
<line x1="551.20" y1="720.60" x2="540.60" y2="726.50" stroke="#555" stroke-width="0.45"/>
<line x1="567.40" y1="732.30" x2="568.60" y2="736.00" stroke="#555" stroke-width="0.45"/>
<line x1="562.00" y1="743.50" x2="567.60" y2="738.40" stroke="#555" stroke-width="0.45"/>
<line x1="628.10" y1="717.90" x2="623.40" y2="729.60" stroke="#555" stroke-width="0.45"/>
<line x1="634.30" y1="733.80" x2="625.00" y2="733.80" stroke="#555" stroke-width="0.45"/>
<line x1="629.00" y1="744.00" x2="622.20" y2="737.80" stroke="#555" stroke-width="0.45"/>
<path transform="scale(0.2)" d="M2699 3634zm141 56zm3-6zm266 3zm11-18zm-4-18zm-306-493z" stroke="#ff7f3a" stroke-width="9" stroke-linecap="round" fill="none"/>
<text x="540.90" y="639.70" font-size="10" font-style="italic" fill="#222" stroke="#222" stroke-width="0.22" textLength="26.5" lengthAdjust="spacingAndGlyphs">Elmo2</text>
<text x="534.60" y="718.50" font-size="10" font-style="italic" fill="#222" stroke="#222" stroke-width="0.22" textLength="27.4" lengthAdjust="spacingAndGlyphs">Hoxb6</text>
<text x="552.60" y="730.50" font-size="10" font-style="italic" fill="#222" stroke="#222" stroke-width="0.22" textLength="19.2" lengthAdjust="spacingAndGlyphs">Car2</text>
<text x="540.40" y="750.30" font-size="10" font-style="italic" fill="#222" stroke="#222" stroke-width="0.22" textLength="31.4" lengthAdjust="spacingAndGlyphs">Capn11</text>
<text x="626.80" y="716.70" font-size="10" font-style="italic" fill="#222" stroke="#222" stroke-width="0.22" textLength="24.7" lengthAdjust="spacingAndGlyphs">Cnmd</text>
<text x="634.90" y="735.40" font-size="10" font-style="italic" fill="#222" stroke="#222" stroke-width="0.22" textLength="25.0" lengthAdjust="spacingAndGlyphs">Matn1</text>
<text x="629.50" y="748.50" font-size="10" font-style="italic" fill="#222" stroke="#222" stroke-width="0.22" textLength="21.1" lengthAdjust="spacingAndGlyphs">Acan</text>
</g>
<g id="panel-k">
<text x="-0.70" y="796.70" font-size="15" font-weight="bold" stroke="#000" stroke-width="0.22">k</text>
<rect x="536.40" y="800.50" width="122.00" height="122.80" fill="#fcfcfc"/>
<path transform="scale(0.2)" d="M192 4507zm1 1zm-1 1zm0 4zm1 3zm4-3zm0-2zm1 0zm1 1zm1 1zm0 2zm1 0zm1 0zm0 1zm0-5zm1 0zm2-1zm-1-3zm-2-1zm0-1zm-2-4zm-2-2zm-1 4zm-1 3zm1 3zm10 5zm3-4zm2 0zm1-1zm2 3zm2-1zm1 0zm1 1zm-1 2zm0 1zm-2 0zm-2-1zm-1 0zm8 2zm2-2zm1-1zm1 1zm1-2zm2 0zm2 1zm1 0zm-1 2zm3-3zm1 0zm2-1zm3 0zm0 1zm1 2zm2 0zm3-1zm2 2zm3-2zm3 2zm0 1zm3 0zm1-1zm2-1zm1 0zm-1 2zm3-4zm0-1zm2-1zm0-2zm0-1zm0-2zm0-1zm1 0zm0 1zm1 2zm3 0zm0 2zm-1 2zm1 2zm-1 1zm-1 0zm-1-1zm-1 0zm5 1zm1-1zm1-4zm3 0zm3 1zm1 2zm2 1zm1-2zm1 0zm0-2zm1-1zm2-1zm1 0zm2-1zm0 4zm1 1zm1 0zm2-1zm3 2zm0 1zm1 0zm2 0zm2-1zm2-1zm3 0zm0-3zm0-2zm-2 1zm-2 0zm-2-2zm0-1zm3-2zm-2-6zm-1-1zm3 0zm4 2zm4 9zm-1 4zm-1 3zm-6 2zm-8-1zm-6 1zm-2 0zm0 1zm-2-2zm2-1zm-4 2zm0 1zm-3-1zm-3 0zm4-5zm0-1zm-2-3zm-2-1zm2-2zm-1-2zm-4-1zm2-3zm1 0zm4-2zm3 3zm6 2zm2-3zm2-2zm1 5zm1 0zm-3 2zm6 6zm6-21zm-32 19zm-13-1zm0-2zm-2-2zm3-2zm-7 5zm-1 3zm-2-1zm-3 1zm0-4zm-3 1zm0-4zm4-1zm-5 9zm-1 2zm-2 1zm-1-3zm-2 0zm-1-1zm-1-1zm2 0zm-5 2zm-1-3zm-3 3zm-2 0zm0-3zm0-2zm4-4zm-11 0zm-5-4zm-5 2zm6 8zm3 3zm2 3zm3 5zm29-6zm1 0zm1 1zm2-1zm1 1zm2-2zm-4-1zm-17-36zm-39 19zm107-72zm227 22zm1 24zm-1 23zm8 1zm8 2zm1-6zm7-2zm7 8zm-5 5zm-5 1zm0 4zm-4 1zm-3 4zm1 3zm2 0zm1-1zm1 0zm0-1zm0 3zm-2 1zm-1 0zm-2 1zm0 3zm-3 0zm-2-2zm-1-3zm-2 0zm-1 0zm-1 2zm1 1zm1-1zm0 2zm2-6zm2-2zm-3-3zm-3-1zm-2-1zm-1 1zm0 1zm-1 1zm-1 0zm2-5zm-1-1zm5 0zm5 1zm1 1zm1 1zm-8 6zm17 6zm2 0zm0 1zm1 0zm1 1zm1 0zm1-2zm1 1zm3-1zm1 1zm1 0zm2-2zm0-2zm1 0zm1-1zm0-2zm-1 0zm2 0zm1 0zm-1-1zm-1-1zm1-3zm5 0zm3 4zm0 1zm0 1zm-1 2zm2 1zm-1 1zm-2 1zm0 1zm0 1zm-3-1zm-2-1zm0 3zm2-7zm7-2zm2-1zm0-1zm1-1zm0-1zm2 0zm1 1zm1 2zm0 2zm1 0zm1 0zm1 0zm0-1zm1 1zm0 1zm3 0zm0 2zm1 3zm-3 0zm-3 2zm-3-2zm-1-1zm2 0zm0-3zm0-1zm-4-2zm-2 2zm0 1zm0 2zm1 0zm1 0zm-1 2zm0 1zm0 1zm-2-1zm-1-1zm6 2zm13 0zm1-1zm1 0zm2-1zm-1-2zm-1-1zm-1 2zm-1 1zm0-5zm-2-2zm1-3zm1-1zm2 2zm0 1zm-1 0zm3 0zm0 1zm0 2zm1 3zm2 2zm1-1zm1-1zm1 0zm0 1zm0 2zm3 0zm1-2zm1 0zm1-1zm1 0zm1 1zm2 0zm0 2zm3 0zm0-2zm1-1zm1 1zm1-1zm0 2zm1 1zm2-2zm1 1zm2 1zm2-1zm1 0zm0-1zm1-1zm1 0zm1 0zm0 1zm1-2zm1 0zm2-2zm1-1zm0 3zm1 0zm1 0zm-1 1zm1 1zm1-4zm1-1zm2 3zm2 2zm1 2zm2 0zm2 0zm1-1zm0-2zm1-2zm1 0zm0 1zm-3-2zm-3-1zm0 3zm2 2zm5 2zm-5-10zm-3-2zm-1 1zm2-3zm-8 0zm-1-2zm-1 0zm-1-3zm-6-3zm-2 12zm-3 1zm-1 0zm-1-2zm-3 1zm-1-1zm-1 1zm0 3zm-1 1zm-1 1zm-5-1zm-2-1zm-1-1zm-1-1zm-1 5zm-3-1zm-3 6zm0-14zm-8-6zm8-15zm-11-10zm-5 9zm-14 12zm-1 5zm-8 2zm-4 5zm-2 2zm1 1zm-1 2zm-3-1zm7 1zm1 0zm-1 2zm5-46zm3-28zm15-2zm12 7zm5 0zm36-16zm9 34zm-15 11zm8 32zm-7 5zm-1 0zm-2 1zm-1 1zm-2 1zm-2-3zm-1 0zm-8-3zm17 10zm5 0zm0 1zm-90-93z" stroke="#fde6d9" stroke-width="10" stroke-linecap="round" fill="none"/>
<path transform="scale(0.2)" d="M312 4501zm2 2zm0 3zm1 1zm1 0zm2-1zm1 0zm0-2zm1 0zm0 4zm1 0zm2 4zm0 2zm2 0zm2-2zm4 0zm2 3zm1-6zm1-1zm2 2zm5-1zm1 0zm2-2zm-3-2zm2-2zm1 0zm-2-1zm2-4zm-2-1zm1-1zm-4-3zm2-3zm2-1zm3 0zm2 3zm3 0zm2 2zm0 1zm-1 4zm1 1zm0 2zm-1 1zm0 2zm0 3zm0 2zm1 0zm1-1zm-3 4zm-3 3zm-2 0zm-2-3zm1-2zm3-3zm1 1zm11 0zm1 1zm1 0zm0 2zm2-1zm1 4zm-5-2zm-2 3zm13-6zm1-1zm2 4zm2 1zm8-2zm1-3zm0-3zm-2-1zm-1 0zm0-2zm4-1zm2 0zm-1 2zm1-6zm1 0zm-3-2zm-2 0zm0-1zm-6 2zm-2 3zm-4-3zm0-1zm-1 1zm-2-2zm-4 0zm0-2zm0-1zm-2 1zm-2 0zm-1-2zm-1-4zm-6-1zm-1-2zm-2-1zm-2-1zm1-1zm3-3zm-1-3zm3-2zm1-1zm-4-3zm-4 3zm-4-6zm-13 6zm-5-9zm12 17zm-1 3zm0 7zm-5 3zm-3-4zm-3 4zm1 2zm-2 5zm-1 3zm1 2zm1 3zm3-2zm2-4zm0-3zm3 2zm2 3zm3-5zm10-4zm2 3zm9-3zm1 2zm1 3zm5-2zm5 5zm1 0zm7 3zm9 6zm2 0zm0-1zm1-1zm5-2zm-2-3zm3-4zm1 1zm2-1zm2-3zm4-2zm4 2zm0 5zm-3 1zm-2 2zm-2 2zm-1 0zm2-5zm0-1zm-6-6zm-1-3zm3-2zm4 0zm8 2zm-1-8zm4-2zm4-1zm0 6zm4 3zm7 0zm6-1zm-1-3zm0-1zm-4-5zm-2-3zm-2-7zm-10 1zm-3-2zm0-7zm-2-3zm3-9zm5-1zm9 8zm2 2zm3 0zm8 8zm2 0zm4 6zm-7 2zm0 2zm-2-3zm8 7zm5 3zm-3 4zm5 2zm3 4zm2 1zm-1 3zm1 2zm2 0zm1 0zm-1-2zm3-2zm5-3zm1-3zm-4-4zm-2 3zm8-5zm2-2zm1-1zm-1-4zm-2-2zm0-3zm5-3zm1 5zm8 1zm7 7zm0 5zm2 3zm3 1zm1-4zm2-1zm-3-2zm-9 3zm-2-1zm1 3zm-5-2zm-1 6zm2 4zm0 2zm2 1zm-4 2zm-2 2zm-2 2zm-4 1zm0 1zm0-5zm-1 0zm-3-2zm-3 0zm0 8zm-1 1zm1 1zm-1 2zm-2 0zm-5 0zm-3-2zm-1 0zm-2 4zm-3-1zm-2-1zm-2 0zm-6 1zm-2-2zm-6-1zm1-3zm1-1zm-1-6zm-4 2zm10-4zm1 1zm2-1zm3 5zm-2 3zm6-1zm0-3zm0-3zm2 0zm1 1zm1 1zm1-2zm0-1zm0-1zm-10-6zm14-20zm-2-3zm-9-10zm-2-9zm4-17zm-4-2zm-8-5zm-6-1zm-1-15zm-13 8zm-5-10zm1 22zm-14 5zm-13 4zm4 17zm-7 9zm-5-2zm-8 2zm-9 15zm-3-1zm10 11zm5-2zm1 2zm3-1zm3-3zm4-3zm6 3zm1 1zm3 2zm-3 4zm2-20zm-4-3zm11 2zm4-3zm1 2zm-5-5zm2-13zm8 26zm-1 1zm2 31zm-1 2zm-3 1zm-2 0zm-2 1zm-5 0zm15 0zm0-3zm6 0zm50 0zm13 0zm2-2zm3 1zm2 0zm0 2zm2-1zm3 2zm1-1zm3 1zm1 1zm0-3zm3 0zm1 1zm1 0zm0-3zm-1-1zm-1-3zm2-3zm-2-2zm-2 1zm-1-4zm-4-3zm-2 5zm-1 5zm2 4zm13 1zm2 0zm0-1zm0-2zm1 0zm0-1zm-2-1zm-1-1zm0-4zm3-2zm-1-2zm-3-2zm9 1zm3 0zm-2 4zm-1 0zm-2 1zm0 3zm-1 0zm1 4zm1 1zm-2 0zm0 1zm-2 4zm5 0zm6-2zm1-1zm0 2zm1 0zm4-2zm2-2zm2 0zm-1-2zm-2-1zm-1-1zm-1 1zm-1-2zm-2 1zm-1-2zm-2 1zm-1 1zm1-4zm0-1zm-2 1zm5-2zm5-1zm2-2zm-2-3zm-4 0zm1-3zm-2-8zm7-3zm-17 7zm-2 0zm19 16zm1 11zm-44-17zm-11 0zm-7-16zm1-19zm-5-17zm10-24zm34-5zm13-15zm-13 47zm-2 7zm-10 10zm-7-5zm-31-79zm-3-38zm35-22zm-109 12zm9 63zm-22 10zm-15 7zm-26 11zm-11 60zm-3 9zm-2 5zm-1 12zm2 2zm3 0zm0-1zm-5 5zm28 1z" stroke="#e9e9e9" stroke-width="10" stroke-linecap="round" fill="none"/>
<line x1="84.40" y1="815.40" x2="84.40" y2="910.20" stroke="#f25555" stroke-width="0.8" stroke-dasharray="1 0.8"/>
<rect x="36.80" y="815.40" width="96.00" height="94.80" fill="none" stroke="#111" stroke-width="1.0"/>
<text x="86.20" y="807.70" font-size="12.1" text-anchor="middle" fill="#111" stroke="#111" stroke-width="0.22">Immune cells</text>
<text x="34.80" y="822.20" font-size="10.0" text-anchor="end" fill="#111" stroke="#111" stroke-width="0.22">25</text>
<text x="34.80" y="838.80" font-size="10.0" text-anchor="end" fill="#111" stroke="#111" stroke-width="0.22">20</text>
<text x="34.80" y="855.40" font-size="10.0" text-anchor="end" fill="#111" stroke="#111" stroke-width="0.22">15</text>
<text x="34.80" y="872.10" font-size="10.0" text-anchor="end" fill="#111" stroke="#111" stroke-width="0.22">10</text>
<text x="34.80" y="889.30" font-size="10.0" text-anchor="end" fill="#111" stroke="#111" stroke-width="0.22">5</text>
<text x="34.80" y="906.60" font-size="10.0" text-anchor="end" fill="#111" stroke="#111" stroke-width="0.22">0</text>
<text x="39.00" y="920.10" font-size="9.3" text-anchor="middle" fill="#111" stroke="#111" stroke-width="0.22">-4</text>
<text x="50.00" y="920.10" font-size="9.3" text-anchor="middle" fill="#111" stroke="#111" stroke-width="0.22">-3</text>
<text x="61.00" y="920.10" font-size="9.3" text-anchor="middle" fill="#111" stroke="#111" stroke-width="0.22">-2</text>
<text x="72.00" y="920.10" font-size="9.3" text-anchor="middle" fill="#111" stroke="#111" stroke-width="0.22">-1</text>
<text x="84.40" y="920.10" font-size="9.3" text-anchor="middle" fill="#111" stroke="#111" stroke-width="0.22">0</text>
<text x="95.40" y="920.10" font-size="9.3" text-anchor="middle" fill="#111" stroke="#111" stroke-width="0.22">1</text>
<text x="106.40" y="920.10" font-size="9.3" text-anchor="middle" fill="#111" stroke="#111" stroke-width="0.22">2</text>
<text x="117.40" y="920.10" font-size="9.3" text-anchor="middle" fill="#111" stroke="#111" stroke-width="0.22">3</text>
<text x="128.40" y="920.10" font-size="9.3" text-anchor="middle" fill="#111" stroke="#111" stroke-width="0.22">4</text>
<text x="21.20" y="856.60" font-size="9.7" text-anchor="middle" fill="#111" stroke="#111" stroke-width="0.22" transform="rotate(-90 21.20 856.60)" textLength="69.5" lengthAdjust="spacingAndGlyphs">-log10 (p-value)</text>
<text x="84.40" y="933.80" font-size="9.8" text-anchor="middle" fill="#111" stroke="#111" stroke-width="0.22" textLength="75" lengthAdjust="spacingAndGlyphs">log2- fold change</text>
<text x="85.20" y="941.70" font-size="9.8" text-anchor="middle" fill="#111" stroke="#111" stroke-width="0.22" textLength="46" lengthAdjust="spacingAndGlyphs">expression</text>
<text x="42.30" y="828.40" font-size="9.7" font-style="italic" fill="#222" stroke="#222" stroke-width="0.22" textLength="27.6" lengthAdjust="spacingAndGlyphs">Elmo2</text>
<text x="55.20" y="841.30" font-size="9.7" font-style="italic" fill="#222" stroke="#222" stroke-width="0.22" textLength="24.1" lengthAdjust="spacingAndGlyphs">Actg1</text>
<text x="47.60" y="857.30" font-size="9.7" font-style="italic" fill="#222" stroke="#222" stroke-width="0.22" textLength="25.6" lengthAdjust="spacingAndGlyphs">Thbs1</text>
<path transform="scale(0.2)" d="M204 4102z" stroke="#ff7f3a" stroke-width="13" stroke-linecap="round" fill="none"/>
<path transform="scale(0.2)" d="M375 4235zm29-6z" stroke="#22c5cd" stroke-width="13" stroke-linecap="round" fill="none"/>
<path d="M166.2,906.5V900.5L210.3,902.8L213.3,905.5L216.3,902.8L260.2,900.5V906.5Z" fill="#e9e9e9"/>
<path transform="scale(0.2)" d="M836 4522zm1-2zm1 0zm3-1zm0-1zm1-2zm2-1zm-2-4zm-4 2zm0 2zm1 0zm0 1zm-2-5zm0-3zm7-5zm3 3zm3-2zm-1 6zm6-2zm1 3zm0 1zm5-2zm1-1zm2 2zm0-4zm2 0zm-2-3zm0-2zm-2-2zm-1-1zm-2-3zm-6-1zm5-8zm-7-6zm2-6zm7 29zm10 4zm2 1zm-1 2zm1 4zm2 1zm-1 1zm2 2zm1 1zm1 0zm1 3zm0 1zm-3 0zm-3 0zm0-1zm1-2zm-1-1zm-3 4zm-1 0zm0-1zm-1 0zm-3-1zm-1 1zm-1 1zm-4-4zm-6 0zm-2-3zm2-1zm-4 4zm-1 1zm-1 2zm3 1zm4 0zm-11-1zm-1-1zm1-1zm-5 3zm32-8zm7-4zm3 1zm0 1zm0 2zm2 2zm2 1zm0 1zm-2 1zm0 2zm6-1zm0-1zm2 1zm-3-3zm1-2zm1-3zm1-2zm-2-1zm-1-2zm2-3zm3 0zm3 4zm-2 1zm2 5zm2 3zm-1 2zm3 2zm1-4zm1-6zm2-4zm5-1zm2 1zm1 1zm2 0zm2 1zm1-1zm2-1zm1 1zm0-3zm3-3zm2 0zm0-1zm3-1zm0-1zm2 0zm0-1zm1 1zm2 1zm2-3zm2-5zm-9-2zm-2 1zm2 4zm1 6zm2 2zm-1 3zm-2 2zm1 2zm1 0zm1 0zm3 4zm3-1zm0-2zm2-1zm-1-2zm2 0zm0-6zm6 7zm3 1zm2 1zm0-3zm1-1zm-1-1zm3-1zm3 3zm-1 3zm-3 3zm0 3zm3 2zm1-1zm3 3zm3-1zm2 1zm2 0zm0 1zm2 0zm2-2zm1 0zm1 0zm0-2zm0-2zm1-1zm2-1zm1 2zm1 2zm0 2zm0 1zm-1 1zm-1-1zm3 1zm2 0zm0-1zm1 0zm1 0zm-1 1zm-1-4zm1-1zm1 1zm2-1zm2 0zm1 1zm1-1zm2-2zm0-2zm-3-3zm-1-1zm-1 5zm-4-3zm-2 2zm-2-2zm0-3zm1-2zm2-1zm-4-2zm-3 1zm-1 1zm-1 3zm-1 0zm1 3zm-3 0zm0 2zm-2 0zm-1 0zm-3 0zm-2 3zm-1-1zm-7 6zm-6 0zm-1-1zm-3 2zm-3-2zm-2-2zm-2 3zm-1 1zm-1-1zm-2-1zm-1 0zm-3 2zm-1 0zm-5-1zm-1 0zm-1-1zm0-1zm-1-1zm0 2zm-2-1zm-1 1zm-1-1zm-1 0zm2-2zm1 0zm-1-3zm3-1zm3 3zm-1 1zm3-4zm0-1zm1 1zm4 3zm-3-9zm-5-8zm-3-1zm-1-2zm-2-2zm6-1zm-16 7zm-4 2zm-3 3zm-1-6zm-6-1zm-2-2zm-1 2zm-5 2zm0 2zm1 1zm-8-7zm12-10zm3-4zm4 5zm0 3zm4-2zm-1-9zm0-8zm28-14zm5 14zm21-16zm-22-15zm31 43zm-1 6zm-2 2zm-3 3zm2 2zm3 2zm3 0zm6 0zm2-4zm-2-2zm5 6zm-7 7zm-3-1zm-1 1zm4 4zm-17 5zm-2-1zm-1 1zm0 1zm-2-2zm-27 9zm-2 0zm-5 0zm-1-1zm-1-1zm0-2zm0 4zm-3 0zm3-12zm77 9zm2 2zm1-1zm2 0zm3-1zm2 3zm3-4zm1-2zm-2-2zm1-1zm2 0zm4 1zm2 1zm2 1zm2 0zm0 2zm1 1zm-2 2zm-1-1zm-1 2zm3 0zm4-3zm2 2zm1-1zm2 0zm1 0zm0-1zm1 0zm-1-3zm0-3zm-3 1zm-1 1zm-1-2zm-6 0zm-1-1zm0-1zm-1 1zm2-4zm-1-1zm-3 0zm0-2zm-3-3zm-3 1zm-1 1zm-2 0zm0-3zm0-1zm0-4zm5 1zm-1 8zm0 3zm-2 0zm5 10zm2 0zm6-11zm10-4zm0-1zm6 5zm0 7zm1 0zm1 0zm4 1zm0 2zm1 1zm-2 1zm1 2zm1 1zm-3 0zm-2 0zm-3 0zm-1-6zm-1 0zm10-4zm1-1zm3 3zm0 2zm-1 0zm1 1zm1-1zm3 0zm1 1zm1-2zm1 1zm2 0zm2 0zm1 1zm1-1zm0 2zm1 0zm-1 2zm0 1zm-1 0zm0 1zm1 0zm1 0zm1-1zm1 1zm0-3zm1-1zm1 0zm0-1zm1 2zm0 1zm0 1zm1 0zm2 0zm1 0zm-1 1zm2-3zm0-2zm-2 0zm0-1zm0-1zm4 3zm0 2zm2 0zm-1 2zm2 0zm1 0zm1 0zm1-1zm1 1zm2-1zm2 1zm1 0zm1 0zm0-1zm-1-1zm0-1zm2 0zm0-1zm1 0zm1 0zm1 0zm-1 2zm1 1zm1 0zm1 1zm1 0zm2 0zm1-1zm0-1zm0-1zm-1 1zm2 1zm1-1zm1 2zm1 0zm2 0zm3 0zm1 0zm1-1zm-2-1zm-1-3zm-4 1zm0 1zm0-4zm1-2zm3-1zm-1-3zm-2 0zm-1 1zm-5 4zm2 2zm-2 1zm-1 1zm-3-2zm-3-5zm-5 4zm-5 3zm-2-1zm11 5zm2 0zm21-6zm2-1zm-1 3zm0 4zm5-4zm1 0zm3-2zm1 1zm1 0zm1 0zm-1 1zm1 2zm1 1zm-2 0zm5 1zm1 0zm0-2zm3 2zm3-1zm0-1zm0-1zm1-1zm0-2zm-2 0zm0 1zm-1 1zm1-3zm-3-1zm-5 1zm-2-2zm-4-1zm-1 0zm-3 1zm-1-1zm1-4zm-2-2zm3-2zm2-1zm2-2zm1 1zm2 4zm6 3zm6 2zm3-2zm3-1zm1 3zm2-1zm3 2zm4 0zm0-2zm4-1zm-5-6zm-3 1zm-2-3zm-1 0zm-1 3zm-5 0zm2-4zm0 13zm2 4zm0 1zm1 1zm-2 2zm0 1zm2 0zm2 0zm0-1zm2-2zm-1-2zm4-2zm0 6zm0 1zm3-1zm3 1zm0-4zm3-2zm2-2zm1 3zm3 0zm2 1zm2 1zm1 2zm3-1zm1 1zm0-5zm1-2zm1-1zm1-2zm-3-2zm-1 0zm-3 2zm0 1zm-1 2zm-3-3zm1-8zm4 0zm4-2zm1 4zm6 2zm2 0zm1 1zm1-1zm0-2zm-3-3zm1-5zm5 2zm3 4zm1 2zm1 1zm1 1zm1-1zm-2 2zm-3-1zm-3 4zm1 1zm-3 1zm0 1zm0 5zm-2 0zm3 3zm2-1zm1 1zm1-1zm1 0zm0-2zm1 0zm1-1zm2-2zm-1-1zm-2-1zm5 1zm1 0zm3 3zm0 2zm-4 2zm-3-1zm-5-2zm-10 2zm-3-5zm-10 6zm-2 0zm-1 0zm-1-1zm-6-20zm-3-8zm17 0zm3-1zm-6-26zm-39-22zm-13 30zm2 7zm-10 14zm-3 5zm8-1zm2 0zm23 21zm62-10zm1-1zm4-5zm-1-3zm2-2zm2 3zm0 1zm3 2zm4-4zm3-1zm1-1zm3-3zm2-3zm-6-1zm-4 2zm-6 1zm15 6zm4-2zm1 3zm3 1zm4 0zm3 1zm3-1zm1-1zm0-3zm4 1zm0 4zm0 2zm-3 1zm2 4zm2-1zm2 3zm0 1zm0 1zm-1 1zm-1 0zm-1 2zm-1 1zm-4 1zm-1-2zm-1 0zm1-1zm-1-2zm0-1zm-2 1zm-1 3zm0 1zm-3 1zm-2-1zm0-1zm-2 1zm-1 1zm0 2zm-4 0zm0-3zm1-2zm1-1zm0-1zm2 1zm0 2zm0-5zm-5 2zm0-4zm-2-2zm3-3zm2-1zm5 3zm5 2zm1 0zm-1 1zm3-1zm1 1zm1 4zm9-2zm1 4zm0 3zm2 1zm0 1zm3-2zm3 0zm0-1zm2 1zm1 2zm-3 0zm2-5zm-4 0zm2-5zm1-2zm-2-1zm4 0zm3 2zm3 2zm1 0zm-2 3zm1 1zm0 2zm-1 0zm1 2zm2-2zm3-1zm1 2zm1 0zm1 0zm0 2zm-2-1zm-2 1zm3-7zm2 0zm3 0zm3 1zm2 4zm0 2zm2 0zm5-2zm0-1zm0-1zm-2-1zm-1-2zm2-1zm-2-2zm-1-2zm-1-1zm0-1zm1-1zm2 3zm1 1zm2 0zm4 3zm3 1zm2 2zm1-1zm1 0zm1 0zm1 2zm0 1zm-4 3zm-2-2zm-1-2zm2 0zm2-4zm-1-7zm0-1zm3 0zm-9-4zm-1 0zm0-1zm0-1zm-4 1zm-7 2zm-3 5zm-4-4zm-4-3zm-2 4zm1 1zm-2 1zm2 2zm2 0zm1 1zm1 1zm-3 2zm-9-13zm-2 1zm0-2zm-6 1zm-3 0zm-1 2zm-1 1zm2 0zm4 2zm-4 4zm1 1zm0-14zm-3-2zm5-3zm0-1zm3-4zm1 1zm3 4zm-10-8zm-3-2zm-4 2zm-7 4zm4 7zm-11 28zm-15-4zm-1 4zm-5 0zm1-3zm-2-3zm-2-2zm-1 0zm7-1zm-7 9zm9-42zm6-10zm9-28zm-11-13zm-20 3zm58 32zm12-19zm15 37zm3 2zm-4 4zm-1 1zm-4 1zm25 6zm-8 21zm-1 2zm-197-61zm-52 43zm-2-1zm0 5zm2 1zm5 5zm4 0zm1 1zm-2 6zm1 2zm-3 2zm-2 0zm-1-1zm1-1zm1-1zm-4 3zm-2-3zm-46-21zm8-39zm27-33z" stroke="#e9e9e9" stroke-width="10" stroke-linecap="round" fill="none"/>
<line x1="213.30" y1="815.40" x2="213.30" y2="910.20" stroke="#f25555" stroke-width="0.8" stroke-dasharray="1 0.8"/>
<rect x="165.70" y="815.40" width="95.00" height="94.80" fill="none" stroke="#111" stroke-width="1.0"/>
<text x="216.20" y="807.70" font-size="12.1" text-anchor="middle" fill="#111" stroke="#111" stroke-width="0.22">Muscle cells</text>
<text x="163.60" y="821.60" font-size="10.0" text-anchor="end" fill="#111" stroke="#111" stroke-width="0.22">25</text>
<text x="163.60" y="838.20" font-size="10.0" text-anchor="end" fill="#111" stroke="#111" stroke-width="0.22">20</text>
<text x="163.60" y="855.60" font-size="10.0" text-anchor="end" fill="#111" stroke="#111" stroke-width="0.22">15</text>
<text x="163.60" y="873.30" font-size="10.0" text-anchor="end" fill="#111" stroke="#111" stroke-width="0.22">10</text>
<text x="163.60" y="891.10" font-size="10.0" text-anchor="end" fill="#111" stroke="#111" stroke-width="0.22">5</text>
<text x="163.60" y="908.50" font-size="10.0" text-anchor="end" fill="#111" stroke="#111" stroke-width="0.22">0</text>
<text x="171.10" y="920.10" font-size="9.3" text-anchor="middle" fill="#111" stroke="#111" stroke-width="0.22">-.3</text>
<text x="184.90" y="920.10" font-size="9.3" text-anchor="middle" fill="#111" stroke="#111" stroke-width="0.22">-.2</text>
<text x="199.20" y="920.10" font-size="9.3" text-anchor="middle" fill="#111" stroke="#111" stroke-width="0.22">-.1</text>
<text x="213.30" y="920.10" font-size="9.3" text-anchor="middle" fill="#111" stroke="#111" stroke-width="0.22">0</text>
<text x="224.60" y="920.10" font-size="9.3" text-anchor="middle" fill="#111" stroke="#111" stroke-width="0.22">.1</text>
<text x="237.60" y="920.10" font-size="9.3" text-anchor="middle" fill="#111" stroke="#111" stroke-width="0.22">.2</text>
<text x="250.50" y="920.10" font-size="9.3" text-anchor="middle" fill="#111" stroke="#111" stroke-width="0.22">.3</text>
<text x="149.40" y="856.60" font-size="9.7" text-anchor="middle" fill="#111" stroke="#111" stroke-width="0.22" transform="rotate(-90 149.40 856.60)" textLength="69.5" lengthAdjust="spacingAndGlyphs">-log10 (p-value)</text>
<text x="213.30" y="933.80" font-size="9.8" text-anchor="middle" fill="#111" stroke="#111" stroke-width="0.22" textLength="75" lengthAdjust="spacingAndGlyphs">log2- fold change</text>
<text x="214.10" y="941.70" font-size="9.8" text-anchor="middle" fill="#111" stroke="#111" stroke-width="0.22" textLength="46" lengthAdjust="spacingAndGlyphs">expression</text>
<text x="222.90" y="853.60" font-size="9.7" font-style="italic" fill="#222" stroke="#222" stroke-width="0.22" textLength="33.1" lengthAdjust="spacingAndGlyphs">Cdkn1c</text>
<path transform="scale(0.2)" d="M1282 4283z" stroke="#22c5cd" stroke-width="13" stroke-linecap="round" fill="none"/>
<path d="M295.0,906.5V900.5L338.5,902.8L341.5,905.5L344.5,902.8L389.1,900.5V906.5Z" fill="#e9e9e9"/>
<path transform="scale(0.2)" d="M1480 4517zm0 1zm1 1zm1 2zm1 0zm-2 2zm1 1zm3-5zm0-1zm-1 0zm3 0zm3 1zm2 1zm-1-4zm4 0zm2-1zm1-4zm2-3zm-2-3zm-3-2zm-1 0zm-1-6zm-7 7zm0 5zm4-1zm3 2zm10 5zm2-2zm2 2zm1 2zm-2 4zm3 2zm1-1zm2 0zm1 2zm3-1zm1 1zm1-4zm2 1zm1 1zm2 1zm-2-5zm1-3zm1-2zm2-2zm-1-1zm2 2zm2 2zm2 1zm-1 1zm1 1zm3 0zm0-1zm0-1zm4-1zm4 0zm2 2zm-2 3zm2 3zm3 2zm4-1zm-1-3zm-1 0zm1-2zm1 0zm1-1zm2 1zm3 0zm1 2zm0 2zm1 1zm1-2zm2 0zm-6 3zm-1-2zm-4-8zm-1-3zm0-2zm-2 0zm-1 3zm-5-1zm0-3zm1-3zm-2-2zm-1 0zm2-2zm1-2zm0-4zm-2-2zm-7 4zm0 4zm-4 0zm0 2zm-2 3zm3 5zm4-4zm1 0zm-1-2zm12 0zm8 7zm3-3zm2 1zm1 2zm2-5zm0-5zm3-3zm1-2zm-3-4zm-6 3zm-1 2zm13 4zm1-1zm3-1zm1 0zm3-1zm0 6zm0 4zm-1 3zm0 2zm-3 0zm-2 0zm-1 0zm-2 0zm0 3zm1 0zm4 0zm2 1zm0 2zm-3 0zm-2 1zm6 2zm0 1zm2-3zm2-3zm0-1zm1-3zm1-3zm-1-2zm4-2zm1 4zm0 2zm4-2zm4 3zm1 2zm1 0zm-2 2zm1 1zm-2 1zm-1 0zm0-1zm2 2zm4 1zm1 2zm1-4zm0-1zm1-1zm0-2zm1 4zm3 4zm1 0zm2 0zm4-4zm2 0zm1 1zm-1 1zm4 0zm0-1zm1 0zm0 2zm2 1zm2 0zm0-1zm1 0zm1 1zm2-2zm-1-1zm-1 0zm-1-2zm0-1zm-2 3zm-1-6zm-4 2zm-2 0zm-1 0zm-4-2zm0-2zm-2 4zm-1 0zm-4-5zm1-2zm2 0zm-4-4zm-5-1zm-1 5zm-1 0zm4 1zm10-6zm1-2zm-1-2zm3 0zm2 6zm1 4zm2 1zm5-7zm3 3zm1 2zm1 1zm3 0zm2 2zm1 0zm2 0zm-3 2zm-2-1zm-4 0zm6 5zm3 0zm1-1zm3 0zm0 1zm-2 3zm0 2zm2 0zm1-1zm4 1zm2-2zm1 1zm2 0zm1 0zm0-1zm1 2zm1-4zm1 0zm0-1zm0-2zm-1-1zm0-2zm-3 0zm0-2zm0-1zm-3 0zm-5 0zm-2 0zm1-2zm0-1zm1-3zm1 0zm2-1zm-1-2zm-4 1zm0 2zm-2 0zm-1 0zm-2-1zm-1 4zm-3-2zm-1-3zm9-4zm0-1zm1-4zm18 15zm4 5zm0 2zm2 0zm3 2zm0 2zm1 1zm0 1zm1 0zm2 0zm2 2zm4 0zm0-2zm1-1zm2 1zm-1 1zm0 1zm1 0zm1 0zm1-2zm1-1zm1 0zm0 1zm2 0zm0 2zm2-1zm1 1zm1 0zm1-1zm-1-1zm0-1zm2 1zm1 1zm-1 1zm2 0zm1-1zm1 1zm1 0zm1 0zm1 0zm0-1zm-1-1zm0-1zm2-1zm1 0zm1 2zm1 0zm1 0zm1 0zm1 0zm0 1zm1 0zm1-1zm1 0zm-1 2zm2 0zm1 0zm1-1zm1 1zm1 0zm1 0zm0-1zm-1 0zm0-1zm2 0zm3 0zm0-1zm0-2zm1 0zm1 3zm0 1zm0 1zm2 0zm0-2zm-1 0zm2-1zm2 1zm1 1zm-1 1zm-1 0zm0-1zm3-1zm1 0zm1 0zm0 1zm1 0zm1 0zm1 0zm-1-2zm-1-1zm3-1zm3 1zm1 2zm2-2zm2 0zm0-1zm0-2zm1 0zm1-2zm0-2zm-1 0zm4 1zm1-4zm0-4zm-2-2zm3-4zm3 3zm0 9zm2 3zm-1 1zm0 2zm2 1zm-1 2zm0 2zm-2 1zm-1 0zm0-2zm1 0zm-3 2zm-1 0zm-2 0zm0-1zm-1 1zm-2 0zm0-2zm4-2zm2-1zm1-2zm7-2zm0-1zm4 1zm0 2zm0 1zm-1 1zm0 1zm-1 2zm0 2zm-1 0zm-1-2zm6 1zm1 1zm1 0zm2 0zm1 0zm0-1zm-1-1zm2-2zm-2-3zm2-1zm2-2zm0-1zm1 2zm0 2zm4 0zm3-2zm2-2zm2 0zm0-1zm1-1zm2 0zm2 3zm0 2zm-1 2zm0 1zm2 1zm1 0zm0 2zm0 1zm-3-1zm-1-1zm-2-1zm-1-5zm0-1zm-4 5zm-1 3zm-4 1zm-2 1zm-1 0zm-7-6zm-1-2zm1-2zm2-1zm0-1zm-2-1zm3-1zm2-3zm4 5zm6-4zm-1-2zm3 1zm1-3zm5-1zm0-2zm0 5zm3 0zm1 2zm1 7zm2 3zm1 1zm1 0zm0-1zm0-1zm0-1zm1 0zm1 0zm-1-1zm1 4zm0 1zm-1 1zm-1 2zm0 1zm2-1zm2 1zm2-3zm-1-1zm1-2zm2 2zm0 2zm2-1zm2-2zm1-1zm3-1zm2-2zm1 1zm2 4zm-2 2zm-1 1zm-1-1zm-2 0zm6 1zm0 1zm3-2zm2 0zm1-2zm2 1zm0 3zm1 0zm3-2zm-1-1zm-1-3zm-3 0zm-3 0zm-2-6zm-2-2zm-1 0zm0-2zm-3-2zm0-2zm2 0zm3-3zm4-2zm-7-5zm-5 6zm0 2zm-2 2zm1 5zm2 0zm-8-1zm-1 2zm-2-5zm-1 0zm7-7zm-1-7zm2-11zm10-7zm4 4zm-7-22zm14-15zm17 10zm8 31zm-8 18zm-1 1zm-2 1zm4 1zm1 1zm1 4zm-3 3zm3 4zm0 6zm2 3zm-6 0zm0-2zm-2 3zm-2 0zm-4-1zm-1 0zm0 1zm-1-4zm-2 0zm1-2zm2-1zm0-1zm2 2zm0 2zm4-1zm1-2zm-1-2zm-4-3zm-1 1zm0-4zm2-7zm0-5zm-8 17zm1 2zm0 7zm-1 1zm24-11zm1 2zm2 2zm0 1zm3-1zm-1 4zm3 1zm1 0zm0-1zm3 2zm1 1zm0-3zm2 0zm1 3zm2-4zm5 2zm5-2zm4 1zm0 1zm1 2zm2 0zm1 0zm2 0zm-1-5zm1-1zm1-1zm2 1zm1 1zm2-2zm2 0zm2 1zm-1 2zm-1 3zm3 0zm1 0zm0 1zm1-1zm1-1zm1 1zm2 1zm0-3zm-2-2zm0-3zm-3 0zm-1-2zm1-1zm3-2zm0-1zm2 1zm5 1zm3 0zm1 1zm3-2zm2-1zm-1-2zm4 3zm3-1zm1 2zm-1-6zm7-4zm5-3zm-15-3zm-4 1zm0-3zm-3 0zm2-4zm-7 3zm2 8zm4 1zm-2 3zm-1 3zm-10-5zm-1-1zm2-3zm-5 9zm-4 6zm2 1zm-7 0zm-4 0zm0-2zm1-1zm1-2zm0-1zm1-1zm1-3zm-2-2zm-1 1zm-1-3zm-2 2zm-4 0zm0-1zm-1 1zm-1-1zm3 5zm3 1zm1 3zm-2 3zm-1 0zm0 4zm2 0zm9 4zm13-5zm8 3zm1 4zm2 0zm3 0zm-1-3zm2-2zm-1-1zm5 0zm0 1zm4 0zm0 1zm-1 2zm-2 1zm0 1zm4 0zm1 0zm0-1zm-1 0zm2-1zm1-3zm1-2zm-2 0zm5-1zm-1 6zm-47-27zm0-1zm-8 1zm-3-6zm-7 10zm0 8zm3 1zm-1 4zm5-2zm-10-1zm-3 1zm0 2zm0 2zm-1 2zm-2 0zm-1-7zm1-2zm0-7zm-4 0zm-2 1zm-3 7zm1 1zm0 4zm34-34zm20-5zm-107 41zm-24-19zm-9-2zm-33-12zm6-13zm-13 45zm-2 2zm1 8zm4 0zm-15-9zm-3 1zm-3 3zm-3 0zm-3 1zm-4 0zm-1 4zm-1 0zm-1 0zm-1 0zm-3-6zm-1-1zm-2 1zm-3 1zm-4 1zm-2-2zm-2 1zm-1-2zm4-1zm1 1zm-10 2zm-5 0zm-1-3zm2-1zm2-1zm-6 0zm-1 1zm3-6zm-4-1zm0-4zm10-1zm-3-9zm-16 22zm-2 1zm1 1zm-1 1zm3 1zm1-1zm0 3zm-1 0zm-1 0zm-1 1zm3 0zm0 1zm1-1zm5 1zm2 0zm-20-4zm-1 0zm-2 0zm-1-2zm-8 5zm-4 1zm-1 0zm-2 0zm-23-29zm-2 0zm-5 0zm-5-3zm1 8zm-13 4zm-8 5zm-4-4zm-1 0zm5-15zm-2-1zm0-5zm-10-17zm24 0zm20 9zm-6 10zm-13 34zm-1 1zm5 1zm0 2zm-52 0zm0-1zm-3-2zm-4-1zm-1 4zm-12-7zm-2 0zm0-2zm-2 0zm-1 0zm1-4zm-3 0zm-2 0zm0-6zm-3-1zm-2-4zm2-7zm-8-9zm-1 1zm-2-3zm-1-5zm-1 0zm4-4zm7 2zm-3-12zm-7-18zm38-14zm0 59zm-13 19zm0 3zm0 1zm-16 6zm-1 1zm1 4zm-20-25zm189-42zm33 57zm83-64z" stroke="#e9e9e9" stroke-width="10" stroke-linecap="round" fill="none"/>
<line x1="341.50" y1="815.40" x2="341.50" y2="910.20" stroke="#f25555" stroke-width="0.8" stroke-dasharray="1 0.8"/>
<rect x="294.50" y="815.40" width="95.10" height="94.80" fill="none" stroke="#111" stroke-width="1.0"/>
<text x="342.20" y="807.70" font-size="12.1" text-anchor="middle" fill="#111" stroke="#111" stroke-width="0.22">Erythroid cells</text>
<text x="292.50" y="820.20" font-size="10.0" text-anchor="end" fill="#111" stroke="#111" stroke-width="0.22">35</text>
<text x="292.50" y="832.40" font-size="10.0" text-anchor="end" fill="#111" stroke="#111" stroke-width="0.22">30</text>
<text x="292.50" y="844.70" font-size="10.0" text-anchor="end" fill="#111" stroke="#111" stroke-width="0.22">25</text>
<text x="292.50" y="859.00" font-size="10.0" text-anchor="end" fill="#111" stroke="#111" stroke-width="0.22">20</text>
<text x="292.50" y="871.30" font-size="10.0" text-anchor="end" fill="#111" stroke="#111" stroke-width="0.22">15</text>
<text x="292.50" y="882.90" font-size="10.0" text-anchor="end" fill="#111" stroke="#111" stroke-width="0.22">10</text>
<text x="292.50" y="894.80" font-size="10.0" text-anchor="end" fill="#111" stroke="#111" stroke-width="0.22">5</text>
<text x="292.50" y="906.60" font-size="10.0" text-anchor="end" fill="#111" stroke="#111" stroke-width="0.22">0</text>
<text x="302.10" y="920.10" font-size="9.3" text-anchor="middle" fill="#111" stroke="#111" stroke-width="0.22">-1.0</text>
<text x="323.00" y="920.10" font-size="9.3" text-anchor="middle" fill="#111" stroke="#111" stroke-width="0.22">-0.5</text>
<text x="341.50" y="920.10" font-size="9.3" text-anchor="middle" fill="#111" stroke="#111" stroke-width="0.22">0</text>
<text x="359.90" y="920.10" font-size="9.3" text-anchor="middle" fill="#111" stroke="#111" stroke-width="0.22">0.5</text>
<text x="378.70" y="920.10" font-size="9.3" text-anchor="middle" fill="#111" stroke="#111" stroke-width="0.22">1.0</text>
<text x="278.70" y="856.60" font-size="9.7" text-anchor="middle" fill="#111" stroke="#111" stroke-width="0.22" transform="rotate(-90 278.70 856.60)" textLength="69.5" lengthAdjust="spacingAndGlyphs">-log10 (p-value)</text>
<text x="341.50" y="933.80" font-size="9.8" text-anchor="middle" fill="#111" stroke="#111" stroke-width="0.22" textLength="75" lengthAdjust="spacingAndGlyphs">log2- fold change</text>
<text x="342.30" y="941.70" font-size="9.8" text-anchor="middle" fill="#111" stroke="#111" stroke-width="0.22" textLength="46" lengthAdjust="spacingAndGlyphs">expression</text>
<text x="343.20" y="827.40" font-size="9.7" font-style="italic" fill="#222" stroke="#222" stroke-width="0.22" textLength="31.0" lengthAdjust="spacingAndGlyphs">Hbb-bs</text>
<text x="356.90" y="864.20" font-size="9.7" font-style="italic" fill="#222" stroke="#222" stroke-width="0.22" textLength="28.0" lengthAdjust="spacingAndGlyphs">Cd24a</text>
<text x="352.80" y="873.60" font-size="9.7" font-style="italic" fill="#222" stroke="#222" stroke-width="0.22" textLength="21.8" lengthAdjust="spacingAndGlyphs">Cpox</text>
<path transform="scale(0.2)" d="M1864 4102z" stroke="#22c5cd" stroke-width="13" stroke-linecap="round" fill="none"/>
<path transform="scale(0.2)" d="M1892 4354zm34-16z" stroke="#22c5cd" stroke-width="13" stroke-linecap="round" fill="none"/>
<path d="M423.9,906.5V900.5L467.8,902.8L470.8,905.5L473.8,902.8L517.9,900.5V906.5Z" fill="#e9e9e9"/>
<path transform="scale(0.2)" d="M2125 4516zm0 1zm2 0zm2 2zm2 0zm2 3zm3 0zm1 0zm4-3zm2 3zm2 0zm0-2zm1-2zm2 2zm3 1zm0 1zm1 1zm1-1zm0-2zm-1 0zm-1-2zm1-1zm1 0zm2 0zm-2-2zm-1-2zm2-2zm-1-1zm2-2zm-1-3zm4-1zm0 6zm-1 1zm4 3zm1-3zm1 6zm1 2zm-4 0zm-1-2zm-2 5zm0 2zm1 0zm-3 0zm-4 0zm-9 0zm-4-10zm1-1zm3-1zm1 0zm0 1zm2-2zm-2-3zm1-2zm1-2zm-2-1zm2-3zm2 0zm-2-2zm3-2zm3 4zm-1 9zm0 1zm-2-1zm-7-2zm-7-1zm-3 0zm0 4zm4 1zm-5 4zm-4-1zm0-3zm0-1zm1-1zm0-1zm3-7zm4-1zm-2-8zm3-1zm-1-4zm4 0zm1-3zm4 5zm6-4zm-4-4zm-3-11zm-12 14zm34 14zm6-2zm1 3zm-1 1zm5 4zm5 2zm1 2zm3 2zm2-2zm3 4zm2 4zm0 2zm-3 0zm-1 2zm0 1zm2 3zm1 0zm1 0zm1 0zm0-2zm2 0zm2 1zm0-2zm0-2zm1-2zm3 0zm1 1zm-1 4zm2 0zm0 1zm0 1zm7-1zm3-1zm1 2zm4-1zm4 0zm0-4zm0-3zm1 0zm4-1zm2 1zm3 2zm0-4zm1-1zm3 0zm2 0zm0-1zm1 2zm1 2zm0 3zm-2 1zm5 0zm2 2zm-1 2zm6-4zm2 3zm3-1zm0 2zm2 0zm1 0zm3 0zm0-1zm0-2zm-2-1zm-2-1zm-2-1zm1-2zm0-1zm4 0zm2 2zm3 2zm2 3zm2-1zm0-3zm1-2zm-1-2zm-1-1zm-2 1zm-3-1zm-2-6zm2-5zm-3-2zm-5 1zm-4-1zm1-3zm-3 0zm-1-6zm-5 1zm-5 8zm-1 0zm0 3zm4 0zm-1 4zm0 1zm1 0zm-1 2zm2 3zm3 2zm1 1zm6 0zm-4-7zm1-1zm1-2zm1 0zm3 0zm-8 2zm-10 7zm-3-6zm0-2zm0-7zm-13 1zm0 7zm0 1zm1 0zm-2 1zm-2 1zm4 1zm2-2zm-6 6zm-1-1zm0 2zm0 1zm2 1zm-4-5zm-2 0zm-2-1zm-1 2zm1 1zm-1 2zm0-7zm-2-7zm2-2zm1 0zm2-4zm1-2zm3-2zm-11-3zm2-4zm-4 9zm1 3zm-1 1zm1 1zm-1 3zm-3 4zm-3-2zm-4 0zm4 7zm1 0zm-1 1zm-3 0zm-7 2zm-1-2zm-3 1zm-2 2zm3 2zm1 0zm0 5zm1 0zm-4 0zm-7-2zm-1 2zm-2-3zm-1-3zm1-3zm0-1zm-1 0zm3 0zm1 4zm6-6zm-7-3zm-5 0zm-2-3zm9-10zm-3-3zm-1-1zm-1-2zm7-2zm-4-5zm7-1zm10 16zm7 0zm-14 6zm-17 20zm-4 0zm-35 0zm-1-1zm0-2zm88-42zm25 0zm7-11zm26 26zm3 2zm2 6zm1 1zm1 1zm-4 0zm2 5zm-4 1zm0 1zm-2 0zm-4-3zm1-1zm8 9zm2-2zm4 0zm2 5zm-1 3zm2 1zm1 1zm0-2zm1 0zm2 1zm1 1zm1 0zm3 0zm1-1zm1 0zm0 1zm2 0zm2 0zm1 0zm1 0zm0-1zm3 1zm2-2zm2 2zm2 0zm0-1zm0-1zm2 0zm1 0zm2 2zm1 0zm1 0zm1 0zm-1-2zm2 0zm-1-5zm1-2zm2 2zm2 0zm0 1zm1-1zm1 2zm1 1zm1 0zm1 0zm1 0zm0 1zm1 0zm2-1zm2 2zm1-1zm1 1zm-1 1zm-3 0zm0 1zm-2 0zm-1 0zm-2-1zm-1 1zm-1 0zm-1 0zm-2-11zm2-1zm2-2zm-7-3zm-1 0zm-2 1zm2 2zm-5 0zm0 3zm-3 0zm-3-1zm0 2zm-1 3zm-2 1zm0 1zm0 1zm5-2zm-6-8zm2-2zm3 0zm0-2zm2-2zm-5 0zm-1 1zm-9 3zm-2-2zm-2 4zm-1 2zm1 3zm-3 2zm-1-1zm0 3zm3 2zm1 0zm1-2zm4-3zm1 4zm0 1zm-2-10zm-9-2zm0-5zm-1 0zm3 0zm1 0zm-5-5zm-9 20zm1 2zm0 2zm4 1zm1 0zm-8-4zm-1 1zm-1 0zm-2 3zm-3 0zm-3 0zm0-1zm-2-1zm-30 1zm0 1zm-4-3zm-1 2zm-1 0zm-1-1zm0-2zm-25-66zm87-4zm-2-15zm32 55zm23 27zm2-1zm2 1zm-2 2zm3 2zm-1 1zm2 0zm2 0zm-1 2zm2 0zm1 0zm1 0zm0-1zm0-1zm1 0zm0-1zm0 2zm0 1zm1 0zm1 0zm0-1zm0-1zm1 2zm1 0zm1 0zm0-1zm1-1zm-1-1zm-1-1zm0-2zm4-1zm4 0zm-1 3zm-1 1zm-1 0zm-1 1zm0 1zm0 1zm-1 0zm3-2zm1 1zm2 0zm1-1zm-1-1zm1 3zm1 0zm2 0zm1 0zm-1-1zm3 1zm1 0zm-2-5zm-1 0zm-2-4zm-1-2zm7 3zm3-2zm0-1zm1-4zm3 0zm1-4zm1-1zm3 1zm1 5zm4 0zm2 0zm1 2zm-2 2zm1 1zm0 2zm-4-3zm-1 0zm-4 0zm0-1zm-2 2zm-1 1zm-2 1zm-1 1zm1 4zm0 2zm1 0zm3 0zm0-1zm3-2zm1-1zm2 1zm1 2zm-1 1zm-2-1zm7 1zm1-2zm1 1zm1-1zm3 0zm4 1zm3 0zm1 1zm2-1zm2-3zm1 0zm0-1zm0-1zm3-2zm1 0zm0-1zm-1-1zm-1 0zm-1-1zm0-2zm2 0zm2 1zm0-3zm3-3zm-3-4zm2-2zm1 0zm-1-3zm-3 2zm-3 3zm0 2zm-1 4zm-3 1zm0 3zm-2 1zm-2 0zm2 3zm-2 1zm-1 0zm-7 1zm5-8zm-6-6zm-3-2zm-4-1zm-1-1zm-5-2zm26 1zm5-8zm7 2zm-1-7zm7 19zm3 3zm-2 4zm-1 1zm3 0zm0 2zm1 1zm-2 1zm1 2zm-1 3zm3 2zm2-3zm2-1zm0-2zm-1-3zm-1 0zm3-1zm3 0zm0-3zm-3-1zm-3 1zm1-5zm7-1zm3 7zm1 2zm0 2zm-1 0zm0 1zm-1 3zm-2 0zm-2 0zm2 2zm1 0zm1 1zm0 1zm1 0zm4-1zm2-1zm2 2zm1-1zm4 1zm2-3zm1-3zm-2 0zm0-1zm2-2zm2 0zm3-1zm0-1zm2 3zm1 0zm0 3zm1 2zm-1 1zm0 2zm3-2zm1 1zm1 1zm1 0zm0-2zm3-1zm1-4zm1 0zm4-1zm2 1zm3 3zm-3 4zm-5 0zm-6-7zm-2 0zm0-1zm-1 1zm3-2zm3-2zm-2-4zm-3-3zm-1-1zm-5 2zm-1 0zm-1 0zm6 6zm-4 7zm-8-7zm-2 0zm-3-2zm-2-2zm-4 1zm4-6zm3-5zm1 0zm-3-1zm-6-3zm1-10zm5-1zm7 15zm-7 18zm-15 5zm-1 1zm-1 0zm-12 0zm-1-1zm1-2zm-4 3zm0 1zm-3-2zm-2 2zm-2-2zm5-4zm1 1zm-20-54zm-53 49zm3 4zm0 2zm-6 4zm-1 0zm-3 0zm-1-1zm141-20zm1-1zm4-3zm2-3zm-6 0zm13-6zm3 3zm0 6zm3 2zm2 5zm-1 4zm0 2zm-4 1zm-2 0zm-2 1zm3-4zm0-5zm-10 7zm9 11zm4-1zm2 0zm1-1zm2-1zm1 0zm1 2zm-1 1zm1 1zm1 0zm3 0zm-1-4zm2 0zm0-1zm-1-2zm-3 1zm0 1zm-1-2zm0-2zm0-1zm-1 0zm-1 1zm-1 2zm-3 2zm1 5zm1 0zm12-4zm2 1zm-2-4zm3-4zm-2-2zm3-2zm3-3zm5 1zm1 2zm0 3zm-1 2zm-1 2zm-2-3zm-2 4zm1 3zm-1 1zm0 2zm4-1zm0-1zm4-3zm2 0zm0 1zm1 1zm0 1zm0 1zm4 0zm1 1zm1-2zm3 3zm3 0zm1-2zm-2-2zm-3-3zm0-2zm1 0zm-1-1zm-1 0zm2-1zm2 1zm3-2zm-1-2zm0-4zm-2-2zm5 2zm3 2zm0 1zm1-2zm5 1zm1 3zm3 0zm1 0zm2-1zm2 0zm2 0zm3 5zm0 1zm2 0zm2 3zm2 1zm-2 2zm-1 1zm0 1zm-1 0zm-2-2zm-1 0zm1-1zm-3-4zm-2-1zm-3 1zm-3 1zm-3 3zm1 1zm3 2zm5 0zm-12-4zm-3 1zm-1 3zm-2-6zm3-3zm-1-3zm4 1zm1 2zm0 1zm8-15zm0-1zm1-1zm11 4zm3 4zm2 3zm3 1zm1 0zm-4 5zm1 3zm-1 2zm1 1zm-1 2zm-1 0zm-2-10zm-39-2zm-1 0zm-2-3zm-2-1zm-2 1zm0 2zm1 2zm1 1zm3 2zm-5-14zm0-4zm2 0zm1 1zm-1-3zm-7 0zm0-3zm-5 4zm-5 2zm-2 3zm1 3zm-3 1zm-1 0zm0 1zm0 3zm6-22zm2-1zm10-3zm14-2zm12-6zm1-11zm-19-3zm-12-23z" stroke="#e9e9e9" stroke-width="10" stroke-linecap="round" fill="none"/>
<line x1="470.80" y1="815.40" x2="470.80" y2="910.20" stroke="#f25555" stroke-width="0.8" stroke-dasharray="1 0.8"/>
<rect x="423.40" y="815.40" width="95.00" height="94.80" fill="none" stroke="#111" stroke-width="1.0"/>
<text x="471.40" y="807.70" font-size="12.1" text-anchor="middle" fill="#111" stroke="#111" stroke-width="0.22">Neurons</text>
<text x="420.90" y="818.10" font-size="10.1" text-anchor="end" fill="#111" stroke="#111" stroke-width="0.22">16</text>
<text x="420.90" y="828.80" font-size="10.1" text-anchor="end" fill="#111" stroke="#111" stroke-width="0.22">14</text>
<text x="420.90" y="839.60" font-size="10.1" text-anchor="end" fill="#111" stroke="#111" stroke-width="0.22">12</text>
<text x="420.90" y="850.00" font-size="10.1" text-anchor="end" fill="#111" stroke="#111" stroke-width="0.22">10</text>
<text x="420.90" y="861.10" font-size="10.1" text-anchor="end" fill="#111" stroke="#111" stroke-width="0.22">8</text>
<text x="420.90" y="872.30" font-size="10.1" text-anchor="end" fill="#111" stroke="#111" stroke-width="0.22">6</text>
<text x="420.90" y="883.10" font-size="10.1" text-anchor="end" fill="#111" stroke="#111" stroke-width="0.22">4</text>
<text x="420.90" y="894.40" font-size="10.1" text-anchor="end" fill="#111" stroke="#111" stroke-width="0.22">2</text>
<text x="420.90" y="905.60" font-size="10.1" text-anchor="end" fill="#111" stroke="#111" stroke-width="0.22">0</text>
<text x="428.80" y="920.10" font-size="9.3" text-anchor="middle" fill="#111" stroke="#111" stroke-width="0.22">-.6</text>
<text x="444.20" y="920.10" font-size="9.3" text-anchor="middle" fill="#111" stroke="#111" stroke-width="0.22">-.4</text>
<text x="458.50" y="920.10" font-size="9.3" text-anchor="middle" fill="#111" stroke="#111" stroke-width="0.22">-.2</text>
<text x="470.80" y="920.10" font-size="9.3" text-anchor="middle" fill="#111" stroke="#111" stroke-width="0.22">0</text>
<text x="483.70" y="920.10" font-size="9.3" text-anchor="middle" fill="#111" stroke="#111" stroke-width="0.22">.2</text>
<text x="495.90" y="920.10" font-size="9.3" text-anchor="middle" fill="#111" stroke="#111" stroke-width="0.22">.4</text>
<text x="508.20" y="920.10" font-size="9.3" text-anchor="middle" fill="#111" stroke="#111" stroke-width="0.22">.6</text>
<text x="406.60" y="856.60" font-size="9.7" text-anchor="middle" fill="#111" stroke="#111" stroke-width="0.22" transform="rotate(-90 406.60 856.60)" textLength="69.5" lengthAdjust="spacingAndGlyphs">-log10 (p-value)</text>
<text x="474.00" y="933.80" font-size="9.8" text-anchor="middle" fill="#111" stroke="#111" stroke-width="0.22" textLength="75" lengthAdjust="spacingAndGlyphs">log2- fold change</text>
<text x="474.80" y="941.70" font-size="9.8" text-anchor="middle" fill="#111" stroke="#111" stroke-width="0.22" textLength="46" lengthAdjust="spacingAndGlyphs">expression</text>
<text x="429.50" y="825.40" font-size="9.7" font-style="italic" fill="#222" stroke="#222" stroke-width="0.22" textLength="25.6" lengthAdjust="spacingAndGlyphs">Ednrb</text>
<path transform="scale(0.2)" d="M2138 4102z" stroke="#22c5cd" stroke-width="13" stroke-linecap="round" fill="none"/>
<path d="M582,906C582,893 590,887.5 600,887.5C610,887.5 618,893 618,906Z" fill="#e2e2e2" opacity="0.75"/>
<path transform="scale(0.2)" d="M2767 4404zm1 3zm86 23zm10-2zm8-3zm4 14zm3 7zm3 5zm4 5zm3 5zm3 4zm3-2zm1-3zm2-4zm-2 13zm4 3zm-1 1zm3 3zm4 3zm3 4zm3 3zm2-3zm5 0zm1-3zm-1-3zm-3-3zm3-2zm-2-2zm7 1zm2 2zm2 2zm0 5zm4 4zm-2 5zm1 3zm6 3zm4 1zm4 1zm2-1zm4 3zm3-2zm1 1zm0 1zm-1 3zm-2 1zm-1 1zm-2 2zm-1 3zm-2 4zm0 3zm1 0zm0 3zm4-1zm-1 4zm3 0zm2-1zm2 1zm-1 1zm0 1zm3-6zm1 0zm-1-2zm3 4zm1 0zm1-1zm3-2zm1 2zm1 1zm2 1zm-3 2zm0 2zm3 0zm5-1zm2 1zm3-2zm0-1zm1 2zm2-1zm1-1zm1 1zm-1 1zm3 0zm-1-3zm-1-1zm-1 0zm6 1zm2-1zm1 1zm2 2zm2-2zm0-3zm-2-1zm1-1zm2-1zm0-1zm2-2zm-1-2zm0-1zm-1-1zm0-2zm-1 0zm-1 0zm0-1zm1-2zm1 0zm-3-1zm-2-1zm1-2zm3 0zm-1-3zm-2-2zm-1 0zm-2 1zm0 1zm-1 0zm-2-1zm1-2zm0-1zm1-1zm1-1zm-2 0zm-2 0zm-1 0zm-3 0zm-1-3zm-2-2zm-1 0zm-1 0zm-1 3zm-2-1zm-2 1zm-2 2zm0 2zm0 1zm-2 0zm-1-1zm0 3zm-1 1zm-1 0zm2 3zm-1 2zm-2 1zm-2 0zm-1 1zm-1 2zm-2 1zm-1-2zm-1-1zm3-4zm4 1zm2 4zm-1 1zm1 1zm-2 0zm-4 4zm-7 0zm-1 2zm-10-4zm-1 2zm0 1zm-1 0zm-2 2zm0 2zm-1 2zm-1 1zm0 6zm7-2zm1 1zm-14-4zm-1-1zm-1 0zm-1-2zm-4-1zm-3-2zm-3-3zm-4-3zm-1 1zm-2-3zm-3-3zm1-3zm-5 0zm-3-2zm-3-3zm-2 1zm-2-4zm-3-3zm-3-4zm-4-3zm-3-3zm-3-4zm-4-4zm-3-4zm-3-5zm-4-5zm-3-5zm6-4zm3 1zm4 6zm3 5zm3 4zm4 5zm3 3zm2-2zm-2 5zm3 1zm4 4zm3 3zm3 3zm1-1zm3 4zm2 2zm1 1zm3 3zm4 3zm2-2zm1 3zm0 2zm3 1zm0 1zm1 0zm3 3zm2-3zm3 1zm0-3zm3 2zm1-2zm3 5zm-3 1zm2 2zm4 0zm2-2zm6-3zm5-11zm2 0zm5 1zm3-5zm-1-4zm-1 0zm-1-2zm0-2zm-4-1zm1 4zm0 3zm1 0zm-5 1zm-3 2zm-2 0zm-4-5zm-1-2zm0-7zm3-1zm7 0zm5-2zm0-2zm2 0zm-4-1zm1-2zm-1-4zm0-2zm-2 0zm-4 0zm3-4zm5 5zm4 1zm6-1zm1-1zm2 1zm0-3zm-4-3zm-2 1zm4 8zm-1 2zm2 1zm1 6zm1 1zm-1 2zm-1 2zm-4 0zm-2-1zm0-4zm0 9zm5 2zm2 1zm5-2zm2-5zm0-1zm1-1zm0 2zm-3-1zm-1-2zm4-5zm2 0zm-2-2zm3-1zm1 0zm6 1zm0 3zm-1 2zm2 0zm0 2zm2-3zm2 3zm2 3zm3-1zm3-1zm2-1zm-1-2zm-1-2zm-4 0zm0-2zm2-5zm1 0zm1 0zm1 1zm0 1zm2 2zm1-2zm2 0zm1 0zm-1-1zm3 0zm0 3zm-2 0zm-2 2zm2 3zm0 1zm-1 3zm-2 0zm-2 1zm-1 0zm0 2zm-1 1zm1 2zm1 0zm0 2zm0 1zm-1 0zm-1 0zm0 3zm-4-1zm-2-2zm-2 1zm1 1zm1 3zm3-6zm-1-2zm-8-1zm-5-9zm5-10zm5-4zm3 2zm4 1zm1 0zm-2-4zm4-3zm4 0zm2 0zm-2 2zm1 2zm6-2zm0-2zm2-2zm1-5zm4 0zm-5-4zm-5-4zm-4 1zm-4 1zm2 3zm4 4zm1 1zm1 2zm6 8zm2 6zm0 6zm1 4zm3 2zm1 0zm2 0zm0-2zm0-2zm-1-1zm-1-2zm1-1zm0-3zm4 0zm2-1zm3-2zm1 1zm0 3zm2 0zm3 0zm0-1zm1-4zm-1-1zm5 0zm5 1zm0 1zm2-2zm1 1zm2 2zm-1 4zm-6 2zm-3-2zm-6 2zm-1 5zm-1 3zm1 3zm-2 2zm-1 2zm-1 0zm1 3zm1 2zm2-2zm1 0zm0 1zm2 0zm3-2zm-1-1zm6 4zm0 4zm0 1zm1 2zm-1 2zm0 1zm0 1zm1 0zm2 3zm0 1zm-4-1zm0 2zm-2 1zm-2-1zm-1-1zm1-1zm2-2zm-6 2zm-4-2zm-3 3zm-2 2zm-3 0zm-2 2zm0 2zm2 1zm1-1zm2-1zm2 2zm-1 2zm2 0zm1 3zm1 0zm2-2zm0-1zm-1-1zm4 1zm1 2zm1 0zm2 2zm1-1zm1 3zm-5-1zm-3 0zm0-1zm-1 1zm-5 0zm0 1zm-2 0zm-1-2zm-2 1zm0 1zm2 2zm1 1zm-6-6zm-2 0zm-2-2zm-3-1zm-1 1zm-1-1zm0 2zm-2-1zm-3 1zm-2-1zm-1 0zm0-1zm2-1zm-1-3zm0-1zm0-2zm-2 1zm-4 2zm0 3zm0 1zm2 1zm0 3zm1 3zm2-1zm1-1zm3-1zm2 2zm-2 2zm1 1zm-3 0zm-2-1zm-7 0zm-1-5zm-7-1zm-3-1zm2-3zm1-1zm-1-1zm0-1zm1-2zm1 0zm1-1zm0-1zm-1 0zm-1-1zm3 3zm-1 4zm-1 1zm-6-2zm-2-1zm2-2zm-1-2zm0-2zm0-2zm1 0zm-4-1zm-1-3zm-1-1zm-1 3zm-3 1zm1 3zm-3 0zm-3 1zm-2-2zm3-4zm-1-2zm0-1zm2 0zm3 1zm0-3zm8 3zm4 1zm1 0zm9-4zm3 0zm0-2zm3-4zm0-1zm1-2zm-1-1zm1 5zm4 1zm1 2zm0-5zm3 0zm2-4zm5-2zm0-2zm2 5zm3 3zm1 1zm1 1zm0 1zm2-1zm0-1zm-1-2zm1-5zm0-2zm1 0zm1-1zm-4-5zm-2-12zm3-4zm-1-2zm6 0zm4-1zm0-2zm2-3zm1 5zm5-6zm3 3zm3 4zm9 1zm7 4zm4 1zm7 6zm1 3zm-1 7zm-5-1zm-2-2zm-7 6zm-4-2zm-1 2zm0 1zm-3-1zm-2 1zm-1-3zm4 0zm0-3zm2-1zm3-4zm-14 7zm-1 0zm-3 0zm4 8zm3-1zm1 1zm1 0zm-1 4zm0 3zm4 3zm2-3zm1-1zm1 0zm-1-3zm3 0zm6 2zm1-2zm6 3zm-1 4zm4 0zm3 1zm-1 4zm-3-1zm-4 2zm-5-4zm-3-1zm-4 3zm-1-2zm2 4zm1 1zm0 4zm3-1zm-2 5zm1 4zm1 0zm0 3zm4 1zm0-3zm4 1zm3-2zm3-6zm0-1zm0-3zm-10 5zm-12 2zm-2-1zm-1-1zm1-1zm0-2zm0-3zm1 0zm-2-1zm-3 9zm0 2zm1 1zm1-1zm-4 2zm-3 0zm-3-1zm-2-1zm2-2zm-4 0zm-2 0zm-2-2zm-2 0zm-8-5zm0-3zm3-2zm3 0zm2-3zm2 0zm1 1zm1 2zm1 0zm-1 1zm-1 0zm-5-5zm-3-1zm-2 0zm-1 2zm-1-1zm-2-1zm-1 0zm0-1zm-2 1zm-2 0zm-1-1zm1-2zm-1-1zm2 0zm4-1zm-8 5zm0 4zm0 1zm0 2zm2-1zm1 2zm-1 1zm-1 0zm0 1zm2 1zm1 1zm1 1zm1 0zm2 0zm0-2zm-1 0zm1-1zm-1-2zm-1 0zm0 1zm-1-4zm-7-1zm-1 0zm-1 1zm-1-1zm-1 3zm0 2zm2 0zm1 3zm1 1zm1 3zm4 1zm1-1zm-1-2zm-8 0zm1 5zm-5-9zm0-1zm0-2zm1 0zm0-1zm0-1zm-2-1zm-3 2zm-2 0zm-1-3zm5 5zm-4 3zm13-5zm6 21zm1 0zm-2 1zm-1 0zm-1 2zm-35-14zm-5-3zm-2 2zm-1 1zm0 1zm1 0zm-2-2zm-1 1zm0 1zm-1 3zm0 1zm1 2zm2-1zm1 0zm1 1zm-1 1zm-2 1zm2-5zm-8 0zm-35-3zm-3-2zm-1 0zm-1 1zm-1-2zm-1-1zm2-1zm-3-10zm-4-3zm-3-2zm-3-3zm-19-2zm-12 2zm2 14zm19 4zm5 5zm-6 5zm10 3zm-2 4zm9 1zm2-3zm25-41zm-3-16zm-7 1zm0 2zm-3 0zm-5-5zm2-2zm0-6zm-10 1zm6 10zm16-15zm7-6zm8 3zm2-11zm6-13zm1-2zm3 0zm2-9zm-17-5zm-13 3zm-16 13zm-4-6zm22 19zm29 7zm4-1zm-4 10zm2 8zm-1 4zm7-4zm4-4zm3 0zm0-4zm1 0zm-1-1zm-2-3zm3-3zm0-2zm3-3zm2-1zm0 3zm1-6zm-2 0zm-8-4zm11-12zm9 5zm-2 5zm4 4zm6 3zm3-2zm-3-5zm2-2zm3-7zm6 6zm2-3zm3 11zm-4 1zm-1 6zm9 7zm6-6zm1-2zm-5-4zm0-5zm7 2zm-3-11zm4-15zm7-2zm0 37zm17 1zm6-5zm12 19zm3 2zm6-8zm6 5zm7 16zm-4 7zm-2 0zm-10 0zm-6 0zm1 5zm-2 4zm-2 2zm-3-7zm-1-1zm2-1zm14 13zm3 4zm4-5zm6-5zm3-3zm1 5zm12-8zm-20 21zm3 6zm-2 2zm-6-3zm-7 5zm-3 6zm-6 3zm-16-1zm-3 2zm-1-4zm-7 4zm-10-29zm-12-35zm-12-5zm-9 18zm-2 1zm1 2zm2 0zm-13-67zm6-26zm103 35zm41 21zm-239 7zm-46-6zm-9 3z" stroke="#dedede" stroke-width="5.5" stroke-linecap="round" fill="none"/>
<line x1="598.70" y1="815.40" x2="598.70" y2="910.20" stroke="#f25555" stroke-width="0.8" stroke-dasharray="1 0.8"/>
<rect x="551.20" y="815.40" width="95.30" height="94.80" fill="none" stroke="#111" stroke-width="1.0"/>
<text x="599.80" y="807.70" font-size="12.1" text-anchor="middle" fill="#111" stroke="#111" stroke-width="0.22">Epithelial cells</text>
<text x="549.20" y="822.40" font-size="10.7" text-anchor="end" fill="#111" stroke="#111" stroke-width="0.22">6</text>
<text x="549.20" y="836.40" font-size="10.7" text-anchor="end" fill="#111" stroke="#111" stroke-width="0.22">5</text>
<text x="549.20" y="850.40" font-size="10.7" text-anchor="end" fill="#111" stroke="#111" stroke-width="0.22">4</text>
<text x="549.20" y="864.80" font-size="10.7" text-anchor="end" fill="#111" stroke="#111" stroke-width="0.22">3</text>
<text x="549.20" y="878.50" font-size="10.7" text-anchor="end" fill="#111" stroke="#111" stroke-width="0.22">2</text>
<text x="549.20" y="892.90" font-size="10.7" text-anchor="end" fill="#111" stroke="#111" stroke-width="0.22">1</text>
<text x="549.20" y="907.10" font-size="10.7" text-anchor="end" fill="#111" stroke="#111" stroke-width="0.22">0</text>
<text x="557.40" y="920.50" font-size="10.2" text-anchor="middle" fill="#111" stroke="#111" stroke-width="0.22">-6</text>
<text x="570.50" y="920.50" font-size="10.2" text-anchor="middle" fill="#111" stroke="#111" stroke-width="0.22">-4</text>
<text x="583.40" y="920.50" font-size="10.2" text-anchor="middle" fill="#111" stroke="#111" stroke-width="0.22">-2</text>
<text x="598.60" y="920.50" font-size="10.2" text-anchor="middle" fill="#111" stroke="#111" stroke-width="0.22">0</text>
<text x="612.40" y="920.50" font-size="10.2" text-anchor="middle" fill="#111" stroke="#111" stroke-width="0.22">2</text>
<text x="624.70" y="920.50" font-size="10.2" text-anchor="middle" fill="#111" stroke="#111" stroke-width="0.22">4</text>
<text x="636.30" y="920.50" font-size="10.2" text-anchor="middle" fill="#111" stroke="#111" stroke-width="0.22">6</text>
<text x="535.50" y="856.60" font-size="9.7" text-anchor="middle" fill="#111" stroke="#111" stroke-width="0.22" transform="rotate(-90 535.50 856.60)" textLength="69.5" lengthAdjust="spacingAndGlyphs">-log10 (p-value)</text>
<text x="598.70" y="933.80" font-size="9.8" text-anchor="middle" fill="#111" stroke="#111" stroke-width="0.22" textLength="75" lengthAdjust="spacingAndGlyphs">log2- fold change</text>
<text x="599.50" y="941.70" font-size="9.8" text-anchor="middle" fill="#111" stroke="#111" stroke-width="0.22" textLength="46" lengthAdjust="spacingAndGlyphs">expression</text>
</g>
</svg>
</body></html>
